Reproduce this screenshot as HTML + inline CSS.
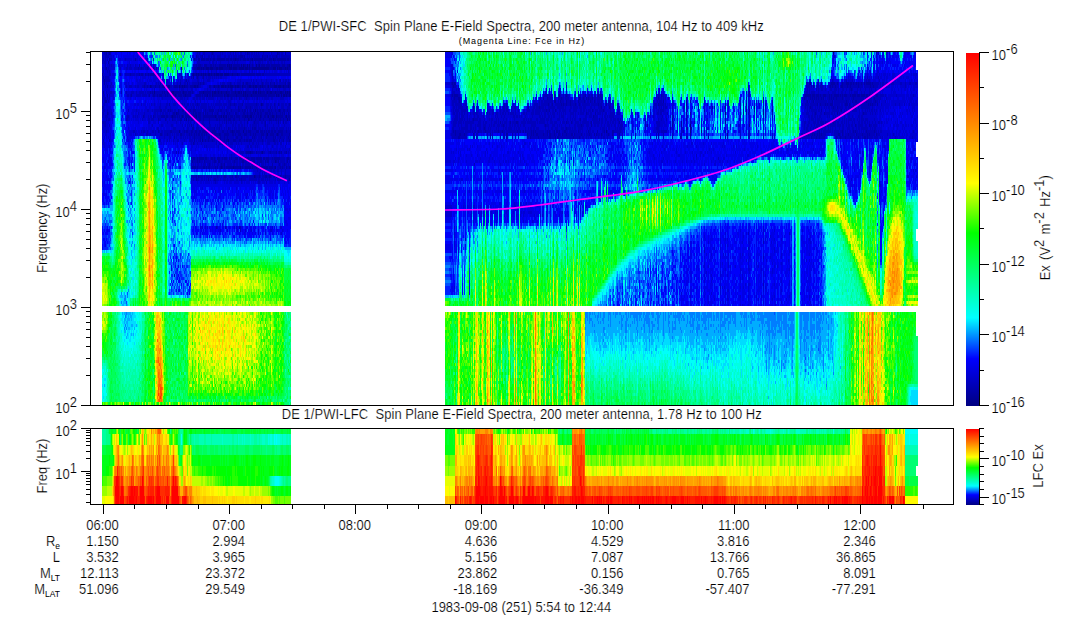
<!DOCTYPE html>
<html><head><meta charset="utf-8"><title>DE 1/PWI Spectra</title>
<style>html,body{margin:0;padding:0;background:#fff}svg{display:block}</style>
</head><body>
<svg width="1083" height="620" viewBox="0 0 1083 620">
<defs>
<linearGradient id="cb" x1="0" y1="0" x2="0" y2="1">
<stop offset="0" stop-color="#ff0000"/>
<stop offset="0.185" stop-color="#ff8000"/>
<stop offset="0.369" stop-color="#ffff00"/>
<stop offset="0.51" stop-color="#00ff00"/>
<stop offset="0.75" stop-color="#00ffff"/>
<stop offset="0.866" stop-color="#0000ff"/>
<stop offset="1" stop-color="#000080"/>
</linearGradient>
</defs>
<rect width="1083" height="620" fill="#fff"/>
<g fill="none" shape-rendering="crispEdges"><path stroke="#000080" stroke-width="1" d="M690.5 124v3m35-15v3m29-9v3"/><path stroke="#000094" stroke-width="1" d="M150.5 85v3m4 3v3m14-9v3m1-3v3m3 3v6m0 18v3m1-27v3m2 0v3m1 15v3m3-30v3m0 42v3m3-48v3m0 27v3m1-27v3m1-9v3m1 6v3m1 21v3m7-48v3m1 9v3m1-3v3m1-15v3m0 39v3m1-51v3m0 15v3m1-21v3m0 3v3m1-9v3m2-3v3m0 3v3m1 63v3m1-75v3m0 3v3m0 15v3m2-21v3m1-9v3m1-3v3m0 24v3m1-30v3m0 3v3m1-3v3m1-9v3m1-3v3m0 3v3m1-9v3m0 21v6m2-24v3m0 9v3m0 3v3m1-3v3m0 21v3m1-51v3m0 3v3m1-9v3m0 3v3m1-3v3m0 9v3m0 3v3m1-27v3m0 63v3m1-69v3m0 3v3m1-9v3m0 3v3m0 9v3m0 3v3m0 21v3m0 48v3m1-102v3m0 3v3m0 9v3m1-3v3m0 27v3m1-45v3m0 18v3m1-24v3m0 9v3m1-15v3m0 15v3m0 21v3m1-54v3m0 6v3m0 18v3m1-24v3m0 9v3m0 6v3m0 42v3m1-78v6m1-3v3m0 15v3m1-24v6m0 15v3m1-15v3m0 9v3m0 42v3m1-66v3m0 96v3m1-102v3m1-12v3m0 6v3m0 15v3m0 3v3m1-27v3m0 24v3m1-24v3m0 9v3m1-3v3m0 3v3m1-27v3m0 21v3m1-27v3m0 96v3m1-105v6m0 21v3m1-27v3m0 15v3m1-24v6m0 21v6m0 33v3m2-66v3m0 21v6m0 18v3m1-51v3m1-6v6m0 24v3m0 18v3m1 0v3m1-57v6m0 15v3m1-3v3m0 27v3m0 33v3m1-60v3m0 18v3m1-60v3m0 6v3m1-3v3m0 15v3m0 3v3m1-27v3m0 105v3m1-111v3m0 15v3m0 3v3m0 15v3m1-48v6m0 15v3m0 3v3m1-27v3m1-3v3m0 21v3m1-30v6m1-3v3m0 15v3m0 3v3m0 21v3m1-51v3m0 33v3m1-39v3m0 15v3m0 63v3m1-87v3m1-3v3m1-3v3m1-3v3m1-3v3m0 21v3m0 39v3m1-69v3m0 15v3m0 27v3m2-27v3m1-3v3m1 21v3m1-60v3m0 6v3m0 45v3m1-51v3m0 15v3m1-21v3m0 15v3m0 3v3m0 66v3m0 3v3m1-84v3m0 6v3m0 18v3m1-51v3m0 63v3m1-51v3m0 6v3m1-30v3m0 15v3m0 21v3m1-45v3m0 15v3m0 3v3m1-27v3m0 21v6m2-12v3m0 6v3m1-3v3m1-30v3m0 21v3m1 0v3m0 18v3m1-51v3m0 21v3m0 24v3m1-36v3m1-24v3m0 24v6m1-3v3m269-3v3m47 33v3m66-15v3m0 3v3m14-27v6m0 6v3m4 12v6m11-3v3m24-27v3m0 12v3m2 9v3m22-12v3m14-15v3m9-6v3m38-30v3m23-33v3"/><path stroke="#0000a8" stroke-width="1" d="M102.5 73v3m0 30v3m1-33v3m0 12v3m1-15v6m1 15v3m1-51v3m0 12v3m0 30v3m1-18v3m0 6v3m0 15v3m1-54v3m1-12v3m0 3v3m11 12v3m10-3v3m1 18v3m4-39v3m3 6v3m1-6v3m0 6v3m2-9v3m0 3v3m1-3v3m1 39v3m1-33v3m1-15v3m2-9v3m0 15v3m1-24v3m0 6v3m1 18v3m1-30v3m0 3v3m0 15v3m1-27v3m0 3v3m0 9v3m1-15v3m0 15v3m1-27v3m0 3v3m0 18v3m0 18v3m1-24v3m1-24v3m0 9v3m1-21v3m1 24v3m1-24v3m0 42v3m0 9v3m1-48v3m0 6v3m1-15v3m0 9v3m0 12v3m0 21v3m1-42v3m0 12v3m0 3v3m0 15v3m1-51v3m0 3v3m0 21v3m1-33v3m0 27v3m1-33v3m0 3v3m0 21v3m1-24v3m0 21v3m1-36v3m0 27v3m1-33v3m0 3v6m0 18v3m0 15v3m1-45v3m0 15v3m1-21v3m0 9v3m1-12v3m0 12v3m0 18v3m1-42v6m0 18v3m0 12v3m1-15v3m1-27v3m0 15v6m1-33v3m0 3v6m0 15v6m0 18v3m1-54v3m0 3v3m0 21v3m1-33v3m0 3v6m1-12v3m0 3v3m0 18v6m1-27v6m0 12v6m1-24v6m0 18v3m1-36v6m0 3v6m0 6v3m0 12v3m0 12v3m1-51v3m0 6v3m0 18v6m0 12v3m1-45v3m0 15v3m1-27v3m0 6v3m0 12v3m0 3v3m1-27v6m0 21v3m0 9v3m1-48v3m0 3v3m0 18v6m1-39v3m0 3v3m0 3v6m0 12v3m0 3v3m0 12v3m1-51v6m0 6v3m0 18v3m0 12v3m1-42v6m0 15v9m1-30v6m0 15v6m0 15v3m1-51v3m0 3v6m0 12v3m0 3v3m1-33v3m0 30v3m0 3v3m0 3v6m0 21v3m1-87v3m0 9v3m0 3v3m0 24v3m0 6v6m0 27v3m0 3v3m1-93v3m0 6v3m0 21v9m0 9v3m0 12v3m0 12v3m0 6v3m1-111v3m0 6v3m0 3v3m0 33v3m0 3v3m0 15v9m0 15v3m0 6v3m1-102v3m0 3v3m0 33v12m0 9v3m0 33v3m1-114v3m0 6v6m0 15v3m0 6v3m0 15v3m0 3v3m0 9v6m0 39v6m1-108v6m0 15v3m0 6v3m0 51v6m0 3v3m1-111v3m0 3v3m0 15v6m0 6v3m0 15v6m0 15v3m0 39v3m1-120v3m0 3v3m0 6v3m0 15v6m0 15v9m0 9v6m0 21v6m1-99v6m0 3v3m0 6v3m0 6v6m0 15v9m0 9v3m0 3v6m0 15v3m1-102v3m0 30v3m0 33v3m0 3v3m0 21v3m1-105v6m0 6v3m0 3v3m0 15v6m0 33v9m0 18v3m1-102v3m0 15v3m0 3v3m0 27v9m0 9v3m0 24v3m0 6v3m1-111v3m0 3v6m0 3v3m0 15v6m0 18v3m0 12v6m0 24v3m0 3v3m1-105v6m0 21v6m0 12v9m0 12v3m0 6v3m0 15v3m1-102v3m0 3v3m0 6v3m0 15v6m0 18v3m0 12v6m0 21v3m0 6v3m1-111v3m0 12v3m0 15v3m0 18v6m1-60v3m0 30v3m0 21v3m0 18v6m0 24v3m0 9v3m1-114v3m0 15v3m0 3v6m0 12v3m0 3v9m0 12v3m0 24v6m1-111v3m0 3v3m0 6v3m0 9v3m0 3v6m0 12v3m0 3v3m1-54v3m0 42v3m0 3v3m0 15v3m0 21v3m0 15v3m1-126v3m0 18v3m0 33v9m0 12v6m0 3v3m0 15v3m1-102v3m0 3v6m0 3v3m0 9v3m0 3v6m0 12v3m0 3v3m0 12v3m1-75v3m0 6v3m0 24v3m0 18v3m0 9v9m0 21v6m0 15v3m1-117v6m0 3v3m0 9v3m0 6v3m0 33v6m0 24v3m0 3v3m0 9v3m1-96v3m0 3v6m0 18v6m0 12v3m1-78v3m0 24v3m0 3v6m0 15v3m0 3v3m0 12v3m0 21v3m0 6v3m0 6v3m1-120v3m0 6v3m0 24v3m0 12v3m0 3v3m0 15v3m0 3v3m0 15v6m1-105v3m0 3v3m0 6v3m0 9v3m0 3v6m0 18v6m0 6v3m0 27v6m1-105v3m0 3v3m0 24v6m0 12v3m0 3v3m0 15v9m0 24v3m1-111v3m0 3v3m0 27v3m0 12v3m0 51v3m1-108v3m0 3v3m0 24v6m0 33v3m0 24v3m0 6v3m1-111v3m0 3v6m0 21v3m0 36v3m1-75v3m0 3v6m0 15v3m0 3v3m0 18v9m0 12v9m0 15v3m0 3v6m0 6v3m1-114v6m0 21v6m0 18v3m0 15v3m0 21v3m0 15v3m1-120v3m0 6v3m0 15v3m0 6v3m0 12v3m0 6v6m0 9v3m0 3v3m0 15v3m0 6v3m1-111v3m0 6v3m0 15v3m0 3v3m0 18v3m0 15v12m0 24v3m1-111v3m0 3v6m0 21v3m0 21v6m0 6v3m0 3v3m0 30v3m1-96v3m0 9v3m0 3v6m0 15v3m0 3v3m0 36v3m0 6v3m1-111v3m0 3v3m0 6v3m0 6v3m0 9v3m0 6v3m0 9v6m0 9v3m0 33v3m1-111v3m0 12v3m0 12v12m0 9v3m0 3v3m0 12v3m0 24v3m0 6v3m1-102v3m0 21v6m0 18v3m0 15v3m0 30v3m0 6v3m1-120v3m0 3v3m0 6v3m0 9v3m0 3v6m0 21v3m0 9v6m0 3v3m1-84v3m0 3v3m0 6v3m0 9v3m0 3v6m0 6v3m0 9v6m0 9v3m0 6v3m0 18v3m0 3v3m1-105v3m0 6v3m0 18v3m0 15v3m0 18v3m0 3v3m0 15v3m0 6v3m0 6v3m1-120v3m0 3v3m0 6v3m0 9v3m0 3v3m0 18v6m0 12v3m0 3v3m0 18v3m0 6v3m0 6v3m1-120v3m0 3v6m0 21v6m0 18v3m0 12v3m0 3v3m0 18v3m0 6v3m1-111v3m0 3v6m0 3v3m0 18v3m0 9v6m0 3v3m0 12v6m0 30v3m1-105v3m0 6v3m0 9v3m0 6v6m0 9v3m0 3v6m0 9v6m0 3v3m0 15v3m0 6v3m1-114v6m0 24v3m0 3v6m0 36v3m0 3v3m0 15v3m1-105v3m0 15v3m0 18v3m0 39v3m0 18v3m0 18v3m1-126v3m0 15v3m0 18v3m0 6v3m0 3v3m0 3v3m0 42v3m0 3v3m1-111v3m0 12v3m0 6v6m0 24v6m0 42v3m1-108v6m0 3v6m0 3v3m0 9v3m0 3v6m0 12v12m0 6v3m0 3v3m0 3v3m1-84v3m0 3v3m0 6v3m0 9v3m0 21v3m0 21v3m0 21v3m0 6v3m1-96v3m0 6v3m0 6v9m0 6v3m0 6v3m0 12v6m0 3v3m0 9v3m0 12v3m1-117v3m0 3v3m0 12v3m0 6v6m0 3v3m0 15v6m0 6v3m0 15v3m0 9v3m0 3v3m0 6v3m1-111v3m0 6v3m0 3v3m0 9v3m0 3v6m0 18v3m0 12v3m0 18v3m0 3v3m0 6v3m1-96v3m0 15v6m0 18v6m0 9v3m0 6v3m0 9v3m0 12v3m1-111v3m0 6v3m0 3v3m0 15v6m0 9v9m0 15v6m0 3v3m0 24v3m1-111v3m0 6v3m0 3v3m0 9v3m0 24v3m0 3v3m0 18v3m0 9v3m0 3v3m1-96v3m0 6v3m0 9v3m0 3v6m0 15v3m0 12v3m0 6v3m0 12v3m0 3v3m0 6v3m1-96v3m0 18v3m0 12v3m0 3v3m0 15v3m0 21v6m1-105v3m0 12v3m0 9v3m0 3v6m0 15v3m0 6v3m0 3v3m0 6v3m0 18v6m1-105v3m0 33v3m0 21v3m0 6v3m0 3v3m0 39v3m1-120v3m0 12v3m0 18v3m0 6v3m0 9v3m0 12v3m0 18v3m0 3v3m0 6v3m1-111v3m0 12v3m0 9v3m0 6v6m0 9v6m0 15v3m0 24v3m1-102v3m0 3v3m0 6v3m0 9v6m0 3v3m0 15v6m0 12v3m0 24v3m1-102v3m0 12v3m0 9v3m0 3v6m0 21v3m0 36v3m0 15v3m1-120v3m0 12v3m0 18v3m0 12v6m0 3v3m0 9v3m0 24v6m0 3v3m1-111v3m0 3v3m0 18v3m0 3v6m0 15v6m0 12v9m0 12v3m0 3v6m0 3v3m1-114v6m0 3v3m0 6v3m0 6v3m0 6v6m0 6v3m0 3v3m0 18v6m0 3v3m0 24v3m1-105v3m0 6v3m0 9v3m0 3v6m0 12v3m0 6v3m0 12v3m0 21v3m0 6v3m1-111v3m0 3v3m0 18v3m0 3v6m0 18v3m0 12v3m0 24v3m0 6v3m1-111v3m0 24v3m0 6v3m0 15v6m0 3v6m0 33v3m0 3v3m0 6v3m1-114v3m0 24v6m0 15v3m0 15v9m0 18v3m0 6v3m0 6v3m1-123v3m0 6v3m0 18v3m0 24v6m0 39v6m0 3v3m1-105v3m0 24v6m0 12v3m0 18v3m0 24v6m1-105v3m0 3v6m0 21v6m0 12v6m0 3v3m0 9v3m0 33v3m0 6v3m1-120v3m0 6v3m0 12v6m0 6v3m0 9v3m0 3v9m0 12v3m0 15v3m0 12v3m0 6v3m1-120v3m0 3v6m0 15v3m0 6v3m0 12v3m0 3v6m0 9v6m0 30v3m1-105v6m0 15v3m0 3v6m0 15v3m0 15v6m0 21v3m0 3v6m1-105v3m0 18v3m0 3v6m0 21v3m0 12v9m1-84v3m0 3v3m0 15v3m0 6v6m0 6v3m0 9v3m0 12v3m0 6v3m0 15v3m0 6v3m1-111v3m0 3v3m0 42v3m0 6v3m0 9v3m0 3v3m0 18v3m1-105v3m0 6v3m0 24v3m0 18v3m0 3v3m0 12v3m0 15v3m0 3v6m0 12v3m1-126v3m0 3v3m0 3v3m0 18v3m0 3v6m0 18v3m0 39v3m1-102v3m0 3v6m0 21v3m0 9v3m0 3v3m0 3v9m0 6v6m0 21v6m1-105v3m0 3v3m0 24v6m0 18v3m0 12v3m0 6v3m0 9v3m0 3v3m0 3v3m1-108v3m0 18v3m0 27v12m0 9v3m0 3v3m0 27v3m0 6v3m1-120v3m0 24v3m0 27v3m0 12v6m0 15v3m1-96v3m0 3v6m0 15v3m0 3v3m0 18v6m0 12v6m0 30v3m1-111v3m0 3v6m0 21v3m0 15v3m0 6v6m0 15v3m1-84v3m0 3v6m0 15v3m0 21v6m0 48v3m1-114v3m0 3v3m0 21v6m0 6v3m0 18v3m0 57v3m1-111v3m0 15v3m0 3v3m0 36v3m0 18v3m0 12v3m1-111v3m0 3v3m0 18v3m0 6v3m0 12v3m0 45v6m1-105v3m0 3v6m0 12v3m0 6v6m0 15v6m0 18v3m0 18v3m1-93v3m0 12v6m0 15v3m0 9v6m0 12v3m0 3v3m0 24v3m0 9v3m1-117v6m0 15v3m0 3v3m0 33v6m0 3v6m0 24v3m162-87v3m0 9v3m1-12v3m0 42v3m1-51v3m0 9v6m1-18v3m0 9v3m0 33v6m1-42v3m1-3v3m1 0v3m0 36v3m1-42v6m0 30v6m1-6v3m4-3v3m9-30v3m0 9v3m0 12v3m5-6v3m6-6v3m1 0v3m5 0v3m8-6v3m2-12v3m2 6v3m1-9v3m3 6v6m1-6v3m3-15v3m2 9v3m4-15v3m1-3v3m0 6v3m3-3v3m3-3v3m2-3v3m2 0v6m1-33v3m2 27v3m1-9v6m2-6v6m2-6v3m1 0v3m1-3v3m1 0v3m1-33v3m4-12v3m0 33v3m2-12v3m1-18v3m1-15v3m0 30v6m1-33v3m1 3v3m0 18v9m1-6v6m2-36v3m2-6v3m0 27v6m1-36v3m0 6v3m0 24v3m1-9v3m1-3v3m0 3v3m1-6v6m1-9v6m1-36v3m1-6v3m0 3v3m1 27v3m1-33v3m1 24v3m1-3v3m1-39v3m0 3v6m0 15v3m0 3v3m0 3v3m4-36v6m1 15v3m0 9v3m1-3v3m1 0v3m1-6v3m1-33v3m3-12v3m0 3v3m0 27v3m1-36v3m0 3v3m0 30v3m1-42v3m0 18v3m1 3v3m0 6v3m2-39v3m1 0v3m1-9v3m1 0v3m0 12v3m2-18v3m0 30v3m1 0v3m1-36v3m1 18v6m1-30v3m0 9v3m1 3v3m1-18v3m0 30v3m1-24v3m1 18v3m1-6v3m1-39v3m0 6v3m1 12v3m1-27v3m1 0v3m0 6v3m0 24v3m2-27v3m1 18v3m2-30v3m2 27v3m1-36v3m0 3v3m3 21v6m1-6v3m6-12v3m0 9v3m28-12v3m11-30v3m0 3v3m0 27v3m3-42v3m2 3v3m7 24v3m2-9v3m0 12v3m8-3v3m1-18v6m5-21v3m0 9v3m4-9v3m0 18v3m1-9v3m7-24v3m6 0v3m4 24v3m4-33v3m13-6v3m0 24v3m0 3v3m15-33v3m3 3v3m3-18v3m0 3v3m0 3v6m3-24v3m0 15v3m5-3v3m9-3v3m37 24v3m4-42v3m1-6v3m1-3v3m1-3v3m0 3v3m1-9v3m0 36v3m1-54v3m0 9v3m1-3v6m0 6v3m1 27v3m1-45v6m0 30v6m1-51v3m0 6v3m0 3v3m1-9v6m0 33v3m1-24v3m1-21v6m0 36v3m1-45v3m0 6v3m0 27v3m1-42v6m1 30v9m1-45v3m0 6v3m1-24v3m0 12v3m0 9v3m0 21v3m2-42v6m1-6v3m0 15v3m1-21v3m0 6v3m2-3v3m2-12v6m1-15v3m0 15v3m1-24v3m0 9v6m0 3v3m1-24v6m0 12v6m1-24v3m0 12v3m0 6v3m0 12v3m1-42v3m0 9v3m1-12v3m0 6v3m1-3v6m0 36v3m1-57v3m0 9v3m0 9v3m0 3v3m1-21v3m0 36v3m1-3v3m1-42v3m0 39v3m1-54v3m0 21v3m1-30v6m0 6v6m0 30v6m2-42v3m1-3v3m0 6v3m0 30v3m1-57v3m0 9v3m0 3v6m1-24v6m0 15v3m1-24v3m0 48v3m1-33v3m1-24v6m0 6v3m0 39v3m1-57v3m0 3v3m1 3v3m0 3v3m1-21v3m0 9v6m0 6v3m0 21v3m1-39v3m1-3v3m0 3v3m0 3v3m0 15v3m0 3v3m1-51v3m0 15v3m0 30v3m1-42v3m1-15v6m0 6v3m0 39v3m1-45v3m2-15v3m0 9v3m1-3v3m0 36v3m1-42v3m0 15v3m1-33v3m0 9v3m0 39v3m1-3v3m1-57v3m0 9v3m0 3v3m0 27v3m1-51v3m0 9v3m0 36v6m1-57v3m0 12v3m0 3v3m1-24v3m0 9v3m0 27v3m0 6v3m1-54v6m0 15v3m1-12v3m1-15v3m0 18v3m1-21v3m1 9v3m0 30v3m1-33v3m1-9v3m0 36v3m1-42v3m0 6v3"/><path stroke="#0000bc" stroke-width="1" d="M102.5 55v9m0 3v3m0 27v6m0 9v6m0 3v3m0 3v3m1-72v3m0 9v3m0 6v3m0 12v3m0 9v9m0 6v3m0 15v3m1-90v3m0 6v3m0 30v12m0 3v3m0 9v6m1-75v18m0 6v6m0 3v3m0 9v3m0 15v3m0 3v6m1-72v3m0 18v9m0 6v3m0 21v6m0 9v3m1-78v6m0 9v3m0 3v6m0 15v3m0 9v3m0 3v3m1-66v6m0 9v3m0 6v6m0 18v3m0 9v3m0 3v3m1-57v3m0 3v6m0 3v3m0 12v6m0 18v3m0 3v3m0 12v3m1-90v3m0 3v3m0 12v3m0 9v3m0 3v3m1-36v3m0 3v3m0 15v3m0 6v3m0 18v3m9-48v3m1 21v3m4-36v3m0 12v3m1-9v3m0 3v3m0 9v3m0 3v3m0 24v3m1-57v6m0 3v3m0 18v3m0 18v6m1-48v3m0 18v3m0 12v3m0 3v3m1-51v3m0 3v3m0 9v3m1-24v6m0 15v3m0 6v3m1-30v3m0 3v3m0 9v3m0 3v3m1-21v3m0 15v3m1-21v3m0 15v3m0 21v3m0 12v3m1-66v3m0 3v3m0 54v3m1-69v6m0 15v3m0 27v3m0 15v3m1-69v3m0 3v3m0 15v6m0 12v3m1-45v3m0 3v3m0 9v3m0 6v3m0 18v3m1-45v3m0 9v3m0 6v3m0 15v3m1-48v3m0 21v6m1-30v3m0 3v3m0 15v6m1-6v3m0 9v3m0 24v3m1-66v3m0 15v3m0 3v6m0 21v3m1-63v3m0 6v3m0 3v3m0 9v3m0 3v6m0 33v3m1-69v3m0 15v3m0 9v3m0 15v6m0 12v3m1-66v3m0 12v6m0 3v6m1-30v3m0 3v3m0 9v3m0 6v3m0 36v3m1-78v3m0 12v3m0 15v3m0 15v3m0 18v6m1-69v3m0 15v3m0 3v6m0 12v3m0 3v9m1-51v3m0 9v3m0 3v3m0 24v6m1-60v3m0 48v3m0 15v3m1-72v3m0 24v3m0 9v3m0 9v6m1-36v3m0 6v3m0 12v3m0 6v3m0 3v3m0 3v3m1-69v3m0 18v3m0 3v3m0 24v3m0 9v3m1-66v3m0 3v3m0 9v6m0 12v3m0 3v9m1-27v6m0 12v9m0 12v6m1-63v3m0 6v6m0 3v6m0 12v3m1-39v3m0 9v3m0 3v3m0 15v9m0 9v3m1-48v6m0 3v6m0 12v3m0 3v3m0 3v3m0 3v3m1-39v3m0 12v6m0 3v6m0 9v3m0 6v3m1-57v3m0 3v3m0 9v6m0 3v9m0 18v3m1-57v3m0 3v3m0 30v3m0 3v3m1-39v6m0 12v3m0 9v3m0 3v6m1-63v3m0 15v6m0 12v6m1-21v3m0 12v3m0 18v9m1-48v3m0 12v12m0 12v6m1-45v6m0 6v6m0 3v3m0 3v3m0 9v6m1-33v3m0 3v6m0 6v3m0 6v3m0 6v3m1-48v3m0 18v3m0 12v6m1-48v3m0 3v3m0 12v12m0 9v12m1-57v3m0 3v3m0 12v3m0 6v3m0 15v6m1-60v3m0 3v3m0 9v3m0 9v3m0 12v3m1-30v3m0 9v6m0 9v3m0 3v6m1-54v6m0 15v3m0 12v3m0 6v6m0 6v3m1-45v3m0 3v3m0 3v3m0 6v3m0 6v9m0 138v3m1-174v3m0 3v6m0 3v3m0 6v6m1-18v3m0 3v3m0 6v9m0 12v3m1-72v3m0 9v6m0 18v3m0 9v6m0 3v3m1-57v3m0 12v3m0 12v6m0 9v6m0 3v3m0 9v3m1-66v3m0 12v3m0 3v6m0 3v3m1-42v3m0 15v3m0 9v9m0 3v3m0 6v3m0 3v3m1-72v3m0 3v6m0 9v6m0 3v3m0 3v12m0 21v3m1-51v3m0 3v6m0 3v3m0 6v3m0 9v3m0 3v6m0 6v3m1-57v3m0 21v3m0 12v12m1-57v3m0 12v3m0 3v3m0 6v3m0 18v3m0 3v3m1-69v3m0 3v6m0 21v6m0 6v3m0 3v3m0 3v3m0 3v3m1-33v3m0 3v3m0 18v3m1-48v6m0 3v3m0 3v3m0 6v3m0 9v6m0 3v6m1-60v3m0 3v3m0 15v3m0 3v3m0 9v3m0 3v9m1-54v6m0 21v3m0 6v3m0 3v3m0 3v3m0 3v6m1-39v3m0 12v6m0 6v12m1-66v3m0 9v6m0 12v12m0 21v6m0 15v9m0 6v6m1-99v3m0 3v3m0 12v3m0 3v9m0 15v9m0 15v3m0 15v3m1-114v6m0 12v3m0 6v3m0 3v3m0 3v6m0 9v3m0 3v3m0 3v9m0 21v6m0 9v6m1-117v3m0 15v3m0 12v3m0 6v3m0 3v3m0 6v3m0 6v3m0 9v3m0 15v3m0 12v3m1-120v3m0 3v3m0 15v3m0 9v3m0 3v6m0 27v6m0 18v9m0 9v3m1-120v3m0 15v3m0 3v3m0 12v3m0 3v9m0 15v3m0 6v6m0 15v6m0 3v3m1-117v6m0 3v6m0 12v6m0 12v3m0 9v12m0 3v15m0 3v3m0 18v3m0 12v3m1-126v3m0 3v3m0 12v6m0 21v9m0 6v3m0 6v6m0 3v6m0 15v12m0 9v3m1-129v3m0 6v3m0 18v6m0 9v3m0 3v3m0 3v3m0 9v3m0 12v6m0 24v3m0 6v3m1-123v3m0 27v3m0 9v6m0 3v6m0 21v3m0 24v3m0 3v3m0 6v3m1-123v3m0 6v3m0 15v3m0 9v3m0 6v18m0 3v3m0 3v3m0 3v3m0 3v3m0 15v9m0 6v6m1-117v3m0 9v3m0 3v3m0 12v3m0 3v6m0 3v12m0 3v3m0 30v3m0 3v3m0 6v6m1-129v3m0 24v3m0 12v6m0 3v9m0 9v9m0 3v9m0 21v3m1-114v6m0 24v3m0 12v3m0 3v9m0 6v3m0 3v3m0 9v6m0 3v3m0 9v3m0 3v3m0 9v6m1-123v3m0 42v6m0 9v3m0 12v3m0 24v9m1-93v3m0 18v3m0 3v12m0 3v3m0 15v6m0 3v3m0 12v3m0 12v6m1-117v3m0 12v3m0 6v3m0 18v3m0 6v3m0 6v15m0 15v12m0 6v3m1-123v3m0 6v3m0 3v3m0 3v6m0 12v6m0 3v12m0 3v3m0 6v9m0 21v9m0 9v3m1-123v12m0 9v6m0 15v3m0 6v3m0 3v3m0 9v12m0 3v3m0 18v3m0 12v3m1-102v3m0 9v3m0 6v3m0 6v3m0 3v3m0 3v3m0 3v12m0 3v3m0 15v12m0 6v6m1-129v9m0 9v3m0 12v3m0 3v9m0 3v3m0 6v3m0 3v3m0 6v6m0 3v6m0 24v3m1-111v9m0 9v3m0 6v3m0 9v3m0 6v3m0 9v3m0 6v3m0 30v9m1-117v6m0 3v3m0 33v3m0 3v3m0 12v3m0 6v3m0 3v9m0 15v6m0 3v3m0 6v6m1-126v3m0 6v3m0 9v3m0 27v3m0 3v3m0 3v3m0 15v6m0 21v6m0 6v3m1-120v3m0 27v3m0 12v3m0 3v6m0 3v3m0 3v3m0 9v3m0 18v3m0 15v3m0 3v3m1-126v9m0 3v3m0 3v3m0 24v3m0 3v6m0 12v6m0 3v9m0 15v3m0 3v3m0 6v6m0 45v3m1-174v3m0 6v3m0 21v3m0 6v3m0 3v3m0 3v3m0 3v3m0 6v6m0 6v3m0 24v3m0 12v3m1-126v3m0 6v3m0 9v3m0 9v3m0 12v3m0 6v3m0 3v3m0 6v6m0 3v3m0 6v3m0 15v3m0 9v6m1-126v3m0 30v3m0 9v12m0 9v6m0 3v3m0 3v9m0 21v3m0 6v3m1-126v6m0 3v3m0 12v3m0 3v6m0 9v3m0 3v3m0 12v3m0 3v3m0 3v3m0 9v3m0 12v9m0 12v3m1-105v3m0 18v3m0 3v3m0 6v3m0 3v3m0 3v21m0 12v6m0 12v3m1-126v3m0 27v3m0 12v3m0 6v18m0 9v12m0 15v6m1-93v3m0 6v3m0 9v3m0 6v3m0 3v6m0 3v3m0 12v12m0 12v3m0 3v6m0 6v6m1-126v3m0 24v3m0 12v3m0 3v9m0 9v3m0 3v6m0 27v3m0 15v3m1-126v6m0 36v3m0 3v3m0 3v3m0 6v3m0 9v3m0 3v9m0 15v3m0 3v3m0 9v3m0 45v3m1-165v3m0 36v3m0 6v3m0 9v9m0 3v3m0 3v3m0 15v3m0 12v3m1-96v3m0 3v3m0 6v3m0 6v6m0 3v6m0 36v9m0 12v3m1-126v3m0 3v3m0 18v3m0 12v18m0 6v3m0 6v3m0 3v3m0 3v3m0 15v6m1-111v6m0 21v3m0 15v9m0 6v3m0 9v15m0 18v6m0 9v3m1-126v3m0 33v6m0 3v6m0 3v9m0 6v3m0 3v3m0 3v12m0 12v9m0 9v6m1-126v3m0 24v3m0 18v3m0 6v3m0 3v6m0 9v12m0 9v3m0 6v3m0 9v6m1-123v9m0 21v3m0 6v3m0 3v3m0 3v6m0 3v3m0 3v6m0 6v9m0 12v6m0 15v3m1-129v6m0 45v3m0 3v9m0 3v6m0 9v3m0 18v9m0 12v3m1-126v3m0 3v3m0 18v3m0 12v3m0 9v3m0 15v3m0 3v3m0 21v3m0 3v3m1-114v6m0 30v3m0 12v9m0 3v18m0 3v3m0 21v3m1-108v3m0 39v3m0 3v3m0 3v3m0 6v6m0 3v3m0 3v3m0 3v6m0 6v3m0 6v6m0 12v3m1-120v3m0 18v3m0 24v6m0 3v3m0 12v3m0 3v3m0 9v3m0 6v6m0 9v6m1-126v3m0 24v3m0 18v3m0 6v3m0 3v3m0 3v6m0 6v9m0 30v3m1-123v6m0 21v3m0 18v6m0 15v6m0 6v3m0 12v3m0 6v6m0 12v3m0 45v3m1-177v3m0 9v3m0 6v3m0 3v6m0 3v3m0 6v3m0 3v21m0 3v6m0 3v3m0 12v3m0 6v6m0 12v3m0 45v6m1-180v3m0 3v3m0 24v3m0 9v3m0 3v33m0 3v6m0 6v3m0 6v3m0 3v3m0 6v3m0 3v3m1-126v3m0 3v3m0 15v3m0 3v6m0 18v3m0 3v3m0 3v18m0 9v3m0 3v3m0 3v3m0 9v6m1-126v3m0 42v3m0 6v3m0 6v3m0 6v3m0 3v3m0 3v3m0 9v3m0 3v3m0 3v6m0 6v6m1-84v3m0 21v6m0 3v3m0 3v3m0 18v6m0 3v3m0 6v6m1-129v3m0 27v3m0 12v3m0 3v6m0 3v3m0 3v3m0 6v6m0 6v3m0 9v3m0 6v6m0 9v6m1-123v3m0 3v3m0 18v6m0 12v3m0 6v3m0 3v3m0 6v3m0 6v3m0 18v9m0 9v3m1-123v3m0 30v3m0 6v3m0 3v6m0 9v3m0 3v3m0 3v9m0 6v3m0 15v3m0 9v3m1-126v3m0 9v3m0 15v3m0 3v3m0 6v3m0 3v6m0 3v3m0 12v3m0 3v9m0 3v3m0 12v6m1-114v9m0 9v3m0 9v3m0 12v3m0 3v12m0 18v3m0 6v3m0 12v9m0 9v6m1-120v6m0 15v3m0 18v3m0 12v3m0 3v6m0 15v3m0 9v6m0 12v6m1-129v6m0 6v3m0 12v3m0 9v3m0 9v9m0 18v6m0 9v3m0 12v9m0 6v6m1-129v3m0 6v3m0 6v3m0 9v3m0 12v3m0 3v6m0 6v6m0 3v3m0 3v6m0 6v3m0 15v6m0 9v6m1-126v6m0 3v3m0 12v6m0 3v3m0 12v3m0 6v3m0 3v15m0 3v9m0 6v3m0 12v3m0 6v6m1-129v6m0 24v3m0 3v3m0 6v3m0 3v9m0 3v6m0 3v3m0 3v6m0 3v3m0 9v3m0 12v3m0 9v3m1-126v3m0 3v6m0 6v3m0 27v6m0 3v6m0 3v6m0 3v3m0 3v6m0 3v3m0 9v3m0 3v6m0 9v3m1-129v6m0 21v3m0 6v3m0 6v3m0 6v9m0 3v12m0 3v6m0 3v3m0 18v3m0 9v6m1-126v3m0 6v3m0 15v3m0 6v3m0 9v6m0 6v9m0 9v3m0 3v3m0 3v3m0 3v3m0 6v12m0 3v3m1-126v6m0 3v3m0 18v3m0 18v3m0 3v3m0 6v12m0 3v12m0 6v3m0 6v3m0 3v3m0 6v9m1-129v3m0 3v3m0 24v3m0 6v3m0 6v12m0 9v3m0 3v9m0 9v3m0 6v9m0 3v3m0 3v6m1-123v6m0 21v3m0 12v3m0 21v3m0 3v9m0 9v3m0 15v3m0 3v3m1-105v3m0 3v6m0 21v6m0 6v6m0 15v3m0 21v3m0 12v3m1-120v3m0 33v3m0 12v12m0 3v3m0 12v3m0 15v6m0 6v9m1-129v9m0 21v3m0 3v3m0 12v3m0 6v6m0 12v3m0 3v6m0 9v3m0 6v6m0 9v6m1-126v3m0 12v6m0 21v3m0 9v6m0 3v9m0 6v3m0 15v3m0 18v6m1-123v3m0 6v3m0 6v3m0 6v3m0 3v6m0 3v3m0 9v3m0 6v3m0 6v15m0 15v3m0 3v3m0 12v3m1-126v6m0 12v3m0 3v12m0 6v3m0 3v9m0 3v6m0 39v3m0 18v3m1-126v6m0 9v3m0 6v3m0 3v3m0 3v6m0 3v9m0 6v3m0 3v9m0 3v9m0 30v6m1-123v6m0 9v3m0 6v3m0 3v3m0 6v3m0 3v3m0 6v3m0 3v3m0 12v12m0 6v3m0 9v6m0 6v3m1-123v3m0 15v3m0 9v6m0 24v3m0 3v3m0 3v3m0 3v12m0 6v3m0 3v3m0 18v3m1-126v3m0 3v6m0 6v3m0 27v3m0 3v3m0 18v3m0 3v6m0 15v3m0 9v3m1-120v3m0 6v3m0 9v3m0 3v6m0 12v3m0 3v3m0 6v3m0 6v3m0 3v3m0 6v6m0 9v3m0 3v6m0 6v3m0 3v3m1-123v6m0 12v3m0 6v3m0 3v3m0 6v3m0 6v6m0 6v3m0 6v3m0 6v6m0 3v3m0 3v3m0 6v3m1-108v3m0 15v3m0 6v3m0 24v6m0 9v9m0 18v3m0 3v6m0 3v6m0 3v3m1-123v3m0 3v3m0 9v3m0 30v9m0 3v3m0 6v3m0 3v6m0 3v3m0 6v3m0 6v3m0 6v3m0 3v3m1-123v3m0 15v3m0 18v3m0 6v6m0 3v6m0 15v3m0 3v6m0 6v3m0 24v3m1-123v3m0 6v3m0 3v3m0 3v6m0 24v3m0 9v3m0 3v6m0 6v3m1-87v3m0 15v3m0 6v3m0 3v3m0 15v9m0 3v3m0 6v6m0 3v9m0 15v3m0 3v6m0 3v6m1-129v3m0 6v3m0 9v3m0 36v3m0 9v3m0 9v3m0 12v3m0 9v9m0 3v6m1-129v6m0 15v3m0 3v6m0 3v3m0 12v3m0 6v3m0 3v3m0 6v3m0 3v6m0 27v3m0 6v6m1-117v3m0 6v3m0 6v3m0 9v6m0 21v3m0 3v3m0 3v3m0 6v3m0 6v3m0 3v9m0 12v3m1-129v6m0 3v6m0 6v3m0 6v3m0 12v3m0 3v12m0 3v3m0 6v3m0 6v9m0 12v6m0 3v12m1-126v6m0 3v3m0 9v3m0 6v3m0 9v6m0 3v9m0 6v3m0 6v3m0 6v6m0 15v9m0 12v3m1-126v3m0 15v3m0 3v6m0 3v3m0 6v3m0 3v6m0 3v6m0 9v12m0 18v12m0 6v6m1-126v3m0 3v3m0 9v3m0 6v3m0 3v6m0 21v6m0 3v3m0 3v9m0 12v3m0 3v6m0 3v3m0 6v6m1-126v3m0 6v3m0 6v3m0 3v3m0 6v3m0 12v3m0 3v3m0 6v6m0 6v6m0 9v3m0 3v3m0 9v3m0 3v6m0 3v3m1-126v6m0 3v3m0 6v3m0 3v3m0 21v3m0 3v6m0 3v6m0 3v3m0 3v12m0 12v9m0 9v3m1-123v3m0 15v3m0 6v3m0 21v3m0 6v3m0 12v12m0 24v3m0 6v3m1-123v3m0 12v6m0 3v3m0 21v9m0 6v3m0 6v9m0 3v3m0 9v3m0 9v6m0 6v6m1-126v6m0 12v3m0 12v3m0 15v9m0 15v3m0 3v3m0 9v3m0 6v6m0 12v3m1-126v3m0 3v3m0 21v3m0 18v3m0 3v3m0 3v9m0 9v3m0 9v3m0 3v3m0 3v9m0 9v3m161-96v3m0 9v6m0 33v3m1-66v9m0 6v9m0 6v6m0 21v12m1-57v3m0 6v24m0 6v9m0 3v6m1-54v3m0 3v3m0 6v3m0 3v3m0 3v3m0 3v9m0 3v9m1-54v3m0 9v9m0 3v3m0 3v12m0 9v3m1-51v3m0 6v27m0 6v9m1-42v3m0 3v3m0 3v12m0 9v9m1-54v6m0 3v3m0 3v12m0 9v6m0 3v6m1-42v3m0 6v6m0 3v12m0 3v6m1-36v12m0 9v6m0 6v3m0 3v3m1-36v36m1-33v15m0 6v12m1-30v3m0 3v3m0 3v3m0 3v12m1-30v6m0 3v3m0 6v3m0 6v3m1-42v3m0 3v3m0 3v3m0 9v18m0 99v3m1-138v6m0 12v18m1-30v24m1-12v3m0 6v3m1-15v6m0 6v3m1-21v3m0 6v12m1-12v9m1-12v6m0 6v3m1-30v3m0 3v6m0 6v3m0 3v3m0 6v3m1-27v9m0 9v9m0 24v3m1-48v3m0 3v9m1-21v3m0 3v3m0 12v6m1-33v3m0 3v9m0 3v3m0 3v6m1-21v3m0 3v6m1-9v15m1-15v15m1-3v3m2-18v3m0 3v12m1-15v3m0 3v3m0 3v3m1-12v9m1-9v3m0 6v3m1-24v6m0 15v6m1-9v6m1-21v3m0 3v3m0 3v3m0 3v3m1-6v6m0 3v3m1-21v9m1-18v6m0 3v3m0 9v9m1-27v3m0 9v3m1-6v6m0 3v3m1-18v3m0 3v3m0 6v3m1-21v3m0 3v6m0 3v6m1-21v6m0 6v3m0 3v3m1-15v12m1-6v3m0 3v3m1-27v9m0 15v9m1-24v3m0 6v3m0 3v3m1-21v3m0 6v6m1-21v9m0 3v3m0 6v12m1-36v9m0 3v3m0 3v6m0 3v9m1-27v3m0 6v3m0 3v3m1-27v9m0 6v15m1-27v6m0 18v3m0 3v3m1-27v3m0 12v6m1-12v12m1-21v3m0 9v9m1-24v6m0 12v6m1-21v3m0 6v6m0 3v3m0 3v3m1-27v6m0 3v3m0 6v3m1-27v3m0 6v18m1-27v9m0 6v6m0 3v9m1-24v3m0 9v6m1-18v3m0 6v3m1-18v3m0 9v18m1-24v3m0 9v6m1-9v3m1-12v3m0 3v3m1-3v3m0 6v3m1-21v3m0 3v9m1-15v3m0 3v9m1-12v3m0 3v3m0 3v3m1-18v3m0 3v3m0 9v3m1-27v6m0 9v3m0 6v3m1-24v3m0 6v6m0 3v12m1-30v3m0 9v3m0 6v6m1-18v6m0 3v9m1-24v3m0 3v12m0 6v3m1-30v9m0 3v6m0 3v9m1-33v9m0 6v9m0 6v3m1-36v6m0 12v18m1-36v3m0 3v6m0 6v6m0 6v6m1-42v3m0 3v12m0 3v3m0 6v6m0 3v3m1-36v12m0 3v6m0 3v6m0 3v3m1-33v9m0 12v9m1-36v6m0 3v9m0 3v3m0 6v9m1-42v3m0 6v6m0 3v9m0 6v9m1-39v9m0 3v3m0 3v6m0 6v9m1-39v12m0 3v9m0 6v9m1-45v3m0 6v9m0 6v6m0 6v3m0 3v3m1-45v3m0 3v6m0 3v18m0 6v6m1-45v3m0 3v18m0 9v12m1-45v3m0 3v6m0 12v3m0 3v3m0 3v9m1-45v3m0 3v6m0 3v6m0 3v9m0 9v3m1-42v6m0 3v15m0 3v9m0 3v3m1-45v15m0 6v3m1-21v6m0 3v3m0 3v3m0 3v6m0 6v3m1-39v15m0 6v9m0 3v3m0 3v6m1-39v3m0 3v9m0 6v18m1-33v12m0 6v3m0 3v9m1-45v6m0 6v3m0 3v6m0 3v6m0 9v3m1-42v3m0 3v3m0 15v3m0 3v3m0 3v3m1-33v3m0 3v3m0 9v3m0 3v3m0 3v3m1-33v6m0 3v3m0 3v3m0 3v6m1-36v15m0 9v3m0 9v3m1-36v3m0 3v18m0 3v3m0 9v3m1-48v9m0 3v9m0 9v3m0 9v6m1-39v3m0 3v3m0 3v6m0 6v6m0 6v3m1-42v15m0 3v3m0 3v3m0 3v6m0 3v3m1-45v9m0 3v18m0 3v12m1-36v3m0 3v3m0 9v3m0 9v6m1-45v6m0 3v12m0 9v6m0 3v6m1-54v3m0 9v3m0 30v3m0 3v3m1-45v12m0 12v6m0 3v12m1-42v9m0 15v3m0 3v3m0 3v6m1-39v6m0 3v3m0 12v15m1-33v15m0 6v12m1-39v9m0 3v3m0 15v3m0 3v3m1-39v6m0 6v3m0 3v6m0 3v6m0 3v3m1-36v15m0 12v3m1-36v15m0 6v3m0 3v9m0 3v3m1-45v9m0 3v33m1-36v9m0 9v3m0 6v9m1-33v3m0 12v6m0 6v6m1-42v3m0 3v3m0 6v3m0 6v9m0 3v6m1-39v3m0 3v3m0 9v3m0 3v12m1-42v3m0 3v15m0 6v18m1-39v3m0 3v9m0 12v3m1-33v9m0 6v3m0 6v18m1-45v3m0 3v15m0 3v9m0 9v3m1-45v6m0 3v9m0 6v6m0 9v3m1-36v9m0 6v9m1-21v3m0 3v3m0 3v12m0 3v9m1-42v9m0 6v3m0 6v9m0 3v3m1-42v3m0 3v6m0 3v6m0 6v6m0 6v6m1-45v6m0 3v3m0 3v3m0 3v3m0 9v6m1-36v3m0 6v12m0 3v3m0 3v12m1-45v15m0 3v6m0 15v6m1-45v3m0 3v6m0 12v3m0 9v3m1-30v3m0 3v3m0 6v6m0 6v3m1-39v6m0 3v6m0 6v12m1-33v12m0 3v3m0 3v12m0 9v3m1-36v3m0 3v3m0 3v9m1-30v12m0 3v18m0 6v3m1-39v6m0 3v3m0 3v3m0 6v6m0 6v6m1-42v18m0 6v3m0 9v3m1-39v3m0 3v12m0 12v3m1-36v3m0 3v6m0 3v3m0 6v9m0 9v3m1-42v6m0 6v15m0 3v9m1-9v6m0 3v3m1-33v6m0 3v3m0 6v6m0 3v6m1-36v3m0 6v12m1-12v3m0 3v3m0 6v3m0 3v3m1-21v3m0 3v6m0 3v9m1-39v6m0 15v9m1-27v3m0 9v3m0 6v6m0 3v3m1-33v21m1-12v9m0 3v3m1-21v3m0 3v6m0 3v3m1-21v21m0 9v3m1-24v3m0 3v3m0 3v3m0 3v3m1-15v15m1-3v3m1-27v3m0 3v3m0 3v3m0 6v12m1-33v9m0 3v9m0 3v6m1-24v3m0 12v6m0 3v3m1-21v3m0 3v9m1-12v9m1-6v3m0 6v3m13-3v3m10-18v12m5-18v3m0 21v3m3-33v3m0 6v3m1-15v3m1-3v3m1-12v6m0 3v6m0 12v3m0 3v3m0 3v6m1-39v3m0 9v3m0 6v12m1-39v3m0 12v6m0 3v15m0 3v3m1-45v15m0 12v6m0 3v3m1-33v6m0 3v6m1-18v18m0 3v3m0 9v3m1-39v3m0 6v3m0 3v3m0 3v3m0 12v3m1-39v6m0 3v9m0 18v9m1-9v3m1-36v3m0 3v6m0 21v3m1-27v3m0 9v3m0 9v3m1-21v3m1-18v3m4-3v6m0 3v12m0 9v3m0 3v3m1-21v3m0 3v3m8 3v3m0 3v6m2-9v3m1-27v3m2 0v3m0 3v3m0 3v3m0 3v3m0 6v3m1-12v3m0 6v3m3-39v3m0 15v6m0 12v3m4-18v3m2 30v3m2-33v3m6-27v3m0 27v3m0 117v3m3-150v3m7 0v3m4 48v3m2-24v3m0 147v3m5-174v6m2 15v3m1-36v3m2 18v3m9-9v3m1-24v3m0 3v3m0 6v6m0 18v3m3-36v3m0 3v3m3-21v3m2-6v9m0 9v3m0 3v3m0 18v6m0 93v3m0 12v3m1-156v3m0 18v9m0 6v9m7-21v3m7-24v6m0 3v3m0 27v3m0 102v3m0 12v3m0 24v3m2-183v6m0 3v6m7-18v6m0 6v6m0 18v3m2-3v3m15 93v3m10-99v3m2-6v3m1-33v3m0 27v6m1-3v3m1-45v3m0 24v9m0 3v6m1-42v3m0 3v6m0 12v3m0 9v6m1-57v6m0 3v3m0 3v9m0 6v3m0 12v12m1-57v12m0 9v12m0 9v15m1-54v3m0 9v3m0 3v3m0 6v6m0 3v6m0 3v3m0 3v3m1-54v9m0 3v6m0 3v6m0 3v9m0 9v6m1-36v3m0 21v9m1-51v3m0 3v21m0 3v6m0 3v3m0 3v6m1-45v3m0 6v21m0 15v3m1-48v3m0 3v3m0 3v3m0 3v3m0 6v6m0 3v12m1-54v3m0 3v3m0 9v3m0 3v9m0 3v6m0 9v3m1-45v18m0 3v9m0 3v3m0 3v6m1-51v3m0 9v6m0 3v6m0 9v6m0 3v3m1-54v6m0 9v6m0 3v3m0 6v18m0 3v3m1-57v12m0 6v3m0 6v3m0 6v9m0 3v9m1-45v18m0 3v6m0 3v3m1-42v3m0 9v6m0 9v6m0 3v3m0 3v3m0 3v6m1-54v6m0 3v3m0 3v9m0 3v3m0 3v15m0 3v3m1-54v6m0 3v12m0 15v9m0 3v6m1-39v6m0 15v6m0 3v9m1-39v9m0 18v12m1-54v6m0 6v6m0 6v6m0 6v15m1-42v3m0 3v9m0 3v3m0 6v3m0 6v3m1-39v6m0 12v6m0 3v6m0 3v3m1-42v18m0 3v3m0 6v12m1-48v3m0 12v18m0 3v3m0 6v3m1-51v3m0 3v3m0 3v9m0 18v12m1-57v3m0 6v6m0 9v3m0 3v3m0 3v3m0 9v3m1-48v3m0 9v9m0 6v9m0 3v15m1-48v3m0 3v6m0 12v3m0 3v6m0 3v3m1-42v9m0 3v18m0 6v6m0 3v6m1-54v3m0 3v6m0 3v15m0 3v3m0 3v18m1-57v9m0 9v6m0 3v3m0 6v3m0 9v6m1-51v3m0 9v9m0 3v3m0 9v6m0 3v9m1-57v12m0 3v15m0 9v6m0 3v3m1-39v15m0 3v9m0 3v6m0 6v3m1-54v3m0 9v6m0 3v6m0 3v3m0 6v3m0 3v6m1-54v3m0 6v18m0 12v3m0 6v3m0 3v3m1-51v6m0 6v9m0 9v12m0 6v3m1-57v9m0 3v9m0 9v3m0 9v15m1-57v6m0 12v6m0 3v3m0 3v9m0 12v3m1-57v6m0 3v3m0 3v6m0 3v3m0 3v3m0 15v6m1-57v3m0 3v6m0 6v3m0 6v6m0 6v9m0 6v6m1-45v9m0 9v3m0 12v12m1-54v3m0 6v9m0 3v3m0 3v18m0 6v3m1-57v18m0 6v3m0 3v9m0 3v15m1-51v3m0 9v12m0 6v3m0 9v6m1-51v3m0 3v9m0 6v3m0 9v3m0 3v3m0 6v6m1-60v12m0 6v3m0 6v6m0 3v3m0 3v18m1-54v3m0 12v6m0 3v3m0 6v3m0 6v3m0 3v3m1-54v6m0 3v3m0 3v15m0 6v6m0 6v9m1-57v6m0 3v3m0 3v3m0 3v3m0 3v3m0 24v3m1-54v3m0 3v9m0 3v3m0 3v3m0 12v9m0 3v3m1-57v12m0 3v9m0 12v3m0 9v9m1-42v12m0 6v3m0 3v9m0 3v3m1-54v6m0 9v9m0 3v30m1-57v9m0 3v12m0 18v3m0 6v6m1-54v3m0 3v3m0 3v12m0 6v21m1-54v6m0 9v33m0 6v3m1-42v12m0 9v3m0 6v12m1-54v3m0 3v3m0 6v9m0 3v3m0 6v3m0 3v3m0 3v3m1-54v9m0 3v21m0 3v18m1-57v3m0 3v3m0 9v3m0 3v6m0 3v3m0 3v3m0 3v6m0 3v6m1-63v3m0 6v3m0 9v15m0 6v6m0 3v6m1-54v3m0 3v3m0 6v3m0 3v3m0 3v3m0 21v9m1-60v3m0 3v9m0 3v15m0 9v3m0 6v3m0 3v3m1-48v12m0 9v3m0 9v15m1-57v9m0 6v9m0 3v3m0 12v3m0 3v9m1-54v3m0 3v6m0 9v9m0 6v3m0 3v12m1-57v3m0 12v9m0 18v3m0 3v6m1-54v6m0 12v6m0 3v3m0 6v3m0 3v6m0 3v6m1-57v9m0 3v6m0 3v3m0 6v3m0 6v12m0 3v3m1-87v3m0 27v6m0 9v6m0 6v3m0 12v3m0 3v3m0 3v3m1-57v6m0 9v6m0 30v6m1-63v3m0 3v3m0 9v6m0 21v3m0 6v6m1-57v3m0 12v9m0 18v3m0 9v3m1-54v6m0 6v6m0 9v3m0 18v3m0 3v3m1-45v3m0 6v3m0 15v3m0 6v3m1-51v6m0 6v3m0 39v3m1-57v3m0 9v3m2-3v3m0 3v3m1-21v6m0 9v3m1-18v3m0 48v3m2-54v3m2-3v3m1-3v3m1-3v3m0 48v3m2-33v3m0 30v3m1-45v3m3 6v3m1-24v3m1-3v3m3 18v3m1-24v6m4-6v3m0 18v3m1-24v3m2 51v3m1-45v3m0 33v3m2-51v3m1-3v3"/><path stroke="#0000d1" stroke-width="1" d="M102.5 52v3m0 15v3m0 3v21m0 6v3m0 3v3m0 12v3m0 6v6m0 3v3m1-93v6m0 3v3m0 3v3m0 3v3m0 6v9m0 6v3m0 3v3m0 9v6m0 3v9m0 9v3m1-90v6m0 3v6m0 3v6m0 6v9m0 12v3m0 3v9m0 6v6m0 3v3m0 3v6m0 18v3m1-99v6m0 6v3m0 3v3m0 12v3m0 3v6m0 3v3m0 6v9m1-78v6m0 6v6m0 9v6m0 3v6m0 3v12m0 6v9m0 3v6m1-87v3m0 9v6m0 3v3m0 6v3m0 3v6m0 6v9m0 9v15m1-69v3m0 3v6m0 6v12m0 3v3m0 6v6m0 3v3m0 3v3m0 3v6m0 3v3m0 21v3m1-108v3m0 3v3m0 3v3m0 6v3m0 6v9m0 6v3m0 3v12m0 27v3m1-93v3m0 6v9m0 6v6m0 9v3m0 9v9m0 3v3m0 6v3m0 3v9m1-87v3m0 9v3m0 15v3m0 6v3m0 12v3m0 3v3m1-54v6m0 3v3m0 9v3m0 3v6m0 18v6m1-66v3m0 6v6m0 3v3m0 9v3m0 3v9m1-42v3m0 6v3m5-12v3m0 3v6m0 3v3m1-18v3m0 3v3m1-3v3m0 6v3m0 12v3m1-27v3m2-9v3m0 3v6m1-3v3m0 12v6m0 3v3m1-36v3m0 21v3m0 9v3m0 6v3m0 9v3m1-60v3m0 24v3m0 3v3m0 18v3m0 21v3m1-81v3m0 3v6m0 12v6m0 3v3m0 24v3m0 6v3m0 9v3m1-84v9m0 24v6m0 18v6m0 9v6m0 27v3m1-108v3m0 30v3m0 3v3m0 30v6m1-78v3m0 3v3m0 45v3m0 3v3m0 9v6m1-72v6m0 12v6m0 6v3m0 12v9m0 12v3m1-78v6m0 3v6m0 15v3m0 6v3m0 12v6m0 3v3m0 12v3m1-78v3m0 24v3m0 3v6m0 6v3m0 3v3m0 3v3m1-45v3m0 15v9m0 3v3m0 3v6m0 3v3m0 6v6m1-75v3m0 3v3m0 9v6m0 3v3m0 24v9m0 9v6m1-81v6m0 3v3m0 12v6m0 6v3m0 9v3m0 3v3m0 6v3m0 12v3m1-54v3m0 6v3m0 9v3m0 3v3m0 3v9m0 6v3m1-75v3m0 18v9m0 21v9m0 12v6m1-81v6m0 15v12m0 24v3m0 3v3m0 12v3m1-78v3m0 3v3m0 15v9m0 3v3m0 12v9m0 15v3m1-60v9m0 24v9m0 9v9m1-72v3m0 9v3m0 3v3m0 18v3m0 6v3m0 3v3m0 6v3m0 3v3m1-69v3m0 3v6m0 9v6m0 9v3m0 3v3m0 6v3m0 6v3m1-72v3m0 3v3m0 9v3m0 21v21m0 9v3m1-75v3m0 3v3m0 15v3m0 3v6m0 12v12m0 9v6m1-72v6m0 12v3m0 12v3m0 6v3m0 6v9m1-45v3m0 3v3m0 27v3m0 9v12m1-57v3m0 21v15m0 6v6m0 3v3m1-60v6m0 12v3m0 9v9m0 3v6m0 3v6m1-54v3m0 12v6m0 9v3m0 12v12m1-54v3m0 3v3m0 12v3m0 27v3m1-60v6m0 15v3m0 3v3m0 3v6m0 6v3m0 3v3m0 3v3m1-72v3m0 9v6m0 15v6m0 3v3m0 9v6m0 3v9m1-60v9m0 18v6m0 9v6m1-48v3m0 27v3m0 3v9m0 6v9m1-60v3m0 3v3m0 12v3m0 3v6m0 9v3m0 9v6m1-69v3m0 6v6m0 15v12m0 3v3m0 18v3m1-63v3m0 3v6m0 3v3m0 6v3m0 3v3m0 6v3m0 9v3m0 6v6m1-51v3m0 9v3m0 21v9m0 3v3m0 3v3m1-63v3m0 3v3m0 6v3m0 3v6m0 3v3m0 3v6m0 3v3m0 6v3m0 3v3m1-72v3m0 3v6m0 3v3m0 12v9m0 6v6m0 12v3m0 9v3m1-75v3m0 3v3m0 3v3m0 6v3m0 3v6m0 9v27m1-57v3m0 6v3m0 3v6m0 3v3m0 3v6m0 3v3m0 9v3m1-45v3m0 3v3m0 15v6m0 9v3m1-60v6m0 3v3m0 6v3m0 9v3m0 9v9m0 6v9m1-66v6m0 12v6m0 3v3m0 9v3m0 3v6m0 6v3m1-57v3m0 3v3m0 6v3m0 3v6m0 3v3m0 3v12m0 6v3m1-57v3m0 12v3m0 6v3m0 12v9m1-42v3m0 6v9m0 6v3m0 3v9m1-51v3m0 3v3m0 3v3m0 12v6m0 3v3m0 3v6m0 3v3m0 3v9m1-57v6m0 9v9m0 12v3m0 3v3m1-51v3m0 6v3m0 6v3m0 6v6m0 9v6m0 6v6m0 3v3m1-63v3m0 3v3m0 9v3m0 3v3m0 12v3m0 15v3m1-54v3m0 6v3m0 6v3m0 12v3m0 9v12m1-63v3m0 3v3m0 6v3m0 3v9m0 6v3m0 3v6m0 9v3m1-66v3m0 9v3m0 12v9m0 9v9m0 6v3m0 3v6m1-69v6m0 12v3m0 3v3m0 15v9m0 6v3m1-66v3m0 6v3m0 12v6m0 21v6m0 3v6m1-66v3m0 12v3m0 9v3m0 3v3m0 15v6m0 9v3m0 24v3m1-90v6m0 36v12m0 6v6m1-69v9m0 15v3m0 3v3m0 9v6m0 3v3m0 6v6m1-60v3m0 12v12m0 9v6m0 15v3m1-63v3m0 6v3m0 9v3m0 6v3m0 3v3m0 6v6m0 6v3m1-63v3m0 9v3m0 6v9m0 15v3m0 9v3m0 3v3m1-60v3m0 3v3m0 6v9m0 15v3m0 3v3m0 6v6m1-69v3m0 3v3m0 24v6m0 6v6m1-48v3m0 3v3m0 3v3m0 6v3m0 6v3m0 15v3m0 9v3m1-63v6m0 6v3m0 15v3m0 12v3m0 3v3m1-48v3m0 3v3m0 15v3m0 3v3m0 9v6m0 12v3m1-72v3m0 6v3m0 9v3m0 3v6m0 15v3m0 3v3m0 6v3m0 6v9m0 27v3m1-108v6m0 15v3m0 6v3m0 15v3m0 15v6m0 15v3m0 12v3m1-126v6m0 18v3m0 39v3m0 15v3m1-63v3m0 9v6m0 3v6m0 12v3m0 6v3m0 33v3m0 12v3m1-111v3m0 6v3m0 6v3m0 6v3m0 39v6m0 3v3m0 27v3m1-129v3m0 15v3m0 6v3m0 6v3m0 30v6m0 15v6m0 6v3m0 6v3m1-108v3m0 30v3m0 6v3m0 3v3m0 12v3m0 15v3m0 33v3m0 3v3m1-132v3m0 36v3m0 3v3m0 24v3m0 15v6m1-93v3m0 12v3m0 3v6m0 24v3m0 18v3m0 12v3m0 9v3m0 6v3m0 12v3m1-129v3m0 3v6m0 6v3m0 3v3m0 24v3m0 15v9m0 12v3m0 9v3m0 6v3m0 12v6m0 42v3m1-168v3m0 6v3m0 3v6m0 3v3m0 9v3m0 21v3m0 15v3m0 12v3m0 24v3m1-132v3m0 6v3m0 21v3m0 36v3m0 15v6m0 15v3m0 21v3m0 36v3m1-168v6m0 3v3m0 69v3m0 15v3m0 12v9m1-123v3m0 12v6m0 6v3m0 9v3m0 9v3m0 6v3m0 3v3m0 12v3m0 9v3m1-105v6m0 3v3m0 6v3m0 3v9m0 3v3m0 30v9m0 6v3m0 3v6m0 6v3m0 18v9m0 42v3m1-177v6m0 3v3m0 15v6m0 3v3m0 30v9m0 12v3m0 9v3m0 24v3m1-132v6m0 3v3m0 6v3m0 3v3m0 6v3m0 9v12m0 12v6m0 15v9m0 27v6m0 42v3m1-177v3m0 6v3m0 21v6m0 30v6m0 15v6m0 33v3m1-132v3m0 33v3m0 12v3m0 36v9m0 6v3m0 18v6m1-132v6m0 3v3m0 15v3m0 21v3m0 15v3m0 12v3m0 3v6m0 6v3m1-81v3m0 9v3m0 15v3m0 12v6m0 15v6m0 12v6m0 12v6m1-129v3m0 12v3m0 6v3m0 6v3m0 12v3m0 15v6m0 9v3m0 3v6m0 27v6m1-111v3m0 3v6m0 6v3m0 9v3m0 3v3m0 3v3m0 6v6m0 15v6m0 6v3m0 6v3m0 15v3m1-132v3m0 6v3m0 6v3m0 24v9m0 3v3m0 9v6m0 15v6m0 6v3m0 24v3m1-132v6m0 3v3m0 6v3m0 3v3m0 18v3m0 6v3m0 12v3m0 3v3m0 9v6m0 18v3m0 24v3m1-141v6m0 30v3m0 9v3m0 3v3m0 12v6m0 18v3m0 9v3m0 3v3m0 15v3m1-132v3m0 21v3m0 3v3m0 15v3m0 3v3m0 12v3m0 6v3m0 6v3m0 3v3m0 12v3m0 18v3m0 42v3m1-177v3m0 6v3m0 18v3m0 12v6m0 3v3m0 12v6m0 15v3m0 3v3m0 3v3m0 9v3m1-117v3m0 6v3m0 6v3m0 3v3m0 18v3m0 12v3m0 48v3m0 12v3m1-111v3m0 15v3m0 9v3m0 3v3m0 3v3m0 6v3m0 3v3m0 24v3m0 18v3m0 51v3m1-180v6m0 3v3m0 18v3m0 3v3m0 15v3m0 12v3m0 54v3m1-126v3m0 3v3m0 12v3m0 9v3m0 9v6m0 18v6m0 15v3m0 3v3m0 21v6m1-129v6m0 3v3m0 6v3m0 3v3m0 9v3m0 6v6m0 3v3m0 12v9m0 24v3m0 3v3m1-111v3m0 6v3m0 6v3m0 3v3m0 9v3m0 51v3m0 36v3m1-132v3m0 6v3m0 12v3m0 3v3m0 3v3m0 21v3m0 6v9m0 33v3m1-111v3m0 3v3m0 6v3m0 3v3m0 3v3m0 3v3m0 6v6m0 3v3m0 36v3m0 6v3m0 6v3m0 12v6m0 42v3m1-177v6m0 3v3m0 36v6m0 15v9m0 18v6m0 21v3m0 3v3m0 45v3m1-180v3m0 15v3m0 15v3m0 33v3m0 30v3m0 15v6m1-129v3m0 6v3m0 24v3m0 6v3m0 9v3m0 9v6m0 15v6m0 6v3m0 21v6m0 3v3m1-135v3m0 3v3m0 6v3m0 51v3m0 18v3m0 6v3m0 24v3m1-132v3m0 6v3m0 36v3m0 3v3m0 15v6m0 15v3m0 12v3m0 18v3m1-132v6m0 12v3m0 9v3m0 21v3m0 12v3m0 21v3m0 6v3m0 6v3m1-105v3m0 6v3m0 9v3m0 12v3m0 6v3m0 18v3m0 12v3m0 9v3m0 18v3m1-108v3m0 15v3m0 9v3m0 3v3m0 3v3m0 6v6m0 9v3m0 3v15m0 18v9m0 42v3m1-168v3m0 6v3m0 6v6m0 12v3m0 42v6m0 3v3m0 9v3m0 12v6m1-132v3m0 6v3m0 6v3m0 9v3m0 3v3m0 15v3m0 15v3m0 54v3m0 3v3m0 36v3m1-177v6m0 21v3m0 6v3m0 6v12m0 12v9m0 12v9m0 30v3m0 45v3m1-180v3m0 6v3m0 15v3m0 6v3m0 6v6m0 18v3m0 24v6m0 3v9m0 12v6m1-123v3m0 15v3m0 6v3m0 9v3m0 9v3m0 6v3m0 18v6m0 27v3m1-117v3m0 6v3m0 51v3m0 15v3m0 3v3m0 24v3m1-117v3m0 6v3m0 6v6m0 3v3m1-39v3m0 6v3m0 15v3m0 15v6m0 3v3m0 12v3m0 18v3m0 9v3m0 24v3m1-132v3m0 6v3m0 15v3m0 6v3m0 6v3m0 3v6m0 12v6m0 9v3m0 3v3m1-93v3m0 6v3m0 6v3m0 6v6m0 18v6m0 33v3m0 3v6m0 9v3m0 15v3m1-129v3m0 3v3m0 6v3m0 6v3m0 6v3m0 9v3m0 18v6m0 9v3m0 3v9m0 78v3m1-180v6m0 12v3m0 6v3m0 27v3m0 9v6m0 15v9m0 3v3m0 21v6m0 12v3m1-120v3m0 18v3m0 24v3m0 12v3m0 3v3m0 9v3m0 15v6m0 9v3m1-141v3m0 21v3m0 18v3m0 6v3m0 9v3m0 18v3m0 3v3m0 3v3m0 18v9m1-123v3m0 15v3m0 6v3m0 33v6m0 6v3m0 9v3m0 30v3m1-132v6m0 21v3m0 6v3m0 6v3m0 21v3m0 12v3m0 3v3m0 9v3m0 6v3m1-105v3m0 6v3m0 9v3m0 3v3m0 6v3m0 21v9m0 6v3m0 3v3m0 3v3m0 30v3m0 6v3m0 36v3m1-177v3m0 30v3m0 18v3m0 9v3m0 15v3m0 3v6m1-99v3m0 6v3m0 33v6m0 3v3m0 36v3m0 15v3m0 3v3m0 9v3m1-120v3m0 3v3m0 6v3m0 18v3m0 39v6m0 15v3m0 3v3m1-120v3m0 24v6m0 3v3m0 6v3m0 42v3m0 3v6m0 6v3m0 6v6m0 6v3m1-123v3m0 6v3m0 9v3m0 15v3m0 36v3m0 3v3m0 12v3m0 6v6m1-123v3m0 6v3m0 15v3m0 18v3m0 21v6m0 6v3m0 3v3m0 3v3m0 21v3m0 3v6m1-105v3m0 15v3m0 6v3m0 36v3m0 6v3m0 6v3m0 3v6m0 54v6m1-183v3m0 15v3m0 6v6m0 15v6m0 15v6m0 3v3m0 9v9m0 18v3m1-120v6m0 21v6m0 12v6m0 3v3m0 12v6m0 15v3m0 9v3m0 15v3m0 3v6m1-132v6m0 3v3m0 24v3m0 6v6m0 21v6m0 12v3m0 24v3m0 3v3m1-126v3m0 24v3m0 6v3m0 15v3m0 15v3m0 9v3m0 18v3m0 9v3m0 9v3m1-123v3m0 15v3m0 15v6m0 3v3m0 12v9m0 12v9m0 18v3m0 9v3m1-132v3m0 6v3m0 15v6m0 3v3m0 9v9m0 18v3m0 6v6m0 18v6m0 3v3m0 6v6m1-132v3m0 6v3m0 15v3m0 21v6m0 33v3m0 3v6m0 15v6m0 57v3m1-183v3m0 15v3m0 27v3m0 21v6m0 9v9m0 3v3m0 9v3m0 3v6m0 3v3m1-129v3m0 24v3m0 39v3m0 21v9m0 9v3m0 3v3m1-120v6m0 21v3m0 24v3m0 12v9m0 18v3m0 3v3m0 12v6m0 3v3m1-129v3m0 6v3m0 6v3m0 6v6m0 12v12m0 15v3m0 33v6m0 3v6m0 6v3m1-105v3m0 6v3m0 6v3m0 21v9m0 12v3m0 3v3m0 9v6m0 6v3m0 3v6m0 45v3m1-177v3m0 48v3m0 15v3m0 15v9m0 3v3m0 6v3m0 6v3m0 3v6m0 45v3m1-180v3m0 6v3m0 6v3m0 6v3m0 18v6m0 15v6m0 15v3m0 24v3m0 3v9m0 42v3m1-177v3m0 6v3m0 15v3m0 6v3m0 6v3m0 3v6m0 12v3m0 18v9m0 3v3m0 6v3m0 6v3m0 3v3m1-129v3m0 15v3m0 15v3m0 6v6m0 18v6m0 21v3m0 3v3m0 6v3m0 6v3m0 3v6m1-132v3m0 6v3m0 6v3m0 6v6m0 3v3m0 6v6m0 18v9m0 18v3m0 3v3m0 6v3m0 3v9m0 3v3m1-132v3m0 6v3m0 6v3m0 15v3m0 6v12m0 15v3m0 9v3m0 3v9m0 3v3m0 6v9m1-111v3m0 15v3m0 15v3m0 3v3m0 15v6m0 18v9m0 9v3m0 6v3m1-120v3m0 24v3m0 3v3m0 6v6m0 24v3m0 9v6m0 27v3m0 6v3m1-123v3m0 33v6m0 3v3m0 12v6m0 21v3m0 3v3m0 3v3m0 6v3m0 9v3m1-132v6m0 3v3m0 6v3m0 15v3m0 9v9m0 30v3m0 3v6m0 18v3m0 15v3m0 36v3m1-159v3m0 15v3m0 9v3m0 21v3m0 18v3m0 6v3m0 6v3m0 12v3m0 45v3m0 3v3m1-156v3m0 6v3m0 9v3m0 18v6m0 18v12m0 12v3m0 3v3m0 51v3m1-180v3m0 6v3m0 36v3m0 21v3m0 15v15m0 12v3m1-102v3m0 6v3m0 15v12m0 12v3m0 3v3m0 9v3m0 6v3m0 18v6m0 6v3m1-123v3m0 33v3m0 6v3m0 3v3m0 9v6m0 6v6m0 6v3m0 6v6m0 3v3m1-117v3m0 6v3m0 6v3m0 9v3m0 3v3m0 6v3m0 6v3m0 15v3m0 21v3m0 18v6m0 3v3m1-129v3m0 6v3m0 15v3m0 6v3m0 6v9m0 6v3m0 6v9m0 18v6m0 9v3m0 3v6m0 3v3m1-129v3m0 6v3m0 24v3m0 30v6m0 15v3m0 3v3m0 3v3m0 3v3m0 6v6m0 6v3m1-132v3m0 6v3m0 6v3m0 6v3m0 15v3m0 24v6m0 12v3m0 6v3m0 9v3m0 3v6m1-120v3m0 3v3m0 9v3m0 3v3m0 6v3m0 6v3m0 6v3m0 3v3m0 9v3m0 15v3m0 3v3m0 18v6m0 3v3m155-99v3m0 75v3m0 42v12m1-135v3m0 75v3m0 42v12m1-135v3m0 75v3m0 42v12m1-135v3m0 75v3m0 42v12m1-135v3m0 75v3m0 42v3m0 3v6m1-135v6m0 6v3m0 36v3m0 24v3m0 42v3m0 3v6m1-153v3m0 3v6m0 9v3m0 12v6m0 3v3m0 9v3m0 6v3m0 3v3m0 12v3m0 51v12m1-153v6m0 9v3m0 15v3m0 6v9m0 3v9m1-48v3m0 6v3m0 24v6m0 30v3m0 6v6m1-78v3m0 12v3m0 3v3m0 3v3m0 9v3m0 30v3m0 63v3m0 3v6m0 3v6m0 39v3m1-201v6m0 12v3m0 3v3m0 12v3m0 27v3m1-75v3m0 3v3m0 30v6m0 18v3m1-63v6m0 6v3m0 3v3m0 12v9m1-39v3m0 18v9m0 6v3m0 21v3m0 3v6m0 87v3m1-162v3m0 15v3m0 12v3m0 30v3m1-51v6m0 9v6m0 21v6m1-60v6m0 75v3m1-60v6m0 51v3m1-78v6m0 3v3m0 3v3m0 3v3m0 78v3m1-105v6m0 6v3m0 3v6m0 3v3m1-33v3m0 3v3m0 3v9m1-21v3m0 6v12m0 33v3m0 3v3m1-30v3m0 12v3m0 54v3m1-90v3m0 3v6m1-15v3m0 6v6m0 18v3m0 39v3m1-78v6m0 24v3m1-36v9m0 9v3m0 21v3m0 54v6m1-105v3m0 9v6m0 15v3m1-33v3m0 6v3m0 3v3m0 72v3m0 12v3m1-117v6m0 9v9m0 39v3m0 33v3m1-96v6m0 3v3m0 36v3m1-54v3m0 3v3m0 3v12m0 27v3m1-60v3m0 3v3m0 9v3m0 12v3m0 6v3m0 6v3m0 3v3m1-54v6m0 3v3m0 6v3m1-18v6m0 42v3m0 51v3m1-105v6m0 39v3m0 45v3m1-96v18m0 81v6m1-102v18m1-21v3m0 3v3m0 69v3m0 18v6m1-102v3m0 3v3m1 27v6m0 21v3m0 9v3m1-78v3m0 6v6m0 18v3m0 60v3m1-111v6m0 6v15m0 6v3m0 12v3m1-45v18m0 33v3m0 42v3m1-99v3m0 3v3m0 3v3m0 3v3m0 12v3m0 12v6m1-54v6m0 3v9m0 27v3m0 48v3m1-99v9m0 9v6m0 78v3m1-99v3m0 3v9m0 15v3m0 9v3m1-51v3m0 3v9m0 3v6m1-15v3m0 6v3m0 30v3m1-51v3m0 3v3m0 3v6m0 78v6m1-99v3m0 6v3m0 93v3m1-105v6m0 3v3m0 15v3m0 63v3m1-102v6m1-9v15m0 3v3m0 30v3m0 6v3m0 6v3m0 21v3m0 9v3m1-102v6m0 3v6m0 33v3m0 48v3m1-108v6m0 3v6m0 3v3m0 15v3m0 30v3m0 9v3m1-87v6m0 3v6m0 6v3m1-27v3m0 9v3m0 3v3m0 30v3m0 3v3m1-51v3m0 3v3m0 6v3m0 48v3m0 33v3m1-114v9m0 3v6m0 3v3m0 3v3m0 27v3m1-51v6m0 21v3m0 18v3m0 48v3m1-111v3m0 6v18m0 21v3m0 54v3m0 3v6m1-111v3m0 3v3m0 3v6m0 24v3m0 6v3m0 45v3m1-99v9m1-6v6m1-15v3m0 6v3m0 3v6m0 87v3m1-114v9m0 3v6m0 6v3m1-27v9m0 6v3m0 3v6m0 27v3m0 51v3m1-105v6m0 87v6m1-105v3m0 9v6m0 6v3m0 75v3m1-96v3m0 3v3m0 3v3m0 87v3m1-108v6m0 3v3m0 6v3m0 78v3m1-105v3m0 3v9m0 30v3m1-42v3m0 3v9m1-12v9m0 3v3m0 24v9m0 39v6m0 6v3m1-105v3m0 3v3m0 3v9m0 36v3m0 39v3m1-102v9m0 3v6m0 24v3m1-48v3m0 15v3m0 15v3m0 9v3m0 51v6m0 3v3m1-114v3m0 3v3m0 9v6m0 9v3m0 15v3m0 27v3m0 18v3m1-102v3m0 3v3m0 3v3m0 15v3m1-36v3m0 3v3m0 3v9m0 33v3m0 36v3m1-102v3m0 6v9m0 3v6m1-27v3m0 6v3m0 9v3m0 78v3m0 3v3m1-102v9m0 3v6m0 6v3m0 3v3m0 66v3m1-108v12m0 6v3m0 78v3m0 3v3m1-108v6m0 3v3m0 93v3m1-108v3m0 9v3m0 6v3m0 90v3m1-123v6m0 9v6m1-21v3m0 6v12m0 93v3m1-117v3m0 3v3m0 6v6m0 6v3m1-30v3m0 12v3m0 3v6m1-12v3m0 6v3m1-27v6m0 9v12m0 87v3m1-99v3m0 3v6m1-30v6m0 6v3m0 9v6m0 84v3m1-108v3m0 3v3m0 6v6m1-18v3m0 9v6m0 84v3m1-126v3m0 6v3m0 9v6m0 6v6m1-33v3m0 6v3m0 18v6m1-42v3m0 3v3m0 18v6m1-36v6m0 3v3m0 6v3m0 3v6m0 3v3m0 3v3m1-24v3m0 6v3m0 9v3m1-36v3m0 24v3m0 9v3m1-45v3m0 18v3m0 3v12m1-36v3m0 6v3m0 3v3m0 3v3m0 6v6m1-21v6m0 9v3m0 3v3m1-36v3m0 15v6m1-18v3m0 12v6m0 3v3m1-27v3m0 3v3m0 6v3m0 6v3m1-36v3m0 9v3m0 3v9m0 3v3m0 3v3m1-33v3m0 3v3m0 3v9m0 3v3m0 9v3m1-39v3m0 6v3m0 3v3m0 3v3m0 9v3m1-27v9m0 3v9m1-39v3m0 6v3m0 18v3m0 3v3m0 84v3m1-129v3m0 21v9m0 3v9m1-39v3m0 12v3m0 6v3m0 9v6m1-42v3m0 15v3m0 3v3m0 3v3m0 84v3m1-90v3m1-30v6m0 3v3m0 3v9m0 3v6m1-30v3m0 12v9m0 90v3m1-129v6m0 12v9m0 3v3m0 3v3m1-21v12m0 6v3m1-33v3m0 9v15m0 3v3m0 3v3m1-39v6m0 6v3m0 3v12m0 36v3m1-42v6m1-18v3m0 3v6m0 3v6m1-24v6m0 3v3m0 6v3m1-27v3m0 15v12m0 3v3m0 24v3m1-69v3m0 15v6m0 3v3m0 87v3m2-114v3m0 9v9m0 3v6m1-30v6m0 3v12m0 6v6m1-27v6m0 6v3m1-12v9m0 3v3m1-9v3m0 90v3m1-114v3m0 3v3m0 9v9m0 6v3m0 3v3m1-45v3m0 9v6m0 3v6m1-30v3m0 21v3m0 9v9m1-24v6m0 6v9m0 3v3m1-42v3m0 9v6m0 9v15m1-39v3m0 3v3m0 18v3m0 75v3m1-117v6m0 9v6m0 3v3m0 12v3m0 3v3m1-33v3m0 6v6m0 6v3m1-30v3m0 3v3m0 3v3m0 3v9m0 9v3m1-45v3m0 6v3m0 12v3m0 3v3m1-18v3m0 6v3m0 6v6m1-27v3m0 3v6m0 6v6m0 3v6m1-42v6m0 3v3m0 3v3m0 9v6m0 3v6m1-30v6m0 12v6m0 3v3m1-33v3m0 18v9m1-39v6m0 3v3m0 3v3m0 9v9m0 3v3m1-48v3m0 12v3m0 18v3m0 6v3m1-48v3m0 15v3m0 6v3m0 6v6m1-39v3m0 18v3m0 6v9m0 3v3m1-48v3m0 6v3m0 12v12m0 3v9m1-27v6m0 9v6m1-39v3m0 6v6m0 15v3m0 9v3m1-36v6m0 3v3m0 3v9m0 6v3m1-24v3m0 3v6m1-24v3m0 3v6m0 12v15m1-39v3m0 3v6m0 3v3m0 3v6m0 9v3m1-30v3m0 6v3m1-15v15m0 9v3m0 3v3m1-30v6m0 3v6m0 6v3m0 3v3m1-42v6m0 21v15m0 51v3m1-87v6m0 9v3m0 3v9m0 54v3m1-90v3m0 3v3m0 6v3m0 3v6m0 6v3m1-15v6m0 6v3m1-24v3m0 3v3m0 3v3m1-15v3m0 45v3m1-51v9m0 3v3m1-27v3m0 3v3m0 3v3m0 3v6m1-24v3m0 9v3m0 9v3m0 6v3m1-30v3m0 3v6m0 3v3m1-6v3m1 6v3m1-18v9m0 3v6m0 3v3m0 12v3m1-27v3m1-6v9m4-12v3m3-12v3m0 21v3m1-15v6m3-18v3m0 3v3m0 6v3m0 6v3m3-24v3m6 0v3m4-6v3m1 33v3m1-45v3m0 3v3m2 24v3m1-45v3m0 6v6m0 3v3m0 9v3m0 21v3m1-57v3m0 3v15m0 3v9m0 24v3m1-54v3m0 18v6m1-33v3m0 6v6m0 9v3m0 3v3m0 150v3m0 3v3m1-198v6m0 3v3m0 3v3m0 3v3m1-18v3m0 3v3m0 6v3m1-30v6m0 15v12m0 6v3m0 24v3m1-60v3m0 6v3m0 6v12m0 3v3m1-42v3m0 21v3m0 3v9m0 21v3m0 6v3m1-66v6m0 15v9m0 18v3m0 12v3m1-72v3m0 18v3m0 3v6m0 3v3m0 27v3m1-66v6m0 3v12m0 6v6m0 21v3m0 18v3m1-78v3m0 3v3m0 6v9m0 6v3m0 159v3m1-177v6m0 3v6m0 18v3m1-45v6m0 18v3m0 30v3m1-48v3m1-15v3m1 9v3m0 3v6m0 3v3m1 45v3m1-78v3m1-3v3m0 21v6m2 27v3m1-15v6m1-24v3m0 45v3m1-27v3m1-3v3m2-42v3m0 12v3m0 159v3m1-165v3m0 27v3m1-57v3m0 9v3m1 48v3m1-21v3m1-57v3m0 24v3m0 6v3m0 24v3m1-66v3m0 15v3m0 15v3m0 9v3m3-33v3m0 177v3m1-177v3m0 18v3m0 15v3m1-21v3m0 6v3m1 3v3m1 0v3m2-18v3m0 9v3m2-51v3m0 15v3m2 21v6m1-36v9m0 21v3m2-12v3m0 9v3m1-54v6m0 6v6m0 6v3m0 3v6m0 24v3m0 69v3m0 6v6m0 6v3m0 3v6m0 6v3m0 3v3m0 6v3m0 3v3m0 6v2m1-155v3m1-27v6m0 120v3m0 15v3m1-162v3m0 3v3m0 30v3m1-27v3m0 3v3m0 105v3m0 21v3m0 33v3m1-198v3m0 39v3m2-48v3m0 3v3m0 30v3m0 6v3m0 6v3m0 90v3m0 18v3m0 3v3m0 9v3m1-18v3m1-132v3m0 6v3m1 3v3m0 81v3m0 48v3m1-141v6m4-6v3m1-54v3m0 48v3m0 75v6m0 3v3m0 6v3m0 3v6m0 3v6m0 3v6m0 3v6m0 6v3m2-159v3m0 12v3m0 99v3m0 21v3m1-147v3m0 12v3m0 93v3m1-111v3m0 9v3m0 126v3m1-180v3m0 12v6m0 102v3m0 3v3m0 3v3m0 6v3m0 12v3m0 21v3m0 6v3m1-150v3m1 3v3m0 75v3m0 3v3m0 27v3m0 12v3m0 3v6m1-195v3m0 144v3m0 6v6m0 21v3m0 6v3m0 3v2m2-41v3m3-123v3m1 12v3m1-12v3m0 111v3m1-123v3m2-24v3m1-3v3m0 3v3m1-33v3m0 6v3m0 6v9m0 3v6m0 24v3m0 66v3m0 21v6m0 9v6m0 3v6m0 3v3m0 6v3m0 6v2m1-146v3m1 78v3m0 9v3m0 18v6m0 24v2m1-206v3m0 18v3m0 6v3m0 102v3m0 48v3m1-141v3m1 132v3m1-186v3m0 3v3m0 9v3m0 6v3m0 102v3m0 24v3m1-108v3m1-72v3m0 9v6m0 27v3m0 21v3m0 81v6m0 9v3m0 3v12m0 12v9m0 3v6m0 3v2m1-203v6m0 3v3m0 126v9m0 6v3m0 9v6m0 3v3m0 3v3m5-183v3m2-6v6m0 156v3m0 30v3m1-153v3m1-18v3m0 132v3m0 30v3m1-198v6m2 42v3m0 114v3m0 24v3m2-183v6m0 6v3m0 3v3m0 90v9m0 3v3m0 12v3m0 3v3m0 9v6m0 3v3m0 3v6m0 9v3m2-195v3m0 42v3m0 81v3m0 33v3m0 9v3m1-30v3m4-27v3m0 18v3m1-18v3m1-138v3m0 24v3m0 126v3m0 3v6m0 24v3m2-168v3m0 93v3m0 6v3m0 6v6m0 12v3m0 15v3m0 9v3m1 6v2m2-62v3m0 18v3m4-30v3m0 12v6m0 3v3m0 15v3m0 6v3m0 9v3m5-6v3m1-153v3m1-6v3m0 111v3m1-108v3m0 93v3m0 15v3m0 9v6m0 9v3m5-153v3m5-3v3m2-12v3m1-42v3m0 12v3m0 6v6m0 3v3m0 96v3m1-135v9m0 6v3m0 3v18m0 6v3m1-54v3m0 6v18m0 12v3m1-45v6m0 6v3m0 6v12m0 3v9m1-45v3m0 15v6m0 3v3m0 3v6m0 132v3m1-165v3m0 15v9m0 27v3m1-72v3m0 3v6m0 6v3m0 3v6m0 6v3m0 6v3m1-27v3m0 6v3m0 9v9m0 105v3m0 12v3m0 3v3m0 33v6m1-222v3m0 3v9m0 6v3m0 6v18m0 9v3m0 96v3m0 3v3m0 30v3m0 24v3m1-216v3m0 21v3m0 6v3m0 3v3m1-42v3m0 30v9m0 12v3m1-63v3m0 3v3m0 15v3m0 3v6m0 6v3m0 21v3m0 111v3m1-165v3m0 3v3m0 9v3m0 6v6m1-42v3m0 30v3m0 3v3m1-48v3m0 3v3m0 12v3m0 6v9m0 6v3m1-45v6m0 15v6m1-12v6m0 3v6m0 9v3m1-42v6m0 18v3m0 6v3m0 3v3m1-42v6m0 12v6m0 6v3m0 3v3m0 3v3m1-42v3m0 21v3m1-27v3m0 12v15m0 9v3m1-48v9m0 12v15m0 6v3m1-42v6m0 3v3m0 15v12m1-36v3m0 12v3m0 6v6m1-33v6m0 3v3m0 9v3m0 3v3m0 6v6m0 3v3m1-45v3m0 6v3m0 3v6m0 6v3m0 6v3m0 3v3m1-51v3m0 21v3m0 3v6m0 12v3m1-48v6m0 24v3m0 3v6m1-39v3m0 12v9m0 3v3m1-30v3m0 15v3m0 6v6m0 3v9m1-48v3m0 24v3m0 15v3m1-81v3m0 21v3m0 6v3m0 9v6m0 6v3m0 12v9m1-81v3m0 57v6m0 6v3m1-18v3m0 3v3m1-30v3m0 12v3m0 3v6m0 3v9m1-42v6m0 21v3m0 9v3m1-18v9m0 6v3m0 6v3m1-51v6m0 15v3m0 9v3m0 6v3m1-45v6m0 9v3m0 6v3m0 3v6m0 3v3m1-42v3m0 21v9m0 3v6m0 3v3m1-27v9m1-27v3m0 9v9m0 3v9m0 18v3m1-66v3m0 6v6m0 3v3m0 6v3m0 3v3m0 9v12m1-57v3m0 6v3m0 18v3m0 3v15m1-39v3m0 18v3m0 12v6m1-45v6m0 12v6m0 3v12m1-51v6m0 6v6m0 9v3m0 3v3m0 18v3m1-54v3m0 18v3m0 6v3m0 9v3m1-48v6m0 9v3m0 3v3m0 12v6m0 3v9m0 60v3m1-114v3m0 18v6m0 3v9m0 3v3m0 3v6m0 45v3m1-105v3m0 12v3m0 9v3m0 6v3m0 3v3m1-33v6m0 18v6m0 3v6m0 9v3m1-60v3m0 6v3m0 21v3m0 9v6m0 39v3m1-84v3m0 21v12m0 3v3m0 3v3m1-48v3m0 15v3m0 3v12m1-18v12m0 3v9m1-42v3m0 18v6m0 3v3m0 9v3m1-45v6m0 12v3m1-18v3m0 12v3m0 3v12m0 3v6m1-45v3m0 18v6m0 21v3m1-69v3m0 3v3m0 9v6m0 36v3m0 18v3m1-72v3m0 3v6m0 15v3m0 3v3m0 3v6m1-48v3m0 6v3m0 6v3m0 9v3m0 3v6m0 3v3m0 3v3m1-60v9m0 9v3m0 21v3m1-30v6m0 15v3m0 3v3m0 3v3m1-51v3m0 3v3m0 6v6m0 18v6m0 6v3m1-39v6m0 15v21m1-54v3m0 33v9m0 6v3m1-60v6m0 3v3m0 6v3m0 15v6m0 3v9m0 39v3m1-90v3m0 12v3m0 12v3m0 3v12m0 3v3m1-42v3m0 6v6m0 12v6m0 3v3m1-51v6m0 6v9m0 9v18m0 3v3m0 6v3m1-60v3m0 6v9m0 9v3m0 3v6m0 3v3m1-48v6m0 9v3m0 15v3m0 3v6m0 12v3m1-81v3m0 15v6m0 9v6m0 9v6m0 3v12m0 3v3m1-60v9m0 12v3m0 12v9m0 3v15m1-81v3m0 15v3m0 6v3m0 3v3m0 3v3m0 6v9m0 18v3m0 6v3m1-84v3m0 15v3m0 6v12m0 9v18m0 3v9m0 3v3m0 33v3m0 6v3m1-117v3m0 6v3m0 9v6m0 12v3m0 3v12m0 3v3m0 3v3m0 48v3m1-114v6m0 3v9m0 6v6m0 3v3m0 3v3m0 9v6m0 3v6m1-84v3m0 3v3m0 15v3m0 6v6m0 3v15m0 3v3m0 3v3m0 6v6m1-63v3m0 3v3m0 3v6m0 9v15m0 9v3m0 3v6m1-63v15m0 6v12m0 15v3m0 6v9m0 6v3m1-75v3m0 6v6m0 15v9m0 18v9m1-87v3m0 21v6m0 12v3m0 6v6m0 3v3m0 3v6m0 6v9m1-66v6m0 6v3m0 9v12m0 3v3m0 6v3m0 6v3m0 3v3m1-57v6m0 6v6m0 3v9m0 6v3m0 6v9m1-63v3m0 9v3m0 6v12m0 24v9m1-57v3m0 9v6m0 6v3m0 3v3m0 9v3m0 6v6m1-54v12m0 3v6m0 6v3m0 3v3m1-48v6m0 6v6m0 3v3m0 3v6m0 6v3m0 15v9m1-66v6m0 6v3m0 3v18m0 3v6m0 6v6m1-57v3m0 3v6m0 3v9m0 3v6m0 3v3m0 12v3m0 6v6m1-63v12m0 3v6m0 3v3m0 9v3m0 6v3m1-42v3m0 15v6m0 18v3m0 3v9m1-60v9m0 6v12m0 12v12m0 6v3m1-60v6m0 3v3m0 3v12m0 18v3m0 6v3m1-60v9m0 9v3m0 3v3m0 3v3m0 6v3m0 12v9m1-63v3m0 6v3m0 6v3m0 3v9m0 3v3m0 6v3m0 6v3m0 3v3m1-66v6m0 6v12m0 3v6m0 9v3m0 3v3m0 12v3m1-66v3m0 6v6m0 6v12m0 6v3m0 9v6m0 3v6m1-63v3m0 3v6m0 6v9m0 21v3m0 3v3m0 3v3m1-57v9m0 3v9m0 24v3m0 3v3m1-57v3m0 6v3m0 9v3m0 18v6m0 3v3m1-57v3m0 3v6m0 6v6m0 3v3m0 3v3m0 12v3m0 3v9m1-63v3m0 3v3m0 3v9m0 3v3m0 6v6m0 18v3m0 3v3m0 24v3m0 6v3m1-102v3m0 3v6m0 6v6m0 3v6m0 15v3m0 18v3m0 27v3m1-99v3m0 15v6m0 6v3m0 18v3m0 3v3m1-51v3m0 3v9m0 9v3m0 18v6m1-66v3m0 3v9m0 3v15m0 9v3m0 6v3m0 6v6m0 18v3m1-78v3m0 9v6m0 3v9m0 3v3m0 6v3m0 3v6m1-63v3m0 6v9m0 9v9m0 3v3m0 6v3m0 9v6m0 9v3m0 18v3m1-99v3m0 3v12m0 3v3m0 6v9m0 6v3m0 9v9m0 9v3m1-78v6m0 6v3m0 6v3m0 3v6m0 12v6m0 3v3m0 3v9m0 27v3m1-99v3m0 9v3m0 3v3m0 6v6m0 18v3m0 6v3m0 39v3m1-99v9m0 9v3m0 3v3m0 9v3m0 12v3m0 6v3"/><path stroke="#0000e5" stroke-width="1" d="M102.5 64v3m0 51v3m0 9v3m0 6v3m0 3v3m0 9v3m0 21v6m0 60v3m1-186v3m0 33v3m0 30v6m0 6v3m0 3v3m0 3v6m0 6v3m0 3v3m0 9v9m1-126v3m0 60v3m0 3v3m0 39v6m0 6v3m1-105v6m0 9v3m0 33v12m0 6v3m0 3v3m0 75v3m1-183v3m0 72v12m0 12v3m0 3v3m0 3v3m0 15v3m1-135v3m0 69v9m0 3v9m0 24v3m0 48v3m1-174v3m0 33v3m0 6v3m0 18v3m0 6v3m0 6v6m0 30v3m1-99v3m0 18v3m0 15v3m0 3v12m0 9v3m0 3v6m0 3v3m0 12v3m1-120v3m0 12v3m0 9v3m0 6v9m0 9v3m0 3v6m0 3v3m0 9v3m0 6v3m0 3v9m1-114v3m0 6v3m0 6v12m0 6v3m0 12v3m0 12v3m0 3v9m0 6v3m0 3v3m0 9v3m0 3v3m1-111v9m0 12v3m0 3v3m0 12v9m0 6v3m0 6v3m0 9v3m0 3v3m1-84v3m0 15v3m0 24v3m0 3v3m0 3v3m0 12v6m1-72v3m0 6v3m0 15v3m1-42v3m1-3v3m2 0v6m2 9v3m0 9v6m1-36v9m0 6v3m0 12v6m0 6v3m1-39v3m0 54v3m1-63v6m0 3v6m1-15v3m0 15v3m0 6v3m1-30v3m0 6v3m0 9v3m0 15v3m0 6v3m1-51v3m0 6v3m0 3v3m0 3v6m0 24v6m0 21v3m1-84v6m0 3v3m0 15v6m0 12v3m0 3v9m0 9v3m0 6v3m0 6v3m1-87v3m0 3v3m0 24v3m0 6v3m0 6v3m0 3v3m0 9v3m0 3v9m0 6v3m1-96v6m0 18v9m0 12v3m0 6v9m0 12v3m0 6v6m0 18v3m0 3v3m1-117v6m0 18v3m0 24v24m0 9v6m1-87v3m0 3v3m0 12v9m0 12v3m0 3v9m0 3v3m0 6v6m0 6v3m0 3v3m1-90v9m0 6v3m0 3v3m0 9v3m0 12v3m0 12v12m0 3v6m1-87v3m0 6v3m0 18v3m0 12v3m0 3v6m0 12v9m1-78v6m0 3v6m0 3v3m0 3v3m0 18v3m0 6v3m0 3v3m0 3v6m0 3v3m0 3v3m1-81v3m0 3v3m0 6v3m0 3v9m0 36v6m1-75v6m0 3v3m0 18v3m0 3v3m0 12v6m0 12v6m1-75v3m0 6v3m0 12v3m0 9v3m0 6v3m0 6v3m0 3v3m0 6v12m1-81v9m0 3v3m0 3v3m0 3v6m0 6v3m0 6v3m0 24v6m0 3v3m1-84v3m0 33v3m0 6v12m0 9v12m1-69v6m0 21v3m0 6v15m0 3v3m0 3v3m0 3v6m1-78v3m0 3v3m0 12v6m0 15v3m0 6v3m0 9v6m0 3v3m1-78v9m0 3v3m0 36v6m1-54v3m0 21v3m0 15v3m0 6v6m0 9v6m1-27v3m0 3v3m0 12v6m0 6v3m1-81v3m0 21v3m0 6v3m0 6v3m0 21v9m0 3v3m1-66v3m0 3v6m0 15v6m0 15v9m1-57v3m0 3v3m0 3v3m0 3v3m0 6v3m0 6v3m0 15v6m1-51v3m0 6v3m0 6v12m1-42v3m0 6v3m0 3v3m0 3v3m0 6v3m0 30v3m1-51v3m0 12v9m0 18v3m1-51v3m0 3v3m0 3v3m0 15v3m0 3v3m0 6v3m1-48v6m0 15v6m0 3v3m0 3v6m0 3v3m0 3v3m1-48v3m0 3v3m0 9v3m0 3v3m0 15v3m1-45v3m0 39v3m1-63v6m0 27v6m0 21v3m1-48v3m0 6v3m0 6v9m0 15v6m1-48v3m0 6v3m0 9v3m0 18v6m0 9v3m1-51v3m0 33v3m0 9v3m1-63v3m0 21v3m0 24v3m0 12v3m1-69v6m0 15v3m0 21v3m1-24v3m0 36v3m0 6v3m1-51v3m0 24v3m0 9v6m1-66v3m0 18v3m0 42v3m0 9v3m1-78v3m0 15v3m0 21v3m0 15v3m1-60v3m0 12v3m0 24v3m0 9v3m0 6v3m1-51v3m1-15v3m0 57v3m1-72v3m0 18v3m0 36v9m1-69v3m0 18v3m0 39v3m0 3v3m1-69v3m0 42v3m0 9v6m0 3v3m0 9v3m1-63v3m0 39v3m0 123v3m1-135v6m0 9v3m0 33v3m1-114v3m0 21v3m0 48v3m0 9v3m1-87v3m0 42v3m0 15v3m0 6v3m0 6v3m1-81v3m0 15v3m0 21v3m0 18v9m1-54v3m0 39v6m0 9v3m1-87v3m0 3v3m1-6v3m0 9v3m0 15v3m0 36v6m0 9v3m0 102v3m1-189v3m0 24v3m0 12v3m0 15v6m0 3v3m0 15v3m1-93v3m0 63v6m0 3v3m1-54v3m0 42v3m0 3v3m1-9v3m1-69v3m0 42v3m0 15v3m1-39v3m0 12v3m1 3v3m1-6v3m0 15v3m1-69v3m0 60v3m1-69v3m0 24v3m0 36v9m1-51v3m0 3v3m0 36v3m0 6v3m0 138v3m1-219v6m0 15v6m0 45v3m1-93v3m0 18v3m0 15v3m0 54v3m0 27v3m0 9v3m1-144v3m0 9v3m0 24v3m0 3v3m0 18v3m0 24v9m0 24v9m1-120v3m0 15v3m0 3v3m0 3v3m0 42v12m0 24v9m0 6v3m1-138v3m0 6v3m0 3v3m0 9v3m0 33v3m0 18v12m0 24v18m1-147v6m0 18v3m0 12v3m0 12v3m0 12v9m0 15v3m0 3v6m0 24v6m0 3v3m0 6v3m0 24v3m1-168v3m0 27v3m0 6v3m0 45v3m0 30v15m0 36v3m1-165v3m0 15v3m0 54v6m0 3v3m0 27v3m1-117v3m0 15v3m0 9v3m0 18v3m0 24v9m0 24v6m1-87v3m0 21v3m0 18v3m0 3v3m0 27v6m1-108v3m0 63v9m0 30v6m0 42v3m1-183v3m0 33v3m0 9v3m0 42v9m0 30v6m0 36v6m1-162v3m0 6v3m0 6v3m0 9v3m0 6v3m0 39v6m0 24v6m0 6v3m0 36v3m1-180v3m0 27v6m0 9v3m0 42v12m0 27v3m0 42v3m1-162v3m0 12v3m0 63v3m0 27v6m0 9v3m1-114v3m0 9v6m0 48v3m0 30v6m0 9v6m0 24v3m1-162v3m0 12v3m0 12v3m0 45v6m0 9v3m0 18v3m0 3v3m0 6v3m1-120v3m0 66v6m0 27v3m0 6v3m0 3v3m1-120v3m0 15v3m0 48v6m0 27v3m1-117v3m0 9v3m0 15v3m0 48v6m0 12v3m0 12v3m0 39v3m1-159v3m0 9v3m0 15v3m0 45v6m0 27v6m0 42v3m1-171v3m0 15v3m0 18v3m0 48v6m0 27v6m0 12v3m1-123v3m0 15v3m0 45v9m0 24v9m0 36v6m1-150v3m0 63v6m0 30v3m0 3v3m1-114v6m0 3v3m0 57v6m0 30v6m1-111v6m0 15v3m0 42v3m0 6v3m0 27v3m0 12v3m0 24v6m1-153v6m0 12v3m0 48v9m0 12v3m0 12v3m0 6v6m0 6v6m1-150v3m0 6v3m0 6v3m0 60v3m0 3v9m0 27v3m1-117v3m0 6v3m0 69v3m0 27v12m0 3v6m0 27v3m1-150v3m0 60v6m0 3v3m0 24v12m0 3v3m0 27v9m1-90v9m0 15v3m0 9v6m0 3v9m1-129v3m0 27v3m0 42v12m0 27v3m1-117v3m0 75v3m0 3v3m0 24v12m0 30v6m1-150v3m0 63v6m0 30v12m0 3v3m0 6v3m0 12v3m0 3v3m1-129v3m0 21v3m0 18v12m0 27v3m1-117v3m0 6v3m0 18v3m0 3v3m0 39v3m0 3v3m0 24v9m1-138v3m0 24v3m0 66v6m0 30v3m1-117v3m0 3v3m0 63v6m0 6v3m0 27v6m1-114v6m0 63v12m0 24v9m1-120v3m0 3v6m0 66v6m0 30v3m0 15v3m0 21v3m1-150v3m0 66v6m0 30v3m1-117v3m0 3v6m0 69v3m0 30v3m1-111v6m0 18v3m0 45v6m0 27v12m0 6v3m1-126v6m0 6v3m0 9v3m0 42v9m0 27v6m1-135v3m0 21v6m0 102v3m1-111v3m0 21v3m0 45v3m0 3v3m0 27v3m1-108v3m0 18v3m0 45v3m0 3v3m0 27v3m0 3v9m0 30v3m1-162v3m0 96v3m0 12v6m0 3v3m0 6v3m0 21v3m1-159v3m0 3v3m0 66v3m0 6v3m0 27v3m0 3v6m1-144v3m0 15v3m0 75v3m0 30v6m0 9v6m0 30v3m1-159v3m0 21v3m0 42v3m0 6v3m0 12v3m0 9v9m0 3v9m1-126v3m0 21v3m0 42v6m0 3v3m0 6v3m0 18v3m0 39v3m1-159v3m0 72v6m0 33v3m0 39v6m1-162v3m0 72v3m0 6v3m0 24v6m1-99v3m0 9v3m0 42v3m0 6v3m0 27v3m0 3v3m0 39v3m1-81v3m0 24v9m0 3v3m0 36v3m1-174v3m0 36v3m0 81v6m0 3v3m0 30v3m1-168v3m0 6v3m0 81v3m0 27v3m0 39v3m1-168v3m0 6v3m0 3v3m0 45v3m0 57v3m0 42v3m1-132v3m0 18v3m0 21v3m0 6v3m0 12v3m0 12v6m0 42v3m1-165v3m0 3v3m0 21v3m0 45v3m0 33v6m0 36v6m1-156v3m0 21v3m0 51v3m0 12v3m0 12v6m0 9v3m0 24v3m1-150v3m0 18v3m0 51v3m0 12v3m0 9v9m0 42v3m1-165v3m0 75v3m0 3v3m0 15v3m0 9v12m0 30v3m1-168v3m0 12v3m0 69v3m0 3v3m0 15v3m0 6v6m0 3v6m0 33v3m1-162v3m0 3v3m0 21v3m0 51v3m0 69v3m0 3v3m1-87v3m0 3v3m0 24v3m1-108v3m0 9v3m0 63v3m1-87v3m0 3v3m0 21v3m0 45v3m0 33v6m1-36v3m0 27v3m1-117v3m0 3v3m0 66v6m0 12v3m0 18v3m1-117v3m0 3v3m0 66v6m0 3v3m0 15v3m0 6v9m1-120v3m0 27v3m0 45v3m0 3v3m1-87v3m0 81v3m0 15v3m0 51v3m1-153v3m0 63v9m0 3v3m0 27v3m1-117v3m0 27v3m0 42v3m0 6v3m0 24v12m0 3v3m0 30v3m1-171v3m0 12v3m0 42v3m0 24v3m0 3v3m0 27v6m1-120v3m0 3v3m0 21v3m0 51v3m0 15v3m0 6v6m1-117v3m0 3v3m0 21v3m0 42v3m0 33v9m1-114v3m0 66v6m0 3v3m0 27v3m0 6v3m1-144v3m0 15v3m0 3v3m0 21v3m0 42v3m0 6v3m0 27v15m0 27v3m1-159v3m0 3v3m0 21v3m0 81v3m0 3v3m1-117v3m0 69v3m0 3v3m0 15v3m0 9v6m0 3v6m0 30v6m1-165v3m0 3v3m0 21v3m0 78v6m0 3v6m1-120v6m0 63v3m0 36v6m0 12v3m0 21v3m1-153v3m0 66v3m0 36v3m0 6v6m1-123v3m0 93v3m0 3v15m0 36v3m1-162v3m0 27v3m0 51v3m0 24v6m0 42v3m1-156v6m0 24v3m0 36v6m0 3v3m1-87v3m0 69v6m0 24v3m1-51v3m0 27v3m0 15v3m0 6v6m0 45v3m1-159v6m0 39v3m0 24v3m0 30v3m0 9v3m1-126v3m0 3v3m0 63v3m0 27v3m0 6v12m1-123v3m0 3v3m0 93v3m0 6v6m0 6v6m0 30v3m1-180v3m0 21v3m0 63v6m0 6v3m0 27v6m0 9v3m0 3v3m0 6v6m1-150v3m0 3v3m0 21v3m0 39v3m0 9v3m0 24v6m0 3v6m0 9v6m0 9v3m0 12v3m0 3v3m1-144v3m0 42v3m0 33v6m0 15v3m0 3v3m0 9v6m1-156v3m0 3v3m0 63v6m0 6v3m0 24v12m0 6v3m0 6v6m0 9v3m0 3v3m1-156v3m0 18v6m0 42v3m0 42v15m0 6v3m0 3v3m1-120v3m0 18v3m0 21v3m0 6v3m0 24v3m0 3v3m0 6v3m0 9v3m0 6v3m1-150v3m0 27v3m0 51v3m0 24v9m0 12v3m0 3v3m0 6v3m0 6v3m155-177v6m0 27v3m0 6v3m0 33v9m0 3v18m0 3v3m0 3v3m0 3v9m0 6v3m0 9v3m0 12v6m0 21v6m1-198v6m0 27v3m0 6v3m0 33v9m0 3v18m0 3v3m0 3v3m0 3v9m0 6v3m0 9v3m0 12v6m0 21v6m1-198v6m0 27v3m0 6v3m0 33v9m0 3v18m0 3v3m0 3v3m0 3v9m0 6v3m0 9v3m0 12v6m0 21v6m1-198v6m0 27v3m0 6v3m0 33v9m0 3v18m0 3v3m0 3v3m0 3v9m0 6v3m0 9v3m0 12v6m0 21v6m1-198v6m0 27v3m0 6v3m0 33v9m0 3v18m0 3v3m0 3v3m0 3v9m0 6v3m0 9v3m0 3v3m0 6v6m0 21v6m1-186v3m0 3v3m0 24v9m0 24v3m0 3v3m0 3v3m0 3v12m0 3v3m0 3v3m0 6v3m0 9v3m0 9v3m0 3v3m0 6v3m0 21v12m1-201v6m0 9v3m0 6v6m0 6v6m0 12v3m0 3v3m0 9v6m0 12v3m0 3v3m0 3v12m0 3v3m0 6v6m0 6v3m0 27v3m0 63v3m1-237v3m0 60v3m0 24v3m0 6v12m0 6v3m0 6v3m0 9v6m0 6v9m0 36v3m0 36v6m1-225v3m0 6v3m0 63v3m0 9v6m0 30v3m0 9v6m0 3v6m0 57v3m1-198v3m0 66v9m0 18v6m0 9v3m0 6v3m0 3v3m0 3v6m0 3v3m0 6v3m0 6v3m0 6v3m0 33v3m0 3v3m1-216v6m0 66v6m0 6v3m0 6v3m0 6v3m0 9v3m0 12v3m1-69v9m0 3v3m0 6v3m0 15v3m0 6v3m0 3v3m0 6v9m0 33v9m1-183v3m0 69v3m0 12v9m0 12v3m1-42v12m0 3v3m0 6v3m0 24v6m0 48v6m1-162v3m0 51v3m0 3v3m0 3v3m0 3v3m0 15v3m0 9v3m0 12v3m0 3v9m1-126v3m0 18v3m0 30v3m0 9v6m0 12v6m1-36v3m0 3v6m0 3v3m0 39v3m1-66v9m0 6v6m1-15v3m0 3v9m0 24v3m0 3v3m0 3v6m0 3v9m1-75v12m0 15v6m0 18v3m0 6v6m1-114v3m0 48v3m0 6v9m0 15v3m0 9v3m0 12v18m0 21v3m1-102v3m0 9v3m0 3v3m0 3v3m0 3v6m1-75v3m0 36v3m0 6v12m0 9v6m0 9v6m0 3v6m0 3v9m1-105v6m0 15v3m0 12v3m0 3v12m0 3v3m0 6v3m0 9v3m0 6v3m0 3v3m0 3v3m1-60v12m0 6v3m0 27v6m0 78v3m1-156v3m0 12v18m0 9v6m0 18v3m0 3v6m0 3v3m1-84v3m0 15v3m0 6v6m0 3v3m0 3v6m0 21v9m0 6v6m1-114v3m0 3v3m0 36v9m1-21v3m0 12v9m0 12v3m0 30v9m1-78v6m0 27v6m0 21v3m0 6v9m1-69v3m0 3v3m0 12v6m0 33v12m1-117v3m0 33v3m0 3v3m0 6v3m0 18v3m0 9v3m0 3v6m0 3v18m1-96v3m0 18v6m0 24v3m0 9v3m1-87v3m0 24v3m0 3v3m0 3v18m0 15v3m0 12v3m0 9v9m1-69v6m0 3v6m0 18v3m0 24v3m0 3v3m0 3v6m1-81v9m0 9v6m0 9v6m0 27v12m1-87v3m0 9v3m0 3v12m0 15v6m0 6v6m0 6v6m1-57v12m1-30v3m0 9v3m0 3v3m0 3v6m0 15v3m0 12v3m0 9v3m0 12v6m1-114v3m0 30v3m0 3v9m0 30v3m0 6v3m0 6v3m0 3v6m1-102v3m0 21v3m0 12v6m0 12v3m1-66v3m0 3v3m0 12v3m0 6v3m0 12v6m0 6v3m0 18v3m0 9v9m0 9v6m1-78v3m0 3v12m0 12v3m0 9v3m0 12v3m0 3v6m1-114v6m0 24v3m0 6v3m0 12v3m0 3v3m0 12v3m0 6v3m0 9v3m0 12v3m0 3v3m1-117v3m0 24v3m0 9v3m0 6v3m0 18v3m0 3v3m0 6v3m1-87v3m0 6v3m0 30v3m0 6v6m0 12v6m0 6v3m0 21v6m0 3v3m1-90v3m0 15v12m0 6v3m0 3v6m0 21v9m0 3v3m0 3v3m1-117v3m0 33v3m0 6v3m0 6v6m0 3v3m0 6v3m0 9v6m0 6v3m0 3v12m1-78v3m0 6v12m0 6v3m0 6v3m0 12v3m0 6v9m1-96v3m0 24v3m0 3v9m0 6v3m0 3v3m0 6v3m0 21v3m0 3v15m1-75v18m0 3v3m0 6v3m0 9v3m0 9v6m0 6v3m1-108v3m0 30v15m0 3v3m0 6v3m0 6v3m0 9v3m0 12v3m0 3v6m1-108v3m0 21v3m0 12v15m0 15v3m0 9v6m0 9v3m0 6v6m1-81v3m0 3v3m0 9v18m0 15v3m0 3v3m0 6v3m1-102v3m0 33v6m0 6v6m0 3v3m0 6v3m0 15v3m0 12v9m0 3v3m1-81v6m0 3v3m0 3v9m0 9v3m0 3v3m0 9v3m0 9v6m0 3v3m1-81v3m0 6v3m0 3v18m0 36v3m0 3v9m0 3v3m1-84v3m0 3v6m0 9v6m0 3v3m1-30v6m0 9v3m0 12v3m0 3v3m0 9v3m1-51v18m0 3v3m0 33v6m0 3v6m0 6v3m1-90v3m0 18v6m0 9v3m0 18v3m0 12v3m0 3v3m0 3v3m1-75v3m0 6v3m0 6v3m0 3v3m0 3v3m0 12v3m0 9v9m0 3v3m1-78v6m0 9v12m0 12v3m0 18v9m0 3v3m1-96v3m0 12v3m0 12v3m0 3v6m0 3v3m0 9v6m0 6v9m0 9v3m0 3v6m1-84v3m0 6v3m0 6v12m0 6v3m1-39v3m0 12v6m0 3v6m0 6v3m1-54v3m0 24v6m0 6v3m0 3v6m0 39v3m0 6v3m1-81v9m0 3v15m0 12v3m0 24v3m0 3v6m0 3v3m1-90v3m0 12v6m0 6v3m0 9v6m0 12v6m0 3v12m0 3v6m1-87v3m0 3v6m0 6v9m0 30v3m0 15v9m1-117v3m0 42v27m0 3v3m0 12v6m0 6v3m0 3v3m1-105v6m0 21v3m0 6v3m0 9v6m0 15v3m0 24v12m0 3v3m1-69v15m0 12v3m0 24v3m0 3v9m1-117v3m0 36v3m0 12v9m0 12v3m0 21v9m0 3v6m1-75v12m0 6v3m0 3v3m1-27v9m0 9v3m0 3v3m0 6v3m0 9v3m0 18v3m0 3v6m1-72v3m0 6v6m0 36v9m0 3v3m1-78v9m0 3v3m0 3v9m0 3v3m0 6v3m0 9v3m0 12v9m0 3v3m1-105v3m0 21v3m0 9v6m0 6v3m0 9v6m0 9v6m0 6v3m0 12v3m1-87v3m0 3v3m0 3v6m0 6v3m0 27v3m0 15v6m0 3v3m1-108v3m0 21v3m0 24v3m0 3v3m0 21v3m0 9v15m0 3v3m1-90v3m0 6v3m0 15v3m0 12v6m0 30v12m1-81v6m0 6v6m0 3v3m0 9v3m0 27v12m0 3v3m1-108v3m0 27v3m0 6v6m0 3v3m0 12v3m0 9v6m0 6v3m0 3v3m1-66v6m0 3v9m0 6v3m0 6v3m0 21v3m0 3v3m0 3v3m1-114v3m0 36v3m0 6v3m0 3v3m0 18v3m0 9v3m0 3v3m0 3v3m0 3v3m0 3v3m1-72v6m0 3v3m0 3v3m0 12v3m0 12v3m0 9v9m0 3v3m1-114v3m0 42v3m0 3v9m0 36v3m0 3v12m1-75v6m0 6v9m0 27v3m0 15v9m0 3v3m1-78v6m0 9v6m0 12v3m0 9v3m0 18v3m0 3v3m1-78v9m0 42v3m0 6v12m0 3v3m1-126v3m0 54v3m0 24v3m0 21v6m0 3v6m0 3v3m1-75v3m0 3v6m0 39v3m0 3v3m0 3v6m0 3v3m1-75v3m0 9v3m0 27v6m0 9v3m0 3v3m1-117v3m0 54v3m0 48v6m1-60v3m0 3v3m0 51v3m0 6v3m1-126v3m0 57v3m0 12v3m0 3v3m1-84v3m0 45v3m0 21v3m0 6v3m0 24v3m0 3v3m1-75v3m0 9v3m0 36v3m0 6v3m0 3v12m1-66v3m0 9v3m1-24v3m1 33v3m0 30v12m1-60v3m0 39v6m0 3v3m2-57v3m1-6v3m0 45v3m0 6v3m1-126v3m0 48v3m1 60v3m1-108v3m0 99v6m0 3v12m1-12v3m1-3v6m1-120v3m0 108v3m0 3v3m1-9v3m1-120v3m1-9v6m0 120v3m1-3v3m0 3v3m1-99v3m0 18v3m0 66v6m0 3v3m1-18v3m1-117v3m1 0v3m2 18v3m0 108v3m1-24v3m0 3v3m1 0v3m2-120v3m1-3v3m2 57v3m1 48v3m0 3v3m2-12v3m0 6v6m2-129v3m0 21v3m0 87v15m1-126v3m1 108v3m0 3v3m1-120v3m0 102v6m1-114v3m0 117v6m1-12v3m0 3v3m2-9v3m2-90v3m1-30v3m1 96v3m0 12v3m1-18v3m1-102v3m0 102v3m1-78v3m1 66v3m0 9v3m1-6v3m1-111v3m0 96v3m2-48v3m0 30v3m1-66v3m1 72v3m4-78v3m1 24v3m0 30v3m1-3v3m1-18v3m0 27v3m1-90v6m0 3v3m0 12v3m0 24v3m0 3v3m1-21v3m0 15v3m1-69v6m0 48v3m0 6v3m0 18v3m1-42v3m0 12v6m0 33v3m1-60v3m0 3v9m0 9v3m0 30v3m1-96v3m0 42v6m0 9v3m0 27v6m1-51v3m0 6v3m0 3v3m1-9v6m0 18v3m0 9v3m1-45v3m0 27v3m0 9v6m1-84v3m0 9v3m0 24v3m0 6v3m0 6v3m0 18v3m1-48v3m0 6v3m0 3v3m0 30v3m0 108v2m1-164v6m0 3v3m0 6v3m0 15v3m0 9v3m1-87v3m0 42v3m0 9v3m0 12v3m0 9v3m1-81v6m0 15v3m0 6v6m0 6v9m0 6v3m0 3v3m1-63v6m0 12v3m0 3v3m0 12v3m0 3v3m1 0v3m1-45v3m0 45v3m1 6v3m0 9v6m4-72v3m3-6v3m0 9v3m1-21v9m0 6v3m1-9v3m4-15v3m0 3v3m0 3v6m2-9v3m4 30v3m0 6v3m1-36v3m0 9v3m1-15v3m1-9v3m0 21v3m0 9v3m0 15v3m1-66v9m0 6v6m0 15v12m1-15v6m0 3v6m1-39v3m0 3v3m0 9v3m0 3v3m0 3v3m0 3v6m1-45v3m0 9v3m0 6v3m0 3v15m0 6v3m0 6v3m1-39v3m0 3v9m0 3v6m0 12v3m1-66v3m0 9v3m0 15v3m0 3v9m0 15v6m1-78v3m0 15v3m0 3v3m0 18v3m0 6v6m0 6v3m0 6v3m1-60v3m0 15v3m0 3v6m0 3v3m0 3v6m0 12v3m1-84v6m0 6v18m0 12v15m0 3v3m1-69v3m0 24v3m0 24v3m0 3v3m0 3v9m0 3v3m0 102v6m0 6v3m0 3v3m1-189v3m0 9v3m0 18v6m0 9v3m0 12v3m0 6v3m1-90v3m0 48v3m0 3v3m0 6v6m0 6v3m0 3v6m1-48v3m0 3v3m0 3v3m0 3v3m0 3v9m0 9v6m1-87v3m0 30v3m0 12v3m0 3v3m0 9v9m0 9v3m1-48v3m0 9v3m0 9v3m0 3v3m0 3v3m1-84v6m0 12v3m0 3v3m0 12v3m0 3v3m0 6v3m0 6v9m0 18v3m1-93v3m0 24v3m0 6v3m0 12v15m0 6v6m0 3v3m0 129v3m1-204v3m0 15v3m0 6v3m0 12v3m0 6v6m0 3v6m0 12v3m1-63v6m0 3v3m0 9v3m0 3v15m0 3v3m0 117v3m0 12v6m1-210v3m0 3v6m0 3v3m0 15v3m0 12v3m0 6v12m0 15v3m1-84v3m0 9v3m0 6v9m0 3v3m0 9v6m0 6v6m0 3v3m0 12v3m1-78v3m0 3v3m0 18v3m0 9v3m0 3v12m0 18v3m0 105v3m0 12v5m1-200v3m0 36v3m0 3v15m0 3v3m0 3v6m1-75v3m0 33v9m0 9v3m1-24v6m0 9v3m0 3v6m0 3v3m1-42v3m0 9v3m0 3v3m0 3v3m0 18v3m0 72v3m0 9v3m0 3v3m0 24v3m1-189v3m0 12v3m0 6v3m0 9v6m0 9v3m1-45v3m0 27v3m0 3v3m0 3v6m0 3v3m1-66v3m0 42v3m0 3v3m0 9v3m0 6v3m1-39v6m0 6v12m0 117v6m1-174v9m0 3v3m0 15v3m0 3v6m0 6v3m0 3v3m1-24v3m0 9v3m0 6v3m1-33v3m0 3v3m0 12v6m0 3v3m0 3v3m1-45v3m0 12v18m0 3v3m0 3v3m0 75v3m0 18v3m0 3v3m1-186v3m0 42v21m0 114v3m0 6v3m0 6v11m1-179v3m0 24v6m0 3v3m0 3v3m0 87v3m0 36v3m1-192v3m0 3v3m0 3v9m0 12v6m0 6v9m0 6v3m0 102v3m0 21v3m1-198v3m0 3v3m0 27v27m0 9v3m0 87v3m0 12v3m0 12v3m1-153v6m0 27v3m0 105v3m1-144v3m0 3v9m0 9v3m0 3v6m0 78v3m0 3v3m0 3v3m0 6v6m0 6v3m0 6v5m1-200v6m0 18v3m0 18v3m0 3v9m0 9v3m0 75v3m0 12v9m0 3v6m0 3v3m0 3v3m0 3v5m1-164v9m0 3v3m0 3v3m0 12v3m0 72v3m0 3v3m0 9v3m0 6v6m1-141v12m0 6v6m0 3v3m1-27v3m0 3v15m0 3v3m0 6v3m0 60v6m0 3v12m0 6v9m0 3v3m0 3v9m0 3v8m1-197v3m0 18v3m0 6v3m0 3v3m0 3v3m0 24v3m0 60v3m0 3v3m0 3v6m0 12v12m0 3v6m0 12v2m1-200v3m0 36v3m0 6v3m0 3v3m1-39v3m0 21v3m0 3v3m0 3v6m0 9v3m0 63v3m0 39v3m0 3v3m1-174v3m0 30v9m0 3v3m0 87v3m0 21v3m0 18v3m1-162v6m0 6v3m0 6v3m0 6v3m0 3v3m1-27v3m0 6v3m0 84v3m0 3v3m0 9v6m0 3v3m0 9v9m0 3v3m1-159v12m0 3v9m0 99v3m0 18v3m1-186v3m0 9v3m0 27v9m0 3v3m0 3v3m0 78v3m0 18v6m0 6v3m0 21v3m1-189v3m0 24v3m0 6v6m0 3v6m0 3v3m1-30v6m0 9v3m0 9v3m0 3v6m1-48v3m0 6v6m0 12v6m0 3v3m0 66v6m0 6v6m0 6v3m0 9v9m0 3v9m0 9v2m1-164v24m1-45v3m0 21v6m0 18v3m0 93v3m1-171v3m0 12v3m0 6v3m0 18v6m0 3v6m0 3v3m0 6v3m0 60v3m0 3v3m0 12v3m0 3v3m0 6v6m0 3v3m0 3v6m0 3v3m0 3v3m1-159v3m0 12v6m0 6v3m0 66v3m0 27v6m0 3v3m0 6v3m0 3v3m0 6v3m1-186v3m0 12v3m0 3v3m0 3v6m0 6v6m0 111v3m0 9v3m1-162v3m0 27v3m0 9v3m0 75v3m0 9v3m0 3v3m0 12v12m0 3v11m1-164v24m0 3v3m0 63v6m0 12v6m0 3v3m0 6v12m0 6v3m0 3v6m1-189v3m0 30v3m0 3v6m0 12v3m0 3v3m0 72v3m0 6v3m0 27v6m0 9v2m1-161v15m0 72v3m0 3v15m0 3v6m0 6v9m0 6v6m0 6v3m0 3v5m1-200v3m0 3v3m0 33v3m0 3v6m0 3v3m0 3v3m0 63v6m0 3v3m0 3v3m0 3v6m0 6v3m0 6v3m0 3v6m0 9v8m1-197v3m0 33v6m0 6v6m0 12v6m0 57v3m0 6v3m0 6v3m0 9v6m0 9v3m0 3v3m0 9v3m1-180v3m0 15v6m0 3v3m0 6v3m0 6v3m0 3v3m0 69v3m0 45v3m1-156v3m0 3v9m0 3v3m0 15v3m0 48v3m0 3v3m0 6v3m0 6v3m0 6v6m0 6v3m0 6v6m0 6v3m0 6v2m1-164v6m0 3v6m0 21v3m0 69v3m0 6v3m1-120v6m0 6v9m0 12v3m0 108v3m1-144v3m0 3v21m0 102v3m1-135v3m0 6v6m0 3v6m0 3v3m0 66v3m1-99v3m0 3v3m0 3v6m1-48v15m0 15v6m0 3v9m0 3v3m0 60v12m0 6v3m0 3v6m0 3v3m0 6v3m0 6v3m0 15v3m1-156v12m0 3v9m0 108v3m1-168v3m0 30v3m0 9v3m0 6v3m0 63v3m0 3v3m0 6v9m0 3v3m0 6v3m0 3v9m0 18v8m1-167v3m0 3v6m0 3v3m0 3v3m0 3v3m0 66v6m0 15v3m0 9v9m0 3v3m0 6v6m0 6v3m1-156v9m0 6v3m0 72v6m0 12v3m0 6v6m0 12v3m0 9v3m0 6v2m1-173v3m0 9v9m0 6v3m0 60v3m0 9v3m0 3v3m0 3v6m0 3v12m0 3v6m0 3v12m0 3v6m0 3v2m1-164v3m0 6v3m0 6v6m0 90v3m0 24v3m1-183v3m0 12v3m0 6v6m0 6v3m0 6v3m0 3v3m0 69v9m0 6v3m0 3v6m0 3v12m0 3v3m0 6v9m0 3v3m0 6v5m1-197v3m0 3v3m0 21v6m0 9v9m0 72v3m0 3v6m0 3v3m0 3v6m0 6v21m0 3v6m0 3v3m1-156v3m0 3v3m0 3v6m0 126v6m1-171v3m0 12v3m0 9v3m0 3v6m0 78v3m0 9v3m0 9v6m1-135v3m0 3v15m0 6v3m0 78v3m0 42v3m1-147v3m0 3v6m0 84v6m0 6v3m0 21v3m0 21v2m1-203v6m0 33v3m0 3v9m0 3v3m0 72v3m0 18v9m0 12v3m0 6v6m0 3v3m0 3v3m1-195v3m0 18v3m0 12v6m0 3v6m0 78v6m0 12v3m0 6v3m0 6v3m0 9v3m1-150v3m0 12v6m0 75v3m0 3v3m0 6v3m0 3v3m0 18v3m0 3v3m0 3v6m0 6v3m1-162v3m0 3v3m0 3v3m0 3v3m0 66v3m0 9v3m0 3v3m0 30v6m0 9v3m1-150v6m0 3v9m0 66v3m0 57v3m1-168v6m0 6v12m0 3v9m0 69v6m0 9v3m0 9v3m0 33v6m1-198v3m0 9v3m0 21v3m0 3v18m0 78v3m0 3v3m0 3v15m0 6v3m0 6v9m0 3v6m0 3v2m1-179v3m0 18v3m0 3v3m0 75v21m0 6v9m0 6v3m0 6v3m0 3v3m0 6v6m1-159v3m0 3v9m0 81v3m0 12v3m0 3v3m0 3v3m1-132v6m0 3v9m0 69v3m0 3v9m0 6v6m0 3v9m0 3v6m0 9v18m1-210v3m0 12v3m0 6v6m0 3v6m0 12v3m0 3v3m0 3v9m0 69v3m0 3v3m0 3v12m0 3v3m0 6v6m0 3v9m0 3v12m0 3v2m1-167v9m0 99v3m0 6v3m0 12v6m0 12v6m0 9v2m1-164v9m0 3v9m0 84v3m0 21v3m0 12v3m0 3v3m0 6v3m1-189v3m0 6v3m0 3v6m0 6v3m0 6v3m0 3v3m0 66v3m0 6v3m0 3v3m0 9v3m0 12v12m0 3v6m1-141v3m0 6v3m0 144v2m1-203v3m0 3v3m0 3v3m0 3v9m0 18v3m0 75v6m0 3v3m0 6v3m0 3v3m0 3v3m0 12v12m0 9v3m0 6v3m1-219v3m0 12v3m0 24v3m0 12v3m0 6v6m0 66v9m0 3v6m0 9v6m0 3v3m0 3v3m0 12v3m0 3v20m1-212v3m0 45v6m0 3v6m0 84v3m0 9v9m0 6v3m0 12v3m0 9v3m0 3v5m1-164v9m0 87v3m0 24v3m1-126v12m1-12v6m0 3v3m0 3v3m1-60v3m0 12v6m0 21v3m0 6v6m0 69v3m0 3v3m0 9v3m0 12v3m0 3v3m0 6v3m0 9v3m0 3v6m1-153v9m0 3v3m1-54v9m0 9v3m0 15v3m0 3v3m0 75v3m0 6v12m0 6v9m0 3v3m0 3v3m0 3v9m0 6v3m0 3v8m1-164v3m0 3v3m0 99v6m0 9v6m0 18v3m1-192v3m0 42v3m0 6v3m0 72v6m0 3v6m0 3v3m0 3v6m0 3v3m0 9v21m0 9v2m1-53v3m0 18v3m0 3v3m0 3v6m1-174v3m0 21v9m0 90v3m0 6v3m0 3v6m0 3v9m0 3v12m1-141v3m0 3v3m0 72v3m0 6v3m0 3v3m0 9v3m0 3v6m0 3v12m0 3v3m0 3v3m0 3v3m0 3v2m1-155v6m1-54v3m0 15v6m0 15v6m0 3v6m0 78v3m0 6v9m0 9v9m0 6v3m0 12v9m0 3v2m1-161v3m0 3v3m1-54v3m0 15v6m0 3v9m0 12v3m0 78v3m0 3v3m0 3v3m0 9v6m0 6v9m0 3v3m0 3v3m0 3v6m0 3v8m1-203v3m0 39v3m0 87v3m0 3v3m0 9v3m0 6v9m0 12v9m1-144v9m0 72v3m0 6v3m0 12v3m0 27v3m0 6v3m1-150v12m0 90v3m0 18v3m1-129v6m0 3v9m1-30v6m0 12v9m0 87v3m0 6v3m0 15v3m0 27v5m1-164v12m0 72v3m0 3v9m0 3v6m0 3v9m0 9v6m0 9v3m0 3v9m0 3v2m1-188v3m0 6v3m0 12v9m0 78v12m0 3v18m0 12v3m0 6v6m0 6v3m0 3v5m1-167v15m0 78v18m0 3v3m0 3v3m0 6v6m0 3v3m0 3v3m0 6v6m1-183v6m0 18v3m0 3v6m0 75v3m0 3v3m0 6v3m0 9v3m0 3v6m0 3v6m0 3v6m0 3v9m0 3v8m1-155v3m0 87v3m0 6v3m0 9v6m0 18v3m0 12v3m1-162v3m0 3v3m0 3v3m0 93v3m0 3v3m0 12v3m0 9v6m1-141v6m0 78v6m0 3v3m0 3v9m0 3v6m0 3v3m0 9v15m0 3v6m1-156v6m0 81v3m0 9v6m0 9v6m0 6v6m0 18v3m0 3v2m1-23v3m1-135v3m0 90v3m0 9v3m0 3v3m0 12v6m0 3v9m0 3v3m1-156v9m0 78v3m0 6v12m0 12v9m0 3v3m0 3v6m0 3v3m0 3v3m1-66v3m0 3v3m0 9v3m0 3v12m0 12v3m0 9v3m0 6v2m1-155v3m1 0v3m0 78v3m0 12v6m0 45v3m1-72v3m0 6v6m0 3v3m0 18v6m0 9v3m1-144v9m0 72v3m0 24v12m0 3v9m0 27v2m1-155v3m0 111v9m0 18v6m0 3v3m1-156v6m0 93v3m0 3v3m0 6v3m0 3v3m0 3v3m0 6v9m0 3v9m1-69v15m0 3v3m0 3v9m0 3v3m0 12v3m0 3v3m0 3v3m1-153v3m0 3v3m1-9v3m0 3v3m0 78v3m0 18v3m0 6v3m0 3v6m0 6v3m0 6v3m1-150v9m1-9v3m0 6v3m1-6v3m1-6v6m1-9v3m0 3v3m1-3v9m1-12v3m1-9v3m0 3v6m1-21v3m0 3v3m0 6v3m1-45v3m0 9v15m0 102v6m0 33v3m0 3v3m0 3v3m1-183v6m0 3v6m0 6v3m0 9v3m0 3v6m0 84v33m0 3v3m0 9v3m0 6v3m0 3v8m1-212v3m0 9v3m0 6v3m0 27v3m0 3v6m0 84v3m0 45v3m1-174v3m0 21v3m0 3v3m0 90v6m0 3v3m0 3v9m0 6v9m0 3v6m0 3v9m0 3v2m1-167v3m0 3v3m0 3v6m1-39v3m0 18v6m0 93v18m0 12v6m0 3v6m0 6v3m0 3v3m1-156v6m0 78v3m0 6v3m0 6v12m0 9v12m0 3v12m0 3v3m0 3v3m1-162v6m0 3v3m0 75v3m0 6v6m0 6v6m0 6v3m0 12v6m0 3v6m0 9v3m1-225v3m0 60v3m0 6v6m0 75v3m0 6v12m0 12v21m0 3v6m0 9v2m1-164v3m0 3v6m0 72v3m0 3v3m0 3v3m0 3v9m0 9v12m0 3v6m0 3v6m0 3v3m0 6v2m1-164v12m0 87v3m0 9v3m0 3v6m0 3v3m0 33v2m1-221v3m0 51v3m0 6v6m0 111v3m1-129v3m0 3v3m0 81v6m0 3v6m0 3v3m0 6v3m0 6v6m0 12v9m0 3v3m0 6v2m1-218v3m0 60v6m0 75v3m0 12v3m0 18v6m0 6v3m1-144v3m0 6v6m1-3v3m0 93v3m0 3v3m0 6v3m0 9v3m0 6v3m0 9v3m1-150v6m0 96v3m0 6v3m1-183v3m0 60v3m0 6v3m0 81v3m0 6v3m0 12v3m0 3v3m0 3v3m0 15v3m0 3v3m0 3v3m1-219v3m0 60v9m1-75v3m0 57v9m0 3v3m1-15v15m1-18v6m0 3v6m1-6v3m1-66v3m0 21v3m0 30v3m1-9v3m1-21v3m1-36v6m1-9v3m0 3v3m1-9v3m0 48v3m1-57v3m0 33v3m1-48v3m0 6v3m0 33v3m2-60v6m0 12v3m1 0v3m1-21v3m0 15v3m1-3v3m0 57v3m1-63v3m0 36v3m1-42v3m0 63v3m2-66v3m0 60v3m1 0v9m1-78v3m1 69v3m0 6v3m0 6v3m1-27v6m0 9v3m0 3v3m1-12v12m1-93v3m0 36v3m0 21v6m0 18v3m1-87v3m1-9v3m0 96v9m1-105v3m0 60v3m1 21v3m0 15v9m1-114v3m0 60v3m0 42v3m1-48v6m0 9v3m0 6v6m0 6v3m0 6v3m1-108v3m0 81v3m0 33v3m1-87v3m0 21v9m0 18v3m0 9v3m0 3v6m1-51v3m0 6v6m0 3v3m0 15v6m0 9v3m1-51v6m0 6v3m0 6v3m0 9v3m0 6v3m0 3v3m1-117v3m0 69v9m0 6v6m0 6v3m1-105v9m0 9v3m0 60v6m0 3v6m0 6v3m1-108v3m0 3v6m0 60v6m0 24v3m0 12v6m1-114v3m0 27v3m0 39v3m0 3v3m0 6v3m0 9v3m1-21v6m1-93v3m0 3v3m0 72v3m0 6v3m1-81v3m0 66v3m2-15v3m1-72v6m0 66v3m1-81v6m1-6v3m0 3v6m1 63v3m0 3v12m0 6v9m1-99v3m0 96v3m1-99v3m0 69v3m0 3v3m0 6v3m1-90v3m0 63v3m1-87v3m0 3v9m0 72v3m1-93v3m0 3v9m0 3v3m1-6v3m0 30v3m1-51v3m0 3v3m0 12v3m0 57v3m1-90v3m0 3v3m0 3v6m0 9v3m0 6v3m0 24v3m1-45v3m0 12v3m0 18v12m0 3v3m0 12v9m1-87v3m0 12v3m0 81v3m0 3v3m0 6v3m0 6v3m0 3v3m0 6v3m1-141v6m0 6v3m0 3v3m0 18v6m0 18v3m0 30v3m0 9v3m0 9v3m0 3v3m0 3v6m0 3v9m1-150v3m0 15v3m0 9v3m0 15v3m0 3v6m0 48v3m0 12v3m0 3v3m1-135v3m0 3v3m0 3v9m0 33v3m0 9v6m0 9v9m0 30v3m0 48v3m1-180v6m0 12v3m0 3v3m0 12v3m0 3v3m0 15v9m0 3v3m0 6v6m0 3v3m0 63v3m0 6v6m1-165v3m0 6v3m0 15v6m0 12v15m0 3v6m0 9v3m0 12v3m0 3v3m0 33v3m0 3v3m1-141v9m0 3v6m0 6v6m0 3v3m0 12v3m0 3v12m0 15v15m0 6v9m0 6v3m0 6v12m1-147v9m0 3v3m0 3v3m0 12v6m0 6v3m0 6v3m0 3v3m0 6v3m0 12v3m0 24v3m0 3v6m0 3v3m1-132v15m0 12v3m0 6v9m0 12v3m0 6v3m0 3v6m0 9v9m0 9v3m0 6v3m0 3v6m1-117v3m0 6v9m0 9v6m0 6v3m0 9v6m0 3v6m0 9v15m1-99v3m0 3v3m0 15v6m0 6v6m0 12v24m1-75v3m0 3v3m0 9v9m0 3v9m0 6v6m0 3v3m0 6v6m0 3v6m1-57v6m0 15v3m0 6v6m0 3v3m0 3v3m0 3v12m1-84v3m0 6v3m0 3v3m0 6v3m0 9v3m0 3v3m0 6v6m0 3v3m0 3v3m0 3v3m1-75v3m0 6v3m0 3v3m0 15v3m0 18v3m0 6v6m0 6v3m0 3v3m1-87v3m0 9v3m0 9v3m0 6v3m0 9v3m0 6v3m0 3v12m0 3v6m1-69v3m0 6v3m0 12v3m0 6v3m0 6v6m0 3v6m0 3v3m0 3v6m1-81v3m0 15v9m0 3v9m0 3v3m0 6v3m0 6v9m0 3v3m1-78v3m0 9v3m0 6v6m0 9v6m0 12v9m0 15v6m1-81v3m0 12v9m0 6v3m0 3v3m0 21v3m0 9v6m0 3v3m1-66v3m0 9v9m0 3v3m0 9v6m0 3v12m1-57v3m0 3v3m0 6v6m0 3v3m0 15v3m0 6v6m0 3v3m1-66v3m0 6v3m0 15v3m0 6v9m0 3v3m0 3v12m1-60v6m0 6v6m0 12v6m0 6v6m0 6v3m1-60v3m0 3v3m0 6v6m0 9v18m0 6v3m0 3v3m1-84v6m0 6v3m0 6v9m0 9v3m0 15v18m0 3v3m0 3v3m1-87v6m0 3v3m0 9v6m0 15v6m0 3v18m0 6v3m0 3v6m1-66v3m0 12v6m0 6v3m0 3v3m0 3v3m0 3v6m0 3v3m0 9v3m1-90v3m0 15v6m0 3v3m0 3v3m0 9v3m0 3v3m0 9v18m0 3v3m0 18v3m1-108v3m0 18v3m0 3v3m0 6v6m0 6v3m0 6v15m0 3v15m0 6v3m0 3v3m0 3v6m1-105v3m0 9v6m0 6v3m0 3v6m0 9v3m0 3v18m0 3v3m0 3v3m0 24v3m0 3v3m0 3v9m1-132v3m0 9v15m0 3v3m0 3v3m0 9v9m0 3v18m0 18v3m0 3v6m0 18v3m1-114v3m0 3v3m0 9v3m0 15v9m0 3v6m0 3v6m0 18v3m0 6v3m0 6v3m0 3v3m1-114v3m0 6v3m0 3v3m0 3v9m0 6v3m0 9v3m0 12v3m0 12v6m0 3v3m0 3v3m0 15v3m1-108v3m0 3v3m0 12v3m0 3v3m0 9v3m0 6v3m0 3v6m0 9v3m0 3v3m0 24v9m0 6v3m1-135v3m0 6v3m0 9v3m0 12v3m0 3v6m0 12v3m0 3v9m0 33v3m0 6v3m1-123v6m0 12v3m0 6v3m0 6v6m0 3v3m0 6v12m0 6v3m0 3v3m0 27v6m0 12v6m0 3v3m1-114v6m0 6v3m0 3v6m0 6v18m0 3v6m0 3v3m0 30v3m1-99v6m0 9v3m0 3v3m0 3v3m0 3v9m0 3v12m0 3v6m0 18v3m0 3v6m0 3v6m0 6v3"/><path stroke="#0000f9" stroke-width="1" d="M102.5 148v9m0 3v3m0 3v3m0 3v9m0 12v9m0 24v9m0 9v3m1-99v3m0 3v3m0 9v3m0 3v3m0 3v9m0 9v9m0 27v3m0 3v3m1-93v3m0 3v12m0 3v12m0 6v6m0 9v3m0 24v3m0 6v9m1-111v6m0 12v6m0 3v3m0 6v9m0 3v6m0 3v6m0 33v3m0 6v3m1-93v9m0 6v3m0 3v3m0 3v3m0 3v9m0 3v9m0 24v6m0 3v3m1-99v3m0 9v3m0 3v18m0 3v9m0 6v6m0 24v3m0 3v3m0 6v3m1-105v3m0 12v6m0 6v3m0 6v3m0 6v9m0 3v3m0 3v3m0 24v3m1-90v3m0 6v3m0 6v3m0 3v3m0 3v3m0 6v12m0 6v3m0 27v3m1-87v6m0 15v3m0 3v9m0 3v6m1-93v6m0 3v3m0 12v3m0 9v6m0 3v3m0 6v3m0 6v3m0 6v3m0 3v3m0 18v3m1-147v3m0 15v3m0 6v3m0 6v3m0 15v6m0 18v3m0 3v3m0 12v3m0 9v3m1-114v3m0 6v3m0 6v3m0 6v6m0 3v3m0 45v3m1-87v6m0 3v3m0 12v3m0 3v3m0 12v3m1-42v3m1-6v3m1-6v3m1-3v3m0 9v3m1-15v6m0 3v3m0 15v3m0 3v3m1-36v6m0 3v3m0 12v6m0 9v3m1-24v3m0 3v6m0 24v3m0 9v3m1-69v6m0 9v3m0 3v3m1-24v3m0 6v3m0 36v3m0 6v3m0 18v3m1-81v3m0 6v3m0 12v3m0 9v3m0 3v3m0 15v3m0 9v3m0 9v3m1-87v3m0 6v3m0 6v3m0 6v3m0 15v6m0 3v3m0 3v9m0 6v3m0 12v3m1-93v3m0 6v3m0 24v3m0 6v6m0 9v3m0 6v12m0 6v3m1-72v3m0 3v3m0 9v3m0 33v6m0 3v3m1-84v3m0 15v3m0 3v6m0 21v3m0 15v3m0 18v3m0 6v3m0 3v3m0 3v3m1-96v3m0 15v3m0 9v6m0 15v6m0 15v6m0 6v6m0 21v3m1-123v3m0 6v3m0 6v6m0 3v3m0 9v3m0 24v3m0 15v3m1-96v3m0 15v3m0 15v3m0 9v3m0 18v3m0 24v6m0 6v6m0 36v3m1-153v3m0 24v3m0 15v6m0 3v3m0 30v3m0 9v3m0 3v3m0 6v3m1-99v3m0 3v6m0 6v3m0 9v3m0 33v3m0 12v3m1-75v6m0 3v3m0 33v3m0 9v3m1-87v3m0 33v3m0 15v3m1-39v3m0 24v6m0 24v3m1-60v3m0 27v3m1-42v3m0 36v3m0 3v3m1-54v3m0 3v3m0 6v3m0 3v3m1-27v3m0 15v3m0 51v3m1-75v3m0 15v3m0 27v3m0 21v3m1-66v3m0 6v3m0 15v3m0 6v3m0 21v6m1-75v3m0 6v3m0 6v3m0 15v3m0 9v3m1-45v6m0 6v3m0 6v3m0 15v3m1-39v3m0 6v3m1-18v3m0 3v3m0 39v3m1-6v3m0 18v3m1-63v3m0 6v3m1-3v3m0 27v3m1-33v3m0 15v3m1-30v3m0 6v3m0 27v3m1-39v6m1-12v3m0 9v3m1-3v3m1 15v3m0 36v3m1-60v3m0 63v3m1-72v6m1 66v3m1-21v3m0 21v3m1-75v3m0 69v9m1-9v3m0 3v3m1-78v3m0 66v3m0 3v6m1-6v6m1-78v3m0 66v3m1-63v3m0 51v3m1 3v3m1-9v6m0 6v3m1-84v3m0 78v3m1-81v3m0 66v3m0 3v6m0 3v3m1-18v3m0 3v3m0 3v3m0 6v3m1-24v3m0 117v3m0 12v3m1-141v6m0 6v6m0 3v6m0 27v3m0 18v3m0 63v3m1-141v6m0 6v6m0 15v3m0 75v3m0 21v3m1-138v6m0 3v6m0 84v3m1-93v3m0 6v3m0 99v3m1-189v3m0 174v6m0 27v3m1-192v3m0 45v15m0 105v3m0 6v3m1-207v3m0 66v3m0 9v3m0 102v3m0 12v3m0 3v3m0 6v3m1-216v3m0 66v3m0 3v3m0 3v3m0 117v6m0 6v3m1-138v3m0 24v3m1-114v3m0 75v3m0 132v3m1-21v3m1-123v3m0 3v3m1-12v3m1-3v3m0 135v3m1-207v3m0 201v3m1-183v3m0 39v6m0 135v3m0 6v3m1-147v6m1-54v3m0 42v6m0 3v3m0 129v6m1-147v3m0 135v3m1-99v6m1-3v12m0 18v3m0 6v3m1-180v3m0 135v3m0 6v3m0 24v9m1-183v6m0 111v3m0 51v3m0 9v3m1-177v3m0 123v3m0 3v6m0 30v3m1-81v3m0 15v3m0 24v3m0 9v3m0 15v6m1-81v3m0 15v3m0 15v3m0 3v3m0 3v3m0 27v6m1-48v9m0 33v3m1-144v3m0 57v3m0 39v6m0 3v3m1-114v3m0 102v6m0 3v6m0 15v3m0 3v3m0 3v3m1-69v3m0 18v12m0 6v3m1-63v3m0 18v3m0 24v3m0 3v3m0 6v3m0 9v3m1-39v3m0 3v9m0 15v3m0 12v3m1-87v3m0 36v9m0 30v3m0 3v3m1-87v3m0 39v9m0 6v3m0 9v3m0 3v3m0 6v3m1-66v3m0 21v3m0 30v9m1-45v3m0 36v9m1-90v3m0 42v3m0 3v3m1-15v12m0 36v3m1-51v3m0 9v3m0 24v3m1-147v3m0 63v3m0 18v3m0 21v3m0 9v3m0 18v6m0 3v3m1-48v6m0 3v3m0 30v3m1-66v3m0 15v3m0 6v6m0 21v12m1-42v6m0 27v9m1-87v6m0 15v3m0 15v3m0 3v6m0 33v3m1-48v6m0 9v3m0 24v3m1-45v6m0 6v3m0 27v6m1-33v3m0 21v3m1-150v3m0 69v3m0 15v3m0 21v3m0 18v3m1-138v3m0 105v3m0 9v3m0 21v6m0 3v3m1-156v3m0 99v3m0 3v3m0 3v9m0 27v3m1-153v3m0 111v6m0 9v3m0 18v6m1-84v3m0 15v3m0 21v3m0 6v3m0 3v3m0 18v3m0 3v3m1-159v3m0 87v3m0 15v9m1-51v3m0 3v3m0 15v3m0 18v6m0 36v3m1-48v3m0 3v12m0 24v3m1-153v3m0 108v3m1-24v3m0 18v9m0 27v3m1-60v3m0 21v3m0 33v6m1-159v3m0 111v9m0 27v3m1-81v3m0 18v3m0 15v9m1-27v3m0 21v6m0 27v9m1-48v9m0 6v6m0 18v3m0 6v3m1-69v3m0 15v9m0 3v6m0 24v3m0 3v3m1-69v3m0 15v6m0 6v3m1-126v3m0 66v3m0 21v3m0 27v3m0 30v3m1-159v3m0 75v3m0 33v3m0 3v3m0 33v3m1-66v3m0 24v3m0 27v9m1-159v3m0 75v3m0 12v3m0 15v9m0 39v3m1-48v3m0 39v3m1-66v3m0 15v6m0 36v3m1-156v3m0 108v15m0 30v3m1-159v3m0 69v3m0 36v3m0 3v6m0 30v6m1-159v3m0 90v3m0 15v3m0 3v3m0 3v3m0 27v3m0 3v3m1-162v3m0 90v3m0 18v3m0 3v3m0 27v3m0 6v3m1-162v3m0 90v3m0 18v3m0 9v3m0 24v3m1-156v3m0 90v3m0 15v6m0 3v3m0 33v6m1-51v6m0 3v3m0 33v6m1-162v3m0 111v6m0 27v9m0 3v3m1-69v3m0 9v3m0 15v3m0 30v6m1-45v3m0 36v6m1-162v3m0 117v3m1-123v3m0 117v6m0 18v3m0 6v9m1-51v3m0 6v3m0 27v3m0 3v3m1-51v6m0 3v3m1-120v3m0 156v3m1-168v3m1 153v3m1-153v3m0 108v6m0 42v3m1-51v3m0 42v3m1-9v3m1-153v3m0 66v3m0 78v9m1-159v3m0 150v3m2-156v3m1 111v3m0 6v3m1-15v3m0 36v3m1-39v6m0 3v3m0 24v6m1-45v6m0 3v3m0 30v6m1-36v6m0 27v9m1-153v3m0 96v3m0 3v6m0 27v3m1-39v3m1-6v3m0 6v6m0 27v6m1-6v3m1-45v6m1 0v6m0 27v3m0 3v3m1-159v3m0 108v6m0 3v3m1-129v3m0 156v6m1-159v3m0 150v3m1-156v3m0 111v6m0 33v3m1-48v9m0 36v3m1-39v3m0 3v3m0 24v3m0 3v6m1-51v6m0 33v3m1-39v9m0 3v3m0 3v6m0 6v15m0 3v3m1-54v3m0 6v9m0 6v9m0 3v9m0 6v3m1-165v3m0 75v3m0 30v12m0 6v3m0 3v9m0 6v12m0 3v3m1-51v6m0 3v6m0 6v9m0 3v3m0 3v9m1-57v6m0 15v6m0 3v3m0 3v24m1-168v3m0 105v3m0 3v6m0 3v3m0 3v3m0 3v6m0 3v18m1-162v3m0 111v6m0 3v3m0 3v3m0 3v6m0 3v6m155-168v9m0 3v3m0 24v9m0 18v3m0 12v3m0 51v9m0 24v3m0 3v6m0 3v3m0 6v3m1-195v9m0 3v3m0 24v9m0 18v3m0 12v3m0 51v9m0 24v3m0 3v6m0 3v3m0 6v3m1-195v9m0 3v3m0 24v9m0 18v3m0 12v3m0 51v9m0 24v3m0 3v6m0 3v3m0 6v3m1-195v9m0 3v3m0 24v9m0 18v3m0 12v3m0 51v9m0 24v3m0 3v6m0 3v3m0 6v3m1-195v9m0 3v6m0 21v9m0 18v6m0 9v3m0 51v9m0 24v3m0 3v6m0 3v3m0 6v3m0 3v3m1-207v6m0 3v3m0 3v3m0 3v9m0 6v3m0 15v6m0 9v9m0 9v3m0 3v3m0 27v3m0 3v3m0 9v3m0 3v3m0 18v3m0 3v3m0 3v6m0 18v6m0 12v3m0 12v3m1-177v6m0 24v3m0 18v3m0 3v6m0 15v12m0 12v3m0 3v9m0 3v3m0 3v12m0 3v3m0 15v6m0 3v3m0 3v6m1-156v3m0 3v6m0 12v6m0 3v6m0 9v3m0 6v3m0 12v9m0 24v3m0 3v12m0 21v3m0 6v3m1-240v3m0 87v6m0 18v6m0 3v6m0 3v3m0 3v6m0 9v3m0 57v6m0 3v15m1-234v3m0 78v9m0 9v3m0 6v6m0 21v3m0 6v3m0 3v3m0 6v3m0 3v3m0 24v3m0 27v3m0 9v3m1-222v3m0 63v9m0 6v3m0 6v3m0 9v3m0 9v3m0 3v3m0 3v6m0 3v6m0 18v6m0 3v12m1-99v6m0 6v6m0 3v3m0 3v3m0 6v3m0 6v3m0 9v3m0 12v18m1-159v3m0 51v3m0 3v12m0 9v6m0 3v3m0 3v3m0 3v3m1-24v6m0 3v9m0 18v3m0 36v3m0 9v9m1-123v3m0 3v3m0 3v3m0 9v12m0 12v3m0 3v12m0 3v3m0 9v9m1-90v3m0 3v3m0 9v3m0 9v9m0 9v9m0 6v24m1-84v6m0 3v3m0 6v3m0 6v9m0 9v9m0 3v6m0 3v9m0 3v3m0 15v3m0 3v9m1-150v3m0 33v3m0 9v6m0 6v9m0 3v3m0 12v3m0 3v15m0 72v12m1-153v6m0 3v3m0 9v3m0 3v15m0 6v3m0 3v3m0 18v6m0 3v3m0 6v3m1-138v3m0 36v3m0 12v12m0 9v6m0 9v3m0 6v3m0 6v9m1-78v6m0 3v6m0 9v9m0 3v3m0 3v3m0 3v3m0 3v12m0 18v15m0 9v3m1-111v6m0 3v6m1-15v6m0 6v3m0 12v9m0 6v3m0 3v3m0 6v3m0 18v3m1-81v9m0 3v3m0 12v3m0 6v3m0 15v6m0 3v3m0 3v3m0 3v3m0 3v3m0 3v6m1-120v3m0 18v3m0 3v9m0 3v3m0 15v3m0 3v9m0 3v3m0 3v3m0 3v3m0 6v9m0 3v3m0 9v3m0 9v3m0 33v6m0 3v6m1-186v3m0 27v6m0 24v6m0 15v9m0 3v3m0 6v3m0 3v6m1-114v3m0 27v12m0 6v3m0 12v3m0 12v9m0 3v3m0 21v3m1-93v3m0 3v6m0 3v6m0 9v3m1-27v3m0 3v12m0 12v9m0 3v3m0 6v6m0 3v6m0 3v3m0 12v3m1-87v3m0 6v15m0 3v3m0 21v3m0 6v3m0 6v3m0 9v6m1-93v3m0 3v12m0 3v3m0 6v9m0 6v6m0 3v9m0 3v12m1-72v3m0 3v3m0 3v6m0 6v3m0 3v9m0 3v3m0 3v3m0 3v3m0 6v3m0 18v3m1-87v6m0 12v3m0 3v3m0 3v9m0 3v3m0 3v3m1-48v3m0 18v3m0 3v3m0 3v3m0 12v3m0 9v3m1-96v3m0 21v3m0 6v3m0 6v3m0 9v3m0 3v6m0 12v18m0 3v3m0 12v3m1-117v3m0 21v3m0 3v3m0 9v6m0 12v3m0 12v21m1-63v3m0 3v3m0 12v3m0 3v3m0 3v3m0 18v3m0 9v3m0 6v9m1-93v3m0 3v12m1-12v6m0 3v3m0 3v3m0 6v3m0 3v3m0 3v3m0 18v9m0 3v3m0 6v3m1-87v3m0 3v6m0 3v3m0 9v6m0 3v3m0 3v6m0 21v6m0 3v3m0 6v3m1-84v3m0 3v6m0 12v3m0 6v3m0 6v3m0 3v3m0 3v3m0 3v3m1-57v3m0 3v6m0 6v6m0 9v3m0 3v3m0 6v9m0 12v6m1-81v9m0 21v3m0 3v3m0 3v3m0 3v3m0 3v3m0 3v6m0 3v3m0 6v9m1-87v3m0 3v12m0 12v9m0 12v6m0 6v3m0 3v6m0 3v3m1-81v3m0 6v6m0 9v3m0 3v3m0 6v3m0 6v3m0 3v12m1-63v6m0 3v3m0 9v6m0 21v6m0 3v6m0 12v3m0 3v3m1-84v9m0 12v6m0 3v3m0 15v6m0 21v3m0 3v3m1-87v3m0 6v3m0 3v3m0 9v3m0 6v3m0 3v6m0 12v3m0 3v3m0 12v6m1-93v3m0 3v3m0 3v6m0 12v6m0 3v6m0 9v6m0 3v6m0 9v3m1-102v3m0 18v3m0 9v3m0 9v3m0 27v6m0 3v6m0 3v3m0 15v3m1-93v3m0 3v9m0 27v3m0 3v3m0 3v3m0 3v3m0 21v6m1-90v3m0 3v3m0 15v3m0 3v3m0 9v3m0 3v3m0 9v3m0 3v6m0 3v3m0 6v3m0 3v3m1-84v3m0 18v3m0 3v3m0 9v3m0 3v3m0 6v3m0 3v3m0 3v3m0 9v3m1-114v3m0 21v3m0 6v3m0 3v9m0 18v6m0 6v3m0 3v3m0 3v6m1-72v3m0 12v6m0 21v3m0 9v3m0 3v3m0 24v3m1-78v3m0 3v3m0 12v6m0 9v3m0 24v3m0 6v6m1-84v3m0 27v3m0 3v3m0 3v3m0 3v3m0 3v9m0 3v3m0 9v3m1-87v3m0 6v3m0 6v9m1-60v3m0 36v3m0 6v6m0 9v3m0 3v3m0 3v3m0 3v3m0 9v3m1-36v3m0 6v3m0 3v3m0 3v3m0 3v9m0 9v3m0 9v3m1-81v15m0 9v6m0 6v9m0 3v3m0 3v3m0 3v6m0 3v3m0 3v3m0 3v3m1-123v3m0 39v3m0 3v6m0 3v3m0 6v3m0 3v3m0 3v3m0 6v3m0 3v9m0 15v6m1-78v6m0 18v3m0 3v3m0 9v12m0 21v3m1-84v3m0 3v3m0 21v6m0 6v3m0 12v9m0 12v6m1-114v3m0 27v3m0 3v6m0 12v6m1-30v9m0 6v3m1-24v3m0 3v6m0 6v6m0 3v3m0 6v3m0 3v6m0 9v18m0 3v3m0 6v3m1-123v3m0 45v3m0 15v6m0 3v3m0 3v3m0 3v18m0 3v3m0 6v3m1-78v6m0 6v3m0 6v3m0 3v3m0 6v3m0 39v3m1-120v3m0 39v3m0 12v3m0 3v3m0 3v3m0 3v6m0 3v3m0 3v9m0 15v6m1-84v3m0 30v3m0 3v6m0 15v3m1-63v3m0 3v9m0 6v6m0 3v3m0 6v3m0 6v3m0 3v9m0 18v3m1-117v3m0 24v3m0 3v12m0 15v12m0 3v3m0 6v9m0 3v3m0 15v3m1-78v6m0 3v3m0 12v6m0 6v6m0 3v6m0 3v3m0 9v3m0 6v6m1-117v3m0 21v3m0 6v3m0 15v3m0 12v6m1-48v3m0 3v6m0 30v3m0 3v3m0 9v3m0 12v3m1-78v3m0 3v6m0 3v3m0 3v6m0 12v9m0 9v6m0 21v9m1-93v3m0 12v3m0 21v6m0 3v3m0 3v3m0 3v3m0 3v3m0 12v3m0 3v3m1-90v3m0 6v3m0 3v3m0 9v3m0 6v6m0 6v9m0 6v3m0 6v6m1-60v6m0 6v3m0 3v15m0 9v12m0 12v6m1-84v3m0 3v15m0 3v3m0 3v3m0 3v9m0 9v3m0 3v3m0 15v3m1-114v3m0 30v3m0 3v15m0 9v6m0 6v3m0 6v9m0 6v6m1-72v3m0 6v6m0 6v3m0 3v6m0 9v3m0 6v3m0 3v9m0 12v3m1-81v6m0 3v6m0 6v3m0 6v9m0 3v3m0 3v3m0 6v6m0 12v6m1-114v3m0 30v3m0 9v3m0 9v6m0 6v3m0 9v9m0 3v3m0 3v3m0 9v6m1-84v3m0 6v3m0 3v3m0 3v12m0 3v3m0 9v3m0 3v3m0 24v6m1-87v3m0 9v3m0 3v3m0 3v3m0 3v3m0 6v6m0 9v6m0 18v6m1-84v9m0 3v3m0 9v3m0 3v3m0 3v6m0 9v3m0 9v3m0 12v3m1-123v3m0 39v3m0 6v6m0 9v3m0 3v3m0 3v9m0 9v3m0 3v9m1-69v6m0 6v9m0 6v12m0 9v3m0 3v18m0 9v3m1-126v3m0 51v15m0 3v3m0 6v3m0 6v6m0 21v3m0 3v3m1-84v12m0 3v12m0 9v3m0 3v3m0 6v6m0 3v3m0 6v3m0 6v3m1-120v3m0 42v3m0 3v3m0 6v12m0 6v6m0 3v6m0 9v3m0 3v3m0 12v3m1-75v6m0 12v6m0 3v3m0 6v3m0 12v3m0 3v3m0 6v6m1-84v15m0 3v3m0 9v3m0 3v6m0 15v3m0 3v3m0 6v3m1-120v3m0 45v9m0 3v3m0 3v6m0 3v3m0 3v9m0 6v6m0 3v3m0 3v6m0 6v3m1-81v3m0 6v9m0 12v3m0 3v3m1-36v3m0 3v12m0 3v3m0 6v3m0 12v3m0 12v3m0 3v3m0 9v3m1-81v9m0 12v3m0 27v3m0 6v3m0 12v3m1-81v6m1-6v3m0 3v3m0 12v3m0 24v3m1-45v6m0 3v3m0 12v3m0 33v3m0 15v3m1-78v6m0 6v3m0 39v3m0 6v3m1-45v3m0 3v6m0 9v3m0 6v3m1-114v3m0 51v3m0 6v3m1-12v6m0 3v3m0 9v3m0 36v3m0 3v6m0 3v6m1-135v3m0 63v3m0 36v3m1-102v3m0 105v3m1-60v3m0 51v3m0 6v3m1-120v3m0 120v9m1-84v3m0 63v3m0 9v6m1-18v3m0 9v6m1-126v3m0 60v3m0 39v3m0 6v12m1-33v9m0 6v12m1-9v3m0 6v6m1-21v9m0 3v3m0 3v3m1-21v6m0 9v3m1-18v3m0 9v9m1-135v3m2 69v3m0 45v6m0 6v3m1-21v6m0 3v6m0 3v3m1-24v3m0 6v3m0 3v3m1-6v3m0 6v6m1-60v3m2-24v3m0 9v3m1-63v3m1 63v3m1 27v3m0 9v3m0 12v3m1-132v3m0 54v3m0 3v3m0 33v15m0 3v6m1-117v3m0 99v6m0 6v3m2-42v3m0 27v3m0 15v3m1-75v3m0 51v3m1-114v3m0 84v3m0 9v3m0 6v3m0 12v6m1-42v3m1 12v3m0 9v3m1-69v3m0 48v6m0 3v6m0 3v3m1-120v3m0 45v3m0 6v6m0 6v3m0 6v3m0 3v6m0 9v3m1-102v3m0 96v3m0 9v3m0 3v3m1-117v3m0 48v3m0 42v6m0 3v6m1-117v3m0 66v3m0 30v6m0 6v9m1-21v6m0 3v9m1-57v6m0 21v3m0 3v3m0 6v3m0 3v6m1-114v3m0 51v3m0 3v6m0 45v3m1-117v3m0 72v3m0 24v6m0 3v3m1-57v3m0 39v6m0 3v6m1-51v3m0 24v3m0 6v3m0 6v6m1-111v3m0 96v3m1-45v3m0 12v3m0 9v3m0 3v3m0 3v3m0 12v3m1-54v3m1-12v3m0 30v3m1-90v3m0 87v3m0 9v6m1-3v6m1-57v3m0 3v3m0 39v6m0 3v3m1-114v6m1 84v3m1-33v3m0 9v3m0 12v3m0 12v3m1-15v6m1-45v3m0 12v3m1-15v3m0 9v3m0 30v3m0 3v3m1-57v3m0 33v3m1-81v3m0 48v6m0 9v3m0 12v3m0 9v6m1-54v3m0 15v3m0 24v6m1-51v3m0 3v6m0 9v3m0 6v12m1-81v3m0 45v9m0 18v6m1-42v3m0 24v3m0 3v6m0 6v3m0 6v3m1-99v3m0 39v3m0 3v6m0 3v3m0 12v9m0 6v6m0 111v2m1-197v3m0 21v3m0 6v3m0 15v6m0 3v3m0 3v3m0 9v3m0 3v3m1-63v3m0 6v6m0 3v9m0 6v12m0 3v3m0 3v3m1-57v3m0 9v3m0 6v6m0 12v12m0 9v3m1-57v3m0 6v3m0 6v3m0 3v3m0 3v3m0 6v3m0 6v6m0 96v3m0 9v3m1-165v3m0 6v3m0 3v6m0 3v3m0 3v3m0 9v3m0 117v5m1-161v3m0 6v9m0 6v3m0 3v3m0 9v3m0 114v2m1-167v3m0 21v3m1-24v6m0 21v3m1-33v3m0 6v3m0 6v3m0 15v6m0 105v3m0 3v3m0 6v3m1-180v3m0 3v3m0 9v6m0 3v9m0 3v6m0 6v6m0 9v3m1-72v3m0 9v3m0 9v3m0 6v9m1-39v3m0 27v3m0 3v6m0 3v3m1-48v3m0 27v12m2 138v2m3-197v3m0 3v6m0 30v3m0 150v2m1-194v3m1 6v3m0 6v3m2-18v3m0 6v3m0 33v3m0 132v3m0 3v5m1-8v3m1-186v3m0 3v3m1-12v3m0 12v3m1-6v3m0 3v3m0 45v3m0 99v9m0 3v6m1-156v3m1-6v12m1 9v3m0 15v3m0 120v3m1-165v15m0 3v6m0 12v3m0 114v6m1-183v3m0 21v3m0 9v3m0 9v3m0 3v3m1-57v3m0 15v3m0 3v9m0 3v3m0 3v3m0 18v3m1-51v3m0 9v3m0 6v9m0 3v3m0 3v3m0 3v3m1-51v3m0 15v6m0 12v3m0 3v3m0 15v3m1-63v6m0 9v3m0 9v3m0 6v9m0 3v6m0 102v3m0 6v3m0 6v5m1-191v9m0 3v3m0 9v3m0 3v3m0 9v3m0 9v3m0 3v9m1-66v3m0 6v3m0 15v3m0 15v3m0 9v3m0 9v3m0 78v9m0 6v3m0 6v3m0 6v5m1-191v21m0 3v3m0 3v3m0 9v3m0 15v3m0 3v3m0 114v3m1-180v6m0 3v6m0 12v3m0 9v12m0 9v3m1-60v3m0 6v3m0 3v9m0 3v3m0 9v6m0 3v6m0 123v5m1-209v3m0 33v3m0 6v3m0 6v3m0 12v6m0 3v3m0 3v3m1-51v3m0 18v3m0 3v6m0 3v3m0 3v9m1-69v3m0 24v3m0 3v3m0 3v3m0 9v3m0 9v6m0 3v3m0 78v6m0 6v3m0 12v3m0 6v2m1-173v3m0 9v9m0 3v12m0 3v6m1-90v3m0 48v3m0 3v3m0 3v6m0 6v3m0 6v3m0 6v6m0 87v3m0 3v9m0 6v9m1-162v3m0 3v3m0 153v2m1-173v3m0 9v3m0 3v9m0 15v3m1-36v3m0 3v3m0 3v3m0 9v3m0 6v6m0 105v9m0 6v5m1-167v3m0 6v3m0 18v3m0 90v3m0 3v9m0 3v3m0 9v3m0 9v2m1-152v3m0 15v12m0 108v6m1-207v3m0 21v3m0 15v3m0 3v3m0 3v3m0 9v3m0 15v3m0 3v3m0 102v6m1-159v3m0 6v3m0 15v3m0 6v15m0 93v3m0 9v6m0 9v2m1-209v3m0 33v3m0 3v3m0 21v3m0 3v3m0 3v3m0 126v2m1-206v3m0 12v3m0 15v3m0 3v3m0 6v6m0 15v9m1-78v3m0 3v3m0 3v3m0 3v9m0 6v3m0 3v3m0 18v6m0 3v3m0 3v3m0 3v3m0 90v3m0 3v6m0 3v6m1-198v6m0 18v3m0 18v3m0 3v3m0 21v3m1-72v3m0 3v6m0 18v3m0 3v3m0 9v9m0 3v3m0 3v3m0 3v9m1-81v3m0 21v3m0 15v9m0 3v3m0 6v3m0 6v3m0 108v3m1-150v3m0 3v3m0 3v3m0 3v15m0 6v6m0 69v3m0 18v15m0 12v5m1-206v3m0 3v3m0 3v3m0 3v3m0 18v6m0 6v9m0 3v3m0 3v12m0 72v3m0 9v3m0 3v3m0 3v3m0 9v3m0 3v3m0 3v5m1-203v3m0 18v3m0 15v6m0 3v3m0 3v3m0 6v3m0 6v6m0 84v3m0 6v3m0 12v3m0 6v3m0 3v2m1-203v3m0 33v3m0 3v6m0 3v3m0 6v3m0 6v3m0 84v3m0 3v3m0 6v6m1-150v3m0 36v3m0 3v6m0 93v3m0 3v3m0 6v9m0 3v3m1-195v6m0 9v3m0 15v3m0 3v3m0 6v6m0 3v3m0 108v6m0 6v6m0 3v3m1-162v9m0 3v3m0 3v3m0 3v6m0 6v9m1-60v3m0 15v3m0 3v6m0 3v3m0 6v3m0 111v3m0 3v9m0 3v6m1-204v6m0 36v6m0 18v3m0 9v3m0 66v6m0 3v12m0 9v3m0 9v3m0 3v6m1-198v3m0 12v3m0 18v3m0 21v18m0 66v3m0 12v6m0 3v3m0 9v3m1-171v3m0 21v15m0 12v3m0 3v12m0 69v6m0 21v3m0 6v3m0 3v3m0 3v5m1-203v3m0 27v3m0 12v6m0 9v3m0 12v3m0 75v3m0 6v6m0 9v3m0 3v3m0 6v3m0 3v5m1-194v12m0 6v6m0 30v3m0 3v3m0 3v3m0 66v3m0 6v9m0 3v12m0 3v3m0 3v6m0 3v3m0 3v2m1-167v6m0 9v18m0 3v3m0 75v3m0 3v9m0 3v3m0 3v9m0 3v17m1-176v3m0 6v3m0 6v3m0 12v3m0 102v3m0 3v6m0 15v6m1-201v6m0 12v9m0 12v6m0 3v3m0 3v3m0 9v9m0 3v3m0 60v12m0 3v9m0 12v3m0 18v3m1-162v3m0 9v3m0 3v3m0 3v3m0 3v6m0 3v3m0 63v6m0 3v3m0 3v9m0 6v3m0 15v3m0 6v5m1-167v3m0 12v6m0 6v3m0 6v9m0 72v3m0 6v3m0 3v3m0 21v3m1-195v9m0 27v6m0 3v3m0 15v3m0 3v6m0 3v3m0 63v3m0 12v6m0 9v3m0 3v3m1-189v3m0 3v6m0 3v6m0 15v3m0 12v3m0 3v6m0 3v9m0 3v3m0 3v3m0 51v3m0 6v3m0 3v3m0 9v9m0 12v3m0 6v6m0 3v3m1-183v3m0 24v3m0 6v3m0 3v18m0 69v3m0 18v3m0 9v3m0 3v3m0 3v3m0 3v3m1-183v3m0 15v3m0 3v3m0 3v3m0 12v9m0 60v3m0 9v9m0 3v12m0 15v3m0 15v2m1-200v3m0 3v6m0 24v3m0 3v3m0 18v9m0 63v3m0 3v3m0 6v3m0 3v9m0 3v3m0 6v6m0 6v3m0 3v3m1-204v3m0 42v6m0 3v6m0 3v3m0 12v3m0 93v3m0 3v3m0 3v3m1-189v3m0 36v6m0 3v3m0 12v12m0 69v3m0 3v3m0 3v6m0 9v3m0 3v9m0 9v3m0 6v2m1-206v3m0 36v3m0 12v3m0 9v12m0 57v3m0 3v15m0 6v3m0 3v12m0 3v3m0 3v15m1-165v6m0 9v3m0 3v3m0 6v3m0 3v3m0 63v3m0 3v6m0 3v9m0 6v6m0 3v3m0 6v12m0 3v2m1-194v3m0 3v3m0 18v3m0 3v6m0 6v3m0 6v3m0 6v6m0 66v9m0 3v3m0 6v15m0 3v12m0 3v5m1-167v3m0 6v3m0 9v9m1-51v3m0 27v3m0 3v6m0 6v3m0 3v6m0 48v3m0 3v3m0 9v6m0 6v6m0 3v9m0 9v3m0 9v9m1-165v3m0 30v6m0 78v6m0 15v3m0 18v6m1-198v3m0 30v3m0 9v3m0 3v9m0 66v9m0 3v3m0 27v3m0 3v3m0 3v3m0 3v6m1-159v3m0 6v3m0 6v3m0 66v6m0 9v3m0 57v3m1-201v3m0 9v3m0 21v3m0 3v6m0 3v3m0 6v6m0 63v6m0 9v21m0 12v3m0 6v3m0 3v6m0 3v2m1-203v9m0 3v3m0 3v6m0 15v3m0 6v6m0 6v3m0 3v6m0 54v24m0 3v3m0 3v9m0 9v6m0 3v17m1-200v6m0 3v3m0 3v3m0 15v12m0 3v3m0 3v6m0 69v9m0 6v9m0 3v3m0 3v12m0 12v3m1-171v3m0 39v3m0 6v3m0 54v3m0 9v9m0 6v3m0 6v3m0 12v6m0 3v3m0 9v2m1-191v3m0 21v6m0 12v12m0 66v9m0 3v3m0 12v3m0 3v6m0 6v9m0 12v3m1-198v3m0 30v6m0 15v6m0 3v12m0 48v3m0 3v3m0 15v3m0 6v6m0 9v6m0 6v6m0 3v3m1-162v3m0 24v3m0 6v6m0 45v9m0 6v3m0 3v3m0 12v6m0 3v3m0 15v3m0 3v3m1-186v3m0 12v3m0 3v3m0 3v6m0 6v6m0 6v3m0 3v3m0 60v6m0 3v6m0 6v3m0 6v6m0 6v3m0 3v3m0 3v3m0 3v9m1-162v3m0 12v3m0 6v3m0 12v3m0 48v6m0 3v6m0 6v6m0 3v3m0 3v12m0 3v3m0 9v3m0 3v6m1-195v6m0 24v3m0 3v3m0 9v3m0 9v9m0 3v3m0 48v3m0 3v6m0 6v3m0 3v6m0 9v3m0 3v6m0 6v6m0 6v3m1-165v3m0 6v3m0 6v3m0 9v9m0 48v9m0 3v3m0 21v3m0 3v9m0 3v3m0 3v20m1-167v3m0 6v6m0 9v3m0 3v3m0 6v3m0 51v12m0 3v6m0 9v3m0 3v3m0 3v6m0 9v3m0 6v3m1-198v3m0 24v3m0 6v6m0 3v3m0 78v3m0 6v9m0 3v15m0 3v6m0 3v6m0 3v15m0 3v2m1-167v3m0 3v6m0 81v3m0 6v9m0 12v6m0 3v3m0 3v6m0 9v3m0 3v8m1-167v3m0 3v3m0 3v3m0 9v3m0 3v6m0 102v3m0 3v3m1-159v3m0 3v3m0 3v3m0 6v3m0 18v3m0 51v3m0 72v3m0 3v2m1-167v3m0 12v3m0 9v6m0 60v12m0 3v21m0 9v3m0 3v3m0 9v6m0 3v2m1-200v3m0 30v3m0 6v6m0 3v3m0 9v3m0 54v3m0 3v3m0 3v6m0 9v3m0 3v3m0 6v3m0 9v6m0 3v9m1-147v3m0 75v6m0 6v9m0 9v9m0 15v6m0 6v6m0 3v2m1-200v3m0 18v6m0 6v6m0 15v3m0 63v3m0 3v3m0 9v9m0 6v6m0 6v12m0 6v6m1-195v3m0 36v3m0 12v6m0 3v3m0 60v6m0 45v3m1-141v3m0 3v6m0 6v3m0 66v6m0 6v6m0 6v3m0 9v9m0 3v3m0 3v3m0 3v3m0 3v3m0 3v3m0 3v2m1-206v3m0 3v12m0 6v3m0 15v6m0 3v3m0 3v3m0 3v6m0 54v3m0 9v3m0 15v3m0 12v3m0 6v3m1-180v3m0 9v3m0 15v3m0 12v9m0 9v6m0 54v12m0 3v3m0 6v3m1-111v9m0 3v3m0 3v3m0 6v3m0 57v3m0 9v15m0 12v3m0 3v9m0 3v9m0 6v8m1-167v3m0 3v9m0 3v3m0 6v3m0 66v3m0 3v3m0 3v9m0 6v3m0 9v3m0 3v3m0 3v3m0 9v3m0 3v2m1-164v3m0 15v6m0 72v3m0 3v3m0 15v3m0 6v3m0 6v12m0 6v6m1-165v9m0 3v3m0 6v6m0 60v9m0 3v6m0 9v3m0 6v18m0 3v3m0 3v15m1-195v6m0 3v3m0 9v3m0 24v3m0 3v3m0 60v9m0 3v12m0 3v3m0 9v12m0 3v6m0 6v3m0 3v3m0 3v2m1-167v6m0 6v3m0 9v3m0 60v3m0 3v6m0 6v3m0 3v3m0 6v6m0 3v6m0 3v9m0 6v6m0 3v5m1-176v3m0 9v3m0 3v3m0 9v6m0 60v3m0 3v3m0 9v6m0 9v6m0 3v9m0 9v3m0 6v6m0 3v2m1-182v3m0 12v3m0 9v3m0 3v3m0 3v3m0 66v9m0 3v3m0 3v6m0 6v15m0 9v9m0 6v5m1-167v9m0 6v3m0 78v6m0 6v6m0 3v6m0 3v12m0 3v3m0 3v3m0 9v6m1-195v6m0 6v3m0 27v3m0 75v3m0 12v3m0 3v9m0 3v18m0 3v12m0 6v5m1-206v3m0 24v3m0 12v3m0 81v15m0 9v3m0 15v6m0 3v6m0 9v3m0 6v3m1-210v3m0 45v6m0 3v3m0 3v3m0 63v6m0 63v3m1-201v3m0 42v6m0 3v3m0 78v12m0 3v12m0 3v3m0 3v3m0 6v6m0 3v23m1-182v6m0 15v3m0 75v3m0 3v3m0 12v3m0 18v3m0 12v3m0 18v3m1-210v6m0 39v3m0 3v3m0 3v3m0 69v9m0 9v3m0 12v3m0 3v6m0 6v3m0 24v3m1-180v3m0 6v3m0 15v12m0 66v3m0 3v12m0 3v3m0 6v6m0 3v3m0 6v12m0 6v9m1-165v3m0 9v3m0 72v21m0 3v21m0 6v6m0 6v3m0 6v3m0 3v2m1-212v3m0 24v3m0 15v3m0 3v6m0 3v3m0 3v3m0 60v3m0 3v3m0 6v3m0 3v9m0 3v3m0 3v6m0 12v3m0 6v17m1-164v6m0 3v3m0 6v3m0 69v3m0 9v3m0 3v9m0 3v3m0 3v6m0 6v3m0 3v6m0 3v3m0 3v3m1-186v3m0 18v9m0 3v3m0 3v6m0 60v3m1-138v3m0 6v3m0 39v3m0 3v6m0 6v3m0 72v3m0 27v3m0 9v3m1-177v6m0 9v6m0 12v3m0 12v3m0 6v3m0 66v3m0 6v6m0 3v3m0 3v3m0 9v6m0 3v12m0 3v9m0 3v3m1-195v3m0 30v3m0 9v12m0 66v9m0 3v3m0 3v3m0 3v3m0 3v6m0 3v3m0 6v12m0 6v11m1-203v3m0 48v9m0 69v3m0 3v3m0 3v9m0 21v3m0 3v6m0 3v3m0 3v3m0 3v3m1-189v3m0 21v3m0 6v3m0 3v3m0 3v3m0 66v9m0 18v3m0 12v3m0 3v3m0 9v6m1-183v3m0 30v6m0 6v3m0 63v3m0 21v12m0 3v3m0 3v6m0 3v9m0 3v3m0 6v8m1-164v3m0 123v3m0 24v3m0 6v2m1-191v3m0 3v3m0 3v6m0 6v3m0 3v3m0 3v9m0 63v3m0 3v6m0 12v6m0 15v3m0 3v3m0 9v6m1-186v3m0 24v3m0 3v3m0 9v6m0 72v12m0 6v3m0 6v6m0 12v15m0 3v3m0 3v3m1-198v6m0 15v3m0 6v3m0 3v6m0 3v6m0 69v6m0 6v3m0 6v3m0 3v3m0 6v3m0 6v6m0 21v3m0 3v3m1-165v18m0 69v6m0 3v3m0 3v3m0 3v6m0 9v12m0 3v3m0 3v3m0 6v6m0 6v2m1-185v3m0 15v3m0 9v3m0 72v3m0 3v9m0 3v3m0 6v3m0 6v3m0 9v3m0 12v6m0 3v8m1-167v9m0 75v6m0 6v3m0 3v3m0 3v9m0 3v3m0 21v3m0 3v3m0 9v3m1-165v12m0 81v6m0 6v3m0 15v3m0 3v3m0 12v3m0 9v3m1-159v3m0 6v3m0 72v3m1-87v6m0 3v3m0 3v3m0 72v3m0 9v3m0 6v3m0 3v12m0 3v6m0 3v3m0 12v3m1-159v9m0 3v3m0 69v6m0 3v3m0 9v9m0 6v6m0 15v3m0 12v3m1-198v3m0 36v6m0 3v3m0 3v3m0 66v6m0 3v3m0 9v9m0 3v3m0 12v12m0 9v14m1-167v9m0 84v6m0 3v3m0 3v6m0 3v6m0 3v12m0 18v11m1-164v3m0 12v3m0 72v6m0 12v3m0 3v3m0 6v3m0 3v3m0 3v3m0 9v17m1-167v3m0 6v3m0 87v3m0 15v6m0 42v2m1-182v3m0 12v9m0 75v3m0 3v6m0 3v6m0 3v6m0 6v6m0 3v3m0 3v6m0 3v18m1-162v3m0 81v3m0 3v3m0 18v3m0 9v9m0 6v9m0 3v3m0 9v3m1-183v3m0 15v3m0 9v6m0 66v3m0 15v3m0 21v3m0 9v6m0 6v6m1-72v9m0 18v3m0 3v3m0 3v6m0 6v3m0 3v3m0 3v6m0 6v8m1-164v3m0 6v6m0 66v3m0 9v3m0 6v3m0 9v3m0 15v3m1-150v6m0 6v12m0 75v15m0 3v6m0 3v9m0 6v18m0 3v12m1-162v3m0 3v3m0 3v3m0 75v12m0 6v3m0 9v6m0 3v3m0 6v3m0 18v3m0 3v2m1-164v6m0 6v3m0 69v6m0 6v3m0 30v9m0 15v3m0 6v2m1-161v3m0 6v3m0 72v3m0 9v6m0 6v9m0 6v6m0 6v18m0 3v3m1-153v6m0 72v9m0 3v6m0 12v12m0 3v6m0 18v3m1-156v6m0 3v3m0 69v18m0 3v9m0 3v3m0 3v9m0 21v3m0 6v2m1-164v3m0 9v3m0 66v9m0 3v3m0 21v3m0 12v3m0 18v3m0 6v2m1-161v12m0 69v9m0 3v3m0 3v6m0 6v3m0 12v12m0 3v6m0 6v6m1-156v3m0 3v6m0 81v3m0 6v6m0 3v3m0 3v6m0 3v3m0 3v3m0 12v6m0 3v2m1-155v3m0 72v3m0 12v9m0 6v6m0 3v9m0 3v15m0 3v3m0 6v2m1-161v3m0 3v6m0 72v3m0 3v3m0 9v3m0 3v18m0 9v6m0 3v17m1-83v3m0 3v24m0 12v3m0 9v12m0 3v6m0 3v3m1-150v3m0 72v18m0 3v15m0 9v12m0 3v3m0 6v3m0 3v2m1-152v3m0 66v24m0 3v3m0 3v3m0 6v3m0 3v3m0 3v6m0 9v3m0 9v2m1-161v9m0 69v9m0 24v3m0 15v6m0 9v3m0 9v5m1-155v3m0 75v6m0 12v6m0 12v3m0 24v12m1-159v3m0 3v3m0 72v9m0 3v3m0 3v12m0 3v6m0 3v3m0 9v3m0 6v3m0 3v11m1-164v3m1-3v3m0 3v6m1-6v3m0 81v3m0 6v9m0 3v3m0 3v6m0 3v12m0 6v9m0 3v3m0 3v2m1-161v3m0 6v3m1-9v3m2-6v3m0 3v6m1-3v3m1-42v3m0 12v3m0 9v6m0 3v3m0 138v3m1-195v6m0 3v9m0 24v3m0 3v9m0 69v6m0 9v6m0 3v15m0 3v6m0 3v3m0 3v3m0 3v12m0 3v2m1-206v3m0 39v3m0 6v6m0 66v6m0 3v3m0 33v3m0 3v9m0 3v6m0 3v3m1-189v3m0 27v3m0 6v3m0 75v6m0 3v6m0 3v9m0 6v30m0 3v14m1-167v3m0 3v3m0 3v6m0 69v15m0 6v3m0 3v3m0 9v6m0 9v3m0 6v3m0 9v3m1-162v3m0 3v3m0 90v3m0 3v12m0 3v6m0 3v15m0 9v9m1-159v12m0 69v12m0 18v3m0 3v6m0 6v3m0 9v3m0 3v3m0 3v8m1-158v3m0 78v6m0 3v6m0 12v9m0 33v3m0 3v2m1-167v3m0 6v3m0 75v3m0 3v3m0 9v6m0 6v6m0 3v12m0 6v3m0 6v9m0 3v2m1-167v3m0 3v6m0 69v3m0 6v3m0 3v3m0 18v3m0 3v3m0 21v3m0 12v3m1-165v3m0 3v3m0 6v3m0 72v3m0 21v9m0 21v3m0 6v3m0 3v3m1-219v3m0 54v3m0 12v3m0 69v3m0 3v6m0 6v9m0 3v3m0 6v3m0 9v9m0 3v9m1-153v3m0 6v6m0 75v6m0 6v3m0 3v3m0 3v6m0 18v6m0 3v3m0 3v3m1-159v3m0 9v3m0 69v3m0 6v3m0 6v3m0 3v6m0 3v3m0 9v12m0 15v6m1-162v9m0 84v12m0 12v3m0 3v3m0 9v3m0 6v3m0 3v14m1-218v3m0 51v3m0 9v3m0 87v3m0 9v6m0 6v6m0 12v6m1-153v12m0 3v3m0 75v3m0 6v6m0 3v3m0 3v6m0 3v9m0 3v6m0 3v6m0 6v3m0 3v2m1-167v9m0 75v3m0 9v3m0 9v3m0 3v3m0 9v6m0 6v6m0 3v3m0 6v6m0 3v2m1-167v3m0 3v6m0 3v3m0 66v6m0 3v3m0 3v6m0 6v3m0 3v3m0 3v3m0 12v12m0 3v3m0 3v3m0 3v2m1-167v9m0 84v3m0 15v9m0 3v3m0 12v3m1-141v3m0 102v3m0 9v3m0 24v3m0 6v3m0 3v8m1-167v3m0 90v6m0 9v15m0 3v3m0 6v3m0 3v3m0 12v11m1-152v3m1-18v9m0 3v6m0 108v3m1-129v3m0 3v9m2-18v3m4-6v3m1-63v3m1-18v9m0 3v9m1-12v3m0 3v3m1 0v3m0 57v3m1-84v3m0 6v3m0 9v3m1 63v3m2 3v9m1-75v6m1 51v6m0 6v3m1-75v3m0 63v3m0 9v12m1-30v3m0 12v6m0 3v3m1-27v3m0 3v6m0 3v6m0 3v6m1-93v3m0 60v6m0 6v9m0 3v3m0 3v3m1-33v18m0 15v3m1-102v3m0 69v15m0 6v3m0 3v3m0 3v3m1-105v3m0 60v3m0 3v6m0 3v15m0 6v3m1-39v18m0 9v6m0 9v6m1-114v3m0 66v15m0 18v18m1-120v3m0 90v15m1-39v9m0 24v3m0 3v3m1-39v9m0 3v6m0 6v6m0 3v6m0 3v9m1-120v3m0 63v3m0 6v12m0 3v3m0 3v6m0 6v3m0 3v9m1-126v3m0 72v18m0 6v6m0 3v3m0 6v12m1-60v3m0 9v3m0 6v12m0 6v9m0 3v6m0 3v3m1-126v3m0 57v3m0 6v6m0 3v6m0 3v9m0 3v6m0 3v3m0 3v9m1-123v3m0 57v3m0 3v3m0 9v6m0 9v3m0 21v3m1-48v3m0 6v3m0 6v6m0 3v12m1-51v3m0 6v6m0 15v3m0 3v12m1-111v3m0 60v12m0 9v6m0 3v9m0 3v6m1-108v3m0 60v6m0 9v3m0 9v3m1-33v12m0 6v6m0 3v6m1-21v3m1-78v3m0 60v3m1-3v3m1-3v6m0 3v9m1-105v3m0 9v3m0 72v18m0 15v3m2-105v6m0 63v3m0 3v3m0 12v6m0 9v3m1-39v3m0 6v15m0 3v3m0 3v3m1-120v3m0 81v6m0 3v3m0 3v3m0 3v6m1-24v3m0 3v6m1-99v3m0 81v6m1-84v3m0 9v3m1 63v3m1-81v3m0 3v6m1-18v3m0 3v3m0 75v3m0 9v3m1-93v3m0 3v3m0 78v6m0 3v3m1-102v3m0 3v9m0 84v3m0 3v3m0 3v3m0 6v3m0 12v6m1-144v6m0 9v3m0 72v6m0 3v3m0 3v9m0 3v3m0 15v3m0 6v3m0 9v12m0 3v24m0 3v3m0 3v3m1-204v3m0 3v3m0 3v3m0 66v3m0 9v15m0 15v3m0 3v3m0 3v9m0 21v39m1-210v3m0 12v3m0 48v3m0 27v6m0 18v6m0 3v15m0 3v3m0 18v3m0 3v3m1-171v9m0 75v3m0 51v6m0 6v3m0 3v6m1-162v3m0 6v3m0 72v3m0 3v6m0 9v9m0 9v3m0 3v6m0 6v3m0 3v3m1-93v3m0 21v3m0 18v6m0 9v3m0 6v6m1-126v3m0 3v3m0 54v3m0 12v9m0 6v3m0 3v3m0 3v3m0 6v3m0 6v3m1-123v6m0 42v3m0 30v9m0 12v3m0 6v6m1-126v3m0 6v3m0 9v3m1-27v3m0 3v3m0 3v6m1-15v3m0 3v3m0 3v3m0 42v3m1-60v6m0 3v9m0 48v3m1-69v6m0 54v3m0 3v3m1-75v3m0 3v6m0 15v3m1-27v9m0 3v6m1-21v6m0 3v3m0 6v3m0 54v3m1-72v15m0 36v6m1-60v9m0 3v6m0 42v3m1-57v6m0 39v9m0 3v6m1-63v3m0 3v6m1-6v6m0 36v3m0 6v3m1-54v3m1-6v3m0 3v3m0 42v3m1-60v6m0 3v6m0 48v3m1-66v3m0 6v6m0 33v3m1-51v3m0 3v9m0 18v3m1-42v15m0 3v3m0 6v3m0 33v3m0 24v18m0 3v6m0 12v3m1-129v3m0 3v9m0 36v3m0 33v3m0 3v9m0 3v6m0 3v6m0 6v6m1-132v18m0 69v3m0 12v3m0 21v6m1-135v9m0 3v6m0 18v3m0 51v18m0 3v3m0 9v3m0 9v3m1-129v6m0 72v3m0 6v3m0 12v18m1-126v12m0 72v9m0 6v3m0 15v3m0 3v3m0 3v3m1-126v3m0 6v3m0 3v3m0 39v6m0 15v3m0 6v3m0 3v3m0 9v9m0 6v3m1-129v15m0 9v3m0 33v3m0 24v3m0 6v3m0 3v9m0 15v6m1-135v3m0 3v6m0 3v6m0 39v3m0 24v3m0 3v3m0 6v9m0 3v6m0 3v15m1-132v9m0 75v3m0 3v3m0 3v6m0 12v6m0 6v3m1-48v3m0 15v3m0 3v6m0 3v3m0 3v3m0 3v3m1-117v3m0 18v3m0 66v3m0 6v3m0 6v6m0 3v3"/><path stroke="#0021ff" stroke-width="1" d="M102.5 163v3m0 3v3m0 15v6m0 9v3m0 30v9m1-81v3m0 63v3m0 3v3m0 3v9m1-99v3m0 42v6m0 3v3m0 18v3m0 3v6m0 9v3m1-81v3m0 9v3m0 6v3m0 6v6m0 18v9m0 3v6m0 6v3m1-90v3m0 18v3m0 42v3m0 6v3m0 3v9m1-93v3m0 30v6m0 6v3m0 33v3m0 6v3m1-102v6m0 9v3m0 3v3m0 21v3m0 3v3m0 3v3m0 24v12m1-75v3m0 3v3m0 18v3m0 27v3m0 3v6m0 3v6m1-93v3m0 12v3m0 9v3m0 9v3m0 3v3m0 36v3m1-93v3m0 3v3m0 9v3m0 3v3m0 9v6m0 36v3m1-105v6m0 12v9m0 9v3m0 3v3m0 15v3m1-87v3m0 3v3m0 3v3m0 3v9m0 12v6m1-75v3m0 6v3m0 3v6m0 3v3m0 6v3m0 9v3m1-63v3m0 15v3m2-21v3m1 3v3m1 6v3m0 3v3m0 3v3m0 6v6m1-9v3m0 3v6m1-39v3m0 33v9m0 3v3m0 3v3m1-57v3m0 6v3m0 3v3m0 3v18m0 3v3m0 3v6m0 3v15m0 6v3m1-72v9m0 3v6m0 9v3m0 18v3m0 3v6m0 3v6m1-69v3m0 6v3m0 3v3m0 3v3m0 3v3m0 27v3m0 9v3m0 21v3m1-78v3m0 18v3m0 18v3m0 27v6m1-30v3m0 3v3m0 6v3m1-54v3m0 39v3m0 12v6m1-63v3m0 45v3m0 3v3m0 3v3m0 18v3m0 18v3m1-57v6m0 15v3m0 3v3m1-36v3m0 3v3m0 6v6m0 15v6m1-45v3m0 3v3m0 6v6m0 6v3m0 21v6m1-54v6m0 12v3m0 12v3m0 3v3m0 48v3m2-135v3m0 48v3m0 3v15m1-72v3m3 33v3m4-39v3m2-48v3m2-6v3m1 0v3m2 3v3m1-9v3m0 3v3m1-9v3m1-3v3m0 12v3m1 63v3m1-3v3m1-69v3m3-3v3m0 69v3m3-72v3m0 3v3m1 78v3m1-15v3m1-6v3m0 3v3m1-9v3m1-3v3m0 3v3m1 3v3m1-12v6m0 3v9m1 0v3m0 102v3m0 18v3m1-219v3m0 75v3m0 6v3m0 3v3m0 18v3m0 18v3m0 42v3m0 24v3m1-138v9m0 3v6m0 93v3m0 12v3m0 9v6m1-132v3m0 30v3m0 9v3m0 3v3m0 6v3m0 51v3m1-123v3m0 57v3m0 27v3m0 3v3m0 6v6m0 27v3m1-219v3m0 129v6m0 6v3m0 30v3m0 30v3m1-123v3m0 54v3m0 30v3m0 3v3m0 6v3m1-126v3m0 3v3m0 3v3m0 3v3m0 78v3m0 3v3m0 12v15m1-213v3m0 102v3m0 78v3m0 12v6m0 6v3m1-123v6m1-15v3m0 3v6m0 75v3m0 27v3m0 12v3m1-141v3m0 6v9m0 87v6m0 6v3m0 3v6m0 3v3m1-129v3m0 117v6m0 6v3m0 3v3m1-147v12m0 117v3m1-3v3m0 3v12m1-219v3m0 66v6m0 114v3m0 3v3m1-6v3m1-198v3m0 189v3m0 6v3m1-129v3m0 114v3m1-15v3m0 24v6m0 3v3m2-237v3m0 93v6m0 114v3m1-105v3m0 21v3m0 15v3m0 12v9m1-165v3m0 96v3m0 30v3m0 21v3m0 3v3m1-174v3m0 105v3m0 21v3m0 24v3m1-21v3m0 6v3m0 6v3m0 3v9m1-66v3m0 60v3m1-36v6m0 9v3m0 3v6m0 9v3m1-48v3m0 3v3m0 3v3m0 6v3m0 12v3m1-60v3m0 24v6m0 24v3m1-60v3m0 15v3m0 6v3m0 3v6m0 6v3m0 12v9m1-69v3m0 18v3m0 6v3m0 6v3m0 6v3m1-18v3m0 27v3m1-45v3m0 6v3m0 12v3m0 3v3m0 6v3m1-63v3m0 18v3m0 30v6m0 6v3m1-69v3m0 33v3m0 15v3m0 3v3m1-63v3m0 63v3m1-51v3m0 12v3m0 6v3m0 9v3m0 9v3m1-69v3m0 15v3m0 6v3m0 3v3m0 9v3m1-48v3m0 15v3m0 6v3m0 27v9m1-36v3m0 3v6m0 18v3m1-63v3m0 18v9m0 3v3m0 27v3m1-39v6m0 6v3m0 3v3m0 6v3m0 6v3m1-66v3m0 24v3m0 3v3m0 9v3m0 3v6m1-33v3m0 6v6m0 9v3m1-51v3m0 18v3m0 9v3m0 9v3m1-12v3m0 27v3m1-27v3m0 9v3m0 6v6m1-69v3m0 21v6m0 6v6m0 12v3m1-57v3m0 21v3m0 9v6m0 9v3m0 9v6m1-36v9m0 12v3m0 9v3m1-36v6m0 3v3m1-45v3m0 42v3m0 9v3m1-60v3m0 27v3m1-3v3m0 21v3m0 6v3m0 3v3m1-45v3m0 3v6m0 18v12m1-42v6m0 18v6m0 9v3m1-69v3m0 18v3m0 18v3m0 18v6m1-69v3m0 21v9m0 15v3m0 6v3m0 3v3m1-33v3m0 24v3m0 3v3m1-48v3m0 3v6m1-33v3m0 15v3m0 9v3m0 27v6m1-39v3m0 27v6m1-30v3m0 30v6m1-72v3m0 24v3m0 15v3m0 6v3m0 3v3m1-36v3m0 12v3m0 9v3m0 12v3m1-48v6m0 6v3m0 9v3m0 3v6m0 3v3m1-27v3m0 12v3m0 9v3m1-39v3m0 3v6m0 12v3m0 12v3m1-54v3m0 12v3m1 18v3m1-24v9m0 9v6m0 9v6m1-48v9m0 18v6m0 6v6m1-69v3m0 63v3m1-69v3m0 18v3m0 6v9m0 18v3m1-33v3m0 27v3m1-21v3m0 12v3m1-27v3m0 30v3m0 3v3m1-42v6m1-36v3m0 21v3m0 6v6m0 18v3m1-33v6m1-12v9m1-3v3m0 3v3m0 33v3m1-69v3m0 15v6m0 6v3m0 18v9m0 3v3m2-39v3m0 21v3m0 9v3m1-48v3m0 3v6m0 27v3m1-48v3m0 39v3m0 3v3m1-51v3m0 3v3m0 33v9m1-45v9m0 24v3m0 9v3m1-45v6m0 27v9m1-45v6m0 3v3m0 24v3m1-39v9m0 3v3m0 24v3m1-48v6m0 3v3m0 18v3m0 18v6m1-57v3m0 45v3m1-48v9m0 30v6m1-39v3m0 3v6m0 18v6m0 6v3m1-45v6m0 24v3m0 3v9m1-48v6m0 33v3m0 3v3m1-42v3m0 3v3m0 27v6m1-12v3m2-30v3m0 30v3m1-36v3m1 24v3m0 6v3m1-48v12m0 30v3m1-12v3m0 3v6m1-36v6m1-12v3m0 39v3m1-54v6m1-6v3m0 39v3m0 3v3m1-39v3m0 24v3m0 9v3m1-42v12m0 27v3m1-42v3m0 3v3m0 18v3m1-24v3m0 27v3m1 0v3m0 3v6m1-15v3m0 9v3m1-48v3m0 36v3m0 3v3m1-6v3m1 0v3m1-45v3m0 33v9m1-51v3m0 30v18m155-180v3m0 3v9m0 6v3m0 15v6m0 15v3m0 36v3m0 3v3m0 9v6m0 33v3m0 3v3m0 6v3m0 15v6m0 12v3m0 9v9m1-228v3m0 3v9m0 6v3m0 15v6m0 15v3m0 36v3m0 3v3m0 9v6m0 33v3m0 3v3m0 6v3m0 15v6m0 12v3m0 9v9m1-228v3m0 3v9m0 6v3m0 15v6m0 15v3m0 36v3m0 3v3m0 9v6m0 33v3m0 3v3m0 6v3m0 15v6m0 12v3m0 9v9m1-228v3m0 3v9m0 6v3m0 15v6m0 15v3m0 36v3m0 3v3m0 9v6m0 33v3m0 3v3m0 6v3m0 15v6m0 12v3m0 9v9m1-228v3m0 6v6m0 6v6m0 12v6m0 9v3m0 42v3m0 3v3m0 9v6m0 33v3m0 3v3m0 6v3m0 18v3m0 6v3m0 3v3m0 9v9m1-237v3m0 30v3m0 18v3m0 51v3m0 3v3m0 9v6m0 6v3m0 24v3m0 3v3m0 6v3m0 27v3m0 6v3m0 3v6m0 3v3m1-156v3m0 42v6m0 42v3m0 3v3m0 18v6m0 3v6m0 6v3m1-225v3m0 120v6m0 33v9m0 3v12m0 18v3m0 9v9m1-144v3m0 24v3m0 15v3m0 12v3m0 15v6m0 36v9m0 24v3m1-240v3m0 9v3m0 6v3m0 84v3m0 6v3m0 6v3m0 3v3m0 63v9m0 12v6m1-222v6m0 6v3m0 93v3m0 12v3m0 12v3m0 15v3m0 3v12m0 6v3m0 15v9m1-207v3m0 21v3m0 78v3m0 18v3m0 9v3m0 15v12m0 27v6m0 27v9m1-213v3m0 87v3m0 9v3m0 45v6m0 27v27m1-210v3m0 87v3m0 12v3m0 6v6m0 30v9m0 21v3m0 24v6m1-120v3m0 3v3m1-42v3m0 21v3m0 15v3m0 9v6m1-108v3m0 42v3m0 24v3m0 12v6m0 9v3m0 18v3m0 3v15m1-66v3m0 6v9m0 3v3m0 15v6m0 15v6m0 36v9m1-144v3m0 24v3m0 54v3m0 3v6m0 12v3m1-84v3m0 12v3m0 3v3m0 6v3m0 18v9m0 39v30m1-123v3m0 9v3m0 63v3m1-156v3m0 72v3m0 57v3m1-99v3m0 45v3m1-15v3m0 6v9m0 27v3m0 3v3m1-60v3m0 27v3m0 18v3m0 6v6m0 3v9m0 3v6m0 3v6m0 6v12m1-114v3m0 12v9m0 33v6m1-63v3m0 12v6m0 9v3m1-93v3m1 57v3m0 15v6m0 6v3m0 27v3m1-57v3m0 6v3m0 3v3m0 3v6m0 27v3m1-45v3m0 9v3m0 24v6m1-63v3m0 15v3m0 39v3m1-129v3m0 63v3m0 15v3m0 6v15m0 15v3m1-60v3m0 3v3m0 6v3m0 15v3m1-63v3m0 24v3m0 6v3m0 3v6m1-21v3m0 3v3m0 6v3m0 36v3m1-114v3m0 27v3m0 24v3m0 3v3m0 12v3m0 9v3m1-90v3m1-6v3m0 54v3m0 3v3m0 6v9m1-81v3m0 54v3m0 3v3m0 6v9m0 3v6m0 24v3m1-111v3m0 15v3m0 30v6m0 12v3m0 9v3m0 3v3m1-66v3m0 30v6m0 3v3m0 3v3m0 36v3m1-63v3m0 15v3m0 9v3m0 27v3m1-48v6m0 9v3m1-33v3m0 3v3m1-36v3m0 27v6m0 6v6m0 9v3m0 9v3m1-105v3m0 30v3m0 39v3m0 3v3m0 6v6m1-99v3m0 66v3m0 12v3m0 6v3m1-18v6m1-48v3m0 24v3m0 3v6m0 3v6m0 6v3m1-30v3m0 3v3m0 9v3m0 9v6m1-96v3m0 57v3m0 3v3m0 12v3m0 6v3m1-60v3m0 24v3m0 3v6m0 6v3m0 12v3m1-21v6m1-48v3m0 24v3m0 12v6m0 9v6m0 21v3m1-51v3m0 6v6m0 3v9m0 21v3m1-120v3m0 57v3m0 15v3m1-21v3m1-3v3m0 15v6m1-51v3m0 24v3m0 3v3m0 21v3m1-27v3m0 9v3m1-6v6m0 36v3m1-126v3m0 63v3m0 3v3m0 6v3m1-78v3m0 33v3m0 21v3m2-6v6m1 3v3m0 6v3m0 3v3m0 33v3m1-42v3m1-48v3m0 39v9m0 6v3m1-51v3m0 12v3m0 3v3m0 3v3m0 6v3m0 36v3m1-84v3m0 51v3m1-33v3m0 3v3m0 6v6m0 3v3m1-9v6m0 9v3m0 21v3m1-87v3m0 24v3m0 6v3m0 9v3m0 6v3m0 27v3m1-90v3m0 15v3m0 6v3m0 3v3m0 6v3m1-72v3m0 51v3m0 3v3m0 9v6m0 6v6m0 21v3m1-81v3m0 18v3m0 12v3m0 12v6m0 24v3m1-120v3m0 54v3m0 27v3m0 3v3m1-6v3m0 21v3m1-120v3m0 75v3m0 36v3m1-120v3m0 63v3m0 48v3m1-60v3m0 15v6m0 9v3m0 21v3m1-54v3m0 3v3m0 6v3m0 3v3m0 27v3m1-60v3m1 3v3m0 6v6m0 9v3m0 24v3m1-81v3m0 24v3m0 6v3m0 15v3m0 15v3m1-78v3m0 21v3m0 18v3m0 9v3m0 21v3m1-126v3m0 63v3m0 3v3m0 6v9m0 3v6m0 24v3m1-60v3m0 3v3m0 12v3m0 6v3m0 18v3m0 3v3m1-45v6m1-48v3m0 24v3m0 3v6m0 3v6m0 9v6m1-36v9m0 9v3m0 9v3m0 24v6m1-90v6m0 30v3m0 15v6m0 18v3m1-123v3m0 39v6m0 12v3m0 3v3m0 9v3m0 18v6m0 21v3m1-66v9m0 18v9m0 3v3m1-63v3m0 42v6m0 12v3m0 18v3m1-84v6m0 12v9m1-75v3m0 42v3m0 18v3m0 3v3m0 6v3m0 6v3m0 6v9m0 15v3m0 3v3m1-69v6m0 6v3m0 3v9m0 12v3m0 21v3m1-132v3m0 51v6m0 6v3m1-9v9m0 6v3m0 9v3m1-42v3m0 9v3m0 6v6m0 9v3m0 12v15m0 3v3m1-72v6m0 9v3m0 15v3m0 12v15m0 15v6m1-81v6m0 6v9m0 9v3m0 27v3m1-60v6m0 3v3m0 54v3m1-123v3m0 45v3m0 6v3m0 3v3m0 33v3m1-48v3m0 42v3m0 3v3m1-45v6m0 30v3m1-54v3m0 48v6m0 27v3m1-81v3m0 3v3m0 48v9m1-120v3m0 75v3m0 21v9m1-60v6m0 9v9m0 24v12m0 9v3m1-63v3m0 36v3m0 6v3m0 3v3m1-120v3m0 87v3m0 18v3m1-63v3m0 9v3m0 48v6m1-63v3m0 75v6m1-21v3m1-72v9m0 3v3m0 39v3m0 3v3m0 6v3m2-51v3m0 48v3m1-69v3m0 6v6m0 39v3m0 3v3m0 9v3m1-138v3m0 123v3m0 6v3m0 3v3m0 3v3m1-81v3m0 6v3m0 54v3m1-24v3m0 6v6m0 6v3m1-78v3m0 6v3m0 3v3m1-66v3m0 42v3m0 9v3m1-6v3m0 48v3m1-63v3m0 63v6m2-66v3m0 51v6m0 12v3m1-78v3m0 6v3m0 15v3m0 3v3m0 27v3m1-63v3m0 42v6m0 12v3m0 9v3m1-126v3m0 39v6m1-3v3m0 42v6m0 3v3m0 24v3m1-87v6m0 9v3m0 24v3m0 6v6m1-57v6m0 15v3m0 24v3m0 12v3m0 15v3m1-84v3m0 18v3m0 9v6m0 12v9m1-60v3m0 15v6m0 6v3m0 6v3m0 6v6m0 3v9m0 3v3m1-69v6m0 6v3m0 21v3m0 15v3m0 15v3m1-75v3m0 18v3m0 6v3m0 12v3m0 3v6m1-45v3m0 24v3m0 12v6m0 9v3m1-75v6m0 33v3m0 15v3m0 9v3m1-72v6m0 15v3m0 15v3m0 3v6m0 6v6m1-63v12m0 27v3m0 6v3m1-99v3m0 45v12m0 9v6m0 9v3m0 3v3m0 12v3m1-39v3m0 6v3m0 6v3m0 6v3m0 3v9m1-45v6m0 15v6m0 3v3m0 12v3m1-114v3m0 48v3m0 6v3m0 6v3m0 18v3m0 9v3m0 6v3m1-111v3m0 42v3m0 3v6m0 30v3m0 9v3m1-51v3m0 30v6m0 3v3m0 3v6m0 3v3m1-66v3m0 3v3m0 12v3m0 15v3m0 3v3m0 6v3m1-102v3m0 42v3m0 36v3m1-93v3m0 48v3m0 12v3m0 3v6m1-24v3m0 3v3m0 3v6m0 3v3m0 9v3m0 9v3m0 6v3m1-57v3m0 30v15m0 9v3m1-63v3m0 18v3m0 6v3m0 3v15m1-51v6m0 6v3m0 18v6m1-27v3m0 3v3m0 15v3m1-78v3m0 36v9m0 3v3m0 27v3m0 9v3m1-93v3m0 33v3m0 27v3m1-75v3m0 42v3m0 3v3m0 6v3m1-15v3m0 21v3m0 3v12m0 9v3m0 105v2m1-161v9m0 12v6m0 6v3m1-36v3m0 6v6m0 9v9m0 3v3m0 3v3m0 6v3m1-60v3m0 3v3m0 3v6m0 6v3m0 6v6m0 3v3m0 9v6m1-54v3m0 12v3m0 3v6m0 12v6m0 6v3m0 96v11m1-143v3m0 3v3m0 15v3m0 6v3m1-60v3m0 9v3m0 3v3m0 3v3m0 6v3m0 123v3m1-162v3m0 27v3m0 9v3m0 105v3m0 3v3m0 3v3m1-165v3m0 3v9m0 27v6m0 117v2m1-167v3m0 18v3m0 21v3m0 9v3m1-60v6m0 3v3m0 12v3m1-24v3m0 6v3m0 12v3m0 3v6m0 3v6m0 99v3m0 3v9m1-135v3m0 3v6m0 9v3m0 3v3m0 96v3m0 3v3m1-159v3m0 3v3m0 15v3m0 12v3m0 108v9m1-153v6m0 12v3m0 9v6m0 3v3m0 96v3m1-177v3m0 33v6m0 3v3m0 3v6m1-57v3m0 27v6m0 6v3m0 3v3m0 6v3m0 9v3m0 99v3m0 3v3m0 3v6m0 3v2m1-173v3m0 3v3m0 6v3m0 9v3m0 9v3m0 9v6m0 3v3m1-45v3m0 9v3m0 3v9m0 3v3m0 120v2m1-128v3m0 9v3m0 96v3m1-162v6m0 9v9m0 18v9m0 120v5m1-173v3m0 3v3m0 3v6m0 6v15m0 120v3m1-168v3m0 3v3m0 27v3m0 6v3m0 15v3m0 105v3m1-183v6m0 18v3m0 9v6m0 9v3m0 108v9m1-174v3m1 12v3m0 6v3m0 6v3m0 3v12m0 129v9m1-162v3m1-27v3m0 6v3m0 3v3m0 6v3m0 3v3m0 3v3m1-39v9m0 12v3m0 12v3m0 3v3m1-42v3m0 6v3m0 153v6m0 6v3m1-189v3m0 3v3m0 3v3m0 15v3m0 135v3m0 6v3m0 9v5m1-176v3m0 18v3m1-33v6m0 18v6m0 6v3m0 6v3m0 99v6m0 30v2m1-173v3m0 12v3m0 18v3m0 99v3m1-135v3m0 12v3m0 6v3m1-15v3m0 3v6m0 12v3m0 3v3m0 96v3m1-144v3m0 3v6m0 36v3m0 102v6m0 6v2m1-188v3m0 12v3m0 30v6m0 6v3m0 6v3m0 90v3m0 3v3m1-165v6m0 15v3m0 6v9m0 12v6m1-33v3m0 3v3m0 3v6m0 3v3m0 3v3m0 90v6m0 3v3m0 21v3m1-183v3m0 9v3m0 3v3m0 3v3m0 18v3m0 3v3m0 6v3m0 3v3m1-78v3m0 24v6m0 21v3m0 3v9m0 3v3m0 81v6m0 6v9m0 3v12m1-192v3m0 3v3m0 3v3m0 6v3m0 3v3m0 3v3m0 33v3m0 84v9m0 9v6m1-159v3m0 36v3m0 111v3m1-183v3m0 30v3m0 24v3m0 3v3m0 6v3m0 78v6m0 9v3m0 6v3m0 6v6m1-189v3m0 51v9m0 9v6m0 90v3m0 12v3m1-189v3m0 6v3m0 18v3m0 30v3m0 9v3m0 81v3m1-90v3m0 3v3m0 75v12m1-105v3m0 96v3m0 9v12m0 6v3m1-138v3m0 3v3m0 93v6m1-135v3m0 30v3m0 84v9m0 33v3m1-123v3m0 111v3m0 3v5m1-140v3m0 18v3m0 75v6m0 6v3m0 9v3m1-126v9m0 6v3m0 96v3m0 3v3m1-150v3m0 27v6m0 6v3m1-45v3m0 30v3m0 6v3m0 81v3m0 3v3m0 3v6m0 12v3m1-135v3m0 6v6m0 3v3m0 81v3m0 9v3m0 9v3m0 3v3m1-132v3m0 93v6m0 3v3m0 24v3m0 3v2m1-140v3m0 3v3m0 99v6m0 12v6m1-132v3m0 111v3m0 12v3m1-150v3m0 15v3m0 3v3m0 6v3m0 84v9m0 9v9m0 3v6m1-138v3m0 12v3m0 84v3m0 3v6m1-153v3m0 15v3m0 18v3m0 3v3m0 96v3m0 21v6m1-186v6m0 6v6m0 6v3m0 24v3m0 12v3m0 75v3m0 3v9m0 6v6m0 3v3m0 12v2m1-206v3m0 15v3m0 45v3m0 3v3m0 105v3m0 3v3m0 3v3m1-189v3m0 3v3m0 15v3m0 39v3m0 6v3m0 66v3m0 12v6m0 18v3m1-120v3m0 72v3m0 6v6m0 3v3m0 30v3m1-135v3m0 81v3m0 3v6m0 6v3m0 12v6m0 3v3m1-189v3m0 18v3m0 3v3m0 3v3m0 30v3m0 75v3m0 3v3m0 12v3m0 3v3m0 3v6m0 6v3m0 3v3m1-195v9m0 12v6m0 6v3m0 21v3m0 6v3m0 84v3m0 3v3m0 21v3m1-162v3m0 3v3m0 24v3m0 3v3m0 75v3m0 3v6m0 15v3m0 18v3m1-168v3m0 3v3m0 30v6m0 3v3m0 75v3m0 21v6m0 6v3m0 3v5m1-134v3m0 9v3m0 93v9m1-168v3m0 3v9m0 36v3m0 3v6m0 81v6m0 6v3m0 15v3m0 6v2m1-194v3m0 6v6m0 3v3m0 6v3m0 30v3m0 6v3m0 60v3m0 21v6m0 9v6m0 3v3m0 6v5m1-206v3m0 78v3m0 57v3m0 6v6m0 18v3m0 3v3m0 6v3m1-189v6m0 24v3m0 114v3m0 9v6m0 24v3m1-156v3m0 24v3m0 3v6m0 3v3m0 69v3m0 3v3m0 9v3m0 3v3m0 3v3m0 3v6m1-195v3m0 21v6m0 51v3m0 57v6m0 6v3m0 30v3m0 12v3m1-186v3m0 3v3m0 6v3m0 36v3m0 66v12m0 3v3m0 9v3m0 3v3m1-135v3m0 21v3m0 3v3m0 66v3m0 9v6m0 3v3m0 21v6m1-57v6m0 24v3m0 18v3m0 3v3m1-189v3m0 6v3m0 15v3m0 30v3m0 12v3m0 87v3m0 9v9m0 3v6m1-177v3m0 6v3m0 36v3m0 9v3m0 60v3m0 12v3m0 3v3m0 3v9m0 6v3m0 9v5m1-209v3m0 84v3m0 45v9m1-123v3m0 3v3m0 45v3m0 63v3m0 18v3m0 36v3m1-183v3m0 3v3m0 12v3m0 96v6m0 3v3m0 3v18m0 6v6m0 3v3m0 15v2m1-206v3m0 9v3m0 3v3m0 6v6m0 9v3m0 33v3m0 57v3m0 3v3m0 9v3m0 12v12m0 9v12m1-207v3m0 39v3m0 3v3m0 18v3m0 9v3m0 54v6m0 3v3m0 3v3m0 6v3m0 9v3m0 6v3m0 6v6m0 9v2m1-173v3m0 30v3m0 3v3m0 66v3m0 3v6m0 3v3m0 3v3m0 3v6m0 9v3m0 6v6m0 3v3m1-129v3m0 51v3m0 3v9m0 18v3m0 36v3m1-201v3m0 15v3m0 6v3m0 99v3m0 3v3m0 15v6m0 18v3m0 21v2m1-194v3m0 3v3m0 9v6m0 30v3m0 3v3m0 60v6m0 12v3m0 27v6m1-180v3m0 9v3m0 9v3m0 36v3m0 57v15m0 15v6m0 15v3m0 12v3m1-129v3m0 78v3m0 6v3m0 6v3m0 24v3m1-162v3m0 36v3m0 48v3m0 3v3m1-72v6m0 57v9m0 3v3m0 3v9m0 6v15m0 3v12m0 3v3m0 6v2m1-182v3m0 6v3m0 30v3m0 3v6m0 48v6m0 9v3m0 6v15m0 3v6m0 3v3m0 3v3m0 3v3m0 6v8m1-182v3m0 39v3m0 3v6m1-78v3m0 3v9m0 3v3m0 51v3m0 54v3m0 9v6m0 27v3m0 6v3m1-120v3m0 57v3m0 30v3m0 15v3m1-156v3m0 6v3m0 90v9m0 9v3m1-144v21m0 15v3m0 30v3m0 51v6m1-123v3m0 6v12m0 3v3m0 36v3m0 3v3m0 45v9m0 9v3m0 6v6m0 6v3m0 6v6m0 15v6m1-186v3m0 15v3m0 30v3m0 57v3m1-96v3m0 9v3m0 24v3m0 6v3m1-81v3m0 9v6m0 45v3m0 3v3m0 6v3m0 39v9m0 18v3m0 6v3m0 42v2m1-173v3m0 30v3m0 3v3m0 6v3m0 42v3m0 6v3m0 6v3m0 9v3m0 3v3m0 12v3m0 3v9m0 12v2m1-203v3m0 9v3m0 48v3m0 54v6m0 39v3m1-144v3m0 36v3m0 66v3m0 3v9m0 3v6m0 6v3m0 9v3m0 3v3m1-120v3m0 3v3m0 51v6m0 12v3m0 6v9m0 3v3m0 3v3m0 6v6m0 6v6m0 3v5m1-197v9m0 3v3m0 3v3m0 42v6m0 54v6m0 9v3m0 15v3m0 15v3m0 15v3m1-138v3m0 3v3m0 51v6m0 3v3m0 12v12m0 6v3m0 3v3m0 6v9m1-126v3m0 69v3m0 3v3m0 3v3m0 6v18m0 3v3m0 15v3m1-201v9m0 57v3m1 57v6m0 12v3m0 21v6m0 6v3m0 3v9m0 6v3m1-183v3m0 9v3m0 30v3m0 54v3m1-123v15m0 12v6m0 27v3m0 57v6m0 21v3m0 24v3m1-171v3m0 54v3m0 51v6m0 3v3m0 3v3m0 15v3m0 42v6m1-162v3m0 21v6m1-54v3m0 3v6m0 3v3m0 30v3m0 54v3m0 6v6m0 6v6m0 3v3m0 3v3m0 9v3m0 3v3m0 9v3m0 3v3m0 3v3m2-186v3m0 12v3m0 84v3m1-117v6m0 117v9m0 15v12m0 3v3m0 9v3m1-57v9m0 3v3m0 18v3m0 15v3m0 3v3m0 3v9m0 3v3m1-135v3m0 54v12m0 3v3m0 9v9m0 3v6m0 3v6m0 15v3m1-186v3m0 18v3m0 30v3m0 54v3m0 9v3m0 12v3m0 6v3m0 24v3m1-174v3m0 9v3m0 3v3m0 3v3m0 81v3m0 24v3m1-147v3m0 120v3m0 15v3m0 3v3m0 33v3m0 6v3m1-168v3m0 9v3m0 75v3m0 3v3m0 6v3m0 12v3m0 24v3m1-171v3m0 15v3m0 90v6m0 27v6m0 15v3m0 18v3m1-180v6m0 39v3m0 54v9m0 9v6m0 6v3m0 6v3m0 12v3m0 3v3m0 3v3m0 3v3m0 6v2m1-203v6m0 9v3m0 12v3m0 27v3m0 60v3m0 9v6m0 36v3m1-177v3m0 3v3m0 6v3m0 9v3m0 27v3m0 57v3m0 18v3m1-108v3m0 21v3m1-39v9m0 90v3m0 42v3m0 6v3m1-192v3m0 36v6m0 21v3m1-27v3m0 84v3m1 3v3m0 3v3m0 18v3m0 9v3m1-162v6m0 18v6m0 87v3m0 48v3m0 18v3m2-174v6m0 9v3m0 87v3m0 3v9m0 15v3m0 3v3m0 6v3m0 6v3m0 6v3m0 3v3m1-219v3m2 36v3m0 3v3m0 9v3m0 81v3m0 3v6m0 12v3m1-24v3m0 15v3m0 3v3m0 3v3m0 12v3m0 15v6m1-195v3m0 36v3m0 84v6m0 3v3m0 3v3m0 9v15m0 3v3m0 3v3m0 6v3m0 3v3m0 3v3m0 3v2m1-188v3m0 105v3m0 9v15m0 9v6m0 6v3m0 3v9m0 6v6m0 3v2m1-185v3m0 9v3m0 3v3m0 87v3m0 3v9m1-105v3m0 12v3m0 3v3m0 69v36m0 3v6m0 6v12m0 3v6m1-171v3m1-33v3m0 3v3m0 3v3m0 123v6m0 15v3m0 6v3m0 21v3m0 3v5m1-191v3m0 3v3m0 96v3m1-111v3m0 108v3m0 6v3m0 3v3m0 3v3m0 9v6m0 36v6m1-201v6m0 3v6m0 6v6m0 24v3m0 66v3m0 3v3m0 15v3m0 45v3m1-198v6m0 27v3m0 96v3m1-78v3m0 66v6m0 6v6m0 3v15m0 3v3m0 3v12m0 3v9m0 3v3m0 3v2m1-176v3m0 24v3m0 60v3m1 0v6m0 6v6m0 3v6m0 3v3m0 12v3m0 6v3m0 3v12m0 3v8m2-200v6m0 39v3m0 84v3m1-135v3m0 114v3m0 18v3m0 15v3m0 12v6m0 3v6m1-162v6m0 3v3m0 81v9m0 6v9m0 6v3m0 3v6m0 9v3m0 6v6m1-129v3m0 63v6m0 9v15m0 6v6m0 3v24m0 3v3m1-183v6m0 3v3m0 96v3m0 36v3m0 12v3m1-183v6m0 3v3m0 21v3m0 18v3m1-60v3m0 24v3m0 3v3m0 87v3m0 3v3m1-96v3m1-15v3m0 6v3m1-9v3m0 6v3m0 18v3m0 66v3m1-3v6m0 12v6m0 6v3m0 9v3m0 6v3m0 3v3m0 6v9m1-159v3m0 81v3m0 30v3m1-36v6m0 3v3m0 3v3m1-93v3m0 72v3m0 12v3m0 6v12m0 12v3m0 6v3m0 3v12m0 3v5m1-83v3m0 48v3m0 6v3m0 15v3m1-84v3m1 0v3m0 24v3m0 39v3m1-69v3m0 3v6m0 6v6m0 6v3m0 3v3m0 6v3m0 3v3m0 3v12m0 6v3m1-156v3m0 72v3m0 3v6m0 3v3m0 21v3m0 9v3m0 15v3m0 3v3m1-153v3m0 72v6m0 9v3m0 36v3m1-126v3m0 132v3m1-147v3m0 75v6m0 18v3m0 36v3m1-147v3m1-3v3m0 75v3m1-66v3m0 75v12m0 6v12m0 3v24m0 12v2m1-164v3m0 12v3m0 81v3m0 33v3m0 6v3m3-150v6m0 9v3m0 66v9m0 3v6m0 9v3m0 12v3m0 12v6m0 9v3m0 3v3m2-150v6m2-21v6m1-18v3m0 3v3m0 3v3m1-24v3m0 6v3m0 120v3m0 12v3m0 33v3m1-207v3m0 39v3m0 3v3m0 75v3m0 6v3m0 12v3m0 15v3m0 33v3m2-81v3m0 6v3m0 18v6m1-171v3m0 132v3m1-141v3m0 138v15m0 3v3m0 12v3m0 6v3m0 15v9m1-72v3m0 57v3m1-147v3m0 12v3m0 63v6m0 51v3m0 12v3m1-141v3m0 66v3m0 9v3m1-15v6m1-6v3m1-3v3m0 3v3m0 6v3m0 30v6m0 9v3m0 9v6m1-81v3m0 3v3m0 9v6m0 3v3m0 3v3m0 9v15m0 6v3m0 9v5m1-155v3m0 69v3m0 66v3m1-213v3m0 54v3m0 81v3m0 3v3m0 18v9m0 3v3m0 9v3m0 6v3m0 3v3m1-147v3m0 81v3m0 3v9m0 3v9m0 6v6m0 6v12m0 6v9m0 3v2m1-224v3m0 138v6m0 6v6m0 51v3m0 6v3m1-150v3m0 69v9m0 3v9m0 9v3m0 3v3m0 6v6m0 6v3m0 3v6m0 6v3m1-75v3m0 15v3m0 3v3m0 12v3m0 3v3m1-195v3m0 144v3m0 3v3m0 3v3m0 3v3m0 21v3m0 6v3m0 3v6m0 3v3m0 3v3m1-153v3m0 75v6m0 3v6m0 3v9m0 6v3m0 12v6m0 3v6m1-213v3m0 75v3m0 69v3m0 6v9m0 15v3m0 3v6m0 3v3m0 3v6m0 3v3m1-213v3m0 60v3m0 99v6m0 15v3m0 15v3m1-54v3m0 9v3m0 42v3m1-141v3m1-75v3m0 57v6m0 6v3m1-72v3m6-33v3m0 9v3m1 0v3m1-21v3m0 3v9m1-9v3m1 84v6m2-12v6m2 9v3m1-18v3m1 0v12m0 6v3m1-84v3m0 90v3m1-123v3m0 117v6m1-102v3m0 90v3m0 3v3m1-126v3m0 105v3m0 6v3m0 3v3m0 3v3m1-111v3m0 66v3m0 24v6m0 3v3m0 3v3m1-117v3m0 84v9m0 21v3m1-33v3m0 3v12m1-36v3m0 3v9m0 3v6m0 30v3m1-123v3m0 75v6m0 9v9m0 15v3m1-120v3m1 69v6m0 18v3m0 6v3m0 6v3m1-120v3m0 3v3m0 123v3m1-126v3m0 63v3m0 12v3m0 36v3m2-60v3m0 24v3m0 6v9m0 3v6m1-126v3m0 75v3m2-78v3m0 78v3m1-90v3m0 3v6m0 60v3m0 6v9m0 9v3m2-117v3m0 90v6m0 6v3m1-18v3m1-75v3m0 72v3m1-78v3m0 84v3m1-105v6m0 96v3m0 6v6m1-102v3m0 93v12m1-117v3m0 114v3m1-123v3m0 6v3m0 72v6m0 21v3m0 6v3m1-129v3m0 3v9m0 6v3m0 69v3m1-72v3m0 60v3m0 15v3m1-96v3m0 78v3m0 3v3m1-15v3m1-81v3m0 6v3m1 69v3m1 3v3m0 3v9m0 33v3m0 24v3m1-171v6m0 93v3m0 3v3m1-18v3m0 6v3m0 30v3m0 12v3m1-63v3m0 6v3m0 21v6m0 42v3m0 24v3m0 3v3m0 3v3m1-198v3m0 72v9m0 15v3m0 3v9m0 21v3m0 15v3m0 39v3m1-111v3m0 9v6m0 24v3m0 18v3m0 3v3m1-159v3m0 78v18m0 3v3m0 15v9m0 6v6m1-144v3m0 90v3m0 12v6m0 6v3m0 6v3m0 12v3m1-150v3m0 78v3m0 33v3m0 21v3m1-54v6m0 27v3m0 3v6m1-36v6m1-114v6m0 6v3m1-3v3m1 0v3m1-15v3m0 6v3m1 0v3m1-3v3m2-12v3m0 6v3m1-18v3m2-3v3m0 3v3m0 6v3m1-12v3m0 3v3m1-3v3m1-3v3m1-6v3m0 3v3m1-15v3m0 6v3m1-6v3m2 3v3m0 90v3m0 6v3m0 3v6m0 3v3m1-129v3m0 84v3m0 30v3m0 6v3m1-39v3m0 12v9m0 3v3m0 6v3m1-120v3m0 87v3m0 6v3m1-114v3m0 81v6m0 6v3m1-90v3m0 78v3m0 12v3m0 15v3m0 3v3m1-132v3m0 6v3m0 90v6m0 12v3m0 3v6m1-36v3m0 9v3m1-27v3m0 6v3m1-87v3m0 75v3m0 3v3m0 12v3m1-99v3m0 87v3m0 18v3m0 3v3"/><path stroke="#0050ff" stroke-width="1" d="M102.5 205v3m0 15v3m1-21v3m0 15v6m1-9v6m1-21v3m0 9v3m1-15v3m0 12v6m1-3v3m0 9v3m0 6v3m1-75v3m0 6v3m0 39v6m0 15v6m1-57v3m0 6v6m0 12v3m0 15v3m1-51v3m0 3v3m0 3v3m0 15v3m0 3v3m0 3v6m0 3v3m0 3v3m1-72v3m0 12v3m0 6v3m0 15v3m0 9v3m1-81v6m0 12v6m1-51v3m0 27v3m0 3v3m0 12v3m1-81v3m0 6v6m0 3v9m0 6v6m0 6v3m1-84v3m0 18v3m0 3v6m2-39v6m1 3v6m0 3v6m3 30v3m0 6v6m1-48v3m0 18v3m0 3v3m0 24v3m1-48v9m0 6v3m0 6v6m0 24v3m1-45v3m0 3v6m0 6v3m0 12v3m0 6v3m0 6v6m0 9v3m1-48v6m0 6v3m0 15v9m1-15v3m0 6v6m0 3v3m0 135v3m1-159v6m0 27v3m0 18v3m0 90v3m1-117v3m0 9v3m0 15v3m2-57v3m0 9v3m0 15v3m0 6v3m0 6v3m1-9v6m1-54v3m0 3v3m0 48v3m0 15v3m1-87v3m0 3v6m0 9v3m1-18v3m0 6v3m1-21v3m1-3v3m7-3v3m1-3v3m1-87v3m4 0v3m2-6v3m0 3v3m3-9v3m4 6v6m1-3v3m0 81v3m1-84v3m1 84v3m1 0v3m0 3v6m1-9v3m1-9v6m3-9v3m0 9v3m1 0v3m0 90v3m1-99v3m0 6v9m0 9v3m0 69v3m0 24v3m1-219v3m0 3v3m0 90v6m0 15v9m0 51v3m0 6v3m0 27v3m1-138v3m0 6v3m0 3v6m0 60v3m0 9v3m0 9v3m0 12v3m0 12v3m1-213v3m0 63v3m0 21v3m0 3v9m0 12v3m0 12v3m0 51v3m0 6v3m0 9v3m1-120v3m0 18v6m0 39v3m0 24v3m0 3v3m0 15v3m1-126v3m0 6v3m0 21v6m0 42v3m0 6v15m1-207v3m0 12v3m0 75v6m0 15v3m0 27v3m0 42v3m0 12v3m0 6v3m0 3v3m0 3v3m1-114v6m0 66v3m0 33v3m0 3v3m1-129v3m0 96v3m0 18v3m0 3v3m1-138v3m0 51v3m0 15v3m0 30v3m0 12v3m0 6v3m0 3v3m1-120v3m0 81v3m0 12v3m0 6v3m1-219v3m0 105v3m0 6v6m0 69v6m0 3v3m0 6v3m0 9v6m1-138v6m0 36v3m0 51v3m0 3v3m0 9v3m1-114v3m0 93v3m0 3v3m0 9v3m0 3v3m1-207v3m0 69v3m0 9v3m0 102v6m1-219v3m0 96v3m0 114v3m0 6v3m0 6v3m1-18v6m0 9v6m1-30v3m0 3v6m0 9v3m0 6v3m1-231v3m0 84v3m0 102v6m0 15v3m0 6v6m0 3v3m1-141v3m0 105v3m0 6v3m0 15v3m1-225v3m0 84v3m0 99v3m0 3v3m0 3v3m1-201v3m0 87v3m0 15v3m0 90v3m0 9v6m1-222v3m0 126v3m0 3v3m0 9v3m0 15v3m1-186v3m0 9v3m0 138v3m0 9v3m0 3v3m0 9v3m1-33v3m0 9v3m0 3v3m1-27v3m0 3v6m0 3v3m1-15v6m0 27v3m1-33v3m0 3v3m0 3v3m1-15v6m0 9v6m0 9v3m1-36v3m0 12v3m0 12v6m1-30v3m0 12v6m1-18v6m0 3v3m0 15v3m1-36v3m0 12v6m0 9v3m1-33v6m0 6v3m1-18v3m0 3v6m0 24v3m1-42v6m0 3v3m0 3v6m0 15v3m1-30v6m0 6v3m0 15v3m1-45v3m0 6v6m0 6v6m1-18v9m0 6v6m0 12v3m1-51v3m0 12v3m0 3v3m0 9v3m1-24v3m0 6v3m0 18v3m1-30v3m0 3v3m1-24v3m0 24v6m1-18v6m0 6v3m0 15v6m1-33v3m0 3v3m0 21v3m1-42v3m0 18v6m0 9v3m1-36v3m0 9v3m0 6v3m0 12v3m1-42v3m0 12v9m0 15v3m1-39v3m0 15v3m0 12v3m1-15v3m0 12v3m1-42v3m0 9v3m0 3v6m0 15v3m1-33v3m0 24v3m1-36v6m0 3v3m0 6v6m0 6v3m1-33v3m0 9v3m0 3v3m0 12v3m1-24v6m1-21v3m0 6v3m0 6v3m1-18v9m0 6v3m0 9v3m0 6v3m1-36v3m0 9v9m1-24v6m0 3v6m0 18v3m1-39v3m0 3v3m0 3v3m0 3v9m0 6v3m1-30v3m0 15v3m1-21v3m1-9v3m0 3v3m0 6v6m0 12v6m1-33v21m1-27v3m0 15v6m0 9v3m1-30v3m0 6v3m0 15v3m1-33v3m0 3v3m0 3v3m0 12v3m0 3v3m1-36v6m0 3v3m0 3v6m0 15v3m1-69v3m0 36v3m0 6v3m0 12v3m1-39v3m0 33v6m1-39v12m0 3v3m0 9v3m0 6v3m1-69v3m0 39v6m1-18v6m1-3v3m0 15v3m0 12v3m1-6v3m1-36v3m0 3v6m0 9v3m0 15v3m1-45v6m0 12v3m0 18v3m1-36v3m0 6v3m0 18v3m0 3v3m1-27v6m0 6v3m0 6v3m1-42v3m0 21v3m0 12v3m1-36v3m0 3v6m1-15v6m0 12v3m0 15v3m1-69v3m0 30v6m1-12v3m1 6v3m1-6v3m1-6v6m0 27v3m1-51v6m0 3v3m0 30v3m1-45v3m0 45v3m1-39v9m0 30v3m2-45v3m0 3v3m0 18v3m0 3v3m0 6v3m1-9v6m1-48v3m0 3v3m0 24v3m1-39v12m0 3v3m0 30v3m1-42v6m0 21v3m0 6v3m1-30v3m0 6v3m0 21v3m1-39v3m1-9v3m0 33v3m1-27v3m0 3v6m0 3v3m0 12v6m1-45v6m0 18v3m0 9v6m1-18v3m1-24v3m0 6v3m0 9v3m0 9v6m1-39v6m0 9v3m0 15v3m1-36v3m0 18v3m1-18v3m1-12v3m0 24v3m1-21v3m0 12v3m0 9v9m1-45v3m0 3v3m0 18v3m0 3v3m0 3v3m1-51v3m0 12v3m0 18v3m0 9v3m1-54v12m0 36v6m1-42v12m0 6v6m0 15v6m1-27v9m0 12v3m1-33v3m0 27v3m1-42v3m0 33v3m4 6v3m158-156v3m0 18v3m0 6v3m0 129v3m0 6v3m0 3v3m0 6v3m0 3v3m1-195v3m0 18v3m0 6v3m0 129v3m0 6v3m0 3v3m0 6v3m0 3v3m1-195v3m0 18v3m0 6v3m0 129v3m0 6v3m0 3v3m0 6v3m0 3v3m1-195v3m0 18v3m0 6v3m0 129v3m0 6v3m0 3v3m0 6v3m0 3v3m1-174v3m0 138v3m0 6v3m0 6v3m0 3v3m0 3v3m1-171v6m0 132v3m0 6v6m0 3v3m1-216v6m0 189v3m0 9v3m1-213v3m0 3v3m0 135v3m0 27v3m0 33v9m1-222v3m0 3v9m0 6v3m0 99v3m0 45v12m0 6v18m1-207v3m0 15v6m0 108v3m0 9v3m0 63v3m1-213v3m0 117v3m0 9v3m0 30v3m0 33v3m0 9v24m0 3v3m1-240v3m0 21v3m0 90v3m0 84v3m0 21v3m1-219v3m0 168v9m0 12v6m0 27v3m1-234v3m0 15v3m0 102v3m0 78v3m0 6v3m0 6v6m1-237v9m0 15v3m0 105v3m0 42v6m0 3v6m0 3v3m1-159v3m0 132v3m0 9v3m1 0v3m1-27v6m0 3v6m0 6v9m0 12v15m1-90v3m0 51v3m1-57v3m0 39v12m0 6v6m0 6v9m1-24v3m0 9v3m0 3v3m1-96v3m0 12v51m0 3v6m1-21v3m2-39v3m0 36v3m0 27v3m0 6v6m1-39v3m0 3v3m1-12v3m2 0v3m0 3v3m1-135v3m0 78v3m3 21v9m0 3v3m1-36v3m0 6v3m1 27v3m2-45v3m1 24v3m1 12v3m4-57v3m0 54v3m1-66v3m1-66v3m0 78v3m0 18v3m2-24v3m1 39v3m1-123v3m1 117v3m1-6v3m1-42v3m1 36v3m3-123v3m0 120v3m1-57v3m0 48v3m3-126v3m0 81v3m0 36v3m1-126v3m0 93v3m0 24v3m1 0v3m1-45v3m1-3v3m0 36v3m1-24v3m1-96v3m1 72v3m1-15v3m0 48v3m1-60v3m2 15v6m1 33v3m3-42v6m1 36v3m1-45v6m1-6v3m0 36v3m1-60v3m0 57v3m1-63v3m1 15v6m0 6v3m0 27v3m1-93v3m1 45v3m1-3v3m0 33v3m2-123v3m1 0v3m0 66v3m0 9v3m4 36v3m1-39v3m1-18v3m0 9v3m1-42v3m0 18v3m0 12v3m1-12v3m0 6v6m1-21v3m0 3v3m0 21v3m1-12v9m0 6v15m0 3v3m1-42v3m0 6v3m1-39v3m0 15v3m1-21v3m0 3v3m0 42v3m1-60v3m0 12v3m0 3v6m0 6v3m0 6v3m1-108v3m0 54v3m0 12v3m0 21v3m0 3v3m1-45v3m0 9v3m0 15v9m0 39v3m1-135v3m0 45v3m0 6v6m0 9v6m0 12v3m0 3v3m0 3v6m0 12v3m1-75v3m0 15v3m0 6v3m0 6v6m0 9v3m0 9v9m0 3v12m1-66v3m0 12v3m0 18v6m1-117v3m0 51v3m0 9v3m0 21v3m0 21v18m0 3v3m1-84v3m0 6v6m0 12v3m0 3v6m0 9v3m0 6v3m1-57v3m0 3v12m0 66v3m1-90v6m0 30v6m0 18v3m0 21v3m1-84v3m0 42v6m0 9v3m0 3v3m0 12v3m1-87v3m0 6v9m0 9v6m0 9v3m0 3v3m0 12v3m0 18v3m1-81v6m0 6v3m0 3v3m0 9v6m0 12v3m0 27v3m1-84v6m0 27v3m0 6v6m0 12v3m1-123v3m0 57v3m0 9v3m0 30v3m0 33v3m1-141v3m0 63v3m0 39v9m1-111v3m0 54v6m0 3v3m0 3v3m0 24v6m0 3v3m1-54v3m0 9v3m0 12v6m0 9v3m0 30v3m1-66v3m1-21v3m0 6v3m0 3v3m0 3v3m0 3v6m0 24v9m0 6v3m1-30v6m0 3v3m1-9v6m0 39v3m1-93v3m0 6v3m0 36v6m0 3v3m1-15v3m1-54v3m0 3v6m0 3v3m0 6v3m0 3v3m1-27v3m0 6v6m1-66v3m0 42v6m0 9v3m0 21v6m0 3v12m1-105v3m0 45v6m0 39v3m0 9v6m1-57v3m0 3v3m1-66v3m0 45v6m0 42v6m1-54v3m0 3v3m0 9v3m0 3v3m0 12v3m0 3v6m1-48v3m0 3v3m0 18v3m0 6v6m0 12v3m1-51v3m0 27v3m0 24v3m0 3v6m0 3v3m1-84v3m0 12v3m0 12v3m0 3v6m0 12v3m0 3v3m0 24v3m1-78v3m0 15v3m0 6v3m0 3v6m0 6v6m1-57v3m0 6v6m0 3v3m0 3v3m0 3v3m0 15v6m1-57v6m0 3v9m0 9v3m0 15v3m0 15v12m1-75v3m0 3v3m0 24v3m0 3v6m1-36v3m0 3v12m0 6v3m1-33v3m0 6v3m0 24v6m0 12v3m1-63v3m0 3v6m0 6v3m0 3v3m0 9v3m0 9v3m0 3v3m1-48v3m0 9v3m0 6v3m0 9v9m1-42v3m0 12v6m0 3v6m0 3v3m0 27v3m1-60v3m0 3v3m0 6v3m0 3v3m0 6v3m0 9v3m1-12v3m1-51v3m0 6v3m0 12v3m0 6v3m0 6v3m0 21v3m1-69v12m0 3v3m0 12v6m0 9v3m1-39v3m0 3v3m0 9v3m0 3v3m0 3v3m0 3v3m1-45v3m0 9v6m0 6v3m0 6v3m0 6v3m1-48v6m0 3v3m0 3v3m0 18v3m0 6v3m1-45v3m0 6v3m0 12v6m0 24v6m1-60v3m0 9v9m0 3v3m0 3v6m1-27v3m0 3v3m0 6v9m1-36v3m0 3v3m0 12v3m0 3v9m0 6v6m0 12v3m1-63v3m0 12v3m0 3v3m1-75v3m0 60v9m0 12v3m0 21v3m1-54v6m0 3v9m0 3v6m1-81v3m0 45v6m0 3v3m0 15v6m0 18v9m1-42v3m0 9v6m0 3v3m0 3v6m1-45v3m0 9v3m0 3v6m0 3v3m0 9v3m1-42v3m0 3v3m0 15v6m0 3v3m1-42v3m0 6v6m0 3v3m0 3v6m0 3v3m0 24v3m1-45v3m0 3v3m1-27v3m0 24v3m0 15v3m0 12v3m0 96v6m1-138v3m0 15v3m0 108v6m0 3v2m1-212v3m0 102v3m0 87v3m1-153v3m0 24v3m0 3v6m0 6v3m1-33v3m0 9v3m0 12v6m0 105v3m1-132v6m0 15v3m1-21v3m0 27v3m1-87v3m0 84v3m1-93v3m0 54v3m0 15v6m0 96v3m0 6v3m0 3v5m1-23v3m1-102v3m1-48v3m0 30v3m0 9v3m0 6v3m0 84v9m0 12v3m1-132v3m0 9v3m0 3v3m0 90v3m0 3v3m0 6v6m1-132v3m0 102v3m0 3v6m0 3v3m1-129v3m0 3v3m0 9v3m0 90v6m1-102v3m1-45v6m0 3v3m0 36v3m0 111v3m1-177v3m0 9v3m0 3v9m0 3v3m0 6v3m0 6v3m0 6v3m0 6v3m0 84v9m0 3v12m1-183v3m0 3v3m0 9v6m0 21v6m0 9v3m0 108v9m1-183v15m0 9v3m0 6v6m0 33v3m0 93v3m0 6v3m0 6v2m1-176v3m0 6v3m0 3v9m0 6v3m0 6v3m0 6v3m0 12v3m0 90v3m0 12v3m1-177v9m0 3v3m0 3v3m0 3v3m0 36v3m0 78v9m0 9v3m0 3v3m1-177v3m0 6v6m0 3v3m0 12v3m0 33v3m0 84v3m0 18v3m1-177v6m0 12v6m0 33v3m0 87v3m0 3v6m0 3v3m1-156v3m0 42v6m0 6v3m0 93v3m0 3v3m0 6v3m1-165v3m0 3v3m0 9v3m0 117v9m0 3v3m0 3v11m1-179v3m0 15v3m0 3v3m0 9v6m0 111v3m0 3v3m0 6v3m1-159v3m0 6v3m0 141v3m1-180v3m0 15v3m0 18v3m0 3v12m0 3v3m0 93v3m0 3v3m0 12v3m1-162v3m0 3v3m0 12v3m0 114v3m0 3v3m0 6v15m1-183v3m0 12v3m0 3v6m0 15v3m0 18v3m0 78v6m0 6v9m0 12v3m1-183v6m0 18v9m0 12v3m0 12v3m0 3v3m0 6v3m0 81v6m0 9v3m0 6v3m1-183v3m0 36v6m0 9v6m0 12v3m0 78v3m0 6v3m0 3v9m0 6v5m1-173v3m0 18v3m0 6v3m0 3v6m0 3v3m0 9v3m0 96v3m1-150v3m0 6v9m0 3v3m0 3v3m0 9v3m0 6v3m0 72v3m0 3v3m0 3v9m0 3v3m0 6v3m1-180v3m0 3v6m0 39v3m0 108v3m0 3v3m1-180v3m0 6v3m0 9v3m0 12v3m0 15v3m0 3v3m0 6v3m0 3v3m0 90v9m0 3v3m0 9v2m1-140v3m0 3v3m0 6v9m0 84v3m0 3v3m1-156v3m0 54v3m0 3v3m0 90v3m0 3v3m0 6v8m1-125v3m0 75v9m0 9v3m0 24v2m1-185v3m0 48v3m0 9v6m0 90v3m0 12v6m1-135v3m0 18v3m0 87v9m0 12v3m1-177v3m0 3v3m0 51v3m0 72v3m0 27v3m1-186v6m0 159v3m0 12v9m0 6v3m1-198v3m0 3v3m0 72v3m0 84v12m0 6v6m1-201v3m0 84v3m0 90v6m1-99v6m0 63v3m0 3v3m0 12v3m0 18v6m0 3v2m1-122v6m0 72v3m1-90v3m0 6v3m0 60v12m0 39v3m1-117v3m0 105v3m0 3v3m1-48v3m0 3v3m0 30v3m0 9v2m1-47v6m0 27v12m1-120v3m0 72v3m0 9v3m0 6v3m0 6v3m0 6v3m1-213v3m0 93v3m0 69v6m0 6v3m0 12v3m1-120v3m0 90v3m0 21v6m0 9v6m1-120v3m0 66v6m0 9v3m0 3v3m0 12v3m1-36v3m0 3v3m0 3v6m0 6v6m0 15v5m2-50v3m1-6v12m0 6v3m0 6v3m0 21v2m1-50v9m0 3v3m0 6v3m1-171v6m0 9v3m0 6v3m0 111v6m0 9v3m0 21v3m0 6v3m0 3v3m1-54v3m0 3v3m0 6v6m0 18v3m0 6v3m0 3v2m1-197v3m0 9v6m0 6v3m0 117v6m0 3v3m0 12v9m0 9v3m0 6v2m1-212v3m0 87v3m0 57v3m0 24v3m0 18v3m1-114v3m0 63v3m0 12v3m0 9v3m0 3v3m0 15v3m1-201v3m0 9v6m0 3v3m0 6v3m0 48v3m0 75v6m0 3v3m0 9v3m0 9v3m1-177v6m0 120v3m0 3v9m0 12v3m0 6v12m0 6v6m1-198v3m0 3v3m0 3v3m0 60v3m0 63v3m0 3v3m0 6v3m0 6v3m1-168v3m0 144v6m0 3v6m0 3v6m1-18v6m0 9v6m1-162v3m0 120v3m0 3v3m0 12v3m0 6v6m0 6v3m1-177v3m0 15v3m0 105v9m1-135v3m0 126v3m0 3v3m0 9v6m0 6v3m1-162v3m0 6v9m0 57v3m0 51v3m0 3v6m0 18v12m0 3v6m1-177v3m0 129v9m0 9v3m1-15v3m1-132v3m0 114v3m1-6v6m0 3v9m1-159v3m0 15v3m0 66v3m0 48v3m1-132v3m0 6v3m0 6v3m0 3v6m0 102v9m1-126v6m0 117v3m0 6v6m0 3v3m0 21v6m0 3v3m0 3v3m1-72v3m1-138v3m0 3v3m0 129v3m1-135v6m0 3v6m0 15v6m0 45v3m0 51v3m0 6v3m0 27v3m0 15v3m0 3v3m1-168v3m0 96v3m1-135v6m0 18v12m0 93v6m1-132v3m0 123v6m0 3v3m0 3v3m0 6v3m0 3v3m0 3v3m0 9v3m0 9v3m0 6v3m0 3v2m1-209v3m0 3v3m0 27v3m0 42v3m0 51v3m1-138v3m0 9v3m0 15v3m0 3v3m0 93v3m1-111v3m0 102v3m0 3v3m1-108v6m0 93v6m0 24v3m1-78v3m0 51v12m0 9v6m0 15v3m0 3v6m0 12v3m1-189v3m1-3v6m0 3v3m0 6v3m0 42v3m0 45v3m0 9v3m0 3v3m0 45v3m1-192v3m0 24v3m0 114v3m1-27v3m1-102v3m0 3v6m0 90v3m1-117v3m0 108v3m1-60v3m0 3v3m0 48v3m1-126v3m0 27v3m0 90v3m1-96v3m1-30v3m0 3v6m0 3v3m0 3v3m0 96v3m1-126v3m0 12v18m0 90v3m1-102v3m0 57v3m1-81v3m0 6v3m0 3v3m0 3v6m0 51v3m0 36v3m1-108v3m0 9v6m1 87v3m1-93v3m0 87v3m1-108v3m0 3v3m0 6v3m0 87v6m1-123v6m0 21v3m0 39v3m0 45v3m0 69v3m1-123v3m0 45v6m0 3v6m0 3v3m0 3v3m0 3v6m0 27v12m0 3v5m1-134v3m0 45v3m1-114v3m0 21v3m0 87v3m1-123v3m0 12v3m0 3v6m0 90v3m1-105v6m0 96v3m1-120v3m0 12v3m0 12v3m1 84v3m1-120v3m0 6v3m1 6v3m0 96v3m2-111v9m0 9v6m0 33v3m0 51v3m1-117v3m0 3v9m0 6v6m0 87v3m1-93v3m0 84v6m0 24v3m0 51v2m1-200v3m0 6v6m0 6v6m1-12v3m1-9v3m0 15v3m0 30v3m0 51v6m1-102v3m0 93v3m1-117v6m0 3v3m0 15v3m0 84v3m1-114v3m0 15v9m1-21v3m0 102v6m1-129v3m0 9v3m0 108v3m1-3v3m1-99v3m0 93v6m1-132v3m0 21v3m0 39v6m0 54v3m1-87v3m1-48v9m0 27v6m0 87v6m1-105v9m0 90v3m1-3v3m1-129v3m0 12v15m0 9v3m0 87v6m0 18v3m0 27v3m1-60v3m1-63v3m0 57v3m1-126v3m0 12v3m0 9v3m0 3v3m0 87v3m1-126v9m0 9v3m0 9v3m0 3v3m0 87v3m0 48v3m1-57v6m0 42v3m1-171v9m0 18v3m0 3v3m0 87v3m0 27v3m0 3v3m0 6v3m0 30v3m1-144v3m1 57v12m0 45v6m1-63v3m1-111v3m0 42v3m0 60v9m1-120v6m1-6v3m0 21v3m1-36v3m0 6v3m0 21v3m0 84v3m1-117v3m0 6v3m0 39v3m0 60v3m1-105v3m0 12v3m0 87v3m0 75v3m2-180v3m0 6v3m0 96v3m1-138v3m0 24v3m0 93v3m1-111v6m0 15v3m0 84v3m0 6v3m1-123v3m0 21v3m0 21v3m0 60v3m0 3v3m1-120v3m0 3v6m0 99v3m0 57v3m1-60v3m0 6v6m0 30v3m0 24v3m0 3v3m1-198v3m0 3v6m1-12v3m0 3v3m0 15v3m0 87v3m2-99v3m0 27v3m0 63v3m1-99v6m0 90v3m0 89v3m1-95v3m1-66v3m0 60v3m0 78v3m1-84v3m1-3v3m1-66v3m0 60v3m0 3v3m1-9v3m1-66v3m1-3v3m0 60v3m1 0v3m0 3v3m0 6v3m1-84v3m1-3v3m0 60v3m2-3v3m1-3v3m2-78v3m0 75v6m1-9v6m1-72v3m1-18v3m1 15v3m0 60v3m0 33v3m1-21v3m0 3v3m0 6v3m0 6v6m0 3v6m0 3v6m0 3v9m0 6v2m2-158v3m3-45v6m0 12v3m0 27v3m0 66v3m0 3v21m0 3v12m0 3v15m0 3v6m0 3v6m0 3v2m1-86v3m1-3v3m2-66v3m0 60v3m1-3v6m0 78v2m0 51v3m0 9v3m1-296v6m0 138v3m1-144v3m1 138v3m2-147v3m0 78v3m0 60v3m1-3v3m1-3v3m0 3v3m0 3v3m0 60v3m1-78v3m1-3v3m0 3v3m1-72v3m0 66v3m0 3v3m0 66v3m1-252v3m0 102v3m0 60v3m0 6v3m1-153v3m1 138v3m0 125v3m1-128v6m0 9v3m0 3v3m0 12v3m0 3v6m0 3v3m0 6v3m0 12v3m0 3v2m1-80v3m0 6v3m0 21v3m0 3v12m0 18v3m1-75v6m0 60v3m1-60v3m0 6v6m0 12v9m0 3v15m0 3v9m0 3v5m1-149v3m0 78v3m0 3v3m0 9v3m0 9v6m0 6v12m0 6v8m1-41v3m0 9v6m1-144v3m0 6v3m0 96v3m2-114v3m4-72v3m2-6v3m0 69v3m1-72v9m1-24v3m0 12v3m0 69v3m1-90v6m0 18v3m1-15v3m0 6v3m0 69v3m0 3v3m1-93v3m0 3v3m0 6v3m1 0v3m0 57v3m0 6v12m1-12v3m0 6v3m1-18v3m1-69v3m0 87v3m2-102v3m1-18v3m0 126v3m1-126v3m0 3v9m1 78v3m0 27v3m1 6v3m1-123v3m0 87v3m1-21v3m0 9v3m1 30v3m0 3v3m1 0v3m1-60v3m0 39v3m2-114v3m2 0v3m0 111v3m1-123v3m0 69v9m0 42v3m1-120v3m0 78v6m0 6v3m0 24v3m1-9v3m1-18v6m1-6v3m1-96v3m0 57v6m0 15v3m1-111v3m0 9v3m0 6v3m0 69v3m1-84v3m1 93v3m1-3v6m0 9v3m1-123v3m0 6v3m0 72v12m0 3v12m0 12v3m1-117v3m0 114v3m2-15v3m1-99v3m0 78v3m0 3v3m1-105v3m1-9v3m0 87v3m1-90v3m2 87v3m0 18v3m0 24v3m0 15v3m1-150v3m0 96v3m1-114v3m0 84v3m0 6v6m1-102v3m0 84v3m1-87v3m0 147v3m0 6v6m1-63v3m0 42v12m1-42v3m0 9v3m1-9v3m2-21v3m0 33v3m0 3v3m2-54v3m2-102v3m10 6v3m6 108v3m0 12v9m1-6v3m3-141v3m0 129v9m1-27v3m1 21v6m1-6v3m1-3v3m2-3v3"/><path stroke="#007eff" stroke-width="1" d="M102.5 214v6m1 0v3m1-6v3m2-6v3m1-12v3m0 3v3m0 6v3m1-9v3m1-3v6m0 27v3m1-36v3m0 6v3m0 3v3m1-51v3m0 6v3m0 21v3m0 12v3m1-54v3m0 6v6m0 3v3m0 3v3m0 21v3m1-84v6m0 3v3m0 9v3m0 6v3m1-72v3m0 18v6m0 39v3m1-114v3m0 3v6m0 3v3m0 3v3m0 21v3m0 3v6m0 12v3m1-69v3m0 12v3m1 6v3m1-18v3m1 21v3m1 0v15m1 15v3m0 159v3m0 6v3m1-162v6m1-69v3m0 24v3m0 12v3m0 15v3m0 9v3m1-51v3m0 9v3m0 3v3m0 21v6m0 6v6m0 135v3m0 26v3m1-194v6m0 3v6m0 15v3m0 9v6m0 111v6m0 14v3m0 6v3m1-167v3m0 6v3m0 3v3m0 15v3m0 108v2m0 6v3m0 12v3m1-179v6m0 6v6m0 6v3m0 9v3m0 6v3m0 21v3m0 72v3m1-132v6m0 3v3m0 6v3m0 9v6m0 87v3m1-114v3m0 6v9m0 9v3m0 12v3m1-72v3m0 9v3m0 3v3m0 3v3m0 30v6m0 3v3m0 9v3m1-63v3m0 9v9m0 24v3m0 3v6m0 3v3m0 12v3m1-69v3m0 6v3m0 9v3m0 33v3m0 3v3m1-102v3m0 12v3m0 3v6m1-21v3m0 30v3m0 3v3m0 3v3m0 12v3m0 9v3m0 21v3m3-111v3m2-3v3m7-3v3m1-87v3m0 81v3m1-81v3m1 75v3m1-87v3m0 3v3m1 75v3m1-3v3m1-78v3m2-9v3m0 78v3m1-84v3m0 6v3m1-12v3m1 87v3m1-93v3m0 3v3m0 87v3m2 3v3m2 3v3m0 3v3m2-21v3m2-87v3m0 96v3m1-93v3m0 93v3m0 42v3m0 24v3m0 9v3m0 33v3m1-138v3m0 9v3m0 9v3m0 3v3m0 3v3m0 9v3m0 45v3m0 27v3m1-108v3m0 3v3m0 15v3m0 9v6m0 24v6m0 9v3m0 15v3m0 9v3m1-111v3m0 6v3m0 33v3m0 24v3m0 15v3m0 9v3m1-117v3m0 3v3m0 24v3m0 3v3m0 18v3m0 6v6m0 12v3m0 3v6m0 3v3m0 6v3m0 3v3m0 3v3m1-231v3m0 99v3m0 18v3m0 21v3m0 3v9m0 9v3m0 3v3m0 3v3m0 24v3m0 6v6m1-126v3m0 12v3m0 6v3m0 3v3m0 9v3m0 15v3m0 6v6m0 33v3m0 3v9m0 3v6m1-126v3m0 3v3m0 3v3m0 3v6m0 18v3m0 6v3m0 18v6m0 3v3m0 6v3m0 12v3m1-114v3m0 48v3m0 45v6m0 15v3m1-108v9m0 24v3m0 15v3m0 6v3m0 12v3m0 3v6m0 24v3m1-114v3m0 3v3m0 18v6m0 6v3m0 21v6m0 3v3m0 3v3m0 9v6m1-105v3m0 6v3m0 21v3m0 12v3m0 33v3m0 6v6m0 24v3m1-126v3m0 6v3m0 9v6m0 51v3m0 33v3m1-234v3m0 3v3m0 102v6m0 27v3m0 33v3m0 12v6m0 3v3m0 9v3m0 9v3m0 6v3m1-219v3m0 87v6m0 75v3m0 21v6m0 9v12m1-240v3m0 96v6m0 36v3m0 54v6m0 12v6m0 3v3m1-216v3m0 90v3m0 96v6m0 9v3m0 3v6m0 3v6m1-225v3m0 72v3m0 102v9m0 3v6m0 9v3m0 15v3m1-153v3m0 27v3m0 15v3m0 63v3m0 15v3m0 6v3m1-228v3m0 147v3m0 48v3m0 6v6m0 3v3m1-129v3m0 99v6m0 6v3m0 6v3m0 15v3m1-138v6m0 75v6m0 6v3m0 6v3m0 3v3m0 3v9m1-123v3m0 3v3m0 9v3m0 21v3m0 51v3m0 3v3m0 15v3m1-216v3m0 132v3m0 9v3m0 6v3m0 12v3m1-183v6m0 144v3m0 3v3m0 21v3m1-39v3m0 3v9m0 21v3m1-24v3m1-12v18m0 12v3m1-3v3m1-24v3m0 21v3m1-39v6m0 9v6m1-15v3m0 3v3m0 18v3m1 0v3m1-33v9m0 18v3m0 3v3m1-75v3m0 60v9m1-39v3m0 6v3m1 3v3m0 15v6m1-72v3m0 39v3m0 24v3m1-30v3m1 0v3m1-18v3m0 3v3m0 3v3m0 18v3m1-24v6m0 3v3m0 12v3m1-33v3m0 3v3m0 3v6m0 9v3m1-27v3m2-3v3m0 21v3m1-33v3m0 33v3m1-36v6m0 3v6m1-51v3m1 39v6m0 18v3m1-30v9m1 21v3m1-30v9m0 15v3m1-51v3m0 15v3m0 6v3m0 15v6m1-36v3m0 3v3m0 3v3m1-48v3m0 36v3m0 30v3m1-36v3m0 6v6m1-15v6m1-9v3m0 3v3m0 21v6m1-36v3m0 9v3m0 15v3m1-33v3m0 3v3m0 21v6m1-33v3m0 3v3m0 15v3m1-36v3m0 3v9m0 6v3m0 9v3m0 3v3m1-42v3m0 3v6m0 9v3m0 12v3m1 0v3m1-72v3m0 33v6m0 24v6m1-27v6m0 18v3m2-72v3m1 39v3m1-12v3m0 12v6m1-54v3m0 45v3m1-12v3m0 27v6m1-33v3m0 21v3m1-39v3m0 3v15m0 18v3m1-36v3m0 27v3m1-36v3m0 6v9m1-51v3m0 30v3m0 6v3m0 3v3m0 18v3m1-72v3m0 33v3m0 6v9m1-21v12m0 6v3m1-9v3m1-48v3m0 45v3m0 15v3m1-69v3m0 42v3m0 3v3m0 15v3m1-33v3m0 3v3m0 3v3m1-21v3m0 3v3m1-12v6m0 9v3m0 18v9m1-30v3m0 21v3m1-33v3m0 24v3m1-48v3m0 3v6m1-12v9m0 3v3m0 30v3m1-33v6m0 6v3m0 18v3m1-45v6m0 12v3m1 15v3m1-39v3m0 3v3m0 15v3m0 12v3m1-42v6m0 12v6m1-24v3m0 3v3m0 9v3m0 3v3m1-21v3m0 27v6m1-33v6m0 6v3m0 18v3m1-39v3m0 18v3m0 9v3m1-42v12m0 27v3m1-36v3m1-3v3m0 12v3m1-18v3m0 6v3m1-12v6m0 3v9m1-15v9m0 3v6m0 12v6m1-39v3m0 3v3m0 27v3m1-39v3m0 3v3m0 9v3m0 9v9m1-42v6m0 3v3m0 21v3m1-33v3m0 3v6m0 3v3m1-21v3m0 3v3m0 3v3m0 6v3m1-33v6m0 3v3m0 3v6m0 9v3m0 9v3m1-39v9m0 15v3m0 15v3m1-30v3m1-9v3m0 3v3m1-12v3m0 9v6m0 18v3m1-39v3m0 3v3m0 3v6m162 42v3m0 3v3m0 6v3m1-18v3m0 3v3m0 6v3m1-165v3m0 144v3m0 3v3m0 6v3m1-165v3m0 144v3m0 3v3m0 6v3m1-165v3m0 144v3m0 12v3m1-3v3m3-213v3m0 162v6m1-180v6m0 198v9m1-210v6m0 219v3m1-240v3m0 6v6m0 6v6m0 183v3m0 9v9m1-231v3m0 9v3m0 9v3m0 168v3m0 6v3m1-207v3m0 9v3m0 6v3m0 129v18m0 3v6m0 36v6m0 3v6m1-48v3m0 6v3m0 3v3m1-186v3m0 9v3m0 147v6m1 18v3m0 9v3m1-45v3m0 21v12m1-159v3m0 141v3m0 9v6m1-24v6m0 6v6m1 0v3m0 3v3m1-24v9m0 6v3m1-36v6m0 6v3m1-102v3m2-3v3m0 93v3m1-6v3m1-57v3m0 12v6m0 6v6m0 3v3m0 6v3m1-123v3m0 129v3m0 3v6m1-15v3m0 9v3m2-141v3m1 111v3m0 9v3m0 3v3m0 3v6m1-63v3m0 27v3m3-81v3m0 87v3m1-66v9m0 3v36m0 3v3m2-81v3m3-39v3m0 129v3m1-99v3m0 84v3m1-90v3m3 90v3m3-123v3m1 24v3m0 87v3m3-126v3m0 30v3m3-3v3m0 54v3m1 9v6m0 3v6m2-84v3m2 84v3m1-90v3m1 33v30m0 3v3m3 18v3m1-93v3m0 84v3m1-90v3m1 72v9m1-84v3m1 87v3m4-120v3m3 24v3m0 87v3m1-93v3m2-39v3m1-3v3m2 81v3m3-3v3m1-90v3m0 123v3m2-135v3m0 135v3m2-48v3m0 39v3m2-138v3m0 132v3m1-48v6m0 9v6m0 15v3m0 3v3m2-138v3m0 75v3m0 15v6m0 33v3m0 3v3m1-63v15m0 6v3m0 6v6m0 3v15m1-135v3m0 84v3m1-12v3m0 3v3m0 9v3m0 48v3m1-72v6m1 12v3m0 18v6m0 3v9m1-60v3m0 3v6m0 6v9m0 3v9m0 24v3m1-60v6m0 6v3m0 3v3m0 3v3m0 27v3m1-78v3m0 9v3m0 15v12m0 27v3m0 3v3m1-84v6m0 12v3m0 15v3m0 3v3m0 6v3m0 3v3m0 6v12m1-60v3m0 6v3m0 6v3m0 3v3m0 9v3m1-51v3m0 3v3m0 33v6m1-36v6m0 9v3m1-3v3m0 6v3m0 39v3m1-75v3m0 9v3m0 15v6m0 6v3m1-60v3m0 6v9m0 24v3m0 33v3m1-75v6m0 24v9m0 6v12m0 27v3m1-93v6m0 3v3m0 3v6m0 30v3m1-54v3m0 36v3m0 6v3m0 6v3m0 24v3m1-135v3m0 60v6m0 24v6m0 6v3m1-54v3m0 6v6m0 18v3m0 9v3m0 9v21m1-78v3m0 6v3m0 9v3m0 6v9m0 3v12m0 9v3m0 6v3m1-129v3m0 48v3m0 3v3m0 27v3m0 12v3m0 6v3m1-66v3m0 6v3m0 24v3m0 6v6m0 6v6m0 30v3m0 3v3m1-150v3m0 45v3m0 15v3m0 3v3m0 24v3m0 27v3m1-72v9m0 33v3m0 3v6m1-114v3m0 81v6m0 12v3m0 3v24m1-81v3m0 3v3m0 12v3m0 6v3m1-24v3m0 12v9m1 3v3m0 9v9m1-102v3m0 39v9m0 3v3m0 12v15m0 6v9m1-48v3m0 6v6m0 15v6m0 12v3m0 24v6m1-69v3m0 9v3m0 6v3m0 30v3m1-78v3m0 9v3m0 3v3m0 15v3m0 9v3m1-45v3m0 3v9m0 9v3m0 3v3m0 3v3m0 3v18m0 3v3m0 6v3m1-75v3m0 9v3m0 21v6m1-30v6m0 3v3m0 3v6m1-90v3m0 57v6m0 18v3m0 6v6m1-39v3m0 12v3m0 15v6m0 30v3m1-75v3m0 3v3m0 9v3m0 6v3m1-90v6m0 57v3m0 18v3m0 9v9m1-33v3m0 6v3m1-27v3m0 6v3m0 24v3m0 3v3m0 125v12m0 3v3m1-239v3m0 57v3m0 9v3m0 9v3m0 134v6m1-173v3m0 3v3m0 15v3m0 140v9m1-170v3m0 9v3m0 15v3m1-15v6m0 137v12m1-167v3m0 15v3m0 6v3m0 125v3m0 3v3m1-236v3m0 63v3m0 12v3m0 6v3m0 140v3m1-182v3m0 15v3m0 3v3m0 3v3m0 3v3m0 27v3m0 104v3m0 6v6m1-167v6m0 6v3m1-24v3m0 9v6m0 3v3m0 137v3m0 9v3m0 3v3m1-179v6m0 12v3m0 140v3m1-170v3m0 18v3m1-24v3m0 164v6m1-170v3m0 48v3m0 99v2m0 6v6m0 3v3m1-233v3m0 51v3m0 3v3m0 3v3m0 9v6m1-12v3m0 135v5m0 6v6m0 3v3m1-20v2m1-161v3m0 6v3m0 3v6m0 15v9m0 9v3m0 99v3m0 14v3m1-167v3m0 9v3m0 135v2m0 6v12m0 3v6m0 6v3m1-242v3m0 48v6m0 3v3m0 138v5m0 6v6m0 9v3m0 3v3m1-176v9m0 132v5m1-209v3m0 195v9m1-132v3m1 129v2m0 6v9m0 3v3m1-158v3m0 117v6m0 6v3m0 8v3m1-3v15m2-38v3m0 3v3m0 3v5m1-209v3m0 186v3m0 3v3m0 3v3m0 11v3m1-143v3m0 120v3m0 3v3m1-12v3m0 3v8m0 6v6m1-122v3m0 78v9m0 3v6m0 3v3m0 11v3m1-215v3m0 93v3m0 75v9m0 29v3m1-215v3m0 177v12m0 3v3m1-195v3m0 171v3m0 9v3m0 20v3m0 6v3m1-215v3m0 24v3m0 141v3m0 9v6m0 14v3m1-35v3m0 6v3m0 23v15m1-221v3m0 162v3m0 41v3m0 3v3m1-29v3m0 3v2m0 9v3m1-200v3m0 45v3m0 126v3m1-168v6m0 6v3m0 51v3m0 78v3m0 32v3m0 6v12m0 3v3m1-71v6m0 15v3m0 20v21m1-158v3m0 3v6m0 90v9m0 12v3m0 17v3m1-179v3m0 9v6m0 6v3m0 12v9m0 81v15m0 6v6m0 14v6m0 6v3m1-203v3m0 33v3m0 3v3m0 3v12m0 84v3m1-153v3m0 24v3m0 9v3m0 3v3m0 3v6m0 90v6m0 9v9m0 15v2m0 6v6m0 6v3m1-161v9m0 12v6m0 81v3m0 12v6m0 17v3m1-176v3m0 3v3m0 3v6m0 12v3m0 96v3m0 3v6m0 32v3m0 6v3m1-209v3m0 33v3m0 6v6m0 102v3m0 3v3m0 9v3m0 23v6m1-188v6m0 12v3m0 27v3m0 93v3m0 12v3m0 20v12m1-182v3m0 6v3m0 3v3m0 3v3m0 3v3m0 15v6m0 72v3m0 3v3m0 6v6m0 26v6m1-179v3m0 3v3m0 9v3m0 12v3m0 3v6m0 81v6m0 3v3m0 9v3m0 6v3m0 14v9m0 6v3m1-173v9m0 102v3m0 3v3m0 27v2m0 6v15m0 3v6m1-206v3m0 18v6m0 12v9m0 6v3m0 69v6m0 27v3m0 9v3m0 8v3m1-203v3m0 12v3m0 21v6m0 6v6m0 3v3m0 12v3m0 69v9m0 44v9m1-200v3m0 9v3m0 15v3m0 15v3m0 6v3m0 6v3m0 87v3m0 3v3m0 12v3m0 11v6m1-200v6m0 6v3m0 51v6m0 81v9m0 32v3m0 3v3m0 6v3m1-200v3m0 42v3m0 84v3m0 3v3m0 3v3m1-141v3m0 45v3m0 72v3m0 6v6m0 24v8m0 6v6m0 6v3m1-143v3m0 69v3m0 15v3m0 12v3m0 3v6m0 11v3m0 3v15m1-197v3m0 51v3m0 63v3m0 3v6m0 15v3m0 6v3m0 3v3m0 3v2m0 9v6m1-50v9m0 32v12m1-188v3m0 135v3m0 12v3m0 20v12m1-188v3m0 114v12m0 12v3m0 32v15m1-143v3m0 69v6m0 3v3m0 21v9m0 14v3m0 3v15m0 6v3m1-239v3m0 147v3m0 24v3m1-180v3m0 30v3m0 138v3m0 3v3m0 18v2m0 6v3m0 6v3m0 6v3m1-230v3m0 84v3m0 63v3m0 3v6m0 3v3m0 15v3m0 6v8m0 6v6m0 3v12m1-74v6m0 27v9m0 11v6m0 6v3m1-191v3m0 108v6m0 3v3m0 9v3m0 9v3m0 41v3m1-71v3m0 6v3m0 6v6m0 3v3m0 9v9m0 14v3m1-233v3m0 99v3m0 119v3m1-56v6m0 12v6m0 29v12m0 3v3m1-80v3m0 9v3m0 6v3m0 38v18m1-194v3m0 45v3m0 60v6m0 18v3m0 9v3m0 3v3m0 23v3m1-53v3m0 36v2m0 6v3m1-179v3m0 48v3m0 63v3m0 18v3m0 21v3m1-165v3m0 111v3m0 3v3m1-174v3m0 189v12m0 23v24m1-200v3m0 108v3m0 9v3m0 36v3m1-165v3m0 117v3m0 6v3m0 6v3m0 35v9m1-185v3m0 45v3m0 60v3m0 3v3m0 3v9m0 9v3m0 15v3m1-114v3m0 60v6m0 12v3m0 15v12m0 3v6m1-210v3m0 39v3m0 111v6m0 9v3m0 44v15m1-191v3m0 105v3m0 6v6m0 18v3m0 35v3m0 3v3m0 3v6m1-197v3m0 108v3m0 3v3m0 3v3m0 50v3m1-200v6m0 123v6m0 9v3m0 9v6m0 15v3m0 3v3m0 11v3m1-74v3m0 45v3m0 29v12m0 3v3m1-203v3m0 105v3m0 65v6m0 9v3m1-194v3m0 99v3m0 3v6m0 3v3m0 59v3m0 3v3m0 3v3m1-230v3m0 24v3m0 6v3m0 42v3m0 54v6m0 3v3m0 45v3m0 6v2m0 6v18m1-227v3m0 3v3m0 9v3m0 12v3m0 99v9m0 18v6m0 33v2m0 9v3m1-71v6m0 15v3m0 41v6m1-71v3m0 3v6m0 6v9m0 15v15m0 8v9m1-212v9m0 117v3m0 6v3m0 3v12m0 50v12m1-227v3m0 18v3m0 191v6m0 9v3m1-236v3m0 9v3m0 3v3m0 120v3m0 74v3m0 3v3m0 9v3m1-197v3m0 102v3m0 71v3m1-182v3m0 45v3m0 54v3m0 71v6m1-185v3m0 96v6m0 71v3m0 3v3m1-209v6m0 12v3m0 99v6m1-6v3m0 89v3m1-98v3m0 83v9m1-224v3m0 6v3m0 6v3m0 15v3m0 93v3m1-105v3m0 54v3m0 42v9m0 3v3m0 65v3m0 6v3m1-12v15m0 3v3m1-197v3m0 90v3m0 80v6m0 6v3m1-200v3m0 99v6m0 77v15m0 3v3m1-236v3m0 9v3m0 3v3m0 111v3m0 80v3m0 3v12m1-194v3m0 173v9m1-200v3m0 3v6m0 102v3m1-132v3m0 6v3m0 12v3m0 3v3m0 87v3m0 83v9m0 6v6m0 6v3m1-224v3m0 3v3m0 9v3m0 87v3m0 83v6m0 3v15m1-158v3m0 48v3m0 80v9m0 3v6m1-206v3m0 96v3m0 86v9m0 3v6m1-101v6m0 12v6m0 12v6m0 3v3m0 3v3m0 6v3m0 3v3m0 6v2m1-194v3m0 21v3m0 84v3m0 89v6m0 9v3m1-227v3m0 114v3m0 86v3m0 3v3m0 3v3m1-218v12m0 6v3m0 93v3m0 86v12m1-12v12m0 3v3m0 18v3m1-215v3m0 84v3m0 86v18m1-194v3m0 176v6m0 6v3m0 3v3m1-236v3m0 33v3m0 173v6m0 15v3m1-116v3m0 89v18m0 24v3m1-134v3m0 86v6m1-188v3m0 3v3m0 173v6m0 6v3m1-191v3m0 173v9m0 3v3m1-191v3m0 81v3m1-111v3m0 3v3m0 99v3m0 89v9m0 3v3m1-227v3m0 117v3m0 92v6m0 9v3m1-200v3m1-33v6m0 203v9m0 6v3m1-224v3m0 111v3m0 89v6m1-6v9m0 3v3m0 3v3m0 6v3m1-209v3m0 84v3m0 6v3m1-102v3m0 179v21m0 3v3m1-236v6m0 21v3m0 87v3m0 89v9m0 3v3m1-215v6m0 18v3m0 173v6m0 3v6m0 6v3m1-200v3m0 30v3m0 149v6m1-215v3m0 6v3m0 45v3m0 140v15m1-155v3m0 137v3m0 3v6m0 3v3m0 6v3m1-209v3m0 87v3m0 89v3m0 3v3m1-152v3m0 140v9m1-185v3m0 30v3m0 140v6m0 3v9m1-203v3m0 90v3m0 89v6m0 3v3m1-155v3m0 48v3m0 89v12m1-212v3m0 6v3m0 188v3m1-194v3m0 96v3m0 89v9m1-197v3m0 9v3m0 27v3m0 51v3m0 89v6m0 3v3m1-212v3m0 6v3m0 3v3m0 182v12m1-218v3m0 18v3m0 182v15m1-206v3m0 3v3m0 36v3m1 51v3m1-57v3m1-33v3m1-48v3m0 218v3m0 6v3m1-227v3m0 12v3m0 3v3m0 15v3m0 173v6m0 6v3m1-227v3m0 12v3m0 3v3m0 12v3m0 173v3m1-227v3m0 224v3m1-6v15m1-227v6m0 9v6m0 191v6m1-182v3m0 24v3m0 146v18m1-239v3m0 36v3m0 30v3m0 54v3m1 92v3m2-227v3m0 12v6m0 48v3m0 149v6m0 3v3m1-215v6m0 6v6m0 3v3m0 87v3m0 89v12m1-215v9m0 15v3m0 179v6m0 6v6m1-224v6m0 6v6m0 3v3m0 179v3m0 3v3m1-224v3m0 30v3m0 3v3m0 81v3m0 89v9m1-218v3m0 18v3m0 6v3m1-39v3m0 36v3m0 21v3m1-63v3m0 24v6m0 179v3m0 3v3m1-224v3m0 18v3m0 15v3m0 18v3m0 152v9m1-221v3m0 15v3m0 9v3m0 24v3m0 60v3m0 89v3m0 3v3m0 3v3m1-191v3m0 173v9m0 9v6m1-218v3m0 6v3m0 6v3m0 173v12m1-215v3m0 9v3m0 188v18m0 3v6m1-245v3m0 218v9m1-206v3m0 6v3m0 27v3m0 60v3m0 89v6m0 6v3m1-191v3m0 18v3m0 152v6m0 3v3m0 21v3m0 3v3m1-236v3m0 6v6m0 3v3m0 173v6m0 3v3m0 6v6m0 12v3m0 9v12m1-269v3m0 6v3m0 12v3m0 182v15m0 3v3m0 9v6m1-236v3m0 6v3m0 3v3m0 182v24m1-203v3m0 84v3m0 89v42m0 3v3m1-257v3m0 3v3m0 24v3m0 81v3m0 89v9m0 9v3m1-236v3m0 24v3m0 9v3m0 173v21m0 9v3m0 3v6m1-42v27m1-233v9m0 3v6m0 6v3m0 3v3m0 173v15m0 3v6m1-224v3m0 42v3m0 155v15m0 3v6m0 6v15m1-224v3m0 173v24m1-15v6m1-170v3m0 152v12m0 6v3m1-191v3m0 12v3m0 152v15m0 3v3m0 15v3m0 9v3m1-218v3m0 164v21m1-21v9m0 6v6m1-194v3m0 170v24m0 24v12m1-230v3m0 167v3m0 6v3m1-104v3m0 89v18m0 33v3m1-221v3m0 72v3m0 89v18m0 15v3m0 6v3m0 9v3m1-57v27m0 12v3m0 6v3m1-221v3m0 75v3m0 89v27m0 3v6m0 6v3m1-215v3m0 179v3m1-15v3m0 3v3m0 3v18m1-185v3m0 155v6m0 6v3m0 12v3m1-125v3m0 89v9m0 3v12m1-197v3m0 170v24m1-197v3m0 126v3m0 6v3m0 32v45m0 3v3m0 3v3m1-137v3m0 12v3m0 3v3m0 9v3m0 6v3m0 6v6m0 15v2m0 6v9m0 3v9m0 3v3m1-203v3m1 84v15m0 3v3m0 3v6m0 3v6m0 6v3m0 6v3m0 6v3m0 9v6m1-162v3m1 15v3m2-45v3m0 3v3m0 30v3m1-39v3m0 102v3m0 54v3m0 26v21m0 3v18m1-42v18m0 3v6m1-27v3m1-95v3m0 89v9m0 6v3m0 9v3m1-30v39m0 3v3m0 3v3m1-51v24m0 3v3m0 12v3m0 6v3m1-209v3m0 152v18m0 6v3m0 3v9m1-39v21m0 3v3m1-27v9m0 9v3m0 3v3m0 9v3m0 6v3m0 12v3m1-299v3m1-6v3m0 236v24m0 15v6m0 9v3m1-57v30m0 3v6m1-39v6m0 6v12m0 12v3m0 12v6m1-290v3m0 75v3m0 152v9m0 3v6m0 6v3m1-27v9m0 3v15m1-254v3m0 132v6m1 86v21m0 12v3m0 24v3m1-155v3m0 89v6m0 3v12m0 3v3m1-27v18m0 6v3m0 3v6m1-128v3m0 69v3m0 17v3m0 3v18m0 3v15m1-197v3m0 63v3m0 86v12m0 3v6m0 3v18m1-39v6m1-164v3m0 69v3m0 3v6m0 12v6m0 39v3m0 11v3m0 6v3m0 3v3m1-98v3m0 6v3m0 15v6m0 12v3m0 32v9m0 27v3m0 3v18m1-215v3m0 72v6m0 3v3m0 3v9m0 3v3m0 6v3m0 3v3m0 6v3m0 3v3m1-141v3m0 99v3m0 18v6m0 6v3m0 12v5m0 6v3m1-3v3m0 3v6m0 60v3m2-72v3m0 6v6m0 3v3m0 3v12m0 3v3m1-287v3m2 245v6m0 15v3m1-290v3m0 302v3m1 12v3m3-302v3m1 0v3m0 60v6m0 3v3m1-78v3m0 81v3m1-18v6m1-69v3m0 78v3m4-108v3m0 6v3m0 6v3m1-21v3m2 129v3m1-123v3m1 123v6m1-129v3m1-3v3m0 87v6m2-93v3m0 126v3m1-153v3m1 18v6m0 126v3m2-9v3m2-135v3m0 90v6m1-96v3m1-21v3m0 15v3m1-12v3m1-9v3m0 9v3m2-3v3m1-3v3m0 93v3m1-105v3m1-3v3m0 87v3m1-87v3m1-6v3m1 0v6m2 81v3m1-102v3m0 87v3m1-96v3m0 3v3m2 81v3m0 18v3m0 3v3m0 6v3m0 24v3m0 6v3m0 12v3m0 12v6m2-108v3m1 120v3m1-60v6m0 51v3m1-108v6m0 48v3m0 15v3m1-69v3m0 6v9m0 42v3m1-174v3m2 141v3m0 3v3m6-156v3m7 0v3m3 0v3m1-9v3m5 135v3m1-3v3m2-141v3m0 141v3m1-144v3m1-6v3m1 138v3m3-6v3"/><path stroke="#00adff" stroke-width="1" d="M102.5 211v3m0 6v3m0 27v3m1-39v6m1-9v6m0 33v3m0 131v3m1-176v6m0 3v3m1-6v3m0 30v3m1-39v6m1-9v3m0 3v6m1 0v3m1-21v6m0 6v3m0 24v3m1-48v3m0 3v6m0 6v3m0 15v9m0 3v3m1-81v3m0 27v3m0 3v6m0 6v6m0 9v6m0 9v3m1-99v3m0 6v3m0 6v6m1-33v3m0 21v3m1-90v3m0 6v3m0 12v3m0 3v3m0 33v3m1-90v3m0 6v3m0 24v3m0 30v3m1-66v3m0 18v3m1-3v9m0 3v3m1-12v3m1 24v6m0 3v3m0 168v3m1-153v3m0 147v3m1-162v3m0 9v3m0 144v3m0 6v2m0 6v3m1-170v6m0 3v3m0 6v3m0 135v5m1-14v6m0 3v3m0 8v3m0 3v6m0 6v3m1-164v9m0 123v3m0 8v3m0 3v3m0 9v3m1-185v3m0 15v3m0 12v3m0 36v3m0 92v3m0 3v3m0 12v3m1-158v6m0 6v3m0 108v2m0 6v3m0 3v9m0 6v3m1-143v3m0 18v3m0 6v3m0 86v9m0 6v3m1-158v3m0 21v3m0 3v3m0 6v3m0 21v3m0 3v3m0 68v3m0 3v3m0 6v3m1-143v6m0 39v6m0 74v6m1-143v6m0 27v3m0 39v6m0 59v6m0 3v3m0 6v3m1-167v3m0 18v9m0 3v3m0 12v6m0 3v6m0 24v3m0 53v3m0 9v3m1-173v3m0 21v3m0 6v3m0 42v3m0 98v3m1-197v6m0 57v3m0 9v3m0 12v3m0 15v3m0 77v3m2-6v3m4-191v3m2-3v3m2-87v3m1 81v3m4-75v3m1 69v3m7 0v3m3 12v6m1-108v3m0 3v3m0 9v3m0 3v3m2-27v3m0 15v3m0 99v3m0 3v3m2-129v3m0 27v3m0 69v3m1-87v3m0 3v3m1-21v3m0 15v3m0 93v3m1-108v3m0 99v3m0 9v6m0 3v3m0 6v6m0 3v6m0 39v3m0 6v3m0 15v6m1-90v6m0 6v3m0 3v3m0 3v3m0 12v3m0 12v3m0 6v3m0 6v3m0 3v9m0 3v3m1-231v3m0 120v3m0 21v6m0 12v6m0 9v3m0 9v3m0 12v6m1-102v3m0 45v6m0 6v9m0 3v6m0 9v3m0 36v3m1-240v3m0 6v3m0 120v3m0 30v3m0 6v3m0 9v3m0 3v6m1-87v3m0 9v6m0 3v3m0 12v3m0 18v6m0 21v3m0 12v3m0 6v3m1-213v3m0 111v6m0 27v6m0 9v3m0 6v3m0 9v3m1-186v3m0 123v6m0 33v9m0 6v3m0 30v3m0 3v3m0 3v3m1-120v3m0 9v6m0 3v3m1-30v3m0 15v3m0 3v12m0 9v3m0 3v9m0 12v6m0 33v3m1-114v3m0 30v3m0 15v3m0 9v3m0 18v3m0 27v3m1-105v15m0 12v3m0 3v3m0 27v6m0 6v3m0 9v3m0 24v3m1-240v3m0 9v3m0 99v3m0 24v6m0 18v6m0 21v3m1-72v6m0 30v6m0 3v3m0 9v3m0 3v3m0 15v6m1-213v3m0 144v3m0 33v6m0 6v3m0 6v3m1-96v3m0 63v3m0 15v3m0 9v3m0 30v3m1-225v3m0 78v3m0 84v3m0 9v6m1-96v3m0 21v3m0 69v3m0 21v3m0 6v3m1-72v3m0 24v6m1-102v3m0 39v3m0 39v3m0 27v3m1-111v3m0 3v3m0 27v3m0 48v3m0 12v3m0 6v3m0 12v3m1-114v3m0 9v3m0 9v6m0 30v6m0 15v3m0 24v3m0 9v3m1-123v3m0 9v3m0 6v6m0 9v3m0 15v6m0 24v3m0 3v3m0 24v3m1-240v3m0 150v3m0 9v3m0 18v3m1-33v3m1 21v3m1-66v3m0 63v9m1-75v3m0 66v3m1-72v3m0 66v6m1-75v3m0 39v3m0 21v3m1-30v6m0 21v3m1-21v3m1-51v3m1-3v3m0 66v3m1 0v3m1-27v3m0 18v3m1-72v3m0 36v3m1 30v3m1-9v6m1-72v3m0 66v3m1-24v3m0 15v6m1-72v3m0 45v3m0 18v6m1-30v3m0 18v3m1-69v3m0 63v9m1-75v3m0 36v3m0 27v3m1-24v3m0 18v6m1-39v6m0 3v3m0 18v3m1 0v3m1-3v3m0 3v3m1-39v3m0 27v3m1-3v3m1-72v3m0 69v3m1-75v3m0 66v3m1-3v3m1-72v3m0 63v6m2-30v3m0 21v3m1-69v3m0 66v3m1-72v3m1 48v3m2-18v3m0 3v3m0 3v3m0 15v6m1-27v6m0 15v3m1-69v3m0 45v3m0 18v3m1-72v3m2-3v3m0 33v3m1 9v3m0 15v3m1-27v3m0 24v6m1-30v3m0 21v3m1-36v12m0 21v6m1-6v3m2-72v3m0 33v6m0 3v3m0 21v3m1-72v3m1 39v12m0 15v3m1-72v3m0 63v3m0 3v3m1-36v3m0 30v3m2-75v3m0 66v3m1-72v3m0 33v9m0 3v3m0 18v3m1-42v3m0 12v3m0 21v3m1-36v6m1 0v3m0 3v3m0 18v3m1-36v3m0 3v9m1-9v3m0 6v3m1-24v3m0 3v3m0 3v3m0 3v3m0 15v3m1-24v9m0 15v3m1-39v6m0 9v6m0 12v6m1-42v3m0 15v6m1-12v6m0 27v3m1-45v3m0 6v3m0 6v3m0 12v3m1-36v3m0 33v3m1-36v3m0 6v3m0 21v3m1-39v9m0 27v9m1-39v3m0 24v6m1-36v3m1 6v3m0 24v6m1-42v3m0 3v6m0 21v3m2-33v3m0 30v3m1-36v3m0 3v3m0 21v3m1-36v3m0 6v6m0 18v6m1-6v3m1 0v3m1-39v3m0 3v9m0 15v3m1-21v3m1-3v3m0 15v6m1-27v3m0 24v3m1-30v6m0 18v3m1-45v3m0 12v3m0 3v3m0 18v3m1-36v6m0 3v3m1-9v3m0 30v3m1-36v3m0 27v3m1-33v6m1-9v3m0 3v3m0 6v3m2 21v3m1-3v3m1-3v3m1-3v3m1-3v3m1-3v3m155-135v6m0 174v3m1-183v6m0 174v3m1-183v3m0 177v3m1-183v3m0 177v3m1-183v3m1 177v3m2-3v3m3-243v3m1 207v9m1-219v3m0 3v3m0 135v12m0 6v3m0 30v6m1-180v3m0 144v3m0 69v3m1-225v3m0 3v9m0 174v3m1-210v3m0 3v3m0 9v3m0 9v3m0 147v3m0 3v3m0 6v3m1 3v9m1 30v3m1-57v3m0 18v3m2-174v3m0 171v6m0 3v3m2-174v3m0 123v3m1-123v3m0 120v3m1-99v3m0 156v3m1-60v9m1-111v3m1-3v3m0 27v9m0 3v12m0 6v6m0 6v3m0 3v3m0 6v6m0 3v3m1 12v3m1-15v3m1-9v3m1 6v3m1-15v3m0 21v3m1-117v3m1-3v3m1-3v3m2-3v3m0 33v3m1-39v3m0 90v3m2-27v3m1-72v3m3 69v3m0 21v3m1-9v3m1-93v3m0 87v3m2-93v3m0 81v3m1-114v3m0 24v3m1-3v3m2-33v3m0 27v3m1-3v3m0 69v18m3-90v3m1-36v3m0 66v21m0 3v15m1-114v3m0 96v9m0 6v3m0 6v9m1-3v3m2-132v3m0 129v3m0 9v3m1-18v3m2-93v3m1-3v3m0 33v12m0 3v3m0 15v3m1-105v3m0 30v3m1-42v3m1 126v3m2-132v3m0 120v6m0 3v3m2-96v3m1-39v3m0 129v6m1-102v3m1-3v3m1-3v3m1-3v3m0 87v3m1-123v3m0 27v3m4 87v3m1-6v3m1-123v3m1-54v3m0 171v3m3-135v3m0 129v6m3 9v3m1-18v3m2-135v3m0 117v3m2 9v3m2-3v3m1-63v3m0 15v6m0 3v6m1-15v3m0 6v3m0 6v6m0 3v12m1-171v3m0 24v6m0 141v3m1-3v3m2 6v3m1-72v3m0 9v3m1-24v3m0 9v6m0 51v6m1-69v3m0 15v3m0 36v6m1-129v3m0 63v6m0 3v3m0 12v3m1-30v6m0 18v6m0 6v3m0 27v3m1-84v3m0 6v3m0 21v3m0 3v3m1-15v3m0 3v3m1-39v3m0 24v3m0 9v3m1-27v3m0 6v6m0 48v9m1-156v3m0 81v3m0 24v3m1-105v3m0 78v6m0 9v3m0 3v3m1-42v3m0 27v3m1-126v3m0 111v6m0 9v3m1-102v6m0 51v6m0 6v3m0 9v6m0 24v9m1-111v3m0 45v3m0 42v3m0 33v6m1-75v3m0 9v9m0 3v3m1-105v3m0 66v6m0 3v6m0 21v6m0 63v3m1-108v3m0 3v3m0 21v12m0 3v3m1-51v3m0 3v6m0 9v6m0 9v3m0 6v6m1 0v3m0 3v3m1-39v3m0 6v3m0 3v6m0 21v21m1-63v6m0 9v3m1-30v3m0 3v3m0 12v3m0 3v3m1 3v6m0 12v3m0 3v3m0 3v6m0 3v6m1-75v3m0 9v3m0 18v3m1-99v3m0 75v3m0 51v3m1-69v3m0 3v9m0 3v3m0 9v3m1-21v3m0 3v3m0 9v3m0 36v3m1-141v6m0 57v6m0 6v9m0 63v3m1-90v3m0 15v3m0 39v15m1-54v3m1-78v3m0 72v3m1-84v3m0 66v3m0 9v3m0 48v3m3-54v9m0 149v3m0 3v12m1-188v6m0 6v3m0 3v3m0 36v3m0 104v18m0 15v3m1-299v3m0 27v3m0 66v3m0 57v3m0 104v24m1-257v3m0 75v3m0 3v3m0 33v3m0 101v24m1-179v3m0 6v3m0 155v12m1-194v3m0 21v3m0 146v3m0 3v12m1-21v6m0 3v12m1-18v6m0 6v9m1-167v3m0 140v21m1-173v3m0 6v3m0 143v9m0 3v3m0 3v9m1-137v3m0 104v3m0 3v24m1-197v3m0 15v3m0 15v21m0 110v21m0 3v6m0 6v3m1-39v3m0 6v15m1-254v3m0 233v3m0 3v18m1-194v3m0 12v3m0 138v2m0 6v36m1-203v3m0 18v3m0 149v3m0 3v18m0 3v6m1-188v3m0 12v3m0 131v21m0 3v3m1-167v3m0 27v3m0 90v6m0 3v2m0 6v6m0 3v24m1-182v3m0 135v3m0 20v3m0 6v6m0 6v3m0 3v3m1-206v3m0 144v6m0 17v9m0 3v3m0 9v6m1-53v6m0 11v18m0 3v6m0 3v6m1-56v3m0 17v27m0 6v3m1-248v3m0 39v3m0 36v3m0 128v21m0 3v6m1-21v3m0 3v12m0 3v3m1-59v3m0 26v21m1-44v3m0 32v15m1-56v6m0 6v3m0 3v2m0 6v27m1-242v3m0 183v6m0 23v33m0 3v3m1-71v6m0 29v18m1-197v3m0 173v21m1-197v3m0 147v6m0 26v18m1-200v3m0 176v21m1-65v3m0 41v12m0 3v3m1-137v3m0 113v21m1-59v3m0 38v6m0 3v18m1-65v3m0 35v15m0 3v3m0 6v3m1-209v3m0 132v6m0 18v11m0 6v3m0 15v21m1-80v3m0 38v6m0 3v3m0 3v12m1-62v3m0 9v6m0 6v3m0 8v3m0 3v18m0 3v6m1-209v3m0 45v3m0 84v3m0 3v3m0 32v21m1-161v3m0 6v3m0 120v2m0 9v6m0 12v3m0 3v3m0 3v6m0 6v3m1-83v3m0 6v3m0 44v9m0 3v3m1-176v3m0 3v3m0 6v3m0 3v3m0 72v3m0 3v3m0 12v3m0 9v3m0 8v6m0 3v6m0 3v3m1-215v3m0 54v3m0 87v6m0 18v3m0 26v6m0 3v15m1-194v3m0 12v3m0 21v3m0 72v6m0 24v3m0 17v18m1-218v3m0 9v6m0 12v3m0 3v6m0 12v3m0 6v3m0 6v3m0 75v3m0 6v6m0 24v3m0 14v6m0 3v15m1-167v6m0 3v3m0 81v3m0 12v3m0 29v27m1-206v3m0 9v3m0 6v3m0 3v6m0 6v3m0 84v3m0 15v6m0 3v3m0 3v6m0 3v2m0 9v6m0 3v21m1-176v3m0 9v3m0 3v6m0 69v3m0 6v3m0 18v3m0 23v15m0 6v3m0 3v3m0 3v3m1-212v3m0 12v3m0 9v3m0 3v3m0 114v3m0 3v8m0 18v9m1-224v3m0 42v3m0 15v9m0 81v3m0 9v6m0 38v24m1-221v3m0 3v6m0 15v6m0 33v3m0 93v3m0 35v6m0 3v3m0 3v3m1-203v3m0 3v6m0 18v3m0 90v6m0 15v6m0 41v3m0 6v6m1-206v3m0 24v3m0 12v3m0 117v3m0 14v18m1-197v3m0 18v3m0 24v3m0 81v3m0 30v3m0 17v18m0 3v3m1-215v3m0 12v6m0 15v3m0 12v6m0 69v3m0 6v6m0 3v3m0 18v3m0 20v21m1-212v3m0 6v3m0 27v3m0 87v3m0 3v3m0 18v6m0 3v3m0 20v3m0 3v6m0 3v6m1-215v6m0 6v3m0 30v3m0 3v3m0 9v3m0 72v3m0 24v3m0 23v18m0 3v3m1-221v3m0 6v3m0 54v3m0 6v3m0 63v3m0 6v3m0 6v6m0 38v6m0 3v15m1-206v3m0 111v3m0 12v3m0 3v3m0 27v3m0 11v3m0 15v6m0 3v3m1-92v3m0 3v3m0 24v6m0 3v3m0 14v3m0 6v21m0 6v3m1-233v3m0 15v3m0 120v3m0 18v3m0 3v3m0 3v6m0 26v27m1-101v9m0 65v9m0 3v3m1-89v3m0 12v3m0 59v12m1-227v3m0 21v3m0 129v3m0 30v5m0 9v3m0 15v6m0 3v9m1-161v3m0 63v3m0 53v24m1-86v6m0 9v3m0 6v3m0 38v6m0 3v6m0 3v12m0 6v3m1-218v3m0 114v3m0 3v3m0 56v3m0 12v12m1-209v3m0 114v6m0 24v9m0 26v6m0 3v3m0 9v3m1-248v3m0 165v6m0 9v3m0 32v12m0 3v9m1-200v3m0 114v3m0 3v3m0 18v3m0 29v6m0 3v12m0 3v3m0 9v3m1-107v3m0 68v21m0 9v6m1-215v3m0 111v6m0 68v3m0 3v3m0 3v3m1-254v3m0 168v3m0 71v12m1-257v3m0 165v6m0 6v6m0 3v6m0 32v3m0 3v15m1-242v3m0 42v3m0 114v6m0 3v3m0 3v3m0 3v6m0 3v6m0 3v6m0 3v3m0 11v18m1-89v9m0 9v3m0 47v18m1-146v3m0 66v3m0 56v24m0 6v3m1-158v3m0 54v6m0 9v3m0 74v6m1-158v3m0 57v3m0 3v6m0 9v3m0 44v27m1-248v3m0 90v3m0 57v3m0 15v3m0 3v6m0 47v12m1-89v3m0 3v3m0 27v6m0 26v21m1-239v3m0 39v3m0 105v3m0 48v3m0 14v21m1-149v3m0 51v3m0 3v3m0 80v9m1-152v3m0 54v3m0 30v3m0 21v3m0 11v3m0 3v3m0 3v3m0 6v6m1-155v3m0 87v6m0 3v3m0 29v30m1-209v3m0 102v3m0 57v3m0 11v24m1-248v3m0 141v6m0 71v9m0 12v3m0 3v3m1-245v3m0 135v9m0 74v9m0 3v12m0 6v3m1-242v3m0 200v3m0 3v3m0 3v3m0 3v9m1-215v3m0 203v6m0 3v3m1-227v3m0 6v6m0 105v3m0 74v3m0 3v18m0 15v3m1-218v3m0 99v9m0 71v18m1-218v3m0 12v3m0 51v3m0 48v3m0 3v3m0 3v3m0 51v2m0 15v15m0 3v3m1-236v3m0 27v3m0 93v3m0 3v3m0 83v18m1-236v3m0 6v3m0 200v9m0 3v12m1-158v3m0 45v3m0 80v3m0 3v9m0 3v9m1-230v3m0 117v6m0 74v3m0 3v18m1-104v9m0 71v3m0 6v12m0 6v3m1-110v3m0 80v3m0 3v9m0 3v3m1-236v3m0 24v3m0 6v3m0 90v3m0 80v30m0 6v6m1-173v3m0 45v3m0 80v12m0 3v9m0 9v3m1-36v3m0 9v24m1-224v3m0 57v3m0 125v24m0 6v3m0 18v3m1-263v6m0 6v3m0 9v3m0 6v3m0 90v3m0 83v6m0 3v18m1-155v3m0 36v3m0 98v3m0 3v15m1-164v3m0 39v3m0 89v6m0 3v18m0 3v3m1-254v3m0 15v3m0 18v3m0 87v3m0 98v3m0 3v12m0 12v3m1-254v3m0 27v3m0 87v3m0 86v3m0 12v18m1-239v3m0 114v3m0 92v18m1-224v6m0 105v3m0 83v18m0 3v3m1-227v6m0 6v3m0 3v3m0 191v6m0 6v6m0 3v12m0 3v6m1-257v3m0 6v3m0 60v3m0 42v3m0 92v3m0 15v3m0 3v3m1-209v3m0 84v3m0 95v3m0 6v9m0 3v3m1-209v3m0 182v3m0 6v15m0 3v3m1-218v3m0 90v3m0 63v3m0 17v24m1-230v3m0 203v3m0 6v9m0 3v6m0 6v3m0 18v3m1-260v6m0 6v3m0 6v3m0 3v3m0 176v3m0 3v3m0 3v15m0 3v3m1-212v3m0 81v3m0 101v24m0 9v3m1-140v3m0 101v3m0 3v18m0 3v3m1-24v12m0 3v6m1-176v3m0 42v3m0 89v3m0 6v6m0 3v3m0 3v9m0 3v3m0 6v3m1-230v3m0 42v3m0 42v3m0 95v15m0 3v3m0 18v6m0 3v3m1-191v3m0 149v15m0 3v3m0 6v3m1-257v3m0 30v3m0 81v3m0 95v24m1-221v3m0 3v3m0 90v3m0 95v6m0 3v18m1-125v3m0 98v3m0 3v15m0 3v9m0 3v3m1-239v3m0 6v3m0 179v24m0 3v3m1-239v3m0 3v3m0 24v3m0 182v3m0 3v18m0 3v3m1-230v3m0 3v3m0 6v3m0 173v3m0 6v9m0 3v12m1-221v3m0 9v3m0 42v3m0 36v3m0 89v24m0 9v6m1-242v3m0 3v3m0 18v3m0 81v3m0 98v6m0 3v24m1-218v3m0 179v21m0 9v3m1-239v6m0 9v3m0 6v3m0 81v3m0 98v3m0 3v3m0 3v6m0 3v6m1-36v24m0 3v3m0 3v3m1-173v3m0 155v3m0 3v15m1-236v3m0 15v3m0 182v3m0 3v15m0 3v3m1-218v3m0 185v3m0 6v6m0 3v9m0 3v3m1-224v3m0 182v9m0 6v9m0 3v3m0 6v3m1-236v3m0 6v3m0 9v3m0 188v15m0 3v6m1-254v3m0 117v3m0 95v3m0 6v3m0 3v6m0 3v6m0 3v3m1-230v3m0 12v3m0 30v3m0 143v3m0 3v12m0 3v6m0 3v3m0 6v3m1-140v3m0 101v15m1-239v3m0 21v3m0 3v3m0 188v3m0 9v15m0 3v3m1-230v6m0 9v3m0 179v3m0 3v9m1-197v3m0 185v15m1-230v3m0 6v3m0 3v6m0 6v3m0 176v21m1-227v3m0 24v3m0 182v24m1-27v3m0 3v15m1-221v3m0 3v3m0 9v3m0 185v12m1-233v3m0 3v3m0 24v3m0 78v3m0 107v9m0 3v3m1-206v3m0 173v18m1-224v3m0 3v9m0 15v3m0 173v18m1-194v3m0 173v21m1-21v18m1-113v3m0 95v6m0 3v9m0 3v3m1-248v3m0 6v6m0 3v3m0 206v6m0 3v9m1-248v3m0 6v3m0 215v18m1-170v3m0 146v3m0 3v15m1-218v9m0 12v3m0 24v3m0 161v12m1-227v3m0 21v3m0 78v3m0 98v15m0 3v3m1-251v3m0 126v3m0 110v9m1-242v12m0 203v21m1-116v3m0 92v3m0 3v9m1-245v3m0 227v18m1-194v3m0 179v3m0 3v9m1-215v3m0 15v3m0 185v12m0 3v6m0 3v3m1-215v3m0 24v3m0 146v3m0 6v6m0 6v12m0 21v3m1-233v3m0 81v3m0 92v3m0 3v15m0 3v3m1-218v6m0 191v9m0 3v3m1-24v21m0 21v3m1-140v3m0 92v18m0 21v3m1-233v3m0 12v3m0 176v3m0 3v21m0 3v3m1-221v3m0 191v24m0 3v3m0 15v6m1-257v3m0 18v3m0 176v3m0 3v3m0 3v21m1-218v3m0 24v3m0 161v9m0 6v9m0 3v3m1-242v3m0 12v3m0 90v3m0 104v9m1-227v3m0 3v3m0 15v3m0 87v3m0 107v3m0 6v18m1-266v3m0 123v3m0 92v3m0 9v12m0 3v3m1-242v6m0 3v9m0 18v3m0 179v6m0 3v12m0 6v3m0 3v3m1-36v3m0 3v21m0 3v3m0 3v3m0 3v3m1-266v3m0 24v3m0 30v3m0 158v3m0 3v6m0 6v12m0 3v9m1-245v12m0 3v3m0 3v3m0 188v3m0 3v9m0 6v6m1-230v3m0 9v3m0 78v3m0 116v39m0 21v3m1-287v6m0 12v3m0 221v3m0 3v9m1-212v3m0 161v9m0 3v24m1-242v6m0 212v9m0 3v3m0 6v3m1-200v3m0 57v3m0 119v9m1-296v3m0 60v3m0 9v3m0 197v3m0 6v30m1-36v3m0 6v6m0 15v6m0 3v3m1-215v3m0 57v3m0 116v24m0 21v3m1-72v9m0 6v15m0 3v6m0 6v3m0 3v3m1-149v3m0 104v6m0 3v6m0 27v3m1-42v3m0 3v15m0 3v9m1-27v15m0 12v3m0 3v3m0 3v3m1-233v3m0 72v3m0 101v6m0 6v6m0 3v3m1-128v3m0 116v3m0 3v18m1-45v6m0 3v42m1-221v3m0 182v12m0 3v15m0 6v3m1-39v15m0 3v3m0 6v9m0 9v3m1-39v12m0 3v6m0 3v6m0 6v3m1-221v3m0 179v3m0 6v6m0 3v6m1-206v3m0 152v12m0 3v21m0 3v3m1-215v3m0 173v3m0 3v3m0 18v6m0 12v3m1-51v3m0 6v6m0 3v6m0 3v3m0 3v12m1-36v3m0 12v15m1-15v33m0 3v3m1-149v42m0 3v6m0 3v26m0 51v3m0 3v3m0 3v6m1-152v9m0 3v12m0 3v3m0 3v9m0 3v6m0 3v6m0 6v15m0 17v3m0 9v3m0 3v6m0 3v3m0 21v6m1-161v3m0 92v27m1-182v3m1 0v3m2-27v3m0 18v3m1-39v3m0 6v3m0 179v27m1-227v3m0 105v3m0 110v3m0 18v9m0 9v3m1-45v3m0 6v24m0 3v3m1-275v3m0 60v3m0 155v24m0 3v18m1-39v6m0 3v9m0 3v15m1-197v3m0 188v3m0 3v3m0 3v3m0 3v3m0 6v3m1-224v3m0 176v3m0 3v12m0 6v3m0 3v3m0 3v6m1-161v3m0 110v6m0 3v3m0 9v15m0 3v3m1-39v3m0 3v18m0 6v3m1-287v3m0 75v3m0 161v9m0 3v3m0 3v9m0 3v6m0 3v9m0 12v3m1-72v33m0 21v3m1-33v15m0 6v9m0 9v6m1-224v3m0 182v3m0 6v12m0 6v3m1-54v6m0 12v12m0 3v6m0 3v3m1-146v3m0 101v3m0 6v6m0 3v6m0 3v6m0 6v9m0 3v3m1-218v3m0 161v3m0 15v6m0 3v3m1-39v18m0 3v6m0 3v9m0 3v6m1-305v3m0 21v3m0 251v12m0 3v12m0 3v6m0 6v3m1-60v3m0 12v3m0 3v24m0 6v3m1-215v3m0 57v3m0 110v6m0 3v3m0 9v6m1-200v3m0 155v3m0 18v3m0 15v9m1-143v3m0 101v3m0 6v3m0 18v6m0 3v3m0 12v3m1-329v3m0 21v3m0 141v3m0 89v3m0 6v24m0 6v6m0 3v3m1-140v6m0 86v6m0 3v3m0 3v12m0 3v3m0 6v3m0 3v6m1-137v3m0 18v6m0 18v3m0 18v3m0 23v27m0 3v3m0 21v3m1-296v3m0 153v3m0 15v3m0 12v3m0 12v3m0 3v9m0 3v2m0 6v30m0 3v3m1-116v3m0 6v3m0 12v3m0 3v12m0 6v6m0 3v3m0 3v6m0 14v33m0 3v3m0 9v3m1-284v3m0 174v3m0 36v3m0 14v3m0 6v12m0 3v3m0 3v6m0 27v6m0 3v3m1-158v3m0 77v6m0 3v9m0 3v3m0 3v3m0 6v3m1-275v3m0 233v3m0 3v6m0 6v3m0 3v3m0 12v3m0 3v3m0 6v3m1-233v3m0 176v15m0 24v6m1-284v3m0 233v21m0 3v18m0 3v3m1-224v3m0 173v6m0 6v15m0 3v6m0 3v3m1-218v3m0 173v3m0 3v9m0 3v9m0 6v12m0 3v3m1-45v18m0 6v3m0 18v9m2-302v6m0 66v3m0 167v3m2-263v6m0 9v6m0 251v3m1-275v3m0 3v3m0 3v3m0 3v3m1-21v3m0 3v3m1-3v3m0 305v3m1-305v6m0 6v3m0 90v3m1-105v3m0 99v3m1-96v3m2-21v3m0 117v3m3 12v3m3-39v3m0 36v3m1 0v3m4-150v3m0 21v3m2 114v3m2-141v3m0 3v3m1-9v3m0 3v3m0 114v6m1-129v3m0 6v6m1-12v6m0 6v3m0 3v3m1-24v9m1-6v3m0 87v3m1 15v3m4-108v3m2-3v3m3 0v6m0 72v3m1 0v3m1 54v3m0 3v3m0 6v3m0 12v3m0 15v3m0 6v9m5-33v3m1-6v6m0 3v3m2-186v3m0 144v3m16-147v3m5 132v3m1-6v3m2-3v3m1-3v3m1-6v6m1-144v3m1 138v3m2-6v3m1 0v3m1-3v3"/><path stroke="#00dcff" stroke-width="1" d="M102.5 384v3m1-179v6m0 36v3m0 143v3m1-191v3m0 167v3m1-3v3m1-173v6m1-6v3m0 39v3m1-45v3m0 39v3m1-45v6m1-3v3m0 36v3m1-42v3m0 9v3m0 18v3m0 3v3m1-72v3m0 9v3m0 27v3m0 12v6m1-63v3m0 60v6m1-99v6m0 3v6m1-69v3m0 21v6m0 6v6m0 3v3m0 6v3m1-93v3m0 6v6m0 21v3m0 12v3m0 18v3m1-69v3m0 3v3m0 3v6m0 6v6m0 15v6m1-3v3m1-9v6m0 180v3m1-177v3m0 177v3m1-177v3m0 3v6m0 159v3m0 3v2m0 12v3m0 9v3m1-35v6m0 11v9m1-167v6m0 3v6m0 120v9m0 11v6m0 3v6m1-197v3m0 36v9m0 126v2m0 18v3m0 6v3m0 3v3m1-152v3m0 111v2m0 15v3m0 3v3m0 3v3m1-164v3m0 3v3m0 3v6m0 9v3m0 3v3m0 3v3m0 78v9m0 17v3m0 3v3m1-158v3m0 18v3m0 9v6m0 21v3m0 69v3m0 11v3m0 9v6m0 3v3m0 3v3m1-173v3m0 12v3m0 21v3m0 6v3m0 6v3m0 15v3m0 36v3m0 3v6m0 23v6m0 3v9m1-155v3m0 12v3m0 12v3m0 9v3m0 3v3m0 21v3m0 33v9m0 14v3m0 3v6m0 3v3m0 6v3m1-170v3m0 21v3m0 6v3m0 6v3m0 3v6m0 15v3m0 74v12m0 3v9m1-170v3m0 36v3m0 12v3m0 12v3m0 15v6m0 3v3m0 41v3m0 6v3m0 3v6m1-170v3m0 6v3m0 36v6m0 21v3m0 9v3m0 24v3m0 12v3m0 20v9m0 3v3m0 3v3m1-167v6m0 6v6m0 3v3m0 3v3m0 18v3m0 6v3m0 18v3m0 21v3m0 3v3m0 32v15m0 3v3m0 3v3m1-167v3m0 3v3m0 3v3m0 3v3m0 24v3m0 6v3m0 3v3m0 6v3m0 6v9m0 53v6m0 3v6m0 15v3m1-191v6m0 72v3m0 80v3m0 3v6m0 6v3m1-185v3m0 3v3m0 30v3m0 24v3m0 27v3m0 80v3m1-9v3m4-191v3m7-3v3m9-75v3m2 3v3m1-3v3m2 96v3m0 3v3m0 6v3m1-21v3m0 6v3m0 3v3m0 9v3m1-33v6m0 6v3m1-21v3m1-6v3m1 102v3m0 24v3m1-114v3m0 54v9m0 6v3m0 15v9m0 3v3m0 9v3m1-231v3m0 3v3m0 153v6m0 3v3m0 3v6m0 12v3m0 6v3m1-216v3m0 132v3m0 30v3m0 48v6m0 18v3m1-225v3m0 102v3m0 3v6m0 3v12m0 6v3m1-159v3m0 18v3m0 147v3m1-54v3m0 21v6m0 27v3m0 60v3m1-228v3m0 96v6m0 51v3m0 12v3m0 51v3m1-240v3m0 111v3m0 9v3m0 12v9m0 6v6m0 6v6m1-63v3m0 12v3m0 6v3m0 12v3m0 12v3m0 18v3m1-186v3m0 99v3m0 6v3m0 15v3m0 12v3m0 27v3m0 9v3m1-69v3m0 9v9m0 12v3m0 6v6m0 6v6m0 6v3m1-192v3m0 135v3m0 33v3m0 15v3m1-57v3m0 15v3m0 3v3m0 6v3m0 6v9m0 39v3m0 6v3m1-234v3m0 102v12m0 6v6m0 9v6m0 15v3m0 3v3m1-63v3m0 24v3m0 18v3m0 15v3m1-165v3m0 87v3m0 21v3m0 30v3m0 36v3m1-96v3m0 51v6m0 6v9m0 3v3m0 48v3m1-150v3m0 6v6m0 6v3m0 3v3m0 24v6m0 15v3m1-72v6m0 6v3m0 9v3m0 6v3m0 21v6m0 18v3m0 6v3m0 9v3m0 30v3m0 3v3m1-135v3m0 12v3m0 9v3m0 15v3m0 3v3m0 15v3m0 12v9m1-186v3m0 90v3m0 6v3m0 30v3m0 27v3m1-72v6m0 6v3m0 36v6m0 24v6m1-96v3m0 9v3m0 12v3m0 18v6m0 6v3m0 3v6m0 15v3m0 21v3m0 6v3m1-228v3m0 6v6m0 105v3m0 69v6m1-78v3m0 66v6m1-75v3m1 72v3m2 0v3m1-9v3m1-6v3m1-72v3m0 66v6m1-3v3m1 0v3m2-78v3m0 69v3m2 0v3m1-78v3m0 69v3m2-75v3m0 42v3m2 24v3m3-75v3m1-3v3m0 69v3m1-75v3m1 69v3m1-75v3m0 69v3m1-75v3m0 72v3m2-6v3m2-3v3m1-6v3m1-72v3m0 66v3m1 0v3m1-3v3m1-75v3m0 66v6m1-75v3m1-3v3m0 69v3m1-75v3m0 72v3m1-6v3m1-3v6m1-6v3m1-3v3m1-75v3m0 36v3m2 30v6m1-78v3m1 39v3m0 27v3m2-3v3m1-3v3m1-75v3m0 36v3m0 30v3m2 0v6m1-42v3m0 30v3m1-3v6m1-6v3m1-39v3m0 33v3m1-33v3m1 27v6m1-12v6m1-33v3m0 33v3m2-42v3m0 33v3m1-36v9m1-12v12m0 21v6m1-3v3m1-39v6m0 6v3m0 18v6m1-39v6m0 3v6m0 21v3m1-36v6m2-9v3m0 3v3m1-15v3m0 6v3m0 27v3m2-33v3m0 6v3m0 21v3m1-33v12m0 15v3m1-24v3m1-15v3m0 3v3m1-6v3m0 33v3m1-6v3m1 0v3m1-6v3m1-33v6m1-12v3m0 3v6m0 24v3m2-36v3m0 30v3m1-3v6m1-36v3m0 3v3m1 24v3m1-6v3m1-3v3m1-9v9m1 0v3m3 0v3m1-3v6m1-6v3m160 42v3m2-3v3m2-3v3m1-3v3m1-3v3m1-231v6m0 222v3m1-225v3m0 114v9m0 12v6m0 3v12m0 63v3m1-243v3m0 9v3m1 0v3m0 180v3m0 3v3m1-180v3m0 3v3m0 156v3m1-192v3m0 6v6m0 9v3m0 3v6m0 174v3m1-216v3m0 9v3m0 15v3m0 3v6m1-36v6m0 183v6m1-192v3m0 228v3m1-18v3m1-33v6m0 6v3m1-33v3m0 3v9m0 6v3m1-21v3m2-132v3m0 141v3m1-147v3m1 108v3m0 9v3m1 12v3m1-15v3m0 3v3m0 3v3m0 3v3m1-144v3m0 24v3m1 90v3m0 3v3m0 9v3m1-18v3m0 3v3m0 6v3m0 9v3m1-159v3m0 114v9m3-123v3m0 120v3m1-15v3m1 18v3m2-105v3m2 96v3m0 3v6m2-36v6m1-114v3m0 123v3m2 0v3m1-21v3m8 9v3m1-15v3m1 15v3m0 6v3m3-9v3m2-12v3m1-123v3m0 99v18m1-42v3m0 3v15m0 3v6m1 12v3m1 3v6m1-138v3m2 123v3m0 3v3m1-132v3m0 120v3m2 0v3m0 6v3m0 6v3m2-21v3m6-129v3m0 120v3m2-3v3m0 6v3m1-12v3m2-3v3m1-3v3m1 6v3m2-144v3m0 129v3m1-171v3m0 171v3m2-6v3m0 3v3m2-9v6m1-141v3m2 135v3m0 3v3m1-18v3m1-30v6m0 6v3m1 21v3m1-51v3m2 42v3m1-48v3m1-105v3m0 78v3m0 66v3m1-144v3m0 75v3m1 9v3m1-27v3m0 6v9m0 6v3m0 45v3m1-81v3m0 3v3m0 6v3m0 12v3m0 42v3m1-135v3m1-6v3m0 132v3m1-144v3m0 72v3m0 9v3m0 63v3m1-174v3m0 6v3m0 153v3m1-183v3m0 105v3m0 6v3m0 9v3m0 3v3m0 42v3m0 3v3m1-87v3m0 3v3m0 3v3m0 15v3m0 39v3m1-66v3m0 6v3m0 57v3m1-54v9m0 33v3m1-78v3m1-12v3m0 81v3m1-147v3m0 75v6m0 6v6m0 66v6m0 6v6m1-93v6m0 12v3m1-96v3m0 48v3m0 21v3m0 3v3m0 3v6m1-12v3m0 6v9m0 33v3m0 3v3m1-141v3m0 72v3m0 12v21m0 21v3m1-42v3m0 15v3m1-54v3m0 3v6m0 9v3m0 6v6m0 24v3m1-18v3m0 3v3m0 3v3m0 6v3m1-66v3m0 12v3m0 3v3m0 51v3m3-69v3m1 63v3m0 6v3m1-21v3m1 3v3m1-141v3m1-3v3m1 81v3m0 42v6m2-135v3m0 251v9m0 3v9m0 3v3m1-33v15m0 6v3m0 3v3m1-21v3m1-191v3m0 176v18m1-18v21m1-24v6m1-257v3m0 120v3m0 125v12m1-9v12m1-257v3m0 111v3m0 125v18m1-263v3m0 66v3m0 182v6m1-44v2m0 36v3m0 21v3m1-65v2m0 27v3m0 6v6m1-263v3m0 93v3m0 114v8m0 30v15m1-266v3m0 210v6m0 38v3m0 3v3m1-185v3m0 179v6m1-56v3m0 41v3m0 6v6m1-56v3m0 29v3m0 3v12m0 9v3m1-275v3m0 201v3m0 50v3m0 6v3m1-62v6m0 41v3m0 3v3m0 3v3m0 6v3m1-30v6m0 6v3m1-21v3m0 6v3m0 6v6m1-65v3m0 47v6m0 3v3m1-65v3m0 3v9m0 32v3m0 9v6m1-257v3m0 186v3m0 3v9m0 41v3m0 3v6m1-260v3m0 189v3m0 50v6m1-59v6m0 53v12m1-62v6m0 41v9m1-71v6m0 62v3m0 3v3m1-77v3m0 53v12m1-239v3m0 90v3m0 96v3m0 32v21m1-59v3m0 38v3m1-68v6m0 59v15m1-254v3m0 227v3m0 3v12m1-71v6m0 53v6m0 3v6m1-77v3m0 68v12m1-83v6m0 27v2m0 24v3m0 3v6m1-167v3m0 90v3m0 80v6m0 3v3m1-24v12m1-215v3m0 147v3m0 6v3m0 38v3m0 6v3m1-83v6m0 12v9m0 6v3m0 32v15m1-227v3m0 12v3m0 48v3m0 78v3m0 3v3m0 65v3m0 6v6m0 6v6m1-233v3m0 45v3m0 78v3m0 6v3m0 3v3m0 59v3m0 3v3m0 3v3m1-242v3m0 18v3m0 132v3m0 53v3m0 3v9m1-206v3m0 123v3m0 77v12m1-218v3m0 45v3m0 6v3m0 63v3m0 36v3m0 3v2m0 24v12m1-206v3m0 21v3m0 15v3m0 6v3m0 69v3m0 30v6m0 44v9m1-92v9m0 74v9m0 3v6m1-200v3m0 9v3m0 9v6m0 69v3m0 9v3m0 71v3m0 3v3m1-218v3m0 27v3m0 6v6m0 78v3m0 3v3m0 65v6m0 3v3m0 3v3m0 3v6m1-224v3m0 33v3m0 6v3m0 3v3m0 72v6m0 9v3m0 3v3m0 47v21m1-188v3m0 15v3m0 69v6m0 6v3m0 71v6m0 3v3m0 6v3m1-254v3m0 24v3m0 51v3m0 66v6m0 68v3m0 3v3m0 3v6m1-242v3m0 36v3m0 18v6m0 81v3m0 6v3m0 74v6m0 21v3m1-185v6m0 57v6m0 27v6m0 3v3m0 38v6m0 3v9m1-101v9m0 80v3m0 3v9m1-227v3m0 6v3m0 200v12m1-98v3m0 9v6m0 24v6m0 35v3m1-221v3m0 6v3m0 6v3m0 111v9m0 71v3m0 3v6m0 3v3m1-98v6m0 6v3m0 77v18m1-107v3m0 21v3m0 59v3m0 3v6m0 3v3m1-245v3m0 227v6m0 3v3m1-104v3m0 3v3m0 3v9m1-81v3m0 54v3m0 83v3m0 3v15m0 3v3m0 6v3m1-260v3m0 135v3m0 89v12m1-104v9m0 6v3m0 6v6m0 74v3m1-104v3m0 83v12m1-92v9m0 3v3m0 74v6m0 3v3m1-113v9m0 33v3m0 56v3m0 3v3m1-107v6m0 77v9m0 3v9m0 3v3m1-113v3m0 89v6m1-248v3m0 147v3m0 42v6m0 9v2m0 27v3m0 3v9m0 6v3m1-116v3m0 92v9m0 6v3m1-263v3m0 93v3m0 57v3m0 6v3m0 6v6m0 3v3m0 6v9m0 41v3m0 3v9m1-104v6m0 92v6m0 3v3m1-167v3m0 51v6m0 86v15m1-161v3m0 54v9m0 80v12m1-15v15m1-260v3m0 156v6m0 86v6m0 3v3m1-107v3m0 6v3m0 89v9m1-113v6m0 95v9m1-107v3m0 3v9m0 3v3m0 71v12m1-107v6m0 89v15m1-110v6m0 89v12m1-104v3m0 3v3m0 86v15m1-113v3m0 51v3m0 44v6m1-104v6m0 15v3m0 6v3m0 21v3m0 3v3m0 41v15m1-176v3m0 152v6m0 3v3m1-263v3m0 251v15m1-15v6m0 3v3m0 3v3m1-119v3m0 95v9m0 12v6m1-134v6m0 98v3m0 3v9m1-251v3m0 129v3m0 101v12m1-164v3m0 48v3m0 98v6m1-230v6m0 18v3m0 96v3m0 3v3m0 92v3m0 3v12m1-170v3m0 155v3m1-116v6m0 107v3m1-3v9m0 3v3m1-257v3m0 233v18m0 6v3m1-263v3m0 230v6m0 3v12m1-170v3m0 42v3m0 98v3m0 3v3m1-236v3m0 3v3m0 230v6m0 6v6m0 3v6m1-275v3m0 239v9m0 3v6m1-6v6m1-128v6m0 104v6m0 3v3m0 3v3m1-245v3m0 114v3m0 113v3m0 3v6m1-260v3m0 251v9m0 12v3m1-27v3m0 3v9m0 3v3m1-21v12m0 18v3m1-275v3m0 117v3m0 122v3m0 3v6m0 6v3m1-275v3m0 126v3m0 113v9m0 3v3m0 3v3m0 12v3m1-263v3m0 21v3m0 42v3m0 146v3m0 3v12m1-230v3m0 3v3m0 96v3m0 128v3m0 6v3m0 3v3m1-260v3m0 224v3m0 3v15m1-260v3m0 236v3m0 6v6m0 3v3m1-15v3m0 3v9m0 3v3m1-242v3m0 3v3m0 90v3m0 110v12m1-239v3m0 108v3m0 116v6m0 3v12m0 12v3m1-248v3m0 212v3m0 3v9m1-9v9m0 3v9m1-275v3m0 257v6m1-239v3m0 3v3m0 45v3m0 42v3m0 119v3m0 12v6m1-18v3m0 3v6m0 3v3m1-24v18m0 6v3m1-21v3m0 3v3m0 12v3m1-27v6m0 3v6m1-176v3m0 161v9m0 3v3m1-18v3m0 9v3m0 3v3m1-27v3m0 3v6m0 3v3m1-9v3m0 3v6m0 3v6m1-12v12m1-263v3m0 9v3m0 3v3m0 6v3m0 203v9m0 6v3m1-242v3m0 6v6m0 227v15m1-30v9m0 3v6m0 3v3m1-245v9m0 221v9m0 3v6m1-230v3m0 197v3m0 3v3m0 3v6m0 6v3m1-146v3m0 134v3m1-245v3m0 6v3m0 3v3m0 212v3m0 3v12m0 3v3m0 3v3m0 3v3m1-161v3m0 125v3m0 3v3m0 3v3m0 6v3m1-33v3m0 3v6m0 3v9m0 3v9m1-155v3m0 122v3m0 6v6m0 6v3m1-21v3m0 3v15m1-266v3m0 12v3m0 99v3m0 113v3m0 6v3m0 3v6m0 6v3m1-27v18m0 9v3m1-149v3m0 125v3m0 3v9m0 3v6m0 3v6m1-161v3m0 113v12m1-233v3m0 102v3m0 119v9m1-233v3m0 12v3m0 84v3m0 116v12m0 6v3m1-140v3m0 125v6m0 3v6m0 3v3m1-149v3m0 119v3m0 3v3m1-131v3m0 116v9m0 6v3m1-242v3m0 51v3m0 167v3m0 3v9m0 6v3m1-242v3m0 96v3m0 110v6m0 3v3m1-125v3m0 110v18m1-131v3m0 113v12m0 3v6m1-137v3m0 110v12m0 3v3m1-182v3m0 164v3m0 3v6m0 3v12m1-254v3m0 12v3m0 39v3m0 51v3m0 116v30m0 3v9m0 9v3m1-287v3m0 3v6m0 102v3m0 113v12m1-128v3m0 113v3m0 3v9m1-248v3m0 236v6m1-251v6m0 63v3m0 167v3m0 3v6m0 3v6m1-15v3m0 3v6m1-215v3m0 78v3m0 113v6m0 36v3m1-215v3m0 161v18m0 9v3m1-284v3m0 141v3m0 110v9m1-122v3m0 113v9m1-125v3m0 116v3m0 6v3m0 6v3m0 3v6m0 3v3m1-155v3m0 125v3m0 9v3m0 3v3m0 3v3m0 3v3m1-281v3m0 117v3m0 116v3m0 3v3m0 3v6m0 12v3m1-152v3m0 110v3m0 3v15m1-245v3m0 12v3m0 6v3m0 3v3m0 194v21m0 6v3m1-33v15m0 3v3m0 3v3m1-239v3m0 3v3m0 90v3m0 122v3m0 6v3m0 9v3m1-272v3m0 66v3m0 51v3m0 125v3m0 3v15m0 6v9m1-260v9m0 87v3m0 128v3m0 6v3m0 21v3m1-167v3m0 125v3m0 3v9m0 3v3m1-254v3m0 15v3m0 200v12m0 3v3m0 9v12m0 3v3m1-275v3m0 18v6m0 6v3m0 78v3m0 137v9m1-311v6m0 99v3m0 173v3m0 3v3m0 18v3m1-260v3m0 12v3m0 6v3m0 84v3m0 119v6m0 3v3m0 3v9m0 3v9m1-281v3m0 120v3m0 137v3m0 3v6m1-152v3m0 152v6m1-161v3m0 134v9m0 3v3m1-209v3m0 212v15m1-254v3m0 230v12m1-164v3m0 137v3m0 3v3m1-245v3m0 93v3m0 137v6m0 6v3m0 9v3m1-36v12m0 3v6m0 33v3m1-302v3m0 111v3m1-3v3m0 146v3m0 3v6m1-18v9m0 3v3m1-242v6m0 78v3m0 122v3m0 6v6m0 12v3m1-236v3m0 200v27m1-149v3m0 143v3m0 9v3m1-161v3m0 128v12m0 3v3m0 3v3m1-215v3m0 179v3m0 3v12m1-18v3m0 30v6m1-161v3m0 146v3m1-152v3m0 122v3m0 15v3m0 6v3m1-21v3m0 15v3m1-230v3m0 72v3m0 149v6m0 9v6m1-173v3m0 143v9m0 3v12m1-170v3m0 128v3m0 3v12m1-209v6m0 54v3m0 128v12m0 3v6m0 12v3m1-248v6m0 75v3m0 116v3m0 21v3m0 21v3m1-36v9m0 3v3m1-230v3m0 78v3m0 149v3m0 3v3m1-158v6m1-90v3m0 18v3m0 60v3m0 122v3m0 3v6m0 3v6m0 15v3m1-45v12m0 3v6m0 3v6m1-149v3m4 116v6m0 3v6m0 3v3m0 3v6m1-152v3m0 143v9m0 3v3m1-221v3m0 57v3m0 143v3m0 3v6m1-158v3m0 119v3m0 18v12m1-281v3m0 63v3m0 57v3m0 137v6m1-278v3m0 129v3m0 146v3m0 3v6m0 6v6m0 6v3m1-182v3m0 179v3m1-335v3m0 296v3m0 3v3m0 3v3m1-224v3m0 57v3m0 137v6m0 9v3m1-6v3m0 6v3m1-224v3m0 57v3m0 125v9m0 3v6m1-146v3m0 149v6m1-158v3m0 143v6m0 6v3m0 3v3m1-302v3m0 272v3m0 12v3m0 3v3m1-36v3m0 6v6m0 9v3m0 3v3m1-161v3m0 125v3m0 6v6m0 3v3m0 12v3m0 3v6m1-230v3m0 167v3m0 6v3m0 9v3m0 12v3m1-152v3m0 140v3m0 6v3m0 6v9m1-24v6m0 9v12m1-33v9m0 3v3m1-9v3m0 6v9m0 3v3m0 3v3m1-317v6m0 278v3m0 3v3m0 3v6m0 3v3m1-329v3m0 12v3m0 272v6m0 6v3m0 3v12m1-33v3m0 3v6m0 3v3m0 6v3m1-287v3m0 141v3m0 143v3m0 6v3m1-155v3m0 12v3m0 15v3m0 36v3m0 38v3m0 3v9m0 6v3m0 6v6m0 3v3m1-332v3m0 24v3m0 156v3m0 3v3m0 3v3m0 95v3m0 15v6m1-233v3m0 6v6m0 93v3m0 6v3m0 9v3m0 15v3m0 47v3m0 3v3m0 9v6m0 6v3m0 3v6m1-296v3m0 233v3m0 9v3m0 3v3m0 3v6m0 3v6m0 6v6m1-290v3m0 54v3m0 120v3m0 98v3m0 6v3m0 3v3m1-311v3m0 6v6m0 201v3m0 26v3m0 15v24m0 6v9m0 6v3m1-242v3m0 108v3m0 83v3m0 18v3m0 3v3m1-15v3m0 3v6m0 6v6m1-57v3m0 9v3m0 9v6m1-33v6m0 18v6m0 3v18m0 12v3m1-134v3m0 42v3m0 32v9m1-15v6m0 3v3m0 3v3m0 3v18m1-296v9m0 251v6m0 3v6m0 3v3m1-284v6m0 90v3m0 155v3m0 15v3m2-272v3m0 6v3m0 87v3m1-111v3m0 108v3m0 188v3m1-305v3m2 18v3m1-18v3m0 9v3m1-9v3m0 3v6m1 108v3m1 102v3m1-240v3m2 6v6m2-15v3m0 12v6m1-6v3m4 0v3m6 0v3m1-6v3m1-21v3m0 6v3m1 0v3m2-9v3m1-3v3m2 111v3m1-105v3m1-21v3m1 93v3m3 21v3m0 6v6m0 3v3m0 27v3m0 3v3m0 9v3m0 12v6m2-54v3m2 60v3m2-27v3m3-30v3m2-66v3m3-105v3m15 144v3m2-9v3m2 200v6m1-12v15m1-15v15m1-15v15m1-15v15m1-212v3m0 194v15m1-209v3m0 191v15m1-15v15"/><path stroke="#00fff9" stroke-width="1" d="M102.5 208v3m0 158v6m0 3v6m0 3v3m0 3v6m1-30v3m0 3v3m0 6v3m0 3v3m0 6v3m1-27v3m0 3v3m0 3v9m1-188v3m0 39v3m0 122v3m0 3v3m0 3v9m1-3v3m6-185v6m0 12v3m1-48v6m0 3v3m1-57v3m0 6v3m0 18v3m0 12v3m1-87v3m0 15v3m0 6v3m0 24v3m0 15v3m1-99v3m0 9v3m0 9v3m0 3v3m0 6v6m0 3v3m0 3v3m0 30v3m0 3v3m1-72v3m0 3v3m0 15v3m1-45v3m0 9v3m0 3v3m0 3v3m0 15v3m0 3v3m0 15v3m0 144v3m1-198v9m0 6v6m0 3v3m0 171v3m1-174v3m0 162v3m0 20v3m0 6v3m1-185v3m0 6v3m0 158v6m0 3v3m0 3v3m1-179v3m0 6v3m0 129v3m0 32v6m0 3v3m1-167v3m0 143v3m0 6v3m0 6v6m1-27v3m0 18v3m0 3v9m1-164v3m0 3v6m0 93v3m0 41v9m1-143v3m0 3v3m0 3v3m0 113v6m0 3v9m1-176v3m0 33v9m0 21v3m0 57v3m0 38v3m1-110v12m0 95v6m1-137v3m0 6v3m0 3v3m0 3v3m0 6v3m0 6v6m0 6v3m0 6v6m0 59v6m0 3v6m0 6v3m1-158v3m0 51v6m0 3v3m0 24v6m0 35v3m0 9v6m1-143v3m0 9v3m0 12v9m0 6v3m0 6v3m0 15v3m0 3v3m0 3v3m0 6v3m0 38v12m0 3v3m1-146v3m0 42v3m0 12v3m0 59v3m0 3v6m0 3v6m1-149v6m0 3v6m0 3v6m0 3v3m0 3v3m0 6v3m0 6v3m0 71v3m0 9v3m1-167v3m0 27v3m0 3v3m0 9v3m0 54v3m0 9v3m0 23v3m0 9v6m0 3v3m1-173v3m0 3v3m0 3v9m0 6v3m0 9v3m0 30v3m0 68v3m0 12v6m0 9v3m1-161v6m0 12v3m0 21v3m0 51v3m0 29v6m0 3v3m0 3v3m0 3v6m1-24v6m0 6v3m0 6v3m1-27v3m0 3v3m0 9v3m10-278v3m1 0v3m3 0v3m2-3v3m2-3v3m0 75v3m2 6v6m1 0v3m1 3v3m1-3v3m1 9v3m0 3v6m0 6v3m1-9v3m0 9v3m0 30v3m0 6v3m1-81v3m0 6v6m0 9v3m0 6v3m0 6v3m3-45v3m0 6v3m0 24v9m0 6v3m0 42v3m0 6v3m0 12v6m0 6v3m1-117v3m0 12v6m0 6v3m0 6v3m0 6v3m0 3v3m0 9v3m0 6v3m0 42v3m1-246v3m0 18v3m0 108v3m0 30v3m0 9v3m0 12v6m1-21v6m0 6v3m0 36v3m0 3v3m1-234v3m0 147v6m0 3v3m0 6v3m0 21v3m1-198v3m0 192v3m0 9v3m1-189v3m0 132v3m1-156v3m0 132v3m2-21v3m0 24v6m0 6v3m0 6v3m0 18v3m1-189v3m0 150v3m0 6v3m0 12v3m0 15v3m0 42v3m1-126v6m0 117v3m1-126v3m0 24v3m0 3v3m0 12v9m0 6v6m1-33v6m0 18v6m1-45v3m0 12v3m0 30v3m0 51v3m0 136v11m1-270v9m0 3v6m0 6v3m0 3v3m0 3v3m0 6v6m0 27v3m0 39v3m1-120v6m0 9v3m0 6v9m0 15v6m0 6v3m1-84v3m0 3v3m0 9v6m0 6v3m0 3v3m0 6v6m0 3v3m0 3v3m0 9v3m0 15v3m1-99v3m0 18v3m0 6v3m0 6v3m0 27v3m0 3v3m0 6v6m0 3v3m1-99v6m0 15v3m0 9v3m0 18v3m0 12v6m0 3v9m0 12v3m1-183v6m0 87v3m0 3v6m0 3v3m0 9v3m0 33v9m0 3v3m0 3v6m1-180v3m0 99v3m0 9v6m0 12v3m0 9v3m0 15v3m0 9v3m0 6v3m1-180v3m0 108v3m0 9v3m0 6v3m0 6v3m0 9v9m1-183v3m0 9v6m0 168v3m0 9v6m3-15v3m0 3v3m2-6v6m1-3v3m2-78v3m0 69v3m2 0v3m4-3v3m2-3v3m1-6v6m1-6v3m1 0v6m1-81v3m0 66v3m1 3v3m1-6v3m3-3v3m1 3v3m1-6v3m1-6v3m1 0v3m1-3v3m1-78v3m0 69v3m1 0v3m2-6v3m4-3v3m2-3v3m2 3v3m1-6v3m1-3v6m1-12v6m0 3v3m1-6v3m1 0v3m2-6v6m1-6v3m1-3v3m1 0v3m1-6v3m1-3v3m2-3v6m4-9v6m1 0v3m1-9v3m2-36v3m0 30v9m1-39v3m1 27v3m0 3v3m2-3v3m2-39v3m0 30v3m1-30v3m0 21v3m1 3v3m1-33v3m0 21v6m1-36v3m0 27v3m1 3v3m2-9v3m2-3v6m5-6v3m0 187v11m1-198v3m0 226v10m1-233v3m0 178v11m0 31v10m1-10v10m1-10v10m1-242v3m2 0v3m1 0v3m2-3v9m1-9v6m1-6v6m1-3v6m2-6v6m1-9v6m167-198v3m0 18v3m1-24v3m0 9v3m1-12v9m0 186v3m1-195v3m0 9v3m0 165v3m0 6v3m1-201v3m0 6v3m0 6v3m0 3v3m0 189v6m1-219v6m0 6v6m0 6v3m0 3v3m0 6v6m1-24v3m0 189v3m1-216v6m1 21v3m0 189v3m0 6v3m1-195v3m0 162v3m2-24v3m2 18v6m1-33v3m0 3v3m2 9v3m0 3v9m1-18v3m2-18v3m0 9v3m0 6v6m2-42v3m0 9v3m1-126v3m0 120v3m1-126v3m0 123v3m6-126v3m2-12v3m0 123v3m0 3v3m1-18v3m0 15v3m3-3v3m1-21v3m0 12v3m3-132v3m1 120v3m0 3v3m1-9v3m1-3v3m1-129v3m0 126v12m2-21v3m1-171v3m0 174v3m0 3v6m1-12v6m0 21v3m1-33v3m0 12v6m1-9v3m0 15v3m3-33v3m1-15v3m2 12v3m0 6v3m0 3v3m0 3v3m2-153v3m0 123v6m1 21v3m2-153v3m1 138v3m1-141v3m0 81v3m2-87v3m1-3v3m0 120v3m1-3v3m2-180v3m2 177v3m0 9v3m1-150v3m0 132v3m0 3v6m2-147v3m0 129v9m0 3v6m1-147v3m0 126v3m1-3v3m0 3v3m1-6v3m1-9v3m1 0v3m0 3v3m1-186v3m0 27v3m0 3v3m0 144v3m0 9v6m1-156v3m1 132v3m0 3v6m1-27v3m3-132v6m0 132v3m1-144v3m0 153v3m2-162v6m0 135v6m1 0v3m0 6v9m1-156v3m1 129v3m1-153v3m0 156v3m0 9v3m0 3v3m2-87v3m0 69v3m0 3v3m0 6v3m1-30v3m1-54v3m1-90v3m0 144v3m0 9v3m1-165v6m0 57v3m0 21v3m0 57v3m2-96v3m0 30v3m1-12v3m0 63v3m1-153v3m0 78v15m0 51v3m0 9v3m0 3v3m1-174v3m0 3v3m0 90v3m0 54v3m0 3v3m1-150v3m0 78v6m0 6v3m1-126v3m0 165v3m1-81v3m0 21v6m1-90v3m1-3v3m0 81v3m0 6v6m1-132v3m0 105v3m0 84v3m2-84v3m0 54v6m2-144v3m3 135v3m1-63v3m0 3v3m0 63v3m1-24v3m0 3v3m1-132v3m0 126v3m1-66v3m1-105v6m0 18v3m0 150v3m2-186v6m0 165v3m3-144v3m1 3v3m0 132v3m1-66v3m0 51v3m0 134v3m0 9v3m1-311v3m0 296v3m1-305v3m0 18v3m0 141v3m0 128v9m1-3v6m1-3v3m0 3v3m1-278v3m0 248v6m1 0v6m1-266v6m0 213v2m0 42v6m1-3v6m1-56v3m0 44v3m0 3v6m0 3v3m1-296v3m0 15v3m0 210v3m0 41v21m1-164v3m0 96v3m0 47v9m0 6v3m1-317v3m0 296v3m0 6v3m1-158v3m0 87v3m0 47v3m0 3v12m1-68v9m0 50v3m1-155v3m0 87v6m0 59v6m1-311v3m0 30v3m0 204v9m0 50v6m1-68v3m0 56v6m0 3v3m1-68v3m0 62v6m1-74v6m0 56v9m1-266v3m0 84v3m0 102v9m0 59v12m1-272v3m0 186v6m0 62v3m1-71v3m0 3v3m0 9v3m0 38v3m0 6v6m1-71v3m0 62v3m0 3v3m1-272v3m0 108v3m0 78v3m0 59v9m1-74v6m1-183v3m0 177v6m0 15v3m0 44v6m1-260v3m0 102v3m0 152v6m1-86v3m0 68v9m1-77v9m0 3v6m0 62v3m1-86v12m0 53v12m1-245v3m0 242v6m1-305v3m0 213v3m0 74v6m1-80v3m0 65v3m0 6v9m1-260v3m0 96v3m0 69v3m0 83v6m0 6v3m1-101v3m0 74v9m1-89v3m0 89v3m1-95v6m0 80v6m1-161v3m0 66v12m0 71v9m1-161v3m0 63v3m0 9v3m0 71v6m0 3v3m1-98v6m0 3v3m0 86v3m1-245v3m0 141v3m0 18v3m0 65v3m0 3v3m1-98v6m0 74v3m0 3v3m1-92v3m0 98v3m1-21v3m0 3v3m1-170v3m0 72v3m0 30v3m0 59v9m1-104v3m0 92v3m0 6v3m0 3v3m1-113v3m0 6v3m0 80v3m0 3v3m0 6v3m1-194v3m0 18v3m1-81v3m0 66v3m0 3v3m0 75v6m1-168v3m0 36v3m0 33v3m0 9v3m0 57v3m0 92v3m0 6v3m0 3v3m1-182v3m0 66v6m0 83v3m0 6v3m1-53v3m0 44v21m0 3v3m1-36v3m0 9v6m1-53v2m0 48v9m1-239v3m0 123v6m0 3v6m0 86v3m1-239v3m0 132v3m0 6v3m0 39v5m0 33v6m0 15v3m1-116v3m0 92v3m0 3v6m1-107v3m0 110v6m0 3v3m1-125v3m0 9v6m0 86v3m1-107v6m0 104v6m1-110v3m0 95v12m0 6v3m1-269v3m0 248v3m0 3v6m1-176v3m0 51v3m0 104v9m1-6v6m1-260v3m0 144v3m0 98v6m1-110v6m0 107v6m1-15v3m0 3v3m1-167v3m0 51v3m0 110v6m1-272v3m0 147v3m0 98v9m0 12v3m1-119v6m0 33v3m0 62v3m1 0v12m1-122v3m0 24v3m0 74v12m0 3v6m1-128v3m0 104v3m0 3v12m1-128v3m0 107v6m0 3v3m1-119v3m0 101v6m0 3v3m1-116v3m0 101v6m1-113v6m0 104v6m1-116v3m0 110v9m1-12v6m1-116v3m0 104v9m1-263v3m0 254v9m1-6v3m1-3v6m0 9v3m0 3v3m1-281v3m0 138v3m0 107v12m0 6v3m1-269v3m0 135v6m0 119v3m1-263v3m0 132v6m0 104v3m0 3v9m1-173v3m0 42v3m0 122v12m1-137v3m0 119v3m0 3v9m1-272v3m0 135v3m0 110v6m0 3v3m0 6v3m1-18v12m1-15v3m0 3v3m1-125v3m0 107v9m1-221v3m0 99v3m0 122v6m1-134v3m0 113v18m1-179v3m0 158v3m0 3v3m1-125v3m0 119v3m0 3v12m1-182v3m0 39v3m0 122v6m1-173v3m0 39v3m0 122v3m1-263v6m0 126v3m0 110v9m1-242v3m0 117v3m0 131v3m0 6v3m1-146v3m0 128v3m0 12v3m1-149v3m0 125v3m0 3v3m1-15v3m0 3v9m0 3v6m1-260v3m0 230v3m0 6v3m1 0v12m0 6v6m1-21v3m1-3v9m0 3v3m0 6v3m1-33v3m0 6v6m0 3v3m1-24v3m0 3v3m0 3v3m0 3v6m1-248v3m0 96v3m0 122v6m1 12v3m1-9v6m1-21v3m0 6v3m0 6v9m1-266v3m0 72v3m0 36v3m0 137v3m0 3v6m1-260v9m0 15v3m0 45v3m0 161v12m1-257v3m0 254v6m0 3v3m1-152v3m0 134v6m0 6v3m1-3v3m0 12v3m1-27v15m1-24v6m0 12v3m1-272v3m0 263v3m1 0v6m1-158v3m0 140v6m0 9v3m1-30v3m0 6v3m0 3v9m1-18v3m0 3v3m1-179v3m0 176v9m0 3v3m1-278v3m0 245v3m0 3v6m1-260v3m0 84v3m0 167v3m0 6v3m1-152v3m0 125v9m0 15v3m1-18v9m1-263v3m0 15v3m0 6v3m0 239v3m1-272v3m0 114v3m0 137v3m0 3v3m1-149v3m0 137v3m0 6v9m0 3v6m0 3v3m1-281v3m0 9v3m0 6v3m0 84v3m0 134v6m0 3v6m1-12v6m0 3v3m1-254v3m0 6v3m0 45v3m0 42v3m0 140v3m0 3v3m0 3v3m0 3v3m0 3v3m1-215v3m0 179v3m0 3v6m0 9v3m1-254v3m0 90v3m0 152v6m0 3v3m1-284v3m0 257v3m0 18v6m0 9v3m2-293v6m0 245v3m0 3v3m0 6v3m1-21v9m0 3v3m0 6v3m0 6v6m1-266v3m0 233v3m0 6v3m1-27v6m1-3v6m1-6v6m1-230v3m0 42v3m0 179v3m0 6v3m0 9v9m1-39v3m0 3v9m0 6v6m1-24v6m0 9v3m0 3v3m1-251v6m0 227v3m0 6v3m0 12v3m1-42v3m0 3v3m0 21v3m1-21v15m0 6v3m0 9v3m1-39v3m0 6v3m0 3v3m0 21v3m1-293v3m0 245v3m0 3v3m0 6v3m0 9v3m1-203v3m0 173v3m1 18v3m0 12v3m1-278v3m0 236v15m1-24v3m0 9v15m0 9v6m1-161v3m0 125v12m0 3v3m0 3v3m1-24v3m0 9v3m0 3v3m1-24v3m0 6v3m1-15v6m0 3v6m0 9v3m0 6v3m0 3v3m0 12v3m1-51v6m1-12v3m0 27v3m0 6v6m1-42v15m1-194v3m0 185v3m0 3v3m0 6v3m0 3v15m1-290v3m0 6v3m0 9v3m0 6v3m0 218v9m0 3v3m0 15v6m0 3v3m0 3v3m1-51v3m0 6v12m0 3v6m1-24v9m0 3v6m1-269v3m0 6v3m0 6v3m0 96v3m0 137v3m0 3v6m1-24v3m0 9v6m1-266v3m0 248v3m0 3v3m0 3v3m0 3v21m1-335v3m0 111v3m0 215v9m1-42v6m0 6v3m0 3v6m0 3v3m0 6v3m1-293v3m0 260v3m0 3v12m0 3v3m1-263v3m0 36v3m0 182v3m0 3v3m0 3v3m0 12v3m0 3v3m1-266v3m0 248v6m0 6v9m1-335v3m0 108v6m0 6v3m0 167v18m0 3v12m1-15v3m0 9v3m0 6v3m1-299v3m0 278v6m1-254v3m0 269v3m1-27v6m0 3v3m1-275v3m0 281v3m0 9v3m1-296v3m0 6v9m0 90v3m1-165v3m0 42v3m0 257v3m0 6v3m1-245v3m0 27v3m0 203v6m0 3v3m0 9v3m1-293v3m0 263v3m0 6v9m0 3v3m0 9v9m1-245v3m0 206v9m1-290v3m0 21v3m0 266v6m1-263v3m0 245v3m0 3v6m0 3v6m0 3v3m1-36v3m1 6v9m0 3v6m1-21v9m0 3v3m1-6v3m0 3v3m1-27v12m1 9v3m1-12v3m1-212v3m0 209v12m1-287v6m0 57v3m0 54v3m0 152v3m0 3v6m1-6v6m0 6v3m0 3v3m1-27v3m2-239v3m0 230v9m0 6v3m1-278v3m0 245v3m0 6v3m0 3v6m0 3v3m0 3v3m0 3v3m1-179v3m0 140v3m0 3v3m1-236v3m0 24v3m0 215v9m1-251v3m0 18v3m0 215v3m1-161v3m0 137v3m0 6v3m0 9v3m0 3v3m1-36v3m0 6v3m0 12v3m0 3v6m1-245v3m1-93v3m0 177v3m0 3v3m0 6v6m0 6v6m0 9v3m0 18v3m1-153v3m1 164v3m0 3v6m0 3v6m1-101v6m0 27v3m0 3v12m0 6v3m0 3v3m0 3v5m0 39v3m0 6v3m0 3v3m0 6v3m0 3v3m1-221v3m0 224v3m1-12v3m0 6v3m1-15v6m1-218v3m0 200v3m1-287v3m0 299v3m0 6v6m0 3v6m1-27v6m0 3v3m0 3v3m0 6v3m1-332v3m0 299v3m0 3v6m1-311v3m0 287v6m0 12v3m1-170v3m0 155v3m0 12v3m1-338v3m0 3v6m0 287v3m0 6v3m0 3v12m0 3v3m0 9v3m0 3v3m1-18v6m1-21v3m0 3v3m1-164v3m0 149v3m0 3v3m0 6v3m1-329v3m0 317v6m1-311v3m0 275v3m0 6v3m0 3v3m0 3v6m0 3v3m1-167v3m0 140v6m0 6v6m1-218v3m0 224v6m1-317v3m0 138v3m0 152v6m0 12v6m1-338v3m0 3v3m0 9v3m0 287v3m0 3v9m0 3v6m0 6v3m1-182v3m0 161v3m0 3v3m0 3v3m1-27v3m0 12v3m1-314v3m0 308v3m1-308v3m0 287v6m0 3v3m0 21v3m1-353v3m0 105v3m0 215v3m0 3v3m0 3v3m1-167v3m0 128v6m0 3v3m0 21v3m1-326v3m0 159v3m0 3v3m0 21v3m0 92v9m0 9v9m1-308v3m0 69v3m0 6v3m0 81v3m0 12v3m0 9v3m0 3v12m0 18v5m0 45v3m0 6v3m0 27v6m1-317v3m0 177v3m0 9v3m0 12v9m0 62v6m0 6v3m0 3v6m1-308v3m0 156v3m0 3v3m0 15v3m0 6v6m0 21v3m0 68v3m0 6v3m1-311v3m0 6v3m0 162v3m0 15v3m0 9v3m0 3v3m0 15v9m0 68v6m0 9v3m0 6v3m1-338v3m0 3v3m0 6v3m0 159v3m0 36v3m0 12v3m0 12v2m0 57v6m1-314v3m0 6v3m0 183v3m0 18v3m0 86v6m0 9v3m1-122v3m0 30v3m0 71v3m0 3v3m1-86v3m0 89v3m1-242v3m0 6v6m0 150v2m0 6v9m0 12v18m0 18v3m1-227v3m0 167v3m0 6v3m0 3v3m0 3v3m0 18v3m1-302v3m0 251v9m0 6v3m0 6v3m0 3v3m0 3v6m0 27v3m1-125v3m0 6v3m0 24v3m0 6v2m0 9v9m0 3v3m0 3v6m0 3v6m2-272v3m1-24v3m0 15v3m0 281v3m0 3v3m0 6v3m1-320v3m0 15v3m0 96v3m1-105v6m0 257v6m0 3v3m0 3v3m0 3v3m1-290v6m1-12v3m1 132v3m1-144v3m0 3v3m1-12v3m0 15v3m2-6v3m0 132v3m1-138v3m0 126v3m1-132v3m1-12v3m0 3v3m0 135v3m1-153v3m0 9v3m0 3v3m1-18v6m0 3v6m0 135v3m1-156v3m0 9v6m1 132v3m1-138v3m1-15v3m0 3v3m1-12v3m5 12v3m4-18v3m1-3v6m0 126v3m1-132v3m2 9v3m5 105v3m0 9v3m0 9v3m3 66v3m0 3v3m0 3v3m1-231v3m0 216v3m2-27v6m0 3v3m1-48v3m2-6v3m3-6v6m10-159v3m3-3v6m3 371v5m1-5v5m1-238v3m0 230v5m1-238v3m0 230v5m1-5v16m1-58v9m0 6v3m0 24v5m1-47v3m0 39v5m1-238v3m0 188v3m0 39v5m1-238v3m0 230v5m1-47v3m0 39v5m1-238v3m0 230v5m1-5v5m1-5v5"/><path stroke="#00ffe3" stroke-width="1" d="M102.5 390v3m0 6v3m1-24v6m0 3v3m0 3v3m1-24v3m0 21v6m1-36v6m0 12v3m0 9v3m1-21v9m1-18v3m2-122v3m1 0v3m2-12v3m0 3v3m1-57v9m0 3v9m0 6v3m0 9v3m1-63v9m0 6v3m1-45v3m0 15v6m1-81v3m0 15v3m0 9v3m0 18v3m1-48v3m0 9v3m0 18v6m0 3v6m0 12v3m1-57v3m0 3v6m0 3v6m0 3v3m0 6v3m1-9v3m0 3v3m0 176v6m1-191v15m0 27v3m0 137v3m0 6v3m0 3v6m1-194v3m0 6v3m0 3v3m0 185v6m0 3v3m1-200v6m0 3v3m0 3v3m0 152v3m0 6v3m0 3v6m0 15v3m1-185v3m0 108v3m0 38v6m0 12v9m1-179v3m0 3v6m0 3v3m0 167v3m1-182v3m0 12v3m0 146v9m1-167v3m0 3v3m0 36v3m0 110v3m1-134v3m0 6v3m0 60v3m0 53v6m1-146v3m0 9v3m0 6v3m0 15v3m0 9v3m0 42v3m0 41v6m1-89v3m0 39v2m0 42v6m0 6v3m1-125v3m0 3v9m0 6v3m0 6v3m0 3v3m0 18v3m0 50v3m0 3v3m1-92v3m0 3v3m0 9v3m1-102v3m0 57v6m0 9v3m0 9v6m0 9v6m0 3v3m0 44v3m0 6v3m1-179v3m0 15v3m0 3v3m0 6v3m0 30v3m0 12v3m0 6v6m0 12v3m0 56v6m0 6v3m1-161v6m0 33v6m0 18v9m0 6v3m0 6v3m0 3v3m0 44v3m0 6v6m0 6v3m1-209v3m0 12v3m0 30v3m0 3v3m0 6v3m0 36v3m0 6v3m0 53v3m0 15v6m0 3v6m1-203v3m0 3v3m0 3v3m0 9v6m0 21v3m0 3v3m0 3v6m0 12v6m0 3v6m0 6v3m0 9v3m0 53v3m0 18v3m0 6v6m0 6v3m1-51v3m0 15v6m0 3v6m1-131v3m0 98v3m0 3v9m0 6v6m1-27v6m0 12v6m1-27v9m0 12v6m0 3v3m1-15v3m14-272v3m4 93v3m1 3v6m1-6v6m0 42v3m2-15v3m0 3v6m0 6v3m0 6v3m0 24v3m0 9v3m0 3v3m0 3v3m1-102v6m0 15v3m0 87v3m2-135v3m1 15v21m0 9v3m0 9v9m0 3v6m0 9v3m0 3v6m0 6v3m0 6v3m0 15v3m1-105v3m0 30v3m0 3v3m0 45v3m0 9v3m1-87v3m0 6v3m0 81v3m1-63v3m2-3v3m0 57v3m2-225v3m0 120v3m2-123v3m0 126v3m0 9v3m0 75v3m2-108v3m1-123v3m0 156v3m1-27v3m0 9v3m1-9v3m0 21v3m1-66v3m0 18v3m0 30v9m0 12v3m1-81v3m0 3v3m0 6v3m0 3v3m0 6v3m0 9v3m0 3v3m0 3v3m0 9v3m0 3v9m1-81v6m0 9v3m0 9v6m0 12v3m1-63v3m0 9v3m0 9v3m0 3v3m0 9v6m0 9v6m0 12v6m0 6v3m0 3v3m1-87v3m0 6v3m0 21v3m0 6v3m0 30v3m1-84v3m0 12v3m0 9v3m0 6v3m0 3v3m0 18v3m1-48v6m0 6v9m0 12v3m0 3v3m0 3v9m0 15v3m1-75v3m0 6v3m0 39v3m1-168v6m0 6v3m0 99v3m0 15v3m0 21v3m0 18v3m0 3v3m0 3v3m2-3v3m1-6v3m2 3v6m2-9v3m2-3v3m1 0v3m4-9v3m1 3v3m2-3v3m1-6v3m2-3v3m1 0v3m1-6v3m1-3v3m1-3v3m1-3v3m2 0v3m3-3v3m1-6v6m1-3v3m1 0v3m2-9v6m1-6v6m2-6v3m1-3v3m2-3v3m3 3v3m4-9v3m2 0v3m1-3v3m1-6v3m5 0v3m1-6v3m1-3v6m1-3v3m2-6v3m1 0v3m2-6v3m1-3v3m1-3v3m2-3v3m1 0v3m1-6v3m2 0v3m1-36v3m0 27v3m2-3v3m1-39v3m0 33v3m1-3v3m0 184v11m2-195v6m0 178v11m1-198v3m0 184v11m1-195v6m1-6v3m1-6v6m0 223v10m1-236v3m0 181v11m1-198v3m1-3v3m0 184v11m1-228v3m0 214v11m1-198v3m0 184v11m0 31v10m1-236v6m3-6v3m1 6v3m1-6v6m1-6v6m1-3v3m1-6v3m1 0v3m1-6v6m169 3v9m0 3v3m1-228v3m0 3v3m0 9v3m0 183v6m1-201v3m0 213v3m0 6v3m1-237v3m0 24v3m1-27v3m0 12v6m0 189v3m1-180v3m0 6v3m1-42v3m0 27v3m0 180v3m0 9v3m0 6v3m1-30v6m0 3v3m1-177v3m0 144v6m0 3v6m1-18v3m2 0v3m0 6v3m1-24v3m0 3v3m1-9v12m0 12v3m1-9v3m0 9v3m1-12v6m2-21v3m0 6v3m1-156v3m0 153v6m1-21v6m1-12v3m0 6v3m1-21v3m0 9v9m1-141v3m0 129v3m0 9v3m1-141v3m1 123v3m0 3v3m1-18v3m0 9v6m2-15v3m1-177v3m0 180v3m0 6v9m1-27v3m0 6v3m1-15v6m0 6v6m1-12v12m1-15v3m1-132v3m0 135v6m1-15v3m4 9v3m1-138v3m2 132v3m0 3v6m1-150v3m1 105v3m0 9v3m1-135v6m0 147v3m0 3v3m1-156v3m0 141v6m1-9v3m1-147v3m0 135v3m0 12v3m1-153v3m0 129v3m0 15v3m1-147v3m0 123v6m1-6v3m1-126v3m2-15v3m0 144v3m0 12v3m1-27v3m2-141v3m0 141v6m0 3v3m1-21v3m3-36v3m3 33v3m2-132v3m0 123v6m2-6v3m1-3v3m0 6v3m1-12v3m0 12v3m2-186v3m0 183v3m1-15v3m1-186v3m1 183v3m0 3v6m1-165v3m2-12v3m0 6v3m0 150v3m0 3v3m0 9v3m2-9v3m1-33v3m0 3v9m1 3v3m0 3v3m1-156v3m1 138v3m1-183v6m0 21v3m0 153v3m0 12v6m1-30v6m2-168v3m0 180v3m2-162v3m0 135v3m0 3v3m1-159v3m0 3v6m0 150v6m0 3v3m1-24v3m1 6v3m0 3v3m1-192v3m0 174v3m2-147v3m0 144v3m0 6v3m0 9v3m1-27v3m0 9v3m1-15v3m1-138v3m1-45v6m0 21v3m0 150v6m0 6v3m1-192v9m0 6v3m0 174v3m1-195v6m0 114v3m0 69v6m2-18v3m1-69v3m0 54v3m1-3v3m2-177v3m0 3v3m0 9v3m0 3v3m0 87v3m0 90v3m0 3v3m0 9v3m2-45v3m1-12v3m1-156v6m0 147v6m0 3v3m1-33v3m1-42v3m0 45v6m0 6v3m0 3v3m1-141v3m1-12v3m0 153v3m1-159v3m0 153v3m2-150v3m0 129v3m1-174v3m0 6v3m0 12v3m0 165v6m1-162v3m0 129v3m1-147v3m0 3v3m0 141v3m0 3v3m1-153v3m0 132v3m1-3v3m1-171v3m0 180v3m1-171v3m0 132v3m0 12v3m1-138v3m0 132v3m0 12v3m0 134v3m0 3v3m1-18v3m0 3v3m1-311v3m0 18v3m0 138v6m0 131v9m0 3v3m1-12v6m1-158v3m0 149v3m0 3v6m1-27v9m1-146v3m0 140v12m0 3v3m1-15v6m1-59v5m0 51v3m1-308v3m0 24v3m0 3v3m0 117v3m0 96v2m0 45v3m0 6v3m0 3v3m1-317v3m0 243v3m0 68v3m1-74v3m0 59v3m0 6v6m1-314v3m0 120v9m0 9v3m0 149v6m0 3v9m1-296v3m0 284v6m1-167v3m0 155v3m1-311v3m0 311v3m1-179v3m0 164v3m0 3v3m1-161v3m0 155v3m1-269v3m0 189v3m0 77v3m1-9v3m0 3v3m0 6v3m1-12v3m1-18v3m0 3v3m1-59v2m0 51v6m1-161v3m0 75v3m0 71v3m0 3v3m0 3v3m1-18v6m1-269v6m0 108v3m0 149v6m1-83v3m0 74v3m0 6v3m1-275v3m0 180v3m0 83v6m0 9v3m1-317v3m0 290v3m0 9v3m1-95v3m0 9v3m0 65v3m0 3v3m1-92v3m0 83v6m1-6v3m1-161v6m0 146v3m0 3v9m1-278v3m0 177v3m1-177v3m0 168v3m0 92v6m0 6v3m1-110v3m0 86v6m1-98v3m0 98v9m1-266v3m0 153v3m0 116v3m1-266v3m0 141v3m0 15v6m0 71v3m1-68v3m0 59v3m0 3v9m1 0v9m1-119v3m0 98v3m1-104v3m0 83v3m0 3v9m0 3v3m1-110v3m0 95v6m0 6v6m1-116v3m0 86v3m0 3v3m0 9v3m1-6v3m0 6v3m1-266v3m0 84v3m0 167v3m0 3v3m1-263v3m0 245v6m1-107v3m0 101v6m1-173v3m0 57v3m0 3v3m0 92v9m1-113v3m0 101v3m1-107v3m0 101v6m1-254v3m0 144v3m0 122v6m0 3v3m1-281v3m0 245v3m1-113v3m0 113v3m1-12v9m1-239v3m0 120v3m0 95v15m0 3v3m0 3v3m1-179v3m0 158v9m1 3v3m0 3v6m1-269v3m0 78v3m0 164v3m0 3v3m1-122v3m0 107v3m0 6v3m0 6v3m1-128v3m0 113v3m1-260v6m0 132v3m0 122v6m1-15v12m1-128v3m1-153v3m0 147v3m0 107v9m1 0v3m0 3v6m0 3v3m1-24v6m1-122v3m0 107v3m0 9v9m1-21v9m0 15v3m1-137v3m0 113v9m1-290v3m0 6v3m0 150v3m0 125v6m1-131v3m0 116v3m1 3v6m1-290v3m0 269v3m1 0v6m0 3v3m1-131v3m0 110v9m1-6v6m1-278v3m0 150v3m0 122v3m0 3v3m1-281v3m0 263v6m1-125v3m0 116v3m1-122v3m0 119v3m1-125v3m0 107v6m0 6v3m1-125v3m0 119v9m1-6v3m0 6v3m1-140v3m0 128v3m1-6v6m0 3v3m1-3v3m1-3v3m0 3v3m1-146v3m0 119v3m0 15v3m1-191v3m0 176v3m1-137v3m0 125v12m1-140v3m0 137v3m1-245v3m0 224v3m0 6v3m1 3v6m1-281v3m0 251v3m0 3v6m1-269v3m0 275v3m1-9v3m0 3v6m1-149v3m0 128v6m0 3v3m0 3v3m1-27v12m0 3v3m0 3v6m1-194v3m0 191v6m0 3v3m1-33v3m0 3v9m1-278v3m0 263v3m0 3v3m1 6v3m1-18v9m1-143v3m0 146v3m0 6v3m1-161v3m0 140v3m0 3v6m1-155v3m0 143v3m0 6v3m0 3v3m1-206v3m0 188v3m1-194v3m0 179v3m0 12v3m1-272v3m0 242v12m1 12v3m1-15v3m1-149v3m0 137v3m0 12v3m0 3v3m1-12v12m1-263v3m0 96v3m0 137v3m1 12v6m1-18v6m0 3v3m1-3v12m1-329v6m0 30v3m0 284v6m0 6v3m1-296v3m0 263v6m0 3v3m0 3v3m1-18v3m0 3v6m1 0v3m1-281v3m0 269v6m0 6v3m1-24v3m1 0v3m0 12v3m1-164v3m0 152v3m0 3v3m1-164v3m1 152v3m1-251v3m0 57v3m0 179v3m0 3v12m1-284v3m0 3v3m0 9v3m0 96v3m1-3v3m0 155v3m1-12v6m1 3v3m0 6v3m1-260v3m0 242v3m0 3v3m1-284v3m0 263v3m0 3v3m0 27v3m1-21v3m0 3v3m1-21v3m1-272v3m0 69v3m0 185v3m1-6v3m0 6v15m0 12v3m1-30v12m0 15v3m1-30v6m0 3v3m0 6v3m1-290v3m0 269v3m0 6v3m2-30v15m0 3v3m1-18v3m0 3v12m0 6v3m0 6v3m1-218v3m0 182v15m0 3v3m1-12v3m1-200v3m0 185v6m0 6v12m1-278v3m0 248v6m0 3v3m0 3v3m1-18v3m0 6v6m0 3v3m0 3v9m1-284v3m0 63v3m0 173v21m0 3v6m0 3v3m1-18v6m0 6v3m0 6v9m1-36v3m0 3v6m0 6v3m0 3v3m1-218v3m0 182v6m0 3v9m0 3v6m0 12v3m1-33v9m0 9v3m1-266v3m0 260v3m0 3v3m0 3v12m1-236v3m0 191v6m1-314v3m0 3v3m0 105v3m0 194v9m1-269v3m0 3v6m0 242v3m0 12v3m0 9v3m0 6v3m1-305v3m0 260v3m0 3v3m0 3v9m0 21v3m1-230v3m0 182v3m0 27v3m0 12v3m1-57v3m0 6v3m0 3v3m0 3v6m0 9v3m1-33v3m0 3v12m1-290v3m0 81v3m0 176v6m0 6v6m0 3v6m0 3v6m0 6v9m1-305v3m0 266v6m0 18v3m0 9v3m2-266v3m0 239v3m0 9v3m0 3v3m0 3v9m1-242v3m0 209v3m0 12v3m0 36v5m1-340v3m0 263v3m0 6v9m0 6v3m1-272v3m0 9v3m0 239v3m1-278v3m0 266v3m0 3v3m1-278v3m0 260v3m1-281v3m0 3v9m0 75v3m0 209v3m0 12v3m1-39v3m0 3v3m0 6v3m0 6v3m0 3v6m0 3v3m1-350v3m0 323v3m0 3v12m1-42v3m0 24v3m1-12v3m0 12v6m0 3v9m1-341v6m0 12v3m0 3v3m0 287v6m1-287v3m0 278v6m1-224v3m0 212v3m0 6v3m1-305v3m0 9v3m0 281v6m0 3v3m1-27v3m0 15v3m1-221v3m0 227v3m0 3v3m1-275v3m0 251v15m1-323v3m0 290v3m0 6v9m0 12v3m0 3v3m0 24v5m1-340v3m0 281v3m0 6v12m1-308v3m0 66v3m0 215v3m1-290v3m0 66v3m0 215v3m1-299v3m0 12v3m0 293v3m0 3v3m1-12v3m1-27v3m0 3v3m0 6v3m1-251v3m0 24v3m0 215v3m0 6v6m1-257v3m0 245v3m1-227v3m0 215v3m0 9v3m1-257v3m0 230v9m1 3v15m1-260v3m0 21v3m0 209v9m0 18v3m1-12v6m1-293v6m0 27v3m0 245v6m1-314v3m0 57v3m0 21v3m0 236v6m1-269v3m0 248v3m1-254v3m0 227v12m1-254v6m0 248v3m1-275v3m0 254v3m0 3v3m0 6v3m1-12v3m0 3v6m1-257v3m0 36v3m0 221v9m0 6v3m1-188v3m0 158v3m0 3v18m1-33v3m1-239v3m0 233v6m0 12v6m1-176v3m0 92v27m1-233v3m0 3v3m0 3v3m0 105v6m0 3v3m0 3v6m0 6v6m0 6v9m0 3v18m0 3v8m2 9v3m0 6v3m0 6v12m0 36v3m1-275v3m0 3v3m0 105v9m0 6v27m0 3v3m0 12v6m0 3v3m0 3v3m0 71v3m0 3v3m1-278v3m0 272v6m1-296v3m0 287v6m0 6v3m0 6v3m1-24v6m1-18v3m0 3v3m2 9v3m0 9v3m1-12v3m0 3v3m1-332v3m0 3v6m0 302v6m0 12v3m1-323v3m0 305v6m1-338v3m0 3v3m0 320v3m0 6v3m1-332v3m0 6v3m0 308v6m1-311v6m0 302v12m0 3v3m1-21v3m0 3v3m0 12v3m1-353v6m0 18v3m0 81v3m0 221v9m1-326v3m0 9v3m0 81v3m0 203v3m0 18v6m1-27v3m0 6v6m1-326v3m0 332v3m1-338v3m0 96v3m0 236v3m1-347v6m0 323v3m0 6v6m0 6v3m1-39v6m0 24v3m0 3v3m1-188v3m0 167v3m1-329v9m0 90v3m0 212v3m1-3v3m0 9v9m1-323v3m0 3v3m0 141v3m0 161v3m1-329v3m0 96v6m0 203v3m0 6v3m0 12v3m1-170v3m0 63v3m0 86v3m1-305v3m0 60v3m0 12v3m0 66v12m0 12v3m0 9v3m0 18v3m0 3v3m0 3v3m0 65v3m0 3v3m1-137v9m0 12v3m0 3v3m0 9v6m0 24v2m0 66v3m0 27v3m1-350v3m0 9v3m0 153v9m0 3v3m0 9v9m0 6v3m0 12v9m0 3v3m0 86v15m0 3v3m1-170v3m0 15v3m0 3v3m0 3v6m0 6v3m0 3v3m0 9v3m0 9v3m0 74v6m0 6v3m0 6v3m1-350v3m0 6v3m0 168v3m0 3v3m0 3v3m0 3v6m0 6v3m0 6v3m0 6v3m0 3v3m0 3v12m0 65v3m0 3v6m0 9v3m0 9v3m1-353v3m0 177v6m0 3v9m0 3v3m0 6v9m0 3v3m0 3v3m0 3v6m0 3v3m0 3v5m0 66v3m0 3v3m0 3v6m1-158v3m0 6v6m0 6v3m0 3v6m0 9v3m0 3v3m0 3v3m0 6v3m0 74v6m0 6v6m0 6v3m1-161v3m0 3v3m0 6v6m0 6v3m0 6v3m0 6v3m0 6v9m0 128v5m1-292v3m0 87v6m0 12v3m0 12v3m0 9v3m0 3v3m0 9v3m0 3v3m0 17v3m0 42v3m0 3v3m0 3v3m1-134v3m0 3v3m0 9v3m0 3v3m0 9v3m0 9v3m0 6v2m0 54v9m1-131v3m0 9v3m0 12v6m0 9v9m0 15v2m0 39v3m0 6v9m0 6v3m0 3v3m1-128v6m0 27v3m0 53v3m0 6v12m0 3v9m0 15v3m1-335v3m0 186v6m0 6v3m0 6v3m0 15v6m0 6v3m0 47v3m0 3v3m0 3v3m0 6v3m1-314v3m0 15v3m0 165v3m0 18v3m0 24v3m0 20v3m0 6v3m0 54v3m1-317v6m0 6v3m0 171v3m0 24v3m0 9v3m0 3v3m0 6v2m0 36v12m0 15v3m0 24v3m1-341v3m0 9v3m0 102v3m0 69v3m0 54v2m1-245v3m0 210v3m0 50v3m0 9v3m0 3v3m0 3v3m0 3v3m0 3v3m1-314v6m0 117v3m0 218v6m1-224v3m0 99v3m0 12v3m0 32v3m1-272v3m0 3v3m0 117v3m0 114v2m2-248v3m0 129v3m1-135v3m0 3v3m0 129v6m0 90v3m0 9v2m1-254v3m0 9v3m0 132v3m0 69v3m1-222v3m2 0v3m1 0v3m0 144v3m2-153v3m0 3v3m0 234v3m1-234v3m1-18v3m0 9v3m1 129v6m1-138v3m1-15v3m0 9v6m0 120v3m1-135v3m1-9v3m0 3v3m2 87v3m1-96v3m1 0v3m1 117v3m5-117v3m0 96v3m5 75v3m1-78v3m2 102v3m1 0v3m2-48v3m0 6v3m0 12v3m0 3v3m3-51v3m0 9v6m0 3v6m0 3v3m0 9v3m1-72v3m2 15v3m0 6v3m16 220v11m1-11v11m1-11v11m1-11v11m1-249v6m0 188v15m1-209v6m0 232v11m1-11v11m1-11v11m1-246v3m0 185v3m0 44v11m1-249v3m0 235v11m1-234v6m0 3v3m0 164v3m0 44v11m1-246v3m0 9v12m0 164v3m0 44v11m1-249v3m0 3v3m0 9v9m0 164v3m0 44v11"/><path stroke="#00ffcc" stroke-width="1" d="M102.5 366v3m1-6v6m0 3v3m1-9v6m1 27v3m1-30v6m0 9v3m0 9v3m6-149v3m1-66v3m0 12v3m0 12v3m0 3v3m0 9v3m0 9v3m1-66v3m0 15v6m0 6v3m0 3v3m0 6v3m1-96v3m0 15v9m0 9v3m1-96v6m0 15v3m0 30v3m0 6v6m0 6v3m0 15v3m1-108v3m0 3v3m0 42v3m0 3v3m0 18v3m0 21v3m0 6v3m1-51v3m0 9v3m0 3v3m0 3v3m0 6v3m0 146v3m1-197v3m0 9v3m0 3v9m0 3v3m0 6v3m0 6v3m0 120v3m0 32v6m0 9v3m1-194v3m0 3v6m0 126v3m0 6v3m0 3v2m0 12v3m0 12v12m0 3v3m1-27v3m0 6v3m0 3v3m0 18v6m0 3v3m1-197v3m0 167v15m1-185v3m0 3v3m0 158v6m1-158v3m0 96v3m0 59v3m0 3v6m0 6v6m1-30v3m0 9v9m0 12v3m1-164v3m0 3v3m0 63v3m0 59v12m1-131v6m0 18v3m0 92v18m1-119v3m0 6v6m0 33v3m0 3v2m0 45v6m0 3v3m0 12v3m1-134v3m0 6v3m0 18v3m0 3v3m0 18v3m0 53v3m0 9v3m1-146v3m0 36v3m0 15v3m0 65v3m0 9v3m1-77v6m0 53v3m0 6v9m1-104v6m0 12v6m0 68v3m0 3v3m1-125v3m0 9v3m0 6v6m0 9v3m0 12v6m0 53v6m0 12v3m1-101v6m0 3v3m0 6v3m0 6v3m0 53v3m0 9v6m1-224v6m0 9v6m0 24v3m0 30v3m0 3v3m0 3v3m0 12v3m0 12v3m0 9v6m0 68v3m0 3v6m1-221v3m0 18v9m0 6v6m0 12v3m0 9v3m0 9v6m0 27v3m0 3v3m0 6v6m0 9v3m0 3v6m0 47v6m0 9v3m0 6v6m1-209v3m0 6v3m0 3v3m0 21v3m0 6v3m0 57v3m0 47v3m0 21v6m0 3v6m1-179v3m0 3v3m0 143v3m0 9v9m0 3v3m1-48v3m0 9v9m0 6v6m0 6v3m1-33v3m0 6v3m0 6v3m1-30v18m7-278v3m1-3v3m5 0v3m2 0v3m0 81v3m1-3v9m1 3v3m1 3v6m1 3v3m1-3v3m0 3v3m0 27v3m1-21v3m0 3v6m0 36v3m1-48v3m0 9v3m0 9v3m0 3v6m0 9v3m0 3v3m0 12v3m0 9v3m0 18v3m1-84v3m0 6v3m3-147v3m0 132v3m0 15v3m0 6v9m0 24v3m0 3v6m5-201v3m3 213v3m1-69v12m2-54v3m1 21v3m3-144v3m0 111v3m0 21v3m1-39v3m1-105v3m0 108v3m0 6v3m0 33v3m0 21v3m1-45v3m0 6v3m1-150v3m0 87v3m0 21v3m0 3v3m0 6v3m0 6v3m0 30v3m1-192v3m0 126v3m0 18v6m0 9v3m1-18v3m0 27v3m0 3v3m1-183v3m0 6v3m0 120v6m0 15v3m1-21v3m0 24v3m0 72v3m1-48v6m1-6v6m5-6v3m1-6v3m1 0v3m1 0v3m1-6v3m1-6v9m1-9v3m2 3v3m1-6v3m1 0v3m2-3v3m1-6v3m2 0v3m2-6v3m1-3v3m1 0v3m2-6v3m1-3v3m1 0v3m2 178v11m1-198v6m1-6v6m2 0v3m1-9v3m1 0v6m1-6v3m1-3v6m1-6v6m2-6v6m2-9v3m0 3v3m2-3v3m1-6v3m0 181v11m2-192v3m2 178v11m2-195v6m0 178v11m6-11v11m3-192v3m2-6v3m2-3v3m1 0v3m1-6v3m1 0v3m1-6v3m1 181v11m1-11v11m1-225v3m0 27v3m0 181v11m1-192v3m2-6v3m1-3v3m1-3v3m0 181v11m1-189v3m1-9v3m1 181v11m0 31v10m1-239v3m0 184v11m0 31v10m3-236v3m1-3v3m1-3v6m1-6v3m1 3v3m0 175v11m0 31v10m1-236v3m0 181v11m1-198v3m1-3v3m0 184v11m1-11v11m1-11v11m1-133v3m2-56v3m0 125v3m0 44v11m1-109v3m167 18v3m0 36v3m4-131v3m1-219v3m0 21v3m1-15v3m1-9v3m0 15v3m0 3v9m0 6v3m0 168v3m0 3v3m0 3v3m1-210v3m0 15v6m1-45v6m0 9v3m0 3v3m0 213v3m1-240v6m0 18v3m0 192v3m0 9v3m1-24v3m1-18v3m1-141v3m1 141v3m1-12v3m1 0v3m0 12v3m2-165v3m0 150v3m0 9v3m1-33v3m1 21v3m1-168v3m0 171v3m1-36v3m1 0v3m0 9v3m1-27v6m1 0v3m0 3v9m0 3v6m2-150v3m0 123v3m0 9v3m1-18v9m0 12v3m2-147v3m1-12v3m0 156v3m1-24v3m0 9v3m0 9v3m1-162v3m0 117v3m1-123v3m2-51v3m0 189v6m1-27v6m0 6v3m2-132v3m0 117v3m1 0v9m0 3v3m0 3v3m0 3v3m1-159v3m0 3v3m0 123v3m0 3v3m2-9v6m0 6v3m0 6v3m1-9v3m0 9v3m1-159v3m0 129v3m0 3v3m1-24v3m0 6v9m0 3v3m1-186v3m0 6v3m0 180v3m0 3v3m1-21v6m0 6v3m0 3v3m1-27v9m0 9v3m1-6v3m0 6v3m0 119v3m1-146v3m0 3v9m1-6v6m1-144v3m1 111v3m0 9v3m2-171v3m0 183v3m0 3v3m0 3v3m1-33v3m0 3v3m1-6v3m0 3v9m1-12v3m0 12v3m1-21v3m0 3v3m1-3v3m1-150v3m0 3v3m0 141v3m0 6v6m0 3v3m1-63v3m0 9v3m1-105v3m1 117v3m1 3v3m2-138v3m0 141v3m1-144v3m0 123v3m0 18v3m1-153v3m0 132v6m1-189v6m0 189v3m1 0v3m1-153v3m1 135v3m0 9v3m1-15v6m1-186v3m0 30v6m0 141v3m0 9v3m1-174v3m0 159v3m1-12v3m0 9v3m0 3v3m1-162v3m0 144v3m0 3v3m1-180v3m0 189v6m1-171v3m1-45v3m1 36v3m0 141v3m0 6v3m1-165v3m0 150v3m2 3v3m1-162v3m1 3v3m1 138v3m0 3v3m0 3v3m1-174v3m0 3v3m0 171v3m1-24v3m1-153v3m1-30v9m0 18v3m0 171v3m2-183v9m0 168v3m0 3v3m1-183v3m2-3v9m0 153v3m1-189v6m0 9v3m0 168v3m0 3v3m1-162v3m2-6v3m1 150v3m0 3v3m0 9v3m1-192v3m0 9v3m0 162v3m0 113v3m0 12v3m1-293v3m1-30v3m0 27v6m0 156v3m1-198v3m0 21v3m0 150v3m0 6v3m1-12v6m0 3v3m2-177v6m0 192v3m0 3v6m1-186v3m1-3v3m0 141v3m0 3v6m1-192v3m0 33v3m0 141v9m1-159v3m1 6v3m0 120v3m0 12v3m1-12v6m0 3v3m2-150v3m0 147v3m1-183v9m0 165v6m0 3v6m0 3v3m3-195v3m0 12v12m0 162v6m1-162v3m1-30v3m0 15v3m0 159v6m1-18v6m1-9v3m1-3v6m1-150v3m0 3v3m0 117v3m1-156v3m0 6v3m0 9v3m0 9v3m0 153v3m0 128v3m0 3v3m1-329v3m0 159v3m0 152v3m1-311v3m0 3v3m0 12v3m0 281v3m1-308v3m0 147v3m0 152v6m1 0v9m0 6v3m1-305v3m0 266v12m1-155v3m0 149v3m1-158v3m0 12v3m0 75v3m0 59v3m0 3v3m1-12v3m1 6v6m0 6v3m1-329v3m0 9v3m0 15v3m0 123v6m0 155v6m1-287v3m0 269v3m0 9v3m1-314v3m0 3v3m0 6v3m0 111v6m0 6v3m0 3v6m0 78v3m1-237v6m0 302v3m1-15v3m0 3v3m1-302v3m0 3v3m0 290v3m0 3v6m1-320v3m0 24v3m0 99v3m0 102v3m0 77v3m1-12v3m0 3v6m1-6v3m0 3v3m1-188v3m0 96v3m0 71v3m0 3v3m1-3v3m0 6v6m0 3v3m1-30v3m0 3v9m1-275v3m0 263v6m0 3v3m1-12v3m0 3v12m1-320v3m0 213v3m0 77v3m0 3v3m1-281v3m0 272v6m0 3v3m1-173v3m0 155v6m0 3v3m1-3v9m0 6v3m1-326v3m0 30v3m0 99v3m0 75v3m0 83v6m0 6v3m1-101v3m0 89v6m1-18v6m0 6v9m1-104v3m1 83v3m0 9v3m1-104v3m0 89v3m1-260v3m0 266v3m0 6v6m1-191v3m0 164v6m1-257v3m0 266v3m1-278v3m0 251v3m0 3v3m0 3v3m0 6v3m1-21v9m1-257v3m0 144v3m0 18v3m0 86v9m1-119v3m0 116v3m0 6v3m1-27v15m1-122v3m0 101v3m0 3v6m0 3v3m1-15v3m0 6v3m1-260v3m0 183v3m0 50v9m1-257v3m0 84v3m0 57v3m0 107v6m1-269v6m0 147v3m1-3v3m0 110v6m1-188v3m0 66v3m0 110v9m1-119v3m0 104v6m1-3v9m1-15v3m1-188v3m0 72v3m0 122v3m0 6v3m0 3v3m1-146v3m0 110v3m0 3v9m1-266v3m0 254v3m1-254v3m0 75v3m0 51v3m1-144v3m0 257v3m0 3v6m0 6v3m1-272v3m0 245v9m1-260v3m1 129v3m0 21v3m0 89v3m0 3v9m1-9v3m1-254v3m0 126v3m0 119v3m0 6v3m2-3v15m1-30v15m1-323v3m0 42v3m0 141v3m0 119v12m1-134v3m0 122v3m0 6v3m1-137v3m0 119v6m2-281v3m0 99v3m0 167v3m0 3v3m0 9v3m1-12v3m1-290v3m0 287v3m0 3v3m1-143v3m0 128v3m1-182v3m0 45v3m0 131v3m1-323v3m0 305v6m1-128v3m0 110v3m0 9v3m0 3v3m1-287v3m0 272v9m1-134v3m0 122v3m1 0v3m0 3v3m0 3v6m1-146v3m0 125v3m1-9v6m1-3v6m0 18v3m1-33v3m0 6v6m1-137v3m0 134v3m1-281v3m0 263v3m0 6v3m0 3v6m1-12v3m0 6v3m1-146v3m0 131v3m0 3v3m0 6v3m1-299v3m0 102v3m1-99v3m0 275v3m0 3v6m0 3v3m0 3v3m1-27v3m0 3v3m0 3v3m1-287v3m0 266v6m0 6v3m1-197v3m0 185v3m1-24v6m0 6v3m1-245v6m0 102v3m0 134v9m1-272v3m0 257v3m0 15v3m1-293v3m0 132v3m0 131v6m0 3v3m1-284v3m0 284v3m1-152v3m0 137v3m0 6v6m1-18v3m0 3v3m1-12v3m0 3v3m0 6v3m0 3v3m1-12v3m1-284v3m0 275v3m0 3v3m1-326v3m0 168v3m0 140v12m0 3v3m1-287v3m0 123v3m0 149v3m0 3v3m1-18v6m0 6v3m0 3v3m1-3v9m1-24v3m0 6v3m0 3v3m1 0v6m1-299v3m0 278v3m0 3v3m1-9v3m0 9v3m1-293v3m0 6v3m0 257v3m0 3v3m0 9v3m1-167v3m0 149v6m0 3v3m0 6v6m1-302v3m0 123v3m0 146v9m0 3v3m0 12v3m1-347v3m0 323v3m1 3v3m1-278v3m0 15v3m0 233v3m1-185v3m1 191v6m1-203v3m0 206v3m1-311v3m0 96v3m0 194v3m0 6v6m1-15v3m0 6v6m0 3v3m0 3v3m1-305v3m0 275v3m1-161v3m0 158v9m1-9v3m0 3v15m0 3v3m1-188v3m0 152v6m0 3v12m1-293v3m0 114v3m0 146v3m1 15v3m0 6v3m1-36v9m0 3v3m1-158v3m0 149v3m0 3v6m0 3v3m1-3v6m1-278v3m0 248v3m0 3v3m1 0v3m0 3v3m1-9v9m1-251v3m0 45v3m0 209v3m1-281v3m0 3v3m0 248v3m0 3v3m0 24v3m1-311v3m0 275v6m0 3v6m1 3v6m1-296v3m0 269v3m0 3v6m0 3v6m0 3v6m1-24v3m0 3v3m0 6v3m1-224v3m0 212v6m0 6v6m1-27v12m0 12v3m1-27v6m0 3v6m1-299v3m0 75v3m0 197v3m0 6v3m0 12v3m0 3v3m1-27v6m1-18v3m0 3v6m0 6v6m1-284v3m0 248v3m0 12v6m0 3v6m1-281v3m0 263v3m1-272v3m0 263v3m0 9v3m0 3v3m1-9v6m0 12v3m1-30v6m0 3v3m1-15v3m0 18v6m0 3v3m1-27v3m0 3v6m1-218v3m0 200v3m0 3v3m0 21v3m1-36v6m0 3v3m1-3v6m1-15v3m0 9v3m0 45v5m1-346v3m0 311v3m1-39v9m0 3v3m0 3v3m1-9v3m0 3v6m0 3v3m0 6v3m1-299v3m0 254v3m0 3v3m0 6v3m0 18v6m1-30v3m0 3v6m0 12v6m1-48v9m0 9v6m0 6v6m0 36v5m1-77v3m0 24v9m0 3v3m0 3v3m0 24v5m1-355v3m0 84v6m0 9v3m0 185v9m0 3v3m0 45v5m1-86v6m0 6v3m0 33v3m1-36v9m0 3v6m0 3v3m1 0v3m0 12v3m1-284v3m1 254v6m0 18v3m1-242v3m0 212v3m0 9v6m0 33v5m1-322v3m0 257v9m1-218v3m0 200v3m0 3v3m0 3v3m0 3v3m0 6v3m0 6v3m1-353v3m0 332v3m1-308v3m0 308v3m0 3v3m1-305v3m0 60v3m0 266v5m1-343v3m0 66v3m1-66v3m0 66v3m0 218v6m0 6v6m1-30v3m0 15v3m1-323v6m0 6v3m0 296v6m1-3v6m0 9v3m1-320v3m0 3v3m0 284v6m0 3v3m0 3v6m1-347v3m0 108v3m0 218v3m0 42v5m1-274v3m0 212v3m0 9v9m0 3v3m0 27v5m1-5v5m1-38v6m0 27v5m1-382v3m0 108v3m0 206v3m0 9v3m0 3v6m0 3v3m1-350v6m0 105v3m0 12v3m0 194v3m0 51v5m1-379v6m0 24v6m0 293v9m0 36v5m1-355v6m0 290v3m0 3v9m1-299v3m0 9v6m0 51v3m0 221v9m0 9v3m1-320v3m0 27v6m1 9v3m0 27v3m0 212v6m2-242v3m0 18v3m0 218v3m0 3v9m1-260v3m0 24v3m0 218v6m1-251v3m0 239v3m0 3v3m1-338v3m0 75v3m0 27v3m0 233v9m1-266v3m0 248v3m0 3v3m0 3v3m1-269v3m0 248v3m0 6v3m0 3v3m0 24v5m1-325v6m0 27v3m0 248v9m1-329v3m0 317v3m1-3v6m1-260v3m1-21v3m0 9v3m0 251v3m0 3v3m0 33v5m1-274v3m0 227v3m0 3v3m0 3v3m1-33v3m1-260v3m0 3v3m0 3v3m0 36v3m0 230v3m1-21v3m0 18v3m1-242v3m0 221v3m0 3v3m1-278v3m0 39v3m0 215v3m0 12v6m1-275v3m0 12v3m0 18v3m0 176v6m0 3v3m1-296v3m0 66v3m0 9v6m0 75v9m0 203v5m1-5v5m1-89v15m0 15v3m0 51v5m1-337v3m0 6v3m0 111v3m0 158v3m0 45v5m1-382v6m0 15v3m0 311v12m1-305v3m0 290v3m0 3v3m0 6v3m1-353v3m0 36v3m0 290v9m1-308v6m0 278v3m0 3v6m0 3v12m0 6v3m1-323v3m1 305v3m1-233v3m1-111v3m0 12v3m0 305v3m0 9v3m0 3v3m0 3v6m1-239v3m0 224v6m1-332v3m0 3v3m0 311v3m0 3v3m0 3v3m1-350v6m0 6v3m0 93v9m0 224v6m2-332v6m0 6v3m0 81v3m0 224v6m1-335v6m0 6v3m0 87v6m0 227v3m1-335v3m0 9v3m0 317v3m1-15v3m1-326v3m1 6v6m0 323v3m1-335v3m0 90v9m0 230v3m2-332v3m0 320v3m1-338v3m0 102v3m0 212v6m0 9v9m1-350v3m0 165v3m0 158v6m0 12v3m1-347v3m0 9v3m0 323v12m1-350v3m0 15v3m0 3v3m0 302v6m0 9v3m1-332v9m0 78v3m0 224v3m0 3v6m0 3v3m1-335v3m0 6v3m0 144v3m0 15v6m0 45v3m0 101v6m1-335v3m0 6v3m0 144v9m0 12v9m0 15v3m0 9v6m0 9v6m0 83v3m0 6v3m0 3v3m1-332v3m0 168v3m0 27v6m0 9v3m0 6v3m0 3v5m0 87v3m0 3v3m1-347v6m0 180v6m0 3v3m0 12v3m0 12v3m0 3v3m0 15v2m0 81v3m0 6v3m0 3v3m1-338v3m0 153v9m0 9v3m0 12v3m0 9v3m0 6v3m0 92v3m0 6v6m0 6v3m1-338v6m0 174v3m0 15v6m0 15v3m0 3v3m0 6v3m0 3v3m0 80v3m0 6v3m1-170v3m0 3v3m0 3v6m0 6v6m0 12v9m0 3v3m0 3v3m0 6v3m0 6v3m0 62v3m0 9v6m0 6v3m1-164v3m0 9v3m0 6v3m0 6v3m0 6v6m0 3v6m0 6v3m0 12v2m0 87v3m1-251v3m0 114v3m0 3v6m0 6v3m0 3v3m0 3v3m0 3v3m0 50v15m0 9v3m0 3v3m1-149v3m0 18v9m0 3v3m0 3v3m0 9v3m0 3v3m0 74v12m0 18v3m1-251v3m0 87v9m0 3v3m0 15v3m0 3v3m0 9v3m0 3v9m0 59v6m0 3v3m0 9v3m1-122v3m0 3v3m0 3v6m0 3v6m0 6v6m0 56v3m0 9v15m0 3v6m0 3v6m1-155v3m0 15v15m0 21v2m0 6v3m0 3v12m0 3v6m0 15v3m0 6v3m0 3v3m0 6v3m1-317v3m0 177v3m0 3v3m0 21v3m0 3v3m0 3v3m0 3v12m0 11v3m0 6v15m0 12v6m0 15v3m1-140v3m0 24v6m0 6v3m0 9v3m0 3v3m0 3v6m0 35v3m0 18v3m0 12v6m0 12v3m1-140v3m0 3v3m0 3v3m0 6v3m0 6v3m0 3v6m0 3v3m0 44v3m1-296v3m0 114v3m0 72v3m0 9v3m0 3v3m0 3v3m0 3v3m0 15v6m0 3v2m0 9v12m0 3v3m0 27v3m0 9v3m0 3v6m1-323v6m0 174v3m0 12v3m0 9v6m0 12v3m0 6v11m0 18v6m1-56v6m0 12v3m0 3v8m0 27v3m0 27v3m0 27v3m1-212v3m0 6v3m0 3v3m0 84v3m0 3v6m0 3v3m1-39v3m0 3v3m0 24v3m1-246v3m0 9v3m0 201v3m0 12v3m0 3v3m0 6v3m0 11v3m1-263v3m0 225v3m0 15v3m1-249v3m0 150v3m0 57v3m0 9v6m0 3v12m0 3v2m1-32v6m0 12v3m0 9v2m1-251v3m0 141v3m0 81v9m0 6v3m1-240v3m0 207v3m1-219v3m0 219v3m0 6v3m0 9v6m1-15v6m0 9v2m1-11v3m0 6v2m1-233v3m1-18v3m1-3v3m0 234v3m0 3v3m1-246v6m0 132v3m0 102v3m1-246v3m1 123v3m1-12v3m1-114v3m0 96v3m3-114v6m0 3v3m2 117v3m2-132v3m0 126v3m2-129v6m5 207v3m3 6v3m0 3v9m1-15v3m0 6v3m3-237v3m2 165v3m0 6v3m0 15v3m14-192v3m1-3v3m4 81v3m0 15v3m2 36v3m1 200v3m1-18v3m5-191v48m0 3v3m1-54v3m0 3v6m0 6v3m0 3v30m1-48v6m0 12v6m0 12v15m1-57v3m0 3v9m0 9v6m0 12v12"/><path stroke="#00ffb6" stroke-width="1" d="M102.5 375v3m2-15v3m1-3v3m0 6v3m1 15v3m1-18v3m0 12v3m4-140v3m1 0v6m1-45v3m0 9v6m0 6v3m0 9v3m1-99v3m0 36v3m0 3v3m0 6v3m0 30v3m1-18v3m1-93v3m0 9v3m0 6v3m0 3v3m0 18v3m0 122v3m0 21v3m1-188v3m0 138v3m0 29v3m0 12v3m1-203v3m0 18v3m0 6v3m0 117v6m0 23v3m0 6v9m1-188v3m0 3v3m0 132v3m0 9v5m0 6v3m0 9v3m0 6v3m0 9v6m1-206v6m0 12v6m0 176v3m0 6v3m0 3v6m0 3v3m1-215v6m0 3v3m0 167v3m0 9v3m0 3v6m1-194v3m0 3v3m0 194v3m0 3v3m1-194v3m0 170v15m1-191v3m0 12v3m0 6v3m0 146v3m0 9v3m0 6v3m0 3v6m1-182v3m0 3v3m0 3v3m0 69v3m0 74v12m0 3v3m1-152v3m0 128v9m1-149v3m0 36v3m0 21v3m0 80v6m0 3v3m0 3v3m1-134v3m0 12v3m0 6v3m0 77v3m0 3v6m0 9v3m1-116v3m0 18v6m0 71v6m0 9v3m1-104v3m0 6v3m0 68v6m0 3v3m0 3v6m0 3v3m1-30v3m0 9v9m0 6v3m0 3v3m1-33v3m0 3v9m0 15v3m1-110v3m0 12v3m0 59v9m0 6v3m1-21v3m0 3v3m0 9v3m0 3v6m0 12v3m1-221v3m0 30v3m0 6v3m0 3v3m0 9v3m0 3v6m0 21v3m0 18v3m0 59v3m0 6v3m1-221v3m0 45v3m0 39v3m0 6v3m0 9v3m0 6v3m0 6v6m0 6v3m0 65v3m0 6v3m0 6v3m0 3v6m1-233v3m0 12v3m0 6v3m0 9v3m0 3v3m0 3v3m0 3v6m0 3v6m0 24v3m0 3v3m0 21v3m0 3v6m0 65v3m0 12v12m0 9v3m1-224v6m0 36v6m0 3v3m0 3v3m0 6v3m0 6v3m0 3v3m0 92v3m0 9v3m0 3v9m0 3v6m0 3v3m1-63v3m0 24v3m0 3v3m0 3v3m0 3v3m1-45v6m0 21v3m0 3v3m0 9v3m0 6v3m1-48v3m0 3v3m0 9v3m0 6v3m1-45v3m1-3v3m0 9v3m0 18v3m1-39v3m9-266v3m4-3v3m1-3v6m0 99v6m0 6v9m1-9v3m1-120v3m0 3v3m0 111v3m0 3v3m0 9v3m1-138v3m0 114v3m0 3v3m0 3v3m1-132v3m0 12v3m0 126v3m0 3v3m0 9v3m0 6v3m0 3v3m0 6v3m0 3v3m0 24v3m0 15v3m1-108v3m0 54v6m0 9v6m0 9v3m0 3v3m0 3v3m1-213v3m0 108v6m0 12v3m0 3v3m0 18v3m0 3v9m1-87v3m1-3v3m1 51v3m0 30v3m0 45v3m6 20v3m0 12v3m2-260v3m1 147v3m2-159v3m2 299v3m1-161v3m1-3v3m1-3v3m2-156v3m0 3v3m0 123v3m1-138v6m1-6v3m1-6v3m0 3v3m1-3v6m0 141v3m4 39v6m1-6v6m0 178v11m2-192v3m1-3v3m1-6v3m1 0v3m0 178v11m1-11v11m1-192v3m0 178v11m1-11v11m1-195v6m0 178v11m1-192v3m2-3v3m0 178v11m1-11v11m1-195v3m0 181v11m1-11v11m1-11v11m1-192v3m1-6v3m0 181v11m1-195v6m0 178v11m1-192v3m0 178v11m1-192v3m0 178v11m1-189v3m0 175v11m1-189v3m0 175v11m1-192v3m0 178v11m1-11v11m1-11v11m1-192v3m0 178v11m1-192v3m1 178v11m1-192v3m0 178v11m1-11v11m1-11v11m1-11v11m1-11v11m1-11v11m1-11v11m1-11v11m1-192v3m2 178v11m1-11v11m1-195v6m0 178v11m2-192v3m1-3v3m0 178v11m1-189v3m0 175v11m1-11v11m1-192v3m1-6v3m0 181v11m1-189v3m1-6v3m0 178v11m1-192v3m0 178v11m1-192v3m0 178v11m1-195v3m0 181v11m1-192v6m0 175v11m1-192v3m1-3v3m0 178v11m1-195v3m0 181v11m1-189v3m0 175v11m1-192v3m1-3v3m1-3v3m1-3v3m0 178v11m1-11v11m1-192v3m1 178v11m1-11v11m1-192v3m1-3v3m1-3v3m1 178v11m1-195v6m0 178v11m1-192v3m0 178v11m4-192v6m0 217v10m2-233v3m1-3v3m2 0v3m3-6v3m2-3v3m0 220v10m1-233v3m0 178v11m1-192v3m0 143v3m2-140v3m0 89v3m0 12v3m1-110v3m0 169v11m1-183v3m0 50v3m0 116v11m1-118v3m1-68v3m0 92v3m0 15v3m0 24v3m0 29v11m1-183v3m0 122v3m0 44v11m162-147v3m2-3v3m2 71v3m3-101v3m0 3v3m0 3v6m1-30v3m0 6v6m1-192v3m0 192v6m0 3v3m1-216v3m1 15v3m1-45v6m0 27v3m1-9v3m1-12v3m0 15v3m0 198v3m1-201v6m0 168v6m0 6v3m1-39v3m1-141v3m0 192v3m1-36v6m1-168v3m0 144v3m1-150v3m0 144v6m1 12v6m0 3v3m0 6v3m1-12v3m1-174v3m3 123v3m0 9v6m1-15v3m0 6v6m3-30v3m1 24v3m0 9v3m1-156v3m0 135v3m1-135v3m0 93v3m0 6v3m2-168v3m0 3v3m0 198v3m0 3v3m1-174v6m0 141v3m0 9v3m1-33v3m0 18v12m1-6v3m0 9v3m2-210v3m0 192v9m1-156v3m0 132v6m2-12v9m1-3v3m1-3v3m0 3v3m0 80v3m1-95v3m0 6v3m1-147v3m0 132v6m0 6v3m1-156v3m0 168v3m1-39v3m0 3v3m1-3v3m1 18v3m0 95v3m0 9v3m3-3v3m0 9v3m0 9v3m1-308v3m0 147v3m1-168v3m0 162v3m1-141v3m0 135v3m0 3v3m1-24v9m0 6v3m1-138v3m0 126v18m0 125v3m2-131v6m0 3v3m1-21v3m0 9v3m0 6v6m1-18v3m0 9v3m1-24v3m0 3v3m1-12v3m1-147v3m0 171v3m1-63v3m0 3v3m0 12v3m2-126v6m1 132v6m1-141v3m0 126v3m1 0v9m0 3v6m1-21v6m1 12v3m1-192v3m0 30v6m0 135v3m0 3v3m1-153v6m0 150v3m0 3v3m1-27v3m1-177v3m1 174v3m1-3v3m0 9v3m1-159v3m0 159v3m0 3v3m1-171v3m0 138v3m0 3v9m0 3v3m1-174v3m1-24v3m0 12v3m0 180v3m1-171v3m1 6v3m0 147v6m1-198v3m0 168v3m0 12v3m1-153v3m0 150v3m1-12v3m1-150v3m0 141v3m0 3v3m0 9v3m0 3v3m1-12v6m1-12v6m0 89v3m1-284v3m0 15v3m0 6v3m0 150v3m0 3v3m0 3v3m0 3v6m1-198v6m0 192v3m0 6v3m1-180v3m0 147v3m1-189v3m0 174v3m0 3v3m0 3v3m0 6v3m1-183v3m0 183v3m1-171v3m1-39v3m0 15v3m0 174v3m0 9v6m1-30v3m2-186v3m0 3v3m0 189v3m1-192v6m0 9v3m0 168v3m0 3v6m0 107v3m0 3v3m1-323v3m0 36v3m0 144v3m0 119v3m0 3v3m1-290v3m0 147v3m1-171v6m0 9v3m0 162v3m0 12v3m1-195v3m0 183v3m0 116v3m1-311v3m0 3v6m0 171v3m0 6v6m0 101v6m0 3v3m0 3v3m1-323v3m0 27v3m0 141v3m0 15v3m1-186v3m0 12v6m0 144v3m0 6v6m1-171v3m0 3v3m0 150v3m0 9v3m1-165v6m0 156v6m1-195v6m0 24v3m0 153v3m1-183v3m0 234v3m1-219v3m0 138v6m1-177v3m0 27v3m0 159v3m1-192v3m0 24v3m0 156v3m0 6v3m1-201v6m0 6v3m0 18v3m0 144v3m1-18v6m1-60v3m0 75v3m1-153v3m1-42v3m0 6v3m0 15v3m0 153v3m0 6v6m1-171v3m0 150v3m0 12v3m0 3v3m3-3v6m2-27v3m0 9v6m1-168v3m0 138v3m1-159v3m0 6v9m1-21v3m0 6v3m0 3v3m0 147v3m0 9v3m1-189v3m0 18v3m0 3v3m0 123v3m0 3v3m0 9v6m1-177v3m0 6v3m0 3v3m0 3v6m0 138v6m0 3v3m0 149v3m1-12v3m1-311v3m0 159v6m0 18v3m0 122v6m1-302v6m0 135v3m0 149v3m0 3v3m1-293v3m0 120v3m0 3v9m0 155v3m0 6v3m0 6v3m1-194v6m0 3v3m1-165v3m0 18v6m0 132v12m0 143v6m1-302v3m0 6v3m0 126v3m0 146v3m0 3v3m0 3v3m1-287v3m0 272v6m0 3v3m1-77v3m0 74v3m0 6v6m1-314v9m0 123v3m1-6v3m0 170v3m1-326v3m0 9v3m0 6v3m0 3v3m0 114v3m0 18v6m0 3v3m0 140v6m1-299v3m0 126v3m0 81v3m0 77v3m0 3v3m1-293v3m0 114v3m0 84v3m0 71v3m0 3v3m1-317v3m0 15v3m0 3v6m0 126v3m0 158v12m0 6v3m1-209v3m0 15v3m0 158v3m0 3v3m1-158v3m0 152v6m1-326v6m0 138v3m0 176v3m1-281v3m0 272v6m0 3v3m1-200v6m0 93v3m0 86v3m0 6v3m0 9v3m1-332v3m0 21v3m0 111v3m0 167v3m1-95v3m0 95v3m1-302v3m0 9v3m0 183v3m1-216v3m0 15v3m0 275v3m0 12v3m1-6v3m0 3v3m1-284v3m0 174v3m0 92v9m1-326v3m0 6v3m0 3v3m0 15v3m0 117v3m0 170v3m0 3v3m1-323v3m0 27v3m0 266v3m0 9v3m1-275v3m0 263v3m1-263v3m0 260v3m1-176v3m0 158v15m1-320v3m0 207v3m0 101v3m1-281v3m0 105v3m0 158v9m0 3v6m1-3v3m1-278v3m0 3v3m0 260v6m1-197v3m0 191v6m1-326v3m0 132v3m0 69v3m0 98v3m0 12v3m1-9v6m1-266v3m0 3v3m1 81v3m0 179v6m1-200v3m1 182v3m1-260v3m0 78v3m0 176v6m1-128v3m0 110v3m1 3v6m1-6v9m1-275v3m0 84v3m0 54v3m0 119v3m1 0v9m1-15v3m0 3v3m0 6v6m0 3v3m1-293v3m0 90v3m0 176v6m1-275v3m0 254v3m0 3v12m0 12v3m1-149v3m1-144v3m0 254v3m1-173v3m0 173v3m0 3v3m1-15v6m0 3v6m1-185v3m0 185v3m1-12v6m1-134v3m0 131v3m0 3v3m1-281v3m1 0v3m0 257v3m0 3v6m1-9v3m0 3v6m1-9v3m0 3v3m1-281v3m0 135v3m0 128v3m1-266v3m0 129v3m0 131v3m0 9v6m0 3v3m1-314v3m0 3v3m0 281v3m1-188v3m0 188v3m1-15v3m1 0v6m1-140v3m0 128v6m0 6v3m1-146v3m0 125v3m0 3v3m1-296v3m0 293v3m1-6v3m1 0v6m1-3v3m1-9v6m1-188v3m0 176v6m1-188v3m0 173v3m0 6v3m1-320v3m0 21v3m0 290v3m1-188v3m0 170v3m0 3v6m1-287v6m0 275v3m0 9v3m1-149v3m0 131v6m0 3v6m1-21v3m0 6v3m1-281v3m0 93v3m0 185v6m1-149v3m0 143v6m1-197v3m0 179v6m2-146v3m0 140v6m1-194v3m0 42v3m0 152v3m1-203v3m0 42v3m0 146v3m1-152v3m1-144v6m0 275v3m0 3v6m1-278v3m0 251v6m0 3v3m0 3v3m0 9v3m1-278v3m0 263v6m1-15v3m0 6v3m0 6v6m0 3v3m1-30v3m0 3v3m0 3v3m1-296v3m0 138v3m0 143v3m1-278v3m0 281v6m2-299v3m0 287v3m0 6v3m1-293v3m0 281v3m1-161v3m0 152v12m1-302v3m0 287v3m1-3v3m1-158v3m0 146v3m0 6v3m0 3v3m0 6v3m1-308v3m1-9v3m0 293v3m0 3v3m0 3v3m1-302v3m0 296v6m1-21v3m0 3v3m0 9v3m1-179v3m1-129v3m0 272v3m0 3v3m0 3v3m1-203v3m0 200v3m0 9v3m1-21v3m0 6v3m0 3v3m0 3v3m1-221v3m0 188v3m0 9v9m1-6v3m1-24v3m0 3v3m0 9v3m1-6v9m1-209v3m0 197v6m1-287v3m0 290v3m1-344v3m0 9v3m0 3v6m0 141v3m0 173v3m1-179v3m0 161v3m0 6v3m0 3v3m1-182v3m0 158v3m0 3v3m1-290v3m0 287v3m2-290v3m0 275v3m0 12v3m1-27v9m0 3v3m0 15v6m1-353v3m0 132v3m0 191v3m0 3v6m1-24v3m0 9v3m1-3v3m1 6v3m1-284v3m0 254v3m0 3v3m0 6v6m1-257v3m0 48v3m0 197v9m1-212v3m0 200v6m1-284v3m0 287v6m1-293v3m0 15v3m0 51v3m0 200v3m0 3v3m0 3v3m1-218v3m0 33v3m0 161v3m0 6v9m1 6v3m1-230v3m0 206v3m0 6v3m1-9v6m2-3v3m0 3v6m1-9v12m1-191v3m0 173v6m0 3v3m1-308v3m0 75v3m0 209v6m0 39v5m1-262v3m0 203v6m0 9v3m0 3v3m1-230v3m0 215v3m0 9v3m0 24v5m1-220v3m0 161v3m1 3v3m0 3v6m1-299v6m0 111v3m0 179v3m0 3v3m0 24v5m1-265v3m0 206v3m0 12v3m0 33v5m1-334v3m0 12v3m0 57v3m0 36v3m0 170v3m0 12v3m1-18v3m1 3v3m1-9v6m0 6v3m1-18v6m0 3v3m0 33v5m1-346v3m0 90v3m0 30v3m0 155v6m0 6v12m1 33v5m1-265v6m0 200v3m0 3v3m0 3v3m0 39v5m1-349v3m0 126v3m0 164v3m0 12v3m1-24v3m0 3v3m0 3v6m0 3v3m0 30v5m1-268v3m0 209v3m0 12v3m0 33v5m1-349v3m0 78v3m0 3v3m0 191v9m0 6v3m0 9v6m0 3v3m2-350v3m0 117v3m0 36v3m0 170v3m0 3v3m1-326v3m0 93v6m1-9v3m0 206v3m0 12v6m0 3v6m1-12v6m0 3v3m0 27v5m1-310v3m0 39v3m1-75v3m0 287v6m0 3v6m1-18v3m0 3v3m0 6v3m1-236v3m0 224v3m0 3v3m1-233v3m0 3v3m0 6v3m0 30v3m0 158v3m0 3v3m0 3v6m0 6v3m1-347v3m0 117v3m0 212v9m1-344v3m0 102v3m0 9v3m1 221v3m0 3v3m1-341v3m0 27v3m0 90v3m0 206v9m1-350v3m0 27v3m0 6v3m0 66v3m0 3v3m0 3v3m0 206v3m0 6v6m1-239v3m0 266v5m1-373v3m0 6v3m0 6v3m0 87v3m0 12v6m0 6v3m0 15v3m0 173v6m0 33v5m1-38v6m1-350v3m0 12v3m0 12v3m0 78v6m0 221v3m0 6v3m0 27v5m1-376v3m0 30v3m0 72v3m0 45v3m0 173v3m0 3v9m1-305v3m0 281v3m1-290v3m0 3v3m0 66v3m1-12v3m1-108v3m0 15v3m0 12v3m0 3v3m0 60v3m0 3v3m0 218v3m1-329v3m0 96v3m0 3v3m1-117v3m0 24v3m0 81v6m1-111v3m0 27v3m0 3v3m0 3v3m0 60v3m0 3v3m0 42v3m0 173v6m0 33v5m1-358v3m0 9v3m0 9v3m0 66v6m0 221v3m0 30v5m1-322v3m0 45v3m0 3v3m0 233v3m1-21v6m0 6v3m1-290v3m0 3v3m0 6v3m0 36v3m0 48v3m0 176v9m1-275v3m0 3v3m0 39v6m0 215v9m1-12v12m1-21v3m0 6v9m0 27v5m1-322v3m0 6v3m0 12v3m0 24v9m0 12v3m0 27v3m0 212v5m1-53v9m0 3v3m0 33v5m1-301v3m0 248v3m0 12v3m1-311v3m0 39v3m0 27v3m0 224v3m0 9v3m0 24v5m1-364v3m0 30v3m0 33v3m0 24v3m0 260v5m1-295v3m0 42v3m0 203v3m0 9v3m1-245v6m0 212v3m0 3v9m1-230v3m0 224v3m0 3v3m1-299v3m0 12v3m0 6v3m0 6v3m0 30v3m0 230v3m0 27v5m1-292v3m0 15v3m1-111v3m0 114v12m0 3v6m0 206v3m1-278v3m0 90v3m1-165v3m0 105v3m0 6v6m0 39v3m0 173v3m0 3v3m1-347v3m0 39v9m0 3v6m0 3v3m0 48v3m0 3v3m0 39v3m0 182v6m1-60v3m0 3v15m0 9v3m0 6v3m1-317v3m0 54v6m0 33v3m1-6v3m1-6v6m0 194v3m0 9v3m0 3v3m0 3v12m1-293v3m0 6v3m0 45v3m0 6v6m0 42v3m0 164v6m0 6v3m1-338v3m0 6v3m0 3v3m0 84v3m0 263v5m1-349v3m0 3v3m0 66v3m0 233v3m0 30v5m1-274v6m0 15v3m0 209v6m0 30v5m1-53v3m0 12v3m0 30v5m1-367v3m0 6v3m0 135v3m0 212v5m1-358v9m0 344v5m1-370v3m0 3v3m0 141v3m0 173v3m0 6v3m1-344v6m0 96v6m0 224v3m1-341v3m0 159v3m0 182v3m0 27v5m1-220v3m1-150v3m0 99v3m0 42v3m0 182v6m0 24v5m1-220v3m1-141v3m0 81v3m0 233v6m1-335v6m0 102v3m0 215v3m0 3v3m1-332v3m0 87v3m0 236v3m1-329v3m0 3v6m0 302v9m1 0v6m0 27v5m1-379v3m0 3v3m0 3v3m0 90v3m0 6v3m0 230v3m0 24v5m1-364v6m0 353v5m1-35v3m1-338v3m0 6v3m0 84v6m0 224v3m0 36v5m1-265v6m0 212v6m1-326v12m0 81v9m0 227v3m0 30v5m1-376v6m1-12v3m0 15v3m0 150v3m0 170v3m0 30v5m1-376v9m0 93v6m0 9v3m0 209v3m0 6v3m0 3v3m0 24v5m1-376v3m0 341v3m1-353v3m0 3v9m0 186v3m0 9v3m0 33v3m0 77v3m0 3v6m0 3v3m1-335v3m0 177v3m0 51v3m0 101v3m1-179v3m0 6v3m1 21v3m0 3v3m0 119v3m0 6v6m1-176v6m0 161v9m1-176v3m0 69v3m0 92v3m0 6v3m1-179v3m0 3v6m0 24v3m0 36v3m0 77v12m0 3v3m0 3v3m1-176v3m0 6v6m0 3v3m0 3v6m0 15v3m0 107v3m1-239v6m0 69v3m0 12v9m0 3v3m0 24v6m0 6v3m0 6v6m0 80v3m0 6v6m1-329v3m0 162v3m0 18v3m0 3v3m0 9v3m0 15v3m0 92v6m0 3v3m1-164v3m0 3v3m0 18v3m0 27v3m1-60v9m0 9v3m0 3v6m0 27v3m0 3v6m0 11v3m0 12v3m0 6v6m0 15v3m0 12v3m0 6v3m0 3v9m1-146v6m0 6v9m0 3v3m0 24v2m0 12v3m0 18v12m0 9v12m0 3v3m0 3v3m1-323v3m0 102v3m0 75v6m0 3v9m0 6v6m0 6v6m0 26v3m0 6v6m0 6v6m0 42v12m0 9v3m1-164v6m0 3v3m0 18v6m0 3v6m0 3v3m0 6v3m0 11v9m0 12v3m0 3v6m0 9v6m0 3v3m1-314v3m0 3v3m0 3v3m0 174v3m0 6v3m0 9v3m0 3v3m0 9v3m0 6v3m0 9v3m0 8v3m0 51v3m0 6v3m0 12v3m1-335v3m0 198v3m0 12v12m0 3v6m0 17v3m0 18v12m0 18v3m0 9v3m1-119v9m0 15v9m0 23v3m0 6v6m0 30v3m0 6v6m0 3v3m0 6v3m1-188v3m0 57v6m0 6v6m0 18v3m1-42v3m0 15v3m0 3v6m0 3v6m0 3v5m0 51v3m1-296v3m0 195v3m0 9v12m0 18v2m1-104v3m0 57v6m0 9v3m0 6v3m0 6v6m0 80v3m1-323v3m0 141v3m0 69v3m0 6v3m0 12v3m1-249v3m0 204v3m0 6v3m0 6v3m0 3v6m0 3v3m1-234v3m0 195v3m0 6v6m0 27v2m1-29v12m0 3v6m1-237v3m0 216v6m0 6v6m0 6v2m1-26v3m0 3v3m0 6v6m1-243v3m0 228v6m1-231v3m0 3v3m0 216v3m0 12v2m1-104v3m0 78v3m0 6v6m0 3v3m1-252v3m0 9v3m0 222v3m0 6v3m1-246v3m0 234v6m0 6v2m2-242v3m0 150v3m0 78v3m3-150v6m2 12v3m0 3v3m0 48v3m8-78v3m2-6v3m1 84v3m0 33v3m2-66v6m1 78v3m1-15v6m1-45v3m0 15v3m1 0v6m0 6v3m2-222v3m1 156v3m0 27v3m10 119v6m4-320v3m5 90v3m0 21v6m0 3v3m0 264v10m1-253v3m0 240v10m1-10v10m1-65v12m0 43v10m1-10v10m1-10v10m1-10v10m1-256v3m0 182v3m0 58v10m1-247v3m0 3v9m0 3v6m0 3v3m0 3v3m0 140v3m0 58v10m1-208v3m0 3v3m0 189v10m1-253v3m0 48v3m0 189v10m1-253v3m0 51v3m0 186v10m1-202v6m0 186v10"/><path stroke="#00ff9f" stroke-width="1" d="M102.5 363v3m0 63v16m1-85v3m0 66v16m1-16v16m1-85v3m0 66v16m1-82v9m0 24v3m1-27v3m0 3v6m0 3v3m0 3v9m1-24v3m0 3v3m0 9v6m5-146v3m0 80v3m1-149v3m0 18v3m0 3v3m0 6v3m0 6v3m1-63v3m0 3v3m0 6v3m0 45v3m1 80v3m0 18v6m1-248v3m0 30v3m0 6v3m0 15v3m0 3v3m0 123v3m0 17v3m0 3v3m0 3v6m0 3v3m0 6v3m0 3v3m1-212v3m0 9v3m0 141v3m0 11v3m0 6v6m0 9v3m0 6v6m1-224v3m0 27v3m0 6v3m0 152v3m0 15v3m0 9v9m0 3v3m1-212v3m0 194v3m0 3v3m0 6v3m1-206v3m0 3v3m0 194v3m0 3v18m1-27v6m0 9v6m1-197v3m0 182v15m1-185v3m0 173v3m0 15v3m1-197v3m0 3v3m0 3v3m0 3v3m0 164v3m0 3v3m1-167v3m0 140v12m0 3v6m0 3v3m1-158v6m0 6v3m0 9v3m0 15v3m0 89v3m0 3v3m0 3v3m0 3v6m1-128v3m0 95v6m0 6v6m0 3v3m1-116v3m0 3v3m0 86v6m0 3v3m0 3v3m0 3v3m1-125v3m0 6v3m0 86v3m0 6v3m0 3v6m1-113v3m0 18v3m0 74v6m0 3v3m0 3v3m0 3v3m1-27v15m0 6v3m0 3v3m1-116v3m0 80v3m0 3v9m0 3v9m1-27v3m0 3v3m0 6v3m1-248v3m0 30v3m0 18v3m0 21v3m0 36v6m0 6v3m0 3v3m0 6v9m0 74v15m0 3v6m0 3v9m1-107v3m0 77v3m0 6v3m0 3v3m1-239v9m0 6v3m0 9v3m0 6v3m0 3v3m0 21v6m0 3v12m0 6v3m0 3v3m0 3v6m0 12v3m0 6v6m0 3v3m0 62v3m0 15v6m1-221v3m0 18v3m0 3v9m0 3v6m0 18v3m0 6v3m0 30v9m0 92v3m0 12v3m0 3v3m1-48v3m0 9v3m0 3v3m0 3v3m0 9v3m1-39v6m0 3v3m0 3v9m0 15v3m0 3v3m0 6v3m1-66v3m0 6v3m0 6v3m0 18v3m1-66v3m0 9v6m0 6v3m1-27v3m0 6v9m0 9v3m0 33v3m1-60v3m8-269v3m2 3v3m1-3v3m2 90v6m1-99v3m0 120v3m0 102v3m1-222v3m0 111v3m1-120v3m0 108v3m0 3v6m0 9v3m0 9v3m1-150v3m0 117v3m0 3v15m0 15v3m0 6v3m1-168v3m0 147v3m0 15v3m0 21v6m0 3v9m0 15v6m1-231v3m0 3v3m0 141v3m0 18v3m0 15v3m0 30v3m0 6v6m1-225v3m0 120v3m0 15v3m0 3v9m0 18v3m0 6v12m0 6v9m0 3v3m0 3v3m1-219v3m1-6v3m0 254v3m2-21v3m5 24v6m1-3v3m3-278v3m0 293v3m0 33v3m3-78v3m0 102v16m1-147v3m0 128v5m1-5v16m1-387v3m0 6v3m1 138v3m0 134v3m0 24v3m1-3v3m1-323v3m0 12v3m0 284v3m2-293v3m0 150v3m1-168v6m0 376v11m2-189v3m1-3v3m0 143v3m0 29v11m1-189v3m0 175v11m1-46v3m1-146v3m0 175v11m1-11v11m1-11v11m1-192v3m0 178v11m3-189v3m3-9v3m0 181v11m1-189v3m0 175v11m3-192v3m2-3v3m1 0v3m0 175v11m6-192v3m1 0v3m1-6v3m6-3v3m1 0v3m1-9v9m2-6v3m1 0v3m2-3v3m0 175v11m1-11v11m4-189v3m0 175v11m4-192v3m2-3v6m3-3v3m5-3v3m1-6v3m2 178v11m1-11v11m1-11v11m3-11v11m3-189v3m1-3v3m2-3v3m1-3v3m1 137v3m1-146v6m1-6v3m1 220v10m2-230v3m3-6v3m2-3v3m2 0v3m3 217v10m2-224v3m0 77v3m0 131v10m1-90v3m1-60v3m0 3v3m1-30v3m0 39v6m1-104v3m0 134v3m1-84v3m0 3v3m0 18v3m0 12v3m0 24v3m1-69v6m0 72v3m156-6v3m5-101v3m5 59v3m0 30v3m2-98v3m1-18v3m1-21v3m1 24v3m1 3v3m1-249v3m0 12v3m0 21v3m0 189v9m1-225v3m0 9v6m1-21v3m0 9v3m0 3v3m0 210v3m1-237v9m0 12v3m0 6v3m0 183v6m0 12v3m1-228v3m0 12v3m0 195v3m1-189v3m0 153v3m2-153v3m0 168v3m0 9v3m1-42v3m0 9v3m1-162v3m0 153v3m0 12v3m1-222v3m0 42v3m0 174v3m0 3v6m1-234v3m0 207v3m0 15v3m0 9v3m1-63v3m1-138v3m0 162v3m1 6v6m1-177v3m0 150v3m1-153v3m0 150v3m0 6v3m1-177v3m0 150v3m0 3v3m0 3v3m1-3v3m1-36v3m0 3v3m1 30v3m1-18v3m0 3v3m2-153v3m0 126v3m0 3v3m1-147v3m0 165v3m0 6v3m1-30v3m1 12v3m1-210v3m0 39v3m0 147v3m0 12v3m1-162v6m0 129v6m1-147v3m1 147v3m0 6v3m1-150v3m0 120v6m1-183v3m0 189v6m1-6v3m0 3v3m1-3v6m0 77v9m1-113v6m0 3v3m1-180v3m0 6v3m0 171v3m0 9v3m1-207v3m0 33v6m0 159v3m0 3v3m0 104v3m1-128v6m0 3v6m1-12v3m0 122v3m1-287v3m0 174v3m0 95v3m0 6v3m0 9v3m1-36v3m1-254v3m0 150v3m0 3v6m1-12v3m0 6v12m0 62v3m0 18v3m0 39v3m1-347v3m0 195v12m0 89v3m0 6v3m0 12v6m1-317v3m0 180v9m0 3v3m1-168v3m0 135v3m0 3v3m0 6v3m0 3v3m1-24v3m0 9v3m1 113v6m0 3v3m0 3v3m1-290v6m0 174v3m0 68v3m0 27v3m1-317v3m0 36v3m0 141v6m0 6v3m0 3v3m0 98v3m1-308v3m1 0v3m0 18v3m0 12v3m0 165v3m0 6v3m0 92v3m1-314v6m0 186v3m1-18v3m0 3v3m1-153v3m0 6v3m0 159v3m0 6v3m1-195v3m0 117v3m0 9v3m0 6v9m0 6v3m0 6v6m1-138v3m2-54v3m0 45v3m1 138v3m1 9v3m1-204v6m0 180v3m1-186v3m0 171v3m0 6v3m0 3v3m0 3v3m1 0v3m1-186v6m1 159v3m1-177v3m0 3v3m0 12v3m0 6v3m0 156v3m1-9v3m1-195v3m0 183v3m0 3v3m0 3v3m1-165v3m0 159v3m0 6v3m2-198v3m0 18v3m0 141v3m0 15v6m1-195v6m0 12v3m1-3v3m1-18v3m0 186v6m1-174v3m0 168v3m1-180v3m0 165v12m1-207v3m0 30v3m0 141v3m0 3v9m1-6v3m0 3v3m1-189v3m0 12v6m0 177v3m0 9v3m0 98v3m1-290v6m0 144v6m0 12v9m0 71v3m0 3v3m0 33v3m0 21v3m1-344v3m0 18v3m1-24v3m0 9v3m0 3v3m0 183v3m0 95v3m1-278v3m0 150v3m0 12v3m1-198v3m0 24v6m0 150v3m1-177v3m0 192v3m1-207v3m0 9v3m0 15v3m0 141v6m0 146v3m0 15v3m1-347v3m0 9v3m0 308v6m1-299v6m0 141v3m0 3v3m0 6v3m1-21v3m1-177v3m0 6v6m0 174v3m0 9v3m1-177v3m0 150v3m0 21v3m1-204v3m0 27v3m0 144v3m0 134v3m1-323v3m0 30v6m1-33v3m0 9v6m0 174v3m0 6v9m1-216v3m0 204v3m0 3v3m0 80v3m0 12v3m0 6v3m1-95v3m0 83v3m0 9v3m1-302v3m0 153v6m0 3v3m1-3v3m1-192v3m0 6v9m0 162v3m0 9v12m1-180v3m0 153v3m0 3v3m0 9v3m1-30v3m0 6v6m1 33v3m1-219v3m0 6v3m0 9v3m0 3v3m1-33v3m0 9v6m0 3v3m0 171v3m0 3v3m1-201v6m0 15v3m0 162v3m1-180v6m0 168v3m1-36v6m0 9v3m0 18v3m1-195v6m0 30v3m0 144v6m0 6v6m1-198v3m0 171v6m1-180v6m0 3v3m0 6v6m0 9v3m0 159v3m0 3v3m2-33v3m0 3v3m0 3v3m2 18v3m0 24v3m1-54v3m1-165v3m0 6v3m0 171v3m1-207v3m0 21v3m0 153v3m0 9v3m1-195v3m0 3v3m0 171v6m1-168v3m0 159v3m0 3v3m0 9v3m1-195v3m0 150v3m0 6v3m0 9v3m0 9v3m0 3v3m1-195v3m0 6v3m0 168v3m0 6v3m0 134v12m2-320v3m0 153v6m0 3v3m0 3v3m0 122v3m1-305v3m0 141v6m0 6v3m0 155v3m1-173v3m0 18v3m0 146v3m1-332v3m0 21v6m0 281v3m0 6v3m1-320v3m0 12v3m0 159v3m0 140v3m1-305v3m0 138v6m0 155v3m1-329v3m0 153v3m0 158v3m1-317v3m0 12v3m0 3v3m0 3v3m0 123v3m0 3v3m0 3v3m0 9v6m0 140v3m1-308v3m0 141v3m0 3v6m0 12v3m0 134v3m0 3v3m1-92v3m0 83v3m1-311v3m0 132v3m0 6v3m0 6v3m0 12v3m0 134v6m1-173v3m0 3v3m0 6v3m0 146v3m1-308v3m0 296v3m0 6v3m1-326v3m0 9v3m0 9v3m0 123v9m0 9v6m0 60v3m0 95v3m1-314v6m0 99v3m0 15v6m0 6v3m0 9v3m0 149v3m1-326v9m0 21v6m0 120v6m0 6v3m0 3v6m0 54v3m0 95v3m1-296v6m0 102v3m0 84v3m0 89v6m0 12v3m2-347v9m0 30v3m0 99v3m0 191v6m1-311v3m0 6v3m0 186v3m1-192v3m0 90v3m0 182v3m0 3v3m1-290v3m0 293v6m1-332v3m0 141v6m0 9v3m0 146v9m1-311v3m0 9v9m0 123v3m0 63v3m0 89v3m0 6v3m0 3v6m1-9v3m1-326v3m0 24v3m0 3v3m0 111v3m0 182v9m1-326v3m0 3v3m0 9v3m0 108v6m0 18v3m0 158v3m1-293v3m0 275v6m1-176v3m0 63v3m1-171v3m1-45v6m0 141v3m0 164v9m1-311v3m0 9v6m0 6v6m0 105v3m0 15v3m0 143v3m0 6v3m0 12v3m1-305v3m0 105v6m0 57v3m0 119v9m0 3v3m1-296v3m0 156v3m0 101v3m0 6v6m1-278v3m0 275v6m1-299v3m0 6v6m0 93v3m0 167v3m0 3v3m0 15v3m1-278v3m0 141v3m0 113v3m1-275v3m0 272v6m1-269v6m0 269v6m0 6v3m1-149v3m0 119v6m1-272v3m0 272v3m1-278v3m0 138v3m0 125v3m1-188v3m0 173v3m1-266v3m0 266v3m1-326v3m0 39v3m0 150v3m1-150v3m0 269v9m0 3v3m1-287v3m0 144v3m0 131v3m0 6v3m1-146v3m0 119v3m0 3v6m1-284v3m0 278v3m1-281v3m0 141v3m0 116v3m0 12v12m1-299v3m0 3v6m0 287v3m1-21v9m1-12v3m0 3v3m1-269v3m0 254v3m0 9v3m0 12v3m1-21v3m1-137v3m0 131v6m0 3v3m1-287v3m0 275v3m1-6v3m0 6v3m1-335v3m0 45v3m0 281v3m1-6v15m1-158v3m0 134v3m1-275v3m0 281v6m0 3v3m1-299v3m0 272v9m0 6v3m0 3v3m1-314v3m0 102v3m1-141v3m0 42v3m0 281v6m1-18v9m1-287v3m0 141v3m0 137v3m0 48v5m1-50v6m0 3v3m0 33v5m1-5v5m1-241v6m0 182v3m0 3v3m1-15v3m1-296v3m0 150v3m0 143v9m0 6v3m1-164v3m0 128v9m0 9v3m0 42v5m1-199v3m0 140v6m1-149v3m1 128v3m0 6v3m0 51v5m1-364v3m0 3v3m0 308v3m2-203v3m0 42v3m0 128v3m0 3v6m1-188v3m0 182v3m0 6v3m1-197v3m0 42v3m0 137v9m1 48v5m1-247v3m0 194v6m0 39v5m1-340v3m0 290v9m0 33v5m1-59v6m0 3v6m0 39v5m1-367v3m0 3v9m0 111v3m0 12v3m0 167v15m1-3v3m0 3v3m1-311v3m0 3v3m1-6v3m0 278v6m0 3v6m1-302v3m0 293v3m0 3v6m1-18v3m0 51v5m1-50v3m0 3v3m1-206v3m0 188v3m0 48v5m1-349v6m0 96v3m0 185v3m0 3v3m0 6v3m1-314v3m0 296v9m0 6v3m1 0v3m1-302v3m0 275v6m0 6v3m1-203v3m0 194v3m0 42v5m1-47v3m0 39v5m1-250v3m0 242v5m1-250v3m0 197v6m0 3v6m1-15v3m0 6v3m1-296v3m0 87v3m0 182v3m0 51v5m1-349v3m0 132v3m0 170v6m1-311v6m0 296v3m0 6v6m1-6v3m0 27v5m1-214v3m0 164v3m0 9v3m0 27v5m1-50v3m1-296v3m0 126v3m0 155v3m0 6v3m0 39v5m1-340v3m0 290v3m0 9v6m0 24v5m1-50v3m0 3v3m0 9v3m1-12v9m1-350v3m0 48v3m0 284v9m1-30v3m0 3v3m0 3v3m1-287v3m0 117v3m0 170v3m1-290v3m0 111v3m0 167v9m0 33v5m1-217v3m0 170v3m0 3v3m0 30v5m1-367v3m0 12v3m0 3v3m0 90v3m0 212v6m0 27v5m1-256v3m0 221v3m1-353v3m0 326v3m0 3v6m0 6v3m1-224v3m0 209v9m0 3v3m0 24v5m1-35v3m0 27v5m1-38v3m0 3v3m1-353v3m0 129v3m0 197v15m0 30v5m1-337v3m0 114v3m0 212v5m1-247v3m0 185v6m0 6v9m0 3v3m1-12v3m1-296v3m0 87v3m0 203v6m1-215v3m0 188v3m0 15v9m1-12v9m1-302v3m2 15v3m0 266v3m0 9v6m0 27v5m1-382v3m0 6v3m0 117v3m0 212v3m0 3v3m1-230v3m0 218v6m0 27v5m1-250v3m0 27v3m0 185v3m1-191v3m0 179v6m0 27v5m2-382v9m0 33v3m0 84v3m0 30v3m1-45v3m0 254v5m1-382v6m0 129v3m0 239v5m1-382v3m0 120v3m0 212v6m1-182v3m0 173v3m0 3v3m1-185v3m0 176v9m1-21v3m0 3v6m0 36v5m1-262v6m0 218v3m0 3v3m0 24v5m1-262v3m0 9v3m0 200v6m1-6v6m0 3v9m1-236v3m0 224v3m0 30v5m1-262v3m0 3v6m0 218v3m0 24v5m1-331v3m0 69v3m0 36v3m0 179v6m0 27v5m1-265v3m0 42v3m0 176v3m0 6v3m0 24v5m1-265v3m0 15v6m0 21v3m0 182v3m1-230v9m0 18v3m0 194v6m1-236v6m1-87v3m0 87v9m0 9v3m0 18v3m0 173v3m0 3v6m1-347v3m0 111v9m0 3v3m0 3v3m0 200v3m0 6v3m0 27v5m1-346v3m0 75v6m0 42v3m1-42v3m0 209v6m1-311v3m0 129v3m1-129v3m0 75v3m0 45v3m0 182v3m1-350v3m0 123v3m0 3v3m0 3v3m0 185v3m0 3v3m0 9v9m1-230v3m0 36v3m0 176v3m0 3v3m1-350v3m0 159v3m0 185v3m1-311v3m0 69v3m0 45v3m0 179v3m1-329v3m0 141v3m0 212v5m1-262v3m0 39v3m0 182v3m1-314v3m0 75v6m0 9v6m0 27v3m0 182v6m1-24v9m0 9v3m0 27v5m1-259v3m0 6v3m0 12v3m0 194v3m0 30v5m1-373v3m0 24v6m0 66v6m0 233v6m1-230v3m0 9v3m0 24v3m0 185v3m0 24v5m1-340v3m0 75v6m0 36v3m1-162v3m0 3v3m0 99v3m0 3v3m0 42v3m0 212v5m1-382v3m0 33v6m0 93v3m0 24v3m1-153v3m1 105v3m0 6v3m0 212v6m1-311v6m0 63v3m0 51v3m0 176v3m0 33v5m1-376v3m0 3v3m0 9v3m0 90v6m0 21v6m0 12v3m0 185v3m1-245v3m0 6v3m0 6v3m0 6v3m1-93v3m0 72v3m0 39v3m0 185v3m1-221v3m1 27v3m0 185v3m1-320v3m0 96v3m0 27v3m1-159v3m0 21v3m0 6v3m0 93v3m0 24v3m0 182v6m1-344v9m0 12v3m0 105v6m0 18v3m1-132v3m0 9v3m0 72v6m0 21v3m0 194v9m1-311v3m0 78v3m0 15v3m0 3v3m0 12v3m1-147v3m0 3v3m0 93v3m0 9v3m0 27v3m0 179v6m0 27v5m1-367v6m0 141v3m0 173v6m0 3v6m0 24v5m1-334v3m0 24v6m0 33v3m0 6v6m0 221v3m0 24v5m1-349v3m0 6v3m0 66v3m0 48v3m1-75v3m0 69v3m0 212v5m1-355v3m0 84v3m0 45v3m0 161v3m0 9v3m0 9v3m1-305v3m0 72v3m0 3v3m1-51v3m0 27v3m0 6v3m0 9v3m0 27v3m1-75v3m0 18v3m1-51v3m0 96v3m1-150v3m0 9v3m0 24v3m0 105v3m1-57v3m0 27v3m0 21v3m0 182v3m1-326v3m0 99v3m0 33v3m0 164v3m0 12v3m0 30v5m1-316v3m0 9v3m0 36v3m0 42v3m0 185v3m1-302v3m0 6v3m0 6v3m0 39v3m0 6v3m0 3v3m0 6v3m0 24v3m1-81v3m0 24v3m0 215v12m0 36v5m1-343v3m0 3v3m0 18v3m0 9v3m0 81v3m0 212v5m1-325v3m0 12v3m0 33v6m0 263v5m1-268v3m0 6v3m0 221v3m0 27v5m1-361v3m0 27v3m0 6v3m0 6v6m0 36v3m0 9v3m1-51v3m0 33v3m0 206v3m0 3v6m0 3v6m0 36v5m1-340v3m0 3v6m0 3v3m0 3v3m0 15v3m0 27v3m0 3v6m0 3v3m0 15v3m1-93v3m0 3v3m0 57v3m1-105v3m0 93v6m0 3v3m0 185v9m0 27v3m1-311v3m0 6v3m0 60v3m0 224v3m1-326v3m0 12v6m0 12v3m0 57v3m0 18v3m0 30v3m0 182v6m1-329v6m0 93v3m0 36v3m1-156v3m0 12v3m0 93v3m0 3v3m0 33v3m0 182v6m1-353v3m0 108v3m0 9v3m0 221v3m1-239v3m1-96v6m0 84v3m1-105v6m0 99v6m0 6v3m0 6v6m0 206v3m1-344v3m0 123v3m0 30v3m1-162v3m0 15v3m0 84v3m0 239v3m1-245v9m0 12v6m0 3v3m0 3v3m0 230v5m1-376v3m0 129v3m1-120v3m0 84v3m0 6v3m0 224v3m0 30v5m1-361v3m0 93v3m0 42v3m0 212v5m1-265v6m0 36v6m0 185v3m1-353v3m0 114v3m0 42v3m0 212v5m1-382v3m0 6v3m0 12v3m0 84v3m0 230v9m1-338v6m0 90v3m0 24v3m0 21v3m0 185v3m1-353v3m0 9v3m0 99v3m0 45v3m1-156v3m0 108v12m0 12v6m0 12v3m1-165v3m0 21v6m0 78v3m0 9v3m0 39v3m0 212v5m1-268v3m0 227v6m1-185v3m0 209v5m1-379v6m1 3v3m0 3v3m0 3v3m0 84v6m0 260v5m1-367v3m0 96v3m0 233v3m1-350v3m0 108v3m0 9v3m1-117v3m0 3v3m0 87v3m0 266v5m1-379v3m0 15v3m0 66v3m1-87v3m0 78v6m1-93v3m0 6v3m0 75v3m0 90v3m0 194v5m1-379v3m0 225v3m1-63v3m0 176v3m0 24v5m1-130v2m1-167v3m0 3v6m0 6v3m0 87v3m0 149v3m1-248v6m0 63v6m0 30v3m0 125v15m0 27v5m1-208v9m0 146v3m0 3v3m0 12v3m1-179v3m0 3v3m0 24v3m0 116v3m0 18v3m1-170v3m0 9v6m0 6v3m0 15v3m0 119v3m1-239v3m0 126v3m0 56v3m0 30v3m0 3v3m0 39v5m1-367v3m0 165v6m0 6v3m0 9v3m0 21v3m0 98v6m0 39v5m1-364v3m0 165v6m0 74v3m0 6v6m0 66v3m0 27v5m1-373v3m0 123v3m0 63v3m0 3v3m0 3v3m0 53v12m0 3v3m0 6v3m0 3v3m0 6v3m0 3v9m0 9v3m0 12v3m1-164v3m0 3v3m0 6v6m0 24v6m0 80v3m0 15v3m0 6v3m0 30v5m1-184v6m0 6v6m0 47v9m0 6v3m0 15v6m0 3v6m0 6v6m0 6v9m0 3v3m0 6v3m1-161v12m0 12v6m0 44v3m0 15v6m0 6v3m0 3v3m0 33v3m0 3v6m1-197v3m0 48v6m0 6v6m0 6v6m0 3v3m1-105v3m0 63v6m0 3v3m0 9v3m0 3v3m0 6v3m0 35v3m0 33v15m1-182v3m0 57v6m0 3v6m0 24v6m0 11v3m0 9v9m0 6v3m0 9v3m0 12v6m1-311v3m0 204v3m0 3v3m0 3v3m0 6v3m0 32v6m0 33v3m0 63v5m1-376v3m0 150v3m0 48v6m0 6v3m0 152v5m1-169v3m0 15v3m0 12v6m0 74v3m1-320v3m0 201v3m0 12v3m0 9v3m0 6v3m1-36v3m0 27v8m1-98v3m0 78v3m1-231v3m0 144v3m0 90v3m1-96v3m0 63v15m0 12v3m1-249v6m0 222v6m0 3v9m1-246v3m0 3v3m0 216v3m0 15v3m0 3v2m1-20v3m0 3v3m1-9v6m1-3v3m0 6v6m1-117v6m0 27v3m0 72v3m1 3v3m1-9v6m0 3v2m1-149v3m0 144v2m1-155v6m2 147v2m4-131v3m2-21v3m1 15v3m1-33v3m2 126v3m4 12v3m1-54v3m0 12v3m1 12v3m0 6v3m2-72v3m1 27v3m0 9v3m15-201v3m4 84v3m0 9v3m0 63v3m3-21v3m0 185v3m2-6v3m1-188v3m0 182v3m1-185v3m1-3v6m0 3v3m0 9v3m0 6v3m0 3v3m0 3v6m1 6v3m0 125v3m1-131v3m0 125v3m1-3v3m1-3v3"/><path stroke="#00ff88" stroke-width="1" d="M102.5 253v3m0 104v3m3-110v3m1-3v3m0 104v3m0 66v16m1-82v6m0 15v3m0 42v16m1-76v3m0 9v3m0 3v9m0 38v11m1-192v3m0 113v3m0 9v3m0 50v11m2-189v3m1 3v3m1-6v3m0 62v3m0 24v3m1-119v3m0 3v3m0 3v3m0 71v3m1-137v3m0 125v3m0 33v3m1-182v3m0 3v3m0 12v3m0 33v3m0 83v3m0 21v6m0 9v3m0 3v3m0 15v6m1-266v3m0 33v3m0 141v3m0 17v3m0 12v3m0 6v3m0 3v3m0 9v3m0 3v3m0 12v3m1-221v3m0 6v6m0 161v6m0 6v15m0 3v3m0 3v3m1-215v3m0 170v3m0 30v12m0 3v6m1-221v3m0 200v27m1-227v3m0 221v6m1-224v9m0 102v3m0 80v3m0 12v9m0 3v3m1-212v6m0 191v3m0 3v6m1-191v3m0 176v9m0 3v3m1-179v3m0 3v6m0 51v3m0 95v3m0 9v6m1-176v3m0 12v6m0 9v3m0 125v3m0 6v3m1-137v3m0 15v3m0 110v3m0 6v3m1-137v3m0 6v3m0 6v3m0 101v3m0 3v9m1-18v3m0 3v3m0 6v3m1-12v6m0 3v3m1-9v3m1-6v3m0 3v3m1-15v3m0 9v3m1-95v2m0 81v3m0 3v3m0 3v3m1-260v3m0 57v3m0 90v3m0 83v3m0 6v3m1-254v3m0 156v3m0 3v2m0 81v3m0 3v6m1-260v3m0 114v3m0 9v3m0 21v3m0 68v3m0 18v3m0 3v9m1-242v6m0 12v6m0 39v3m0 15v3m0 3v3m0 6v6m0 24v3m0 3v3m0 86v3m0 6v3m1-18v3m0 9v3m0 6v6m1-27v6m0 15v6m1-51v3m0 6v3m0 6v6m0 6v3m0 6v3m0 3v3m1-81v3m0 3v3m0 33v3m0 12v3m1-60v3m0 15v6m0 9v3m0 3v3m0 3v3m0 3v3m0 18v3m1-66v3m0 15v3m0 6v3m3-24v3m5-275v3m1 308v3m0 3v3m0 21v3m3-350v3m0 114v3m1-111v3m1 99v3m0 18v6m0 3v3m0 27v6m0 21v3m1-201v3m0 111v3m0 3v6m0 24v3m1-18v3m0 12v3m0 6v6m0 66v3m1-84v3m0 3v3m0 9v3m0 6v3m1-165v3m0 132v3m0 3v3m0 9v6m0 12v3m0 3v3m0 24v3m0 9v3m0 9v3m1-234v3m1 162v3m0 3v3m0 15v3m0 12v3m1-192v3m2 266v3m0 30v3m0 12v6m1-75v3m1 60v3m1-12v3m0 15v3m0 27v5m1-86v3m0 18v3m0 6v3m0 6v3m0 9v3m1-51v3m0 9v3m0 33v3m1-9v3m1-57v3m0 12v3m0 6v3m1-12v3m0 30v3m1-317v3m0 263v3m1-12v3m0 24v3m0 6v3m0 12v3m0 12v3m1 0v3m1-72v3m0 21v3m1-3v3m0 36v3m0 49v10m1-125v3m0 9v3m0 100v10m1-62v6m1-60v3m0 24v6m1-311v3m0 284v3m1-299v6m0 6v3m1-12v3m0 6v3m1-12v3m1-6v3m0 3v3m3 373v11m5-189v3m1-3v3m2-3v3m1-3v3m3-3v3m1-3v3m4-3v3m4-3v3m0 140v3m3-146v3m1 137v3m4-143v3m3-3v3m4 140v3m4-146v3m2-3v3m5-3v3m1-3v3m1 0v3m1-6v3m0 140v3m1-146v3m3-3v6m2-6v3m1-6v6m2-3v3m2-3v3m2-3v3m1-3v3m1-3v3m2 0v3m1-6v3m2-6v6m5 186v10m3-199v3m3 0v3m1-6v3m0 140v3m1-146v6m1-6v6m0 183v10m1-59v3m1 46v10m1-199v3m0 186v10m1-10v10m1-196v3m0 137v3m1-146v3m0 140v3m1-146v6m1 214v10m1-135v3m0 3v6m1-42v3m0 15v3m0 15v3m0 12v6m0 9v6m0 83v10m1-221v3m0 113v3m0 9v3m1-66v6m0 15v3m0 21v3m0 21v3m1-84v3m0 3v3m0 9v6m0 6v6m0 12v3m0 6v3m0 12v9m0 77v10m1-171v3m0 12v3m0 18v6m0 9v6m0 12v3m0 6v3m0 3v3m0 74v10m1-174v3m0 15v3m0 3v3m0 3v6m0 6v3m0 6v3m0 9v3m0 98v10m161-105v3m2-12v3m1-15v3m0 9v3m2-77v3m0 35v3m0 6v3m0 6v3m0 30v3m0 9v3m1-104v3m2-6v3m1-21v3m0 9v3m0 53v3m3-71v3m0 15v3m1-228v3m0 3v3m0 219v3m1-240v3m0 6v3m1 0v3m0 3v3m0 204v3m0 3v3m1-243v6m0 18v9m0 3v3m0 6v3m1-45v3m0 3v3m0 12v6m0 9v6m0 3v6m0 144v3m0 3v3m1-186v3m0 12v3m0 15v3m1-48v3m0 9v3m0 21v3m0 180v3m0 6v3m1-39v3m0 12v3m1-186v3m0 177v3m1-198v3m0 21v3m0 195v3m1-27v9m1-36v6m1-147v3m0 162v3m1-216v3m0 207v3m0 12v9m0 9v3m0 3v5m1-212v6m0 150v3m0 3v3m0 12v6m1-24v3m1-201v3m0 45v3m0 141v3m0 3v3m0 6v3m1-168v6m0 156v3m1-159v6m0 117v3m0 3v3m1-162v3m0 174v3m0 3v3m2-177v3m0 126v3m0 9v3m1 9v3m0 3v3m1 36v3m1-204v3m0 9v3m0 162v3m1-3v3m1-198v3m0 183v3m0 3v3m1-24v3m0 6v3m0 3v6m1-195v3m0 27v3m0 6v3m0 159v6m1-9v3m1-195v3m0 174v3m1-15v3m0 9v3m0 6v6m1-159v6m1 144v3m0 68v6m0 6v3m0 9v3m0 9v6m0 21v3m0 18v3m1-164v3m1-189v6m0 192v3m1-195v3m0 15v3m0 3v3m0 174v3m0 110v3m1-323v3m0 189v3m1-189v3m0 36v3m0 138v3m0 3v6m0 3v3m0 89v6m1-272v3m0 3v3m0 168v3m0 9v3m0 83v3m0 3v3m0 12v3m1-131v3m0 6v6m0 3v3m0 80v3m2-287v3m0 18v3m0 183v3m0 24v3m0 17v3m0 3v3m0 15v3m0 33v6m1-332v3m0 18v3m0 12v3m0 174v3m0 77v3m0 6v3m0 6v3m1-317v6m0 15v3m0 18v3m0 141v3m0 15v3m1-15v3m1 89v3m0 9v3m1-257v6m0 147v12m0 98v3m0 6v3m1-314v6m0 201v6m0 65v3m0 9v6m0 6v3m0 6v3m1-290v3m0 6v3m0 6v3m0 162v6m0 83v3m0 9v3m1-311v3m0 33v9m0 150v3m0 9v3m1-204v3m0 3v3m0 12v3m0 177v6m0 6v3m0 83v3m1-296v3m0 30v3m0 147v3m1 101v3m0 18v3m1-296v3m0 183v3m0 3v3m1-174v3m0 120v3m1 3v9m1-153v3m0 144v3m1-138v3m0 147v3m0 3v3m1-207v3m0 12v3m0 12v3m0 9v3m0 3v3m0 132v6m0 134v3m1-284v6m1 144v3m0 6v3m1-204v6m0 36v6m1-42v3m0 3v3m0 3v6m0 174v3m0 6v3m0 12v3m0 9v3m1-237v6m0 9v3m0 189v6m0 68v3m0 18v3m1-263v3m0 147v3m1-180v3m0 186v12m1-171v3m0 144v3m0 3v3m1-165v3m0 6v3m0 156v3m1-207v9m0 24v3m0 171v3m0 3v3m0 3v3m1-183v6m0 159v3m0 3v3m1-204v3m0 6v3m0 12v3m0 159v3m0 6v6m1-189v3m0 189v3m0 15v3m1-234v6m0 6v3m0 3v3m0 9v3m0 3v6m0 135v3m1-153v12m0 168v3m1-207v3m0 183v3m0 3v9m1-171v3m0 174v3m1-210v6m0 18v6m0 162v6m1-189v3m0 3v3m0 3v9m0 171v3m1-195v9m0 186v3m0 113v3m1-323v6m0 6v6m0 3v6m0 162v6m0 65v6m0 6v3m0 9v3m0 39v6m1-326v3m0 183v3m0 6v3m0 6v3m1-6v3m0 83v3m1-299v3m0 186v6m0 9v3m1-201v3m0 183v6m0 9v6m1-3v12m1-222v3m0 3v3m0 9v3m0 3v3m0 156v6m0 3v3m0 107v6m0 18v3m0 6v3m1-332v3m0 3v3m0 201v6m1-219v3m0 3v3m0 6v3m0 9v3m0 165v6m2-195v3m0 201v6m0 98v3m1-314v3m0 9v6m0 174v3m0 104v6m0 6v3m0 3v6m1-326v3m0 3v3m0 6v6m0 293v3m0 3v6m1-326v3m0 3v3m0 9v3m0 156v3m0 3v6m1 3v3m0 3v3m0 15v3m0 77v3m0 12v3m1-107v3m0 92v3m0 6v3m0 6v3m0 3v3m1-125v3m0 3v3m0 74v3m0 3v3m0 30v9m0 39v5m1-382v3m0 177v3m0 6v3m0 6v3m0 3v3m1-183v3m0 171v3m1-192v3m0 177v3m0 15v6m1-189v3m0 186v3m1-216v3m0 12v3m0 162v3m0 12v3m0 179v5m1-154v6m0 9v3m1-246v3m0 6v3m0 12v3m0 150v3m0 3v3m1-180v9m0 12v3m0 3v3m0 159v3m0 3v3m1-171v3m0 159v3m0 3v3m1-195v3m0 15v3m0 162v3m0 6v3m1-168v3m0 135v3m0 3v3m0 6v3m1-168v3m0 6v3m0 3v3m1-36v3m0 18v3m0 6v3m1 168v3m1-201v3m0 3v6m0 3v3m0 3v3m0 165v3m1-162v3m0 135v3m1-144v3m1 171v3m0 15v3m1-225v3m0 165v6m1-171v3m0 6v3m0 177v6m0 3v3m1-204v6m0 6v6m0 3v3m0 156v3m1-186v3m0 12v3m0 153v6m0 9v6m0 3v3m1-9v6m1-180v6m0 162v3m1-15v3m0 6v3m0 158v6m1-344v9m0 12v3m0 3v3m0 138v3m0 146v3m1-308v3m0 165v3m0 24v3m0 113v3m1-326v3m0 6v3m0 153v3m0 3v12m0 134v3m0 3v3m0 12v3m1-335v3m0 6v3m0 153v3m0 6v3m0 152v6m0 3v3m1-347v3m0 9v3m0 3v3m0 135v3m0 3v6m0 3v6m0 3v3m0 128v6m0 3v3m0 9v3m1-341v3m0 12v6m0 153v9m0 3v6m0 131v3m0 3v3m1-329v3m0 21v3m0 132v3m0 15v6m0 3v3m0 54v3m0 74v3m1-305v3m0 144v3m0 75v3m0 74v12m1-323v6m0 141v3m0 12v3m0 161v9m1-341v9m0 153v3m0 15v3m0 12v3m0 39v3m0 83v3m0 3v6m0 6v3m1-185v3m0 164v21m1-347v3m0 171v3m0 57v3m0 89v3m0 3v3m0 6v3m1-350v9m0 6v3m0 3v3m0 138v3m0 6v3m0 3v3m0 3v6m0 140v6m0 3v3m1-320v6m0 3v3m0 126v3m0 6v3m0 6v3m0 143v3m0 6v9m0 6v3m1-341v3m0 153v3m0 170v3m0 3v6m1-209v3m0 12v3m0 9v3m0 3v3m1-168v3m0 159v3m0 15v3m0 134v6m0 6v3m1-188v3m0 179v6m0 9v3m1-314v3m0 189v3m0 98v3m0 3v3m1-305v3m0 105v3m0 12v3m1-162v3m0 15v3m0 6v3m0 123v3m0 18v3m0 146v3m0 6v3m1-299v3m0 290v3m1-329v6m0 15v3m0 141v3m0 158v3m0 6v3m1-338v3m0 21v3m0 3v3m0 144v3m0 146v9m1-338v3m0 18v3m0 195v3m0 128v3m1-317v3m0 293v6m1-311v3m0 141v3m0 45v3m0 125v3m1-347v3m0 15v3m0 3v3m0 114v3m0 15v3m0 9v3m0 6v3m0 134v3m0 3v6m0 3v3m0 9v3m1-317v3m0 9v3m0 287v3m1-338v3m0 323v6m0 45v5m1-352v3m0 18v3m0 159v3m0 107v15m1-296v3m0 132v3m0 30v3m0 116v3m0 3v3m1-338v3m0 12v3m0 6v3m0 123v3m0 3v3m0 51v3m0 116v12m1-338v3m0 30v3m1 296v3m1-338v6m0 329v3m1-329v3m0 129v3m0 6v3m0 36v3m0 140v3m1-329v3m1 33v3m0 102v3m0 185v3m1-134v3m0 137v3m1-15v3m0 3v6m1-344v3m0 18v3m0 24v6m0 3v3m0 84v3m0 179v9m1 0v3m1-314v3m0 290v3m0 3v6m0 6v3m1-287v3m0 144v3m0 128v6m1-191v3m0 21v3m0 158v9m1-293v3m0 293v3m1-290v3m0 3v3m0 81v3m0 188v6m0 6v3m1-12v3m0 6v3m1-176v3m0 18v3m0 134v6m0 3v3m1-341v3m0 9v3m0 123v3m0 200v6m1-350v3m0 123v3m0 215v6m1-299v3m1 0v3m0 135v3m0 134v6m1-281v6m0 132v3m0 140v3m0 12v3m1-296v3m0 132v3m0 140v3m1-317v3m0 314v3m1-287v6m0 275v3m0 3v6m0 3v3m1-350v3m0 317v3m0 3v3m1-284v3m0 138v3m0 137v3m0 6v3m1-296v3m0 141v3m0 155v6m1-353v3m0 329v15m0 3v3m1-311v6m0 296v3m1-209v3m1-138v3m0 24v3m0 293v3m1-329v3m0 335v9m1-299v3m0 326v5m1-53v3m1-305v3m1 108v3m0 182v12m0 12v3m1-329v3m0 123v3m0 3v6m0 3v3m0 18v3m0 146v3m1-302v6m0 305v3m0 30v5m1-355v3m0 311v3m0 3v6m0 24v5m1-379v9m0 126v3m0 182v3m0 9v3m1-332v3m0 323v9m0 3v3m0 30v5m1-370v3m0 15v3m0 290v3m0 51v5m1-352v3m0 284v3m0 6v6m1-332v3m0 3v3m0 129v3m0 3v3m0 33v3m0 146v6m0 42v5m1-355v3m0 150v3m0 137v12m0 3v3m0 3v6m0 30v5m1-53v3m1-329v3m0 30v3m0 296v6m0 36v5m1-343v3m1 287v9m1-302v3m1 138v3m0 146v9m0 9v9m1-308v3m0 129v3m1-180v6m0 24v3m0 111v6m0 21v6m0 164v6m1-347v3m0 36v3m0 305v3m0 27v5m1-373v3m0 162v3m0 155v6m0 39v5m1-340v3m0 293v3m1-341v6m0 168v3m0 155v3m0 15v3m1-335v3m0 114v3m0 188v6m0 6v9m1-18v3m0 12v3m0 30v5m1-208v3m0 161v3m0 3v9m1-182v3m0 158v3m1-332v3m0 12v3m0 314v6m0 36v5m1-47v6m0 36v5m1-53v6m0 12v6m0 24v5m1-361v3m0 15v3m0 129v3m0 164v12m1-308v3m0 126v3m0 164v6m1-311v3m0 302v3m0 3v6m1-320v3m0 305v3m0 6v3m1-347v3m0 129v3m0 197v6m0 36v5m1-44v6m0 3v3m1-323v3m0 108v3m0 209v3m0 24v5m1-358v3m0 141v3m0 173v3m0 30v5m1-343v3m0 90v3m0 215v3m1-320v3m0 3v3m0 299v3m1-344v3m0 36v3m0 287v3m0 6v15m0 24v5m1-41v3m0 6v3m2-320v3m0 3v3m1 123v3m0 182v3m0 24v5m1-364v3m0 326v3m1-24v3m0 6v3m0 3v3m0 6v3m0 24v5m1-367v3m0 18v6m0 6v3m0 293v3m1-3v6m1-3v6m1-320v3m0 96v3m0 215v3m1 24v5m1-256v6m0 209v6m0 30v5m1-35v3m2-221v3m0 215v3m0 27v5m1-379v3m0 39v3m1-45v6m0 335v9m1-21v3m0 15v3m1-212v3m0 191v3m0 3v12m1-191v3m0 182v3m0 27v5m1-346v3m0 287v3m0 6v6m1 9v3m1-224v3m0 30v3m0 173v3m0 3v3m1-185v3m0 185v3m0 24v5m1-337v3m0 81v3m0 30v3m0 173v3m1-302v3m0 93v3m0 9v3m0 227v5m1-256v3m0 33v3m1-120v3m0 78v3m0 248v5m1-337v3m1 81v3m0 30v3m0 212v5m1-373v3m0 111v3m0 12v3m0 236v5m1-376v3m0 129v3m0 21v3m1-159v3m0 114v3m1-123v3m0 33v3m0 84v3m0 6v3m0 24v3m0 179v6m1-299v3m0 69v3m0 3v3m0 218v3m1-230v3m1 206v3m0 6v3m0 3v3m1-302v3m0 111v3m0 182v3m1-227v9m0 15v3m0 191v3m1-296v3m0 69v3m0 39v3m0 167v3m1-215v3m0 3v6m1 30v3m0 173v12m1-350v3m1 120v6m0 215v3m1-347v3m0 36v3m0 84v3m0 12v3m0 6v3m0 191v3m0 3v3m1-353v6m0 126v9m0 18v3m1-129v3m0 84v12m0 12v3m0 15v3m1-165v3m0 338v3m1-335v6m0 111v3m1-9v3m0 3v3m1 9v3m0 21v3m1-138v3m0 105v6m0 3v3m1-30v3m0 15v3m1-123v3m0 6v3m0 93v3m0 12v3m0 9v3m0 9v3m0 176v3m1-329v3m0 105v3m0 6v3m0 3v6m0 236v5m1-352v3m0 84v6m0 3v6m1-93v3m1-42v3m0 9v6m0 99v3m0 6v6m1-18v6m0 3v3m0 3v3m1-9v3m1-81v3m0 69v3m0 42v3m0 176v3m0 6v3m1-350v3m0 33v3m0 84v3m0 9v3m1-108v3m0 96v3m0 27v3m0 212v5m1-376v6m0 9v3m0 105v3m0 12v6m0 6v3m1-141v3m0 90v3m0 3v3m1-114v3m0 6v3m0 12v3m0 105v3m0 18v3m1-153v3m0 3v9m0 3v3m0 96v9m0 12v3m0 9v3m0 215v5m1-379v3m0 21v3m0 132v3m1-39v3m0 9v6m0 9v3m1-150v3m0 24v3m0 75v3m0 9v3m0 3v3m1-129v3m0 15v3m0 3v3m0 96v3m0 3v6m1-135v3m0 6v9m0 99v6m1-114v3m0 96v6m0 21v3m0 203v3m1-311v3m0 3v3m0 3v3m0 63v6m0 9v3m0 30v3m2-153v3m0 27v3m0 72v3m0 21v3m1-132v3m0 3v3m0 12v6m0 78v3m1-102v6m0 93v6m0 6v3m0 3v3m1-135v3m0 108v3m0 9v6m0 3v3m0 6v3m1-144v3m0 3v3m0 6v6m0 3v3m0 81v6m0 9v6m0 3v3m1-126v3m0 24v3m0 6v9m0 66v9m0 9v3m1-81v3m0 3v9m0 33v3m0 9v3m0 3v3m1-129v3m0 6v3m0 3v3m0 18v3m0 9v6m0 3v3m0 6v3m0 45v3m0 15v3m0 3v3m1-123v3m0 48v3m0 42v6m0 6v3m0 245v5m1-367v3m0 57v3m0 3v3m0 30v3m0 3v3m1-81v3m0 15v3m0 48v3m0 21v6m1-123v3m0 6v3m0 9v3m0 3v3m0 6v3m0 6v3m0 54v3m0 3v3m0 9v3m1-120v3m0 3v3m0 3v3m0 78v3m0 6v6m1-69v3m0 15v3m0 6v3m0 24v9m0 3v3m0 33v3m1-51v6m1-90v3m0 27v3m0 9v3m0 42v3m0 9v3m0 3v3m0 3v3m1-126v3m0 57v6m0 30v9m0 254v5m1-364v3m0 21v3m0 3v3m0 9v3m0 51v3m0 3v6m0 221v6m1-323v3m0 81v3m0 6v6m0 218v3m1-272v3m0 48v6m0 3v6m0 15v3m1-114v3m0 111v3m0 176v6m1-326v9m0 21v3m0 6v3m0 75v3m0 6v3m0 6v3m1-117v3m0 3v3m0 12v3m0 15v3m0 30v9m1-78v3m0 87v6m0 3v3m0 9v6m0 188v3m1-335v3m0 18v3m0 33v3m0 39v3m0 6v9m0 3v6m0 3v3m0 227v5m1-316v3m0 9v9m0 30v3m0 12v3m0 27v3m0 149v6m0 21v3m1-335v6m0 9v6m0 6v6m0 81v3m0 3v6m0 3v3m1-96v6m1-9v9m0 30v3m0 42v3m0 215v3m0 3v3m1-311v3m0 78v9m0 3v6m0 21v3m0 176v3m0 3v6m1-347v3m0 18v3m0 12v3m0 69v6m0 21v3m1-123v3m0 6v3m0 78v3m0 3v6m0 3v6m0 6v3m1-138v3m0 108v6m0 15v3m1-135v3m0 3v3m0 102v6m1-108v3m0 3v6m0 90v6m0 3v12m0 12v3m1-150v3m0 108v12m0 39v3m1-165v6m0 111v3m0 6v3m0 18v3m0 200v3m0 24v5m1-268v6m0 15v3m0 3v3m0 12v3m0 218v5m1-376v3m0 102v3m0 3v6m0 9v3m0 6v3m1-126v3m0 96v6m0 3v3m0 12v3m1-24v3m0 6v9m0 6v6m1-147v3m0 9v6m0 114v3m0 212v3m1-227v3m0 3v3m0 3v3m1-9v3m0 3v3m0 236v5m1-268v3m0 3v6m0 3v6m0 215v3m1-347v3m0 3v3m0 111v6m0 30v3m0 212v5m1-370v3m0 6v6m0 87v3m0 9v6m1-21v3m0 9v3m0 18v3m1-15v3m0 3v3m1-138v3m0 3v3m0 3v3m0 108v3m1-129v3m0 12v3m0 105v3m1-12v3m0 6v3m0 3v6m0 9v3m0 203v3m1-344v6m0 105v3m0 12v3m1-15v3m0 12v3m0 27v3m1-147v3m0 90v3m0 9v3m0 3v3m1-9v6m0 36v3m1-165v3m0 102v3m1-99v3m0 66v3m0 9v3m0 275v5m1-382v3m0 6v3m0 365v5m1-211v3m1-156v3m0 356v5m1-295v3m1-3v3m0 27v3m0 9v3m0 245v5m1-292v3m0 6v6m0 66v3m1 176v3m1-15v3m0 36v5m1-41v3m0 6v3m0 24v5m1-277v3m0 66v6m0 6v3m0 188v5m1-208v9m0 137v3m0 24v3m1-173v6m0 122v3m0 30v3m1-161v3m0 80v3m1-134v3m0 48v6m0 137v6m0 3v3m0 39v5m1-199v3m0 54v3m1 50v3m0 6v3m0 9v3m0 9v3m0 9v3m0 36v5m1-253v3m0 57v3m0 12v3m0 53v3m0 6v3m0 18v3m0 21v3m0 6v3m0 3v6m0 42v5m1-244v3m0 57v6m0 59v3m0 66v3m1-140v6m0 15v3m0 44v12m0 3v3m0 3v3m0 21v3m1-302v3m0 135v3m0 3v3m0 113v3m0 9v6m0 3v3m0 9v3m0 21v3m0 12v3m1-143v9m0 9v3m0 59v6m0 18v6m0 3v3m0 3v3m0 3v3m0 3v3m1-131v3m0 86v3m1-290v3m1 141v3m0 72v3m0 15v3m1-24v3m0 12v3m1-24v9m1-6v9m0 3v3m1-75v3m1-153v3m0 141v3m0 72v3m0 18v3m1-27v3m0 6v3m1-9v6m0 18v2m1-107v6m0 9v3m0 81v3m1-18v6m0 6v3m0 6v2m1-17v3m0 12v2m1-8v3m0 3v2m1-5v3m1-6v3m1-129v3m0 126v5m1-134v3m0 42v3m0 3v3m1-42v3m0 3v3m0 12v3m1-21v3m1 0v6m2-3v3m0 36v3m1-183v3m2 99v3m0 36v3m2-45v3m0 33v3m0 3v3m0 24v3m1 54v3m1-111v3m3 120v3m1-48v6m0 9v3m0 3v3m1 0v3m4-87v3m9 122v3m0 48v3m5-311v3m2 87v3m1 6v3m1-3v3m0 6v6m0 6v3m0 6v3m0 39v3m2 161v3m0 3v3m1-197v3m0 3v3m1 173v3m1-185v3m1-3v3m1 3v3m1 39v6m2 3v3"/><path stroke="#00ff72" stroke-width="1" d="M102.5 357v3m1-107v3m0 101v3m1-107v3m0 104v3m1-6v3m2-107v3m0 104v3m1 3v3m0 3v3m0 54v5m1-107v3m0 27v6m0 21v3m0 3v12m1-146v6m0 107v6m1-116v9m1 44v3m0 18v3m0 18v3m0 3v3m0 3v3m0 24v3m1-134v3m0 47v3m0 21v3m0 15v3m0 21v3m0 3v6m1-191v3m0 24v3m0 21v6m0 3v6m0 47v6m0 6v3m0 12v3m0 18v3m0 21v3m0 3v3m0 3v3m1-218v3m0 6v3m0 3v6m0 3v3m0 6v6m0 3v6m0 6v3m0 6v3m0 6v3m0 36v3m0 23v3m0 18v3m0 12v6m0 6v6m1-218v3m0 24v6m0 3v3m0 30v3m0 69v3m0 20v6m0 3v9m0 15v3m0 3v3m0 6v9m0 9v9m0 3v3m1-239v3m0 3v3m0 6v6m0 6v3m0 99v3m0 12v2m0 6v3m0 39v6m0 9v9m0 9v3m0 6v3m1-218v3m0 3v3m0 176v3m0 3v3m0 3v6m0 6v3m0 6v3m1-230v6m0 3v6m0 173v3m0 3v3m0 21v3m1-218v3m0 3v3m0 102v3m0 110v3m1-113v3m0 98v6m1-12v3m0 9v3m1-203v3m0 191v3m0 6v3m1-176v3m1 6v6m0 3v3m0 143v3m1-143v3m0 146v3m1-128v3m2 119v3m1-101v6m0 92v3m1-98v5m0 93v3m1-104v3m0 3v2m1 93v3m1-104v6m0 86v3m0 9v3m2-6v3m1-218v3m0 39v3m0 12v3m0 21v3m0 131v3m1-260v6m0 3v6m0 15v3m0 24v3m0 27v3m0 18v3m0 6v9m0 9v6m0 3v3m0 104v3m1-21v6m0 6v6m0 6v3m1-21v3m0 18v3m1-236v3m0 170v3m0 18v3m0 6v3m0 6v6m0 3v3m1-63v6m0 3v15m0 6v3m0 12v6m0 12v3m1-54v6m0 9v3m0 33v3m1-75v3m0 3v3m0 18v3m0 6v3m0 3v3m0 3v3m0 9v3m2-72v3m0 15v6m0 6v3m0 3v3m0 9v9m0 27v3m1-72v3m0 3v3m0 15v3m0 6v9m0 12v3m0 9v3m6-341v3m0 326v6m2-338v3m0 84v3m1 3v6m0 3v3m0 3v3m1-6v3m0 3v3m0 9v6m0 6v3m0 6v3m1-33v3m0 21v3m0 3v21m0 12v3m0 3v3m0 18v3m1-81v3m0 3v6m0 3v3m0 3v3m0 57v3m1-69v3m0 3v3m0 3v3m0 12v6m0 24v6m0 12v6m0 15v3m1-78v3m0 15v9m0 3v3m0 15v3m0 9v3m0 6v3m1-234v3m0 159v3m0 42v3m0 15v6m1-228v3m0 240v6m1-243v3m0 219v3m0 9v3m1-228v3m0 90v3m0 149v3m0 9v3m1-278v9m0 102v6m1 155v3m0 6v3m0 6v3m1-281v3m0 251v3m0 3v3m0 9v3m0 9v3m0 6v3m0 15v3m0 18v3m1-329v3m0 248v3m0 12v3m1-41v3m0 47v3m0 42v3m1-326v3m0 225v3m0 26v6m0 48v3m1-72v3m0 9v3m0 3v3m0 3v3m0 6v3m0 24v3m0 3v3m0 6v6m1-323v3m0 225v3m0 29v3m0 15v6m0 24v3m0 3v6m0 9v3m1-90v3m0 3v3m0 48v3m0 6v3m0 12v3m0 3v3m1-332v6m0 236v3m0 9v3m0 48v6m1-60v6m0 48v3m0 3v15m1-344v3m0 260v3m0 24v3m0 3v6m0 18v3m0 9v3m1-75v3m0 18v3m0 6v6m0 24v3m0 15v3m0 41v11m1-390v3m0 269v3m0 27v3m0 24v3m0 42v16m1-384v3m0 269v3m0 39v6m0 9v3m1-332v3m0 248v6m0 45v3m0 9v3m0 15v6m1-347v3m0 260v3m0 3v3m0 18v3m0 9v3m0 6v9m0 3v3m0 67v10m1-403v3m0 257v3m0 6v9m0 3v3m0 24v3m0 12v3m0 3v3m1-329v3m0 6v3m0 290v3m0 3v3m0 24v3m1-95v3m0 50v3m0 30v3m1-72v3m0 15v9m0 9v3m0 21v3m0 3v3m0 9v3m0 3v3m1-104v3m0 53v3m0 42v3m1 32v11m3-49v6m1 43v10m2-199v6m0 183v10m4-199v3m1 140v3m3-146v3m0 186v10m2-56v3m1-3v3m1-146v3m1-3v3m0 186v10m1-10v10m1-199v3m0 186v10m1-199v3m3-3v3m1 140v3m0 43v10m4-10v10m1-199v3m0 186v10m1-196v3m0 137v3m0 43v10m2-199v3m0 186v10m1-56v3m0 43v10m1-199v3m0 137v6m1-3v3m0 43v10m1-10v10m1-10v10m1-199v6m0 183v10m1-199v3m1 186v10m1-10v10m1-56v6m2-149v3m0 186v10m1-199v3m0 186v10m1-199v3m1 0v3m1-3v3m0 134v3m0 46v10m1-10v10m1-10v10m1-10v10m1-10v10m1-10v10m1-196v3m0 183v10m5-196v3m0 137v3m0 43v10m1-196v3m0 137v3m0 43v10m1-10v10m1-10v10m1-196v3m3 137v3m1-146v3m0 140v3m1-146v3m1 0v3m0 137v3m1-6v3m0 46v10m1-56v3m1-143v3m0 183v10m1-10v10m1-196v3m0 183v10m1-10v10m1-56v3m1-146v3m0 186v10m1-196v3m0 183v10m1-196v3m0 183v10m1-196v3m0 134v3m0 46v10m1-196v3m0 183v10m1-56v3m1-6v3m1 0v3m0 43v10m1-56v3m1-143v3m0 137v3m0 43v10m1-199v6m1-3v3m1-3v3m0 137v3m1 43v10m1-196v3m2-6v6m0 183v10m1-190v3m0 44v3m0 18v3m0 60v6m0 43v10m1-190v3m0 50v3m0 12v3m0 27v3m0 36v3m0 40v10m1-140v3m0 3v3m0 9v3m0 6v3m0 9v9m0 3v15m0 6v3m0 6v3m0 3v3m0 71v10m1-221v3m0 44v3m0 6v3m0 3v3m0 6v6m0 3v6m0 6v3m0 9v3m0 12v3m0 15v3m0 71v10m1-165v3m0 33v3m0 3v3m0 12v3m0 21v3m1-140v3m0 44v3m0 12v3m0 9v3m0 36v6m0 6v3m0 3v3m0 46v10m1-190v3m0 47v3m0 30v3m0 18v3m0 9v3m0 9v3m0 49v10m155-62v3m1-3v3m5-6v6m2-54v3m0 9v3m3-27v6m0 3v3m0 6v6m0 9v6m0 6v6m0 21v3m2-104v5m1-14v3m1-15v6m0 29v3m1 66v3m2-95v3m0 3v3m3-243v3m0 24v3m1-30v6m0 3v3m0 3v3m0 198v3m0 12v6m1-243v3m0 3v3m0 3v3m0 15v3m0 3v3m0 15v3m0 150v6m1-210v3m0 3v3m0 33v3m0 227v6m1-278v3m0 18v3m0 192v3m0 3v3m0 12v3m1-225v3m0 3v3m0 177v3m1-207v3m0 6v3m0 204v3m0 9v3m0 3v3m0 9v3m0 101v3m1-347v3m0 234v3m1-243v3m0 9v3m0 27v3m0 189v3m1-54v3m1-183v3m0 207v6m0 3v9m0 12v3m1-246v3m0 30v3m0 174v3m0 18v6m0 6v3m1-237v3m0 3v3m0 186v3m0 3v3m1-192v3m0 21v3m0 156v3m0 9v3m1-177v3m0 159v3m1-210v3m0 30v3m0 6v3m0 171v3m1-33v3m0 3v3m1-144v3m0 147v3m1-195v3m0 36v6m0 150v9m1-45v3m0 3v9m1-147v3m0 9v3m0 141v6m1-186v3m0 207v3m0 12v3m0 6v3m1-243v3m0 24v3m0 162v3m0 9v3m0 9v3m1-213v3m0 201v3m1-213v3m0 30v3m0 3v3m0 165v3m1-204v3m0 177v3m1 18v3m0 71v3m0 9v3m1-272v3m0 3v3m0 9v3m0 144v6m1-18v6m1-180v3m0 18v3m0 9v3m0 159v3m2-159v3m0 153v3m0 3v3m0 59v3m0 21v6m0 15v3m0 3v3m0 21v3m1-341v3m0 39v3m0 141v3m0 6v3m1-207v3m0 9v3m0 335v3m1-308v3m0 168v3m1-192v3m0 174v6m1-210v3m0 198v3m0 89v3m0 9v3m0 3v3m1-308v3m0 6v3m0 6v3m0 189v3m0 3v6m0 68v6m0 18v6m1-323v3m0 3v3m0 9v3m0 198v3m0 15v3m0 47v6m0 9v6m0 18v3m1-308v3m0 9v3m0 162v3m0 9v3m1-207v3m0 207v3m0 62v6m0 6v3m0 6v6m0 6v3m1-314v3m0 3v3m0 12v6m0 9v3m0 165v3m0 6v3m0 65v6m0 9v3m0 6v3m0 3v6m0 15v3m1-335v6m0 36v3m1-3v3m0 147v3m0 9v3m1-213v3m0 39v3m0 3v6m0 132v3m0 6v9m0 89v3m1-278v3m0 18v3m0 165v3m0 92v3m1-305v3m0 24v6m0 186v6m0 3v6m0 50v3m0 3v3m0 15v6m1-275v3m0 272v6m1-311v6m1 3v3m0 6v3m0 245v3m0 12v3m0 27v3m1-311v3m0 180v3m0 3v9m1-162v3m0 141v6m0 113v3m1-290v3m0 192v3m0 86v3m0 3v3m0 12v3m1-152v6m1-147v3m0 9v3m0 135v6m0 101v3m1-269v3m0 12v3m0 138v6m0 3v3m1-162v6m0 153v3m0 3v3m1-9v6m1 0v3m0 3v6m0 101v3m1-305v6m0 30v3m0 135v3m1-177v3m0 3v3m0 15v3m0 153v3m0 9v3m1-192v3m0 6v3m0 3v3m0 6v3m0 159v3m0 6v3m1-195v3m0 9v9m0 165v3m0 6v6m0 56v3m0 21v3m0 30v3m1-314v3m0 21v3m0 132v3m1-159v6m0 6v6m0 254v3m1-98v12m1-204v3m0 18v6m0 171v9m1-198v3m0 3v3m0 3v3m1-30v3m0 6v3m0 9v3m0 3v3m0 168v3m1-183v3m0 3v3m0 183v3m1 0v6m0 3v6m0 12v3m1-237v3m1-6v3m0 15v3m0 12v3m0 168v9m1-207v3m0 3v3m0 15v3m1-36v3m0 201v3m0 3v3m1-207v3m0 180v3m0 6v3m1-204v3m0 195v3m1-192v3m0 198v3m0 71v3m0 21v3m0 3v3m0 3v3m1-323v3m0 9v3m0 6v3m0 189v3m0 44v3m0 6v6m0 21v3m0 3v3m0 9v3m0 6v6m0 6v6m1-335v3m0 3v3m0 6v3m0 183v3m1-9v3m0 15v6m0 3v3m0 6v3m1-207v3m0 144v3m0 12v3m1-189v9m0 183v3m1 18v3m1-216v3m0 9v3m0 6v3m0 156v3m0 12v3m0 68v3m0 33v6m0 21v3m1-332v3m0 210v3m0 83v3m0 12v3m0 6v6m1-332v3m0 3v3m0 174v3m1-165v3m0 12v3m0 135v3m1-165v6m0 186v3m0 98v3m0 6v3m1-101v3m0 86v3m1-290v9m0 147v3m0 9v6m0 134v3m1-317v3m0 3v3m0 3v3m1 272v3m0 3v3m0 24v3m0 36v5m1-178v3m0 9v3m0 50v6m0 3v6m0 9v3m0 12v3m0 24v3m1-119v9m0 71v3m1-281v3m0 177v3m0 173v5m1-373v3m0 6v6m0 177v9m0 6v3m1-213v3m1 3v12m0 174v3m0 6v3m0 167v5m1-373v3m0 18v3m0 144v3m0 18v6m1 33v6m0 6v3m0 125v5m1-379v3m0 12v6m0 156v3m0 3v3m0 134v3m1-119v3m0 167v5m1-361v6m0 183v3m0 71v3m0 90v5m1-376v3m0 177v3m0 6v6m0 9v3m0 164v5m1-382v3m0 180v6m1-177v3m0 15v3m0 159v3m0 6v6m1-183v3m0 6v3m1-21v3m1 186v9m1-213v12m0 3v3m0 165v3m0 3v9m1-168v6m0 3v3m0 135v3m0 3v3m1 33v6m0 21v3m1-222v6m0 3v3m0 141v3m1-168v3m0 195v3m1-213v3m0 6v3m0 174v3m1-183v6m0 6v3m0 162v3m0 12v3m1-201v9m0 12v3m0 174v3m0 3v6m1-213v3m0 6v6m0 174v3m1 6v6m1-189v12m0 3v3m0 3v3m0 126v9m0 6v3m0 143v6m0 3v3m0 3v3m0 3v6m1-152v9m0 33v3m0 3v3m0 80v3m0 9v3m1-347v3m0 18v6m0 308v9m1-326v3m0 6v3m0 3v3m0 138v3m1-156v3m0 150v3m0 6v3m0 143v6m0 6v3m1-335v6m0 177v12m0 128v6m0 3v3m0 3v6m0 24v5m1-364v3m0 153v6m0 152v9m0 36v5m1-352v6m0 123v3m0 3v3m0 9v6m0 152v3m1-161v3m0 6v3m0 54v3m1-66v6m0 9v3m0 9v3m0 131v6m1-314v6m0 120v3m1 21v6m0 30v3m0 113v3m0 3v3m0 6v3m1-185v3m0 164v3m0 3v3m0 3v3m1-350v3m0 3v6m0 3v3m0 138v3m0 6v3m0 173v3m1-323v3m0 144v3m0 6v3m0 170v3m1-347v6m0 3v6m0 123v3m0 15v6m0 12v3m0 9v3m0 39v3m0 92v3m0 3v3m1-326v3m0 9v6m0 150v6m0 24v3m0 122v3m1-314v3m0 129v3m0 72v3m0 98v3m0 6v3m1-302v3m0 93v3m0 194v3m0 6v9m1-344v3m0 9v3m0 114v3m0 6v9m0 6v6m0 6v3m0 6v3m0 42v3m0 113v6m1-341v3m0 9v6m0 6v3m0 290v3m1-329v3m0 9v3m0 3v3m0 9v3m0 9v3m0 114v3m0 173v3m1-338v3m0 6v6m0 6v3m0 9v3m0 117v6m0 15v6m0 42v3m0 116v6m0 3v3m1-353v3m0 18v3m0 135v3m0 9v6m0 45v3m0 101v3m0 9v3m1-332v3m0 141v3m0 3v3m0 12v6m0 18v3m0 137v6m0 3v3m1-350v6m0 27v3m0 3v6m0 105v6m1-132v3m0 129v3m0 3v3m1-165v3m0 12v3m0 12v3m0 123v3m0 33v6m0 18v3m0 122v3m0 6v3m1-317v6m0 6v3m0 165v3m0 107v9m0 3v3m0 9v3m0 24v5m1-328v3m0 266v3m0 6v6m1-323v3m0 6v3m0 123v3m0 9v3m0 173v3m1-329v3m0 24v3m0 117v9m0 15v9m0 12v6m0 122v3m0 42v5m1-373v6m0 12v3m0 132v3m0 33v3m0 6v3m0 134v3m1-347v3m0 156v3m0 12v3m0 30v3m0 131v3m0 3v3m1-305v3m0 96v3m0 60v3m0 119v3m0 9v9m0 27v5m1-361v3m0 24v3m0 78v3m0 3v3m0 69v3m0 128v3m0 36v5m1-379v6m0 15v3m0 12v6m0 93v3m0 15v3m0 3v3m0 176v6m1-293v3m0 3v3m0 84v3m0 176v6m0 15v3m1-296v3m0 147v3m0 125v3m0 3v3m1-317v3m0 27v3m0 3v3m0 284v3m0 27v5m1-355v3m0 317v3m1-308v3m0 156v3m0 137v3m0 3v3m1-293v3m0 272v3m0 3v12m1-320v3m0 21v3m0 272v6m0 6v3m0 3v3m1-15v3m0 3v6m1-347v3m0 144v6m0 33v3m0 3v3m0 143v3m1-293v3m0 96v3m0 188v3m0 3v3m0 3v3m1-341v3m0 42v3m0 284v3m0 3v3m1-311v3m0 15v3m0 132v3m0 146v3m1-308v3m0 111v3m0 182v3m1-341v3m0 347v3m1-341v3m1-9v3m0 27v3m0 102v3m0 48v3m0 137v9m1-317v3m0 24v3m0 135v3m0 143v12m1-344v3m0 320v3m0 3v3m0 12v3m1-350v3m0 3v6m0 48v3m0 275v6m0 3v3m1-341v3m0 18v3m0 18v3m0 293v3m1-347v3m0 135v3m0 45v3m0 146v3m1-341v3m0 138v3m0 45v3m0 140v3m0 3v12m1-350v3m0 51v3m0 275v3m0 9v3m1-326v3m0 33v3m1-54v3m0 33v3m0 96v6m0 200v3m1-350v3m0 36v3m0 6v3m1-45v3m0 24v3m0 12v3m0 3v3m0 293v3m0 24v5m1-376v3m0 15v3m0 117v6m0 6v6m0 15v3m0 6v3m0 188v5m1-196v3m0 158v3m1-164v3m0 140v3m0 9v3m0 6v3m1-314v3m0 290v3m1-317v3m0 12v3m0 147v3m0 152v3m0 3v3m1-329v3m0 18v3m0 293v6m0 9v3m1-203v3m0 12v12m0 161v6m0 33v5m1-244v3m0 185v6m0 3v6m0 6v3m1-350v3m0 138v3m0 36v3m0 155v3m1-161v3m0 146v3m0 6v9m1-311v3m0 302v3m0 3v3m1-323v3m0 296v12m1-158v3m0 149v3m0 9v3m1-338v3m0 144v3m0 179v6m1-311v3m0 296v3m1-335v6m0 24v3m0 290v3m0 6v3m0 9v3m0 30v5m1-352v6m0 305v3m1-15v9m0 12v3m0 24v5m1-346v3m0 138v3m0 158v9m1-170v3m0 158v6m0 3v3m1-350v3m0 3v3m0 15v3m1 311v6m1-338v3m0 141v6m0 6v3m0 182v6m0 24v5m1-379v3m0 30v3m0 311v3m1-353v3m0 3v3m0 126v3m0 200v9m1-320v3m0 144v3m0 200v5m1-355v6m0 9v6m0 293v3m0 3v3m0 27v5m1-337v3m0 126v3m0 158v3m0 9v3m1-212v3m0 194v3m0 3v3m0 6v3m2-353v3m0 141v3m0 188v3m0 3v3m0 33v5m1-382v3m0 132v3m1-111v3m0 9v3m0 299v3m1-173v3m0 164v9m1-317v6m0 102v3m0 209v3m1-320v3m0 96v3m0 209v3m1-212v3m0 30v3m0 170v3m1-341v6m0 24v3m0 102v3m0 18v3m0 6v3m0 179v3m0 24v5m1-382v3m0 21v9m0 3v6m0 302v6m2-350v3m0 27v3m0 3v3m0 105v3m0 200v3m1-332v6m0 3v3m0 114v3m1-147v3m0 165v3m1 167v3m0 9v3m1-350v3m1 332v3m0 3v3m1-341v3m0 9v3m0 144v3m1-165v3m0 12v3m0 356v5m1-340v6m1 0v3m0 81v3m0 30v3m0 182v3m0 24v5m1-376v3m0 156v3m0 170v3m0 3v3m1-335v3m0 6v3m0 6v3m0 99v3m0 206v3m0 3v3m0 27v5m1-32v3m1-311v6m0 81v3m1-123v3m0 12v3m1-27v3m0 3v3m0 15v3m0 15v3m1-9v3m0 3v3m0 305v3m1-353v3m1-3v6m0 33v6m0 84v3m1-105v3m0 15v3m0 114v3m1-159v6m0 132v3m0 15v3m1-144v3m0 15v3m0 99v6m1-135v3m0 30v3m0 114v3m0 212v5m1-244v3m0 21v3m0 212v5m1-343v6m0 96v3m0 6v3m0 197v3m1-347v3m0 126v6m0 209v3m0 24v5m1-220v3m0 182v3m0 27v5m1-47v3m0 3v3m0 3v6m1-311v9m0 296v3m1-302v6m0 78v3m1-132v3m0 126v3m0 3v3m0 3v3m1-141v3m0 132v3m1-108v3m0 90v3m0 6v3m1-105v3m0 3v3m0 78v3m0 27v3m0 194v3m1-230v3m0 27v3m1-141v3m0 108v3m0 21v3m1-108v3m0 78v3m1-3v9m1-6v3m0 6v3m0 6v3m0 200v3m1-305v3m0 108v3m0 215v5m1-331v3m0 72v3m0 12v3m1-102v3m0 6v3m0 69v3m0 3v3m0 212v3m1-344v3m0 9v3m0 108v6m0 3v3m1-138v3m0 39v3m0 93v3m0 15v3m1-36v6m0 3v3m0 3v3m1-9v3m0 12v3m1-102v3m0 72v3m0 18v6m1-129v3m0 96v3m1-117v3m0 36v6m0 87v3m0 15v3m1-39v6m0 3v6m0 9v6m1-138v3m0 3v3m0 135v3m0 191v3m1-353v6m0 132v3m1-138v3m0 126v3m0 3v3m0 3v6m0 200v3m1-335v3m0 9v3m0 99v3m0 3v6m0 3v6m1-147v3m0 9v3m0 12v3m0 93v3m0 9v6m1-147v3m0 24v3m0 6v3m0 78v6m0 6v9m0 3v3m1-144v6m0 117v6m0 12v3m0 6v3m1-33v9m0 3v3m1-126v6m0 6v3m0 117v3m1-144v3m0 3v6m0 3v3m0 6v3m0 99v3m0 3v3m0 6v3m0 3v6m0 6v3m0 188v3m1-347v3m0 15v3m0 87v3m0 24v3m0 233v5m1-265v6m0 9v3m1-93v3m0 114v3m1-24v3m1-102v3m0 78v3m0 24v3m0 3v3m0 3v3m1-147v3m0 96v3m0 9v3m1-129v3m0 12v3m0 15v3m0 81v3m0 24v3m0 3v3m1-138v6m0 93v9m0 6v3m0 18v3m1-141v3m0 9v3m0 105v3m0 3v3m0 18v3m1-159v3m0 6v3m0 99v3m0 9v3m0 30v3m1-138v3m0 9v3m0 75v3m0 9v3m0 3v3m0 12v3m1-144v3m0 3v3m0 105v3m1-90v3m0 75v6m0 12v3m0 27v3m1-12v3m0 197v3m1-353v3m0 18v3m0 3v3m0 84v3m0 3v3m1-114v3m0 111v3m0 3v3m0 6v3m0 18v3m1-153v3m0 9v3m0 3v3m0 6v3m0 93v3m0 3v3m0 18v3m1-162v3m0 6v3m0 27v3m0 75v3m0 12v3m1-111v3m0 3v6m0 87v3m1-96v3m0 6v3m0 9v6m1-48v3m0 3v3m0 12v3m0 3v3m0 81v12m1-117v3m0 9v3m0 93v3m0 3v3m0 6v3m0 9v3m0 3v6m1-138v3m0 105v3m0 9v6m1-141v6m0 3v3m0 111v3m0 3v3m0 18v3m1-162v3m0 12v3m0 132v3m1-153v6m0 15v3m0 12v3m0 6v3m0 63v3m0 3v3m0 18v3m1-141v3m0 3v6m0 12v3m0 21v3m0 9v3m0 51v3m1-108v3m0 3v3m0 3v9m0 15v3m0 18v3m0 51v3m0 6v6m0 3v3m0 3v6m1-150v3m0 33v6m0 21v6m0 45v3m0 21v3m1-120v3m0 9v3m0 21v3m0 9v6m0 3v3m0 36v3m0 6v3m0 9v3m0 18v3m1-162v3m0 21v3m0 3v3m0 45v6m0 24v3m0 9v6m0 3v6m0 12v3m1-147v3m0 27v6m0 12v3m0 3v3m0 6v3m0 3v6m0 3v3m0 60v3m0 12v3m1-138v3m0 3v3m0 27v6m0 12v3m0 36v3m0 9v3m0 9v3m1-87v3m0 3v3m0 6v3m0 57v6m0 3v3m0 3v3m1-117v6m0 3v3m0 21v6m0 6v3m0 39v9m0 3v3m0 9v3m0 12v3m1-114v3m0 30v3m0 27v3m0 18v3m0 3v3m0 12v9m1-135v3m0 42v6m0 33v3m0 9v3m0 9v3m0 12v3m0 6v3m1-117v3m0 6v6m0 21v3m0 45v3m0 209v3m1-224v3m0 6v6m0 12v3m0 9v3m1-162v3m0 63v3m0 6v3m0 39v3m0 3v3m1-72v3m0 24v3m0 42v3m1-126v3m0 27v3m0 6v3m0 3v3m0 6v3m0 69v3m0 9v3m0 9v3m1-78v3m0 45v9m0 6v3m0 15v3m1-111v3m0 6v3m0 18v3m0 42v9m0 12v3m1-141v9m0 6v6m0 3v3m0 42v3m0 75v3m1-159v3m0 39v6m0 90v3m0 203v9m1-347v3m0 6v3m0 12v6m0 9v3m0 21v3m0 63v3m0 3v3m0 6v3m0 3v3m0 3v3m0 95v33m0 3v6m0 6v3m1-260v3m0 3v3m0 30v3m0 30v3m0 24v3m0 12v3m0 92v33m0 3v18m0 12v3m1-308v3m0 6v9m0 30v3m0 57v12m0 21v3m1-162v3m0 15v6m0 3v3m0 3v3m0 93v3m0 6v3m0 3v3m0 9v3m1-150v3m0 21v6m0 3v3m0 72v3m0 15v3m0 18v3m1-162v6m0 12v3m0 93v3m0 15v3m1-129v3m0 9v3m0 6v3m0 6v3m0 84v3m0 6v3m0 3v3m0 3v3m0 3v3m0 6v3m1-156v3m0 6v6m0 9v3m0 87v3m0 6v6m0 27v3m1-45v3m0 12v3m1-123v3m0 108v3m0 27v3m1-30v3m0 6v3m0 3v3m0 12v3m1-42v9m0 9v3m0 6v3m1-141v3m0 6v3m0 105v3m0 6v3m1-15v3m0 9v3m0 15v3m1-33v6m0 12v3m0 6v3m0 3v6m1-162v3m0 9v3m0 105v3m0 3v9m1-132v3m0 6v3m0 99v3m0 42v3m1-36v3m0 6v3m0 9v6m1-147v3m0 126v3m0 3v3m1-24v6m1-9v6m0 9v6m0 3v6m1-21v3m0 3v3m0 3v6m0 6v3m1-12v3m1-132v3m0 3v6m0 87v9m0 3v3m0 3v6m1-129v3m0 117v12m0 24v3m0 185v3m1-227v3m0 6v3m0 3v3m0 15v6m1-48v3m0 3v6m1-12v3m0 15v3m1-132v3m0 114v3m0 6v3m1-18v3m0 21v3m1-15v6m1-39v3m0 6v6m1-12v3m0 6v3m1-21v3m1-6v3m0 3v6m0 3v3m1-12v3m0 27v3m1-33v3m0 15v3m0 27v3m0 203v3m1-215v6m1-27v3m1 9v3m1-21v3m0 6v3m0 3v3m0 45v3m0 3v3m1-60v6m0 9v6m0 30v3m1-63v3m0 236v3m1-242v3m0 227v9m1-173v3m1-54v3m0 51v3m0 140v3m0 12v9m0 3v3m1-21v3m0 12v6m1-227v3m0 57v3m0 6v3m1-12v3m0 104v3m0 3v3m0 3v3m0 42v3m1-158v3m0 62v3m0 6v3m0 15v3m0 39v3m1-72v3m0 18v3m0 6v3m0 6v6m0 24v12m0 36v5m1-241v3m0 51v3m0 3v3m0 62v3m0 39v3m0 9v6m0 3v3m0 6v3m0 36v5m1-226v6m0 36v3m0 95v6m0 15v3m0 3v3m1-164v3m0 36v3m0 3v3m1-63v3m0 66v3m0 44v3m0 48v3m0 3v3m0 12v3m1-338v3m0 3v3m0 144v3m0 51v3m1-57v3m0 6v3m0 45v6m1-57v6m0 125v3m1-77v3m1-3v6m1-3v3m0 3v3m1-6v3m0 12v3m1-15v3m1-72v3m0 72v3m1 6v3m1-93v3m0 3v9m0 6v6m0 54v3m0 6v3m1-6v9m1-6v3m1-129v3m0 3v3m0 36v3m0 81v3m0 3v3m1-96v3m1-30v3m0 6v6m0 6v3m0 6v3m0 6v3m0 15v3m0 63v2m1-125v3m0 24v3m1-21v6m0 108v2m1-119v3m0 21v15m2-48v6m0 21v3m0 21v3m0 6v3m3-57v3m0 9v9m0 24v3m1-54v3m1-24v3m0 24v3m0 12v6m0 6v3m0 15v3m0 15v3m1 30v3m1-108v3m0 12v3m0 18v3m0 9v6m0 6v3m1-18v3m3 21v3m0 9v3m0 6v3m0 6v3m0 9v3m0 6v3m1-18v3m1-69v6m0 6v3m1-177v3m3 102v3m2-18v3m1 245v3m2-245v3m1-12v3m1 6v3m0 18v3m0 152v3m1-182v3m0 224v6m0 6v6m0 12v3m3-57v3m1-296v3m0 81v3m1-3v3m0 3v3m0 3v3m3-15v3m0 6v3m0 12v6m0 93v3m0 21v3m0 6v3m0 6v2m1-158v3m0 6v3m0 21v3m0 3v9m0 12v3m0 3v3m0 87v2m0 149v21m1-21v21m1-262v3m0 170v3m0 9v6m0 50v21m1-92v3m0 68v21m1-274v3m0 250v21m1-271v3m0 247v21m1-271v6m0 244v21m1-271v3m0 6v3m0 3v3m0 3v3m0 6v3m0 217v21m1-116v3m0 92v21m1-217v3m0 77v3m0 9v18m0 86v21m1-134v27m0 3v9m0 74v21m1-217v3m0 77v42m0 74v11m1-207v3m0 80v42m0 71v11"/><path stroke="#00ff5b" stroke-width="1" d="M104.5 354v3m1-101v3m0 95v3m1 0v3m2-107v3m0 95v3m0 3v9m0 9v3m1-119v3m0 71v3m0 3v6m0 27v9m0 6v3m1-63v6m0 18v3m0 3v3m0 3v3m0 9v6m0 12v6m0 35v11m1-153v3m0 50v3m0 12v9m0 6v3m0 6v6m1-125v3m0 27v3m0 20v6m0 3v3m0 6v3m0 3v3m0 3v3m0 6v3m0 9v21m0 6v6m1-75v9m0 9v6m0 6v3m0 3v3m0 3v9m0 3v3m0 6v6m0 3v3m1-146v3m0 18v3m0 38v3m0 24v9m0 9v21m0 3v3m0 3v3m0 3v3m1-200v3m0 3v3m0 9v3m0 24v3m0 62v3m0 9v3m0 3v9m0 9v3m0 9v3m0 12v6m0 3v15m1-188v3m0 33v3m0 36v3m0 3v3m0 3v3m0 3v2m0 57v3m0 9v3m1-194v3m0 57v3m0 39v3m0 12v3m0 59v3m0 12v3m0 3v3m0 3v6m0 3v3m1-224v3m0 15v3m0 15v3m0 33v3m0 33v3m0 12v5m0 78v6m0 6v3m1-18v3m0 9v9m1 32v11m1-270v3m0 3v3m1 102v3m1-87v3m1-6v3m0 18v3m0 12v3m1-12v3m0 21v3m1-15v3m0 6v3m0 9v6m0 15v3m0 3v3m1-39v3m0 27v3m5 18v3m4-3v3m1-162v6m1-9v3m0 6v3m0 141v6m0 101v3m1-227v3m0 3v9m0 15v3m0 24v3m1 152v3m1-239v3m0 6v3m0 12v3m0 3v6m0 27v3m0 179v6m1-48v3m0 6v6m0 15v3m0 9v6m1-33v6m0 9v3m0 3v3m0 3v6m1-90v3m0 15v3m0 3v6m0 3v3m0 12v3m0 3v3m1-51v3m0 3v3m0 18v3m1-33v6m0 6v3m0 24v3m0 27v3m1-75v6m0 3v3m0 18v3m0 3v3m0 39v3m1-78v3m0 30v3m1 30v3m3-51v3m0 51v3m1-251v3m0 209v3m0 6v3m0 9v3m0 6v3m0 6v6m0 6v3m1-263v6m1-3v3m0 3v3m1-3v3m0 3v3m0 3v3m0 12v3m1-123v3m0 108v3m0 9v3m0 6v3m0 6v3m0 6v3m1-33v3m0 36v6m0 9v3m0 6v6m0 6v3m0 9v3m0 27v3m0 3v5m1-248v3m0 129v3m0 12v3m0 3v3m0 18v3m0 33v3m1-54v3m0 6v3m0 6v3m0 3v3m0 18v3m0 9v9m0 3v3m0 6v3m1-234v6m0 153v3m0 24v3m0 3v6m0 6v6m0 21v3m1-234v3m0 183v3m0 45v3m1 3v2m1-254v3m0 3v3m0 3v3m0 183v3m0 18v3m1-207v3m0 3v3m0 257v3m1-24v3m0 6v3m0 3v3m0 9v3m0 3v9m0 42v3m1-347v3m0 15v3m0 225v3m0 11v6m0 9v3m0 9v3m0 48v3m1-335v6m0 234v3m0 32v3m0 6v3m0 15v3m0 6v6m0 12v3m0 9v3m1-338v3m0 231v3m0 17v3m0 12v3m0 27v3m0 3v3m0 12v3m1-320v6m0 242v6m0 6v3m0 12v6m0 3v3m0 3v3m0 36v3m1-347v3m0 3v3m0 254v3m0 3v3m0 21v3m0 3v6m0 18v3m0 12v3m1-66v3m0 3v3m0 12v3m0 6v6m0 33v3m1-347v3m0 12v3m0 296v3m0 3v6m1-51v3m0 27v6m0 3v3m0 3v6m0 12v3m0 3v3m1-338v3m0 251v3m0 15v3m0 3v3m0 6v6m0 45v3m1-344v3m0 9v3m0 260v3m0 6v3m0 3v3m0 9v6m0 33v3m1-338v3m0 231v3m0 20v9m0 6v3m0 15v3m0 3v3m0 6v3m0 3v3m0 12v3m1-338v12m0 248v3m0 9v3m0 18v3m0 36v3m0 6v3m1-335v3m0 248v3m0 21v3m0 9v3m0 21v3m0 18v6m1-350v6m0 240v3m0 17v6m0 6v3m0 6v3m0 9v3m0 3v3m0 24v6m1-89v5m0 15v3m0 27v3m0 24v3m0 9v3m0 6v3m1-90v3m0 12v3m0 30v3m0 15v6m1-320v3m0 3v3m0 245v3m0 15v3m0 3v6m0 3v3m0 9v3m0 18v3m0 3v3m0 6v3m1-75v3m0 21v3m0 6v3m0 30v6m1-341v3m0 254v3m0 3v3m0 3v9m0 3v6m0 51v6m1-104v3m0 20v3m0 3v3m0 18v3m0 6v6m0 9v3m0 3v3m0 6v3m0 6v3m1-84v3m0 39v3m0 24v6m0 6v3m0 35v11m1-147v3m1 98v3m1-3v3m0 32v11m2-46v3m1 43v10m2-193v3m0 134v3m0 43v10m1-196v3m1-3v3m1-3v3m0 137v3m1 43v10m1-56v3m0 43v10m1-196v3m0 137v3m0 43v10m1-196v3m0 137v3m1-3v3m0 43v10m1-196v3m0 183v10m1-196v3m0 183v10m1-10v10m1-56v3m1-6v3m1-140v3m0 137v3m1 43v10m1-196v3m0 183v10m1-196v3m0 183v10m1-10v10m2-196v3m0 183v10m1-196v3m0 137v3m0 43v10m1-10v10m2-196v3m1 167v5m1-175v3m0 183v10m1-56v3m2 43v10m1-199v3m1 0v3m3 183v10m1-196v3m0 134v3m2 46v10m1-10v10m3-10v10m1-10v10m2-196v3m0 134v3m3-140v3m0 137v3m3 43v10m1-196v3m0 183v10m1-196v3m0 183v10m1-196v3m0 183v10m3-196v6m0 134v3m1-143v3m0 137v3m1 43v10m1-10v10m1-10v10m1-10v10m1-10v10m1-59v6m0 43v10m1-10v10m1-199v3m1 186v10m3-199v3m0 137v6m1-143v6m0 131v6m1-143v3m2 0v3m0 131v3m1 77v10m1-224v3m1-3v3m1-3v3m0 131v3m0 46v10m1-196v3m0 183v10m1-65v3m0 3v3m0 30v5m1-32v3m0 24v5m1-47v3m2 9v3m1-6v3m1-137v3m1 180v10m1-59v3m0 46v10m1-86v3m0 24v3m1-131v6m0 44v3m0 24v3m0 24v3m0 9v12m0 6v3m1-90v3m0 6v9m0 9v3m0 3v6m0 6v3m0 3v3m0 12v6m0 6v3m1-78v3m0 9v3m0 3v3m0 9v6m0 9v3m0 18v3m0 3v3m0 52v10m1-131v3m0 15v3m0 21v3m0 3v3m0 3v6m0 3v9m0 49v10m1-190v3m0 44v6m0 12v6m0 6v6m0 6v3m0 15v3m0 9v3m0 58v10m1-134v3m0 24v3m1-33v3m0 6v3m0 9v3m0 15v3m0 6v3m0 3v3m0 3v3m0 3v3m0 3v3m0 9v3m155-24v3m0 3v6m1-9v6m1-6v3m0 6v6m1-9v3m0 6v6m1-12v3m1-98v3m0 68v6m0 9v3m0 3v6m1-95v3m0 8v3m0 9v3m0 51v3m0 6v3m0 6v3m1-98v3m0 17v3m1-26v6m0 8v3m0 15v3m0 12v3m0 3v3m0 27v3m0 15v6m1-81v3m1-29v3m0 38v3m1-15v3m0 12v3m0 24v3m0 9v3m0 6v3m4-95v3m0 17v3m0 3v3m0 3v3m1-38v3m3 3v3m2-6v3m1-30v3m0 12v3m1-222v3m0 195v3m0 113v3m1-317v3m0 9v3m0 9v6m0 227v3m0 6v3m0 42v3m0 12v3m1-326v3m0 6v6m0 6v6m0 186v3m0 12v3m1-243v3m0 6v3m0 3v3m0 15v3m0 3v6m0 162v3m0 3v9m1-192v3m0 192v3m0 71v3m1-305v3m0 3v3m0 18v3m0 204v3m0 9v5m1-248v3m0 3v3m0 6v3m0 18v3m0 186v6m0 12v5m1-254v3m0 3v3m0 9v3m0 9v3m0 18v3m0 141v3m1-198v6m0 9v6m0 201v3m0 9v6m0 12v2m1-215v3m0 198v3m1-219v3m0 6v3m0 210v3m1-249v3m0 33v3m0 3v6m0 162v3m0 12v3m1-180v3m0 165v3m0 6v3m0 6v3m1-228v3m0 6v3m0 6v3m0 180v6m0 3v9m1-219v3m0 9v3m0 159v3m1-180v3m0 6v3m0 30v3m0 165v3m1-219v3m0 9v3m0 198v6m1-168v3m0 3v3m0 102v3m0 18v3m0 6v3m0 137v3m1-311v6m1-21v3m0 15v3m0 6v6m0 174v3m0 6v3m1-213v3m0 6v3m0 9v3m0 174v3m1-216v3m0 33v6m0 3v3m0 165v3m0 9v3m1-210v3m0 6v3m0 174v3m0 59v3m0 33v3m0 15v3m1-323v3m0 18v3m0 6v3m0 168v6m1-198v9m0 12v3m0 183v3m0 15v3m1-231v3m0 24v3m0 3v3m0 3v3m0 159v3m0 3v3m1-171v3m0 3v3m0 138v3m1-192v6m0 18v3m0 15v3m0 159v3m0 3v3m1-192v3m0 177v3m0 3v6m1-216v3m0 9v3m0 245v3m0 30v3m0 12v3m0 3v3m0 9v3m0 3v12m1-344v3m0 39v3m0 153v6m0 12v3m0 68v6m0 3v3m1-284v3m0 21v3m0 3v3m0 162v6m0 95v3m0 3v3m1-317v6m0 6v3m0 204v9m0 77v6m0 3v3m0 6v3m0 3v6m1-332v3m0 24v6m0 6v3m1-27v3m0 9v3m0 6v6m0 159v6m0 6v3m0 62v6m0 12v3m0 3v3m1-293v6m0 3v3m0 183v3m0 12v3m0 6v6m0 3v3m0 20v3m0 15v3m1-254v3m0 3v3m0 174v3m0 27v3m0 17v6m0 27v3m0 18v3m0 6v3m1-335v3m0 9v3m0 3v3m0 21v3m0 171v3m0 80v3m0 3v3m0 9v3m1-320v6m0 12v6m0 6v6m0 3v3m0 183v3m0 6v6m0 38v3m0 9v3m0 18v3m0 6v3m0 12v3m0 3v3m0 3v6m1-344v3m0 3v3m0 18v3m0 186v3m0 65v3m0 33v3m0 15v3m1-335v3m0 6v6m0 15v3m0 165v3m1-192v3m0 3v3m0 3v6m0 162v3m0 6v3m1-171v3m0 141v3m0 12v3m0 71v6m0 15v6m1-302v3m0 210v3m0 59v3m0 3v3m0 6v3m0 3v3m0 24v3m1-314v3m0 3v3m0 9v3m0 198v3m0 12v3m0 20v9m0 18v6m0 15v3m0 6v3m1-299v3m0 171v3m0 98v3m0 9v6m1-320v3m0 24v3m0 165v3m1-204v3m0 9v3m0 6v3m0 12v3m0 180v3m0 65v3m0 12v6m0 6v3m0 6v3m1-296v3m1-15v3m0 177v9m0 86v3m0 12v3m0 6v6m0 6v6m1-329v3m0 284v3m0 15v3m0 3v3m0 3v3m0 6v3m0 6v3m1-338v6m0 6v3m0 24v6m0 144v3m1-165v3m0 162v3m0 80v3m0 9v3m0 9v3m0 3v3m0 3v3m1-317v3m0 15v6m0 153v3m0 9v3m0 6v3m1-198v6m0 9v3m0 21v3m0 144v3m0 12v3m1-204v3m0 3v3m0 3v3m0 180v6m0 86v3m0 24v3m1-302v9m0 3v6m0 189v3m0 89v3m1-278v3m0 147v3m0 6v3m0 107v3m1-287v6m0 3v3m0 168v3m1-180v6m0 174v3m0 15v3m1-228v9m0 216v3m0 32v3m0 27v3m0 18v3m0 6v6m0 3v3m0 9v3m1-167v3m0 3v3m1-171v3m0 192v9m0 3v3m0 89v3m0 21v6m1-347v3m0 27v3m0 3v6m0 215v3m2-251v6m0 198v3m0 6v3m1-222v6m0 9v3m0 3v3m0 177v3m0 9v3m1-222v3m0 27v3m0 156v3m1 30v3m0 9v3m0 15v2m1-248v3m0 6v3m0 6v3m0 153v3m1-180v3m0 3v3m0 207v6m1-219v6m0 18v3m0 180v3m1-216v3m0 18v3m0 195v6m1-207v3m0 15v3m0 165v6m1-207v3m0 3v3m0 3v3m0 189v3m1 3v3m0 3v6m0 9v3m0 74v3m0 12v3m1-320v3m0 195v3m0 6v3m0 71v6m0 3v3m0 3v6m0 30v3m0 3v6m1-338v3m0 192v3m1 12v3m0 71v6m0 3v6m0 6v3m0 3v3m1-311v3m0 6v3m0 177v3m0 98v3m1-293v3m0 183v3m0 125v3m1-326v3m0 3v3m1 177v6m0 116v9m0 18v3m1-134v3m0 33v5m0 87v3m1-329v3m0 3v3m0 3v3m0 162v3m0 12v3m1-210v3m0 9v9m0 162v3m1 21v3m0 9v9m0 12v3m0 86v3m1-305v3m0 180v3m0 119v9m1-75v3m0 33v3m0 6v3m0 15v3m0 6v9m1-335v3m0 168v3m1-171v3m0 198v3m0 6v3m0 3v3m0 59v3m0 6v3m0 12v12m0 12v6m0 3v3m1-54v6m0 21v3m0 3v3m0 3v3m0 36v5m1-172v3m0 3v3m0 24v3m0 14v6m0 9v3m0 3v3m0 18v3m0 36v6m0 3v3m1-344v3m0 3v6m0 3v3m0 195v3m1-210v3m0 192v3m0 83v3m0 3v3m0 21v3m1-6v3m1-317v3m0 198v3m1-186v3m0 162v3m1 39v3m0 15v2m0 84v3m1-329v3m1 195v12m1-210v3m0 189v6m0 53v3m0 3v3m0 3v3m0 15v3m1-92v3m0 6v3m0 3v3m1-210v3m0 9v3m0 171v6m0 173v5m1-376v3m0 6v3m0 189v3m1-210v3m0 6v6m0 15v3m0 150v3m1-168v3m0 180v3m0 15v3m0 6v3m1-219v3m0 204v9m1-216v3m0 9v3m0 3v3m0 3v3m0 159v3m1-195v3m0 6v3m0 162v3m0 3v3m1 24v6m0 6v3m0 9v3m0 9v5m1 63v3m1-308v3m0 195v3m0 6v6m0 6v3m1-219v3m0 165v3m0 9v6m0 3v3m1 0v9m1-201v3m0 198v3m0 3v3m0 6v3m1-51v3m1 21v3m0 140v3m1-176v3m0 152v3m0 42v5m1-190v3m0 21v12m0 6v3m0 98v9m0 3v6m0 24v5m1-379v3m0 6v3m0 18v3m0 153v15m0 143v6m0 24v5m1-382v3m0 3v3m0 6v3m0 6v3m0 3v3m0 147v3m0 9v3m1-195v3m0 9v3m0 174v3m0 143v3m0 9v6m1-146v3m0 9v3m0 116v3m0 3v3m1-347v3m0 3v3m0 3v6m0 168v3m0 140v3m0 9v12m1-191v3m0 24v3m0 146v3m0 36v5m1-376v6m0 153v3m0 3v3m0 15v3m0 3v3m0 6v3m0 140v6m1-176v3m0 12v3m0 3v3m0 149v3m1-344v3m0 15v6m0 129v3m0 3v3m0 3v9m0 194v5m1-181v3m0 9v3m0 21v3m0 104v3m0 30v5m1-364v3m0 159v3m0 6v6m0 42v3m0 104v3m0 3v3m0 24v5m1-379v3m0 6v3m0 18v3m0 138v3m0 6v3m0 51v3m0 89v3m0 12v3m0 3v3m1-173v3m0 6v6m0 6v3m0 173v5m1-187v3m0 9v3m0 116v3m1-314v3m0 3v3m0 138v3m0 21v3m0 42v3m0 113v6m0 24v5m1-361v3m0 9v6m0 126v3m0 3v3m0 173v3m0 27v5m1-379v3m0 3v3m0 9v3m0 3v6m0 3v3m0 108v6m0 3v3m0 6v3m0 6v3m0 200v5m1-370v3m0 3v3m0 135v3m0 27v6m0 158v3m0 24v5m1-379v6m0 6v3m0 141v6m0 18v3m0 143v3m0 6v6m0 3v3m0 27v5m1-367v3m0 9v3m0 108v3m0 39v3m0 42v3m0 104v3m0 3v9m1-329v3m0 9v3m0 126v9m0 36v3m0 140v3m1-332v3m0 3v3m0 129v3m0 3v3m0 12v3m0 3v3m0 155v6m0 30v5m1-379v3m0 156v12m0 6v3m0 3v3m0 3v6m0 3v3m0 9v6m0 116v3m0 6v3m0 30v5m1-163v3m0 107v3m0 6v6m1-338v3m0 3v3m0 6v3m0 135v3m0 3v6m0 3v3m0 3v3m0 9v6m0 18v3m0 125v3m0 3v3m1-320v3m0 117v3m0 3v3m0 18v3m0 3v3m0 149v3m1-341v3m0 3v3m0 141v3m0 3v3m0 6v3m0 45v3m0 125v9m1-335v3m0 9v3m0 3v6m0 299v3m0 3v3m0 3v3m0 29v11m1-372v3m0 3v3m0 15v3m0 293v3m1-329v3m0 3v3m0 6v3m0 123v3m0 15v3m0 15v3m0 6v3m1-39v6m0 3v3m0 3v15m0 155v3m0 24v5m1-364v18m0 117v3m0 6v3m0 3v3m0 33v3m0 170v5m1-370v3m0 3v3m0 12v9m0 108v3m0 21v3m0 155v3m0 3v3m0 9v3m1-323v6m0 6v3m0 87v3m0 206v6m0 3v3m1-341v3m0 18v3m0 111v3m0 9v3m0 6v6m0 24v6m0 131v3m0 9v3m1-311v3m0 290v3m0 6v6m0 30v5m1-382v3m0 12v3m0 9v3m0 18v3m0 102v3m0 185v3m0 3v3m1-341v3m0 36v6m0 3v3m1-57v3m0 6v3m0 36v3m0 147v3m0 131v3m0 6v3m0 3v3m1-350v3m0 6v3m0 18v6m0 15v3m0 96v3m0 188v3m1-296v3m0 296v3m1-353v3m0 9v3m0 30v3m0 12v3m0 135v3m0 143v3m0 3v3m0 24v5m1-373v3m0 18v3m0 114v3m0 45v3m0 140v3m0 9v3m1-347v3m0 18v3m0 3v3m0 126v3m0 30v3m0 143v3m0 3v3m1-350v6m0 9v3m0 21v3m0 102v3m0 48v3m0 134v3m0 12v3m0 27v5m1-376v3m0 12v3m0 3v3m0 347v5m1-358v3m0 12v3m0 12v6m0 290v3m0 24v5m1-379v3m0 15v3m0 21v3m0 111v3m0 18v3m0 161v9m1-335v3m0 27v3m1-48v3m0 15v3m0 21v3m0 84v3m0 3v3m0 3v3m0 45v3m0 155v3m0 24v5m1-373v3m0 3v3m0 21v3m0 6v3m0 123v3m0 164v3m1-344v3m0 45v3m0 296v6m0 24v5m1-373v3m0 9v3m0 24v6m0 284v6m1-329v3m0 12v3m0 18v3m0 135v3m0 152v3m0 3v3m0 24v5m1-370v3m0 42v3m0 272v3m0 6v6m1-347v3m0 9v3m0 3v3m0 24v3m0 299v3m1-341v3m0 27v6m0 3v6m1-48v3m0 3v3m0 21v3m0 102v3m0 197v3m0 3v6m1-302v6m0 84v3m1-141v3m0 3v6m0 3v3m0 6v3m0 15v3m0 138v3m1-174v6m0 6v3m0 6v3m0 105v6m0 36v3m0 161v3m2-341v3m0 6v3m0 129v3m0 6v3m0 3v3m0 158v3m0 3v15m1-344v3m0 15v3m0 12v3m0 3v3m0 302v3m0 24v5m1-379v3m0 15v3m0 117v3m0 188v9m1-329v3m0 6v6m0 6v3m0 299v3m0 3v3m1-314v3m0 317v3m1-329v3m0 156v3m0 155v6m1-347v6m1-6v6m0 6v3m0 15v3m0 150v3m0 146v3m0 6v3m0 6v3m1-350v6m0 135v3m0 3v3m0 3v6m0 9v3m1-159v3m0 3v9m0 111v3m1-129v6m0 329v3m1-335v3m0 3v3m0 114v3m0 18v3m0 12v6m0 158v6m1-320v3m0 108v3m0 194v9m0 3v3m1-338v6m0 135v3m0 3v3m0 6v3m0 3v3m0 167v3m1-344v6m0 6v3m0 329v6m1-215v3m0 36v3m0 155v9m1-344v3m0 135v3m0 203v6m1-335v3m0 159v3m0 158v3m0 3v3m1-347v3m0 15v3m0 3v3m0 320v6m1-344v3m0 332v3m0 3v3m1-344v3m0 9v3m0 6v3m0 3v3m1-39v3m0 6v3m0 30v3m0 90v3m0 206v3m1-338v3m0 6v3m0 138v3m0 3v3m1 6v3m1-174v3m0 6v3m0 9v3m0 12v3m0 305v6m1-353v3m0 9v3m0 15v3m0 3v3m0 102v3m0 191v3m0 3v6m1-323v3m0 317v3m1-335v3m0 27v3m0 3v3m1-42v3m0 24v3m0 15v3m0 117v3m1-132v6m1-24v3m0 108v6m0 200v6m1-326v3m0 111v3m0 30v3m0 170v3m1-326v3m0 18v3m0 93v3m0 30v3m0 173v6m1-335v3m0 117v3m1-141v3m0 24v3m1-15v3m0 18v6m0 93v3m0 30v3m0 176v3m1-338v3m0 6v3m0 3v6m0 3v3m0 99v9m0 203v3m1-218v3m0 9v3m1-138v3m0 27v3m0 93v3m0 27v3m1-171v3m0 9v6m0 12v6m0 3v6m0 305v3m1-212v3m1-144v9m0 21v3m0 102v6m0 6v6m0 3v3m0 3v3m1-147v3m0 3v3m0 6v6m1-3v3m0 93v3m1-99v3m0 99v3m0 15v3m1-144v3m0 114v3m0 212v3m1-347v3m0 24v12m1-42v3m0 6v3m0 9v3m0 12v3m0 90v9m0 27v3m1-144v3m0 105v3m1-102v3m1-36v3m0 9v3m0 18v3m0 3v3m0 93v3m0 209v3m1-347v6m0 15v3m0 6v3m0 6v3m0 90v3m0 24v3m0 185v3m1-344v6m0 21v3m0 6v6m1-51v3m0 12v3m0 114v3m1 0v3m0 6v6m0 12v3m1-129v6m0 87v6m0 3v3m0 21v3m1-150v3m0 3v3m0 15v3m0 93v3m0 6v3m0 9v3m0 3v3m1-126v3m0 120v3m1-135v3m0 108v3m0 18v3m1-150v3m0 3v3m0 12v6m1-3v6m0 93v3m0 12v3m1-114v3m0 93v3m1-141v3m0 6v3m0 9v3m0 3v3m0 12v3m0 93v3m0 203v3m1-332v3m0 15v3m0 9v3m1-48v6m0 21v3m0 3v3m0 102v3m0 3v3m0 9v3m1-120v3m0 3v3m0 114v3m1-165v3m0 6v3m0 6v3m0 9v3m0 6v3m0 3v3m1-45v3m0 33v3m0 90v3m0 6v3m0 233v5m1-370v3m0 120v3m0 6v3m0 12v3m1-162v3m1 24v3m0 111v3m0 6v12m1-120v3m0 3v3m0 81v3m1-135v6m0 129v3m0 3v3m0 3v6m0 6v3m1-36v6m0 15v3m1-147v3m0 39v3m0 78v3m0 3v6m0 3v3m0 3v3m1-18v3m0 24v3m1-39v3m0 3v3m1-120v3m0 24v3m0 96v3m0 3v9m0 6v3m1-21v3m0 12v3m1-33v3m0 9v3m1-135v3m0 120v6m0 21v6m1-162v3m0 6v3m0 33v3m0 78v3m0 3v3m0 12v3m0 200v3m1-215v6m0 3v3m0 9v3m1-159v6m0 126v3m0 6v3m1-135v3m0 114v3m1-129v3m0 39v3m0 90v3m0 9v6m1-153v3m0 126v3m0 6v3m0 6v3m1-120v3m0 3v3m0 6v3m0 75v9m0 6v3m0 15v3m1-153v3m0 27v6m0 75v3m0 6v9m0 21v3m1-159v3m0 3v3m0 21v3m0 123v3m1-153v3m0 9v6m0 6v3m0 105v6m0 6v3m0 226v11m1-384v3m0 3v3m0 114v6m0 9v3m1-141v6m0 120v3m0 15v3m0 3v3m1-147v3m0 3v9m0 123v9m1-159v3m0 15v3m0 99v3m0 6v3m0 3v3m0 6v3m0 9v3m1-147v3m0 108v3m0 21v3m0 3v6m1-153v3m0 12v3m0 102v6m0 12v3m0 9v3m1-150v6m0 120v6m1-138v3m0 9v3m0 123v3m0 3v9m1-6v3m1-153v3m0 126v3m1-135v6m0 120v6m0 3v3m0 6v6m0 3v3m1-150v6m0 9v3m0 6v3m0 6v3m0 78v3m0 15v3m0 15v3m1-159v3m0 24v3m0 3v3m0 3v3m0 84v3m0 12v3m1-144v6m0 24v6m0 99v3m0 3v6m0 3v3m1-141v3m0 108v3m0 12v3m1-135v3m0 126v3m0 3v3m0 9v3m1-144v3m0 6v12m0 93v3m0 9v6m0 3v3m0 9v3m1-147v6m0 129v6m1-156v3m0 6v3m0 9v3m0 105v3m0 3v3m0 3v6m0 9v3m1-126v3m0 84v6m0 3v3m0 9v3m0 6v3m1-129v3m0 111v9m0 3v3m0 3v3m1-159v3m0 3v3m0 30v12m0 66v3m1 27v3m0 9v3m1-147v3m0 6v3m0 3v3m0 111v3m0 12v3m0 220v11m1-375v3m0 120v3m1-120v3m0 6v3m0 93v3m0 9v12m1-147v3m0 27v3m0 3v3m0 78v6m1-126v3m0 129v9m0 15v3m1-150v3m0 9v6m0 15v3m0 66v6m0 3v3m1-108v3m0 6v3m0 105v6m0 3v3m0 3v3m0 3v6m0 220v11m1-372v6m0 93v3m0 9v3m0 9v6m1-27v6m0 24v3m1-141v3m0 6v3m0 114v3m1-138v3m0 3v3m0 123v3m0 3v3m0 9v3m1-117v3m0 12v3m0 75v3m0 9v3m0 9v3m1-150v3m0 27v3m0 6v3m0 12v3m0 51v3m0 3v3m0 3v12m0 15v3m1-6v3m1-135v3m0 51v3m0 63v6m0 3v6m1-159v3m0 15v3m0 6v3m0 12v3m0 42v3m0 39v9m0 3v3m1-126v6m0 30v3m0 12v3m0 45v3m0 21v3m0 6v3m0 3v6m1-141v6m0 3v3m0 9v3m0 90v3m0 3v3m0 3v3m0 3v3m1-138v3m0 15v3m0 3v3m0 6v6m0 78v6m0 9v3m0 6v3m1-39v3m0 33v3m1-162v3m0 18v9m0 42v6m0 51v3m0 3v3m1-105v3m0 9v3m0 9v3m0 6v6m0 3v3m0 42v6m0 18v3m1-21v6m0 9v3m0 3v3m1-123v3m0 9v3m0 9v3m0 63v3m0 15v6m0 3v3m1-126v3m0 12v3m0 24v3m0 69v3m0 12v3m0 3v3m1-114v3m0 96v3m0 3v6m1-138v3m0 15v3m0 27v6m0 6v3m0 42v3m0 221v3m1-335v6m0 9v3m0 21v3m0 87v3m0 3v3m0 6v3m1-162v3m0 15v3m0 15v6m0 3v3m0 18v3m0 54v3m0 9v6m0 6v3m1-132v3m0 33v3m0 6v3m0 3v6m0 3v3m0 60v3m1-138v3m0 21v3m0 102v3m0 6v3m0 3v6m0 3v3m1-144v3m0 6v3m0 3v3m0 15v3m0 6v3m0 6v3m0 42v3m0 9v3m1 24v3m0 3v3m0 131v3m0 6v6m0 3v30m0 6v3m1-350v3m0 12v3m0 6v3m0 12v6m0 33v6m0 30v3m0 12v3m0 3v3m0 24v3m0 3v86m0 39v3m0 18v12m0 3v24m0 29v11m1-369v6m0 21v6m0 63v3m0 18v6m0 18v89m1-254v3m0 12v6m0 12v3m0 78v3m0 27v3m0 6v6m1-36v6m0 3v6m0 6v3m0 6v3m1-147v9m0 117v3m0 6v3m0 9v6m1-150v6m0 123v3m0 3v3m1-123v3m0 96v3m0 12v3m0 3v3m0 3v3m1-156v12m0 126v9m0 3v3m0 6v3m1-159v12m0 114v3m0 9v6m1-27v3m0 27v3m0 3v3m1-27v3m0 9v3m1-24v3m0 18v3m0 12v3m1-15v3m0 9v3m2-156v3m0 105v3m0 6v3m0 12v9m0 12v3m1-156v3m0 120v3m0 3v3m0 6v3m1-18v3m0 9v6m0 9v3m1-156v3m0 3v3m0 126v3m0 3v3m0 12v3m1-147v6m0 93v6m0 12v6m1-15v3m0 27v3m0 3v3m1-42v3m0 6v3m0 15v3m0 3v9m1-45v3m0 30v3m0 6v3m1-156v3m0 129v3m0 6v3m0 9v3m1-159v3m0 111v6m0 15v12m0 9v3m1-24v3m0 12v3m1-27v6m0 6v3m0 21v3m1-48v3m0 6v6m0 9v3m0 18v3m1-156v3m0 105v3m0 3v3m1-9v3m0 12v6m1-141v6m0 111v3m0 18v3m0 241v11m1-300v3m0 6v3m1 0v3m0 15v3m0 3v3m0 9v3m1-51v6m0 6v3m0 18v3m0 9v3m1-51v3m0 6v3m0 3v6m0 9v6m0 3v6m1-39v6m0 6v3m0 24v9m1-39v6m0 3v3m0 3v3m1-12v3m1-6v6m0 3v15m1-30v9m0 6v3m0 3v3m1-24v3m0 27v3m0 3v3m1-33v6m0 12v3m1 42v3m1 0v3m2-48v3m1 209v3m1-152v3m1-12v3m1 3v6m0 71v3m0 3v3m0 3v3m0 9v12m0 45v3m1-158v3m0 92v3m0 36v3m1-173v3m0 33v3m0 3v3m0 92v6m0 12v3m0 18v3m0 12v6m1-200v3m0 104v12m0 18v6m0 6v3m0 33v6m1-54v3m0 3v6m0 15v3m0 21v3m1-185v3m0 39v3m0 3v3m0 50v3m0 12v3m0 3v3m0 3v3m0 3v6m0 6v3m0 3v3m0 3v3m0 3v3m0 12v3m0 3v3m1-143v3m0 9v3m1-63v3m0 48v3m1-3v3m0 71v3m0 15v3m2-89v3m1 0v3m0 3v3m1-72v3m0 63v3m1-66v3m0 63v3m1 3v3m1-3v3m1-84v3m0 84v3m0 12v3m1-108v3m1 90v3m1-129v3m0 9v3m0 9v3m1-30v3m0 57v3m0 3v6m0 3v6m0 51v9m1-117v3m0 9v3m0 6v6m0 3v3m0 12v9m0 6v6m1-63v3m0 3v3m0 3v6m0 15v3m0 18v3m0 57v3m1-120v3m0 9v6m1 27v3m0 9v6m2-27v3m0 21v3m1-81v3m0 54v3m2-63v3m0 21v6m0 12v3m0 9v3m0 12v3m0 15v3m1-105v6m1 69v6m0 12v3m0 6v6m2-78v6m0 12v3m0 3v6m1 6v3m0 6v3m0 3v3m0 18v3m1 42v3m2-27v3m1 9v6m1-69v6m0 6v6m3-48v3m1-27v3m0 3v3m0 18v3m1-24v3m1-30v3m0 6v3m0 51v3m0 191v3m1-248v3m0 9v3m0 215v3m1-251v3m0 9v3m0 6v3m0 3v3m0 3v3m1-9v3m1-27v6m0 18v3m0 3v3m1-33v3m0 170v3m0 30v3m0 3v3m0 3v3m0 6v6m0 6v3m1-203v3m0 137v3m0 30v9m0 18v3m0 9v3m0 3v3m1-263v3m0 21v3m0 233v3m1-263v3m0 9v3m1-15v3m0 27v3m0 140v3m0 42v3m0 18v3m0 3v3m0 3v3m1-248v3m0 3v3m1 170v3m0 9v3m1-200v3m0 6v3m0 18v3m0 12v3m1-45v3m1-3v6m0 9v3m0 9v3m0 6v3m0 3v3m0 66v3m0 33v3m0 9v3m1-105v3m0 21v3m0 3v3m0 3v9m0 30v3m0 24v3m1-99v6m0 6v3m0 179v6m1-203v3m0 6v3m0 179v3m1-191v3m1 0v6m0 3v3m0 256v10m1-272v3m0 9v6m1 149v3m1-173v3m0 3v3m0 3v3m0 3v3m0 9v3m0 107v3m1-98v3m0 83v3m0 6v3m0 15v9m0 3v3m1-48v3m0 3v9m0 18v15m1-51v9m0 27v3m0 9v3m1-48v3m0 42v3m1-48v6"/><path stroke="#00ff44" stroke-width="1" d="M102.5 445v10m1-104v6m0 88v10m1-98v3m0 85v10m1-10v10m2-107v3m0 3v6m1-101v3m0 74v3m0 3v9m0 3v3m1-95v3m0 47v3m0 3v3m0 15v3m0 6v12m0 6v6m1-107v3m0 68v6m0 6v6m0 9v3m0 3v3m0 12v9m0 9v3m1-119v3m0 32v3m0 9v3m0 21v6m0 12v3m0 3v3m0 9v6m0 3v3m1-122v3m0 32v3m0 6v3m0 3v3m0 6v3m0 3v3m0 15v3m1-89v3m0 3v3m0 9v3m0 17v9m0 36v3m0 3v3m0 27v3m1-110v6m0 32v6m0 3v3m0 3v3m0 9v6m1-149v3m0 18v3m0 3v3m0 9v3m0 3v3m0 15v3m0 3v3m0 12v3m0 23v3m0 18v6m0 15v3m0 6v3m0 6v3m0 15v3m1-182v3m0 3v3m0 3v3m0 3v9m0 146v3m0 3v3m1-212v6m0 6v3m0 3v3m0 27v3m1-57v3m0 3v6m0 6v3m0 15v3m0 170v3m1-218v3m0 6v3m0 93v6m1-111v3m0 3v3m0 9v3m0 230v5m1-250v6m1-3v3m1 9v3m0 6v3m0 75v3m1-72v3m0 3v3m0 6v3m0 51v3m1-36v3m0 3v3m0 167v5m1-160v3m0 6v3m1-39v3m0 18v6m1 6v3m0 151v11m2-141v2m3-8v3m4-153v3m0 147v3m0 3v2m0 123v5m1-136v3m0 95v3m1-242v6m0 6v6m0 3v3m0 9v6m0 3v3m0 12v6m0 9v3m0 12v3m0 6v6m0 3v3m0 12v3m1-90v3m1-54v3m0 30v3m0 12v3m0 3v6m0 3v3m0 12v3m0 6v3m0 9v6m0 6v6m0 6v3m0 9v9m0 6v3m1 77v3m0 9v3m0 3v6m1-242v3m0 209v3m0 12v6m1-51v3m0 36v3m0 3v3m0 3v12m1-81v3m0 15v6m1-15v3m0 9v6m0 3v3m0 3v3m0 3v3m0 15v3m0 9v3m0 9v3m1-78v3m0 12v3m0 3v3m0 9v3m0 12v3m0 9v6m0 6v6m2-90v3m0 33v9m1 0v3m1-221v6m0 173v3m0 6v3m0 3v3m0 9v3m0 15v6m0 6v3m0 15v3m1-72v3m0 9v3m0 30v6m0 3v3m1-230v3m0 167v3m0 30v6m1-221v3m0 9v3m0 236v3m0 6v3m1-248v6m0 6v3m1-3v3m0 15v3m1-27v3m0 3v3m0 3v3m0 9v3m0 6v3m0 6v3m0 24v3m1 6v3m0 18v6m0 6v3m0 6v6m0 3v3m1-84v3m0 3v3m0 3v3m0 3v3m0 6v3m0 15v3m0 21v6m1-228v3m0 171v6m0 9v6m0 9v3m0 3v3m1-27v3m0 3v3m0 3v3m0 9v3m0 9v3m0 6v6m1-234v3m0 240v3m2-237v6m0 225v3m0 98v3m1-344v9m0 99v3m0 143v3m0 6v6m0 3v3m0 12v3m0 54v3m1-344v3m0 3v3m0 254v3m0 6v3m0 63v3m1-347v3m0 3v3m0 237v5m0 12v3m0 15v3m0 15v3m0 3v3m0 9v3m1-320v3m0 12v3m0 228v5m0 9v3m0 3v3m0 6v3m0 6v3m0 3v3m0 15v3m0 12v3m0 3v3m0 6v3m0 6v3m1-104v3m0 26v3m0 9v6m0 9v6m0 3v3m0 6v9m0 3v3m0 6v6m1-347v3m0 263v6m0 6v3m0 3v3m0 12v3m0 3v12m0 3v3m0 6v6m1-89v5m0 6v3m0 3v3m0 3v3m0 15v3m0 12v3m0 6v3m0 3v3m0 9v3m0 6v3m0 33v5m1-361v3m0 239v6m0 21v3m0 21v3m0 6v3m0 3v3m0 9v3m1-338v6m0 248v3m0 6v3m0 3v3m0 6v3m0 6v3m0 6v9m0 18v3m1-320v3m0 231v3m0 14v3m0 3v3m0 6v3m0 3v3m0 6v9m0 30v6m1-54v3m0 18v3m0 3v3m0 6v3m0 6v6m0 3v6m1-341v3m0 3v3m0 248v3m0 30v3m0 3v6m0 15v3m1-63v3m0 24v3m0 3v3m0 45v3m1-75v3m0 15v3m0 18v3m0 12v3m0 3v6m0 6v3m0 33v5m1-373v3m0 3v3m0 228v3m0 20v3m0 9v3m0 12v3m0 9v6m0 3v3m0 18v3m0 52v21m1-402v3m0 245v6m0 9v3m0 12v9m0 9v3m0 6v3m0 24v9m1-87v3m0 12v6m0 15v3m0 3v3m0 3v6m0 12v3m1-329v3m0 3v3m0 231v3m0 17v3m0 9v3m0 3v3m0 9v3m0 6v3m0 12v3m0 9v9m1-78v3m0 12v3m0 60v6m0 30v5m1-376v3m0 237v3m0 11v3m0 3v9m0 6v3m0 6v3m0 9v3m0 9v6m0 15v3m0 9v3m1-84v3m0 3v3m0 18v6m0 6v3m0 6v6m0 3v6m0 6v9m1-78v3m0 3v3m0 15v3m0 21v6m0 12v3m0 3v3m1-45v6m0 9v3m0 6v6m0 3v3m0 6v3m0 36v5m1-35v3m0 27v5m3-175v3m1-3v6m0 116v3m0 9v3m1 3v3m1-140v3m0 131v3m1-140v3m0 134v3m1 0v3m0 43v10m1-10v10m1-10v10m1-196v3m1-3v3m1 0v3m0 131v3m1 30v5m3-172v3m0 137v3m1-6v3m1-140v3m0 131v3m1-140v3m0 137v3m2-143v3m0 137v3m0 27v5m1-38v3m1-3v3m0 3v3m2-149v3m0 170v5m1-5v5m2-175v3m0 134v3m1-140v3m0 137v3m0 27v5m1-5v5m1-172v3m1-9v3m0 137v6m0 27v5m1-175v3m0 167v5m1-175v3m0 167v5m1-175v3m0 140v3m1-146v3m0 167v5m1-5v5m1-175v3m0 167v5m1-35v3m0 27v5m1-5v5m1-5v5m1-35v6m2-146v3m0 137v3m1-143v3m0 137v3m1-143v3m0 137v3m1-143v3m1 134v6m0 27v5m1-35v3m0 27v5m1-172v3m0 164v5m1-5v5m1-175v3m0 134v3m2-137v3m0 131v6m0 27v5m1-35v3m0 27v5m2-35v3m2-3v3m1-140v3m0 131v3m1-3v3m0 30v5m2-5v5m1-38v6m2-143v3m1-3v3m0 167v5m2-169v3m0 161v5m2-175v6m0 122v3m0 9v6m1-146v3m0 134v3m0 3v3m0 24v5m1-38v6m0 27v5m1-41v6m0 30v5m2-44v3m0 36v5m1-172v3m0 107v3m0 12v3m0 3v3m0 33v5m1-175v3m0 128v3m0 6v3m1-3v3m0 27v5m1-35v3m0 27v5m1-41v3m0 33v5m1-38v6m0 27v5m2-172v3m1-3v3m0 119v3m0 6v3m1-12v6m0 3v6m1-137v3m0 128v3m0 33v5m1-169v3m0 125v3m0 3v3m0 27v5m1-172v3m0 125v3m0 3v3m0 30v5m1-172v3m0 128v3m0 33v5m1-169v3m0 128v3m0 30v5m1-38v3m1-6v3m0 3v3m1-137v3m0 59v3m0 21v3m0 21v3m0 3v3m0 3v9m0 33v5m1-160v9m0 41v3m0 9v6m0 6v3m0 3v3m0 6v3m0 3v3m0 3v3m0 51v5m1-166v12m0 32v3m0 21v3m0 39v3m0 18v3m0 27v5m1-166v12m0 47v3m0 69v3m0 27v5m1-166v9m0 3v3m0 71v3m0 39v3m1-131v3m0 6v3m0 9v3m0 68v3m0 18v3m0 45v5m1-163v9m0 62v3m0 18v3m1-98v3m0 3v9m0 50v3m0 15v3m0 75v5m155-62v3m0 21v3m1-48v3m0 27v3m0 6v3m1-12v3m0 3v6m0 6v6m1-18v3m0 3v3m1-9v6m0 6v3m1-98v2m0 60v3m0 6v3m0 3v3m0 3v3m0 6v6m1-98v2m0 54v3m0 3v3m0 30v6m1-101v2m0 12v3m0 3v3m0 39v3m0 15v3m0 3v3m1-72v9m0 6v6m0 6v3m0 12v3m0 3v3m0 3v3m0 6v6m0 6v3m1-95v2m0 27v3m1-9v3m0 6v3m0 15v6m0 24v3m0 3v3m0 9v3m1-93v3m0 3v6m1 27v3m2 75v5m1-148v3m0 3v6m0 41v3m0 9v3m0 48v3m1-107v6m0 95v3m2-9v3m1-75v3m0 75v3m1-104v3m0 29v3m2-269v3m0 213v3m0 12v3m1-228v3m0 12v3m0 180v3m0 3v6m0 3v3m0 98v3m1-335v3m0 3v3m0 3v3m0 3v3m0 9v6m0 12v3m0 201v2m0 9v3m0 24v6m0 3v6m0 39v3m1-347v3m0 3v3m0 3v3m0 18v6m0 9v3m0 192v3m0 3v3m0 20v3m0 60v3m0 3v3m1-344v3m0 6v3m0 198v3m0 18v6m0 12v3m1-249v6m0 3v3m0 24v3m0 180v6m0 9v3m0 47v3m0 6v6m0 45v3m1-335v3m0 15v9m0 204v3m1-240v3m0 6v3m0 15v3m0 204v3m0 35v3m1-275v3m0 30v3m1-24v3m0 9v3m0 213v3m1-243v3m0 18v3m1-24v3m0 198v3m0 3v3m0 6v3m0 3v3m1-204v3m0 183v3m0 3v3m1-210v3m0 6v6m0 266v6m1-299v6m0 3v3m0 6v3m0 6v3m0 6v3m0 198v3m1-231v9m0 15v3m0 3v9m0 138v3m0 9v3m1-162v3m0 168v3m0 6v3m0 3v3m1-228v3m0 18v3m0 192v3m0 113v3m1-338v3m0 6v3m0 3v3m0 6v3m0 12v3m0 239v3m0 3v3m1-287v3m0 9v3m0 24v6m0 150v6m1-189v6m0 12v3m0 198v3m0 3v6m1-243v3m0 6v3m0 3v6m0 192v6m0 3v3m0 15v3m1-204v3m0 165v3m0 9v3m0 3v3m1-228v3m0 15v3m0 6v6m0 180v3m0 12v3m0 26v3m0 15v3m0 18v3m0 21v3m1-323v6m0 18v3m0 12v3m1-18v3m0 9v3m0 189v3m0 9v3m0 44v3m0 15v3m0 18v3m1-323v3m0 3v3m0 3v9m0 180v3m0 18v3m1-234v3m0 12v3m0 180v6m1-192v3m0 3v3m0 12v3m0 15v3m1-36v3m0 15v9m0 162v3m0 6v3m0 9v3m0 65v3m0 6v3m0 24v3m1-326v3m0 30v3m0 162v3m0 3v6m0 44v3m0 54v3m0 21v3m1-341v3m0 6v6m0 198v3m0 41v3m0 12v3m1-257v6m0 189v6m0 83v3m0 12v3m1-314v3m0 219v3m0 3v3m0 6v5m0 42v6m0 3v3m0 12v3m0 21v3m1-347v3m0 6v3m0 3v3m0 6v3m0 302v3m1-326v3m0 3v3m0 3v3m0 6v3m0 9v3m0 180v6m0 41v3m0 9v3m0 30v3m1-308v3m0 219v3m0 41v12m0 3v6m0 42v3m0 6v3m1-350v3m0 9v6m0 6v9m0 6v3m0 171v3m0 12v3m0 3v6m0 12v2m0 30v3m0 24v12m0 12v3m1-305v3m0 3v3m0 168v3m0 71v3m0 6v6m0 3v3m0 18v3m1-314v3m0 9v3m0 201v3m0 15v3m0 3v2m0 18v3m0 24v3m1-89v3m0 6v3m0 110v3m0 6v3m1-317v3m0 3v6m0 174v3m0 3v3m1-207v6m0 9v3m0 171v3m0 6v3m1-201v3m0 6v3m0 6v6m0 165v6m0 62v3m0 12v3m0 12v6m0 36v3m1-326v3m0 9v3m0 248v3m1-278v3m0 3v3m0 204v3m0 9v3m0 23v6m0 54v6m1-329v3m0 12v6m0 3v3m0 189v3m0 3v3m0 3v6m0 6v3m0 29v3m0 15v9m0 27v6m0 6v3m1-317v3m0 3v3m0 180v6m1-213v3m0 24v3m0 189v3m0 3v3m0 3v3m0 6v3m0 29v3m0 12v6m0 18v3m1-311v3m0 21v3m0 3v9m0 168v6m1-222v6m0 6v3m0 6v3m0 6v3m0 6v9m0 141v3m0 68v3m0 9v3m0 24v3m0 3v3m0 6v3m0 18v6m1-341v3m0 15v3m0 6v3m0 195v9m0 12v3m0 50v3m0 3v3m1-308v3m0 24v3m0 3v3m0 156v3m0 3v3m1-195v9m0 15v3m0 9v3m0 150v3m0 3v3m0 98v3m0 3v3m0 3v3m0 9v3m0 6v3m1-326v3m0 18v3m0 6v3m0 153v3m1-201v3m0 12v3m1 6v6m0 9v3m0 147v3m0 18v3m0 47v6m0 33v3m0 12v3m0 9v3m1-326v3m0 33v3m0 174v6m1-213v3m0 6v9m0 3v3m0 9v3m0 162v6m0 77v3m0 9v9m0 12v3m1-317v3m1 15v3m0 186v6m0 3v3m1-201v3m0 189v3m0 3v6m0 3v3m0 23v3m0 15v3m0 3v9m0 12v6m0 3v3m0 24v6m0 3v3m1-350v3m0 21v6m0 162v6m0 110v6m0 6v3m1-296v3m0 201v3m0 9v3m0 80v3m0 9v3m1-329v3m0 6v3m1-15v3m0 6v3m0 3v3m1-9v3m0 198v3m0 3v3m0 3v6m1-240v3m0 12v6m0 192v3m0 6v3m0 6v3m1-231v3m0 204v3m0 3v3m1 18v3m1-219v3m0 159v12m1-180v3m0 207v3m1-207v3m0 3v3m0 180v3m0 3v3m0 6v3m1-222v6m0 12v3m0 198v6m1-219v3m0 6v6m0 248v3m1-272v3m0 12v3m1 201v6m0 12v3m0 14v3m0 36v3m0 3v3m1-98v3m0 21v3m0 74v3m1-98v3m0 3v3m1 6v6m0 6v3m0 6v2m0 33v6m0 21v6m0 3v3m0 9v6m1-338v3m0 3v3m0 3v3m0 6v3m0 174v3m0 6v3m1-189v3m0 186v6m0 101v3m0 3v3m0 18v3m1-125v3m0 6v3m0 6v3m1-234v3m0 12v3m0 239v6m0 18v6m0 9v3m0 21v3m0 6v3m1-119v6m0 6v12m0 56v3m0 12v3m0 15v3m1-131v3m0 9v3m0 6v3m1-213v3m0 12v3m0 147v3m0 107v3m0 6v3m0 3v3m0 3v3m1-92v3m0 71v6m0 6v3m0 18v3m1-125v9m0 3v3m0 32v3m0 36v3m0 27v3m1-320v6m0 180v3m0 59v3m0 18v3m0 21v3m1-302v3m0 6v3m1 210v3m0 3v3m0 9v3m0 59v3m1-92v6m0 18v6m0 26v3m0 6v3m0 54v9m1-116v3m0 9v3m0 23v3m0 18v3m0 42v3m1-335v3m0 198v3m0 6v6m0 95v3m1-107v3m0 6v3m0 3v6m0 3v3m0 50v3m0 18v3m0 3v3m0 12v3m0 42v5m1-169v3m0 15v3m0 71v3m1-308v3m0 3v3m0 195v3m0 9v3m1-195v3m0 183v3m0 169v11m2-201v3m0 116v3m0 3v6m0 3v3m0 3v3m0 42v5m1-361v3m1-6v3m0 192v3m0 9v9m0 15v3m0 8v3m0 15v3m1-65v3m1-204v3m0 3v3m0 9v3m0 159v3m0 9v3m1-201v3m0 15v3m0 180v3m1-198v6m0 174v3m1 12v6m0 6v3m1-204v3m0 207v3m1-216v6m0 3v3m0 269v3m0 3v3m0 21v3m1-314v3m0 6v3m0 159v3m0 3v3m2-189v3m0 174v6m0 122v3m1-83v3m0 59v9m1-89v3m1-24v3m1 6v3m0 12v3m1-27v3m0 3v3m0 9v3m0 9v3m1-36v3m0 9v3m0 3v6m0 12v3m0 9v6m0 3v3m1-66v6m0 152v3m1-116v3m0 6v3m1-36v3m0 172v11m1-390v3m0 183v3m0 9v3m0 173v5m1-373v3m0 3v3m0 198v3m0 125v3m0 30v5m1-178v3m0 3v3m0 3v3m0 15v3m1-228v3m0 180v6m0 9v3m1-204v3m0 3v6m0 9v3m0 141v6m0 9v3m0 155v3m1-326v3m0 168v3m0 6v3m0 18v3m0 152v5m1-178v3m0 3v3m0 3v3m0 9v3m0 9v3m0 134v16m1-387v3m0 3v3m0 141v3m1 33v9m0 3v9m0 3v3m0 9v3m0 3v3m1-42v6m0 3v3m0 12v3m1-195v3m0 132v3m0 6v3m0 12v12m0 3v3m0 9v3m0 161v5m1-187v3m0 6v3m0 3v3m0 3v6m0 12v3m1-225v3m0 162v3m0 3v9m0 6v9m0 21v3m0 101v3m0 3v6m0 33v5m1-184v3m0 6v3m0 15v3m0 113v6m0 35v11m1-387v9m0 3v3m0 9v3m0 117v3m0 6v6m1-165v3m0 9v6m0 15v3m0 123v3m0 6v3m0 12v3m0 42v3m0 110v3m1-320v3m0 3v6m0 132v6m0 3v3m0 18v3m0 9v3m0 169v11m1-237v3m0 6v3m0 3v3m0 12v6m0 3v3m0 6v3m0 6v3m0 3v3m0 113v3m0 6v3m1-326v6m0 108v3m0 15v3m0 27v3m0 191v5m1-202v6m0 9v6m0 6v3m0 3v3m1-201v3m0 150v3m0 18v3m0 18v3m0 134v3m1-344v3m0 174v3m0 3v3m0 12v9m1-201v6m0 12v3m0 126v3m0 21v3m0 30v3m0 125v9m0 24v5m1-364v3m0 168v3m0 6v18m0 161v5m1-217v6m0 6v3m0 9v3m0 152v3m0 30v16m1-390v3m0 15v3m0 3v6m0 120v3m0 12v3m0 12v3m0 3v3m0 190v11m1-384v3m0 18v3m0 15v3m0 105v3m0 6v3m0 45v3m0 125v3m0 3v3m1-347v6m0 24v9m0 111v3m0 3v3m0 6v6m0 6v3m0 167v3m0 24v5m1-364v3m0 3v6m0 141v3m0 24v3m0 137v9m0 3v3m1-350v6m0 150v3m0 15v3m0 15v3m0 3v6m1-201v12m0 138v3m0 18v6m0 3v9m0 3v6m0 146v3m1-326v3m0 117v3m0 12v3m0 3v6m0 6v3m0 3v3m0 193v11m1-384v6m0 3v3m0 33v3m0 81v3m0 42v3m0 3v3m0 6v3m0 3v3m0 140v3m1-335v9m0 3v3m0 135v3m0 6v6m0 3v6m0 3v6m0 6v3m0 143v3m0 24v5m1-367v6m0 6v6m0 3v3m0 141v3m0 152v6m0 9v3m1-347v3m0 9v6m0 15v3m0 3v3m0 102v3m0 48v3m0 140v3m0 3v3m0 24v16m1-375v6m0 6v3m0 6v6m1-27v3m0 3v3m0 3v9m0 24v3m1-51v3m0 21v3m0 105v6m0 18v3m0 12v3m0 149v3m0 9v3m0 24v5m1-376v3m0 6v6m0 177v3m0 176v5m1-373v3m0 3v3m0 15v6m0 9v3m0 96v3m0 39v3m0 146v3m1-341v9m0 3v6m0 3v3m0 18v3m0 3v3m0 93v3m0 9v3m0 27v3m0 3v3m0 152v3m1-341v3m0 9v3m0 6v3m0 3v9m0 108v3m0 9v3m0 3v15m0 3v3m0 152v3m0 30v5m1-370v3m0 6v9m0 3v6m0 3v3m0 123v3m0 6v3m0 9v3m1-183v3m0 27v3m1-33v3m0 6v3m0 9v6m0 12v6m0 90v3m1-147v3m0 3v6m0 21v3m0 111v6m0 3v3m0 6v3m0 3v3m0 3v3m0 12v3m0 182v5m1-373v3m0 15v3m0 6v3m0 6v3m0 96v3m0 230v5m1-373v3m0 6v3m0 6v6m0 6v3m0 99v3m0 6v3m0 12v3m0 9v3m0 3v3m1-141v3m0 96v3m0 197v6m1-347v6m0 3v3m0 15v6m0 6v6m0 96v6m0 12v3m0 6v3m0 9v6m1-183v3m0 368v5m1-379v3m0 15v3m0 3v3m0 6v15m1-48v3m0 48v3m0 3v3m0 126v3m0 158v3m0 24v5m1-346v3m0 3v3m0 3v3m0 96v3m0 33v3m0 191v5m1-361v6m0 3v3m0 3v3m0 141v3m1-174v3m0 6v3m0 18v3m0 3v3m0 96v3m0 30v3m0 6v3m0 188v5m1-382v6m0 3v3m0 6v3m0 6v3m0 3v3m0 12v3m0 9v3m0 123v3m1-174v3m0 21v3m0 6v3m0 326v5m1-208v3m0 6v3m1-186v3m0 42v3m0 138v3m1-180v3m0 15v3m0 120v3m0 18v6m0 155v3m0 15v3m1-338v6m0 6v3m1-6v3m0 18v3m0 296v6m1-350v3m0 180v3m1-186v3m0 344v3m0 32v11m1-378v3m0 18v3m1-30v6m0 3v3m0 138v3m0 15v6m0 161v6m1-326v6m1-6v3m0 120v3m0 18v3m0 3v3m1-165v3m0 129v3m0 200v3m1-350v3m0 9v3m0 6v6m0 6v3m0 102v3m1-135v6m0 3v3m0 3v3m0 129v3m0 12v3m0 167v3m0 41v11m1-390v3m0 6v3m0 6v3m0 326v3m0 29v11m1-372v3m0 126v3m0 12v3m0 179v6m1-323v3m0 105v3m0 197v3m1-314v3m0 320v3m1-338v3m0 6v3m0 117v3m0 30v3m0 170v3m1-350v3m0 6v3m0 18v3m0 305v3m0 3v3m1-317v3m0 102v3m0 24v3m1-165v3m0 9v3m0 9v9m1-24v6m0 21v3m0 96v3m0 3v3m0 27v3m1-174v3m0 15v6m0 6v6m0 308v6m2-335v6m0 9v3m0 99v3m1-117v3m0 6v6m0 135v3m1-165v3m0 21v3m0 99v6m0 3v3m0 12v3m0 3v3m0 179v6m1-347v9m0 120v3m1-117v3m0 3v3m0 108v3m0 209v3m1-341v6m0 6v6m0 3v3m0 12v6m1-45v3m0 27v3m0 102v3m0 235v11m1-381v6m0 6v3m0 3v3m0 123v3m0 6v3m0 182v3m1-332v3m0 117v3m0 12v3m0 6v6m0 176v3m1-350v3m0 3v3m0 3v6m0 6v3m0 6v3m0 105v9m1-150v3m0 6v6m0 6v3m0 3v3m0 9v6m1 96v6m0 21v3m1-168v6m0 3v3m0 6v6m0 323v3m1-350v3m0 3v3m0 12v3m0 126v3m0 226v11m1-381v3m0 129v3m0 9v3m0 6v3m1-162v6m0 129v3m0 21v3m0 182v3m1-347v3m0 36v3m0 99v3m0 18v3m1-165v3m0 3v3m0 6v6m0 126v6m0 6v3m0 214v11m1-384v6m0 138v3m1-153v3m0 21v3m0 108v3m1-138v6m0 9v3m0 6v3m0 105v3m0 3v3m0 12v3m0 6v3m1-135v3m0 96v6m0 27v3m1-165v3m0 6v3m0 12v6m0 132v3m1-159v9m0 3v3m0 117v3m0 18v3m1-150v3m0 126v3m0 6v6m1-156v3m0 3v3m0 6v3m0 6v6m0 3v3m0 96v6m1-138v3m0 3v9m0 9v3m0 15v3m0 90v3m0 3v6m0 12v3m1-141v6m1-30v3m0 15v3m0 6v3m0 111v3m0 15v3m1-141v3m0 108v3m0 27v3m1-144v3m0 9v9m0 117v3m0 220v11m1-255v6m0 6v12m1-159v3m0 12v3m0 12v3m0 105v3m0 3v9m0 3v3m1-159v3m0 6v3m0 9v6m0 3v3m0 123v3m1-159v6m0 6v9m0 3v3m0 111v3m1-138v6m0 3v6m0 111v6m0 12v3m0 3v3m0 223v11m1-384v6m0 3v3m0 111v6m0 6v3m0 12v3m1-150v3m0 120v3m0 244v11m1-384v3m0 3v3m0 129v9m0 3v3m1-138v3m0 3v3m0 108v3m1-141v3m0 6v3m0 3v3m0 15v9m0 99v3m1-117v3m1-33v3m0 21v3m0 132v3m1-156v3m0 3v3m0 9v3m0 9v3m0 3v3m0 87v3m0 9v3m1-141v3m0 12v6m0 9v3m0 3v3m0 93v3m0 3v3m0 6v3m1-153v3m0 9v3m0 12v3m0 99v3m0 3v3m1-111v3m0 102v3m1-126v3m0 21v3m1-3v3m0 90v3m0 24v6m1-132v3m0 6v6m0 99v3m1-147v3m0 18v3m0 108v3m0 9v3m0 3v3m1-153v3m0 135v3m0 3v3m0 3v3m0 3v3m1-147v3m0 21v3m0 96v3m0 6v6m0 3v3m1-156v3m0 129v6m0 9v3m0 6v6m1-126v3m0 114v6m0 223v11m1-381v3m0 18v6m0 93v3m0 9v3m0 3v6m0 3v3m1-153v3m0 21v3m0 96v3m1-135v3m0 6v3m0 3v6m0 24v3m0 87v6m0 3v12m1-18v6m0 6v3m1-129v3m0 3v3m0 99v3m0 18v6m1-141v3m0 120v3m0 9v3m0 3v3m1-156v3m0 36v3m0 87v3m0 3v3m0 3v6m0 6v3m1-162v3m0 3v9m0 15v3m0 102v3m0 21v3m1-156v6m0 21v3m0 9v3m0 90v3m0 15v6m0 220v11m1-387v3m0 27v3m0 3v3m0 90v3m0 12v9m1-156v3m0 18v3m0 114v6m0 3v3m1-117v3m0 114v6m1-153v3m0 6v3m0 12v3m0 117v3m1-147v3m0 132v3m0 6v6m0 3v3m1-156v3m0 6v3m0 12v3m0 123v3m2-144v3m0 117v3m0 18v3m0 223v11m1-387v3m0 3v3m0 6v3m0 6v6m0 108v6m1-144v3m0 9v3m1-12v3m0 9v15m0 93v3m0 15v3m0 9v3m2-159v3m0 138v3m0 9v3m1-144v3m0 3v3m0 3v3m0 3v3m0 87v3m0 9v6m0 6v3m0 9v3m1-153v3m0 24v3m0 84v3m0 12v3m0 9v3m0 3v6m1-159v3m0 18v3m0 6v6m0 84v3m0 6v3m0 6v3m0 6v3m1-150v3m0 6v3m0 6v3m0 108v3m0 9v6m0 3v3m0 3v3m0 220v11m1-384v3m0 3v3m0 3v3m0 3v3m0 96v3m0 9v3m0 15v3m1-120v6m0 84v3m0 3v3m0 3v3m0 12v6m1-153v3m0 6v6m0 12v3m0 120v3m1-156v3m0 135v3m0 9v3m1-33v3m0 12v3m1-120v3m0 9v3m0 93v3m0 12v3m0 232v11m1-372v3m0 3v3m0 126v3m0 223v11m1-240v3m1-132v3m0 96v6m0 3v3m0 6v3m0 3v3m0 6v3m0 223v11m1-11v11m1-357v3m0 78v3m0 21v3m0 6v3m0 3v3m1-6v6m1-6v3m1-141v3m0 3v6m0 3v3m0 96v3m0 3v3m0 6v3m0 3v6m0 3v3m1-147v9m0 3v3m0 96v3m0 15v3m0 3v3m0 3v3m0 223v11m1-390v3m0 9v3m0 15v3m0 12v3m0 78v3m0 3v6m1 6v3m0 3v3m1-15v3m0 238v11m1-243v3m0 3v6m1-141v3m0 129v3m1-24v3m0 18v3m0 3v3m0 220v11m1-387v3m0 6v3m0 9v6m0 111v3m0 3v3m0 3v3m1-138v3m0 6v3m0 3v3m0 6v3m0 69v3m1-120v3m0 27v9m0 3v3m0 105v6m0 3v3m1-156v3m0 18v6m0 12v6m0 3v6m0 9v3m0 60v3m0 15v3m1-150v6m0 15v3m0 21v6m0 6v3m0 60v3m0 21v12m1-156v6m0 6v3m0 15v3m0 90v3m0 15v3m0 235v11m1-387v12m0 132v3m0 229v11m1-354v3m0 15v3m0 12v3m0 72v3m0 6v3m0 223v11m1-369v3m0 6v3m0 15v3m0 12v3m0 60v3m0 6v3m0 3v3m0 3v6m1-126v3m0 54v3m0 48v6m0 3v3m0 3v3m0 226v11m1-393v3m0 60v3m0 12v3m0 45v3m0 21v3m1-102v3m0 3v3m0 3v3m0 87v3m1-135v3m0 9v6m0 24v3m0 12v3m0 51v3m0 12v15m1-138v6m0 3v3m0 9v3m0 3v3m0 84v9m1-126v3m0 123v3m0 6v3m1-159v6m0 24v6m0 6v6m0 3v3m0 9v3m0 6v6m0 36v9m0 6v12m0 3v3m0 12v3m0 188v3m2-329v3m0 3v6m0 15v3m0 6v3m0 12v3m0 66v3m0 3v9m0 223v11m1-390v3m0 3v3m0 3v3m0 12v3m0 3v3m0 27v3m0 81v3m1-150v3m0 30v3m1-36v3m0 6v3m0 15v3m0 3v6m0 12v6m0 60v6m0 3v3m0 9v6m0 9v3m1-138v3m0 123v3m0 191v6m0 3v3m0 29v11m1-366v3m0 3v6m0 24v6m0 18v3m0 27v3m0 6v3m0 15v3m0 12v3m1-159v9m0 27v3m0 15v6m0 9v3m0 72v3m0 6v6m1-153v6m0 12v3m0 120v3m0 229v11m1-246v6m0 229v11m1-387v3m0 132v3m0 3v9m0 226v11m1-372v3m0 6v6m0 117v6m1-147v3m0 9v3m0 108v6m0 3v3m0 9v6m0 220v11m1-237v3m1-27v3m0 3v3m0 9v3m0 6v3m1-9v3m1 3v3m1-150v3m0 114v3m0 6v3m0 6v6m1-3v3m0 3v3m1-6v3m1-147v3m0 99v3m0 33v3m0 3v3m1-147v3m0 111v3m0 15v3m0 6v3m0 3v3m1-6v3m1-30v3m0 18v3m0 3v6m1-156v3m0 135v3m0 9v3m0 3v3m1-15v3m0 232v11m1-258v3m1-3v3m0 15v6m1-24v3m0 3v6m0 6v3m1-147v3m1 135v6m1-15v3m0 3v3m1-21v3m1 12v3m0 24v3m0 211v11m1-246v3m1-39v3m0 12v3m0 6v3m0 27v3m1-45v6m0 3v6m0 3v3m1-42v3m0 9v3m0 9v3m1-30v6m0 12v3m0 3v3m0 3v6m1 3v6m1-30v3m0 15v3m1-45v3m0 3v3m0 3v3m0 21v3m0 9v3m1-27v18m0 250v11m2-282v3m0 15v3m0 6v3m1-21v3m1 6v6m0 6v3m2 27v3m0 176v3m1 29v11m2-270v3m0 256v11m1-210v3m1-51v6m1 15v3m0 116v3m0 3v6m0 15v3m0 30v3m0 12v3m0 24v5m1-196v6m0 101v6m0 42v3m0 3v3m1-200v3m0 182v3m1-51v3m0 45v3m0 6v9m1-185v3m0 27v3m0 59v6m0 21v3m0 18v3m0 12v3m0 12v3m0 3v9m1-203v3m0 51v3m0 59v3m0 3v3m0 9v3m0 12v6m0 3v3m0 18v6m0 6v3m0 6v3m1-197v6m0 39v3m0 86v3m1-134v3m0 42v3m0 65v6m0 36v3m1-152v3m0 45v3m0 53v3m0 15v3m0 6v3m0 3v3m0 21v3m1-119v3m1-51v3m1 48v3m1-60v3m1-9v3m0 143v3m1-146v3m0 21v6m1-42v3m0 3v3m1-9v6m0 6v3m0 21v3m0 3v6m1-63v3m0 18v6m1-39v3m1-9v3m0 6v3m0 6v3m0 3v3m0 39v6m0 9v6m0 45v3m1-138v3m0 15v3m0 36v3m0 6v3m0 6v3m0 6v3m0 3v3m1-72v3m0 6v3m0 9v3m0 48v3m0 45v6m1-93v9m0 3v3m0 3v3m0 6v3m0 3v3m1-45v3m0 27v3m1-30v3m0 30v3m0 6v6m1-69v3m0 48v3m1-54v3m0 9v6m0 24v3m1-57v3m0 9v3m0 30v3m0 30v3m2-93v3m0 6v3m0 36v6m0 9v3m0 9v6m0 3v3m0 12v3m1-108v3m0 6v3m0 9v3m0 36v3m1-63v3m0 3v21m0 24v3m0 9v3m0 15v3m0 6v3m0 12v3m2-69v3m0 3v3m1 15v3m0 21v6m0 6v3m0 6v6m1 30v3m1-6v3m1-21v9m0 6v3m1-6v3m1-63v3m0 21v3m1-45v3m0 152v3m2-167v3m1-42v3m0 24v3m0 3v6m0 24v3m1-90v6m0 18v3m0 15v3m0 12v6m1-51v3m0 6v3m0 3v3m0 15v3m0 12v3m0 131v3m0 33v3m0 6v3m0 6v3m0 6v6m1-263v3m0 9v3m0 6v3m0 21v3m0 3v3m0 128v3m0 3v6m0 3v3m0 39v3m1-239v3m0 3v3m0 3v3m0 36v3m0 116v3m1-173v3m0 6v6m0 12v6m1-27v3m0 3v6m0 21v3m1-45v3m0 3v3m0 6v15m0 12v3m0 128v3m0 15v3m0 3v3m0 27v3m0 15v3m0 12v3m1-254v6m0 6v3m0 9v3m0 164v3m0 3v3m1-206v12m0 6v3m0 6v6m0 15v3m0 209v3m1-251v3m0 15v9m0 3v3m0 197v6m1-245v15m0 18v3m0 3v3m0 131v6m0 6v3m0 6v9m0 12v3m0 3v3m0 6v3m1-236v3m0 3v3m0 18v3m1-30v3m0 3v3m0 9v3m0 3v3m0 3v6m0 143v3m0 3v3m0 12v3m0 15v3m0 15v3m0 12v3m1-254v3m0 9v6m0 3v6m0 3v9m0 15v3m0 161v3m0 33v3m1-251v3m0 3v9m0 12v3m0 102v3m0 3v3m0 44v3m0 42v3m1-230v3m0 48v3m0 42v6m0 3v6m0 3v3m0 3v3m0 3v3m0 3v3m0 65v3m0 30v3m1-191v3m0 6v3m0 24v3m0 15v6m0 3v3m0 6v3m0 27v3m0 53v3m0 119v10m1-275v3m0 9v6m0 116v3m0 33v3m0 3v3m0 3v6m0 77v10m1-281v6m0 6v3m0 12v3m0 128v3m0 18v3m0 89v10m1-275v6m0 3v3m0 6v3m0 128v3m0 113v10m1-266v6m1-3v3m0 250v10m1-275v6m0 3v9m0 116v3m0 12v3m0 15v3m0 95v10m1-254v3m0 3v3m0 6v9m0 83v3m0 12v6m0 9v6m0 3v6m0 92v10m1-227v3m0 62v3m0 3v3m0 3v6m0 3v6m0 3v6m0 3v6m0 9v3m0 95v10m1-194v3m0 32v3m0 3v3m0 140v10m1-10v10m1-10v10m1-10v10"/><path stroke="#00ff2e" stroke-width="1" d="M102.5 259v3m0 86v9m1-101v6m1 0v3m2-6v3m0 80v6m0 3v3m0 91v10m1-199v6m0 74v3m0 3v6m0 97v10m1-190v3m0 65v3m0 3v3m0 60v3m0 40v10m1-199v3m0 42v3m0 17v3m0 105v5m0 11v10m1-190v3m0 6v3m0 65v3m0 9v3m0 33v3m0 36v5m0 11v10m1-184v3m0 3v3m0 18v3m0 23v6m0 3v3m0 3v3m0 6v6m0 15v3m0 9v3m0 12v3m1-131v3m0 12v6m0 3v3m0 56v3m0 36v3m1-128v3m0 21v3m0 50v3m0 84v5m1-169v6m0 12v3m0 143v5m1-175v3m0 9v3m0 3v3m0 6v6m0 35v3m1-128v9m0 3v3m0 42v3m0 3v3m0 6v6m0 9v3m1-75v3m0 21v3m0 12v3m1-6v3m0 27v3m1-96v3m0 18v3m0 33v3m1-63v3m0 3v3m1-18v3m0 18v3m0 84v3m1-96v3m0 9v3m1-3v3m0 9v3m0 12v3m1-24v6m0 21v3m0 6v3m0 9v3m0 18v6m1-45v3m0 3v3m0 6v3m0 24v3m1-33v3m0 173v5m1-5v5m2-5v5m2-32v3m2-104v3m2-6v3m2 0v3m1-3v5m0 123v5m1-232v3m0 3v6m0 6v9m0 6v6m0 6v3m0 9v3m0 6v3m0 3v3m0 9v3m1-132v3m0 3v3m0 18v6m0 24v9m0 12v3m0 15v3m0 3v6m0 9v3m0 9v3m0 3v3m1-138v3m0 3v3m0 12v3m0 24v6m0 12v3m0 3v6m0 9v3m0 18v6m0 12v6m0 3v3m0 9v2m1-140v3m0 108v3m1-135v3m0 254v3m1-51v3m0 18v3m0 18v3m1-245v3m0 155v3m0 6v3m0 3v3m0 12v3m0 6v3m0 6v3m0 6v6m0 3v12m1-245v3m0 3v3m0 167v3m0 45v6m0 6v3m0 9v3m1-257v6m0 191v3m0 30v3m0 3v3m0 24v3m1-87v3m0 3v3m0 12v3m0 15v3m0 18v3m0 18v3m1-81v6m0 9v3m0 21v3m0 3v3m1-227v3m0 209v3m0 12v3m1-60v3m0 9v3m0 3v3m0 3v3m0 9v3m0 6v3m0 18v3m0 18v3m1-87v3m0 39v9m0 9v3m0 18v3m1-251v3m0 6v3m0 173v3m0 3v3m0 6v3m0 45v3m1-245v3m0 3v6m0 221v3m1-248v3m0 15v6m0 9v6m1-9v6m0 3v3m0 3v3m0 12v3m0 6v9m0 12v3m1-30v3m0 9v3m0 15v9m0 33v3m0 12v12m1-57v3m0 27v3m0 12v3m0 3v3m1-105v3m0 18v3m0 3v3m0 3v3m0 6v3m0 3v3m0 9v3m0 3v3m0 6v3m0 9v6m0 6v3m1-60v3m0 15v3m0 33v3m0 3v8m1-26v3m0 9v3m1 9v2m2-251v3m0 243v3m1-249v3m0 111v6m0 176v3m0 45v3m1-233v3m0 117v9m0 17v6m0 33v9m0 12v3m0 3v6m1-57v3m0 18v3m0 3v3m0 3v9m0 3v3m0 6v3m0 6v3m1-42v3m0 9v3m0 12v3m0 6v3m1-338v3m0 246v2m0 9v3m0 9v3m0 18v9m0 15v3m0 18v3m1-335v3m0 272v3m0 33v3m0 3v3m0 9v3m1-326v3m0 263v9m0 18v3m0 39v3m1-84v3m0 60v3m1-332v3m0 243v3m0 11v3m0 6v3m0 42v3m0 18v3m0 3v3m1-347v3m0 269v3m0 6v3m0 45v3m1-66v6m0 6v3m0 12v3m0 12v3m0 6v3m0 24v3m1-101v3m0 14v6m0 6v6m0 24v3m0 6v6m0 6v3m0 15v3m2-332v3m0 228v3m0 29v3m0 33v3m1-57v3m0 3v3m0 24v3m0 18v3m0 9v6m0 9v3m1-60v3m0 27v3m0 12v3m0 71v11m1-411v3m0 266v6m0 9v3m0 3v6m0 6v3m0 21v3m0 3v3m1-66v3m0 6v3m0 3v3m0 9v3m0 45v3m1-341v3m0 234v3m0 47v3m0 3v3m0 30v3m0 44v11m1-106v3m0 33v12m1-86v5m0 6v3m0 48v3m0 15v3m1-72v3m0 15v3m0 12v3m0 15v3m0 36v3m1-104v5m0 6v3m0 3v3m0 9v3m0 9v3m0 21v6m0 6v3m0 12v3m1-95v3m0 92v3m2-101v3m0 95v3m2 30v5m1-175v6m0 128v6m0 30v5m1-5v5m2-172v3m0 131v3m0 30v5m1-172v3m0 134v3m0 27v5m1-41v6m0 3v3m0 24v5m1-172v3m0 128v6m0 3v3m0 24v5m1-5v5m1-5v5m0 21v11m2-207v3m0 131v3m0 33v5m2-38v3m0 30v5m1-175v3m0 167v5m1-175v3m0 131v3m0 33v5m1-5v5m1-5v5m1-172v3m0 190v11m1-204v3m0 137v3m0 24v5m1-5v5m1-175v3m0 167v5m3-172v3m0 128v3m0 33v5m1-35v3m0 27v5m1-38v3m2-6v3m0 6v3m0 50v11m1-204v3m0 137v3m1-143v3m0 131v3m0 56v11m1-70v3m1-6v3m0 33v5m1-172v3m0 190v11m1-67v3m1-6v3m0 56v11m1-204v3m0 131v3m0 56v11m1-207v3m0 134v3m1 0v3m1-143v3m0 134v3m0 30v5m1-175v3m0 131v6m0 30v5m1-5v5m1-5v5m1-38v3m0 30v5m1-172v3m0 134v3m0 27v5m1-32v3m1-15v3m1 6v3m0 53v11m1-204v3m0 131v3m0 56v11m1-37v5m1-5v5m0 21v11m1-207v3m1 0v3m0 131v3m0 56v11m1-204v6m0 131v3m0 27v5m1-38v3m0 30v5m1-41v3m0 3v3m0 27v5m1-172v3m0 101v3m0 27v3m0 30v5m1-169v3m0 161v5m1 21v11m1-37v5m1-172v3m0 131v3m1-137v3m0 164v5m1-175v6m0 164v5m1-35v3m0 27v5m1-53v3m0 9v6m1-140v3m0 131v3m0 33v5m1-172v3m0 125v3m1-131v3m0 164v5m1-5v5m2-172v3m1-6v6m0 211v10m1-57v5m2-50v3m0 15v3m0 50v11m1-201v3m0 125v3m0 33v5m1-169v3m0 122v3m0 83v10m1-224v3m0 131v3m1 56v11m1-201v3m1-3v6m0 158v5m1-166v3m0 65v3m0 90v5m1-92v3m0 57v3m0 50v11m1-204v3m0 50v3m0 3v3m0 12v3m0 3v6m0 18v3m0 21v3m0 62v21m0 10v10m1-231v3m0 18v3m0 50v3m0 15v3m0 9v3m0 83v21m1-214v3m0 131v3m0 56v11m0 20v10m1-160v3m0 63v3m0 50v11m1-201v3m1 0v6m0 68v3m0 45v6m1-134v3m0 62v3m0 57v3m0 3v3m0 33v5m1-172v6m0 24v3m0 17v3m0 36v3m0 18v3m0 6v3m0 45v5m1-172v3m0 65v3m0 3v3m0 15v3m0 6v6m0 15v3m1-104v12m0 20v3m0 3v3m0 3v6m0 33v3m0 9v6m0 71v11m0 20v10m1-216v6m0 3v3m0 6v3m0 44v3m1-68v26m0 18v3m1-50v3m0 6v3m0 3v6m0 131v5m1-163v6m0 6v6m0 3v9m1-33v3m0 9v15m0 3v3m0 3v2m0 27v3m0 36v3m0 54v5m1-163v3m0 9v3m0 3v9m0 62v3m0 33v3m155-101v3m0 41v3m0 24v3m0 3v6m0 3v3m0 12v6m1-107v3m0 53v3m0 12v3m0 3v6m0 18v3m1-104v3m0 74v3m0 56v11m1-147v3m0 62v6m0 3v15m0 9v3m0 30v16m1-147v3m0 74v3m0 24v3m0 24v5m1-101v3m0 27v3m0 12v3m1-54v3m0 3v3m0 3v6m0 3v9m0 18v3m1-51v3m0 6v3m0 36v3m0 3v3m0 12v3m0 3v3m0 24v5m1-119v6m0 12v3m0 30v3m0 65v11m1-144v3m0 14v3m0 6v6m0 3v6m0 24v3m1-36v3m0 24v3m1-62v5m0 18v3m0 57v3m1-86v3m0 44v3m2-47v2m1 6v3m0 6v3m0 3v3m0 6v3m0 3v3m0 3v3m0 6v3m1-48v3m0 15v9m0 12v3m1-50v2m0 63v3m1-51v3m0 63v3m1-86v2m0 12v3m0 15v3m1-38v3m2-6v3m0 56v3m0 9v3m1-101v3m0 15v3m0 9v3m1-228v3m0 222v3m0 14v6m0 15v3m0 6v3m0 6v3m1-48v3m0 24v3m0 15v3m0 21v6m0 9v6m1-338v3m0 27v3m0 183v3m1-216v3m0 12v3m0 12v3m0 245v3m0 6v3m0 3v6m0 30v3m1-335v3m0 9v3m1 3v3m0 213v3m0 92v3m0 3v3m1-347v3m0 9v3m0 6v6m0 168v3m0 3v3m1-195v3m0 9v6m0 6v3m0 201v6m1-231v3m0 3v6m0 6v3m1-30v3m0 6v3m0 3v3m0 3v3m0 6v3m0 189v3m0 9v3m1-237v3m0 3v3m0 6v3m0 9v3m0 201v3m1-231v6m0 6v3m0 12v3m0 3v3m0 168v3m0 6v3m0 12v3m0 23v3m0 69v3m1-302v3m0 192v6m0 6v3m1-246v6m0 21v3m0 3v3m0 3v3m1-39v3m0 3v6m0 3v3m0 3v3m1-12v3m0 15v3m0 3v9m0 174v9m0 29v3m0 60v3m1-323v3m0 6v3m0 6v3m0 9v6m0 15v3m0 129v3m0 89v3m0 48v3m1-326v6m0 6v3m0 9v6m0 168v3m0 3v3m1-192v3m0 207v3m0 15v5m1-254v3m0 225v6m0 6v3m1-237v3m0 9v3m0 6v3m0 3v3m0 183v3m0 9v3m0 9v3m0 6v2m1-230v3m0 9v3m0 180v6m0 21v3m0 14v3m0 18v9m0 36v6m1-320v6m0 3v3m0 9v6m0 3v3m0 159v3m0 3v3m1-195v3m0 195v9m0 9v6m0 3v8m0 21v9m0 9v3m0 24v3m1-281v3m0 171v6m0 3v6m1-228v3m0 3v3m0 9v12m0 3v6m0 153v3m0 140v3m1-326v3m0 3v6m0 12v3m0 6v3m0 159v3m0 3v6m1-222v3m0 3v3m0 6v3m0 3v3m0 6v3m0 186v9m0 6v3m0 50v9m0 6v3m0 3v9m0 9v6m1-329v6m0 6v6m0 3v12m0 183v6m0 3v3m0 3v3m0 74v3m1-311v3m0 15v9m0 3v6m0 6v6m0 156v9m0 9v3m0 12v3m0 23v6m0 21v3m0 3v3m0 3v3m1-287v3m0 6v6m0 171v3m0 6v3m0 18v3m0 80v3m0 3v3m1-305v3m0 3v3m0 186v3m0 15v3m0 62v3m1-287v3m0 9v3m0 9v3m0 165v6m0 3v3m0 9v3m0 101v3m1-335v3m0 30v3m0 174v6m0 12v6m0 26v3m0 9v3m0 45v3m0 15v3m1-110v3m0 6v3m0 89v3m1-332v3m0 24v3m0 227v6m0 12v3m0 3v3m0 51v3m1-341v3m0 15v3m0 3v6m0 186v3m0 3v12m0 12v3m0 38v3m0 18v3m0 12v6m0 3v3m0 6v3m1-341v3m0 18v3m0 201v3m0 9v3m0 20v3m1-251v6m0 204v9m0 3v3m0 38v3m0 48v3m0 42v5m1-172v3m0 15v3m0 9v6m0 62v3m1-311v15m0 204v6m1-210v3m0 6v3m0 3v3m0 180v6m0 50v6m0 12v3m0 27v6m0 6v6m1-335v3m0 3v6m0 3v3m0 3v3m0 6v3m0 186v3m0 3v3m0 12v3m0 17v9m0 6v3m0 12v3m0 3v3m0 30v6m0 3v3m1-101v6m0 14v3m0 6v3m0 66v3m0 3v3m1-341v9m0 15v3m0 186v3m0 59v3m0 18v3m0 30v3m1-323v6m0 15v3m0 183v3m0 27v2m1-20v3m0 3v3m0 9v2m0 18v3m0 6v6m0 12v3m0 24v6m0 9v3m1-326v3m0 3v6m0 6v3m0 171v6m0 9v3m1-222v3m0 15v3m0 6v3m0 227v9m0 18v3m0 3v3m0 27v3m0 12v3m1-341v3m0 6v6m0 219v3m0 9v5m0 15v3m0 12v3m0 3v3m0 27v3m0 3v3m0 9v3m1-338v3m0 24v3m0 9v3m0 156v3m0 107v3m0 63v5m1-382v3m0 12v9m0 3v3m0 15v6m0 209v3m0 3v3m0 6v6m0 18v3m0 42v3m0 3v3m1-347v6m0 6v3m0 18v3m1-30v3m0 201v3m1-216v3m0 15v3m0 21v3m0 159v3m0 59v3m0 12v3m0 9v3m0 3v12m0 3v3m0 12v3m0 12v3m1-344v3m0 3v3m0 15v3m0 180v3m0 18v6m0 32v3m0 24v3m0 9v3m0 3v3m0 3v3m0 21v3m1-323v3m0 6v3m0 174v3m0 44v3m0 15v6m0 27v3m0 3v3m0 6v3m1-314v3m0 3v3m0 3v3m0 177v3m0 3v6m0 9v3m0 29v3m0 87v3m1-125v3m0 6v3m0 6v3m0 59v3m1-89v3m0 15v3m0 29v3m0 18v3m0 15v3m0 6v3m1-323v3m0 9v3m0 3v3m0 3v3m0 9v6m0 257v6m0 15v3m1-317v3m0 216v3m0 3v3m0 9v3m0 3v3m0 56v3m0 39v3m1-347v6m0 6v6m0 6v3m0 3v3m0 177v3m0 47v3m1-251v3m0 195v12m1-219v3m0 219v3m0 6v6m0 3v3m1-36v3m1-213v3m0 3v3m0 204v3m0 9v3m1 6v3m0 3v6m2-234v6m0 204v3m0 9v3m0 6v3m1-237v3m0 189v3m0 9v3m1-210v9m0 195v3m1-9v9m1-9v6m0 3v3m0 77v3m1-71v3m0 3v6m0 3v6m0 11v6m0 9v3m0 9v3m0 9v3m0 36v6m0 3v3m1-128v3m1-9v3m0 3v6m1-15v3m0 27v3m0 80v6m0 6v3m1-338v3m0 3v3m0 198v3m1-195v3m0 195v6m0 74v6m0 12v3m0 3v3m1-95v3m0 3v6m0 3v6m0 47v3m1-42v3m0 3v3m0 9v9m0 3v3m0 57v3m1-122v6m0 53v3m0 3v9m0 12v3m0 24v3m1-143v3m0 6v3m0 3v3m1-213v3m0 12v3m0 6v3m0 156v3m0 119v3m0 12v3m0 3v3m1-95v6m0 29v3m0 15v3m0 9v3m0 12v6m1-95v3m1-48v3m0 12v6m0 53v3m0 9v6m0 3v9m0 3v3m0 36v3m1-146v9m1 21v3m0 15v6m0 3v5m0 15v3m0 57v3m0 3v3m0 9v3m0 32v11m1-168v6m0 3v9m0 6v5m0 12v3m0 18v6m0 57v3m0 29v11m1-162v3m0 15v3m0 17v3m0 75v3m0 32v11m1-381v3m0 195v3m0 86v3m0 27v3m0 50v11m1-174v3m0 3v3m0 6v3m0 12v3m0 26v3m0 18v3m0 3v3m0 6v3m0 12v3m1-113v12m0 83v3m0 15v6m0 6v3m0 30v5m1-379v3m0 213v3m0 3v3m0 18v3m0 133v11m1-381v3m0 3v3m0 183v6m1 107v3m0 62v11m1-204v3m0 12v3m0 68v3m0 6v3m0 21v3m0 3v3m0 18v6m0 3v3m1-125v3m0 3v3m0 3v3m0 6v3m0 3v3m1-237v3m0 198v6m0 12v3m0 44v3m0 6v3m0 27v3m0 21v3m0 35v11m1-186v3m1-207v6m0 195v3m0 101v6m0 6v3m1-305v6m0 195v6m0 3v6m1-213v3m1 201v3m0 3v3m0 3v3m0 9v3m1-39v6m0 15v9m0 9v2m1-221v3m0 165v3m0 3v3m0 80v3m0 3v3m0 3v3m0 27v3m0 3v3m1-338v3m0 3v3m0 9v6m0 165v3m0 65v3m0 36v3m1-71v3m0 6v6m0 47v3m0 6v9m1-311v3m0 9v15m0 165v6m0 83v3m0 36v6m1-110v3m0 6v6m0 9v6m0 6v2m0 24v3m0 12v3m1-95v3m0 3v3m1 6v3m0 9v3m0 9v3m0 3v3m1-24v6m0 21v2m1-50v6m1 6v3m0 3v6m0 149v5m1-190v3m0 143v3m0 41v11m1-165v3m0 6v3m0 6v3m0 133v11m1-177v6m0 9v3m0 6v3m1-234v3m0 183v3m0 15v6m0 3v6m0 3v3m0 148v11m1-201v12m0 6v3m0 24v3m0 6v6m1-39v3m0 6v6m0 9v3m0 142v11m1-195v6m0 21v3m0 15v3m0 136v11m1-390v3m0 12v3m0 3v3m0 156v3m0 6v6m0 9v6m0 128v3m0 3v6m0 29v11m1-195v3m0 12v3m0 9v6m0 3v3m0 3v3m1-24v9m0 3v3m0 3v3m1-216v3m0 144v3m0 9v9m0 48v3m0 139v11m1-168v3m1-21v6m0 3v3m0 3v3m0 6v6m0 145v11m1-213v3m0 15v3m0 3v3m0 3v3m0 18v6m1-54v3m0 12v3m0 181v11m1-183v12m0 3v3m0 3v3m0 113v6m0 29v11m1-375v3m0 171v3m0 6v6m0 6v3m0 3v6m1-210v3m0 9v3m0 150v3m0 3v3m0 193v11m1-252v6m0 6v3m0 6v3m0 217v11m1-366v3m0 174v3m0 6v3m0 3v3m1-54v3m0 39v3m0 12v3m0 122v3m1-344v3m0 21v3m0 105v3m0 3v6m0 3v3m0 3v9m0 6v3m0 12v3m0 152v3m0 32v11m1-378v3m0 153v3m0 12v9m0 6v3m0 12v3m0 158v5m1-196v3m0 3v12m0 9v3m0 3v3m0 128v3m1-338v3m1-9v3m0 9v6m0 129v3m0 3v15m0 27v3m0 175v11m1-216v3m0 3v6m1 9v3m0 6v3m0 3v3m1-204v9m0 138v6m0 9v3m0 9v3m0 6v3m1-195v6m0 9v3m0 132v3m0 6v3m0 6v6m0 3v3m1-183v3m0 6v3m0 6v3m0 21v3m0 120v3m0 6v6m0 3v3m0 3v3m0 6v3m0 143v6m1-317v6m0 129v3m0 9v3m0 12v3m0 149v3m1-329v3m0 323v3m1-185v3m0 15v3m0 9v3m1-198v9m0 12v3m0 6v3m0 9v3m0 108v9m0 3v3m0 27v3m0 6v3m1-201v3m0 6v3m0 6v6m0 9v3m0 3v3m0 96v6m0 6v12m0 9v3m0 202v11m1-363v3m0 120v3m0 226v11m1-393v6m0 3v6m0 6v6m0 6v3m0 6v9m0 6v3m0 126v3m1-177v3m0 15v9m0 120v6m0 9v3m0 3v3m0 15v3m1-186v3m0 15v3m0 346v11m1-393v3m0 36v3m0 6v3m0 3v9m0 75v6m0 33v3m0 18v3m0 176v5m1-376v6m0 15v3m0 15v3m0 114v3m0 18v3m0 12v3m0 181v11m1-381v3m0 12v6m0 3v3m0 6v3m0 99v3m0 12v3m0 21v3m1-186v6m0 18v3m0 12v3m0 6v3m0 138v6m1-174v6m0 6v3m0 6v3m0 105v3m0 3v3m0 9v3m0 6v3m0 6v3m0 185v5m1-367v3m0 6v3m0 129v6m0 188v3m1-347v3m0 153v6m0 3v3m0 12v3m0 3v3m1-195v6m0 9v3m0 12v3m0 3v3m0 9v3m0 126v3m0 15v3m0 184v11m1-378v3m0 3v3m0 165v3m1-180v9m0 3v3m0 3v3m0 9v3m0 117v3m0 3v3m0 12v9m0 190v11m1-372v3m0 6v3m0 117v3m0 33v3m0 3v3m1-180v3m0 18v3m0 90v3m1-132v6m0 6v3m0 15v3m0 114v3m0 3v3m0 3v3m0 15v3m0 9v3m0 158v3m0 24v5m1-367v3m0 3v3m0 12v3m0 114v3m0 3v3m0 6v3m0 211v11m1-393v3m0 9v6m0 9v3m0 6v6m0 102v3m0 42v3m1-174v3m0 3v3m0 6v3m0 144v3m0 199v11m1-387v3m0 18v3m0 3v9m0 3v6m1-45v6m0 3v3m0 6v12m0 3v3m0 144v3m0 193v11m1-387v3m0 3v3m0 12v3m0 114v3m0 21v3m0 12v6m0 161v3m0 24v5m1-361v9m0 12v3m0 111v3m0 12v3m1-168v3m0 3v6m0 6v3m0 3v3m0 6v3m0 335v5m1-361v3m0 6v6m0 135v3m0 6v6m0 196v11m1-390v9m0 12v3m0 6v3m0 105v3m0 9v3m0 6v9m0 6v3m0 197v5m1-379v3m0 3v9m0 6v6m0 12v3m0 337v11m1-378v3m0 147v3m0 12v6m1-165v3m0 6v3m0 3v3m0 3v3m0 99v3m0 30v3m0 3v3m1-186v3m0 6v6m0 12v9m0 6v3m1-42v3m0 30v3m0 102v3m0 194v3m0 3v6m0 32v11m1-387v3m0 6v3m0 3v6m0 150v3m0 213v10m1-400v6m0 3v3m0 6v3m0 3v6m0 349v11m1-387v3m0 6v3m0 332v3m1-347v3m0 9v3m1 0v3m0 129v3m0 9v3m0 9v3m0 202v11m1-243v3m0 24v3m0 170v3m1-344v3m0 168v3m1-183v6m0 168v3m0 173v3m1-353v3m0 6v3m0 6v3m0 132v3m1-15v3m0 3v3m0 12v3m0 6v3m0 3v3m0 202v11m1-393v3m0 6v3m0 6v3m0 3v3m0 150v3m1-174v3m0 3v6m0 329v3m1-341v3m0 6v6m0 117v3m0 27v3m0 208v11m1-393v3m0 3v3m0 9v9m0 9v3m0 343v11m1-390v6m0 6v3m0 12v3m0 111v3m0 6v3m0 226v11m1-252v3m1-111v3m0 105v3m1 238v11m1-225v3m0 211v11m1-387v12m0 6v9m0 108v6m0 6v3m0 226v11m1-378v6m0 120v3m1-129v12m0 129v3m0 12v3m0 208v11m1-375v3m0 117v3m0 3v3m0 21v3m1-168v3m0 3v3m0 12v3m0 9v3m0 132v3m1-174v3m0 3v3m0 9v6m0 6v3m0 6v3m0 3v3m0 123v3m0 173v3m0 32v11m1-393v3m0 9v3m0 3v6m0 3v3m0 3v6m0 99v3m0 30v3m1-168v6m0 135v6m0 6v3m0 6v3m1-165v12m0 12v3m0 111v3m0 3v3m0 6v6m0 185v3m1-350v3m0 3v3m0 18v3m0 3v3m0 129v3m1-165v3m0 6v3m0 15v3m0 105v3m1-141v3m0 6v9m0 3v3m0 123v6m0 3v3m0 3v3m1-150v3m0 117v3m0 15v3m0 3v3m0 217v11m1-387v3m0 6v3m0 129v3m0 6v3m0 3v6m1-159v3m0 6v12m0 111v3m0 9v3m1-141v9m0 9v3m0 108v6m0 3v9m0 220v11m1-390v3m0 3v3m0 6v9m0 114v6m0 3v3m1-150v3m0 141v6m0 6v3m1-21v3m0 21v3m1-162v6m0 123v3m0 244v11m1-378v3m0 3v3m0 114v3m0 3v3m0 6v3m0 226v11m1-378v3m0 3v3m0 3v3m0 120v3m1-147v6m0 6v6m0 12v3m0 96v3m0 18v3m0 223v11m1-393v3m0 129v6m0 6v3m0 6v6m1-135v9m0 105v3m0 18v6m1-159v3m0 3v3m0 6v3m0 9v3m0 111v3m0 12v3m1-159v3m0 33v3m0 90v3m0 3v3m1-126v6m0 12v3m0 3v3m0 6v6m1-48v3m0 126v3m0 3v9m1-153v3m0 3v3m0 6v6m0 9v6m0 3v6m0 105v3m1-150v6m0 3v3m0 15v3m0 102v3m0 3v3m0 3v3m0 12v3m1 217v11m1-378v3m0 117v3m0 18v3m1-129v3m0 99v3m0 6v3m0 3v3m0 232v11m1-363v3m0 3v3m0 3v3m0 84v9m0 6v3m0 9v6m0 220v11m1-381v3m0 12v3m0 108v3m0 3v6m0 3v3m0 3v3m1-156v3m0 21v6m0 105v3m0 12v3m0 223v11m1-378v6m0 9v3m0 108v3m0 12v3m1-147v3m0 9v6m1-27v6m0 6v6m0 15v3m0 105v3m0 3v3m0 3v3m1-135v3m0 126v9m1-156v6m0 3v9m0 12v3m0 108v3m0 3v3m1-144v12m0 3v3m0 111v6m1-144v3m0 27v3m0 99v6m0 6v6m0 6v3m1-162v3m0 24v3m0 105v3m0 9v3m1-144v6m0 21v6m0 90v3m0 9v3m0 3v12m1-156v3m0 3v3m0 3v3m0 3v3m0 18v3m0 93v3m0 241v11m1-378v6m0 9v3m0 349v11m1-393v6m0 3v3m0 3v3m0 3v3m0 3v3m0 108v3m0 9v6m0 226v11m1-384v6m0 9v3m0 6v3m0 117v6m0 223v11m1-384v6m0 3v3m0 12v3m0 102v6m0 15v3m1-153v3m0 3v3m0 6v3m0 12v3m0 117v3m1-144v3m0 9v3m0 6v3m0 99v3m0 12v3m0 223v11m1-381v6m0 15v3m0 3v3m0 102v3m1-138v3m1-6v6m0 3v3m0 364v11m1-387v3m0 30v3m0 102v6m0 3v6m0 223v11m1-381v3m0 24v6m0 3v3m1-48v3m0 6v9m0 27v3m0 84v3m0 18v6m0 220v11m1-384v3m0 15v3m0 12v6m0 96v3m1-132v3m0 364v11m1-393v3m0 6v3m0 12v3m0 126v6m1-135v3m0 12v3m0 99v6m0 9v3m1-159v3m0 9v3m0 24v3m0 93v3m1-135v3m0 6v3m0 9v6m0 108v3m0 3v3m1-147v3m0 9v3m0 3v6m0 129v3m1-150v3m0 3v3m0 9v3m0 3v3m0 349v11m1-366v3m1-12v6m0 3v6m0 123v3m0 223v11m1-369v3m0 123v3m1-9v3m1-120v6m0 120v3m1-153v3m0 3v3m0 370v11m1-381v3m0 6v3m0 132v3m0 223v11m1-387v3m0 9v3m0 129v3m0 3v3m0 223v11m1-11v11m1-11v11m1-249v3m0 9v3m1-153v3m0 6v6m0 3v3m0 114v3m1-117v3m0 105v3m0 6v6m1-144v6m0 18v3m0 3v3m0 96v3m0 18v3m1-147v3m0 3v3m0 361v11m1-390v9m0 9v3m0 9v3m0 84v3m0 9v3m0 9v3m0 235v11m1-381v3m0 12v6m0 123v3m0 223v11m1-258v3m0 244v11m2-387v3m0 6v3m0 15v3m0 3v3m0 96v3m0 9v3m1-9v3m1-117v3m0 349v11m1-372v3m0 6v3m0 87v3m0 12v6m0 3v3m0 3v3m1 3v3m1-156v3m0 3v3m0 6v3m0 105v3m0 3v9m2 15v3m0 223v11m1-360v3m0 105v3m0 12v3m1-159v3m0 3v6m0 27v3m0 105v3m0 3v3m1-156v3m0 15v6m0 12v3m0 81v3m0 9v3m0 6v3m0 3v9m0 226v11m2-240v3m1 226v11m1-237v3m0 223v11m2-384v3m0 141v3m0 226v11m1-360v3m0 108v3m0 3v3m0 3v3m1-153v3m1 3v6m0 42v3m0 72v3m0 3v3m0 15v3m1-126v3m0 6v3m0 6v3m0 6v6m0 75v3m1-135v3m0 24v3m0 9v3m0 3v3m0 3v3m0 9v3m1 78v3m1-144v3m0 27v6m0 15v3m0 6v3m0 66v3m1-129v3m0 9v3m0 3v15m0 3v3m0 18v3m0 78v3m1-156v3m0 9v3m0 132v3m1-150v3m0 30v6m0 340v11m1-372v6m0 9v3m0 6v3m0 6v3m0 9v6m0 72v3m1-132v3m0 12v3m0 33v6m0 69v3m0 238v11m1-378v3m0 24v3m0 3v3m0 6v6m0 90v3m0 226v11m1-366v9m0 346v11m1-372v6m0 33v3m0 24v3m0 51v3m0 6v3m0 3v3m0 223v11m1-387v3m0 3v3m0 21v3m1-27v3m0 6v3m0 3v3m0 24v3m1-51v3m0 15v6m0 12v3m0 3v3m0 24v3m0 75v3m2-150v3m0 12v3m0 24v3m0 12v3m0 69v3m0 9v3m0 3v3m0 3v3m2-159v6m0 3v3m0 3v6m0 6v3m0 39v6m0 6v3m0 45v3m0 3v6m0 12v3m1-159v3m0 12v3m0 45v3m0 87v3m0 226v21m1-397v3m1 147v3m3-9v3m1 0v3m1-33v3m0 9v3m1 3v3m1 6v6m1-3v6m1 223v11m2-243v3m0 3v3m1-159v3m0 117v3m0 259v11m2-243v3m0 229v11m1-249v3m1 9v3m1 223v11m1-11v11m1-237v3m1-9v6m0 226v11m1-237v3m0 223v11m1-246v3m0 3v3m0 3v3m0 220v11m1-252v3m0 6v3m1-15v3m0 3v3m1-3v3m0 21v3m0 211v11m1-273v6m0 18v3m1-36v3m0 3v6m1-12v3m0 3v3m0 12v9m0 27v3m1-63v3m0 3v3m0 24v3m1-33v6m0 18v3m1-48v3m0 12v3m0 9v3m0 9v3m1 0v3m0 9v3m0 235v11m1-285v3m0 21v3m1-3v12m1-24v3m0 12v3m0 30v3m1-66v3m0 6v3m0 12v3m0 3v3m0 30v3m0 211v11m1-279v6m0 262v11m1-11v11m2-276v6m1 15v3m0 241v11m1-213v3m2 199v11m1-234v3m0 24v3m0 128v3m0 24v3m1-3v3m1-188v3m0 143v3m0 36v3m1-155v6m0 80v3m0 101v11m1-228v3m0 27v3m0 68v6m0 30v3m0 9v3m0 3v3m0 6v9m1-185v3m0 113v3m0 6v3m0 9v3m0 54v3m1-188v6m0 110v3m0 12v3m1-36v12m0 9v3m0 45v3m0 9v3m1-176v3m0 39v3m0 47v6m0 6v3m0 3v3m0 27v3m0 6v3m0 9v3m0 3v6m1-182v3m0 51v3m1-51v3m0 42v3m1 107v6m0 18v3m1-185v3m0 3v3m0 12v3m1-24v3m0 125v6m0 6v3m1-146v3m0 3v3m0 6v3m0 48v3m1-84v3m1 33v3m0 42v6m1-93v6m0 9v6m0 69v9m1-3v3m0 92v3m1-203v3m0 36v6m0 6v3m0 51v6m1-114v9m0 18v3m0 9v3m1 21v3m0 9v3m2-45v3m0 3v9m0 3v3m0 6v3m0 57v3m1-105v9m0 3v3m0 15v3m0 3v6m0 66v2m1-119v3m0 3v3m0 12v3m0 6v3m0 3v6m0 15v3m0 6v3m1-69v6m0 15v3m0 3v6m0 3v3m0 9v3m0 3v3m1-57v3m0 18v3m0 45v6m0 6v3m2-114v3m0 6v3m0 12v3m0 30v3m0 3v3m0 3v3m0 12v3m0 3v3m1-93v6m1 18v3m0 6v3m0 3v3m0 15v3m0 15v3m0 3v3m0 24v3m0 3v6m0 6v3m1-3v6m1-117v3m0 33v3m0 3v9m0 9v3m0 9v3m0 12v3m1-27v3m0 9v3m0 6v3m0 9v3m0 6v3m2 18v3m4-63v3m0 101v3m0 48v3m1-15v3m1-188v6m0 33v3m0 119v3m1-200v3m0 6v3m0 12v6m0 15v6m1-66v3m0 3v3m0 3v6m0 15v3m0 6v6m0 155v3m0 15v3m0 3v3m0 12v3m1-251v3m0 6v3m0 12v3m0 3v6m0 30v3m0 137v3m0 27v3m0 6v3m0 3v6m1-254v6m0 6v3m0 15v3m0 12v3m0 3v3m0 3v6m0 119v3m0 6v3m0 3v3m0 33v3m0 6v3m0 9v3m1-254v3m0 9v3m0 3v3m0 12v3m0 6v6m0 9v3m0 119v3m0 45v3m0 9v3m0 15v3m1-248v3m0 15v9m0 12v3m1-48v3m0 9v3m0 3v3m0 15v3m0 149v3m0 27v3m0 18v3m0 9v3m1-230v6m0 140v3m0 3v3m0 3v3m0 3v6m0 12v3m0 18v3m0 12v6m0 3v3m1-263v3m0 9v6m0 3v3m0 18v3m0 128v3m0 6v6m0 3v3m0 15v3m0 24v3m1-227v3m0 9v3m0 6v3m0 164v3m0 3v3m0 12v3m0 3v3m0 9v3m0 9v3m1-254v9m0 9v12m0 15v3m0 3v3m0 116v3m0 3v3m1-179v3m0 18v6m0 6v3m0 9v3m0 143v6m0 12v3m0 15v6m0 6v3m0 3v3m0 6v9m1-248v6m0 21v3m0 3v3m1-3v3m0 119v3m0 24v3m0 21v9m0 24v3m1-254v3m0 3v3m0 6v3m0 155v3m0 9v3m0 6v6m0 18v3m0 6v6m0 9v3m0 12v3m1-254v3m0 9v6m0 9v6m0 6v3m0 6v3m0 81v3m1-114v6m0 9v6m0 3v6m0 90v3m0 35v3m0 12v3m0 15v3m0 15v3m0 6v3m1-182v3m0 6v3m0 24v3m0 6v3m0 6v3m0 21v6m0 44v3m0 15v3m0 6v3m0 12v3m0 9v6m1-185v3m0 12v3m0 12v9m0 3v3m0 33v3m0 26v6m0 9v3m0 21v3m0 27v3m1-173v6m0 3v3m0 12v3m0 74v6m0 30v3m0 21v3m1-167v3m0 12v3m0 83v3m0 15v3m0 6v3m0 9v3m0 6v9m1-170v3m0 6v3m0 9v9m0 3v3m0 71v3m0 6v3m0 6v3m0 36v3m0 9v3m1-176v6m0 3v3m0 15v3m0 74v3m0 3v3m0 6v3m0 6v3m0 12v6m0 3v6m0 6v3m0 6v3m1-137v3m0 62v3m0 3v3m0 30v6m0 6v3m1-30v3m0 6v3m0 12v9m0 6v3m1-66v3m0 18v3m1-74v3m0 50v3m1-56v3m0 62v6m1-71v3m1 24v3"/><path stroke="#00ff17" stroke-width="1" d="M102.5 256v3m0 83v3m0 110v21m1-214v3m0 74v3m0 113v21m1-220v6m0 80v9m0 104v21m1-214v3m0 71v3m0 3v12m0 101v21m1-220v3m0 89v3m0 3v3m0 98v11m1-204v3m0 74v3m0 113v11m1-210v3m0 24v3m0 32v3m0 6v3m0 125v11m1-201v6m0 3v3m0 3v3m0 32v3m0 84v3m1-137v6m0 3v3m0 32v15m0 12v3m0 113v11m1-198v3m0 65v3m0 3v3m0 84v5m0 11v21m1-195v6m0 21v6m0 125v5m0 21v11m1-198v9m0 3v3m0 3v3m1-9v3m0 12v3m0 35v3m1-68v3m0 27v3m0 3v2m0 123v5m1-238v3m0 51v6m0 6v3m0 15v3m0 18v3m1-105v3m0 3v3m0 6v3m0 6v6m0 3v3m0 15v6m0 3v6m0 3v3m0 6v3m0 3v3m1-87v3m0 9v3m0 12v3m0 3v3m0 9v6m0 6v3m0 6v3m0 9v3m1-87v3m0 12v3m0 9v3m0 3v6m0 18v3m0 15v3m0 6v3m0 149v5m1-244v3m0 9v3m0 15v3m0 54v3m0 3v3m1-93v3m1-6v3m0 3v3m1 12v3m0 15v3m0 3v6m0 42v3m0 148v11m1-216v3m0 9v6m0 24v6m1-15v3m0 6v3m0 3v6m0 119v3m0 29v11m1-177v6m0 3v3m2 149v5m7-133v5m0 123v5m1-5v5m2-32v3m1-263v3m0 3v6m0 12v3m0 27v3m0 66v3m0 12v3m0 9v3m1-150v3m0 30v6m0 9v3m0 3v6m0 3v3m0 21v3m0 6v3m0 3v3m0 6v3m0 12v3m1-132v9m0 3v3m0 9v3m0 30v3m0 9v3m0 6v3m0 36v3m0 9v3m0 21v9m0 98v3m1-260v3m0 33v3m1-30v3m0 9v3m0 12v3m0 6v3m0 48v3m1 155v3m1-72v3m0 6v3m0 21v3m0 24v9m1-257v3m0 9v3m0 3v6m0 224v3m0 9v3m1-260v3m0 170v3m1-9v3m0 12v3m0 12v3m0 6v6m0 3v6m0 9v3m0 3v3m0 3v3m1-57v3m0 3v3m0 15v3m0 9v6m0 12v3m0 6v6m1-263v3m0 170v3m0 3v3m0 9v3m0 6v3m0 33v6m0 12v3m0 3v3m1-254v3m0 164v3m0 3v3m0 27v6m0 12v3m0 12v3m1-57v3m0 6v3m0 6v9m0 9v3m0 21v3m0 6v3m1-260v3m0 9v3m0 6v3m0 161v3m0 33v6m0 9v3m1-233v3m0 6v3m0 9v3m0 18v3m0 182v3m0 3v6m1-239v3m0 21v3m0 9v3m1 114v3m1-90v3m0 3v3m0 3v3m0 15v6m0 9v3m0 3v9m0 6v3m0 21v2m1-38v3m1-30v3m0 3v6m0 36v6m0 9v2m2-8v6m3 0v2m0 6v3m0 81v3m1-224v6m0 6v3m0 18v3m0 84v3m0 20v3m0 15v9m0 3v3m0 9v3m0 30v3m1-332v3m0 105v9m0 3v3m0 6v3m0 3v6m0 6v6m0 36v3m0 3v3m0 6v6m0 3v3m0 3v6m0 9v3m0 3v2m0 36v3m0 18v3m0 3v3m0 21v3m1-75v3m0 21v3m0 39v3m1-39v3m0 75v5m1-122v3m0 9v3m0 12v3m1-41v5m0 6v3m0 15v3m1 30v3m0 30v3m0 35v11m1-147v3m0 38v3m0 27v3m1-68v2m0 57v3m0 36v3m1-347v6m1-12v3m0 243v3m0 26v3m0 12v3m0 21v3m0 33v3m1-341v3m0 269v3m1-38v5m0 12v3m0 57v3m0 6v3m0 44v11m1-127v3m0 3v3m0 9v3m0 12v9m0 9v3m0 6v3m0 64v10m1-131v3m0 9v3m0 3v3m0 27v3m0 12v3m1-89v5m0 57v3m1 6v3m0 80v11m1-399v3m0 275v3m1 24v3m0 3v3m0 21v3m1-90v3m0 12v3m0 3v3m1 15v3m0 3v3m0 66v16m1-144v5m0 123v16m1-124v9m0 6v6m0 3v3m1-44v2m1-8v3m0 92v6m0 30v5m3-74v3m0 12v3m0 6v3m0 3v3m0 3v3m1 56v11m1-11v11m1-64v3m0 24v5m0 21v11m1-201v3m0 187v11m1-11v11m1-204v3m0 119v3m2-125v3m0 190v11m1-76v3m1-131v6m0 187v11m1-76v3m0 3v3m0 56v11m1-204v3m0 131v3m0 30v5m0 21v11m1-11v11m1-204v3m0 131v3m0 56v11m1-11v11m1-73v3m0 59v11m1-70v3m0 56v11m1-64v3m1 50v11m1-204v3m0 128v3m0 59v11m1-204v3m0 131v6m0 53v11m1-207v6m0 131v3m0 3v3m0 50v11m1-73v3m0 3v3m0 53v11m1-11v11m1-11v11m1-204v3m0 190v11m1-204v3m0 131v6m0 53v11m1-70v3m1 56v11m2-204v3m0 190v11m1-11v11m1-85v3m0 9v3m0 6v3m1 50v21m1-214v3m0 128v3m0 6v3m0 71v10m2-224v3m0 128v3m0 3v3m0 53v11m1-11v11m1-204v3m0 190v11m1-204v3m0 122v3m0 65v11m1-204v3m0 131v3m0 56v11m1-204v3m1-3v3m1 131v3m0 56v11m1-85v3m0 3v3m0 3v3m0 59v11m1-204v3m0 137v3m0 50v11m1-64v3m1-6v3m1-140v3m0 190v11m1-204v3m0 125v9m1-6v3m0 59v21m1-10v10m1-80v3m0 56v11m1-204v6m0 125v3m0 6v3m1-143v3m0 137v3m1-15v3m0 62v11m1-73v3m0 59v11m1-201v3m0 198v20m1-90v3m0 56v11m1-11v11m2-70v6m1-6v3m1-137v3m0 125v3m0 9v3m0 50v11m1-70v3m0 56v11m1-11v11m1-79v3m0 6v3m0 56v11m1-97v3m0 9v3m0 6v6m0 70v20m1-224v3m0 101v3m0 18v6m0 62v11m1-201v3m0 50v3m0 134v31m1-221v3m0 110v3m0 9v3m0 6v3m0 53v11m1-204v6m0 122v3m0 9v3m0 50v31m1-218v3m0 83v3m0 21v3m0 6v3m0 65v21m1-161v3m0 45v3m0 12v6m0 6v3m0 3v3m0 67v20m1-224v3m0 92v3m0 42v3m0 50v31m1-218v3m0 86v3m0 95v21m1-83v3m0 59v11m1-201v3m0 27v3m0 92v3m0 6v6m1-137v3m0 184v11m1-186v3m0 12v3m0 157v11m1-201v3m0 187v11m1-201v3m0 53v3m0 33v3m0 9v3m0 6v6m0 82v10m0 10v10m1-231v3m0 44v3m0 3v3m0 9v6m0 3v3m0 12v3m0 3v3m0 6v3m0 3v3m1-42v3m0 9v3m0 12v3m0 15v6m0 15v3m0 81v10m1-106v3m0 73v10m1-208v6m0 47v6m0 3v3m0 24v3m0 6v3m0 12v3m0 3v3m0 76v10m0 10v10m1-133v3m0 6v3m0 80v11m0 20v10m1-222v3m0 21v3m0 62v3m0 12v3m0 6v3m0 65v21m0 10v10m1-231v3m0 71v3m0 6v3m0 24v3m0 6v3m0 68v11m1-186v3m0 44v3m0 27v3m0 15v3m0 6v3m0 3v3m0 9v3m1-90v6m0 3v3m0 6v3m0 6v3m0 12v3m0 12v3m0 27v3m0 50v21m0 10v10m1-201v6m0 3v2m0 160v10m1-190v3m0 3v6m0 157v21m0 10v10m1-41v21m1-193v3m0 3v3m0 6v8m0 149v11m1-186v3m0 203v10m1-201v3m0 157v21m0 10v10m1-210v3m0 9v8m0 149v21m155-131v6m0 9v6m0 63v16m1-100v6m0 15v3m0 33v3m0 24v26m1-119v3m0 6v3m0 21v6m0 3v3m0 48v5m0 11v10m1-119v3m0 3v3m0 24v3m0 73v10m1-110v3m0 15v3m0 12v9m0 47v21m1-154v3m0 14v3m0 3v6m0 27v6m0 39v3m0 24v26m1-110v3m0 9v3m0 3v3m0 3v6m0 9v3m0 42v26m1-125v6m0 3v6m0 24v6m0 3v3m0 6v3m0 3v3m0 3v3m0 32v21m1-98v6m0 15v3m0 12v3m0 33v5m0 11v10m1-113v3m0 6v9m0 9v3m0 57v26m1-154v5m0 18v3m0 15v3m0 21v3m0 12v3m0 9v3m0 3v3m1-87v3m1 6v6m0 6v9m0 9v9m0 9v3m0 3v3m0 3v3m2-89v6m1-3v5m0 27v3m0 24v6m0 9v3m0 6v3m0 6v6m1-78v6m0 12v6m0 3v3m0 3v6m0 27v3m1-89v3m0 17v3m0 42v3m1-68v5m0 27v3m0 3v3m0 24v12m0 12v3m0 6v3m1-90v6m0 6v3m0 12v3m0 21v6m0 12v3m0 3v3m1-86v2m0 33v3m0 39v3m1-83v5m0 21v3m0 54v3m0 12v3m1-75v3m0 9v3m0 24v3m0 3v3m0 21v6m1-329v3m0 210v3m0 9v3m0 20v3m0 36v3m0 12v6m1-69v3m0 54v3m0 3v3m0 3v3m0 15v6m1-101v2m0 9v3m0 18v3m0 30v6m1-320v3m0 24v9m0 201v3m0 9v2m0 27v3m0 15v3m1-284v3m0 6v3m0 210v3m0 9v2m0 6v6m0 6v3m0 15v3m0 21v6m0 18v3m1-320v3m0 3v3m1-3v3m0 3v3m0 224v3m0 87v3m1-341v3m0 18v3m0 3v3m0 3v6m0 150v3m0 3v3m1-201v3m0 18v3m0 6v6m1-39v3m0 3v3m0 3v3m0 6v3m1-30v6m0 24v3m0 6v3m0 192v6m0 3v3m1-237v3m0 15v3m0 9v3m0 186v9m0 6v3m0 6v2m0 42v3m1-299v3m0 27v6m0 183v3m0 6v6m0 26v3m0 3v3m0 18v3m0 18v3m0 15v3m0 3v3m0 3v3m1-326v3m0 6v3m0 201v3m0 6v3m0 6v6m1-246v3m0 15v3m0 3v3m0 162v6m0 3v3m1-180v3m0 3v9m0 3v3m0 177v3m0 3v3m0 6v3m0 6v3m1-246v3m0 9v3m0 6v6m0 3v3m0 192v3m0 3v6m0 6v3m0 35v3m0 3v3m0 3v3m0 18v3m0 6v3m0 18v3m1-335v3m0 27v3m0 138v3m0 3v3m0 62v3m0 3v3m0 3v3m0 9v3m0 6v6m0 6v3m0 18v3m0 6v6m0 6v3m1-350v3m0 18v3m0 15v3m0 171v3m1-192v3m0 3v3m1-24v3m0 18v3m0 201v6m0 12v2m1-245v3m0 9v6m0 3v3m0 204v3m0 9v3m1-240v6m0 207v6m0 3v3m0 35v6m0 3v3m0 9v6m0 9v3m0 3v6m0 21v3m1-335v3m0 21v3m0 174v3m0 3v6m0 6v3m1-198v3m0 192v3m0 29v3m0 3v3m0 15v3m0 27v6m0 6v3m0 3v3m0 3v3m0 3v3m0 3v3m1-353v6m0 12v3m0 201v3m0 9v6m1-234v3m0 9v3m0 12v3m0 6v3m0 3v3m0 153v3m0 122v6m1-113v9m0 12v3m0 47v3m1-287v6m0 12v3m0 201v3m0 6v3m0 17v6m0 6v3m0 6v3m0 15v3m1-266v6m0 183v3m0 3v3m1-204v3m0 6v3m0 180v3m0 35v3m0 18v3m0 66v3m1-317v3m0 3v3m0 180v6m0 3v3m0 3v3m0 29v3m0 12v3m0 12v6m0 6v3m0 12v6m0 42v5m1-364v6m0 207v3m0 9v3m0 14v3m0 27v6m0 33v3m0 9v3m1-332v3m0 201v3m0 9v3m1-201v3m0 207v6m0 26v3m0 15v3m0 45v3m0 3v3m1-98v5m0 18v3m0 57v3m1-317v3m0 204v3m0 3v3m0 9v6m0 11v3m0 12v3m0 48v3m0 9v3m0 3v3m1-338v3m0 3v3m0 204v3m0 53v6m0 3v3m0 18v3m0 9v3m0 9v3m0 6v3m1-104v3m1-6v3m0 12v2m0 9v3m0 18v3m0 54v3m1-311v3m0 183v3m0 3v3m0 3v3m0 12v3m0 53v3m0 6v9m1-293v3m0 204v3m1-231v6m0 21v3m0 186v6m0 83v3m0 9v3m0 9v6m1-329v3m0 12v3m0 3v3m0 174v6m0 21v3m0 29v6m0 75v3m1-329v3m0 219v3m0 83v6m0 3v3m1-110v3m0 9v6m0 23v6m0 51v3m0 6v3m1-323v3m0 195v3m0 3v3m0 6v3m0 3v12m1-24v3m0 12v3m0 3v3m0 8v3m0 81v3m1-341v3m0 12v3m0 204v3m0 6v6m1-228v3m0 9v3m0 6v3m0 168v3m0 3v6m0 56v3m0 6v6m1-281v3m0 9v3m0 216v6m0 29v3m0 3v3m0 3v3m0 45v3m0 6v3m1-335v6m0 6v3m0 9v3m0 165v3m1-204v3m0 30v3m0 165v6m0 62v3m0 9v9m0 30v3m0 12v6m1-344v3m0 12v3m0 9v3m0 174v6m0 92v3m1-287v3m0 9v3m0 9v3m0 165v3m0 6v3m0 6v3m0 3v3m1-228v3m0 21v3m0 177v12m0 41v3m0 3v3m0 54v3m0 3v6m0 3v3m1-347v3m0 6v3m0 3v6m0 201v3m0 6v3m0 6v3m0 59v9m0 30v6m1-308v3m0 174v6m0 41v3m0 6v6m0 6v6m0 3v3m0 24v3m0 6v3m0 18v3m1-134v6m0 9v3m1 15v2m0 36v3m1-56v3m0 12v2m0 15v3m0 51v3m0 12v3m1-332v3m0 189v6m0 83v3m0 12v6m0 18v3m1-95v6m0 9v2m0 18v3m0 24v6m0 6v3m0 18v3m0 3v3m1-341v3m0 9v3m0 198v3m0 3v6m0 152v5m1-358v3m0 204v3m1 12v3m0 47v3m0 15v3m0 6v3m1-101v6m0 6v3m1-18v6m0 9v3m2-45v6m1 30v9m0 6v3m1-225v3m0 195v3m1 9v6m0 6v6m1-33v6m0 9v9m0 26v3m0 54v3m0 3v3m0 15v3m1-137v3m0 6v9m0 3v3m0 35v12m1-35v2m0 15v9m0 3v3m0 9v3m0 33v6m1-116v6m0 3v3m0 6v3m0 77v3m1-89v3m0 6v3m0 9v2m1-14v3m0 50v3m0 51v6m1-57v9m0 12v3m0 3v6m0 12v3m0 3v6m1-42v3m0 21v3m0 6v3m0 3v3m1-125v3m0 21v2m0 51v3m0 3v3m1-113v3m0 3v9m0 47v3m0 33v3m1-33v3m0 9v3m0 30v3m0 30v3m1-134v3m0 24v3m0 77v3m1-323v6m0 21v3m0 6v3m0 147v3m0 3v9m0 56v6m0 36v3m0 3v3m0 12v3m0 12v3m0 3v3m1-113v3m0 12v5m0 6v3m0 9v3m0 15v6m0 36v3m0 3v6m1-116v6m0 3v9m0 3v5m0 9v6m0 15v3m0 9v3m0 3v3m0 36v3m1-143v3m0 89v3m1-95v6m1 30v3m0 38v9m0 9v3m0 33v3m1-104v3m0 29v3m1-26v3m0 35v3m0 3v6m1-77v3m0 12v3m0 71v3m0 9v3m0 3v6m0 6v3m1-54v9m0 3v3m0 12v3m0 9v6m0 12v3m0 3v9m1-137v3m0 15v3m0 15v2m0 39v3m0 12v6m0 3v6m0 59v11m1-171v3m0 27v2m0 42v3m1-278v3m0 189v3m2-21v9m0 59v3m0 3v6m0 24v6m0 24v3m0 9v3m0 3v3m0 32v11m1-168v3m0 3v3m0 6v3m0 9v2m0 128v11m1-156v3m0 47v3m0 6v6m0 21v3m0 9v3m0 9v3m1-128v3m0 3v3m0 3v3m0 6v3m0 44v6m0 18v3m0 12v3m0 15v3m0 32v11m1-384v3m0 15v3m0 180v9m0 95v3m0 65v11m1-180v6m0 6v3m0 6v3m0 6v3m0 3v3m1-66v3m0 3v3m1 21v3m0 15v3m0 3v9m0 3v2m1-11v3m0 3v3m1-48v3m0 6v6m0 74v3m1-284v3m0 183v3m0 3v3m0 56v3m0 30v3m0 51v3m1-90v3m0 3v3m0 15v3m0 9v3m0 24v3m0 3v6m1-335v3m0 192v3m0 59v3m0 63v3m1-92v3m0 9v3m0 71v3m1-116v6m0 6v3m1-6v3m0 12v3m0 6v3m1-33v3m0 18v12m1-36v3m0 6v6m0 3v3m0 3v3m0 6v3m1-27v3m0 9v3m0 18v2m0 128v11m1-210v3m0 9v6m1 9v3m0 39v2m1-41v3m0 6v6m0 24v2m1-56v3m0 3v3m0 3v3m0 21v6m1-36v6m0 9v3m0 21v3m0 136v11m1-165v6m0 6v9m0 144v10m1-199v3m0 3v12m0 6v3m0 162v10m1-394v3m0 231v3m1-39v6m0 6v3m0 9v3m0 148v11m1-180v3m0 18v3m1-234v3m0 12v6m0 171v3m0 6v3m0 6v3m0 15v3m1-12v3m0 157v11m1-192v3m0 9v3m0 9v3m1-9v3m0 3v6m0 151v11m1-207v3m0 18v3m0 3v3m0 6v3m0 6v3m1-213v3m0 198v3m0 119v3m1-152v3m0 30v3m0 162v10m1-235v3m0 3v6m0 33v3m1-39v3m0 9v6m0 15v3m1-198v3m0 162v3m0 9v6m0 9v3m0 6v3m0 3v6m1-51v6m0 15v6m0 3v3m0 6v3m0 163v11m1-390v6m0 135v3m0 24v3m0 12v3m0 12v3m0 18v3m0 125v3m1-143v3m0 6v3m1-18v6m0 6v3m0 163v11m1-11v11m1-387v3m0 18v3m0 147v3m0 6v3m0 6v6m0 6v3m0 3v3m1 166v11m1-192v6m0 3v3m0 180v10m1-394v3m0 159v3m0 18v3m0 3v6m0 6v3m1-201v3m0 6v6m0 12v9m0 3v3m0 105v3m0 6v3m0 27v3m0 6v3m0 183v10m1-391v3m0 141v3m0 27v3m0 6v3m0 3v3m0 6v3m0 169v11m1-11v11m1-11v11m1-222v3m0 208v21m1-394v3m0 3v3m0 159v3m0 3v3m0 3v6m0 3v6m0 189v10m1-262v3m0 6v3m0 15v9m0 3v3m0 3v3m0 3v3m0 6v3m0 189v10m1-223v3m1-33v3m0 3v3m0 45v3m0 175v11m1-384v3m0 12v3m0 129v3m0 12v3m0 3v3m0 9v9m1-195v3m0 30v3m0 111v3m0 3v3m0 12v3m0 3v3m0 6v6m1-186v3m0 6v3m0 3v3m0 18v6m0 99v3m0 21v3m1-156v3m0 3v3m0 3v3m0 123v6m0 12v9m0 6v9m1-198v6m0 18v3m0 15v3m0 9v3m0 93v6m0 9v3m0 3v3m0 18v3m0 187v11m1-375v6m0 33v3m0 90v3m0 27v3m0 199v11m1-375v3m0 12v3m0 3v3m0 108v3m0 9v6m0 6v6m0 202v11m1-381v3m0 3v3m1-12v3m0 18v3m0 117v3m0 21v3m0 3v6m0 196v11m1-375v3m0 3v3m0 6v3m0 9v3m0 132v3m0 3v3m0 3v3m1-195v9m0 3v3m0 12v3m0 6v3m0 6v3m0 334v11m1-357v3m1-33v3m0 24v3m0 3v3m0 105v3m0 6v6m0 3v3m0 6v9m0 199v11m1-369v3m0 6v3m0 99v3m0 15v6m0 3v3m0 3v9m0 3v3m0 3v6m0 190v11m1-375v12m0 3v3m0 114v3m0 9v3m0 6v3m1-165v3m0 15v3m0 9v3m0 114v3m0 6v3m0 225v10m1-385v3m0 3v3m0 3v6m0 6v6m0 334v11m1-381v3m0 129v3m0 3v3m0 30v6m1-171v3m0 3v3m0 117v3m0 235v11m1-372v3m0 120v3m0 3v3m0 6v3m0 12v9m1-168v3m0 15v3m0 9v3m0 99v6m0 24v3m1-165v3m0 15v3m0 111v6m0 21v3m0 6v3m1-144v3m0 138v3m1-162v3m0 123v3m0 3v9m1-153v3m0 6v3m0 126v3m0 3v3m1-129v3m0 3v3m0 141v6m0 207v10m1-21v11m1-381v3m0 18v3m0 105v3m0 9v3m0 24v3m1-177v3m0 9v3m0 15v6m0 141v3m1-177v3m0 3v3m0 9v6m0 144v3m0 170v3m1-344v6m0 126v3m0 6v3m0 27v3m1-183v3m0 6v3m0 21v3m1 346v11m1-384v3m1-3v3m0 150v3m1-18v3m0 3v3m0 3v3m0 12v3m0 205v11m1-390v3m0 24v3m0 349v11m1-249v9m0 18v3m0 173v3m1-335v3m0 123v3m0 30v6m2-168v3m0 6v3m0 358v11m1-375v9m0 114v6m0 18v3m0 214v11m1-387v3m0 18v3m0 135v3m1-159v3m0 18v3m0 105v3m1-132v6m0 6v3m0 123v3m0 9v3m0 12v3m1-177v3m0 3v3m0 3v3m0 3v9m0 111v3m0 33v3m0 205v11m1-390v3m0 12v3m0 6v3m0 120v6m0 3v6m0 217v11m1-381v3m0 12v6m0 105v3m0 252v10m1-391v3m1 123v3m0 18v3m0 6v6m1-36v3m0 6v3m1-144v3m0 144v3m0 12v3m1-156v3m0 3v3m0 117v3m0 3v3m0 232v11m1-393v3m0 3v3m0 6v3m0 123v6m0 21v3m0 211v11m1-390v3m0 36v3m1-30v3m0 6v3m0 3v3m0 9v3m0 96v3m1-141v3m0 12v6m0 138v3m0 217v11m1-240v3m0 226v11m1-243v12m0 3v3m0 214v11m1-390v3m0 18v3m0 120v6m0 9v3m0 217v11m1-384v3m0 150v3m0 217v11m1-393v3m0 6v3m0 18v3m0 108v3m0 3v3m0 15v3m1-150v3m0 138v3m1-147v3m0 144v3m0 217v11m1-243v3m0 9v3m1-129v3m0 114v3m0 3v3m0 3v3m0 214v11m1-375v3m0 141v3m0 228v10m1-388v3m0 364v11m1-381v6m0 3v3m0 117v6m0 3v3m0 3v12m1-168v3m0 9v3m0 9v3m0 3v3m1-27v3m0 3v3m0 3v3m0 9v3m0 108v6m0 6v3m0 3v6m0 217v11m1-360v3m0 105v6m0 246v10m1-379v6m0 117v6m0 6v3m0 220v11m1-387v3m0 3v3m0 126v3m0 3v6m0 229v11m1-354v3m0 102v3m0 6v6m0 223v11m1-372v3m0 6v3m0 3v6m0 108v6m0 226v11m1-363v3m0 12v6m0 87v3m0 3v3m0 235v11m1-237v3m0 223v11m1-369v6m0 105v6m0 3v3m0 6v9m0 220v11m1-384v3m0 12v6m0 108v3m0 3v3m0 3v3m0 3v3m2-150v6m0 6v3m0 6v3m0 111v3m0 235v11m1-387v3m0 9v3m0 117v3m0 9v6m1-147v6m0 138v3m1-120v3m0 354v10m1-403v3m0 21v3m0 15v3m0 93v3m0 9v6m1-132v3m0 6v3m0 111v3m0 9v3m1-132v9m0 117v3m0 223v11m1-354v3m0 105v3m0 3v3m0 3v3m0 220v11m1-393v3m0 3v3m0 18v6m0 114v6m0 229v11m1-381v3m0 144v3m0 220v11m1-390v3m0 24v3m0 9v3m0 102v6m0 3v3m1-144v3m0 3v3m0 3v3m0 111v3m0 9v6m1-150v6m0 15v3m0 117v3m1-153v3m0 15v9m0 12v3m0 340v11m1-387v3m0 15v6m0 117v3m0 6v3m1-153v3m0 12v6m0 6v3m1-18v3m0 9v6m0 9v3m0 87v3m0 9v3m1-144v3m0 6v9m1-21v6m0 6v3m0 9v6m0 6v3m0 93v3m0 18v3m0 223v11m1-387v3m0 3v3m0 15v3m0 3v3m0 3v3m0 337v11m1-372v9m0 3v3m1-33v3m0 3v3m0 9v9m0 6v3m0 3v3m0 96v3m0 6v6m0 226v11m1-372v3m0 117v3m1-126v9m1-24v3m0 9v3m0 6v6m0 12v3m0 90v3m0 3v3m0 6v3m1-150v3m0 27v6m0 343v11m1-387v3m0 12v6m0 3v12m0 102v3m0 6v3m1-156v3m0 3v3m0 3v3m0 6v3m0 126v3m0 229v11m1-384v3m0 21v3m0 114v3m1-150v3m0 9v3m0 3v3m0 9v3m0 108v3m1-132v3m0 3v3m0 9v6m0 3v3m0 337v11m1-378v3m0 12v3m0 3v3m0 3v3m1-36v3m0 18v3m0 12v3m0 99v3m0 232v11m1-363v3m0 3v3m0 108v3m0 232v11m1-378v3m2-6v3m0 9v3m1-6v3m0 358v11m1-11v11m1-393v3m0 9v3m0 135v3m1 0v3m1-141v3m1-18v6m0 138v3m0 6v3m3-147v3m0 6v3m0 129v6m0 226v11m1-381v3m0 12v9m1 117v3m0 226v11m1-375v3m0 129v3m1-129v3m1-27v3m0 15v3m0 3v3m0 3v3m0 3v3m0 108v9m1-132v3m1 126v3m1 226v11m1-366v3m1-12v3m0 132v3m2-141v6m0 15v3m0 114v3m2-9v3m0 3v3m1-6v3m2-150v3m0 12v3m0 6v3m0 117v3m0 232v11m1-381v3m1-9v6m0 30v3m0 81v3m0 27v3m4-9v3m3-150v3m0 21v3m0 24v6m0 87v3m0 3v3m0 226v11m2-390v3m0 3v3m0 6v3m1-12v3m0 18v3m0 6v3m0 340v11m1-384v3m0 33v3m0 18v3m0 3v3m0 78v3m2-156v6m0 6v3m0 138v3m1-135v3m0 3v3m0 352v11m1-384v3m0 6v3m0 135v3m1-153v9m0 27v3m1-45v3m0 12v3m0 12v6m0 6v3m0 3v3m0 105v3m0 223v11m1-318v3m1-60v3m0 18v3m1-39v3m0 9v6m0 15v9m1-6v3m0 15v3m0 87v3m1-141v3m0 370v11m1-378v3m1 3v3m0 9v3m0 346v11m2-384v3m0 12v3m0 123v3m0 229v11m2-324v3m0 75v3m0 3v3m1-144v3m0 51v3m0 6v6m4 301v11m1-372v3m1 358v11m1-246v3m0 232v11m1-11v11m1-11v11m1-378v3m0 364v11m3-11v11m1-246v3m0 3v3m1 226v11m2-255v3m0 6v6m0 3v3m1-9v3m3-3v3m0 229v11m1-237v3m2-9v3m0 9v3m1-12v3m0 6v3m0 217v11m1-228v3m1-6v6m1-27v3m0 3v3m0 18v3m1-42v3m0 6v3m0 3v3m0 21v3m1-78v6m0 21v3m0 21v3m1-36v3m0 6v3m0 21v3m0 235v11m1-276v3m0 48v3m0 211v11m1-291v3m0 6v3m0 12v3m0 39v3m0 211v11m1-258v3m1 6v3m0 246v10m1-259v3m0 235v11m1-279v3m0 15v3m0 6v3m0 238v11m1-267v3m1 15v3m2-33v3m1 6v6m0 6v3m0 3v3m0 30v3m1-36v6m0 3v3m0 24v3m1-3v3m1-51v3m0 250v11m1-252v3m1 161v9m0 6v9m0 9v6m1-206v3m0 6v3m0 200v3m2-191v3m0 3v3m1 101v6m0 6v3m0 18v3m0 18v3m0 53v11m1-237v3m0 39v3m1-33v3m0 98v3m0 15v3m0 18v6m1-30v3m0 12v3m0 18v3m0 9v3m1-69v3m0 6v3m0 15v3m0 9v3m0 3v6m0 3v6m0 6v3m1-173v3m0 3v3m0 33v3m1-39v6m1-18v3m0 48v3m0 53v3m0 6v3m0 6v3m0 3v6m0 6v9m0 18v3m0 3v3m0 3v3m1-176v3m0 9v3m1-21v3m0 6v6m0 45v3m0 41v3m0 18v3m0 12v3m0 3v3m0 6v3m0 12v3m1-164v6m1-24v6m0 6v3m0 3v3m0 54v3m1-39v9m0 71v3m0 6v3m1-149v3m0 24v3m1 131v3m0 21v3m1-173v3m0 6v3m0 3v3m0 18v6m1-78v9m0 18v3m0 18v3m0 36v3m1 3v3m0 36v3m1-102v3m0 27v3m0 3v3m0 15v3m0 45v3m1-96v3m0 27v3m0 6v3m0 54v3m1-51v6m0 6v3m0 33v3m1-93v3m0 27v3m0 3v6m1-51v3m0 45v3m0 3v6m0 6v3m1-102v3m0 3v3m0 12v3m0 3v3m0 6v3m0 3v3m0 6v3m0 6v12m0 3v6m0 3v3m1-96v3m0 6v3m0 36v3m0 12v3m0 3v3m1-60v3m0 3v3m0 72v6m1-93v9m0 15v3m0 30v3m1 42v3m0 6v3m2-93v3m0 39v3m0 6v6m0 6v3m0 24v3m0 12v3m1-69v3m0 30v3m0 9v3m3 15v3m0 9v3m2-66v9m0 3v3m0 3v3m0 12v3m1-57v6m0 101v6m0 3v3m0 12v3m0 6v3m0 21v3m0 6v3m1-24v3m0 27v3m1-209v3m0 9v3m0 3v3m0 116v3m0 69v3m1-230v3m0 3v3m0 18v3m0 9v3m0 6v3m0 143v3m0 30v3m1-251v3m0 9v6m0 3v3m0 6v3m0 6v3m0 18v3m0 104v3m0 3v3m0 27v3m0 15v12m1-230v3m0 15v9m0 12v3m0 3v3m0 119v3m0 21v3m0 6v3m1-212v3m0 12v6m0 6v3m0 27v3m0 3v3m0 98v3m0 3v3m0 39v3m0 6v6m0 6v3m0 9v3m0 3v3m1-233v3m0 3v3m0 6v3m0 18v3m0 107v3m0 18v3m0 9v3m0 27v6m0 6v6m1-257v3m0 21v3m0 24v6m1-36v3m0 15v3m0 131v3m0 3v3m0 42v3m0 30v6m1-251v3m0 18v3m0 12v3m0 6v3m0 3v3m0 140v3m0 3v3m0 9v3m0 9v3m1-239v3m0 33v3m0 15v3m0 3v3m0 134v3m0 9v3m0 39v3m0 3v3m1-242v3m0 18v3m0 3v3m0 12v3m0 116v3m0 12v3m0 24v3m0 3v3m0 6v3m0 9v3m1-233v3m0 21v3m0 137v3m0 6v6m0 3v12m0 12v6m0 3v3m0 6v3m0 9v3m0 3v3m1-242v3m0 9v3m0 15v3m0 3v3m0 116v3m0 9v3m0 24v3m0 6v3m0 27v3m1-242v3m0 9v3m0 3v6m0 3v3m0 3v3m0 3v3m0 134v3m0 12v3m0 3v3m0 48v3m1-251v6m0 3v3m0 3v3m0 9v3m0 9v3m0 119v3m0 12v6m0 9v3m0 6v6m0 15v3m0 6v9m1-212v3m0 3v3m0 15v3m0 107v3m0 6v6m0 3v3m0 12v6m0 12v6m0 6v3m0 12v3m1-257v3m0 27v6m0 12v3m0 15v3m0 104v9m0 3v3m0 3v3m0 6v3m0 3v6m0 6v3m0 24v21m1-245v3m0 45v3m0 3v3m0 6v3m0 48v3m0 3v3m0 15v3m0 14v3m0 3v3m0 12v9m0 9v3m0 3v3m0 15v3m0 12v6m0 3v3m1-203v3m0 39v3m0 24v3m0 3v3m0 6v3m0 6v3m0 14v3m0 9v6m0 12v9m0 18v6m0 24v6m1-185v3m0 9v9m0 33v3m0 6v3m0 47v3m0 3v6m0 3v3m0 15v3m0 3v6m0 6v3m1-161v3m0 6v9m0 6v3m0 39v3m0 20v6m0 9v3m0 3v6m0 3v6m0 18v3m1-146v3m0 6v3m0 6v3m0 6v3m0 36v3m0 17v6m0 6v3m0 3v6m0 3v6m0 3v3m0 3v3m0 6v3m0 12v6m1-137v6m0 21v3m0 12v3m0 26v3m0 6v3m0 9v12m0 9v9m0 3v9m1-161v3m0 9v3m0 3v12m0 42v3m0 20v3m0 6v3m0 3v6m0 6v9m0 6v3m0 6v6m0 3v3m1-161v3m0 9v6m0 15v3m0 33v3m0 3v3m0 29v9m0 3v3m0 3v3m0 3v3m0 6v3m0 12v6m1-134v3m0 9v6m0 27v3m0 26v3m0 9v6m0 6v3m0 3v3m1-33v6m0 3v3m1-56v3m0 35v3m0 3v9m0 3v3m1-47v3m0 3v3m0 17v3m0 3v3m1-53v3m0 3v3m0 12v3m1-30v3m0 27v3"/><path stroke="#00ff01" stroke-width="1" d="M102.5 262v6m0 65v3m0 66v3m1-137v3m0 71v6m1-83v6m0 68v3m1-74v3m1-9v3m0 3v3m0 195v10m1-208v3m0 6v3m0 50v3m0 18v3m0 112v10m1-214v3m0 3v3m0 6v6m0 3v3m0 26v3m0 6v3m0 3v3m0 133v10m1-205v3m0 9v3m0 12v3m0 3v2m0 18v3m0 128v11m1-186v15m0 9v2m1-26v3m0 12v3m0 3v5m0 9v3m0 3v3m0 110v11m1-156v3m0 110v3m0 40v10m1-163v3m0 3v6m0 98v3m0 50v11m1-195v6m0 21v8m1-44v6m0 15v3m1-87v3m0 15v3m0 36v3m0 12v3m1-78v3m0 12v3m0 15v3m0 3v3m0 9v3m0 21v6m0 3v3m1-78v6m0 12v3m0 42v3m1-75v6m0 12v6m0 21v3m0 190v11m1-240v3m1-18v3m0 12v3m0 3v3m0 3v3m1-18v3m1 18v3m0 15v3m0 15v3m0 167v5m1-184v3m0 9v3m0 12v3m0 122v3m0 29v11m1-180v3m1-3v3m0 134v3m1-3v3m1-3v3m1 29v11m1-11v11m3-141v2m0 123v5m1-5v16m1-43v3m4-251v3m0 6v3m0 84v3m0 18v3m0 9v3m0 3v3m0 3v9m1-165v6m0 9v3m0 3v3m0 3v3m0 3v3m0 30v3m0 3v3m0 9v3m0 12v3m0 3v3m0 3v3m0 12v3m0 9v9m1-96v3m0 42v3m0 9v3m0 6v3m1-111v3m0 3v3m0 3v3m0 9v9m0 3v6m0 9v3m0 6v3m0 18v3m0 54v6m0 6v3m1-144v6m0 12v3m0 6v3m0 15v3m0 15v6m0 3v3m0 12v3m0 30v9m0 6v3m0 6v5m1-152v3m0 144v3m0 98v3m1-266v9m0 33v3m0 164v3m0 3v6m0 6v3m0 6v3m0 21v3m1-263v3m0 6v3m1-3v3m0 6v3m0 194v3m0 21v3m1-242v3m0 188v6m0 9v3m0 18v6m0 12v3m0 6v3m1-254v3m0 170v3m0 12v3m0 9v3m0 18v3m0 9v6m0 3v3m1-242v3m0 173v3m0 12v3m0 3v3m0 3v6m0 6v3m0 3v3m0 3v3m0 15v3m0 3v3m1-254v3m0 3v9m0 3v3m0 173v6m0 15v3m0 27v3m1-251v9m0 167v6m0 3v3m0 12v6m0 33v6m1-227v3m0 6v3m0 140v6m0 6v3m0 9v3m0 6v3m1-182v3m0 3v3m0 6v3m0 140v3m0 33v3m0 3v3m0 9v3m0 12v3m0 6v3m1-236v3m0 15v9m1-6v3m0 3v3m0 9v3m0 24v6m0 30v3m0 3v3m0 12v6m1-87v3m0 9v3m0 6v3m0 18v6m0 3v3m0 9v3m0 6v3m0 3v3m0 110v3m1-131v3m0 125v3m1-131v3m0 21v6m1-243v3m1 240v2m0 96v3m2-347v3m0 284v3m1-30v3m0 51v3m0 18v3m0 6v3m1-224v6m0 3v18m0 3v30m0 3v9m0 6v3m0 3v12m0 3v15m0 62v3m0 3v3m1-185v3m0 3v6m0 3v3m0 6v6m0 6v36m0 3v3m0 3v6m0 6v3m0 3v3m0 18v3m0 32v3m0 27v3m0 3v3m0 3v3m0 6v6m1-329v3m0 311v3m2-323v3m0 368v5m1-370v3m1-3v3m1-6v3m0 6v3m0 281v3m2-56v5m0 96v3m1-350v3m1 9v3m0 332v3m0 29v11m1-387v3m0 272v3m0 66v3m1-104v3m4-243v3m0 338v3m1-48v3m1-59v3m0 98v3m0 24v16m1-109v3m2-6v3m0 24v3m2 18v3m1 9v3m0 33v5m1-172v6m0 125v3m0 33v5m1-169v3m0 50v3m0 3v3m0 15v3m0 21v6m0 83v11m1-201v3m0 113v3m1-119v3m1-3v3m0 125v3m2-131v3m1 98v3m0 21v3m0 62v11m1-11v11m1-201v3m0 125v6m1-24v3m0 15v3m0 6v3m1-12v3m0 70v10m1-214v6m2-3v3m0 119v6m1 73v10m1-74v3m0 61v10m1-214v3m0 201v10m1-214v3m0 201v10m1-83v6m0 67v10m1-211v3m0 122v3m0 6v3m0 64v10m1-92v3m1-122v3m0 119v3m0 3v3m1-3v3m0 70v10m1-214v3m0 119v3m0 9v3m1-134v3m0 122v3m0 9v3m0 61v10m1-214v3m0 201v10m1-83v3m0 6v3m0 61v10m1-83v3m0 70v10m1-92v3m0 79v10m1-95v3m0 6v6m0 70v10m1-10v10m1-10v20m1-224v3m0 122v3m0 76v10m1-86v3m0 73v20m1-224v6m0 113v3m0 9v3m0 6v3m0 71v10m1-20v10m1-83v3m0 70v20m1-20v20m1-224v3m0 128v3m0 70v10m1-86v3m0 73v20m1-221v3m2 128v3m0 56v11m1-73v3m0 59v21m1-83v3m0 6v3m1-143v3m0 3v3m0 195v10m1-83v3m0 70v20m1-99v3m0 76v20m1-221v3m0 27v3m0 168v20m1-221v3m0 198v20m1-20v20m1-221v3m0 107v3m0 9v6m0 9v3m0 71v10m1-221v3m0 208v10m1-10v10m1-102v3m0 68v31m1-90v3m0 56v21m1-211v3m0 110v3m0 6v3m0 3v3m0 6v3m0 61v20m1-102v3m0 79v20m1-224v3m0 125v6m1-131v3m0 98v3m0 21v3m0 9v3m0 61v20m1-221v3m0 98v3m0 3v3m0 9v12m0 6v3m0 61v20m1-221v3m0 187v31m1-31v31m1-224v3m0 190v11m1-100v3m0 9v3m0 95v10m1-224v3m0 211v10m1-218v3m0 110v3m0 18v3m0 61v20m1-221v3m0 27v3m0 80v3m0 9v6m0 6v3m0 61v20m1-218v3m0 41v3m0 6v3m0 39v3m0 12v3m0 74v11m1-154v3m0 3v3m0 18v3m0 9v9m0 3v3m0 12v3m0 12v3m0 70v20m1-194v3m0 20v3m0 48v6m0 12v3m0 6v3m0 6v3m1-45v3m0 12v3m0 6v3m0 15v3m0 61v10m1-137v3m0 15v3m0 24v6m0 3v3m1-131v3m0 50v3m0 63v3m0 6v3m0 80v10m1-221v6m0 62v3m0 9v3m0 6v3m0 9v6m0 3v3m1-30v3m0 21v3m1-80v3m0 62v6m0 15v3m1-119v6m0 62v3m0 51v6m0 73v10m1-208v6m0 9v3m0 29v6m0 6v3m0 12v3m0 21v3m0 6v3m0 3v3m0 3v3m0 76v10m1-196v3m0 6v3m0 174v10m1-184v3m0 171v10m0 10v10m1-127v6m0 18v3m0 90v10m1-228v6m0 18v3m0 20v3m0 6v3m0 21v3m0 15v3m0 6v3m1-54v3m0 21v6m0 3v3m0 3v3m0 6v3m0 6v3m1-116v9m0 15v9m0 11v3m0 3v3m0 3v12m0 6v6m0 3v3m0 6v3m0 27v3m1-125v3m0 18v6m0 20v3m0 24v3m0 12v3m1-95v3m0 44v6m0 24v3m0 3v3m0 18v12m0 3v3m0 6v3m1-101v3m0 32v3m0 12v3m0 6v3m0 21v3m0 3v6m0 76v10m1-196v9m0 3v6m0 32v3m0 6v3m0 9v6m0 3v3m0 3v3m0 6v3m1-104v3m0 3v3m0 12v3m0 17v3m0 3v3m0 21v3m0 6v21m0 15v3m0 9v3m0 61v10m0 10v10m1-225v3m0 3v3m0 9v3m0 3v6m0 20v6m0 3v6m0 6v6m0 15v3m0 12v3m0 74v21m0 10v10m1-228v3m0 12v3m0 35v3m0 24v3m0 27v3m1-80v3m1-3v5m1 180v10m1-30v10m0 10v10m1-195v5m0 63v3m0 83v21m1-175v3m1 182v10m155-166v3m0 3v3m0 15v6m0 6v3m0 76v10m1-131v3m0 3v3m0 6v6m0 27v3m1-54v3m0 24v9m0 6v3m1-36v3m0 24v6m1-62v5m0 12v3m0 12v3m0 21v6m0 6v6m0 21v3m1-84v3m0 21v3m0 6v3m0 3v3m1-42v6m0 9v3m0 3v3m1-27v6m0 27v3m1-44v2m0 84v3m1-48v3m0 15v3m0 9v3m1-66v9m0 9v3m0 18v3m0 15v12m0 6v3m2-86v2m0 6v3m0 3v3m0 9v3m0 12v3m0 18v3m0 18v3m3-36v3m0 30v6m0 6v3m1-98v2m0 12v3m0 6v3m0 15v3m0 12v3m0 6v6m0 3v6m0 6v9m0 3v3m1-75v3m0 24v3m0 15v3m1-63v3m0 60v3m0 3v3m0 9v3m1-72v6m0 42v6m0 9v3m0 3v3m0 3v3m1-57v6m0 3v3m0 6v3m0 9v3m0 6v3m0 12v3m1-66v3m0 12v3m0 9v3m0 9v6m0 3v3m1-72v3m0 9v3m0 3v3m0 45v3m0 3v3m1-113v3m0 9v6m0 6v2m0 6v3m0 18v3m0 36v3m0 12v3m0 6v3m1-63v3m0 27v3m0 15v9m1-326v3m0 248v3m0 9v3m0 15v9m0 6v6m0 9v3m0 9v3m1-314v3m0 207v3m0 3v3m0 29v6m0 6v3m1-269v6m0 15v3m0 198v3m0 3v3m0 17v3m0 9v3m0 39v3m0 3v3m0 3v3m2-299v3m0 233v3m0 12v3m0 6v3m0 6v6m0 9v3m1-305v3m3 225v3m0 14v3m1-266v3m0 9v6m0 219v3m0 3v3m0 50v3m1-296v3m0 231v3m0 3v3m0 3v2m0 27v3m0 21v3m0 9v3m0 3v3m0 3v3m0 9v3m0 3v3m1-78v3m0 66v3m0 3v6m2-353v3m0 27v3m0 186v3m0 21v3m1-225v3m0 219v6m0 14v6m0 45v3m1-311v3m0 18v3m0 12v3m0 218v3m0 3v3m0 18v3m0 6v3m0 6v3m0 30v6m0 3v3m1-341v3m0 192v3m2 36v3m1-246v3m0 9v3m0 222v3m1-6v3m0 3v3m0 6v2m0 51v3m0 3v3m0 21v6m1-119v3m0 18v3m1-228v3m0 3v3m0 242v6m0 21v3m0 6v3m0 3v3m0 9v3m0 15v3m0 3v3m1-338v3m0 234v3m1-45v3m0 3v3m0 107v3m0 9v3m1-302v3m0 195v3m0 23v3m1-260v3m0 27v3m0 201v3m0 3v6m0 3v2m0 12v6m0 6v3m0 3v3m0 30v3m1-299v3m0 219v3m0 6v2m1-23v3m0 38v6m0 6v3m0 21v3m0 30v3m0 3v3m0 27v5m1-139v3m0 3v5m0 6v6m0 9v3m0 15v9m0 33v12m1-101v3m0 20v3m0 12v3m0 51v3m1-302v3m0 180v3m0 12v9m0 86v3m1-320v3m0 6v3m0 201v3m0 29v3m0 3v3m0 9v3m0 39v3m0 6v6m0 15v3m1-90v6m0 72v6m1-69v3m1-41v9m0 26v3m0 36v3m0 21v3m0 9v3m1-93v6m1-23v6m0 11v3m0 6v3m0 3v3m0 72v3m1-116v3m0 9v3m0 68v3m0 54v5m1-367v3m0 207v9m0 3v6m0 3v3m1-246v3m0 6v3m0 204v3m0 9v3m0 6v3m0 71v3m0 9v3m0 12v6m0 3v3m1-18v3m0 3v3m1 3v3m1-329v3m0 201v3m0 59v3m0 54v6m1-323v3m0 201v3m0 3v3m1 26v6m0 60v3m0 12v3m1-128v3m0 21v3m1-21v3m0 47v6m0 63v3m0 27v5m1-148v3m0 29v3m0 3v3m0 3v3m0 15v3m0 3v3m0 45v3m1-314v3m0 165v3m0 56v3m0 9v6m0 3v6m0 3v3m0 21v3m0 3v3m1-119v3m0 107v3m0 6v6m0 12v3m1-140v3m0 95v9m0 9v3m1-305v3m0 6v3m0 177v3m0 9v3m0 3v3m0 3v3m0 56v3m0 6v3m0 6v3m0 12v3m1-296v3m0 207v3m0 32v3m0 6v3m0 57v3m1-110v6m0 3v2m0 12v3m0 6v3m0 6v6m0 3v6m0 27v3m0 9v3m0 9v3m1-320v3m0 189v3m0 9v3m0 26v6m0 27v3m0 30v3m0 3v9m1-323v3m0 198v3m0 3v3m0 6v3m0 35v3m0 33v3m0 30v3m1-110v3m0 6v3m0 41v3m0 6v6m1-65v6m1-243v3m0 6v3m0 195v3m0 110v3m0 3v3m0 3v3m1-66v3m0 12v6m0 18v6m0 6v3m0 6v3m1-311v3m0 198v3m0 6v3m0 3v3m0 17v3m1-251v3m0 210v3m0 3v6m1 12v2m0 54v3m0 18v3m0 3v3m0 9v6m1-119v3m0 3v9m0 128v5m1-154v3m0 3v3m0 3v9m0 3v2m2-53v6m1 36v3m1-3v3m1-3v3m1-231v3m0 210v6m0 38v3m0 3v3m0 3v3m0 3v3m0 21v3m0 21v6m0 3v3m1-128v3m0 9v3m0 29v9m0 12v9m0 12v3m1-15v3m0 36v6m0 6v3m1-119v3m1 0v6m0 3v6m1 0v3m0 8v3m0 6v6m0 6v3m1-263v3m0 192v12m0 83v6m0 3v3m0 6v3m1-101v9m0 53v3m0 9v3m0 30v6m0 33v5m1-89v3m1-80v3m0 68v3m1-18v3m0 3v3m0 3v3m0 6v3m0 15v3m0 36v3m1-125v3m0 15v8m1-50v3m0 83v6m0 24v3m1-92v3m0 3v3m0 47v3m0 9v3m0 45v6m1-107v3m0 44v3m0 48v3m1-137v6m0 56v3m0 24v3m0 48v3m1-54v3m1-42v6m0 6v3m0 12v6m2-56v3m0 12v2m1-29v3m0 3v3m0 56v3m0 15v6m0 24v3m0 3v3m1-107v6m0 6v2m0 21v3m0 57v3m0 44v11m1-156v6m0 3v3m0 53v3m0 21v6m1-101v3m0 6v3m0 44v6m1-77v3m0 3v6m1 50v3m0 27v3m0 18v3m0 9v9m1-143v6m0 47v3m0 15v6m0 3v9m0 9v3m1-71v3m0 6v3m1-9v3m0 29v3m0 36v3m0 18v3m0 6v3m1-119v3m0 3v3m0 3v3m0 6v3m0 3v2m0 15v3m0 27v9m0 3v3m0 9v3m0 9v3m0 12v3m1-323v3m0 186v6m0 3v3m0 71v3m0 12v3m0 3v6m0 15v9m1-116v6m1-54v3m2 36v3m0 29v3m1-53v3m0 30v3m0 20v3m0 15v6m0 21v3m0 9v6m0 15v3m1-347v3m0 198v3m0 86v6m0 12v3m0 12v3m0 15v6m1-63v3m0 3v3m0 3v3m0 12v3m0 3v9m0 3v3m0 9v6m1-72v3m0 27v9m0 21v3m1-92v3m0 14v6m0 15v3m0 3v3m0 12v6m0 15v3m0 6v3m1-110v3m0 9v6m1-42v3m0 15v6m0 3v3m0 3v3m0 9v5m1-8v6m1-36v3m0 12v3m0 3v3m0 9v3m1-6v3m1-42v3m0 183v10m2-199v3m0 3v3m0 30v3m0 3v3m0 141v10m1-196v3m0 18v3m0 9v14m1-41v3m0 6v15m0 3v3m0 9v2m0 139v10m1-154v5m1-20v6m1-42v3m0 12v12m0 6v3m0 159v10m1-187v3m0 18v3m0 153v10m1-10v10m1-403v3m0 189v3m0 3v3m0 9v3m0 15v3m0 162v10m1-172v3m1-6v3m1-24v3m1 15v6m1 162v10m1-187v3m1-30v3m0 6v3m0 9v3m0 3v3m0 3v3m0 3v3m0 162v10m1-385v3m0 3v3m0 144v3m0 6v3m0 3v3m0 12v6m0 12v3m0 171v10m1-202v3m0 189v10m1-211v3m0 27v3m1-36v3m0 3v6m0 3v3m0 6v3m1 166v11m2-375v3m1 168v6m0 6v3m1 189v10m2-226v6m0 21v6m0 183v10m1-220v3m0 6v6m0 3v3m0 6v3m1-21v3m0 9v6m2 183v10m2-379v3m1 9v3m0 114v3m0 39v3m2-147v3m0 99v3m0 18v6m0 18v3m0 192v10m1-400v3m0 159v6m0 12v6m1-183v3m0 3v3m0 30v3m0 105v3m0 3v3m0 21v3m0 9v3m0 3v3m1-195v3m0 141v3m0 12v3m0 9v9m0 3v6m0 184v11m1-228v3m1-159v3m0 9v3m0 9v3m0 3v3m0 117v3m0 12v9m0 6v3m0 3v3m0 195v10m1-364v3m0 132v3m0 6v3m1-3v3m1 196v11m1-375v3m0 132v9m1-120v3m0 102v9m0 27v3m0 3v3m0 201v10m1-256v6m0 6v3m0 3v3m0 3v3m0 9v6m0 3v3m0 198v10m1-376v3m1-18v3m0 9v3m0 15v3m0 108v3m0 12v6m0 9v3m0 3v3m1-186v3m0 138v3m1 18v3m0 12v3m0 196v11m1-375v3m0 153v6m1 3v6m1-21v3m0 6v3m0 213v10m1-403v3m0 12v3m0 162v9m0 204v10m1-235v3m0 222v10m1-241v3m0 6v6m0 205v21m1-373v3m0 120v3m0 3v3m0 6v3m0 9v3m0 199v11m1-357v3m0 141v3m1-147v3m0 108v3m0 18v3m0 6v3m1-150v3m0 126v3m0 9v3m0 6v3m0 199v11m1-375v6m0 150v3m1-159v3m0 372v10m1-256v3m0 21v6m0 205v21m1-388v3m0 162v3m0 199v11m1-375v3m0 372v10m1-400v3m0 138v6m0 24v3m1 3v3m0 210v10m2-223v3m0 199v11m1-381v9m1-3v3m0 141v12m0 219v10m1-376v3m1 126v6m0 3v3m0 225v10m1-397v3m0 15v3m0 138v3m0 225v10m2-229v3m1-168v3m0 150v3m0 3v6m1-162v3m0 132v6m0 3v6m0 6v3m0 3v3m0 216v10m1-376v3m0 363v10m1-262v3m0 12v3m0 3v3m0 228v10m1-10v10m1-256v3m0 6v3m0 6v9m0 219v10m1-397v3m0 9v3m0 18v3m0 102v3m0 27v3m2-27v3m0 3v3m0 3v3m0 228v10m1-376v3m0 114v3m0 18v3m0 214v11m1-390v3m0 144v3m0 9v3m1-12v3m0 3v3m0 3v3m0 3v3m0 219v10m1-373v6m0 114v3m0 3v3m0 3v3m0 228v10m1-262v3m0 249v10m1-400v6m0 138v3m0 6v3m0 9v3m0 222v10m1-250v3m1-9v3m1-132v3m0 372v10m1-373v3m0 3v3m0 105v3m0 9v3m0 6v6m0 222v10m1-397v3m0 138v3m0 6v3m1-132v3m0 114v3m0 3v3m0 6v3m0 231v10m1-403v3m0 147v3m0 240v10m1-253v3m0 240v10m1-10v10m1-247v3m0 3v3m0 228v10m1-394v3m0 3v3m1 141v3m1-132v3m0 114v3m0 243v10m1-394v3m0 135v3m0 9v6m0 228v10m1-394v3m0 12v3m0 366v10m1-403v3m0 21v3m0 120v9m0 3v3m1-24v3m0 252v10m2-388v3m0 123v3m0 6v3m0 6v3m1-138v3m1-24v3m0 3v3m0 3v3m0 123v3m0 12v9m1-12v3m0 237v10m1-400v3m0 141v3m0 243v10m1-385v3m0 372v10m1-10v10m1-376v3m2-6v3m0 6v3m0 102v3m0 9v3m0 240v10m1-382v3m1 123v3m0 243v10m1-376v3m0 6v3m0 111v3m0 240v10m2-10v10m1-382v3m1 0v3m1-18v3m0 21v3m0 346v11m1-11v11m1-378v6m0 12v3m0 120v6m0 220v11m1-366v3m1-18v3m0 3v3m0 15v3m0 102v6m0 12v3m1 231v10m1-364v3m0 102v3m0 246v10m1-10v10m1-379v3m0 366v10m1-385v6m0 3v3m2 0v3m1-15v3m0 3v6m0 3v3m1-6v3m1-21v3m0 30v3m1-24v6m1-3v3m1 6v6m1-30v3m0 12v6m0 3v6m1-15v6m0 3v9m0 337v11m1-375v3m1 0v3m0 129v3m1-141v6m0 372v10m1-388v3m0 9v3m1-12v3m0 6v3m1 363v10m2-385v3m0 372v10m2-394v3m0 12v3m1-9v3m0 3v3m1 126v3m3 237v10m1-391v3m1 6v3m0 358v11m2-369v3m0 366v10m1-397v3m1 18v3m2 363v10m2-373v3m0 120v3m2 237v10m1-394v3m1 381v10m1-391v3m0 378v10m1-21v11m4-249v3m0 12v3m0 231v10m1-10v10m1-10v10m5-364v3m1 340v11m1-342v3m0 328v11m1-381v3m1 21v3m0 354v10m2-394v3m0 57v3m1-69v3m1 0v3m0 384v10m1-256v3m0 243v10m1-343v3m1-60v3m0 66v3m1-21v3m0 336v10m1-391v3m0 9v3m0 366v10m1-388v3m2-15v6m1 30v3m0 15v3m1 322v11m1-378v3m1 375v10m1-394v3m0 381v10m1-253v3m5 240v10m2-250v3m5 226v11m5-11v11m8-246v3m0 6v6m1-15v9m0 6v3m0 228v10m3-289v3m0 265v11m1-228v3m0 214v11m1-258v3m1-12v3m0 15v3m1-27v3m0 21v3m1-48v3m0 21v3m0 42v3m1-30v3m0 24v3m2-27v3m1-6v3m2-24v3m1 259v11m1-264v3m0 6v3m0 30v3m1-27v3m1-24v3m0 21v3m1-21v3m0 6v3m0 36v3m1-39v9m0 27v3m1 199v11m1-252v3m1 18v3m0 24v3m0 190v11m2-201v3m0 86v3m0 27v3m1-152v3m0 27v3m1 68v3m0 9v3m0 3v6m0 12v6m0 9v3m1-152v9m0 104v3m0 9v3m0 18v3m0 9v6m0 6v3m0 12v3m1-182v3m0 30v3m0 77v3m0 54v6m0 3v3m1-152v3m0 3v3m1-36v3m0 164v3m1-173v3m0 86v3m0 3v3m0 39v3m0 3v6m0 27v3m1-191v3m0 54v3m0 65v3m0 9v3m1-146v3m0 9v3m0 12v6m0 30v3m0 41v3m0 9v3m0 3v6m0 3v3m0 18v6m0 3v3m0 15v3m0 3v3m1-122v3m1-66v3m0 3v3m0 3v6m1 149v3m1-200v3m0 3v3m1-18v3m0 176v6m0 6v6m0 9v3m1-191v9m0 3v3m0 12v3m0 63v3m0 41v3m1-77v3m1 36v3m1-42v3m0 39v3m1-90v3m0 15v3m0 12v3m0 3v3m0 6v3m0 74v3m0 54v3m1-95v3m1-87v3m0 3v3m0 9v3m0 3v3m0 18v6m0 3v3m0 33v2m1-59v3m0 12v3m1-66v3m0 12v3m0 9v3m0 33v3m0 6v3m1-84v3m0 27v3m0 3v3m0 3v6m2-54v3m0 30v6m1-15v3m0 45v3m0 3v3m0 15v3m1 6v3m1-108v3m0 60v3m0 6v3m0 3v3m0 6v6m0 9v3m1-57v3m0 39v3m0 3v3m0 3v3m0 3v3m0 3v3m1 0v3m1 23v3m2-38v3m1-48v3m0 9v3m0 18v3m1-69v3m0 9v3m0 3v6m0 83v3m0 6v3m0 3v3m0 6v3m0 3v3m0 6v6m0 3v3m0 3v3m0 9v3m0 6v3m1-42v3m0 3v3m0 9v3m0 18v3m0 30v5m1-220v3m0 3v6m0 3v3m0 6v3m0 92v3m0 30v12m1-200v3m0 30v3m0 6v3m0 101v3m0 66v3m1-179v3m0 6v3m0 95v3m0 3v3m0 6v3m0 3v3m0 45v3m1-203v3m0 15v6m0 104v3m0 12v6m0 12v3m0 15v3m1-197v6m0 12v3m0 9v3m0 104v3m0 24v3m0 57v3m1-224v3m0 12v6m0 6v3m0 107v6m0 6v6m0 3v3m0 12v6m0 36v3m1-254v3m0 12v3m0 21v6m0 9v3m1-27v3m0 6v3m0 134v9m0 6v3m0 27v3m0 9v9m0 6v3m1-206v6m0 3v3m0 116v3m0 66v6m1-227v6m0 24v3m0 3v3m0 137v3m1-152v6m0 3v3m0 107v6m0 3v6m0 3v3m0 12v3m0 3v9m0 18v3m0 3v3m0 9v3m1-209v3m0 3v6m0 122v6m0 21v3m0 3v6m0 6v3m0 3v6m0 9v3m0 9v3m1-224v3m0 140v3m1-164v3m0 12v3m0 15v3m0 113v6m0 6v3m0 6v3m0 3v3m0 12v6m0 15v12m1-209v3m0 3v6m0 6v9m0 113v3m0 27v6m0 18v3m0 6v3m0 15v6m1-212v3m0 12v6m0 98v3m0 21v3m0 6v3m0 6v3m0 24v6m0 3v3m0 6v3m1-209v3m0 6v3m0 87v3m0 3v3m0 3v2m0 21v3m0 6v3m0 3v3m0 6v6m0 3v18m0 3v3m1-203v3m0 9v3m0 72v3m0 41v3m0 9v6m0 3v3m0 21v3m0 6v9m0 12v3m0 9v3m1-140v3m0 15v6m0 29v9m0 6v3m0 3v3m0 12v3m0 6v6m0 9v6m0 3v9m1-152v3m0 9v3m0 3v6m0 21v3m0 9v3m0 11v6m0 12v3m0 21v6m0 3v3m0 3v3m0 6v3m1-128v3m0 33v3m0 6v3m0 11v3m0 18v3m0 6v3m0 6v3m0 6v3m0 9v3m1-152v3m0 12v6m0 3v6m0 21v6m0 9v3m0 29v3m0 3v3m0 21v3m0 21v3m1-143v3m0 3v6m0 39v3m0 35v3m0 6v6m0 15v6m1-101v3m0 12v3m0 12v3m0 29v3m0 15v3m0 36v3m1-146v9m0 9v9m0 12v3m0 12v3m0 23v3m0 3v3m0 9v3m0 3v3m0 24v6m1-89v3m0 29v3m0 3v3m0 3v3m1-68v9m0 3v3m1 9v3m0 9v3m1-36v3m0 47v3m1-32v3m0 3v3m1-9v3m0 9v3"/><path stroke="#25ff00" stroke-width="1" d="M102.5 268v6m0 62v6m0 3v3m0 128v10m1-221v3m0 6v3m0 56v6m0 9v3m1-80v3m0 62v3m0 12v3m0 48v3m1-146v3m0 3v3m0 3v3m0 6v3m0 50v3m1-71v3m0 3v6m0 56v3m0 3v3m1-77v3m0 36v2m0 18v3m0 6v3m1-65v6m0 15v3m0 17v3m0 6v3m1-47v3m0 6v3m0 41v3m0 133v10m1-175v3m0 98v3m0 61v10m1-202v3m0 9v6m0 20v3m0 151v10m1-199v3m0 24v2m1-2v2m1-20v3m1 12v3m1-69v3m0 30v3m0 12v3m0 116v3m2-188v3m0 9v3m0 3v9m0 27v3m0 6v3m0 146v5m1-232v6m0 24v3m0 18v6m0 3v3m0 9v3m0 3v3m1-84v3m0 24v3m0 15v3m0 6v3m1-60v3m0 230v5m1-226v6m0 12v3m0 54v3m0 116v3m0 24v5m1-208v3m0 18v3m1 15v3m0 161v5m8-32v3m1-3v3m2 29v11m1-43v3m1-3v3m2-266v3m0 99v3m0 60v2m1-137v3m0 3v3m0 18v3m0 27v6m0 36v3m0 18v3m0 3v3m0 3v5m2-164v3m0 12v3m0 3v3m0 24v9m0 6v3m0 3v3m0 3v3m0 3v6m0 3v3m0 3v3m0 6v6m0 9v3m0 6v6m0 6v3m0 6v3m1-153v3m0 27v3m0 3v3m0 15v3m0 9v12m0 6v3m0 6v3m0 21v3m0 3v3m0 6v3m0 9v3m0 6v6m1-162v6m0 15v3m0 12v3m0 117v3m0 6v2m1-158v6m0 3v3m0 3v6m0 3v6m1-12v3m0 120v3m0 12v2m0 72v3m1-230v3m0 6v6m0 135v3m1-162v3m0 9v3m0 164v3m0 48v3m0 15v3m0 3v3m1-72v3m0 60v6m1-248v9m0 9v3m0 146v3m0 9v3m0 3v3m0 45v9m1-18v3m0 6v3m0 3v3m0 6v3m0 3v3m1-251v3m0 236v3m0 6v3m1-260v3m0 18v3m0 3v3m0 143v3m0 9v3m1-158v3m0 9v3m0 114v2m0 63v3m0 24v3m1-218v3m0 120v2m1-113v3m0 3v3m0 3v3m0 21v3m0 9v3m0 6v3m0 3v6m0 24v6m1-42v3m0 33v3m2-24v3m1 134v3m2-93v6m1 30v3m0 9v3m0 33v6m1-87v3m0 6v3m0 36v6m0 9v3m0 3v6m1-149v3m0 9v6m0 3v3m0 12v3m0 18v3m0 53v3m0 15v9m0 3v6m0 6v3m2 3v3m1-353v3m2 379v11m1-384v3m1 0v3m0 362v5m2-5v5m1 0v11m1-393v3m0 374v5m2-130v2m0 57v3m1-314v3m0 246v5m3-5v5m1-5v5m1-2v2m4 78v3m0 15v3m1-15v3m0 52v10m1-68v6m0 9v3m1-33v3m0 12v3m1-75v3m0 9v6m0 30v3m0 6v3m0 12v3m1-12v3m0 6v3m0 12v3m1-30v3m0 3v3m0 9v3m0 6v3m0 61v10m1-208v3m0 21v3m0 65v3m0 15v3m0 3v9m1-101v6m0 77v3m0 6v3m0 3v6m1-128v3m0 122v3m1-131v3m0 30v3m0 56v3m0 3v3m0 9v3m0 9v3m0 76v10m1-211v3m0 104v3m0 3v6m0 6v3m0 73v10m1-89v3m0 76v10m1-211v3m0 119v3m0 76v10m1-181v3m0 98v3m1 3v3m0 61v10m1-211v3m0 122v6m0 70v10m1-101v3m0 15v3m0 70v10m1-86v6m0 6v3m1-140v3m0 30v3m0 77v3m0 6v3m2-6v3m0 6v3m1-21v3m1-80v3m0 74v3m0 3v3m0 9v3m1-131v3m0 113v3m0 3v3m0 76v10m1-10v10m1-98v6m0 6v3m1-128v3m0 198v10m1-89v3m1-125v3m0 134v3m1-140v3m0 119v3m0 86v10m1-221v3m0 134v3m1-140v3m0 119v6m0 83v10m1-10v10m1-221v3m0 125v3m0 80v10m1-221v3m1 107v3m0 12v3m0 83v10m1-221v3m0 128v3m2-9v3m1-128v3m1 122v3m1 83v10m1-102v3m0 6v3m1-30v3m0 3v3m0 9v3m0 3v3m0 73v20m1-102v9m0 9v3m0 61v20m1-111v3m0 24v3m0 61v20m1-84v3m0 71v10m1-191v3m0 168v20m1-221v3m0 27v3m0 178v10m1-221v3m0 110v3m1-116v3m0 110v3m0 9v3m1-3v3m1-12v3m0 18v3m1-140v3m0 113v3m0 18v3m3-137v3m0 24v6m0 86v3m0 76v10m1-98v6m0 6v3m1-128v3m0 113v3m0 92v10m1-191v3m1 0v3m0 3v2m0 75v3m0 18v3m1-137v3m1 21v6m0 89v3m0 3v3m1-101v3m1-6v9m0 89v6m1-101v3m0 86v3m1-122v3m0 122v6m0 70v20m1-221v3m0 116v6m0 76v10m1-101v3m0 6v3m0 3v3m0 9v3m0 61v10m1-184v6m0 32v3m0 51v3m1-21v3m1-104v3m0 65v3m0 15v3m0 30v3m1-122v3m0 3v3m0 53v6m0 27v3m0 12v3m0 3v6m1-119v3m0 24v3m0 50v3m0 3v3m0 18v3m0 3v3m1-116v6m0 38v3m0 24v3m0 24v6m0 9v3m0 3v3m1-122v3m0 56v3m0 39v3m0 6v6m1-113v3m0 15v9m0 23v3m0 3v3m0 21v3m0 6v3m0 12v3m0 24v3m1-113v3m0 3v3m0 11v3m0 3v3m0 3v9m0 3v3m0 21v3m1-71v3m0 38v6m0 15v3m0 3v3m0 3v6m0 3v3m0 6v6m1-119v3m0 3v3m0 9v6m0 3v3m0 11v3m0 15v3m0 6v3m0 3v3m0 24v3m0 3v3m0 6v3m0 3v3m0 6v3m1-113v3m0 17v6m0 30v3m0 21v15m0 15v3m1-119v3m0 9v3m0 29v3m0 3v6m0 6v6m0 3v3m0 3v3m0 3v6m0 3v3m0 3v3m1-116v9m0 6v3m0 3v9m0 86v6m0 93v10m1-225v3m0 59v3m0 3v6m0 18v3m0 6v3m0 6v6m0 3v6m1-125v3m0 21v3m0 14v3m0 39v6m0 15v3m0 9v6m0 9v3m0 61v10m1-196v3m0 12v3m0 14v3m0 3v3m0 9v3m0 6v3m0 3v3m0 3v3m0 6v6m0 6v3m0 12v3m1-119v6m0 9v3m0 3v6m0 80v3m1-104v3m0 3v3m0 15v3m0 11v3m1-44v3m0 18v3m0 14v3m0 12v6m0 27v3m0 3v6m0 9v9m1-101v3m0 3v6m0 17v3m0 6v3m0 9v3m0 18v6m1-95v6m0 6v3m0 6v3m0 20v3m0 6v3m0 6v3m0 6v3m0 45v3m1-104v3m0 26v3m0 15v3m0 9v3m0 18v6m0 6v6m0 15v3m1-137v3m0 6v3m0 6v3m0 23v3m0 21v3m0 39v6m1-110v3m0 9v3m0 29v3m0 27v3m0 9v3m1-92v6m0 12v3m0 20v3m0 45v3m162-45v9m0 6v3m0 3v3m0 9v3m1-36v6m0 9v6m0 18v9m1-62v2m0 6v3m0 9v9m0 6v6m0 12v6m0 3v3m1-65v2m0 12v12m0 15v9m1-33v3m0 6v3m0 3v9m0 3v9m1-27v3m0 3v3m0 3v6m0 3v3m1-33v3m1 24v18m2-54v3m0 6v3m0 24v3m0 27v3m0 6v3m0 6v3m1-54v6m0 45v3m2-78v3m0 45v3m0 3v3m0 12v3m1 36v5m2-68v9m1-60v3m0 48v3m0 60v5m1-116v3m0 6v3m0 3v3m0 27v3m0 15v6m1-69v3m0 3v3m0 3v3m0 3v3m0 15v3m0 3v3m0 39v3m0 24v16m1-112v3m0 6v9m0 3v6m0 9v6m0 18v3m1-63v6m0 6v3m0 21v6m0 9v3m0 6v3m0 3v3m1-72v3m0 18v3m0 9v3m0 6v3m0 18v6m1-66v3m0 9v3m0 3v3m0 6v3m0 12v3m0 3v3m0 9v3m1-78v3m0 45v6m0 18v6m1-36v3m1-30v3m0 9v3m0 12v3m0 39v3m1-107v3m0 11v12m0 21v3m0 27v3m0 3v3m1-66v3m0 6v6m0 45v3m0 12v3m0 33v5m1-5v5m1-358v3m0 239v3m0 3v3m0 18v3m0 18v9m0 12v3m0 6v3m0 30v5m1-346v3m0 171v6m3 119v9m1-84v3m0 30v3m0 9v3m0 24v3m0 6v3m1-326v3m0 222v3m0 3v3m0 17v9m0 12v6m0 6v3m0 9v3m0 3v3m0 21v3m0 3v3m1-101v2m0 6v3m0 12v3m0 30v3m1-101v3m1 21v6m0 6v3m0 3v2m0 24v3m1-29v2m0 42v3m0 3v9m0 6v3m0 6v3m1-284v3m0 156v3m0 68v3m0 24v3m0 6v3m1-98v3m0 101v6m2-77v3m1-18v3m0 9v3m1-9v3m0 6v3m0 17v3m1-47v3m0 3v3m0 3v3m0 6v3m1 53v3m0 30v3m1-98v9m0 3v2m1-44v3m0 12v3m0 68v3m0 21v3m0 3v3m0 12v3m1-107v3m0 23v3m0 30v3m0 3v9m1-62v3m0 23v3m0 57v3m1-98v3m0 3v3m0 128v5m1-370v3m0 219v6m0 62v3m0 6v3m0 15v3m0 6v3m0 3v3m1-116v3m0 35v3m0 6v3m0 3v3m0 3v3m0 54v3m1-87v3m0 9v9m0 3v3m0 87v5m1-361v3m0 201v3m0 6v3m0 12v5m0 45v3m0 18v6m1-80v8m0 72v3m0 6v3m0 9v3m2-3v6m1-347v3m0 228v3m0 12v2m0 9v12m0 72v3m2-101v3m0 26v3m1-47v3m0 15v2m0 45v3m1 75v5m1-361v3m0 239v6m1-47v3m0 18v3m0 3v5m0 27v3m0 60v3m1-95v2m0 96v3m1-116v3m0 3v3m0 14v3m0 6v3m0 78v3m0 24v5m1-5v5m1-119v3m0 69v6m1-107v3m0 6v3m0 6v2m1-245v3m0 198v3m0 6v3m0 3v3m0 3v3m0 110v3m1-87v6m1-56v3m0 3v6m0 62v3m0 6v3m0 3v12m0 18v3m1-308v3m0 236v3m0 3v3m0 105v5m1-166v3m0 62v3m0 33v6m1-296v3m0 192v3m0 18v3m0 6v2m0 27v3m0 3v3m0 3v3m0 12v3m0 12v3m1-101v3m0 21v3m0 23v6m0 6v3m0 87v5m1-157v3m0 21v3m0 17v3m0 6v6m0 6v3m0 36v3m0 3v3m1-110v3m0 12v3m0 3v5m0 42v3m0 48v3m1-87v3m0 18v6m0 9v6m0 3v6m0 6v6m0 3v3m0 3v6m0 3v3m1-104v3m0 14v3m0 18v3m0 15v3m0 9v6m1-68v3m0 11v3m1-233v3m0 171v3m0 50v3m0 18v3m0 12v3m0 18v3m0 15v3m0 6v3m1-87v9m0 15v6m0 15v3m1-74v3m0 3v3m0 9v2m1-14v14m0 9v3m1 12v3m0 3v6m0 3v3m0 21v6m0 15v3m1-89v2m1-5v3m0 125v5m2-172v3m0 77v3m1-41v2m0 6v3m0 9v3m0 63v3m0 3v3m0 3v3m1-125v9m0 3v3m0 3v8m0 123v5m1-151v3m0 6v3m1-18v3m0 18v8m0 27v3m0 3v3m0 9v3m0 3v3m0 3v3m0 6v3m0 6v3m0 3v3m1-75v3m0 39v3m0 3v3m0 12v3m0 12v6m2-107v6m1 3v3m1 32v3m0 57v3m1-119v3m0 6v6m0 44v3m0 42v3m0 9v3m1-119v3m0 12v3m0 3v3m0 38v3m0 3v3m0 9v3m0 3v3m1-36v3m0 12v3m0 3v3m0 3v3m0 6v6m1-89v3m0 140v5m1-122v3m1-38v3m0 6v3m0 3v3m1 23v6m0 12v6m0 9v3m0 24v3m0 12v3m0 3v3m1-6v3m0 30v5m1-92v3m0 54v3m0 27v5m1-35v3m0 27v5m1-175v6m0 89v3m1-39v3m1-9v3m1 3v3m1-35v12m0 17v3m0 60v3m0 6v3m0 9v3m1-104v3m0 17v6m1-23v3m0 32v3m0 12v3m0 36v6m1-116v3m0 3v3m0 12v3m0 41v3m1-56v3m0 3v3m0 83v3m1-66v3m0 24v3m0 12v6m0 3v3m0 3v3m0 3v6m0 12v3m1-57v3m2-33v3m0 33v9m0 3v6m0 6v6m0 18v3m1-113v3m0 95v9m1-329v3m0 204v3m0 12v3m0 92v6m2-143v3m2 45v3m0 101v3m1-134v6m0 44v3m0 6v6m0 30v6m0 15v3m0 3v3m0 6v3m1-143v3m0 53v3m0 18v3m0 15v3m0 3v3m0 3v3m0 6v3m0 6v3m0 9v3m1-90v3m0 18v3m0 30v3m0 21v3m0 9v3m1-149v3m0 12v3m0 41v3m0 3v3m0 6v3m0 51v3m0 6v3m1-84v3m0 9v6m0 9v3m0 21v6m0 12v3m0 6v3m1-116v3m0 6v3m0 9v3m3-9v3m0 3v3m0 3v2m0 51v3m1-74v3m1-12v3m0 12v3m1 150v10m1-175v3m0 3v6m1-21v3m0 171v10m3-172v3m0 6v3m1-42v6m0 33v3m3-228v3m0 183v3m0 15v3m0 3v3m0 9v3m2 153v10m1-187v3m0 3v3m1 168v10m3-220v3m0 6v3m0 6v9m0 9v3m1-27v6m0 6v3m0 15v3m2 165v10m1-196v3m0 183v10m1-10v10m3-385v3m0 159v3m0 27v3m0 180v10m2 0v11m1-390v3m1 150v3m0 6v6m0 12v3m1 186v10m1-10v10m5-10v10m1-244v9m0 15v3m0 3v3m0 3v3m1 195v10m1-403v3m0 24v3m0 132v3m0 3v3m0 3v3m0 15v3m0 3v3m0 192v10m1-259v3m0 9v3m0 6v3m0 21v3m0 201v10m1-235v3m0 222v10m1-247v3m0 9v3m1-18v3m0 12v6m0 3v3m0 6v3m1-21v3m0 222v10m1-10v10m1-10v10m1-244v3m0 6v6m1-12v3m0 3v3m0 3v9m2-21v3m0 228v10m1-244v3m0 231v10m1-361v3m0 111v3m0 6v3m0 12v3m0 3v3m2-18v3m0 3v3m1-15v3m0 6v3m1-135v3m0 126v9m1-27v6m0 3v6m1-150v3m0 132v3m0 3v3m0 3v3m1-6v6m1 9v3m0 202v11m1-219v3m2-138v3m0 99v6m2-138v3m0 138v3m0 6v3m0 6v3m1 222v10m1-259v3m0 18v6m0 3v3m0 3v3m1-12v3m1-33v3m0 33v3m1 213v10m1-388v3m0 3v3m0 117v3m0 33v3m1 213v10m1-247v3m1 234v10m2-259v3m0 15v3m2-24v3m0 21v9m0 219v10m1-247v3m0 234v10m1-250v3m0 6v3m1-24v6m0 24v6m1-150v3m0 120v3m0 15v6m1-30v3m0 18v3m0 3v3m2-159v3m0 123v3m1 249v10m1-256v3m1 0v9m0 9v3m0 222v10m1-256v3m0 243v10m1-253v3m0 3v3m0 3v3m1-126v3m0 111v3m0 3v3m0 3v3m1-24v6m1 0v3m0 6v3m0 3v3m3-6v3m1-6v3m1 231v10m1-250v3m4-129v3m2 363v10m1-250v3m1-6v3m1-6v3m1-12v3m0 21v3m2 228v10m1-10v10m1-247v6m0 231v10m1-253v3m2-12v3m1 9v3m2 237v10m1-394v3m0 381v10m1-256v3m1-126v3m0 6v3m1-33v3m1 15v3m1-6v3m0 372v10m1-370v3m1-27v3m0 381v10m2-250v3m2 237v10m1-10v10m1-370v3m0 3v3m0 108v3m0 240v10m2-391v3m0 9v3m1 0v3m2 363v10m1-10v10m1-385v3m1-6v3m0 12v3m1-6v3m0 363v10m1-403v3m0 18v3m0 369v10m1-382v3m0 6v3m2-15v3m0 12v3m1-15v6m0 366v10m1-385v3m2-3v3m0 3v3m0 366v10m2-370v3m0 357v10m1-382v3m0 369v10m2-10v10m1-376v3m1 363v10m1-10v10m1-10v10m1-10v10m2-10v10m4-10v10m1-388v3m3 375v10m3-10v10m3-10v10m4-10v10m1-10v10m1-10v10m4-10v10m1-10v10m2-10v10m4-10v10m1-355v3m1 342v10m1-397v3m0 384v10m1-403v3m0 12v3m0 51v3m1-60v3m2-12v3m0 3v3m0 27v3m0 351v10m1-403v3m3 3v3m0 3v3m0 138v3m0 237v10m1-10v10m2-391v3m7 378v10m1-10v10m4-10v10m6-10v10m5-10v10m4-10v10m2-247v3m2-3v6m1-12v9m0 234v10m1-253v3m0 9v3m1-18v3m0 15v3m2-21v3m0 15v6m1-6v3m2-3v3m1-3v3m1 0v3m1-6v3m1-57v3m0 279v10m2-289v6m0 9v3m0 15v3m1-30v3m1 9v3m0 12v3m1 24v3m1-48v3m0 9v3m1 3v6m1-21v3m1 48v3m0 128v3m1-164v3m0 27v3m0 196v11m1-207v3m1-24v3m2 27v3m1 62v3m0 3v3m0 36v3m0 9v3m0 18v3m1-167v3m0 24v3m0 83v3m0 12v3m0 12v3m0 18v3m0 6v3m1-176v3m1-12v3m0 6v3m0 134v3m0 27v3m1-167v6m0 164v3m1-191v3m0 15v3m0 89v3m0 3v6m0 3v3m0 6v3m0 15v3m0 27v3m0 6v3m1-182v6m0 3v3m0 3v3m0 21v6m0 50v3m0 18v3m0 15v3m0 39v3m1-176v6m0 89v3m0 48v6m0 12v3m0 3v3m1-164v3m0 9v3m1-18v3m1 89v6m0 42v6m0 3v3m1-167v3m0 21v3m1-42v3m0 3v3m0 6v3m0 63v3m0 38v3m0 12v3m0 15v6m0 12v3m0 9v3m0 12v3m1-200v3m0 45v3m0 77v3m1-149v3m0 9v6m0 39v3m0 39v6m1-3v3m1-57v3m0 18v3m0 6v3m1-54v3m0 36v3m0 6v3m0 30v3m0 89v3m1-131v6m0 3v3m1-81v3m0 6v6m0 51v3m0 6v3m1-3v3m1-87v3m0 9v3m0 6v3m1-42v6m0 6v6m0 30v6m0 36v3m0 6v3m1 12v3m1-99v3m0 3v3m0 3v3m0 6v3m0 3v3m0 39v3m0 3v3m0 3v3m0 3v3m3-18v3m0 9v6m0 9v6m1 3v3m2 47v3m1-44v3m2-39v3m0 77v6m0 6v6m0 24v3m0 3v3m1-170v3m0 89v6m0 33v3m0 42v3m1-69v3m0 24v3m0 3v3m0 18v6m1-185v3m0 21v3m0 77v3m0 12v3m0 18v3m0 45v3m1-182v3m0 113v3m0 3v3m0 6v3m0 27v6m0 6v3m0 6v3m1-254v3m0 161v3m0 27v3m0 9v3m0 3v6m0 3v3m0 18v3m0 9v3m1-218v6m0 24v3m0 95v3m0 9v6m0 9v3m0 15v3m0 18v3m1-170v3m0 3v3m0 140v6m1-155v3m0 134v3m0 15v3m0 3v3m0 9v3m1-69v6m0 30v6m0 3v3m0 33v3m1-212v3m0 9v6m0 119v6m0 6v3m0 12v6m1-179v3m0 242v5m1-256v3m0 6v6m0 12v3m0 110v3m0 9v3m0 122v11m1-279v3m0 137v3m0 42v3m1-173v3m0 110v3m0 18v3m0 15v3m0 39v3m1-200v9m1-9v6m0 3v3m0 3v3m0 104v3m0 12v3m0 3v3m0 3v3m0 9v3m0 3v9m0 12v3m0 6v6m1-194v3m1-12v6m0 152v3m1-176v3m0 9v3m0 12v3m0 75v3m0 3v3m1-93v3m0 3v3m0 6v3m0 125v3m0 24v3m1-45v3m0 150v10m1-228v3m0 6v3m0 9v3m0 3v3m0 20v3m0 30v3m0 132v10m1-249v3m0 18v3m0 3v6m0 3v6m0 38v3m0 24v3m0 9v3m0 6v6m0 105v10m1-240v3m0 9v3m0 15v3m0 197v10m1-243v6m0 18v3m0 12v3m0 3v3m0 14v3m0 33v3m0 132v10m1-246v9m0 9v3m0 6v3m0 3v3m0 200v10m1-252v3m0 36v3m0 200v10m1-234v6m0 6v3m0 9v3m0 3v3m0 17v3m0 9v3m0 159v10m1-210v9m0 20v3m1-50v3m0 12v3m0 3v3m1-18v3m0 12v3m0 29v6m0 159v10m1-213v3m0 200v10m1-231v6m0 3v3m0 6v3"/><path stroke="#4cff00" stroke-width="1" d="M102.5 274v3m1-6v3m0 202v10m1-168v3m0 12v3m0 140v10m1-147v3m0 60v3m0 71v10m1-156v3m0 143v10m1-215v6m0 35v3m0 3v3m0 6v3m0 72v3m1-116v3m0 3v3m0 6v2m1-17v9m1-3v6m4 101v3m3-185v3m0 42v3m1-6v3m0 9v3m1-54v3m0 9v6m0 3v3m0 18v3m1-60v12m0 18v3m0 9v3m0 3v3m0 3v9m0 3v3m0 125v3m1-173v3m0 15v6m0 3v3m0 140v3m0 29v11m1-246v3m0 12v12m0 3v3m0 3v3m0 6v3m0 24v3m0 6v3m1-69v3m0 27v3m0 9v3m0 3v3m0 12v3m1-27v3m1 12v3m2 163v11m3-16v5m1 0v11m1-16v5m1 0v11m6-300v3m0 254v3m0 29v11m1-297v6m0 144v3m0 128v5m2-295v3m0 9v3m0 15v3m0 42v3m0 24v6m0 9v6m0 3v6m0 9v3m0 12v3m0 3v5m1-167v3m0 6v3m0 12v3m0 3v3m0 15v3m0 3v3m0 3v3m0 3v3m0 24v3m0 3v3m0 15v3m0 3v3m0 3v6m0 15v3m1-147v3m0 21v3m0 30v6m0 90v3m0 133v11m1-285v3m0 6v3m0 33v3m0 21v3m0 63v3m0 6v2m1-149v3m0 9v3m0 3v3m0 108v3m0 9v6m1-150v3m0 9v9m1-24v3m1-15v3m0 176v3m0 24v3m1-191v6m0 161v3m0 36v3m1-206v3m0 3v9m0 3v3m1-42v3m0 9v3m0 3v3m0 6v3m1 15v3m0 155v3m1-167v3m0 3v3m0 6v6m0 3v3m0 75v3m0 47v3m0 12v3m0 9v3m1-140v3m0 69v3m0 3v6m1-84v9m0 18v3m0 3v3m0 18v3m0 27v2m0 96v3m6-87v3m0 81v3m1-75v3m0 3v9m0 6v6m0 45v3m1-84v3m0 3v6m0 3v3m0 3v3m0 6v3m0 15v3m0 3v3m0 12v3m1-92v5m0 60v6m0 18v3m2 36v5m2 0v11m3-144v3m0 98v3m0 29v11m1-16v5m1 0v11m1-144v3m0 125v5m1-133v3m1 125v5m5 32v10m3-74v3m3-42v3m0 12v3m0 6v3m0 3v3m1-95v5m0 51v3m0 27v3m1-89v3m0 17v3m0 48v9m1-113v3m0 21v9m0 144v21m1-198v3m0 18v6m0 17v3m0 6v3m0 24v3m0 115v10m1-208v3m0 3v3m0 18v6m0 165v10m1-208v3m0 21v3m0 3v3m0 26v3m0 36v3m0 21v3m1-95v3m0 62v3m0 15v3m0 82v10m1-208v3m0 27v3m0 80v3m0 18v3m0 61v10m1-202v3m0 18v3m0 6v2m0 90v3m0 67v10m1-161v3m0 51v3m0 6v6m1-92v6m0 29v3m0 39v3m0 12v6m1-122v3m0 24v3m0 86v3m0 3v3m0 9v3m1-134v3m0 27v3m0 68v3m0 9v3m1-119v3m0 27v3m1 59v3m0 21v3m1-15v3m1-107v3m0 24v3m0 53v3m1-89v3m1 36v2m0 78v3m1-122v3m0 119v6m0 9v3m1-18v3m1-9v3m0 6v3m1-98v3m0 59v3m0 27v3m1-95v3m0 71v3m0 18v3m2-128v3m0 98v3m0 18v3m1 86v10m1-191v6m0 80v3m0 92v10m1-93v3m0 80v10m1-108v3m0 9v3m1-95v3m0 83v3m0 89v10m2-221v3m0 119v3m2-92v3m0 80v3m0 3v6m0 9v3m1-27v6m1 0v3m1-92v3m0 89v3m0 6v3m1-134v3m0 113v9m1 12v3m1-140v3m0 113v3m0 3v3m1-6v3m0 3v3m0 9v3m1-57v3m0 6v3m0 27v3m1-119v3m0 21v6m0 3v2m0 6v3m0 48v3m0 9v6m1-116v3m0 104v3m0 18v3m1-131v3m0 122v6m1-131v6m0 101v6m0 12v3m1-128v3m0 30v3m0 3v2m0 6v3m0 66v3m0 3v6m1-95v3m0 65v6m0 12v3m0 3v3m1-98v3m0 77v3m0 3v3m0 3v3m1-95v3m0 86v3m0 6v3m1-128v6m0 24v6m0 77v3m0 3v3m0 3v3m1-128v3m0 107v3m0 6v9m1-128v3m0 24v3m0 68v3m0 15v6m1-95v3m1 86v3m0 6v3m0 6v3m1-131v3m0 15v3m0 6v3m0 68v3m0 15v6m1-128v3m0 3v3m0 18v6m0 59v3m1-95v3m0 21v3m0 68v3m0 9v3m0 12v3m1-24v3m1-104v3m0 24v3m1-21v3m0 122v3m1-137v3m0 110v6m1-119v3m0 41v3m0 54v3m0 3v3m0 3v3m1-116v12m1-15v6m0 21v3m0 3v3m0 62v6m0 12v3m0 6v6m1-101v6m1-33v3m0 18v3m0 50v3m0 12v3m0 3v3m0 9v3m1-113v6m0 24v3m0 56v6m0 9v3m0 6v3m1-110v12m0 6v3m0 6v3m0 11v6m0 3v3m0 24v3m0 9v3m0 6v3m0 6v3m0 6v3m0 3v3m1-128v6m0 44v3m0 6v3m0 6v3m0 6v3m0 9v3m0 3v3m0 3v3m0 9v3m1-92v3m0 20v3m0 9v3m0 12v3m0 9v9m0 9v6m1-86v6m0 38v3m0 3v6m0 24v3m1-104v9m0 32v3m0 24v3m0 15v3m0 12v3m1-83v9m0 14v6m0 12v6m0 18v3m0 3v3m0 6v3m1-104v3m0 21v3m0 14v3m0 9v3m0 3v3m0 3v3m0 3v3m0 3v6m0 18v6m1-101v9m0 12v6m0 32v3m0 27v3m0 12v3m1-113v3m0 3v3m0 6v3m0 6v3m0 44v3m0 3v3m1-83v3m0 24v6m0 11v12m0 3v6m0 18v3m0 9v3m0 12v6m1-104v9m0 26v3m0 15v3m0 12v9m0 18v3m0 6v3m1-89v3m0 29v3m0 6v6m0 12v3m1-86v9m0 18v3m0 8v3m0 9v3m0 159v10m1-118v6m0 9v3m1-122v3m0 6v6m0 65v3m0 9v3m0 18v3m1-116v6m0 3v3m0 3v6m0 3v3m0 14v3m0 3v3m0 6v3m0 6v3m0 3v9m0 6v6m0 12v3m0 3v3m1-113v6m0 3v6m0 9v6m0 32v3m1-71v3m0 9v6m0 3v3m0 9v3m0 23v3m0 166v8m1-224v3m0 6v3m0 29v3m0 30v3m0 9v3m0 6v3m0 118v8m1-227v3m0 18v3m0 20v6m0 6v6m0 6v6m0 3v3m0 6v3m0 6v6m0 24v3m0 91v8m1-230v9m0 3v3m0 3v3m0 56v3m1-86v3m0 6v3m0 6v6m0 29v3m0 12v6m0 15v3m0 9v3m0 9v3m0 112v8m1-227v3m0 32v6m0 3v3m0 9v3m0 9v3m1-65v3m0 3v6m0 23v3m0 3v3m0 3v6m0 6v3m0 6v3m1-86v3m0 12v3m0 50v3m0 15v3m0 9v3m0 18v3m1-113v6m0 9v3m0 3v3m0 38v3m0 3v3m1 148v8m161-200v2m1-2v2m0 21v3m1-29v3m0 11v3m0 15v3m1-35v3m0 29v3m0 3v3m0 12v3m0 98v11m1-151v3m0 6v6m0 36v3m0 86v11m5-151v3m0 63v3m0 9v3m0 3v6m1-84v3m2 9v3m0 27v3m0 63v5m2-47v3m1-12v6m1-21v3m0 9v3m1-42v3m0 3v3m0 15v3m0 24v9m0 33v5m1-122v3m0 27v3m0 18v3m0 15v3m1-33v3m0 6v3m0 21v3m1-75v3m0 3v3m0 21v3m0 9v3m0 3v6m0 9v3m0 12v3m0 3v3m1-81v3m0 3v3m0 6v6m0 18v3m0 9v3m0 3v3m0 12v3m0 36v5m1-133v5m0 57v3m0 12v3m0 21v3m1-81v9m0 3v3m0 15v6m0 3v3m0 63v5m1-62v3m1-54v3m0 3v3m0 12v3m0 84v5m1-110v3m0 15v3m0 3v3m0 3v3m0 27v3m1-51v3m0 33v3m2-54v3m0 33v3m0 21v6m4-83v2m0 24v3m0 51v3m1-86v3m0 17v3m0 30v3m0 15v3m0 6v3m0 12v3m0 3v3m1-69v3m0 24v3m1-51v3m0 15v3m0 9v3m0 48v3m1-140v3m0 6v3m1 110v3m0 3v3m1-104v3m0 35v3m0 15v3m0 39v3m0 3v6m1-146v6m0 3v3m0 104v3m0 3v6m1-98v3m0 71v3m4 21v3m0 21v3m1-104v5m1 9v3m1 21v3m1 27v3m0 24v6m0 27v5m1-151v3m0 6v3m0 6v5m0 12v6m0 15v3m0 9v3m0 15v6m0 6v3m0 3v3m0 3v12m1-33v6m0 18v3m0 30v5m1-145v3m0 9v3m1-9v9m0 62v3m1-71v3m0 32v3m1 66v3m1-107v3m0 11v3m0 45v3m0 27v3m1-104v3m1 20v3m0 87v3m0 24v5m2-5v5m2-116v3m0 3v3m0 107v11m1-70v3m1-77v5m1-20v6m0 3v3m0 3v5m0 6v3m1-32v6m0 9v3m2 3v2m0 9v6m0 15v3m1-59v3m0 74v3m1 42v3m0 24v5m1-151v3m0 15v3m1-30v3m0 9v3m0 9v3m0 3v2m1 93v3m0 27v5m1-169v3m0 53v6m0 39v6m0 15v6m1-128v6m1-6v3m0 3v3m0 68v3m0 45v3m0 36v5m1-133v3m0 23v3m0 12v3m0 6v3m0 30v3m0 6v3m1-113v15m0 6v2m1 9v3m0 66v3m1-113v3m0 6v3m0 6v3m0 92v3m1-95v6m0 17v3m0 21v3m0 3v3m0 18v3m0 6v3m0 3v3m1-69v6m0 12v6m0 6v3m0 18v9m2-104v3m0 47v9m0 3v6m1-21v3m0 6v3m0 42v3m1-101v3m0 3v3m0 38v3m0 6v3m0 39v3m1-60v3m1 6v3m0 3v3m0 6v3m0 6v3m0 3v3m0 3v3m1-65v3m2 125v5m1-5v5m1-113v3m0 3v15m0 27v3m0 12v3m0 12v3m0 27v5m1-145v3m1 12v2m0 24v3m1-38v3m0 14v9m0 27v3m0 3v3m0 3v3m0 6v3m0 57v5m1-142v14m0 6v3m0 54v6m0 27v3m1 24v5m3-119v3m0 9v6m1-50v6m0 9v6m0 41v3m0 9v3m0 27v6m1-116v3m0 53v3m0 45v3m1-63v3m0 12v9m0 21v3m0 9v6m0 9v3m0 6v3m0 24v5m1-163v9m0 3v3m1 29v3m0 21v3m1-53v3m0 56v3m0 6v3m0 6v3m1-110v3m0 62v3m0 57v3m1-72v9m0 3v3m0 3v6m1-18v3m0 6v3m0 69v3m1-137v9m0 44v3m1-59v3m0 95v3m0 6v3m0 54v5m1-107v3m1 136v10m2-178v6m0 32v3m0 18v3m0 42v3m1-93v6m0 75v3m1-101v3m1-9v3m0 3v3m0 20v3m0 9v9m0 15v3m1-74v3m0 3v3m0 12v2m0 87v3m1-78v3m0 6v3m0 3v3m0 3v3m0 3v3m0 3v9m0 15v3m0 67v10m0 11v10m1-211v3m0 9v3m0 122v3m2-131v3m0 18v6m0 89v3m1-75v3m0 18v3m0 6v3m0 9v3m0 6v3m0 6v3m0 3v3m1-104v9m0 23v3m0 33v3m0 27v3m0 9v3m2-143v6m2 56v6m0 3v3m1-50v9m0 3v6m0 6v3m0 23v3m0 69v3m1-128v3m0 44v3m0 30v3m1-39v3m0 3v6m0 69v3m1-149v3m0 3v6m0 53v3m0 3v3m0 9v3m0 6v6m0 30v3m0 12v3m1-78v3m0 9v3m0 33v3m0 21v6m1-116v3m0 3v3m0 9v3m3 62v3m0 6v3m1-89v3m0 153v10m1-202v3m0 6v9m0 3v3m0 18v3m0 6v2m2-8v3m3 154v11m1-192v3m1 0v6m0 3v6m3-33v3m0 6v3m0 15v3m0 166v11m1-21v10m2-10v10m1 0v11m2-11v11m1-219v3m0 27v3m1-222v3m0 204v6m0 184v11m3-240v3m0 33v3m2 180v10m1-10v10m1 0v11m3-11v11m1-11v11m4-11v11m1-11v11m3-246v6m0 18v3m0 6v3m2-39v3m0 12v3m1-33v3m0 9v3m0 9v3m2-129v3m0 132v3m1-30v12m0 225v10m4-238v3m0 6v3m0 226v11m1-261v3m1 237v10m3-10v10m1-253v3m0 27v3m1-15v3m0 9v3m0 210v10m1-256v3m0 6v9m0 6v3m1-12v3m1 6v3m2 219v10m1-259v3m0 27v3m0 216v10m1-10v10m1-10v10m1-244v3m0 3v3m0 9v3m2-24v3m0 3v6m1-24v3m0 30v3m1-174v3m0 138v3m1 3v15m0 235v11m3-21v10m5-253v3m0 3v6m0 6v6m1 219v10m1-259v6m0 9v6m1-18v6m0 6v3m0 12v3m2-15v6m2-21v6m0 3v9m0 3v3m4-6v3m1-9v6m3-18v3m1 0v3m1 0v3m0 6v3m0 238v11m1-21v10m1-10v10m2-250v3m1 247v11m1-11v11m4-11v11m3-11v11m1-11v11m3-11v11m4-21v10m9 0v11m3-11v11m2-21v10m2-10v10m3-250v3m2 247v11m1-11v11m2-381v3m1 367v11m1-21v10m1-10v10m2-385v3m0 15v3m1 354v10m2-10v10m3-376v3m12 363v10m4-10v10m3-10v10m1-10v10m3-10v10m2-10v10m2 0v11m12-21v10m2-10v10m7-397v3m0 384v10m3-391v3m1-3v3m1-15v3m2 6v3m0 15v3m2 363v10m3-10v10m3 0v11m1-21v10m3-10v10m2-10v10m3-10v10m5-10v10m1-10v10m3 0v11m2-21v10m1-10v10m2-10v10m1-10v10m3-244v3m1-9v6m2-12v3m0 12v3m0 228v10m2-256v3m1 15v3m0 225v10m1-10v10m1-256v3m1 15v3m0 225v10m2-259v6m1 15v6m0 222v10m1-265v3m0 252v10m1-280v6m0 264v10m1-253v6m1-3v3m1-18v3m0 3v3m0 6v3m0 237v10m1-268v6m0 12v3m0 237v10m1-226v3m1-15v3m0 12v3m1-27v3m2 234v10m1-232v3m0 15v3m0 86v3m1-113v3m0 3v3m1-6v6m0 21v3m0 71v3m0 45v9m0 6v3m0 3v3m0 6v3m1-155v3m0 95v3m0 9v3m0 33v3m1-170v6m1 83v9m0 39v6m1-51v3m0 24v3m0 6v3m0 3v3m0 21v3m1-158v3m0 27v3m0 83v3m0 30v3m0 3v3m1-69v15m0 15v3m0 48v3m1-161v3m0 71v3m0 6v3m0 48v3m0 3v3m1-149v3m0 3v3m0 24v3m1-39v3m0 30v9m1 62v3m0 9v6m0 6v9m0 12v3m0 6v3m1-182v3m0 3v3m0 3v3m0 3v6m0 39v3m1-111v3m0 3v3m0 6v3m0 18v3m0 3v6m0 9v3m0 51v3m0 53v3m0 9v3m0 33v3m0 3v3m1-146v3m0 65v3m0 3v3m0 6v3m0 54v3m0 9v3m1-209v6m1 60v6m1-18v3m0 9v6m1-6v3m0 3v6m0 53v6m0 54v3m0 6v3m2-167v3m0 39v3m0 27v3m1-93v3m0 39v3m0 15v3m0 30v2m1-128v3m0 60v3m0 21v3m1-96v3m0 42v3m0 18v6m0 6v3m0 3v3m0 15v3m1-6v6m0 122v3m1-197v3m0 3v3m0 12v6m0 15v3m1 36v9m0 17v3m1-23v3m2-57v3m0 42v3m2 44v6m0 18v3m0 18v3m2-21v3m1-95v3m0 6v3m0 35v9m0 6v3m0 30v6m1-137v3m0 9v3m0 6v3m0 3v6m0 50v3m0 24v3m0 30v3m0 54v5m1-122v6m0 6v6m0 6v6m0 9v6m0 15v3m0 3v3m1-164v3m0 6v3m0 86v3m0 3v3m0 18v3m0 6v3m0 9v3m0 12v3m0 12v3m0 3v3m1-173v6m0 95v3m0 3v3m0 3v3m0 9v9m0 3v3m0 3v6m1-158v6m0 92v3m0 12v6m0 12v3m1-134v3m0 95v3m0 30v3m0 9v6m1-18v6m1-146v3m0 113v3m0 12v3m0 15v9m0 30v3m1-200v6m0 110v3m0 30v6m0 6v3m0 3v6m0 6v3m0 15v3m1-212v3m0 3v9m0 146v6m0 18v3m1-173v3m0 258v10m1-47v5m1-253v3m0 24v3m2-18v3m0 12v3m0 218v5m1-229v3m0 110v3m0 6v3m0 33v3m0 24v6m1-191v3m0 12v3m1-33v3m0 24v3m0 101v3m1-116v3m0 3v9m0 9v3m0 86v3m1-107v3m0 6v12m0 80v3m2-56v3m0 3v3m0 30v2m0 21v3m1-74v9m0 39v2m1-44v6m0 15v3m1-27v6m0 3v3m0 12v3m1-24v3m0 21v3m0 9v3m1-33v3m0 6v3m0 18v3m1-33v3m0 27v3m0 3v2m1-23v3m0 12v3m0 185v10m1-231v3m0 9v3m0 206v10m1-228v3m0 12v3m0 12v3m1-36v3m0 30v3m1 185v10"/><path stroke="#72ff00" stroke-width="1" d="M102.5 315v3m0 12v3m1-56v6m0 29v3m0 15v3m0 69v3m1-131v3m0 27v2m0 24v3m1-59v3m0 27v2m0 15v3m0 6v3m1-53v3m0 21v2m0 6v6m0 6v6m0 6v3m0 63v3m1-125v3m0 3v6m0 9v3m0 17v3m0 152v10m1-188v6m0 172v10m1-10v10m1-10v10m1-84v3m0 71v10m1-20v10m4-47v5m1-32v3m1-146v3m1-3v3m0 140v3m1-182v3m0 3v6m0 12v3m0 9v3m0 9v3m0 6v3m1-81v3m0 15v3m0 60v3m1-54v3m0 6v3m0 9v3m1-36v3m0 30v3m0 9v9m0 6v3m1-27v3m0 9v3m1 3v3m1 157v11m5-16v5m7 0v11m4-243v3m0 15v3m0 12v3m0 15v3m1-9v9m1-108v6m0 3v3m0 12v3m0 3v6m0 6v3m0 6v3m0 9v3m0 15v3m0 6v3m0 33v12m0 6v3m1-117v3m0 9v3m0 9v3m0 6v6m0 42v6m0 9v3m0 12v3m0 6v6m0 125v5m1-256v3m0 9v6m0 9v3m0 18v3m0 12v3m0 190v11m1-270v3m0 9v3m0 114v2m1-158v3m0 6v3m0 176v3m1-194v3m0 254v3m1-242v3m0 9v3m0 167v3m1-173v3m1 134v3m1-137v3m0 15v3m1 0v3m0 3v3m0 6v6m0 3v3m0 48v3m0 15v3m0 20v3m0 15v3m0 3v3m0 9v6m0 6v3m0 6v3m1-179v3m0 3v6m0 3v9m0 6v3m0 3v3m0 21v6m0 12v3m0 18v3m0 77v3m0 21v3m1-158v3m0 15v9m0 9v3m6 41v3m0 9v3m0 3v3m1-21v6m0 27v3m0 12v3m1-42v3m0 3v3m0 3v6m0 3v9m0 18v3m1-3v3m1 18v3m4-3v3m2-101v2m3-2v2m1-2v2m2-254v3m0 400v11m3-64v3m0 61v10m1-21v11m1-21v10m1-10v10m3-53v3m0 50v21m1-164v3m0 27v3m0 15v3m0 12v3m0 3v3m0 6v3m0 52v10m1-131v3m0 51v3m1-77v2m0 24v3m0 36v3m0 9v3m1-113v6m0 12v3m0 59v3m0 21v9m0 6v3m0 9v3m1-134v3m0 21v6m0 32v9m0 15v3m0 18v3m1-95v9m0 62v3m0 3v9m0 12v3m0 3v3m1-122v3m0 27v3m0 38v6m0 21v6m0 9v3m1-92v3m0 3v3m0 8v3m0 9v3m0 15v6m0 3v3m0 12v12m1-107v3m0 15v3m0 9v3m0 68v3m0 12v3m1-113v3m0 9v6m0 95v3m1-125v3m0 47v6m0 12v3m0 12v3m0 18v3m1-107v3m0 18v3m0 6v3m0 11v6m0 24v3m0 6v3m0 6v6m0 9v3m1-77v3m0 65v3m0 6v3m1-113v3m0 21v9m0 65v3m0 9v3m1-110v3m0 12v6m0 86v3m0 6v6m1-30v3m0 6v3m1-107v3m0 30v3m0 62v3m0 6v6m0 3v6m0 12v3m1-134v3m0 15v3m0 6v3m0 68v3m0 6v9m1-119v6m0 30v2m0 66v3m0 9v6m1-122v3m0 18v3m0 3v3m0 71v6m0 15v3m0 83v10m1-191v3m0 80v3m0 3v3m0 89v10m1-221v3m0 110v3m0 21v3m1-140v3m0 30v3m0 86v3m0 86v10m1-218v3m0 80v3m0 30v3m0 89v10m1-218v3m0 27v3m0 59v3m0 15v3m1-86v3m0 178v10m1-188v3m0 74v3m0 6v3m0 89v10m1-218v3m0 30v3m0 83v6m0 9v3m1-104v3m0 74v3m1-83v3m0 83v3m0 3v3m1-125v3m0 24v3m0 65v3m0 18v3m1-119v3m0 24v3m0 80v3m0 6v6m1-98v6m0 77v3m1-86v3m0 74v3m0 3v3m0 3v3m1-119v3m0 24v3m0 3v3m0 86v3m1-125v3m0 30v3m0 89v3m1-131v3m0 62v3m0 30v3m0 3v3m1-68v2m0 51v3m0 18v3m0 6v3m1-92v3m0 11v3m0 63v3m0 3v3m0 3v3m1-18v6m1-86v6m0 74v3m0 6v6m1 12v3m1-140v3m0 30v3m0 80v3m1-119v3m0 30v3m0 74v3m1-77v3m0 26v3m0 27v3m0 6v3m0 9v3m1-92v9m1-33v3m0 27v3m0 80v6m1-98v3m0 3v6m0 59v3m0 21v3m1-119v6m0 18v3m0 77v6m0 6v3m1-86v3m0 14v3m0 36v3m0 3v3m0 12v3m1-113v3m0 27v6m0 80v3m1-95v3m0 3v3m0 17v3m0 39v3m1-74v3m0 110v3m1-110v3m1-27v3m0 15v3m0 9v5m0 15v3m0 36v3m0 6v3m1-104v3m0 27v3m0 62v3m0 18v3m1-119v3m0 24v3m0 74v6m0 12v3m1-89v2m0 12v3m0 15v3m0 63v3m1-134v3m0 18v3m0 26v3m0 9v3m0 9v3m0 15v3m0 3v6m1-77v3m0 14v3m0 42v3m0 6v3m0 6v3m0 6v3m1-122v3m0 21v3m0 3v6m0 41v3m0 33v6m1-116v3m0 3v3m0 9v6m0 65v3m0 15v3m0 6v6m1-101v12m0 8v3m0 30v3m0 33v9m1-110v3m0 6v3m0 9v5m0 6v3m0 30v3m0 12v3m0 9v6m1-104v3m0 15v3m0 3v3m0 3v2m0 12v3m0 33v3m0 3v3m1-77v3m0 12v3m0 59v3m0 21v3m1-101v3m0 12v2m0 48v3m1-89v3m0 3v3m0 15v3m0 80v3m0 6v6m1-119v3m0 18v9m0 14v3m0 21v3m0 3v3m0 3v3m0 18v3m1-74v5m0 9v3m0 3v3m0 6v3m0 48v3m0 3v3m1-89v5m0 48v6m0 15v3m1-98v3m0 6v3m0 23v3m0 42v3m0 21v3m1-107v3m0 15v3m0 17v3m0 3v3m0 9v6m0 3v3m0 18v3m1-101v3m0 3v6m0 18v3m0 14v3m0 15v3m0 12v3m0 18v3m1-92v6m0 12v6m0 17v3m0 9v3m0 6v3m0 15v6m0 21v6m1-110v3m0 15v3m0 17v9m0 15v12m1-83v3m0 41v3m0 24v3m0 6v3m0 3v3m0 3v3m1-95v3m0 9v3m0 23v6m0 21v3m0 3v6m0 6v3m0 3v3m1-77v3m0 12v2m0 15v3m0 15v3m0 15v3m1-89v21m0 47v3m0 3v3m1-74v3m0 41v9m0 15v3m0 24v3m0 114v10m1-225v3m0 3v3m0 9v3m0 3v3m0 3v3m0 20v3m0 18v3m0 6v3m0 3v12m1-83v6m0 38v3m0 9v3m0 6v3m1-56v5m0 9v3m0 21v6m0 30v3m1-101v3m0 9v3m0 6v6m0 11v3m0 12v3m0 15v3m0 6v6m0 6v3m0 3v6m1-101v3m0 3v3m0 29v3m0 3v3m0 6v3m0 6v3m0 21v3m0 12v3m0 112v8m1-177v3m0 3v3m0 18v3m0 139v8m1-227v3m0 18v3m0 3v2m1-2v2m0 66v3m0 3v3m1-110v3m0 6v9m0 15v2m0 45v3m0 24v3m1-98v3m0 47v3m0 9v3m0 6v3m0 139v8m1-224v3m0 35v3m0 6v3m0 18v6m0 6v3m0 3v3m0 33v3m1-81v6m0 27v3m0 136v8m1-233v3m0 24v3m0 195v8m1-189v3m0 21v3m0 27v3m0 124v8m1-218v3m0 6v3m0 3v5m0 190v8m2-8v8m1-8v8m1-8v8m1-8v8m1-8v8m1-8v8m155-203v3m0 8v6m0 9v3m0 125v11m1-165v3m0 11v3m0 137v11m1-148v3m0 134v11m1-154v3m0 151v10m2-164v3m0 6v3m0 131v11m1-11v11m1-11v11m1-11v11m1-82v3m0 68v11m1-103v3m2-51v3m0 63v3m2-15v3m0 9v3m0 6v3m0 41v11m1-16v5m2-122v6m0 6v3m0 45v3m0 3v3m0 18v3m0 32v11m1-118v3m0 15v3m0 9v3m1 69v5m1-119v3m0 3v9m0 99v5m1-92v3m0 15v3m0 39v3m1-93v3m0 6v6m0 15v3m0 42v3m1-75v3m0 21v6m0 6v3m0 48v3m1-42v3m0 63v5m1-59v3m1-42v3m0 21v3m0 3v3m0 3v3m0 3v3m0 6v3m0 3v3m0 33v5m1-50v3m1-69v3m0 6v3m0 6v3m0 30v3m0 3v12m0 15v3m1-90v3m0 12v3m0 3v3m0 9v3m0 39v3m1-125v12m0 80v3m3-51v3m0 6v9m0 3v3m0 39v9m1-66v3m0 12v3m0 24v12m0 18v3m2-72v3m0 33v3m0 9v9m0 12v3m1-128v3m0 3v3m1 47v3m0 3v3m0 3v3m0 27v3m0 6v3m0 3v3m0 3v3m0 3v3m1-72v3m0 3v12m0 24v3m0 30v3m1-137v3m0 104v3m1-101v3m0 12v3m0 15v2m0 27v3m0 6v3m0 3v3m0 6v3m0 3v3m0 30v3m0 3v3m3-48v3m1 36v6m3-30v3m0 6v3m0 3v6m0 36v5m1-166v9m0 41v6m0 21v3m0 6v15m1-45v6m0 6v3m0 3v3m0 18v6m0 6v3m0 12v3m1-3v6m0 3v3m2-122v3m0 21v2m0 69v3m1 56v11m1-127v3m0 78v3m1-33v3m0 6v3m5 48v5m2-104v6m0 12v3m0 6v3m0 18v3m0 12v3m1-101v3m0 71v3m1-92v3m0 146v5m1-154v3m0 116v3m1 27v5m5-145v9m2-24v3m0 38v3m0 9v3m0 45v3m0 6v3m0 6v3m0 3v3m0 43v10m1-184v15m1-12v9m0 3v3m0 35v3m0 21v6m0 21v3m1-86v3m0 3v3m0 14v3m0 3v3m0 6v3m0 3v3m0 15v3m0 6v3m0 3v6m0 3v3m0 21v3m1-125v3m0 110v3m2-110v3m0 9v3m0 128v5m1-130v2m0 27v3m0 9v3m0 9v3m0 33v3m0 33v5m1-107v6m0 48v12m0 3v9m0 24v5m2-172v3m0 3v6m0 24v3m0 14v3m0 3v3m0 21v3m0 45v3m1-63v3m1-38v6m0 23v3m0 15v6m0 6v3m0 21v3m1-72v3m0 6v3m0 105v5m1-122v3m0 3v9m0 57v3m0 6v6m1-51v6m0 15v3m3-107v9m1 104v6m0 3v3m0 3v3m1-48v3m1-39v6m0 6v3m0 6v3m0 9v3m0 81v5m1-89v3m0 48v3m1-12v6m0 6v3m1-63v3m1-44v8m1 72v3m1-63v3m0 108v5m1-130v2m0 12v6m0 12v3m0 3v3m1-53v3m0 3v3m0 3v2m0 15v3m0 3v3m0 9v3m1-18v6m0 57v3m0 9v3m1-113v3m0 6v3m0 3v2m1 12v3m0 6v3m2-65v3m0 62v3m0 69v3m0 24v5m2-101v3m0 3v3m0 92v11m1-168v6m0 3v9m0 6v3m1-36v12m0 65v3m0 9v3m0 6v6m2 73v10m2-151v2m0 12v3m0 12v3m0 3v3m0 3v3m2-33v6m0 21v3m0 3v3m0 48v6m0 40v10m1-143v3m0 12v3m0 27v12m0 24v3m0 3v3m0 43v10m1-184v3m0 6v3m0 12v3m0 35v3m0 24v15m0 6v3m0 3v6m0 73v10m1-164v3m0 9v3m0 9v3m0 3v3m1-74v6m0 3v3m0 35v3m2-17v2m1-5v3m0 29v3m1-41v3m0 3v5m0 12v3m0 15v3m0 18v3m0 24v3m1-89v3m0 3v2m1-47v3m2 59v3m0 18v6m0 3v3m0 18v6m0 3v12m1-95v3m0 11v6m0 6v3m0 33v3m0 9v3m1-104v3m0 50v12m0 30v3m0 3v3m0 6v3m0 6v3m1-63v3m1-68v6m0 3v3m0 62v3m0 9v6m0 33v3m0 6v3m1-30v3m0 24v3m1-131v3m3 44v6m0 48v3m0 12v3m2-134v3m0 12v3m0 6v3m0 3v6m1 163v11m1-11v11m2-11v11m2-11v11m1-11v11m1-11v11m1-11v11m2-11v11m1-11v11m5-11v11m1-192v3m1 178v11m2-198v6m0 181v11m5-11v11m5-11v11m4-11v11m2-11v11m1-11v11m1-11v11m1-255v3m0 241v11m2-11v11m4-11v11m1-258v3m0 3v3m1 238v11m6-249v3m0 6v3m0 226v11m1-261v3m0 247v11m1-264v3m0 6v3m0 241v11m1-11v11m3-243v3m1-9v3m2-21v6m0 3v3m0 9v6m1 229v11m2-243v6m1-27v6m0 6v3m0 6v3m0 229v11m1-246v3m1 3v3m0 226v11m2-240v3m3-36v3m0 30v6m1 223v11m1-267v3m0 253v11m1-11v11m1-264v9m1 244v11m1-11v11m1-267v3m0 253v11m1-11v11m1-261v3m1 247v11m1-264v3m0 15v6m0 229v11m1-11v11m2-11v11m3-11v11m1-261v6m0 9v3m0 232v11m8-11v11m1-11v11m1-11v11m3-11v11m3-11v11m3-11v11m1-11v11m2-267v3m0 3v3m0 247v11m1-11v11m2-11v11m1-11v11m1-11v11m2-11v11m1-11v11m2-11v11m1-11v11m2-11v11m2-21v10m5 0v11m4-11v11m7-21v10m1 0v11m2-21v10m1-10v10m1-376v3m0 373v11m3-11v11m1-11v11m1-11v11m3-11v11m3-11v11m3-21v10m3 0v11m6-11v11m4-11v11m2-21v10m5 0v11m1-11v11m3-11v11m6-11v11m1-11v11m2-402v3m1 388v11m3-405v3m0 381v10m1-400v3m0 397v11m1-408v3m3 0v3m1 381v10m3 0v11m1-11v11m3-11v11m3-11v11m3-21v10m2-10v10m1-10v10m1-10v10m4-10v10m3-10v10m1 0v11m5-21v10m3-244v3m0 231v10m1-253v3m0 6v6m0 228v10m1-244v3m1 231v10m2-256v3m1 12v3m2-18v3m1-3v3m0 243v10m1-238v3m1-21v6m1-27v3m0 6v3m0 3v6m0 3v3m0 12v3m1-51v3m0 18v6m1 0v3m0 246v10m1-244v3m0 6v6m0 219v10m1-271v6m0 9v3m0 6v3m1 3v3m0 12v3m1-24v3m0 234v10m1-241v3m1-21v3m0 3v3m0 6v3m1 21v3m1 3v3m1 201v10m1-238v3m0 3v3m0 9v3m1 143v3m0 15v3m1-57v3m1-98v3m0 146v3m1-179v3m0 3v6m0 77v3m0 15v3m0 9v3m0 3v6m0 3v3m0 12v3m0 3v6m0 3v3m1-134v6m0 62v3m0 9v3m0 30v3m0 24v3m0 3v3m1-185v3m1 89v6m0 24v6m0 6v3m0 27v3m1-149v3m0 21v3m0 134v6m1-164v3m1-36v3m0 27v3m0 3v3m1 27v3m0 35v3m0 18v3m0 24v3m0 24v6m1-170v3m0 3v3m0 6v3m0 3v6m1-72v6m0 3v12m0 21v3m0 45v3m0 6v3m0 50v6m0 36v3m1-125v3m0 59v3m0 3v3m0 3v3m0 9v6m0 6v3m0 21v3m1-119v3m0 3v3m2 27v3m1-45v3m0 39v3m0 20v3m0 3v3m0 6v3m0 6v3m0 3v9m0 18v6m0 3v3m0 12v3m1-104v3m1-102v3m1 75v3m0 24v3m2-123v3m0 3v3m0 3v6m0 3v3m0 39v6m0 9v3m0 3v3m0 3v3m1 6v3m0 29v3m0 75v3m1-197v6m0 33v6m0 3v3m0 18v3m1 33v3m0 65v3m0 3v3m0 15v6m0 3v3m2-116v3m1 12v2m1-2v2m1-5v3m0 17v3m0 12v3m0 6v6m0 6v3m0 3v3m0 6v3m1-63v3m0 3v3m0 6v3m1 54v3m1-119v3m0 50v3m0 6v3m0 6v3m0 6v3m0 15v3m0 3v3m0 24v3m1-158v3m0 18v3m0 116v3m0 15v3m1-75v3m0 60v3m0 6v3m1-164v3m0 6v3m0 83v6m0 3v3m0 6v3m0 24v6m0 3v3m1-158v3m0 74v3m0 30v3m0 15v3m0 18v3m0 9v3m0 30v5m1-202v3m0 161v6m1-179v3m1-9v3m0 125v6m0 6v3m1-143v3m0 125v3m1-140v3m0 3v3m0 95v3m0 12v3m0 9v3m0 6v3m0 33v6m0 6v3m1-185v3m0 98v3m0 27v6m0 21v3m0 12v3m1-182v6m0 262v10m1-278v6m1-9v3m0 3v3m0 125v3m0 48v3m1-188v6m1 3v3m2 0v3m1-6v3m0 84v3m1-81v6m0 6v3m0 191v5m1-196v3m3 24v3m0 3v3m0 21v3m1-39v3m0 36v3m1-36v3m0 3v3m1-3v3m1-12v3m0 6v3m0 30v2m1-35v3m1 3v3m1-9v3m1-3v3m1-3v3m0 3v3m1-3v3"/><path stroke="#99ff00" stroke-width="1" d="M102.5 277v6m0 21v2m0 12v3m0 3v3m0 159v10m1-192v2m0 9v3m0 9v3m0 156v10m1-219v6m0 203v10m1-219v3m0 3v3m0 3v6m0 17v3m0 3v3m0 6v3m0 156v10m1-219v3m0 38v3m0 165v10m1-213v3m0 6v9m0 14v3m5 116v11m2 10v11m1-64v3m3-3v3m1-134v3m1-39v3m0 3v3m1-36v3m0 3v3m0 6v3m0 3v3m0 3v3m0 9v3m0 18v3m0 3v3m1-39v3m0 6v3m0 9v6m0 9v6m0 154v11m1-195v3m0 21v3m1 168v10m3-10v10m3-53v3m2 29v11m4-11v11m3-16v5m5-271v6m0 15v6m0 18v3m0 6v3m0 6v3m0 3v3m0 30v6m0 15v3m0 140v5m1-241v3m0 3v3m0 18v3m0 15v3m0 24v3m0 3v3m0 12v3m0 3v3m1-123v3m0 9v6m0 21v6m0 30v3m0 3v3m0 6v6m0 9v3m0 3v3m0 6v6m1-114v3m0 3v3m0 15v3m0 48v3m0 33v3m1-153v3m0 12v6m0 236v3m1-257v3m1 18v3m0 230v3m1-221v3m1-27v3m1 12v3m0 9v9m0 9v3m0 93v3m1-96v6m0 6v3m0 9v3m0 18v3m0 27v3m0 15v3m0 17v3m0 3v3m1-122v3m0 12v3m0 3v3m0 3v3m0 3v3m0 3v3m0 12v6m0 3v3m0 3v3m0 3v6m0 32v3m0 15v3m0 48v3m0 9v3m1-122v3m0 12v3m0 80v3m6-57v9m0 3v3m1-30v12m0 9v3m0 30v3m0 6v3m0 15v3m0 33v5m7 11v10m9-53v3m1 61v10m1 0v10m1-10v10m6-162v6m0 3v3m0 21v3m0 6v9m1-45v3m0 6v3m0 9v6m0 9v3m0 3v6m0 6v3m0 15v3m0 50v11m1-148v3m0 15v3m0 9v3m0 15v3m1-92v3m0 35v3m0 9v3m0 24v6m0 6v6m1-98v6m1-9v3m0 27v3m0 29v3m0 12v9m0 3v3m0 9v3m1-101v6m0 3v3m0 3v3m0 3v3m0 6v2m0 9v3m0 15v3m0 3v3m0 18v3m1-92v3m0 9v3m0 18v2m0 9v3m0 3v3m0 6v3m1-59v6m0 3v3m0 18v2m0 57v3m1-68v6m0 80v6m1-98v6m0 14v3m1-38v3m0 24v2m0 48v3m0 9v3m1-98v9m0 3v3m0 6v3m0 3v3m0 53v3m0 6v6m0 6v3m1-104v3m0 27v2m0 30v3m0 18v6m0 113v10m1-206v3m0 9v3m0 9v2m0 170v10m1-215v6m0 12v17m0 12v3m0 24v3m0 27v3m0 9v3m1-119v3m0 18v9m0 80v3m1-104v3m0 9v3m0 6v5m0 15v3m0 21v6m0 12v6m0 3v3m0 101v10m1-194v9m0 59v3m0 12v3m0 3v3m0 92v10m1-212v3m0 15v3m0 6v3m0 8v3m0 3v3m0 21v3m1-77v3m0 27v3m0 3v2m0 9v3m0 42v3m0 6v6m0 6v3m1-116v3m0 21v9m0 62v3m0 6v3m0 15v3m0 83v10m1-218v3m0 24v3m0 50v3m0 18v6m1-101v3m0 9v3m0 12v5m0 18v3m0 33v3m0 3v6m0 6v3m1-110v3m0 74v9m0 9v3m0 3v6m0 98v10m1-218v3m0 21v3m0 3v6m0 62v3m0 6v3m0 12v3m0 9v3m1-101v2m0 6v3m0 45v3m1-68v6m0 3v2m0 72v6m1-116v9m0 15v3m0 9v2m0 57v3m0 6v3m0 9v3m1-119v3m0 30v3m0 65v9m0 3v3m1-86v6m0 71v3m0 3v3m1-92v3m0 6v5m0 6v3m0 57v3m0 6v3m1-116v6m0 18v3m0 80v3m0 3v3m1-86v3m0 50v3m0 3v3m0 6v3m0 6v3m1-80v3m0 77v9m0 15v3m1-134v3m0 3v3m0 12v6m0 6v2m0 66v3m0 3v3m0 3v3m1-92v9m0 8v6m0 6v3m0 9v3m0 18v6m0 9v3m1-77v3m0 47v3m0 15v3m1-77v3m0 6v5m0 51v3m0 15v3m1-86v14m0 63v3m1-104v3m0 30v3m0 74v3m1-113v3m0 24v3m1-30v3m0 24v3m0 3v3m0 65v3m0 15v3m1-122v3m0 21v6m0 14v3m0 21v3m0 30v3m0 6v6m1-116v3m0 3v3m0 3v3m0 9v3m0 23v3m0 6v3m0 18v9m1-89v9m0 27v2m0 63v3m0 6v6m1-113v3m0 15v9m0 3v3m0 83v3m1-63v3m0 24v3m0 12v3m0 9v3m1-45v3m0 27v3m1-80v3m0 9v2m0 42v3m0 9v3m0 9v6m1-107v3m0 68v3m0 3v6m0 3v3m0 9v3m1-104v9m0 24v3m0 8v3m0 60v3m0 3v3m1-98v3m0 3v3m0 29v3m0 51v3m0 3v3m1-101v9m0 3v3m0 20v3m0 48v6m0 6v3m1-101v3m0 3v3m0 17v6m0 54v9m1-110v3m0 30v2m0 15v3m0 6v6m0 6v3m0 12v3m0 6v6m0 9v3m1-113v3m0 15v3m0 6v8m0 54v3m0 3v6m1-101v3m0 15v3m0 77v3m0 3v6m1-77v2m0 6v3m0 3v3m0 3v3m0 24v6m0 18v3m0 9v3m1-104v6m0 3v3m0 6v2m0 60v3m0 15v3m1-116v3m0 6v3m0 6v3m0 12v2m0 15v3m0 24v3m0 3v3m1-83v3m0 9v3m0 12v3m0 8v6m0 18v6m0 3v3m0 3v3m0 9v3m0 3v3m1-101v6m0 6v9m0 26v3m0 42v3m0 3v12m0 105v10m1-225v9m0 6v3m0 9v3m0 20v6m0 3v6m0 3v3m0 9v3m0 3v3m0 3v3m0 3v3m0 6v3m1-110v3m0 3v3m0 21v3m0 11v3m0 3v3m0 6v3m0 3v3m0 18v3m0 3v3m1-83v3m0 3v3m0 12v2m0 6v6m0 60v3m1-110v6m0 41v3m0 3v3m0 21v3m0 21v3m0 12v3m0 12v3m1-134v3m0 3v6m0 35v3m0 42v3m0 3v3m0 9v3m1-110v3m0 9v3m0 12v3m0 8v3m0 3v6m0 3v6m0 21v3m0 12v3m1-101v3m0 15v6m0 29v6m0 12v3m0 18v6m1-51v3m0 6v3m0 3v12m0 6v3m0 12v3m0 3v3m1-92v6m0 3v3m0 6v5m0 6v3m0 6v3m0 6v3m0 15v9m0 15v3m1-104v9m0 9v3m0 3v3m0 32v3m0 15v3m1-68v3m0 18v2m0 15v6m1-41v6m0 12v2m0 21v6m0 18v3m0 24v3m0 105v10m1-222v9m0 3v6m0 194v10m1-219v3m0 9v3m0 23v3m0 15v3m0 150v10m1-192v2m0 27v3m0 6v3m0 24v3m0 114v10m1-222v3m0 3v6m0 15v3m0 47v3m0 132v10m1-195v5m0 18v3m0 15v3m0 141v10m1-195v5m0 60v3m1-95v3m0 3v6m0 32v6m0 3v3m0 21v3m0 132v10m1-175v3m1-41v3m0 32v3m0 3v3m0 27v3m0 3v3m0 133v8m1-200v2m0 6v3m0 3v9m0 9v3m0 157v8m1-203v5m1-17v3m0 12v2m3-5v3m0 14v3m0 18v3m2-44v8m0 6v3m1-14v5m2-5v5m163 160v10m1-10v10m1-10v10m1-161v3m1 148v10m1-10v10m1-10v10m1-10v10m1-10v10m1-86v3m0 73v10m3-83v3m0 6v3m2-45v3m0 9v6m0 6v3m2 47v11m1-91v3m1-6v3m3-33v3m0 21v3m1-33v3m0 30v3m0 78v5m1-89v6m3 6v3m0 9v3m0 18v3m2-81v6m0 3v3m0 9v3m0 3v3m0 21v3m0 6v3m0 12v3m0 3v9m0 32v11m1-91v3m1-74v3m0 29v3m0 6v3m0 15v3m0 6v3m0 9v3m0 3v3m0 18v3m2-33v3m1-48v3m0 21v3m0 12v3m0 3v6m0 3v6m1-60v3m0 6v6m0 6v3m0 3v3m0 33v3m0 18v3m1-72v3m1-15v3m0 15v3m0 3v3m0 9v3m0 6v6m1-92v3m1 38v3m0 15v3m0 6v3m0 9v3m0 9v3m0 3v3m0 15v6m1 0v3m1-137v6m1 3v6m0 12v3m0 6v3m0 32v3m0 12v3m0 6v3m0 3v6m2-60v3m3-29v3m0 3v3m2 35v6m0 12v3m0 3v3m0 6v3m0 12v3m0 12v6m0 3v3m1-78v3m0 9v6m0 6v3m1-56v3m0 128v5m1-32v3m2-36v6m0 9v6m2-66v3m1-9v3m0 6v3m0 3v3m0 3v3m0 6v3m0 12v3m0 63v5m3-5v5m1-122v3m0 130v10m2-10v21m1-145v3m0 15v3m0 3v3m1-15v3m0 6v3m0 9v3m0 3v6m0 6v3m0 59v11m1-147v3m4 50v3m1 80v11m1-97v3m1-50v3m0 98v3m2-9v3m0 56v11m1-180v6m0 142v11m1-162v3m0 3v6m0 32v3m0 6v3m0 48v3m0 44v11m1-127v3m0 66v3m0 9v3m0 27v5m4-145v3m0 9v3m0 17v6m1-12v3m0 60v3m1 48v5m1-157v3m0 3v3m0 32v3m0 81v3m0 24v5m2-113v3m0 15v3m0 18v6m0 6v3m0 9v3m0 3v9m1-75v6m0 3v6m0 18v3m1-45v3m0 36v3m0 21v3m1-27v3m0 6v3m1 68v11m2-186v3m0 21v3m0 26v3m0 3v3m0 3v3m0 12v3m0 6v6m0 3v3m0 12v3m0 9v6m0 9v3m1-84v3m1 15v3m1-12v3m0 6v3m0 12v3m1 21v3m1-30v3m0 3v3m0 24v6m0 42v5m3-5v5m2-139v3m0 14v6m0 6v6m0 3v3m1-6v3m1-18v3m0 57v3m0 6v3m0 3v3m1-113v3m0 12v3m1 131v5m1-83v6m0 3v3m0 6v3m0 6v6m0 45v5m1-172v3m0 62v3m0 3v3m2-9v3m0 115v10m1-172v3m0 9v6m0 3v2m1 42v3m0 9v3m0 12v9m0 12v3m0 35v11m2 10v11m1 0v10m1-149v3m0 63v3m0 70v10m1-152v3m0 139v10m1-155v9m1-15v3m0 3v6m0 24v3m0 33v3m0 12v3m0 61v10m1-190v3m0 29v3m0 9v3m0 6v6m0 30v6m0 15v3m1-84v3m1-26v6m0 147v10m0 11v10m1-31v10m1-10v10m1-143v6m0 9v3m0 42v3m0 91v10m1-178v3m0 11v3m0 9v3m0 3v6m0 9v3m2-86v3m0 3v3m2 56v9m0 12v3m0 3v3m0 9v3m0 30v3m1-116v3m0 15v2m1-47v3m0 3v6m0 9v3m0 101v3m2-86v3m1 98v3m1-101v2m2 18v3m0 30v6m0 39v3m1-93v3m0 12v3m0 21v3m0 6v3m0 6v3m0 6v6m0 12v3m1 56v11m1-183v3m0 12v6m0 151v11m3-11v11m7-192v3m5 178v11m5-11v11m2-11v11m1-11v11m1-11v11m4 0v10m2-21v11m2-11v11m3 0v10m1-21v11m5-11v11m2-11v11m1-11v11m1-11v11m3-258v3m1 244v11m1-11v11m1-11v11m1-11v11m1-11v11m1-267v9m0 3v3m2-15v3m0 3v3m0 12v3m2 232v11m1-11v11m1-264v3m1 0v3m0 247v11m1-11v11m1-261v3m0 6v3m0 238v11m2-11v11m1-11v11m3-270v3m1 256v11m1-11v11m1-11v11m1-11v11m1-270v3m0 256v11m4-11v11m3-261v3m0 12v3m2 232v11m2-267v3m0 6v6m0 3v3m2 235v11m2-11v11m1-11v11m2-255v9m2 235v11m1-11v11m1-11v11m1-11v11m7-11v11m5-11v11m4-11v11m3-11v11m4-11v11m8-11v11m4-11v11m1-11v11m4-11v11m3-11v11m2-11v11m1-384v3m0 370v11m14-11v11m2-11v11m1-11v11m2-11v11m1-11v11m3-11v11m1 0v10m1-21v11m4-11v11m3-11v11m3-11v11m1-11v11m1-11v11m1-11v11m1-11v11m1-11v11m1 0v10m2-21v11m1-11v11m2-11v11m2-21v10m1-10v10m4 0v11m1-405v3m3-6v3m1-3v3m1-3v3m1 0v3m0 391v21m1-21v11m2-11v11m1-11v11m1-21v10m10 0v11m1-11v11m4-11v11m6-21v10m2 0v11m2-11v11m1-11v11m2-11v11m2-11v11m3-258v3m1-9v3m1 9v3m1 228v10m1-241v3m1-18v3m1 253v11m2-252v3m2-3v3m1-42v3m0 42v3m0 232v11m1-279v3m0 12v6m0 12v3m1-6v6m2 3v3m1-33v3m1 6v3m1 21v3m0 213v10m1-241v3m0 228v10m1-238v6m0 3v3m0 216v10m1-229v3m2 3v3m1 0v3m0 110v3m0 33v3m0 9v3m1-155v3m0 110v3m0 69v5m1-190v6m0 3v3m1-15v3m0 71v3m0 21v3m0 3v3m0 6v3m0 3v3m0 36v6m1-170v6m0 3v3m0 65v6m0 9v6m0 21v3m0 3v3m0 3v3m0 3v3m0 15v3m1-179v3m0 9v3m0 12v3m1 0v3m0 3v3m0 6v3m0 101v3m0 27v3m2-140v3m0 6v6m1-42v3m0 15v6m0 68v3m0 3v12m0 12v3m1-104v6m0 6v3m0 50v3m0 18v3m0 9v3m0 6v3m0 39v3m1-149v3m0 9v3m0 6v3m1-78v3m0 21v3m0 3v6m0 12v3m0 68v3m0 6v3m0 12v3m0 48v9m1-146v6m0 15v3m0 86v3m0 21v3m0 3v3m0 3v3m1-146v3m0 21v3m1-21v3m0 18v3m1-18v3m1 0v3m0 41v3m0 15v3m0 18v3m0 18v3m0 18v3m1-113v3m1-87v3m0 90v3m1-18v3m1-12v9m0 21v2m1-107v3m0 3v3m0 60v3m1-9v9m0 12v3m0 3v6m0 9v2m0 27v3m0 18v3m0 6v3m0 18v6m0 3v3m1-164v3m0 24v3m0 9v3m0 3v3m1 38v3m0 9v3m0 30v3m0 12v3m1-86v3m1-3v6m0 3v2m1-11v3m2 17v3m0 6v3m0 15v3m0 15v3m0 15v6m0 6v3m1-89v2m0 30v3m1-27v3m0 30v6m1-74v3m0 56v3m0 12v3m0 42v3m0 3v3m1-152v3m0 122v3m0 53v11m0 31v10m1-165v3m0 18v3m0 3v3m0 33v3m1-143v6m0 68v3m0 3v3m1-89v3m0 6v3m0 65v3m0 3v3m0 3v3m0 21v3m0 33v3m1-161v3m0 9v3m0 71v3m1-89v6m0 77v3m3-104v3m0 6v3m0 107v3m0 9v3m0 30v6m1-170v3m0 215v5m0 21v11m1-11v11m1-252v3m0 217v11m1-109v3m0 90v5m1-223v3m2-3v3m0 3v3m0 209v5m1-220v3m0 6v3m0 78v2m1-86v3m0 75v3m0 3v2m1-77v3m0 6v3m0 12v3m1-15v6m2 33v3m0 18v3m1-24v3m1-12v3m0 30v2m1-11v3m0 6v2m1-41v3m1 12v3m1 12v3m1-27v3m0 30v2m2-29v6m0 12v3m1-3v3m0 6v2m1-35v3m0 21v3"/><path stroke="#bfff00" stroke-width="1" d="M102.5 289v3m0 3v9m0 8v3m1-29v6m0 26v3m1-38v9m0 3v3m0 3v3m0 8v6m0 3v3m0 3v3m1-44v3m0 9v6m0 11v3m0 6v3m1-44v15m0 3v3m1 182v10m1-10v10m1-10v10m1-10v10m1-10v10m1-20v10m1-41v10m1-21v11m3-16v5m4-208v3m0 9v6m0 12v3m0 3v6m0 3v3m1-24v3m0 12v6m1 174v10m2-10v10m4-53v3m13-3v3m2-209v3m0 15v3m0 3v6m0 15v15m0 15v3m0 15v3m1-108v6m0 6v3m0 9v3m0 6v3m0 6v3m0 3v6m0 3v12m0 3v3m0 21v3m0 119v3m0 29v11m1-264v3m0 12v3m0 3v3m0 15v6m0 9v3m0 12v3m0 18v3m0 6v3m0 146v5m1-256v3m0 42v9m0 9v3m0 42v3m0 3v3m0 3v3m1-135v3m1-18v6m1 15v3m0 3v3m1 0v3m0 117v5m1-143v3m0 3v6m0 6v3m1-3v3m0 54v3m0 6v3m0 39v3m1-57v6m0 6v3m0 12v3m0 3v6m0 3v3m0 9v3m0 3v6m0 41v3m0 3v3m0 83v11m1-246v3m0 48v6m0 12v3m0 9v3m0 6v3m0 20v6m0 9v3m0 6v3m0 9v3m0 18v3m0 15v3m0 3v3m4 6v3m1-93v3m1-3v6m0 3v6m0 6v3m1 18v3m1 6v3m0 3v3m0 9v3m10 50v11m4 0v10m2 11v10m6-31v10m1 0v11m1-21v10m1-140v9m0 6v3m0 3v6m0 3v3m0 6v3m0 98v11m1-154v9m0 12v6m0 6v3m0 15v3m0 3v3m1-33v6m0 12v3m0 3v3m0 79v10m0 11v10m1-196v9m0 12v5m0 6v3m0 6v3m0 15v6m0 15v6m0 100v10m1-196v6m0 15v5m0 39v3m0 3v6m0 119v10m1-209v6m0 21v2m0 6v12m0 3v6m0 3v3m0 3v3m0 30v3m0 98v10m1-206v3m0 29v3m0 6v3m0 30v6m0 3v3m0 12v3m0 6v3m0 86v10m1-212v6m0 6v6m0 44v3m0 9v3m0 3v6m0 116v10m1-206v3m0 29v3m0 3v3m0 27v6m0 6v3m0 3v3m0 107v10m1-215v3m0 9v3m0 32v3m0 51v3m0 27v3m0 71v10m1-215v6m0 12v3m0 9v3m0 20v3m0 6v3m0 6v3m0 15v3m0 113v10m1-215v6m0 6v6m0 32v3m0 9v3m0 3v3m0 134v10m1-200v6m0 12v2m0 15v3m0 27v3m0 18v3m0 6v3m0 92v10m1-206v3m0 3v6m0 20v6m0 21v3m0 21v3m0 3v3m0 9v3m1-110v3m0 6v3m0 15v3m0 8v3m0 3v3m0 6v3m0 33v6m0 15v3m0 15v3m1-137v3m0 41v3m0 12v3m0 24v6m0 6v3m0 12v3m0 92v10m1-212v6m0 3v9m0 12v2m0 51v9m0 3v3m0 104v10m1-212v6m0 6v3m0 23v9m0 12v3m0 6v3m0 9v3m0 3v3m1-77v6m0 20v3m0 6v3m0 39v9m1-101v3m0 3v3m0 6v3m0 41v3m0 33v3m0 6v3m1-89v6m0 6v3m0 32v3m0 6v3m0 6v3m1-56v5m0 45v3m0 21v3m1-77v3m0 17v3m0 6v3m0 18v3m0 3v12m0 9v3m0 3v3m1-116v3m0 15v6m0 17v3m0 6v3m0 48v3m1-101v3m0 9v3m0 3v3m0 6v5m0 27v3m0 21v3m1-89v6m0 27v2m0 63v6m1-107v6m0 18v6m0 23v3m0 45v3m1-101v6m0 15v3m0 35v3m0 36v3m0 3v3m1-101v6m0 32v3m0 27v3m0 18v6m0 3v3m1-104v3m0 18v3m0 6v2m0 15v3m0 36v6m0 21v3m1-119v3m0 15v6m0 9v2m0 54v3m0 3v6m1-83v3m0 23v3m0 36v3m0 3v3m0 3v3m0 6v3m1-89v3m0 9v3m0 35v3m0 3v3m0 12v3m0 9v3m1-86v6m0 17v3m0 9v3m0 6v3m0 3v3m0 21v3m1-95v6m0 27v2m0 60v12m0 9v3m2-122v3m0 18v6m0 9v2m0 12v3m0 12v3m0 3v3m0 12v3m0 27v3m1-119v3m0 18v3m0 9v3m0 56v6m0 3v3m0 3v3m1-110v6m0 15v3m0 77v3m0 114v10m1-228v3m0 47v3m0 3v3m0 39v3m0 117v10m1-225v3m0 30v2m0 60v3m0 3v3m0 6v3m0 6v3m1-122v3m0 15v3m0 6v8m0 6v3m0 54v3m0 6v3m0 3v3m1-116v3m0 30v2m0 6v3m0 51v3m0 6v3m1-92v6m0 9v3m0 11v6m0 12v3m0 24v6m0 6v3m1-86v3m0 23v3m0 15v6m0 18v3m1-21v3m0 33v3m1-95v3m0 77v3m0 12v3m1-110v3m0 18v3m0 9v2m0 9v6m0 12v3m0 15v3m0 12v3m0 9v3m1-104v6m0 6v3m0 32v3m0 39v3m0 9v3m1-110v6m0 12v3m0 20v6m0 3v6m0 3v3m0 18v3m1-62v3m0 9v2m0 9v12m0 33v6m0 6v3m1-98v3m0 9v3m0 12v2m0 60v9m1-101v6m0 3v3m0 18v2m1-5v5m0 9v3m0 9v3m0 9v3m0 15v3m1-86v3m0 6v3m0 12v3m0 44v3m0 6v3m0 6v3m1-92v3m0 15v3m0 6v3m0 11v3m0 6v3m0 12v3m0 3v6m0 9v3m0 9v3m0 3v3m0 105v10m1-222v3m0 15v3m0 83v3m0 6v3m0 96v10m1-216v6m0 68v9m0 18v6m1-110v3m0 3v9m0 9v3m0 11v3m0 12v3m0 3v3m0 9v3m0 15v3m1-98v15m0 26v3m0 6v3m0 9v3m0 3v3m0 3v3m0 24v3m1-101v3m0 35v3m0 9v3m0 12v3m0 9v3m0 6v3m0 9v6m1-95v3m0 32v3m0 3v3m0 3v3m0 39v6m0 108v10m1-216v3m0 21v2m0 48v3m0 3v3m1-80v3m0 41v3m0 18v3m0 3v3m0 129v10m1-216v6m0 3v3m0 47v6m0 3v6m0 132v10m1-216v3m0 44v3m0 6v6m0 6v3m0 9v3m0 6v6m0 9v3m0 15v3m0 81v10m1-219v6m0 3v3m0 12v3m0 26v3m0 18v3m0 15v3m0 3v3m1-92v6m0 9v5m0 36v3m0 12v3m0 6v3m0 3v3m0 111v10m1-219v6m0 21v2m0 27v3m0 12v3m0 135v10m1-222v6m0 6v3m0 9v3m0 11v3m0 3v3m0 12v3m0 9v9m0 18v3m0 111v10m1-213v6m0 56v3m0 15v3m0 120v10m1-222v6m0 18v3m0 32v3m0 3v6m0 30v3m1-95v6m0 12v5m0 180v10m1-216v3m0 3v3m0 197v10m1-172v3m0 18v3m1-44v2m0 24v3m1-53v9m0 3v3m0 3v8m0 15v3m0 39v3m1-36v3m3-6v3m0 6v3m1-53v3m0 15v2m0 30v3m1-35v2m1 27v6m0 6v3m0 9v3m0 3v3m0 6v3m0 9v3m1-60v3m0 15v3m0 3v3m0 48v3m1-78v3m5-29v3m1 71v3m2-77v3m165 8v3m11 81v6m1-72v3m0 101v11m1-97v3m0 6v3m0 3v3m0 79v10m3-116v3m0 9v3m0 48v3m0 40v10m1-107v3m0 94v10m2-21v11m1-97v3m1 3v3m1 42v3m3-39v3m1 68v11m1-121v3m0 3v3m0 9v3m0 6v3m0 36v3m1-54v3m0 36v3m1-80v3m0 8v3m0 3v6m0 6v9m0 39v3m2-69v6m0 12v3m0 3v3m1 3v3m0 21v3m0 27v6m1-72v3m0 6v3m0 33v3m0 9v3m2-60v3m0 6v3m0 9v3m0 27v3m1-101v3m0 3v3m0 62v3m1-45v6m0 6v3m0 12v6m2-68v3m1 3v3m0 3v3m0 3v3m0 14v6m0 3v3m0 3v3m0 9v3m0 39v3m0 9v3m0 3v3m2-81v3m0 42v3m0 6v3m1-51v3m0 45v3m0 24v3m4-81v3m0 18v3m0 12v3m0 3v6m0 3v3m0 21v3m0 32v11m1-165v12m0 3v3m0 17v3m0 6v3m0 3v6m1-6v6m0 42v3m0 3v3m2 47v11m1-67v3m1-63v3m2 3v3m0 18v3m0 6v6m0 6v3m0 24v3m1 33v5m6-122v6m0 6v6m0 12v3m0 39v3m0 9v9m0 29v11m1-115v3m0 18v3m0 3v3m0 6v3m2 60v5m3-80v3m0 12v3m2-45v3m0 12v3m0 6v3m0 75v5m1 0v11m1-11v11m1-168v3m0 6v3m0 3v3m0 3v3m0 3v2m0 6v3m0 119v11m1-153v6m1-3v3m0 3v3m0 14v6m0 6v3m0 6v3m0 3v3m0 9v3m0 21v3m0 15v3m1-78v3m0 63v3m2-81v3m2 12v3m1-6v3m2-47v3m2 47v3m0 3v3m0 3v3m0 6v6m0 9v3m0 9v3m0 53v11m1-106v6m0 15v3m0 9v3m0 59v11m1-16v16m1-106v6m0 15v3m0 3v3m2 65v11m1-171v3m0 38v3m0 3v3m0 6v3m0 3v3m0 21v3m0 15v3m0 9v9m0 3v3m1-90v3m0 24v3m0 6v3m0 3v3m0 3v6m0 6v3m1-57v6m0 18v3m0 3v3m0 3v3m0 9v3m0 24v3m1-81v6m0 15v6m0 3v3m0 21v3m0 3v6m0 6v3m2-18v3m2 51v5m1-95v3m0 21v3m2-36v3m0 96v5m1-110v3m2-26v3m2 38v6m0 24v3m0 12v3m1-122v9m2 47v3m0 128v11m2-183v9m0 6v3m0 26v3m0 9v3m0 57v6m1 40v10m2-10v10m1-143v3m0 15v3m0 15v3m0 94v10m0 21v10m2-174v3m0 18v3m0 3v3m0 124v10m1-107v18m0 9v3m0 77v10m1-185v3m0 11v3m0 27v6m0 6v3m0 85v21m1-11v11m0 10v10m1-218v3m0 12v6m0 166v11m1-11v21m1 0v10m1-162v3m0 3v3m0 3v3m0 106v10m1-134v3m0 121v21m2-201v3m0 3v3m2 62v6m0 15v6m0 6v3m0 6v3m2-104v3m0 18v3m0 35v3m2-62v6m0 3v6m0 6v3m0 41v3m0 57v3m1-21v3m3-36v3m0 21v3m1-63v3m0 18v6m0 21v3m0 18v3m8 79v10m1-10v10m3-10v10m3-21v11m16 0v10m4-10v10m1-10v10m22-259v3m2-12v3m2-12v3m0 18v3m0 232v11m6-267v3m0 18v3m1-15v3m2-12v3m0 9v3m0 3v3m0 3v3m2-30v3m0 21v6m3-27v3m0 15v3m0 3v3m2 240v10m3-271v3m2-6v3m4 0v3m0 6v3m25 249v10m19-21v11m1-11v11m1-11v11m10-11v11m3-11v11m1-11v11m2-11v11m4-11v11m1-11v11m2 0v10m2-21v11m4 0v10m1-10v10m3-21v11m1-11v11m4-11v11m1-11v11m1-11v21m3-21v11m2 0v10m9-10v10m5-21v11m3-11v11m4-11v11m1 0v10m1-21v11m1-11v11m1-11v11m1-402v3m3 388v11m3-11v11m1-11v11m1 0v10m2-10v10m1-21v11m1 0v10m1-21v11m1-11v11m4-11v11m1-11v11m1-11v11m2-11v11m2-11v11m2-11v11m6 0v10m1-21v11m3 0v10m2-21v11m1-261v3m0 247v11m1-11v11m2-252v3m1 238v21m1-21v11m1-252v3m0 249v10m1-262v3m0 238v11m1-264v3m0 6v3m1-12v3m0 9v3m0 238v11m1-258v3m0 244v11m1-282v3m0 27v3m1-36v6m0 12v3m0 15v3m0 235v11m1-258v6m0 241v11m2-255v3m0 9v3m0 229v11m1-258v6m0 9v6m1-3v3m2-12v3m0 12v3m1-12v3m1 229v11m2-225v3m1-12v3m0 3v3m1-9v3m0 6v3m0 190v11m1-210v3m1 0v3m0 9v3m0 74v3m0 45v3m0 6v3m0 3v3m0 3v3m0 30v26m1-137v3m0 21v3m0 33v6m1-167v3m0 15v6m0 12v6m0 170v5m1-193v3m0 9v3m0 110v3m0 3v9m0 9v3m1-152v3m0 3v3m0 15v3m1-18v3m0 9v3m0 53v6m0 18v3m0 3v6m1-113v3m0 18v3m0 53v3m0 21v3m0 3v3m0 3v3m0 3v3m0 36v6m1-146v3m0 9v3m0 68v6m0 81v5m1-184v3m0 6v6m1-21v3m0 24v3m0 38v3m0 6v3m1-44v3m0 59v3m0 6v9m0 9v3m0 3v9m0 9v3m1-131v6m1 9v6m1-18v3m0 6v6m1-12v3m0 68v3m0 9v3m0 3v3m0 6v3m1-101v3m0 3v3m1-6v6m0 15v3m1-3v3m1-12v3m0 9v6m1-120v3m0 102v3m0 12v2m1-20v3m0 32v3m0 15v3m0 3v3m0 18v3m0 3v3m0 3v3m1-128v3m0 27v3m0 3v3m0 3v3m1 0v3m0 14v3m0 27v15m0 6v3m0 12v9m0 9v3m1-104v6m1 62v3m3-65v2m0 45v3m0 30v3m1-72v3m0 6v3m0 3v6m0 45v3m1-89v3m0 6v2m0 12v3m0 30v6m0 3v9m0 9v3m1-98v3m0 38v3m0 6v3m0 39v9m1-137v3m0 12v3m0 201v10m1-158v3m0 24v3m0 97v10m0 11v20m1-233v3m0 104v3m0 66v5m1-116v3m2-95v3m0 200v5m1-211v3m0 3v3m0 3v3m0 191v5m2-101v3m0 9v3m0 45v3m0 33v5m1-214v6m1-12v3m1 0v3m1-6v3m0 3v6m1-12v3m1-6v3m0 3v3m1 3v3m1-15v3m0 12v3m1-3v6m1 18v3m0 3v3m0 9v6m0 3v3m0 21v3m5-24v3m0 12v3m0 3v3m2-9v3m1-33v3m0 27v3m1-21v3m1 0v3m1 12v3m0 6v2m1-2v2m2-26v3m0 21v2"/><path stroke="#e6ff00" stroke-width="1" d="M102.5 283v6m0 3v3m0 26v3m0 3v3m0 166v8m1-221v3m0 6v3m0 3v6m0 17v6m0 169v8m1-212v3m0 3v3m0 23v3m0 169v8m1-209v3m1 23v3m7 110v11m8-168v6m1 162v10m2 0v11m4-21v10m1-10v10m5-10v10m4-10v10m6-220v3m0 21v6m1-42v3m0 27v3m0 12v3m0 6v3m0 3v3m1-87v3m0 6v3m0 6v3m0 9v6m0 3v3m0 15v3m1-78v3m0 12v3m0 3v6m0 9v6m0 33v3m0 12v3m0 6v3m1-114v3m0 3v3m0 123v3m1-144v3m1 18v6m0 114v3m1-111v3m1-12v3m0 108v3m1-99v6m0 12v3m0 9v9m0 18v3m0 9v3m0 3v3m0 9v3m0 3v3m0 9v2m1-80v6m0 9v3m0 6v3m0 3v3m0 27v3m0 23v3m0 21v3m1-101v3m0 3v3m0 71v3m0 3v3m0 3v3m0 9v3m0 9v3m1-21v3m5-21v3m0 6v3m1-9v3m0 24v3m0 78v5m1-56v3m1 48v5m5-32v3m0 40v10m6-10v10m1-10v10m2-53v3m8 40v10m2 11v10m1-134v3m0 3v3m1-39v6m0 6v6m0 3v3m0 9v3m0 3v6m0 3v3m0 21v3m0 68v11m1-148v3m0 3v3m0 18v3m0 36v3m1-101v3m1-6v3m0 59v3m1-62v3m0 29v3m0 9v3m0 15v6m1-27v3m0 3v3m1-50v3m0 38v3m0 9v9m0 6v3m0 12v3m1-92v3m0 3v3m0 23v6m0 15v3m0 3v6m0 15v3m0 3v3m0 6v9m1-101v6m0 15v2m0 21v6m1-53v3m0 18v3m0 14v3m0 15v3m0 6v6m0 6v3m1-80v3m0 35v3m0 24v6m1-74v3m0 3v3m0 38v3m0 18v3m0 3v3m1-77v3m0 71v3m0 15v3m1-95v6m0 3v3m0 26v3m0 21v3m0 27v3m0 6v3m1-39v3m0 9v3m1-74v3m0 41v3m0 6v6m0 15v3m1-86v6m0 21v3m0 11v3m0 60v3m1-66v3m0 3v6m0 36v3m0 15v3m1-110v6m0 6v3m0 68v3m0 6v3m0 6v3m1-107v9m0 3v9m0 32v6m0 27v3m0 6v6m0 9v3m1-113v3m0 12v6m0 12v2m0 21v3m0 3v3m0 3v6m0 9v3m1-80v3m0 3v3m0 29v6m0 12v3m0 9v3m0 15v3m1-89v6m0 6v3m0 20v9m0 42v3m1-89v3m0 9v3m0 32v3m0 33v3m0 15v6m1-69v3m0 12v3m0 3v3m0 18v3m0 3v3m1-89v3m0 9v3m0 32v3m0 36v3m0 6v3m1-89v6m0 20v3m0 12v3m0 30v3m1-92v3m0 9v12m0 44v3m0 24v3m0 9v3m1-95v3m0 35v3m0 24v3m0 132v10m1-225v3m0 9v6m0 29v3m0 48v3m1-95v3m0 24v2m0 6v6m0 18v3m0 24v9m0 114v10m1-228v3m0 33v2m0 15v3m0 6v3m0 9v3m0 15v3m0 6v3m0 114v10m1-219v3m0 6v9m0 65v3m0 123v10m1-222v3m0 6v9m0 59v3m0 6v3m1-42v3m0 3v3m0 12v12m1-83v3m0 18v6m0 23v3m0 12v3m0 33v3m0 111v10m1-222v6m0 38v3m0 33v3m0 9v3m0 3v3m1-104v3m0 15v3m0 20v3m0 12v3m0 15v3m0 6v3m0 6v3m0 6v3m1-101v3m0 15v3m0 17v6m0 6v6m0 12v3m0 18v3m0 120v10m1-222v3m0 6v3m0 6v3m0 65v3m0 12v3m0 108v10m1-222v3m0 15v3m0 23v3m0 24v3m0 12v3m0 9v3m0 3v3m0 105v10m1-225v3m0 47v6m0 3v3m0 12v3m0 3v3m0 12v3m0 117v10m1-210v3m0 32v3m0 162v10m1-213v3m0 3v3m0 9v3m0 8v3m0 6v3m0 42v3m1-95v3m0 3v3m0 3v3m0 15v2m0 6v3m0 3v3m0 3v3m0 6v3m0 9v6m0 3v3m0 15v3m1-101v3m0 3v3m0 18v3m0 8v3m0 6v6m0 12v3m0 6v3m0 36v3m0 96v10m1-210v3m0 12v3m0 11v6m0 9v3m0 3v3m0 3v3m0 3v3m0 6v9m0 120v10m1-216v9m0 38v3m0 6v3m0 6v3m0 6v3m0 129v10m1-222v3m0 3v6m0 3v3m0 20v3m0 12v3m0 3v3m0 3v3m0 12v3m0 9v3m0 117v10m1-216v9m0 47v6m0 15v3m0 3v3m0 120v10m1-178v6m0 9v3m0 6v3m0 12v3m0 9v9m0 108v10m1-225v6m0 6v3m0 26v3m0 15v6m0 12v3m0 9v9m0 117v10m1-219v3m0 56v3m0 3v3m0 3v6m0 132v10m1-210v6m0 20v3m0 3v3m0 30v3m1-77v12m0 23v3m0 6v3m0 6v3m0 12v3m0 33v3m1-107v3m0 53v3m0 150v10m1-216v3m0 44v3m0 9v6m0 12v3m0 126v10m1-178v3m0 27v6m0 132v10m1-219v3m0 3v6m0 26v6m0 6v3m0 3v6m0 24v3m0 120v10m1-175v3m0 3v3m0 3v3m0 6v3m0 9v3m0 9v3m1-48v3m0 12v6m0 6v6m0 3v3m0 6v3m1-54v6m0 15v3m0 3v3m1-59v3m0 44v3m0 42v3m1-63v6m0 6v3m0 9v3m0 6v6m1-74v3m0 26v3m0 6v3m0 3v3m0 156v10m1-213v3m0 35v3m0 15v3m0 9v3m0 6v3m0 15v3m1-98v3m0 38v3m0 9v3m0 21v3m1-80v3m0 50v6m1-18v3m1-3v3m0 159v10m2-207v3m0 9v3m2 38v3m2-21v3m0 45v3m5-15v3m0 133v8m1-183v3m0 24v6m0 15v3m7-68v2m3-2v2m164 170v10m1-10v10m1-10v10m1-10v10m1-174v3m0 161v20m1-20v10m1-10v10m1-10v10m1-10v10m1-10v10m2-57v5m2-107v3m0 3v3m0 42v3m1-45v6m3 6v3m0 45v3m4-87v3m2 119v11m3-49v9m0 29v11m2-100v3m0 6v6m0 85v10m1-21v11m1-165v3m0 3v6m0 35v3m0 9v3m0 3v6m0 6v3m0 6v3m0 6v3m2-57v3m0 3v3m0 3v3m0 3v3m0 12v6m0 39v3m1-66v3m0 6v6m0 51v3m3-57v3m0 33v3m1-107v3m0 18v5m0 42v3m0 48v6m1-57v6m0 6v3m0 3v3m0 30v6m2-131v3m0 3v3m1 15v3m0 17v3m0 3v3m0 3v3m0 12v3m0 30v3m0 3v9m2-60v3m0 6v3m1-21v3m0 24v3m0 12v3m0 12v3m0 6v3m0 3v3m2-84v3m0 3v3m0 9v6m0 6v3m2-12v3m0 3v3m0 6v3m0 3v3m0 24v3m1-95v3m0 3v8m0 6v3m0 21v3m0 63v3m4 29v11m3-130v3m0 3v3m0 12v3m0 3v3m7 36v3m0 3v6m1-57v3m0 6v6m0 24v3m0 12v3m5-57v3m0 9v3m0 9v3m0 9v3m0 59v11m2-100v3m0 6v6m0 3v3m1 79v10m1 0v11m1-177v3m0 3v3m1 0v8m1-8v3m0 3v2m0 9v3m0 66v3m0 6v3m0 49v10m1-143v3m0 81v3m1 35v11m4-52v3m0 38v11m2-159v6m0 3v3m0 3v5m0 93v3m1 27v5m1-65v3m0 15v3m0 9v6m1-75v3m0 12v12m0 9v3m0 6v3m0 12v3m2-81v3m0 30v3m0 42v6m0 49v10m2-143v3m0 3v3m0 124v10m1-154v3m0 23v3m0 24v3m0 6v9m1-24v3m0 3v3m0 15v3m1-63v6m0 9v3m0 3v3m0 3v3m0 21v6m0 3v3m0 24v3m1-48v3m0 18v3m0 6v6m0 3v6m2-33v3m1 65v11m1-11v11m1-94v3m0 6v3m4-45v3m0 9v3m0 63v3m1-107v3m0 139v11m2-82v3m2 68v11m2-11v11m1-144v3m0 8v3m0 9v3m0 9v3m1 116v31m1-10v10m1-31v11m0 10v10m1-31v11m1-21v10m1-125v3m1 122v11m1-154v3m0 6v3m0 3v3m0 6v3m0 15v3m0 42v6m2-116v3m0 9v5m0 170v10m2-20v10m2-137v6m0 3v3m0 115v10m2-202v6m2 83v3m0 27v6m2-116v3m0 6v3m0 9v2m2-23v3m0 9v3m0 6v2m4 9v3m0 3v3m0 9v9m0 21v6m0 3v3m0 6v3m0 6v6m1-72v3m0 6v3m0 9v6m0 3v3m0 42v3m4 64v10m1-10v10m2-10v10m3-10v10m1-10v10m3-10v10m2-10v10m3-10v10m1-10v10m1-10v10m1-10v10m6-10v10m1-10v10m9-10v10m1-10v10m5-10v10m4-10v10m3-10v10m5-268v3m0 3v3m1 249v10m5-268v3m0 6v3m2 246v10m1-10v10m1-10v10m3-265v3m1 252v10m1-274v3m0 15v3m2-24v3m0 3v3m0 3v3m3 6v3m3 243v10m1-10v10m3-268v6m1 252v10m2-10v10m1-10v10m1-10v10m2-10v10m3-10v10m2-10v10m4-10v10m2-10v10m1-10v10m1-10v10m1-10v10m1-10v10m1-10v10m3-10v10m8-10v10m2-10v10m2-10v10m2-10v10m1-10v10m1-10v10m1-10v10m2-10v10m7-10v10m1-10v10m1-10v10m3-10v10m3-10v10m2-10v10m1-10v10m3-10v10m3-10v10m1-10v10m2-10v10m4-10v10m1-10v10m1-10v10m3-10v10m10-10v10m2-10v10m1-10v10m2-10v10m1-10v10m1-10v10m1-10v10m1-10v10m1-10v10m4-10v10m2-10v10m2-10v10m1-21v11m1-11v11m1 0v10m1-10v10m1-10v10m1-10v10m1-10v10m5-415v3m2 402v10m7-10v10m2-10v10m4-10v10m1-10v10m1-10v10m4-10v10m2-21v11m2-11v11m2-11v11m1 0v10m3-10v10m4-21v21m2-21v21m1-10v10m2-271v6m1-9v3m0 6v3m0 241v11m1-255v3m0 241v11m6-261v9m1-9v3m1-3v6m2 3v3m1-9v3m1 3v3m0 3v3m1-6v6m0 232v11m1-255v6m0 3v3m1 0v3m1-6v3m0 232v11m2-243v3m0 240v10m2-247v3m0 6v3m0 188v5m1-190v6m0 179v5m1-205v3m0 3v3m0 9v3m0 195v10m1-214v3m0 185v5m0 11v10m1-208v3m0 83v3m1-95v3m0 3v9m0 77v3m0 3v3m0 3v3m0 3v3m0 21v3m0 6v3m0 47v11m1-201v3m0 3v3m1-6v3m0 131v3m0 3v3m0 6v3m0 30v5m0 11v10m1-202v9m1 53v3m0 9v3m0 45v3m0 56v21m1-190v3m0 56v3m0 48v3m0 51v5m1-178v3m0 59v3m0 75v3m0 3v3m0 29v21m1-199v3m1-18v3m0 12v3m0 3v6m0 47v3m1-56v3m0 3v3m0 74v3m0 36v3m1-116v3m1-6v3m0 3v3m1 9v6m1-15v3m0 86v3m1-89v9m1 0v6m0 80v3m1-101v6m1 0v3m0 6v3m1-18v3m0 6v3m0 9v6m1 11v3m0 30v3m0 18v3m0 3v3m0 18v3m1-158v3m0 30v3m0 15v3m1 26v3m0 9v3m0 6v3m0 15v3m0 9v3m0 15v3m2-92v3m1-3v3m0 26v3m1 63v3m0 3v3m1-36v3m0 30v3m1-66v3m0 36v3m0 3v6m1-92v3m0 14v3m0 51v9m0 12v3m1-101v3m0 9v2m0 63v3m0 21v3m1-128v3m0 15v3m0 166v11m1-198v3m0 163v11m1-183v3m0 122v3m1-149v3m0 15v3m1-27v3m1-3v3m1-12v3m1-9v3m1-6v3m0 95v3m1-101v3m0 6v3m1 205v11m1-225v6m0 240v20m1-52v11m0 21v10m1-47v5m0 11v10m1-235v6m1 0v3m1 9v3m0 57v6m1-81v3m0 6v6m0 3v3m0 24v3m0 3v3m0 3v6m1-45v6m0 27v3m6 3v3m1-3v3m0 18v5m2-26v3m0 18v3m1-3v3m1-24v3m0 18v3m2-24v3m1 18v3"/><path stroke="#fffa00" stroke-width="1" d="M103.5 295v3m2 198v8m1-206v3m0 195v8m1-8v8m1-8v8m1-8v8m1-8v8m1-8v8m1-8v8m1-38v10m2-42v11m5 0v10m1-211v3m0 198v10m2-53v3m3 40v10m9-10v10m1-10v10m1-21v11m3-11v21m4-262v3m0 60v3m1 186v10m1-181v3m1-84v3m0 3v3m0 9v6m0 33v3m0 9v9m0 3v6m0 3v3m0 3v3m1-120v3m0 3v3m0 9v3m0 96v3m1-135v3m0 3v6m1 123v3m0 3v3m0 3v2m1-119v6m0 9v12m0 72v9m0 3v3m1-123v3m0 6v3m0 114v2m1-98v6m0 9v3m0 39v3m0 15v3m0 9v6m1-57v3m0 12v3m0 3v3m0 50v3m0 124v10m1-110v3m0 3v3m0 3v3m0 3v3m0 18v3m0 9v3m1-69v6m0 15v3m0 18v3m3-63v3m1 0v3m6 111v5m5 11v10m13 0v11m2 10v10m2-138v6m1-27v3m0 30v3m2-30v3m0 12v3m2-27v3m1-3v3m0 9v3m1-59v3m0 35v3m0 18v3m1-27v3m0 3v6m0 3v3m1-9v3m0 24v9m0 3v3m0 3v3m1-95v3m0 65v6m1-27v3m0 3v3m1-21v6m0 6v3m0 6v3m0 3v3m0 18v3m1-45v3m0 6v6m0 9v3m0 9v3m1 3v3m0 9v6m0 3v3m1-101v3m0 35v3m0 9v3m0 6v3m0 3v3m1-71v3m0 29v9m0 30v3m1-30v3m0 3v3m1-50v3m0 44v3m0 9v3m0 3v3m0 6v3m1-80v3m0 44v3m0 18v9m1-86v3m0 38v3m0 3v3m0 27v6m1-74v3m0 29v3m0 33v3m0 3v3m0 3v3m1-89v6m0 12v3m0 191v10m1-160v3m0 3v3m0 9v3m1-74v3m0 38v3m0 3v3m1-47v3m0 23v6m0 39v3m0 24v3m1-113v3m0 12v3m0 9v3m0 14v3m0 3v3m0 6v3m0 6v3m0 6v6m0 15v3m0 111v10m1-213v6m0 47v3m0 27v3m0 117v10m1-178v6m0 6v3m0 9v3m0 6v9m0 126v10m1-154v3m0 6v3m0 132v10m1-222v9m0 29v3m0 3v3m0 6v3m0 42v3m1-98v6m0 53v3m0 24v3m0 120v10m1-222v3m0 3v6m0 32v6m0 18v3m0 12v3m1-89v3m0 3v3m0 21v3m0 11v3m0 9v3m0 6v3m0 15v3m1-77v3m0 53v3m0 12v9m1-80v3m0 29v3m0 30v3m0 6v3m0 6v6m0 6v3m0 108v10m1-225v6m0 9v3m0 77v3m0 117v10m1-222v12m0 29v6m0 12v3m1-53v6m0 26v3m0 3v3m0 6v6m0 15v3m0 9v3m1-92v12m0 53v6m0 12v6m1-77v6m0 59v3m0 3v3m1-83v3m0 74v6m0 3v3m0 6v3m1-92v3m0 3v3m0 41v3m0 15v6m0 6v3m1-86v3m0 44v3m0 12v3m0 9v3m1-80v3m0 44v3m0 12v9m1-62v3m0 41v6m0 6v3m0 6v3m0 3v9m0 120v10m1-219v3m0 35v3m0 18v3m0 3v3m0 15v3m0 3v3m0 117v10m1-219v3m0 6v3m0 74v3m1-92v3m0 6v3m0 35v3m0 3v3m0 3v3m0 9v3m0 3v6m1-24v3m1-59v3m0 6v3m0 47v3m1-24v3m0 3v15m0 12v9m1-77v3m0 29v6m0 12v3m0 3v3m0 21v9m1-92v3m0 38v3m0 21v6m0 3v6m0 12v3m1-92v3m0 41v6m1-50v6m0 41v3m0 24v3m1-30v3m0 18v12m1-74v3m0 23v6m0 3v3m0 6v3m0 30v6m2-68v3m0 20v9m0 9v3m0 9v3m1-27v3m0 9v3m1-65v3m0 65v3m0 6v3m1-45v3m0 6v3m0 3v6m0 6v3m2-21v6m0 15v3m1-3v3m0 9v3m0 15v3m1-63v3m0 15v15m0 12v3m0 15v3m1-66v3m0 18v3m0 6v3m0 54v3m2-125v3m0 77v3m5-27v3m9-27v3m0 12v3m0 36v3m174 117v10m1-10v10m1-10v10m1-10v10m2-10v10m1-10v10m1-10v10m1-10v10m1-10v10m1-67v5m2 0v11m1-97v3m0 33v3m0 3v3m0 6v6m1-54v6m0 9v3m0 9v3m0 12v3m1 38v11m1 0v10m1-110v3m2 86v11m2-130v3m1 116v11m1 0v10m1-21v11m3 0v10m1-95v3m0 3v3m1 86v11m1-171v6m0 53v3m0 15v3m0 6v9m0 9v3m1-72v3m1-15v3m0 21v6m0 15v6m0 3v3m1-24v3m0 3v3m3 18v3m1-107v3m0 9v3m0 3v6m0 47v3m0 24v6m0 3v3m0 6v3m0 3v3m5-63v3m1-24v6m0 6v3m0 33v3m0 6v3m1-63v6m0 3v3m0 15v3m0 6v3m0 9v3m0 6v6m0 3v3m0 3v3m0 6v3m2-66v3m2-18v9m3 110v11m1 0v10m0 11v10m1-21v11m3-136v3m0 63v9m5 29v11m0 10v11m2-148v3m0 124v21m1-142v6m0 9v3m0 103v10m1-21v11m1-11v11m2-11v11m1-103v3m0 18v3m0 9v3m0 6v3m1 58v10m1-131v3m0 3v3m0 3v6m0 18v3m0 6v3m0 3v3m3-98v6m0 15v3m2 92v3m0 3v3m0 50v11m3-37v5m5-142v3m1 139v11m2-67v12m0 3v6m2-69v9m0 18v3m0 12v3m0 3v3m0 18v6m0 29v11m0 10v11m1-11v11m1-121v3m1-71v6m0 12v3m0 35v3m0 9v3m0 27v3m0 3v3m0 50v11m1-100v3m1-30v3m0 33v3m0 3v3m0 21v6m0 44v11m1-88v3m0 9v3m5-27v6m0 3v3m0 12v3m0 21v3m3-84v3m0 3v3m0 15v3m1 106v10m3-119v3m0 45v3m0 3v3m0 41v21m1-178v3m0 154v11m0 10v11m3-21v10m1-175v3m0 12v3m0 17v3m0 3v3m0 18v3m4-24v6m1 128v11m1 10v10m2-162v3m2-29v3m2 154v11m1-11v11m0 10v10m1-159v3m0 146v10m2-191v3m0 6v2m1 27v3m3-47v3m2 0v3m2 29v3m0 6v3m1-24v3m0 3v6m1-12v3m0 15v3m0 9v6m0 6v3m0 12v3m0 24v6m1-72v3m0 9v3m1 121v10m2-10v10m3-10v10m7-10v10m2-10v10m2-10v10m1-10v10m5-10v10m2-10v10m2-10v10m5-10v10m1-10v10m1-10v10m6-10v10m1-10v10m2-10v10m2-10v10m2-10v10m2-10v10m1-10v10m2-10v10m1-10v10m1-10v10m1-10v10m3-268v3m0 255v10m1-10v10m2-10v10m1-265v6m6-15v3m0 12v3m0 246v10m1-10v10m2-271v6m0 3v3m0 249v10m1-10v10m1-274v3m0 261v10m1-10v10m1-10v10m1-271v3m0 3v3m1 252v10m5-10v10m1-10v10m2-10v10m6-10v10m1-10v10m2-10v10m2-10v10m2-10v10m2-10v10m7-10v10m1-10v10m2-10v10m1-10v10m2-10v10m1-10v10m1-10v10m1-10v10m2-10v10m2-10v10m2-10v10m5-10v10m2-10v10m4-10v10m1-10v10m4-10v10m1-10v10m2-10v10m6-10v10m1-10v10m2-21v21m1-21v21m3-10v10m3-10v10m1-10v10m7-10v10m5-10v10m1-10v10m1-10v10m13-10v10m4-10v10m2-10v10m2-10v10m8-10v10m1-10v10m2-10v10m3-10v10m1-10v10m1-10v10m8-10v10m1-10v10m4-10v10m1-10v10m4-10v10m3-10v10m3-10v10m1-10v10m10-10v10m1-271v6m0 255v10m1-274v3m0 261v10m1-274v3m0 6v3m1-12v3m0 6v3m1-12v3m0 6v3m1-12v3m0 6v3m1-9v6m0 244v11m2-255v3m1-3v3m0 252v10m1-280v3m0 9v9m1 249v10m1-262v6m0 246v10m1-10v10m1-10v10m1-253v3m0 229v11m1-246v3m0 232v11m2-11v11m1-231v6m1-15v3m0 3v6m0 217v11m1-32v11m1-216v3m0 9v3m0 201v10m1-217v3m0 214v11m1-228v3m0 193v11m0 10v11m1-231v3m0 98v3m0 116v11m1-37v5m0 11v10m1-21v21m1-199v3m0 101v3m0 6v3m0 62v11m1-16v5m0 11v10m1-202v3m0 56v3m0 9v3m0 9v3m0 15v3m0 6v3m0 15v9m0 9v3m1-149v6m0 86v3m0 15v3m0 68v21m1-190v6m0 184v11m1-198v6m0 41v3m0 9v3m0 6v3m1-104v6m0 9v6m0 3v3m0 12v3m1-12v3m0 3v6m0 86v3m1-92v3m1-6v3m0 3v3m2 0v3m0 3v6m0 71v3m0 36v3m1-113v3m1-9v3m0 35v3m0 9v3m0 3v3m0 21v3m1-83v3m0 9v3m1-12v3m1-12v6m0 6v3m1 0v6m0 17v3m0 3v9m0 3v3m0 21v3m0 18v3m0 18v3m1-125v3m0 3v3m0 12v3m0 80v3m1-92v3m0 38v3m2 18v3m0 3v3m2 24v3m0 6v3m1-84v3m0 45v3m0 18v3m0 3v3m1-75v3m0 33v3m0 3v3m0 6v6m0 15v9m1-101v3m0 77v3m0 3v3m0 3v9m1-113v3m0 9v3m1-15v3m0 9v3m0 141v10m1-199v6m1-6v6m0 193v11m1-222v3m0 3v6m0 178v11m0 21v10m1-232v3m0 182v5m1-193v3m1-12v3m1-12v15m0 191v5m1-211v9m0 104v3m0 51v3m0 52v10m1-10v10m0 11v10m1-259v12m0 216v10m3-238v3m0 18v3m0 63v2m1-80v6m0 244v10m1-257v3m0 6v3m0 3v3m0 21v3m0 18v3m0 6v3m1-69v6m0 9v3m0 45v3m0 131v5m1-196v3m0 3v6m0 6v3m0 3v3m0 6v3m0 155v5m1-175v9m0 198v10m1-47v5m1 62v8m1-8v8m1-203v3m0 192v8m1-8v8m1-203v3m0 192v8m1-8v8m1-203v3m0 192v8m1-8v8m1-209v3m0 198v8m1-8v8m1-203v3m0 192v8m1-8v8m1-8v8"/><path stroke="#ffeb00" stroke-width="1" d="M114.5 445v10m3-21v11m1-11v11m4-189v3m3 196v11m12-21v10m2-10v10m2-26v5m3 11v10m1 0v11m1-207v3m0 6v3m0 174v10m1-223v3m0 3v3m0 6v3m0 3v3m0 173v5m1-250v3m0 99v3m0 140v5m1-262v6m0 126v2m0 128v11m1-258v3m0 9v3m0 12v3m0 78v3m0 131v5m1-235v3m0 15v3m0 3v6m0 42v3m0 3v3m0 15v3m1-123v3m0 15v3m0 24v3m0 78v3m1-90v3m0 3v3m0 3v3m0 12v3m0 6v3m0 18v3m0 3v6m2 50v3m0 30v3m0 3v3m0 3v6m0 50v21m1-116v3m0 42v6m0 6v3m1-63v3m0 48v3m1-72v3m2 3v3m1 9v6m0 3v3m1-3v3m0 3v3m0 3v3m0 9v6m1 9v3m0 47v11m1-11v11m1-16v5m2 0v11m1-11v11m10 21v10m5-21v11m1 0v10m3 0v10m2-165v3m0 142v20m7-150v3m0 18v3m0 18v3m1-60v3m0 3v3m0 6v3m0 6v3m1-68v3m0 56v3m2-15v3m0 6v3m1-18v3m0 9v3m0 12v3m1-30v6m0 6v3m0 6v3m0 9v3m0 129v10m1-172v3m0 3v3m0 3v3m0 12v3m1-24v12m2-62v3m0 50v3m0 18v3m0 129v10m1-213v3m0 47v9m0 3v3m0 9v3m0 126v10m1-216v3m0 41v3m0 6v3m0 3v3m0 21v3m0 120v10m1-157v6m0 141v10m1-213v3m0 26v9m0 15v3m1-9v3m0 6v3m0 6v3m0 135v10m1-175v3m0 3v3m0 6v9m0 141v10m1-213v3m0 32v3m0 6v6m0 9v3m0 3v9m0 6v3m0 120v10m1-216v9m0 38v3m0 9v3m0 3v6m1-71v3m0 29v3m0 6v3m0 3v3m0 18v3m0 3v3m0 3v3m1-80v3m0 38v3m0 9v6m0 6v3m1-74v6m0 29v3m0 42v3m1-77v3m0 29v3m0 3v3m0 9v6m0 3v9m0 3v6m1-86v3m0 50v3m0 15v3m0 3v3m1-68v3m0 35v9m0 15v9m1-83v3m0 3v9m0 29v3m0 24v6m1-68v3m0 26v9m0 3v3m0 36v3m1-51v6m0 6v3m0 12v3m0 12v3m0 9v3m2-86v3m0 23v3m0 12v6m0 6v6m0 9v3m1-33v3m0 12v3m1-56v3m0 26v3m0 3v3m0 9v6m0 9v6m0 142v8m1-227v9m0 50v6m0 3v6m0 9v3m0 6v3m1-92v3m0 3v3m0 26v3m0 9v3m0 12v3m0 3v6m0 12v3m1-89v3m0 3v3m0 26v3m0 3v12m0 6v3m0 6v3m1-77v6m0 3v3m0 18v2m0 33v3m1-59v3m1-9v6m0 32v6m0 3v6m0 18v3m1 6v3m0 9v3m1-42v3m0 3v3m0 18v3m2-83v3m0 59v6m1-15v3m1 9v3m1-6v3m1-62v3m0 41v3m1-9v3m0 9v3m0 24v3m1-83v3m1 35v6m0 3v3m0 15v3m0 18v3m0 130v8m1-180v6m0 9v6m2-9v3m0 18v3m1-3v3m1 136v8m1-177v3m0 166v8m3-171v3m0 45v3m1-27v3m1-48v3m0 9v9m0 15v3m5 145v8m3-8v8m1-8v8m1-8v8m1-8v8m1-8v8m1-8v8m3-174v3m0 69v3m185 29v11m1 10v11m1-154v6m0 24v6m0 9v3m0 12v3m0 18v3m0 49v21m1-151v6m0 3v3m0 6v3m0 60v6m0 53v21m1-31v10m1 0v11m1-11v11m1-11v11m2-21v10m1-21v11m4-11v21m1 0v11m2-118v3m1 94v10m1-163v3m0 9v2m0 87v6m1-36v3m1-18v6m0 15v3m0 3v9m0 9v3m4-9v3m1-92v3m0 14v3m0 6v6m0 21v3m0 9v9m0 15v3m0 3v3m1-42v3m2-86v3m0 15v3m3 32v3m0 9v3m0 45v3m0 9v3m1-69v3m0 12v3m0 39v3m2-66v3m0 15v3m0 33v9m2-75v3m0 12v3m0 115v10m1-10v10m3 0v11m3-32v11m4-11v11m2 0v10m1 11v10m1-140v3m0 127v10m1-98v3m0 3v3m0 9v3m3 35v11m1 10v11m1-154v3m0 9v3m0 18v3m0 18v3m0 76v10m2-122v3m0 30v3m0 3v3m3 27v3m0 61v10m1-31v10m1-143v3m3 119v11m1-11v11m1-11v11m2-11v11m3 0v10m1-92v3m0 3v3m2-51v6m0 57v6m0 6v3m2-78v3m0 12v6m0 6v3m1-65v6m0 153v10m1-95v3m0 71v11m0 10v11m1-136v3m0 9v3m0 33v6m1-24v6m0 33v6m1 40v10m1-21v11m1 0v10m2-137v3m0 45v3m0 3v6m0 6v3m0 12v3m2 32v11m1-130v3m0 137v11m1-154v3m0 119v11m2-11v21m1-116v3m0 54v6m0 53v11m1-183v9m3 163v11m1-174v3m0 9v2m0 12v3m0 9v6m0 48v12m0 49v10m6 0v11m2-115v3m0 122v10m3-10v10m4-147v3m0 18v3m1-80v9m0 20v6m0 21v6m0 9v3m0 9v3m1-54v3m0 6v3m0 24v3m0 9v3m0 3v3m3-86v3m0 6v3m0 3v3m4 17v3m1-9v3m0 12v3m1 54v3m1 0v3m2 73v10m22-10v10m18-10v10m4-10v10m10-10v10m4-10v10m2-271v3m0 258v10m1-10v10m5-271v3m0 6v3m5-9v3m3-9v3m0 9v3m0 249v10m5-10v10m8-10v10m8-10v10m33-10v10m1-10v10m11-10v10m2-10v20m12-10v10m10-20v10m2-10v20m1-10v10m6-20v10m3 0v10m8-10v10m1-10v10m13-10v10m3-20v20m8-20v10m2 0v10m4-10v10m2-10v10m5-20v10m2-10v10m2-10v10m1-10v10m8-10v10m1-10v10m5-10v10m3-271v3m1 0v3m2-6v6m1-6v6m0 255v10m1-10v10m1-10v10m1-10v10m2-10v10m2-21v11m3-249v3m0 246v10m1-250v3m1-6v3m0 3v3m1-3v3m1-3v6m1-6v3m0 6v3m0 225v10m1-21v11m1-32v11m0 10v11m2 0v10m1-232v3m0 219v10m1-21v11m1-219v3m1 205v11m1-216v3m0 181v11m1-186v3m0 98v3m0 3v3m0 9v3m0 9v6m0 6v3m0 24v5m0 21v11m1-154v3m0 24v3m0 15v3m0 9v6m0 3v3m0 9v9m0 56v11m2-121v3m0 6v3m0 3v3m0 3v6m0 6v3m2-21v3m1-83v3m1 32v3m0 66v3m0 6v3m1-113v3m0 74v3m0 3v3m1-57v3m1-41v3m1 3v6m0 29v3m0 9v3m0 18v3m0 6v6m0 6v3m1-83v3m2 3v3m1 44v3m0 6v3m0 3v3m1-62v3m0 3v2m0 51v3m0 21v3m0 9v3m1-92v2m0 21v3m0 9v3m1-38v2m0 15v3m0 9v3m0 21v3m1 0v3m1-36v3m0 3v3m0 27v3m0 6v6m1-48v3m0 39v3m1-63v3m0 81v6m1-60v3m0 24v3m0 18v3m1-72v3m0 15v6m1-59v3m0 6v3m0 89v3m1-119v6m0 3v6m0 6v9m1-36v3m0 3v6m0 6v6m0 9v8m1-8v3m0 3v2m0 160v10m1-220v3m0 196v11m1-228v3m1-3v3m0 6v3m1-12v6m0 3v3m1-12v3m1 193v11m1-216v3m0 244v10m1-257v3m0 3v3m1 207v10m1-238v3m0 9v3m0 72v2m0 149v11m0 10v10m1-266v12m0 223v21m1-244v9m0 6v3m0 54v2m0 139v21m1-246v3m0 9v3m0 15v3m0 42v3m0 3v5m0 160v10m1-235v6m0 6v3m0 9v3m0 15v3m1-36v6m0 30v3m0 3v6m1-51v3m0 184v11m1-11v11m12-144v3"/><path stroke="#ffdd00" stroke-width="1" d="M112.5 486v10m1 0v8m2-59v10m4-10v10m4 0v11m3-11v11m1-11v11m3-21v10m3-10v10m1 0v11m3-11v11m6-32v11m1 10v11m2-222v3m1-12v3m0 6v3m1-66v3m0 9v9m0 6v3m0 12v3m0 27v6m0 3v3m0 27v3m0 9v2m1-137v3m0 6v3m0 117v3m0 128v5m1-244v6m0 9v3m0 15v3m0 36v3m0 24v3m0 142v11m1-249v3m0 15v3m0 3v3m0 12v12m0 6v3m0 6v3m0 9v3m1-78v6m0 84v6m0 3v3m0 133v11m1-201v3m0 6v3m0 3v3m3 50v3m0 27v3m0 9v3m0 12v3m0 3v3m0 21v3m1-72v3m1-12v3m1-9v3m0 9v3m2 12v3m0 3v3m1 94v10m1-65v3m2 41v11m7 0v10m2-10v10m3 0v11m2 10v10m1-10v10m5-31v21m1-10v10m2 0v10m3-156v3m0 143v10m2-147v3m3-9v3m1-6v3m0 15v3m1 3v3m2-15v3m0 12v3m0 126v10m1-10v10m1-181v3m0 18v3m0 6v3m0 9v3m1 126v10m1-175v6m0 21v3m0 135v10m1-10v10m1-178v3m0 3v6m0 9v3m0 3v3m0 3v3m1 6v3m1-80v3m0 41v6m0 9v3m1-30v9m0 12v3m1-59v3m0 41v3m0 18v3m1-68v3m0 44v3m1 15v3m1-68v3m0 53v3m0 6v3m1-71v3m1 38v3m0 18v6m0 12v3m1-27v3m1-21v6m0 3v12m1-6v3m0 163v8m1-183v3m0 9v3m0 12v3m1-18v3m0 160v8m1-8v8m1-183v3m0 24v3m1-30v3m0 9v6m0 9v3m0 145v8m1-227v9m1 38v3m0 18v3m0 3v3m0 142v8m1-177v3m0 6v3m0 3v6m0 12v3m0 133v8m2-174v6m0 18v3m0 139v8m1-186v9m0 6v9m0 154v8m1-227v3m0 56v3m0 3v3m0 12v3m0 136v8m1-8v8m2-159v3m1-27v3m0 15v3m0 9v3m1-12v6m0 148v8m2-8v8m1-159v3m0 148v8m1-159v3m0 148v8m1-177v3m0 15v9m0 142v8m1-8v8m1-171v3m0 3v3m0 154v8m1-8v8m1-168v3m1 6v3m0 3v3m0 142v8m1-8v8m1-8v8m1-8v8m3-8v8m1-8v8m1-180v3m0 39v3m0 127v8m1-8v8m1-150v3m1 139v8m1-8v8m1-8v8m1-8v8m2-8v8m1-8v8m7-8v8m186-59v10m2-10v10m1-137v9m0 12v3m0 9v3m0 12v3m0 12v3m0 3v3m0 6v3m0 67v10m1-134v6m1 107v11m4-21v10m0 11v10m3-21v21m2-31v10m2-10v10m1 0v11m1-11v21m3-149v3m0 42v3m0 3v3m1-57v3m0 57v3m0 3v3m0 3v3m5-87v3m0 6v3m0 12v3m0 3v3m0 39v3m3-104v6m0 9v3m2 80v3m1-45v3m0 12v3m0 3v3m0 6v3m0 9v3m0 3v3m0 12v3m1-87v3m0 15v3m0 3v3m0 9v3m2-30v3m0 9v3m0 12v3m0 33v3m0 3v3m3 35v11m1-11v11m1 0v10m3-10v10m5-10v10m1-21v11m0 10v21m1-10v10m3-155v3m0 69v3m0 3v3m4 43v10m1-137v6m0 15v3m0 39v3m0 3v6m0 62v11m2-88v3m0 12v3m1 59v11m1-21v10m4-21v11m3 0v10m1-10v10m1-10v10m5-56v6m2-90v6m0 54v3m0 3v3m2-69v3m0 6v3m0 6v3m0 24v6m0 9v3m0 6v3m0 3v3m0 62v21m1-178v3m1 144v10m1-80v3m0 12v3m0 9v3m0 40v10m0 11v10m1-42v11m2 0v10m3-134v3m0 3v3m0 12v3m0 12v3m0 27v6m0 41v11m1-11v11m2-11v11m4-112v3m0 57v3m0 6v3m1-125v3m0 9v3m0 3v8m0 139v10m3 11v10m6 0v10m2-96v3m4-18v3m4-48v3m0 24v3m1-80v3m0 15v6m0 20v3m0 6v3m0 9v3m0 3v3m0 3v3m0 36v3m1-87v3m0 6v3m0 6v3m0 24v6m7-51v3m0 54v3m1-48v3m0 9v3m0 15v3m1-39v3m0 6v3m0 18v3m0 27v3m0 3v3m1 6v3m0 6v3m26 61v10m41-10v10m1-268v6m5 0v6m3-12v3m56 255v10m13 0v10m3-10v10m9-10v10m1-10v10m2-10v10m1-10v10m1-10v10m1-10v10m1-10v10m3-20v10m12 0v10m1-10v10m2-10v10m1-10v10m1-10v10m1-10v10m4-10v10m1-10v10m4-20v10m2 0v10m2-10v10m3-10v10m3-10v10m1-10v10m4-10v10m1-20v10m2 0v10m2-10v10m11-10v10m6-20v10m2 0v10m7-10v10m1-10v10m1-10v10m4-278v3m1-6v3m1-3v6m0 255v10m1 0v10m9-269v3m3 246v10m1-250v3m1 3v3m0 231v10m3-31v10m2 11v10m4-21v21m1-10v10m1-21v21m1-143v3m0 3v3m0 3v3m0 21v3m0 24v3m0 67v10m1-217v3m0 53v3m0 48v3m0 12v9m0 76v10m1-10v10m1-158v3m0 9v6m0 27v3m0 6v3m0 6v3m0 3v3m3-113v3m0 35v3m0 9v3m0 3v3m0 3v6m0 3v3m0 36v3m1-78v3m0 6v6m0 9v3m0 3v3m0 9v3m0 15v3m0 12v3m1-116v3m1 6v3m2 32v6m0 15v3m0 3v3m0 6v3m0 6v3m0 6v3m0 12v3m0 6v3m1-107v3m1 0v3m2 3v3m1 56v3m0 15v3m0 15v3m1-75v3m1-15v3m0 3v3m1 33v3m0 12v3m0 6v3m1-66v3m0 18v6m0 12v9m0 3v6m0 12v3m0 6v6m0 3v3m1-78v3m0 9v3m0 9v3m0 6v12m0 12v3m0 6v3m2-45v6m1-33v3m0 9v3m0 63v3m1-107v3m1-24v3m1-18v3m0 15v3m0 9v3m1-24v6m0 9v3m0 3v6m1-36v3m0 39v2m1-59v9m0 21v3m1-36v3m0 219v10m1-232v3m1 6v3m0 48v2m0 149v11m1-231v3m0 6v3m1-9v9m0 57v2m1-56v3m1-27v3m0 6v3m0 6v3m0 57v2m1-74v3m0 15v3m0 192v10m1-220v3m0 3v3m1 0v3m0 18v3m0 30v3m0 133v11m0 21v10m1-241v3m0 3v3m0 3v3m0 3v6m0 6v3m0 9v3m1-30v3m0 3v3m0 30v6m0 171v10m1-217v3m0 15v3m0 9v3m0 142v42m1-31v21"/><path stroke="#ffce00" stroke-width="1" d="M115.5 455v11m1-32v11m4 10v11m4 0v10m2-10v10m2-21v11m2-11v11m2-21v10m4 0v11m2-11v11m3-32v11m2-16v5m4 0v11m1-258v3m0 30v3m0 9v6m0 3v3m0 27v6m0 3v6m0 9v6m0 133v21m1-274v3m0 117v3m1-108v3m0 3v3m0 3v3m0 6v6m0 3v3m0 3v3m0 48v3m1-57v6m0 24v3m0 6v3m0 9v6m1-96v3m0 3v3m0 6v15m0 3v3m0 3v3m0 21v6m0 21v3m0 146v5m1-172v3m0 169v11m1-16v5m0 21v11m1-106v3m1-39v6m0 33v3m0 12v3m0 9v6m0 38v11m1-133v3m0 3v3m0 3v6m0 12v3m0 33v3m1-69v3m0 9v9m1-15v3m0 18v3m0 3v3m1-27v3m0 6v9m1-9v3m1 33v3m0 12v3m1 3v3m3 44v11m4 10v21m5-21v11m15 10v10m1-150v3m2 147v10m1-10v10m1-10v10m2-10v10m1-10v10m1-10v10m1 0v8m1-8v8m1-174v3m0 6v3m0 6v3m0 145v8m4-168v3m0 157v8m1-8v8m1-183v3m0 172v8m1-171v3m0 9v3m0 148v8m1-8v8m1-8v8m2-171v3m0 3v3m0 154v8m1-8v8m1-189v3m0 15v3m0 9v3m0 3v3m0 142v8m1-8v8m1-168v3m0 6v3m0 6v3m0 139v8m1-165v3m1-18v3m0 15v3m0 12v3m0 136v8m3-171v3m0 3v3m0 3v3m0 148v8m1-180v3m0 3v3m0 6v3m1 154v8m2-224v3m0 65v3m1-21v3m1-15v6m1 6v3m3 163v8m1-168v3m0 157v8m1-177v3m0 166v8m1-221v3m1 210v8m4-150v3m1-21v3m3-6v3m1 12v3m10-18v3m0 160v8m193-8v8m7-70v11m1 0v10m0 11v10m1-10v10m1-140v3m0 15v3m0 6v3m0 3v3m0 3v3m1-66v3m0 12v6m0 69v3m3 61v10m1-10v10m1-21v11m1-11v11m1-21v21m1-21v10m2 0v11m5 0v20m1-84v3m1-93v9m0 12v12m0 3v3m0 15v6m0 15v3m0 3v3m1 6v3m5-87v3m0 36v6m3-71v6m0 3v3m2 8v3m0 33v3m0 3v3m0 12v3m1-42v3m0 15v6m0 3v3m0 30v6m1-63v3m0 27v3m0 33v3m2-90v3m0 3v3m0 42v3m0 27v3m2 70v10m2-31v10m4 0v11m3-32v21m1-10v10m6-137v3m0 60v3m0 3v3m1 55v10m4-122v3m0 42v3m0 12v6m0 3v3m2 29v11m1 21v10m3-21v11m1 0v10m7-31v10m4-10v10m1-10v21m1-139v3m1 115v10m1-128v6m0 9v3m0 6v9m0 12v3m0 12v3m1-98v3m2 98v3m1-30v3m0 86v11m1-11v11m4-154v3m0 9v3m0 3v9m0 42v3m0 12v3m0 3v3m3 40v10m4-143v3m1-20v3m1 157v11m14-118v3m0 15v3m4-57v6m0 3v9m0 36v3m0 9v3m1-89v3m0 23v3m0 51v3m0 27v3m1-87v3m0 21v3m0 27v3m0 3v3m7-66v6m0 6v6m0 15v12m0 6v3m1-42v3m0 9v3m0 3v3m145 128v10m8-10v10m1-10v10m1-10v10m1-10v10m1-10v10m4-10v10m6-10v10m5-10v10m3-10v10m3-10v10m1-10v10m4-10v10m10-10v10m4-10v10m2-10v10m2-10v10m3-10v10m4-10v10m2-10v10m7-10v10m1-10v10m5-10v10m3-10v10m2-10v10m2-10v10m4-10v10m2-10v10m1-10v10m1-10v10m1-10v10m6-10v10m11-10v10m8-20v10m4-10v10m5-10v10m4-146v3m0 24v3m3-39v6m0 15v3m0 12v3m0 15v3m0 6v3m0 9v9m3-93v3m0 3v3m0 3v3m0 18v3m0 3v9m0 6v6m0 21v3m0 6v3m1-60v3m0 9v3m0 3v6m0 6v3m0 3v3m0 12v3m1-36v3m3-36v3m0 45v9m0 6v3m1-75v3m2 18v3m0 24v3m0 15v3m2-78v6m0 3v3m0 21v3m0 3v3m0 12v3m0 3v6m2-54v3m0 9v3m0 12v6m0 12v6m1-60v9m0 21v6m1-30v3m0 21v3m0 3v3m0 27v3m0 3v3m1-78v3m0 6v6m0 6v6m0 3v3m0 9v3m0 18v6m0 6v3m2 12v3m1-78v9m2-32v2m1-29v3m0 15v3m0 157v11m1-201v6m0 9v3m0 151v21m0 21v10m1-221v6m0 15v3m0 6v3m0 3v3m1-48v3m0 42v3m1-51v3m0 21v3m1-24v3m0 9v3m0 163v11m1-198v6m1-21v3m0 3v6m0 211v21m1-244v6m0 9v3m0 184v11m1-189v3m0 42v5m1-74v3m1-9v3m0 6v3m0 3v3m0 51v6m1-57v6m0 45v3m0 3v3m0 130v11m1-150v3m0 3v3m1-33v3m0 6v3m0 9v3m0 139v21m1-226v3m0 27v3m0 6v3m0 3v3m0 157v11m1-180v3m2 198v10"/><path stroke="#ffbf00" stroke-width="1" d="M113.5 476v10m3-41v10m15-10v21m4-11v11m5-11v11m2-37v5m5 11v10m1-241v6m0 6v6m0 6v3m0 3v6m0 15v3m0 9v3m1-90v3m0 84v3m0 6v3m0 3v3m1-84v3m0 15v3m0 21v9m0 3v9m0 3v3m0 6v3m0 156v10m1-208v6m0 3v3m1-21v6m0 24v3m0 174v10m4-140v9m0 21v3m0 9v3m0 6v3m1-48v3m0 57v3m0 61v10m1-140v3m1 12v6m1-9v3m0 21v3m0 80v11m1-94v6m0 3v3m0 3v3m0 60v16m1-85v6m0 12v3m0 3v3m0 3v3m0 3v3m0 35v11m0 10v11m1-21v10m1-10v10m1-10v10m4 0v11m7-11v11m1 0v10m6-10v20m2-10v10m7 0v10m2 0v8m1-8v8m1-18v18m2-8v8m1-8v8m4-8v8m1-177v3m0 15v3m0 148v8m1-8v8m4-174v3m3 163v8m1-183v3m4 24v3m2-21v3m0 6v3m3-15v6m0 9v3m11 9v3m1-27v3m9 3v3m1 0v3m201 154v8m1-8v8m1-8v8m2-8v8m1-8v8m1-8v8m1-8v8m1-8v8m1-8v8m1-38v10m3 0v10m1-165v3m2 142v20m2-10v10m2-20v10m3-21v11m2-11v21m1-10v10m5-155v6m0 24v3m0 3v6m0 12v3m0 3v3m0 6v3m1-6v3m5-57v3m0 42v3m3-77v2m2 9v6m0 36v3m0 3v3m0 9v3m0 6v3m1-9v3m0 18v3m3-54v6m0 3v3m0 12v3m0 24v3m2 53v11m1-11v11m2-11v11m5-32v21m1 0v11m1-32v11m0 10v11m4 10v10m2-171v3m0 137v21m1-21v11m4-151v3m0 12v3m0 133v10m1-21v11m1-154v3m0 3v3m0 63v3m0 12v3m2 64v10m11-42v11m1 0v10m6-77v6m0 9v6m1-95v2m1 160v10m2-31v10m1-21v11m1 10v11m1-11v11m1-11v11m1-151v3m0 137v11m4-11v11m1-21v21m1-11v11m1-151v12m2 118v10m1 11v10m2-21v11m11-127v3m0 18v6m4-33v3m0 48v3m0 3v3m1-72v3m0 12v3m0 21v6m0 12v3m0 12v3m1-51v3m0 18v3m0 18v3m0 6v3m7-63v6m0 18v6m0 36v3m1-63v3m0 27v3m0 21v3m0 3v3m37 71v10m35-10v10m72-10v10m4-10v10m1-10v10m2-10v10m1-10v10m17-10v10m4-10v10m3-10v10m1-10v10m13-10v10m4-10v10m1-10v10m1-10v10m13-10v10m11-10v10m2-10v10m2-10v10m1-10v10m15-10v10m1-10v10m5-10v10m3-10v10m1-10v10m3-10v10m1-10v10m4-10v10m1-10v10m2-10v10m5-10v10m3-20v10m8-104v3m3-63v3m0 36v3m0 36v6m3-60v3m0 21v3m0 12v3m0 6v3m0 9v3m1-81v3m0 9v3m0 18v3m0 15v3m0 6v3m0 9v3m1-48v3m0 6v3m0 12v3m2-57v3m1-6v3m0 18v3m0 63v3m1-78v3m1 63v3m1-63v6m0 42v6m2-66v3m0 15v6m0 6v3m0 3v3m0 6v3m0 24v3m0 9v3m2-90v3m0 9v3m0 9v3m0 6v3m0 15v3m0 9v3m0 6v3m1-78v3m0 27v3m0 27v6m0 6v3m1-75v3m0 3v3m0 3v3m0 15v3m0 45v3m0 6v3m1-87v3m0 30v3m0 30v3m2-39v3m0 12v3m0 3v3m4-80v3m1-15v3m0 3v3m0 15v3m1-33v3m0 18v3m0 3v3m1-39v3m0 18v6m0 3v9m1-51v3m0 12v3m0 36v2m0 139v10m1-202v3m0 3v9m0 30v8m0 139v10m0 11v10m1-235v6m0 12v3m0 36v3m0 165v10m1-229v3m0 18v3m0 24v3m0 6v2m0 170v10m1-233v3m0 42v3m1-69v3m0 3v6m0 54v3m1-72v3m0 6v6m0 3v6m0 42v9m1-66v3m0 6v3m0 51v3m1-72v3m0 15v12m0 3v3m0 21v6m0 3v3m0 175v10m1-245v3m0 6v6m0 3v6m0 21v3m0 3v3m1-36v6m0 9v3m0 178v11m0 10v10m1-224v3m0 6v3m0 6v3m0 162v10m2 21v10m1-31v11m0 10v10"/><path stroke="#ffb100" stroke-width="1" d="M116.5 455v11m3-11v11m2-11v11m6 0v10m2-21v11m6 0v10m3-10v10m10-271v3m0 3v3m0 36v3m0 6v3m0 6v3m1-87v3m0 6v9m0 78v3m0 6v3m0 3v3m1-60v6m0 3v3m0 30v3m1 151v11m1-213v6m0 27v3m0 9v3m0 6v3m1 140v5m3-5v5m0 21v11m1-151v3m0 15v3m0 12v3m0 12v3m0 6v6m0 6v3m1-54v12m0 6v3m0 42v3m1-78v3m0 30v3m0 9v3m1-51v3m0 18v6m0 9v3m1 6v3m0 89v11m3-11v11m1-11v11m1-21v10m5 0v11m3-11v11m6 20v10m1-10v10m1-10v10m15 0v8m3-174v3m29 12v3m226 107v11m1-11v11m2-106v3m1 113v10m1-20v10m2 0v10m4-20v10m2-10v10m1-10v10m3-10v10m1 0v10m3-141v3m0 6v3m0 27v3m0 9v9m6-75v3m0 6v3m5-21v9m0 12v3m0 15v3m0 15v3m0 9v3m1-48v3m1 81v5m2-74v3m0 24v3m3 76v10m1-10v10m2 0v10m1-41v10m1 11v10m1-31v10m4 0v11m5-64v3m1 61v10m3-10v10m1-149v3m0 69v3m1 64v10m1-95v3m0 6v3m0 3v3m0 3v3m0 40v10m5 21v10m1-41v31m4-21v11m1 0v10m1-21v11m1-21v10m1 0v11m1 0v10m1-21v21m3-10v10m1-110v6m0 30v3m1 61v10m2-21v11m4 0v10m1-31v10m1-10v10m2 0v11m4 0v10m1-10v10m1-10v10m4-10v10m11-140v3m0 12v6m0 21v3m0 3v3m0 3v3m4-51v9m0 21v3m0 12v3m1-63v6m0 15v3m0 48v3m1-75v3m0 24v3m0 18v3m0 15v3m0 6v3m4 24v5m3-92v3m1 3v6m0 6v3m0 30v3m5 80v10m1-10v10m2-10v10m1-10v10m9-10v10m2-10v10m1-10v10m11-10v10m1-10v10m6-10v10m11-10v10m1-10v10m22-10v10m4-10v10m8-10v10m4-10v10m8-10v10m7-10v10m7-10v10m9-10v10m3-10v10m2-10v10m2-10v10m1-10v10m40-10v10m6-10v10m13 0v10m25-20v10m1-10v10m3 0v10m2-10v10m11-20v10m2-10v10m1-10v10m1-10v10m14-10v10m1-10v10m4-10v10m3-10v10m5-10v10m3-10v10m1-10v10m1-10v10m2-10v10m5-10v10m11-156v3m0 39v3m0 6v3m0 15v3m1-75v3m0 3v3m0 3v3m0 18v3m0 36v3m1-90v6m0 6v3m0 21v3m0 27v3m0 3v3m0 6v6m0 3v3m2-87v3m0 45v3m1-18v3m1-24v3m0 3v3m0 63v3m1-30v3m0 15v3m1-75v9m0 6v6m0 3v15m0 3v3m2-42v3m0 42v3m2-42v3m0 27v3m0 12v3m0 6v3m0 15v3m1-81v6m0 9v3m0 39v3m0 3v3m0 3v3m1-48v3m0 27v3m1-63v3m0 24v3m0 9v3m2-12v3m1 78v5m4-145v3m1-18v6m0 9v3m0 184v10m1-221v3m0 3v6m0 157v11m0 10v11m0 10v10m1-230v9m0 21v3m0 3v6m0 136v11m1-195v3m0 18v3m0 181v11m1-210v3m0 42v3m0 172v10m1-233v3m0 3v3m0 12v3m0 12v3m0 6v6m1-54v3m0 12v3m0 15v3m0 3v3m0 3v3m0 3v3m1-60v6m0 9v6m0 12v3m0 15v3m0 188v10m1-234v6m0 218v10m1-252v3m0 9v6m0 30v3m1-33v3m0 6v3m0 12v3m0 197v10m1-240v3m0 9v12m0 9v3m1-9v3m1-9v3m0 175v11m0 10v10m3-41v10"/><path stroke="#ffa200" stroke-width="1" d="M124.5 476v10m1-20v10m3-10v10m2-10v10m4 0v10m5-31v21m2-31v10m5 0v11m2-264v3m1-3v9m0 3v3m0 15v3m0 9v3m0 12v6m0 180v10m1-220v3m0 6v3m0 3v3m0 21v3m0 178v11m1-201v3m0 177v10m1-229v3m0 15v6m0 9v6m0 6v3m0 9v3m3 143v5m0 32v10m1-31v10m1-110v3m0 3v6m0 12v3m0 18v6m0 3v3m1-48v3m0 9v3m0 65v11m1-121v3m0 9v3m0 3v3m0 12v6m0 27v3m1-48v3m0 21v6m1-18v3m0 18v3m0 64v10m0 11v10m1-101v3m0 15v3m6 49v10m5-10v10m3 11v10m8 0v10m4 0v10m5 0v8m264-28v10m2 0v10m5-20v10m4-10v10m4-10v10m8-57v5m1-5v5m1-5v5m1-5v5m1-5v5m3-101v3m0 3v3m0 3v3m0 3v3m0 12v3m0 18v3m0 6v3m0 3v3m1 24v5m3-68v6m0 3v3m0 24v3m4 50v11m3 0v10m2-21v11m1-11v11m2 0v10m5 0v10m1-174v3m3 130v21m4-145v3m0 63v3m0 65v11m2 10v10m1-10v10m1-20v10m3-21v11m1-11v11m3-11v11m2-11v11m2-11v11m3 0v10m1-137v3m0 3v3m1 51v3m1 53v11m2 10v10m1-20v10m1-10v10m1-10v10m2-10v10m3-31v10m5-128v6m2 133v10m1 0v10m13-165v3m0 21v3m0 9v3m0 9v6m0 21v3m0 3v3m4-87v3m0 30v6m0 12v3m0 3v3m0 15v3m0 3v6m1-30v3m0 3v3m0 6v3m0 36v5m1-98v6m0 6v3m0 30v3m0 15v3m3 27v5m4-56v3m0 15v6m1-39v9m0 9v3m0 3v6m0 6v3m1 27v5m6 42v10m3-10v10m1-10v10m1-10v10m1-10v10m1-10v10m2-10v10m1-10v10m5-10v10m1-10v10m1-10v10m1-10v10m2-10v10m1-10v10m1-10v10m7-10v10m2-10v10m2-10v10m1-10v10m1-10v10m1-10v10m1-10v10m2-10v10m1-10v10m2-10v10m4-10v10m3-10v10m2-10v10m1-10v10m2-10v10m2-10v10m8-10v10m7-10v10m1-10v10m1-10v10m1-10v10m2-10v10m3-10v10m1-10v10m3-10v10m3-10v10m2-10v10m8-10v10m3-10v10m1-10v10m1-10v10m1-10v10m1-10v10m2-10v10m1-10v10m1-10v10m2-10v10m3-10v10m2-10v10m1-10v10m2-10v10m2-10v10m4-10v10m1-10v10m10-10v10m1-10v10m1-10v10m4 0v10m3-10v10m8-10v10m4-10v10m3-10v10m1-10v10m5-10v10m9-10v10m6-10v10m2-10v10m1-10v10m1-10v10m3-10v10m7-10v10m17-10v10m21-10v10m24-20v10m8-10v10m1-10v10m8-10v10m1-147v3m0 6v3m3-30v3m0 66v3m0 36v5m1-86v3m0 51v3m1-78v3m0 6v9m0 6v3m0 3v3m0 21v3m0 6v3m0 6v3m1 27v5m1-107v6m0 30v3m0 63v5m1-44v3m0 9v3m1-93v9m0 12v3m0 9v3m0 6v3m0 15v3m1-9v6m0 6v3m0 3v3m0 42v5m1-119v3m0 75v3m2-66v3m0 9v3m0 42v3m0 9v3m2-60v6m0 15v3m0 15v3m0 6v9m1-69v3m0 3v3m0 51v3m4 36v5m4 52v10m2-216v6m1-27v3m0 42v2m0 160v10m1-208v9m0 3v3m0 6v3m0 9v3m0 151v11m1-192v15m0 6v3m0 178v10m1-221v3m0 6v3m0 6v3m0 148v21m1-205v3m0 39v3m1-36v6m0 3v3m0 15v3m1-36v3m0 9v12m0 6v9m1-39v3m0 3v3m0 6v3m0 9v3m0 9v3m1-42v3m0 9v3m0 6v6m0 3v3m1-18v3m0 3v12m1-6v3m1 3v3m1-3v3"/><path stroke="#ff9300" stroke-width="1" d="M113.5 486v10m1-30v10m3-31v21m5-11v11m3 10v10m3-10v10m1-20v10m5-10v10m3-10v10m5-42v11m1 0v10m1 11v10m1-10v20m3-31v11m1-279v3m0 21v3m0 3v15m0 3v9m0 9v3m0 15v3m0 9v3m3-36v3m0 21v3m0 178v11m1-21v10m1 11v10m1-21v11m1-118v3m1 6v3m0 6v3m0 65v11m1-100v6m0 12v3m1-18v3m1 6v6m0 18v3m0 61v10m2-56v3m5 53v11m2 0v10m3-21v11m17 30v8m3-8v8m271-18v10m2-20v10m5-10v10m3 0v10m2-67v5m3-5v5m9-62v3m0 18v3m5 33v5m3 42v10m7-20v10m2-10v10m1 0v10m1-10v10m5-41v21m5-151v3m0 148v10m7-31v10m1-10v10m9 11v10m2-146v3m0 24v3m0 6v3m1 107v10m9-20v10m4-10v10m2 0v10m3-10v10m2-10v10m3 0v10m9-172v6m0 3v3m0 6v3m0 42v3m0 3v3m0 3v3m4-66v3m0 24v3m0 15v3m0 12v3m1-30v3m0 12v6m1 0v3m0 36v5m1-5v5m1-5v5m5-89v3m0 27v3m0 9v3m1-57v3m0 39v3m0 6v3m0 42v5m4 42v10m11-10v10m4-10v10m11-10v10m1-10v10m3-10v10m1-10v10m13-10v10m4-10v10m2-10v10m3-10v10m3-10v10m2-10v10m3-10v10m1-10v10m1-10v10m1-10v10m1-10v10m1-10v10m4-10v10m1-10v10m1-10v10m6-10v10m2-10v10m4-10v10m3-10v10m1-10v10m2-10v10m2-10v10m3-10v10m1-10v10m1-10v10m1-10v10m3-10v10m10-10v10m3-10v10m14-10v10m1-10v10m1-10v10m3-10v10m1-10v10m1-10v10m1-10v10m6 0v10m6-10v10m3-10v10m1-10v10m3-10v10m1-10v10m3-10v10m1-10v10m6-10v10m12-10v10m2-10v10m1-10v10m12-10v10m1-10v10m1-10v10m3-10v10m1-10v10m3-10v10m1-10v10m2-10v10m5-10v10m1-10v10m6-10v10m2-10v10m11-10v10m1-10v10m1-10v10m3-10v10m18-20v10m12-10v10m4-10v10m1-10v10m2-10v10m1-10v10m3-57v5m2-5v5m1-71v3m0 12v3m1 48v5m1-116v6m0 6v6m0 36v6m0 9v3m2-69v3m0 12v6m0 6v3m0 18v6m1 54v5m1-95v3m0 15v3m0 30v3m1-39v12m0 30v3m1-39v3m0 9v6m0 24v3m0 24v5m1-5v5m1-101v3m2 93v5m1-83v3m0 42v9m0 24v5m6-5v5m4 11v10m1-187v3m0 18v3m0 153v10m1-157v3m0 175v10m1-197v6m1-33v3m0 3v3m0 9v3m0 3v9m1-39v3m0 6v3m0 3v3m0 3v3m0 3v3m1-30v3m0 18v6m0 203v10m1-216v3m1-27v3m0 12v3m0 3v3m0 3v9m1-30v3m0 6v3m0 6v3m0 3v6m2-9v3m3 190v10"/><path stroke="#ff8400" stroke-width="1" d="M116.5 466v10m2-31v10m4 11v10m1-10v10m3 0v10m7-31v11m2 10v10m9-10v10m2-20v10m3-226v3m0 3v3m0 15v3m0 189v10m2-47v5m2 21v11m1 10v10m2-126v3m2 6v3m0 6v6m0 71v11m1-115v3m0 15v3m0 3v3m0 9v3m0 44v11m1-82v3m0 9v3m0 77v11m3-11v11m2 0v10m2-31v10m1 0v11m2 10v20m5-30v10m3 0v10m9 0v10m2-10v10m1-10v10m1-10v10m264-20v10m1-10v10m4-10v10m5 0v10m1-20v10m1-10v10m2 0v10m2-20v10m5-57v5m1-5v5m2-5v5m6-5v5m1-5v5m1-104v3m0 96v5m3-5v5m1-5v5m2 42v10m1-10v10m4-10v10m3-20v10m16 0v10m2 0v10m1-20v10m5-31v11m1 0v20m1-10v10m8-171v3m0 3v3m0 24v6m0 6v3m0 39v3m0 71v10m2-10v10m1-10v10m2-10v10m6-41v21m2 0v10m2-10v20m3-10v10m5 0v10m7-10v10m1-10v10m2-181v3m0 12v3m0 48v3m1 102v10m3-67v5m7-5v5m1-5v5m1-62v3m0 18v3m1-39v3m0 18v3m2 48v5m24 42v10m19-10v10m10-10v10m9-10v10m34-10v10m19-10v10m12-10v10m7-10v10m8 0v10m1-10v10m4-10v10m8-10v10m4-10v10m6-10v10m2-10v10m3-10v10m1-10v10m1-10v10m1-10v10m2-10v10m1-10v10m1-10v10m2-10v10m2-10v10m8-10v10m1-10v10m9-10v10m3-10v10m1-10v10m3-10v10m2-10v10m2-10v10m7-10v10m1-10v10m2-10v10m5-10v10m5-10v10m5-10v10m3-10v10m2-10v10m1-10v10m1-10v10m2-10v10m22-20v10m7-10v10m3-10v10m3-57v5m4-5v5m2-122v3m0 9v3m0 6v3m0 6v3m0 9v9m0 12v9m0 9v6m2-72v3m0 30v12m0 12v6m0 39v5m1-110v6m0 15v9m0 18v3m0 6v3m0 3v3m0 12v3m1-93v3m0 3v3m0 45v3m0 21v3m0 6v3m2-75v3m1 99v5m1-35v3m1-69v3m3 93v5m4 52v10m2-10v10m2-216v3m3-12v3m0 3v3m0 15v3m1-36v3m0 21v3m1-18v6m0 15v3m1-3v3m0 201v8m1-230v3m1-9v3"/><path stroke="#ff7600" stroke-width="1" d="M115.5 466v10m5-10v10m3 0v10m1 0v10m1-10v10m2-20v10m6-20v10m3-10v20m1-10v10m3-20v10m1-21v11m6-11v31m2-221v6m0 184v11m2-11v21m2-10v10m4-116v3m0 33v3m0 30v5m2-62v3m0 18v3m0 49v10m1-107v3m0 15v3m0 30v3m1-33v3m0 3v3m0 3v6m2 79v10m3-21v21m1-10v10m1-10v10m3-10v10m10 20v8m2-18v10m8 0v8m265-18v10m3 0v8m2-18v10m8-20v10m1 0v10m17-97v3m9 74v10m8-10v10m19-20v10m2-10v10m3-10v10m1-10v10m5 0v10m1-159v3m0 3v3m0 6v3m0 9v3m0 24v3m7 92v10m2-10v10m5-10v10m7 0v10m1-20v10m7 0v10m3-10v10m1-184v3m0 3v3m2 165v10m3-62v11m1-61v3m2 47v11m2-11v11m3-64v3m3 50v11m1 31v10m6 0v10m78-10v10m48-20v10m13 0v10m3-10v10m2-10v10m1-10v10m14-10v10m8-10v10m18-10v10m17-10v10m2-10v10m11-10v10m4-10v10m2-10v10m1-10v10m10-10v10m4-10v10m2-10v10m4-10v10m20-10v10m1-10v10m2-10v10m6-62v11m7-100v3m0 42v3m0 6v3m2-60v3m0 6v3m0 24v3m0 12v9m1-63v6m3 84v5m4-5v5m4 0v11m5 41v10m2-213v3m1 200v10m2-216v3m7 203v10m3-10v10"/><path stroke="#ff6700" stroke-width="1" d="M118.5 455v11m8 20v10m3-20v10m1-10v10m1-20v10m1-21v11m7 10v10m2-20v10m1-31v10m7-208v3m1 216v10m7-137v3m1 15v3m0 12v6m0 6v3m0 3v3m0 6v3m0 43v10m1-77v6m0 82v10m1-98v3m0 85v10m1-104v3m0 21v6m1-15v3m0 76v10m2 0v10m8-20v10m2-10v10m5 10v10m5-10v10m4 0v8m270-18v10m4-10v10m1 0v8m3-18v10m1-10v10m20-62v11m2-11v11m7 21v10m3 0v10m8 0v10m2-20v10m2-20v10m3 0v20m1-20v10m7-10v10m6-10v10m2-20v10m5-164v3m0 3v3m0 3v3m0 9v3m0 24v3m0 3v12m0 3v18m6 74v10m6-20v10m5 0v10m8 0v10m1-10v10m1-10v10m6-10v10m3-10v10m1-62v11m1 0v10m4-21v11m4-61v3m0 3v3m0 36v5m1 0v21m1-21v11m1 0v10m4 31v10m8-10v10m7-10v10m2-10v10m8-10v10m1-10v10m1-10v10m4-10v10m2-10v10m33-10v10m1-10v10m7-10v10m23-10v10m1-10v10m6-10v10m5-10v10m10-10v10m2-10v10m1-10v10m67-10v10m1-10v10m29-10v10m1-10v10m3-10v10m4-10v10m15-10v10m1-10v10m1-10v10m4-10v10m2-10v10m2-10v10m9-10v10m3-10v10m3-10v10m2-10v10m1-10v10m1-10v10m2-10v10m8-145v3m0 30v6m0 12v3m2-57v3m0 24v3m0 3v3m1-72v12m0 6v9m0 60v3m1-18v3m0 9v3m9 35v11m4 51v8m7-18v10m9-10v10"/><path stroke="#ff5800" stroke-width="1" d="M114.5 486v18m4-38v10m1-10v10m1 0v10m1-20v10m6 10v10m11-20v10m4-31v11m1-11v11m2 20v18m1-28v10m2-20v10m7 0v10m1-20v10m1-21v11m1-106v3m0 66v5m0 32v10m1-113v3m0 18v3m0 9v6m0 27v5m0 42v10m1-102v3m0 6v3m0 33v5m1-44v3m0 83v10m1-10v10m2-20v10m1 0v10m1-10v10m2-10v10m1-10v10m2-10v10m7 0v10m2 0v8m10-8v8m267-18v10m3-10v10m1 0v8m3-18v10m7-10v10m1-10v10m3-62v11m4-11v21m5-10v10m1-21v11m3-11v32m1-21v10m1-21v21m7 31v10m3-30v10m2 0v10m8-10v10m2-20v10m4 0v10m2 0v10m3-10v10m3-30v10m2 10v10m5-20v10m2-10v10m2 0v10m8-20v10m3-20v10m2 0v10m7 0v10m2 0v8m6-18v10m11-62v11m0 10v11m1-32v11m2 0v10m0 11v10m1-31v10m1-10v10m1-21v21m1-21v11m3 21v10m3 10v10m3-10v10m2-10v10m1-10v10m4-10v10m1-10v10m4-10v10m2-10v10m2-10v10m1-10v10m9-10v10m1-10v10m1-10v10m2-10v10m2-10v10m2-10v10m1-10v10m2-10v10m1-10v10m4-10v10m1-10v10m1-10v10m1-10v10m5-10v10m1-10v10m8-10v10m4-10v10m7-10v10m1-10v10m2-10v10m1-10v10m2-10v10m5-10v10m1-10v10m2-10v10m1-10v10m1-10v10m1-10v10m1-10v10m5-10v10m1-10v10m4-10v10m1-10v10m1-10v10m1-10v10m2-10v10m1-10v10m2-10v10m5-10v10m1-10v10m1-10v10m1-10v10m1-10v10m1-10v10m2-10v10m4-10v10m7-10v10m1-10v10m1-10v10m2-10v10m2-10v10m13 0v8m3-8v8m40-8v8m16-8v8m37-18v10m3-10v10m2-10v10m3-10v10m1-10v10m1-10v10m6-10v10m1-10v10m9-10v10m7-62v11m1-11v11m1-11v11m3-11v11m2-11v11m4-11v11m2-16v5m3 32v10m1-42v21m6 31v10m2-10v10m5 0v8m1-8v8m1-8v8m5-18v10"/><path stroke="#ff4a00" stroke-width="1" d="M124.5 496v8m8-38v20m6 0v10m3-20v10m1-20v10m2 10v10m2-10v10m2-20v10m4-20v10m2 10v10m2-20v10m2-99v3m1 65v11m1-79v6m0 83v10m1-99v3m2 86v10m6 10v8m1-8v8m7-28v10m8 0v10m1-10v10m1 0v8m268-18v10m3 0v8m10-18v18m4-8v8m2-18v10m1-51v31m1-42v11m1-11v11m3-11v11m1 0v21m1-32v42m1-42v11m1-11v11m1 0v10m1-21v11m1 0v10m2 0v11m8 30v8m6-28v10m3 0v10m1 0v8m1-18v10m5-20v10m2 0v10m2-10v10m2 0v8m3-18v10m1-20v10m2-10v10m4-10v10m3-10v10m2 0v10m8-10v10m3-20v10m2-10v10m2 0v10m5-10v10m3-10v10m15-51v21m1 0v10m1-10v10m2-31v31m3-42v11m0 10v11m3 0v20m1-41v10m1 0v11m0 10v10m1 0v10m1-10v10m3-10v10m5-10v10m1-10v10m5-10v10m1-10v10m8-10v10m2-10v10m1-10v10m11-10v10m3-10v10m4-10v10m1-10v10m5-10v10m1-10v10m1-10v10m1-10v10m3-10v10m1-10v10m1-10v10m1-10v10m2-10v10m1-10v10m2-10v10m7-10v10m1-10v10m7-10v10m2-10v10m1-10v10m2-10v10m3-10v10m6-10v10m1-10v10m2-10v10m5-10v10m8-10v10m3-10v10m2-10v10m11-10v10m2-10v10m5-10v10m4-10v10m2-10v10m16 0v8m3-8v8m5-8v8m1-8v8m4-8v8m5-8v8m4-8v8m4-8v8m2-8v8m3-8v8m9-8v8m18-8v8m43-18v10m6-10v10m1-10v10m14-51v10m1-10v21m1-11v11m1-32v21m5-21v11m7-11v11m4-11v11m1 0v10m1-10v21m1-11v11m5 20v10m5 0v8m2-8v8m1-18v10m4-10v10"/><path stroke="#ff3b00" stroke-width="1" d="M114.5 476v10m11 10v8m8-28v10m7-10v10m7 0v10m3-20v10m2-10v10m1-10v10m4-20v10m1-83v3m3-3v3m2 100v8m2-8v8m8-49v21m6 20v8m278-8v8m5-8v8m2-8v8m2-8v8m7-8v8m1-8v8m2-59v10m1 21v10m1-52v11m2 0v21m1-32v11m2 0v31m1-21v11m2-21v10m3 11v10m3-42v11m0 10v11m2 20v10m1-10v10m13 0v8m1-18v10m3-20v10m9 10v8m3-28v10m1 0v10m2-10v10m3-20v10m9 0v10m1-10v18m1-18v10m5-20v10m7 0v18m3-8v8m16-38v10m1-21v11m0 10v10m1-41v10m1-10v41m1-10v10m1-31v11m0 10v10m1-31v11m0 10v10m3-20v10m1-21v11m1-11v11m16 20v10m9-10v10m2-10v10m19-10v10m17-10v10m5-10v10m1-10v10m4-10v10m3-10v10m22-10v10m18-10v10m15-10v10m1-10v10m1-10v10m1-10v10m12 0v8m1-8v8m12-8v8m5-8v8m5-8v8m9-8v8m3-8v8m5-8v8m1-8v8m5-8v8m1-8v8m3-8v8m3-8v8m3-8v8m2-8v8m12-8v8m4-8v8m2-8v8m9-8v8m4-8v8m3-8v8m4-8v8m1-8v8m9-18v10m10-10v10m1-10v10m6 0v8m1-8v8m10-70v11m0 21v10m1-42v11m0 31v10m2-52v21m1-10v10m2-10v10m1-10v21m1-32v11m1 10v11m1-32v21m1-10v10m3 0v11m1-21v10m3-10v10m1 0v11m0 10v10m2-20v10m1 20v8m3-8v8m11-18v10m3 0v8"/><path stroke="#ff2c00" stroke-width="1" d="M115.5 476v10m4-10v10m1 0v10m1-20v10m1-10v10m4 10v8m2-18v18m3-28v10m8 0v10m4-30v10m6 0v20m2-20v10m3 10v8m1-8v8m2-28v10m1-10v10m2-90v3m0 87v10m1-10v18m1-18v10m1-10v10m1-10v10m5-10v10m2-10v10m1-20v10m2-10v10m2-10v10m289 10v8m2-8v8m9-49v11m1-21v10m0 11v10m1-31v10m1 0v21m1-10v20m2-10v10m3-31v11m1 0v10m1-21v11m1 0v20m2-31v21m1-42v11m1 0v10m0 11v20m1 0v10m5-10v10m3-20v10m2 0v10m2-10v10m5-10v10m3-10v10m3-10v10m4-10v10m10-10v10m1-10v10m5-10v10m1-10v10m13-10v10m2-10v10m2 0v8m5-8v8m5-8v8m1-8v8m1-8v8m1-8v8m1-8v8m1-8v8m3-28v10m2-10v10m2 0v10m1-10v10m1-30v10m1 0v20m1-41v21m1-31v21m2 0v10m10 20v8m9-8v8m3-8v8m16-8v8m106-8v8m1-8v8m4-8v8m1-8v8m3-8v8m1-8v8m2-8v8m5-8v8m1-8v8m1-8v8m4-8v8m4-8v8m1-8v8m2-8v8m2-8v8m1-8v8m7-8v8m6-8v8m1-8v8m3-8v8m7-8v8m2-8v8m2-8v8m1-8v8m3-8v8m1-8v8m3-8v8m4-8v8m1-8v8m1-8v8m2-8v8m2-8v8m1-8v8m1-8v8m1-8v8m1-8v8m1-8v8m2-8v8m3-8v8m1-8v8m2-8v8m1-8v8m4-8v8m3-8v8m2-8v8m2-8v8m23-8v8m1-8v8m1-8v8m2-8v8m4-49v11m0 10v10m1 0v10m1-51v10m0 11v10m1-21v11m1 0v10m2-31v10m1 0v11m0 10v10m1-20v20m1-41v10m1-10v10m0 11v10m0 10v10m3-62v11m1-11v21m1-10v10m0 31v10m1-41v11m0 10v10m1-52v32m2-11v11m1 0v10m0 20v8m1-28v20m1-10v18m17-8v8"/><path stroke="#ff1d00" stroke-width="1" d="M117.5 466v10m2 10v18m4-18v10m6-10v10m8 0v8m1-8v8m1-8v8m4-28v10m3 10v8m2-18v10m2-10v10m1-10v10m1-10v10m1-10v10m2-10v10m7 0v8m2-8v8m1-18v10m1-10v10m1-20v20m1-10v10m3 0v8m15-8v8m270-8v8m4-8v8m9-8v8m2-8v8m4-28v20m1-30v20m1-31v11m4 0v30m1-10v10m1-20v10m1-20v20m2-31v11m1 0v20m1 0v18m1-28v10m1-10v10m1-41v10m0 11v10m3 20v8m1-8v8m1-18v18m2-8v8m1-18v10m6 0v8m6-28v10m3 10v8m4-8v8m2-8v8m18-18v10m5-10v10m1-10v10m4-10v10m3-10v10m4 0v8m3-8v8m3-8v8m1-8v8m9-8v8m1-18v10m1-10v10m5-10v10m1-30v10m1 10v10m1-20v10m2-10v20m1-10v10m2 0v8m1-8v8m1-8v8m1-8v8m1-8v8m1-8v8m13-8v8m5-8v8m4-8v8m1-8v8m1-8v8m1-8v8m1-8v8m2-8v8m1-8v8m5-8v8m3-8v8m4-8v8m1-8v8m21-8v8m1-8v8m7-8v8m1-8v8m1-8v8m4-8v8m1-8v8m10-8v8m5-8v8m2-8v8m2-8v8m2-8v8m1-8v8m1-8v8m1-8v8m1-8v8m6-8v8m2-8v8m6-8v8m1-8v8m1-8v8m2-8v8m9-8v8m5-8v8m5-8v8m3-8v8m1-8v8m16-8v8m5-8v8m7-8v8m2-8v8m7-8v8m6-8v8m5-8v8m7-8v8m4-8v8m1-8v8m17-8v8m10-8v8m1-8v8m9-8v8m1-8v8m4-8v8m3-8v8m1-8v8m7-8v8m2-8v8m1-8v8m6-8v8m2-8v8m1-8v8m1-8v8m1-38v10m1 0v10m1 0v10m1-30v20m1-31v11m1 0v20m1-31v21m0 10v10m1-10v10m2-41v21m1 0v10m1-31v11m1-11v21m1-31v21m2 0v10m3-42v11m2 41v10m2-20v10m3 10v8m13-8v8"/><path stroke="#ff0f00" stroke-width="1" d="M115.5 496v8m3-28v10m9 10v8m3-18v10m3-10v10m1 0v8m1-18v18m1-18v10m1-10v10m7 0v8m3-8v8m5-8v8m4-18v10m19-20v10m7 10v8m1-8v8m287-8v8m5-8v8m3-49v21m1 0v10m0 10v8m1-18v10m3-10v10m1-10v18m1-38v20m1 0v10m1-10v10m2-10v18m1-18v10m1-41v11m0 10v20m1-10v18m10-18v10m4 0v8m9-8v8m7-8v8m11-18v10m1 0v8m2-8v8m1-8v8m1-8v8m1-8v8m2-8v8m1-8v8m1-8v8m1-8v8m1-18v10m4 0v8m11-8v8m3-8v8m7-8v8m3-8v8m1-18v18m1-18v10m2 0v8m3-8v8m2-18v10m2 0v8m1-8v8m9-8v8m1-8v8m1-8v8m2-8v8m2-8v8m3-8v8m3-8v8m1-8v8m5-8v8m6-8v8m5-8v8m1-8v8m2-8v8m1-8v8m3-8v8m4-8v8m1-8v8m1-8v8m3-8v8m1-8v8m1-8v8m2-8v8m2-8v8m2-8v8m2-8v8m2-8v8m6-8v8m2-8v8m1-8v8m1-8v8m4-8v8m2-8v8m3-8v8m1-8v8m5-8v8m1-8v8m1-8v8m2-8v8m5-8v8m4-8v8m6-8v8m1-8v8m1-8v8m1-8v8m1-8v8m4-8v8m1-8v8m2-8v8m1-8v8m4-8v8m2-8v8m5-8v8m1-8v8m4-8v8m2-8v8m66-8v8m24-8v8m13-8v8m7-8v8m3-8v8m1-8v8m4-8v8m6-8v8m14-8v8m1-8v8m1-8v8m1-18v10m1-41v11m1 30v8m1-38v10m1 20v8m1-18v10m2-30v38m1-18v10m2-41v31m1-10v10m0 10v8m1-38v10m1-10v10m2-10v10m2 20v8m8-8v8m13-8v8"/><path stroke="#ff0000" stroke-width="1" d="M115.5 486v10m1-20v28m1-28v28m1-18v18m2-8v8m1-18v18m1-18v18m1-8v8m6-8v8m1-8v8m1-18v18m1-18v18m1-8v8m1-18v10m2 0v8m4-18v18m1-18v18m1-28v28m1-18v18m5-8v8m1-8v8m1-8v8m1-8v8m2-8v8m3-8v8m1-18v18m1-18v18m1-18v18m1-8v8m6-8v8m1-8v8m1-8v8m4-18v18m1-28v28m1-18v18m1-18v18m1-18v18m1-18v18m1-8v8m6-8v8m1-8v8m270-8v8m21-18v18m1-18v18m1-28v28m1-18v10m1 0v8m1-8v8m1-8v8m1-8v8m2-18v18m1-28v10m0 10v8m1-8v8m3-8v8m1-8v8m2-8v8m6-8v8m1-28v28m1-18v18m1-8v8m1-8v8m1-18v18m5-8v8m1-8v8m1-18v18m1-18v18m1-8v8m3-8v8m1-8v8m6-18v18m1-18v18m1-8v8m1-8v8m1-8v8m1-18v18m1-18v18m1-8v8m1-8v8m1-18v18m1-8v8m2-8v8m10-8v8m1-18v18m1-18v18m1-8v8m2-8v8m1-8v8m1-8v8m20-8v8m3-8v8m1-8v8m2-8v8m1-8v8m1-28v10m1 0v18m1-8v8m1-8v8m9-8v8m5-8v8m2-8v8m2-8v8m7-8v8m2-8v8m1-8v8m11-8v8m7-8v8m2-8v8m6-8v8m1-8v8m4-8v8m2-8v8m2-8v8m2-8v8m2-8v8m2-8v8m1-8v8m3-8v8m2-8v8m8-8v8m6-8v8m1-8v8m1-8v8m1-8v8m6-8v8m1-8v8m1-8v8m4-8v8m14-8v8m4-8v8m9-8v8m1-8v8m1-8v8m1-8v8m3-8v8m2-8v8m2-8v8m106-8v8m4-8v8m2-8v8m6-8v8m2-8v8m1-8v8m1-8v8m1-8v8m15-18v18m3-18v10m1-20v10m0 10v8m1-18v18m1-28v10m1 10v8m1-18v10m1-20v10m0 10v8m1-8v8m2-28v10m0 10v8m1-38v38m1-18v18m2-18v18m1-28v28m1-59v59m1-28v28m8-8v8m1-8v8m2-8v8m1-8v8m10-8v8"/></g><g fill="none" stroke="#ff00ff" stroke-width="1.7"><path d="M137.7 52.0C140.1 54.8 147.8 63.7 152.0 68.9C156.2 74.1 159.2 78.3 162.9 83.1C166.6 87.8 170.2 93.0 173.9 97.4C177.6 101.8 181.2 105.7 184.9 109.5C188.6 113.3 192.2 116.9 195.8 120.4C199.5 123.9 203.1 127.2 206.8 130.3C210.5 133.4 214.1 136.2 217.8 139.1C221.5 142.0 225.2 145.2 228.8 147.9C232.5 150.6 236.0 153.1 239.7 155.5C243.3 157.9 247.0 159.9 250.7 162.1C254.4 164.3 258.0 166.7 261.7 168.7C265.4 170.7 268.5 172.2 272.7 174.2C276.9 176.2 284.5 179.7 286.9 180.8"/><path d="M445.0 210.0C454.2 209.8 484.2 209.8 500.0 209.0C515.8 208.2 526.7 206.6 540.0 205.0C553.3 203.4 563.3 201.8 580.0 199.5C596.7 197.2 621.7 194.7 640.0 191.4C658.3 188.2 675.8 183.6 690.0 180.0C704.2 176.4 713.3 174.0 725.0 170.0C736.7 166.0 747.5 161.5 760.0 156.0C772.5 150.5 788.3 142.6 800.0 137.0C811.7 131.4 818.3 129.2 830.0 122.5C841.7 115.8 856.2 106.5 870.0 97.0C883.8 87.5 905.8 70.8 913.0 65.5"/></g>
<g fill="#000" shape-rendering="crispEdges">
<rect x="90" y="51" width="864" height="1"/>
<rect x="90" y="405" width="864" height="1"/>
<rect x="90" y="51" width="1" height="355"/>
<rect x="953" y="51" width="1" height="355"/>
<rect x="90" y="428" width="864" height="1"/>
<rect x="90" y="504" width="864" height="1"/>
<rect x="90" y="428" width="1" height="77"/>
<rect x="953" y="428" width="1" height="77"/>
<rect x="81" y="405" width="10" height="1"/>
<rect x="86" y="375" width="5" height="1"/>
<rect x="86" y="358" width="5" height="1"/>
<rect x="86" y="346" width="5" height="1"/>
<rect x="86" y="337" width="5" height="1"/>
<rect x="86" y="329" width="5" height="1"/>
<rect x="86" y="322" width="5" height="1"/>
<rect x="86" y="316" width="5" height="1"/>
<rect x="86" y="311" width="5" height="1"/>
<rect x="81" y="307" width="10" height="1"/>
<rect x="86" y="277" width="5" height="1"/>
<rect x="86" y="260" width="5" height="1"/>
<rect x="86" y="248" width="5" height="1"/>
<rect x="86" y="239" width="5" height="1"/>
<rect x="86" y="231" width="5" height="1"/>
<rect x="86" y="224" width="5" height="1"/>
<rect x="86" y="218" width="5" height="1"/>
<rect x="86" y="213" width="5" height="1"/>
<rect x="81" y="209" width="10" height="1"/>
<rect x="86" y="179" width="5" height="1"/>
<rect x="86" y="162" width="5" height="1"/>
<rect x="86" y="150" width="5" height="1"/>
<rect x="86" y="141" width="5" height="1"/>
<rect x="86" y="133" width="5" height="1"/>
<rect x="86" y="126" width="5" height="1"/>
<rect x="86" y="120" width="5" height="1"/>
<rect x="86" y="115" width="5" height="1"/>
<rect x="81" y="111" width="10" height="1"/>
<rect x="86" y="81" width="5" height="1"/>
<rect x="86" y="64" width="5" height="1"/>
<rect x="86" y="52" width="5" height="1"/>
<rect x="86" y="502" width="5" height="1"/>
<rect x="86" y="494" width="5" height="1"/>
<rect x="86" y="489" width="5" height="1"/>
<rect x="86" y="484" width="5" height="1"/>
<rect x="86" y="481" width="5" height="1"/>
<rect x="86" y="478" width="5" height="1"/>
<rect x="86" y="475" width="5" height="1"/>
<rect x="86" y="473" width="5" height="1"/>
<rect x="81" y="471" width="10" height="1"/>
<rect x="86" y="458" width="5" height="1"/>
<rect x="86" y="451" width="5" height="1"/>
<rect x="86" y="445" width="5" height="1"/>
<rect x="86" y="441" width="5" height="1"/>
<rect x="86" y="438" width="5" height="1"/>
<rect x="86" y="435" width="5" height="1"/>
<rect x="86" y="432" width="5" height="1"/>
<rect x="86" y="430" width="5" height="1"/>
<rect x="81" y="428" width="10" height="1"/>
<rect x="103" y="504" width="1" height="10"/>
<rect x="134" y="504" width="1" height="5"/>
<rect x="166" y="504" width="1" height="5"/>
<rect x="198" y="504" width="1" height="5"/>
<rect x="229" y="504" width="1" height="10"/>
<rect x="261" y="504" width="1" height="5"/>
<rect x="292" y="504" width="1" height="5"/>
<rect x="324" y="504" width="1" height="5"/>
<rect x="355" y="504" width="1" height="10"/>
<rect x="387" y="504" width="1" height="5"/>
<rect x="418" y="504" width="1" height="5"/>
<rect x="450" y="504" width="1" height="5"/>
<rect x="481" y="504" width="1" height="10"/>
<rect x="513" y="504" width="1" height="5"/>
<rect x="544" y="504" width="1" height="5"/>
<rect x="576" y="504" width="1" height="5"/>
<rect x="608" y="504" width="1" height="10"/>
<rect x="639" y="504" width="1" height="5"/>
<rect x="671" y="504" width="1" height="5"/>
<rect x="702" y="504" width="1" height="5"/>
<rect x="734" y="504" width="1" height="10"/>
<rect x="765" y="504" width="1" height="5"/>
<rect x="797" y="504" width="1" height="5"/>
<rect x="828" y="504" width="1" height="5"/>
<rect x="860" y="504" width="1" height="10"/>
<rect x="891" y="504" width="1" height="5"/>
<rect x="923" y="504" width="1" height="5"/>
<rect x="979" y="52" width="1" height="354"/>
<rect x="979" y="52" width="10" height="1"/>
<rect x="979" y="87" width="5" height="1"/>
<rect x="979" y="123" width="10" height="1"/>
<rect x="979" y="158" width="5" height="1"/>
<rect x="979" y="193" width="10" height="1"/>
<rect x="979" y="228" width="5" height="1"/>
<rect x="979" y="264" width="10" height="1"/>
<rect x="979" y="299" width="5" height="1"/>
<rect x="979" y="334" width="10" height="1"/>
<rect x="979" y="370" width="5" height="1"/>
<rect x="979" y="405" width="10" height="1"/>
<rect x="979" y="428" width="1" height="77"/>
<rect x="979" y="428" width="5" height="1"/>
<rect x="979" y="436" width="5" height="1"/>
<rect x="979" y="443" width="5" height="1"/>
<rect x="979" y="451" width="5" height="1"/>
<rect x="979" y="458" width="10" height="1"/>
<rect x="979" y="466" width="5" height="1"/>
<rect x="979" y="474" width="5" height="1"/>
<rect x="979" y="481" width="5" height="1"/>
<rect x="979" y="489" width="5" height="1"/>
<rect x="979" y="497" width="10" height="1"/>
<rect x="979" y="504" width="5" height="1"/>
</g>
<rect x="966" y="53" width="13" height="353" fill="url(#cb)"/>
<rect x="966" y="429" width="13" height="76" fill="url(#cb)"/>
<g font-family="Liberation Sans, sans-serif" font-size="13px" fill="#000" stroke="#fff" stroke-width="0.18">
<text transform="translate(521.3,31) scale(1,1.08)" text-anchor="middle" textLength="485" lengthAdjust="spacing" xml:space="preserve">DE 1/PWI-SFC  Spin Plane E-Field Spectra, 200 meter antenna, 104 Hz to 409 kHz</text>
<text transform="translate(521.5,43.8) scale(1,1.08)" text-anchor="middle" font-size="9px" textLength="125.5" lengthAdjust="spacing" stroke="none">(Magenta Line: Fce in Hz)</text>
<text transform="translate(521.8,418.6) scale(1,1.08)" text-anchor="middle" textLength="480" lengthAdjust="spacing" xml:space="preserve">DE 1/PWI-LFC  Spin Plane E-Field Spectra, 200 meter antenna, 1.78 Hz to 100 Hz</text>
<text transform="translate(77,118.5) scale(1,1.08)" text-anchor="end">10<tspan dy="-5.4">5</tspan></text>
<text transform="translate(77,216.5) scale(1,1.08)" text-anchor="end">10<tspan dy="-5.4">4</tspan></text>
<text transform="translate(77,314.5) scale(1,1.08)" text-anchor="end">10<tspan dy="-5.4">3</tspan></text>
<text transform="translate(77,412.5) scale(1,1.08)" text-anchor="end">10<tspan dy="-5.4">2</tspan></text>
<text transform="translate(77,435.5) scale(1,1.08)" text-anchor="end">10<tspan dy="-5.4">2</tspan></text>
<text transform="translate(77,478.5) scale(1,1.08)" text-anchor="end">10<tspan dy="-5.4">1</tspan></text>
<text transform="translate(47,228.3) rotate(-90) scale(1,1.08)" text-anchor="middle">Frequency (Hz)</text>
<text transform="translate(47,466) rotate(-90) scale(1,1.08)" text-anchor="middle">Freq (Hz)</text>
<text transform="translate(991.6,59.8) scale(1,1.08)" text-anchor="start">10<tspan dy="-5.4">-6</tspan></text>
<text transform="translate(991.6,130.4) scale(1,1.08)" text-anchor="start">10<tspan dy="-5.4">-8</tspan></text>
<text transform="translate(991.6,201.0) scale(1,1.08)" text-anchor="start">10<tspan dy="-5.4">-10</tspan></text>
<text transform="translate(991.6,271.59999999999997) scale(1,1.08)" text-anchor="start">10<tspan dy="-5.4">-12</tspan></text>
<text transform="translate(991.6,342.2) scale(1,1.08)" text-anchor="start">10<tspan dy="-5.4">-14</tspan></text>
<text transform="translate(991.6,412.8) scale(1,1.08)" text-anchor="start">10<tspan dy="-5.4">-16</tspan></text>
<text transform="translate(991.6,465.8) scale(1,1.08)" text-anchor="start">10<tspan dy="-5.4">-10</tspan></text>
<text transform="translate(991.6,504.0) scale(1,1.08)" text-anchor="start">10<tspan dy="-5.4">-15</tspan></text>
<text transform="translate(1049.6,227.7) rotate(-90) scale(1,1.08)" text-anchor="middle" word-spacing="1.6">Ex (V<tspan dy="-5.4">2</tspan><tspan dy="5.4"> m</tspan><tspan dy="-5.4">-2</tspan><tspan dy="5.4"> Hz</tspan><tspan dy="-5.4">-1</tspan><tspan dy="5.4">)</tspan></text>
<text transform="translate(1042.5,466) rotate(-90) scale(1,1.08)" text-anchor="middle">LFC Ex</text>
<text transform="translate(118.7,530.2) scale(1,1.08)" text-anchor="end">06:00</text>
<text transform="translate(118.7,546.2) scale(1,1.08)" text-anchor="end">1.150</text>
<text transform="translate(118.7,562.2) scale(1,1.08)" text-anchor="end">3.532</text>
<text transform="translate(118.7,578.2) scale(1,1.08)" text-anchor="end">12.113</text>
<text transform="translate(118.7,594.2) scale(1,1.08)" text-anchor="end">51.096</text>
<text transform="translate(244.9,530.2) scale(1,1.08)" text-anchor="end">07:00</text>
<text transform="translate(244.9,546.2) scale(1,1.08)" text-anchor="end">2.994</text>
<text transform="translate(244.9,562.2) scale(1,1.08)" text-anchor="end">3.965</text>
<text transform="translate(244.9,578.2) scale(1,1.08)" text-anchor="end">23.372</text>
<text transform="translate(244.9,594.2) scale(1,1.08)" text-anchor="end">29.549</text>
<text transform="translate(371.0,530.2) scale(1,1.08)" text-anchor="end">08:00</text>
<text transform="translate(497.2,530.2) scale(1,1.08)" text-anchor="end">09:00</text>
<text transform="translate(497.2,546.2) scale(1,1.08)" text-anchor="end">4.636</text>
<text transform="translate(497.2,562.2) scale(1,1.08)" text-anchor="end">5.156</text>
<text transform="translate(497.2,578.2) scale(1,1.08)" text-anchor="end">23.862</text>
<text transform="translate(497.2,594.2) scale(1,1.08)" text-anchor="end">-18.169</text>
<text transform="translate(623.4,530.2) scale(1,1.08)" text-anchor="end">10:00</text>
<text transform="translate(623.4,546.2) scale(1,1.08)" text-anchor="end">4.529</text>
<text transform="translate(623.4,562.2) scale(1,1.08)" text-anchor="end">7.087</text>
<text transform="translate(623.4,578.2) scale(1,1.08)" text-anchor="end">0.156</text>
<text transform="translate(623.4,594.2) scale(1,1.08)" text-anchor="end">-36.349</text>
<text transform="translate(749.5,530.2) scale(1,1.08)" text-anchor="end">11:00</text>
<text transform="translate(749.5,546.2) scale(1,1.08)" text-anchor="end">3.816</text>
<text transform="translate(749.5,562.2) scale(1,1.08)" text-anchor="end">13.766</text>
<text transform="translate(749.5,578.2) scale(1,1.08)" text-anchor="end">0.765</text>
<text transform="translate(749.5,594.2) scale(1,1.08)" text-anchor="end">-57.407</text>
<text transform="translate(875.7,530.2) scale(1,1.08)" text-anchor="end">12:00</text>
<text transform="translate(875.7,546.2) scale(1,1.08)" text-anchor="end">2.346</text>
<text transform="translate(875.7,562.2) scale(1,1.08)" text-anchor="end">36.865</text>
<text transform="translate(875.7,578.2) scale(1,1.08)" text-anchor="end">8.091</text>
<text transform="translate(875.7,594.2) scale(1,1.08)" text-anchor="end">-77.291</text>
<text transform="translate(60,546.2) scale(1,1.08)" text-anchor="end">R<tspan font-size="8.5px" dy="3" stroke="none">e</tspan></text>
<text transform="translate(60,562.2) scale(1,1.08)" text-anchor="end">L</text>
<text transform="translate(60,578.2) scale(1,1.08)" text-anchor="end">M<tspan font-size="8.5px" dy="3" stroke="none">LT</tspan></text>
<text transform="translate(60,594.2) scale(1,1.08)" text-anchor="end">M<tspan font-size="8.5px" dy="3" stroke="none">LAT</tspan></text>
<text transform="translate(521.3,612) scale(1,1.08)" text-anchor="middle">1983-09-08 (251) 5:54 to 12:44</text>
</g>
</svg></body></html>
